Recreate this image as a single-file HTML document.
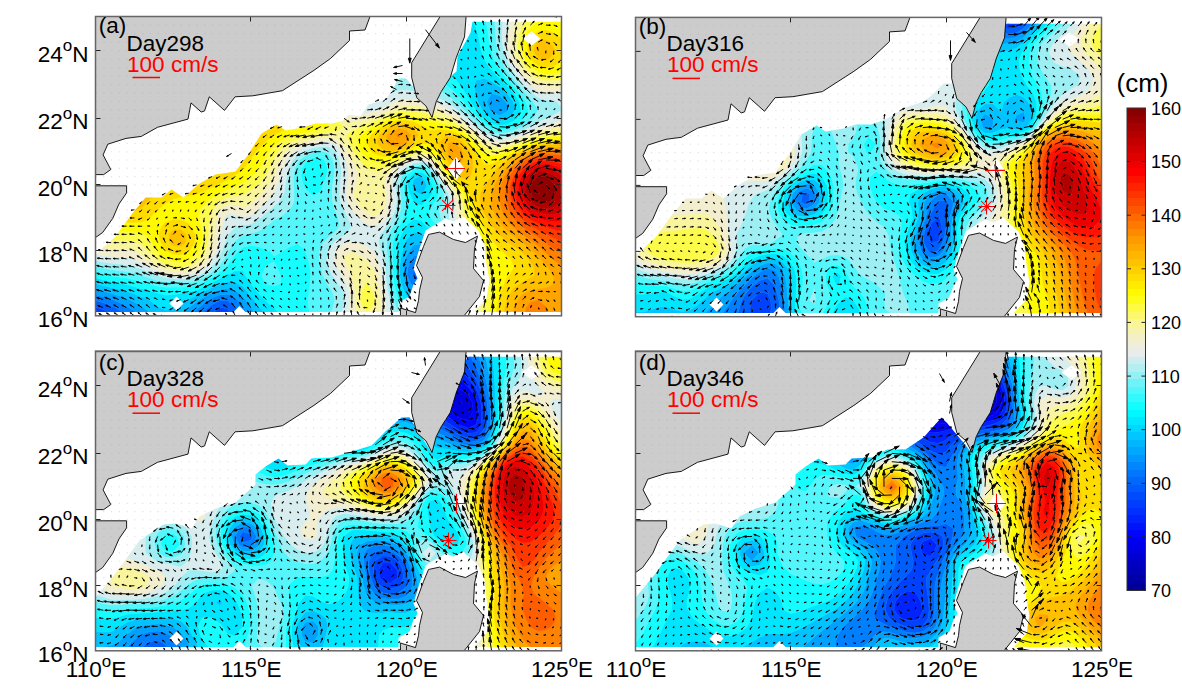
<!DOCTYPE html>
<html><head><meta charset="utf-8"><title>SSH and surface currents</title>
<style>html,body{margin:0;padding:0;background:#fff}body{width:1182px;height:690px;overflow:hidden}svg{display:block}text{font-family:"Liberation Sans",sans-serif;fill:#000}</style></head><body>
<svg width="1182" height="690" viewBox="0 0 1182 690">
<rect width="1182" height="690" fill="#fff"/>
<g transform="translate(95.5,16.5)">
<clipPath id="ma"><path d="M0.0,238.0 20.0,220.0 36.0,198.0 50.0,181.0 66.0,181.0 76.0,173.0 88.0,181.0 104.0,167.0 120.0,158.0 140.0,155.0 152.0,139.0 166.0,117.0 181.0,108.0 190.0,114.0 208.0,111.0 220.0,107.0 236.0,107.0 247.0,104.6 253.0,98.6 265.5,99.6 272.6,88.4 289.8,83.3 296.0,75.2 303.0,62.0 310.0,62.0 318.0,70.0 336.0,101.0 338.0,85.0 343.0,75.0 352.0,62.0 361.0,55.0 362.0,39.7 375.0,16.3 377.0,5.0 466.0,5.0 466.0,295.6 0.0,295.6Z"/></clipPath>
<clipPath id="fa"><rect x="0" y="0" width="466" height="299.3"/></clipPath>
<rect x="0" y="0" width="466" height="299.3" fill="#fff"/>
<g clip-path="url(#ma)" stroke-width=".6">
<path fill="#0023fe" stroke="#0023fe" d="M3 299.3l-3 0l0-1z"/>
<path fill="#0041fe" stroke="#0041fe" d="M2.7 291.2l5.1 1.7l7.7 4l4 2.4l-4 0l-7.7 0l-4.8 0l-3-1l0-7.1l0-0.7zM124.3 291l2.7 0.2l5 1l5 7.1l-5 0l-7.7 0l-7.8 0l-1.9 0l1.9-1.9l7.3-6.2z"/>
<path fill="#005ffc" stroke="#005ffc" d="M326.2 248.9l1.9 1.7l2.3 8.1l-4.2 5.2l-7.8-2.4l-1.3-2.8l1.3-6.6l2.3-1.5zM7.8 286.2l7.7 3l4.2 2l3.6 2.1l7.8 5l1.4 1l-1.4 0l-7.8 0l-3.8 0l-4-2.4l-7.7-4l-5.1-1.7l-2.7-0.7l0-6.4zM116.5 288l7.8-4l7.7 0.1l7.8 5.6l1.3 1.5l4.7 8.1l-6 0l-2.8 0l-5-7.1l-5-1l-2.7-0.2l-0.5 0.2l-7.3 6.2l-1.9 1.9l-5.9 0l-4.7 0l4.7-4.6l3.5-3.5z"/>
<path fill="#0080fe" stroke="#0080fe" d="M318.4 239.6l7.8-2.3l7.8 4.6l0.4 0.5l4.2 8.2l1.1 8.1l-2.3 8.2l-3.4 4.4l-7.8 3l-7.8-2.9l-3.5-4.5l-3.6-8.2l1.2-8.1l4.1-8.2zM320.7 250.6l-2.3 1.5l-1.3 6.6l1.3 2.8l7.8 2.4l4.2-5.2l-2.3-8.1l-1.9-1.7zM7.8 280.2l7.7 2.4l1.4 0.5l6.4 2.7l7.8 3.8l2.8 1.6l4.9 3.3l6.5 4.8l-6.5 0l-6.3 0l-1.4-1l-7.8-5l-3.6-2.1l-4.2-2l-7.7-3l-7.8-2.1l0-1l0-4.9zM116.5 281.5l7.8-3.2l7.7-0.4l7.8 3.2l2.2 2l5.6 6.7l0.9 1.4l4.9 8.1l-5.8 0l-1.8 0l-4.7-8.1l-1.3-1.5l-7.8-5.6l-7.7-0.1l-7.8 4l-4.3 3.2l-3.5 3.5l-4.7 4.6l-3 0l-7.1 0l7.1-6.2l1.9-1.9l5.8-4.5l4.9-3.6z"/>
<path fill="#00a1ff" stroke="#00a1ff" d="M396.1 76.8l7.8 2.2l6.7 6l1 2.5l1.3 5.9l-1.3 1.8l-7.7 4l-7.8-3.9l-2-1.9l-2.9-8.4zM318.4 228.2l7.8-1l7.8 4.3l2.5 2.7l5.2 6.8l0.8 1.4l2.8 8.2l1 8.1l-1.2 8.2l-3.4 7.3l-0.5 0.8l-7.2 5.9l-7.8 1.2l-7.8-2.9l-3.9-4.2l-3.8-5l-1.3-3.1l-1.8-8.2l0.4-8.1l1.8-8.2l0.9-3l3.1-5.2zM316.6 242.4l-4.1 8.2l-1.2 8.1l3.6 8.2l3.5 4.5l7.8 2.9l7.8-3l3.4-4.4l2.3-8.2l-1.1-8.1l-4.2-8.2l-0.4-0.5l-7.8-4.6l-7.8 2.3zM7.8 274.5l1.8 0.5l5.9 1.7l7.8 2.4l7.8 2.8l3 1.2l4.7 2.4l7.8 4.6l1.6 1.1l6.2 4.6l4.8 3.5l-4.8 0l-7.8 0l-1.3 0l-6.5-4.8l-4.9-3.3l-2.8-1.6l-7.8-3.8l-6.4-2.7l-1.4-0.5l-7.7-2.4l-7.8-2l0-3.2l0-2.6zM124.3 273l7.7-1.2l7.8 1.8l1.9 1.4l5.9 5l2.5 3.1l5.2 7.7l0.4 0.4l5.8 8.1l-6.2 0l-1.9 0l-4.9-8.1l-0.9-1.4l-5.6-6.7l-2.2-2l-7.8-3.2l-7.7 0.4l-7.8 3.2l-2.9 1.6l-4.9 3.6l-5.8 4.5l-1.9 1.9l-7.1 6.2l-0.7 0l-7.8 0l-4.2 0l4.2-2.7l7.3-5.4l0.5-0.3l7.8-5.4l3.1-2.4l4.6-2.7l7.8-4.4l2.6-1z"/>
<path fill="#00c3ff" stroke="#00c3ff" d="M380.6 63.8l7.7-2l7.8 3.2l4.4 3.1l3.4 1.9l7.7 6.5l0.1 0.1l6.1 8.4l1.6 6.8l0.4 1.6l-0.4 0.7l-5 7.7l-2.8 1.6l-7.7 1.4l-7.8-2.4l-1-0.6l-6.8-6.7l-1.5-1.7l-4.6-8.4l-1.6-5.3l-1.2-3.1l-0.5-8.5zM391.2 85l2.9 8.4l2 1.9l7.8 3.9l7.7-4l1.3-1.8l-1.3-5.9l-1-2.5l-6.7-6l-7.8-2.2zM326.2 159.8l0.5 0.3l4.8 8.3l-3.5 8.3l-1.8 1.4l-3.4-1.4l-4.4-2.6l-1.9-5.7l1.9-5.8l5.3-2.5zM318.4 215.6l7.8 1.1l1.5 1.2l6.3 3.9l4 4.3l3.7 4l2.8 4.1l4.2 8.2l0.8 2.3l1.7 5.9l0.8 8.1l-0.7 8.2l-1.8 6.3l-0.7 1.8l-5.5 8.1l-1.6 1.7l-7.7 4.4l-7.8 0.6l-7.8-3l-3.9-3.7l-3.8-4.1l-2.1-4l-3.1-8.1l-1.5-8.2l0.2-8.1l1-8.2l1.8-8.2l2.6-8.1l1.1-2.8l4.9-5.4zM313.8 234.2l-3.1 5.2l-0.9 3l-1.8 8.2l-0.4 8.1l1.8 8.2l1.3 3.1l3.8 5l3.9 4.2l7.8 2.9l7.8-1.2l7.2-5.9l0.5-0.8l3.4-7.3l1.2-8.2l-1-8.1l-2.8-8.2l-0.8-1.4l-5.2-6.8l-2.5-2.7l-7.8-4.3l-7.8 1zM0.4 266.9l7.4 2.1l7.7 1.9l7.8 1.8l7.8 2l0.8 0.3l6.9 2.3l7.8 3.1l6.1 2.7l1.7 1l7.7 5.5l2.8 1.6l5 2l7.2-2l0.6-0.2l7.7-4.6l7-3.3l0.8-0.3l7.8-3.7l7.3-4.1l0.4-0.2l7.8-3.9l7.8-3.3l3.1-0.7l4.6-1.5l7.8 0.1l2.4 1.4l5.4 3.2l4.2 4.9l3.5 4.4l3 3.7l4.8 6.7l1.3 1.4l6.5 7.2l0.9 0.9l-0.9 0l-7.8 0l-1.6 0l-5.8-8.1l-0.4-0.4l-5.2-7.7l-2.5-3.1l-5.9-5l-1.9-1.4l-7.8-1.8l-7.7 1.2l-5.2 2l-2.6 1l-7.8 4.4l-4.6 2.7l-3.1 2.4l-7.8 5.4l-0.5 0.3l-7.3 5.4l-4.2 2.7l-3.5 0l-7.8 0l-7.8 0l-2.9 0l-4.8-3.5l-6.2-4.6l-1.6-1.1l-7.8-4.6l-4.7-2.4l-3-1.2l-7.8-2.8l-7.8-2.4l-5.9-1.7l-1.8-0.5l-7.8-2.1l0-5.5l0-0.2z"/>
<path fill="#00e6ff" stroke="#00e6ff" d="M310.7 0l7.7 0l7.8 0l7.8 0l7.7 0l7.8 0l7.8 0l7.7 0l7.8 0l3.3 0l3.4 8.6l1.1 2.5l1.7 6l1.9 8.6l1.7 8.5l2.4 6.2l0.7 2.3l5 8.5l2.1 1.9l5.5 6.6l2.3 1.8l6.5 6.6l1.2 1.1l6.6 7.4l1.2 1.6l4.5 6.8l2.1 8.4l-3.7 8.4l-2.9 2.2l-7.8 4.2l-7.7 1l-7.8-2.2l-7.8-5l-0.2-0.2l-7.5-8.3l-0.1-0.1l-5.8-8.4l-1.9-3.6l-3.3-4.8l-4.5-7.4l-0.9-1.1l-6.8-8.4l0-0.1l-7.8-7l-2.1-1.4l-5.7-4.2l-7.3-4.3l-0.4-0.3l-7.8-5.2l-5.1-3l-2.7-2.3l-6.9-6.2l-0.8-1.2l-4.2-7.4l-2.1-8.5l-0.1-8.6zM378.9 68.1l0.5 8.5l1.2 3.1l1.6 5.3l4.6 8.4l1.5 1.7l6.8 6.7l1 0.6l7.8 2.4l7.7-1.4l2.8-1.6l5-7.7l0.4-0.7l-0.4-1.6l-1.6-6.8l-6.1-8.4l-0.1-0.1l-7.7-6.5l-3.4-1.9l-4.4-3.1l-7.8-3.2l-7.7 2zM217.5 151.1l1.7 0.8l-1.7 2.5l-0.9-2.5zM318.4 156.8l7.8-1.4l6.2 4.7l1.6 2.4l2.8 5.9l0.4 8.3l-3.2 5.1l-4.2 3.2l-3.6 4l-7.8-2.2l-0.6-1.8l-4-8.3l-2-8.3l2.7-8.3zM323.7 160.1l-5.3 2.5l-1.9 5.8l1.9 5.7l4.4 2.6l3.4 1.4l1.8-1.4l3.5-8.3l-4.8-8.3l-0.5-0.3zM310.7 208.7l7.7-6.2l7.8 1.8l4.9 5.4l2.9 2.1l5.5 6.1l2.2 2.3l4.3 5.9l3.5 5.5l1.4 2.6l3.4 8.2l2.2 8.2l0.8 6.6l0.1 1.5l-0.1 3.8l-0.2 4.4l-1.9 8.1l-3.6 8.1l-2.1 3.4l-4.4 4.7l-3.4 3l-7.7 3.4l-7.8 0.2l-7.8-2.9l-4.1-3.7l-3.6-3.4l-2.9-4.7l-3.8-8.1l-1.1-3.5l-1.2-4.6l-1-8.2l0-8.1l0.3-8.2l0.5-8.2l1.4-8.1l0-0.1l2.9-8.1l4.3-8.2zM315.6 217.9l-4.9 5.4l-1.1 2.8l-2.6 8.1l-1.8 8.2l-1 8.2l-0.2 8.1l1.5 8.2l3.1 8.1l2.1 4l3.8 4.1l3.9 3.7l7.8 3l7.8-0.6l7.7-4.4l1.6-1.7l5.5-8.1l0.7-1.8l1.8-6.3l0.7-8.2l-0.8-8.1l-1.7-5.9l-0.8-2.3l-4.2-8.2l-2.8-4.1l-3.7-4l-4-4.3l-6.3-3.9l-1.5-1.2l-7.8-1.1zM132 258.1l7.8-3.8l7.8-0.1l2.3 4.5l5.4 8.2l6.3 8.1l1.5 1.9l6.1 6.2l1.7 1.7l7.3 6.4l0.4 0.5l7.8 6.8l0.9 0.8l-0.9 0l-7.8 0l-6.8 0l-0.9-0.9l-6.5-7.2l-1.3-1.4l-4.8-6.7l-3-3.7l-3.5-4.4l-4.2-4.9l-5.4-3.2l-2.4-1.4l-7.8-0.1l-4.6 1.5l-3.1 0.7l-7.8 3.3l-7.8 3.9l-0.4 0.2l-7.3 4.1l-7.8 3.7l-0.8 0.3l-7 3.3l-7.7 4.6l-0.6 0.2l-7.2 2l-5-2l-2.8-1.6l-7.7-5.5l-1.7-1l-6.1-2.7l-7.8-3.1l-6.9-2.3l-0.8-0.3l-7.8-2l-7.8-1.8l-7.7-1.9l-7.4-2.1l-0.4-0.2l0-5.8l7.8 2.4l7.7 1.8l7.8 1.4l1.6 0.4l6.2 1.2l7.7 1.9l7.8 2.2l7.8 2.1l3.2 0.7l4.5 1.4l7.8 2.1l7.8-0.4l7.7-1l7.8-1.3l2-0.8l5.8-1.6l7.7-3.5l6.1-3l1.7-0.9l7.8-4.1l6.8-3.2z"/>
<path fill="#15fdfe" stroke="#15fdfe" d="M287.4 0l7.7 0l7.8 0l1.4 0l0.1 8.6l2.1 8.5l4.2 7.4l0.8 1.2l6.9 6.2l2.7 2.3l5.1 3l7.8 5.2l0.4 0.3l7.3 4.3l5.7 4.2l2.1 1.4l7.8 7l0 0.1l6.8 8.4l0.9 1.1l4.5 7.4l3.3 4.8l1.9 3.6l5.8 8.4l0.1 0.1l7.5 8.3l0.2 0.2l7.8 5l7.8 2.2l7.7-1l7.8-4.2l2.9-2.2l3.7-8.4l-2.1-8.4l-4.5-6.8l-1.2-1.6l-6.6-7.4l-1.2-1.1l-6.5-6.6l-2.3-1.8l-5.5-6.6l-2.1-1.9l-5-8.5l-0.7-2.3l-2.4-6.2l-1.7-8.5l-1.9-8.6l-1.7-6l-1.1-2.5l-3.4-8.6l4.5 0l7.7 0l1.6 0l1.4 8.6l1.4 8.5l1.4 8.6l1.7 8.5l0.3 0.7l2.3 7.8l4.8 8.5l0.7 0.8l5.5 7.7l2.2 2.3l5.2 6.1l2.6 2.9l4.6 5.6l3.2 4.6l3 3.8l2.9 8.4l-3.4 8.4l-2.5 2l-7.8 5.8l-1.1 0.6l-6.7 2.3l-7.7 0.8l-7.8-1.9l-2.3-1.2l-5.5-3.5l-5.9-4.9l-1.8-2l-6.1-6.4l-1.7-2.4l-5.5-6l-2.3-3.1l-5.5-5.3l-2.2-2.6l-7.5-5.9l-0.3-0.3l-7.8-5.2l-6.1-2.9l-1.6-1l-7.8-3.5l-7.8-2.8l-4.2-1.2l-3.5-1.3l-7.8-2.4l-7.8-2.4l-4.7-2.4l-3-2.8l-3.6-5.7l-2.7-8.5l-1.2-8.6l-0.3-8.5l0.4-8.6zM217.5 141.3l7.7 0l3.8 2.2l3.3 8.4l-1.6 8.2l-3.2 8.3l-2.3 6.5l-3.2 1.8l-4.5 3l-2.7-3l-5.1-4l-2-4.3l-2.3-8.3l0.8-8.2l3.5-5.4l3-3zM216.6 151.9l0.9 2.5l1.7-2.5l-1.7-0.8zM326.2 151.3l1.2 0.6l6.6 4.8l2.3 3.4l4.7 8.3l0.7 3l1.5 5.3l-1.5 4.9l-1.7 3.4l-5.8 8.2l1.4 8.2l6 8.3l0.1 0.1l5.7 8.1l2.1 2.9l3 5.3l4.1 8.1l0.7 1.7l2.3 6.5l2 8.2l1 8.1l-0.2 8.2l-1.3 8.1l-2.6 8.1l-1.2 2.8l-3.1 5.3l-4.7 6.3l-2.1 1.8l-5.7 0l-7.7 0l-7.8 0l-7.8 0l-5.4 0l-2.3-2l-4-6.1l-3.8-7l-0.4-1.1l-2.5-8.1l-1.7-8.1l-0.9-8.2l-0.1-8.1l-0.3-8.2l-0.4-8.2l0.6-8.1l2.1-8.2l3.6-7.7l0.3-0.5l5.1-8.3l2.4-7.3l0.4-0.9l-0.4-4.9l-0.2-3.3l-1.6-8.3l-1.1-8.3l2.1-8.3l0.8-0.8l7.7-6.6l4.1-0.8zM314.5 160.1l-2.7 8.3l2 8.3l4 8.3l0.6 1.8l7.8 2.2l3.6-4l4.2-3.2l3.2-5.1l-0.4-8.3l-2.8-5.9l-1.6-2.4l-6.2-4.7l-7.8 1.4zM310.1 209.7l-4.3 8.2l-2.9 8.1l0 0.1l-1.4 8.1l-0.5 8.2l-0.3 8.2l0 8.1l1 8.2l1.2 4.6l1.1 3.5l3.8 8.1l2.9 4.7l3.6 3.4l4.1 3.7l7.8 2.9l7.8-0.2l7.7-3.4l3.4-3l4.4-4.7l2.1-3.4l3.6-8.1l1.9-8.1l0.2-4.4l0.1-3.8l-0.1-1.5l-0.8-6.6l-2.2-8.2l-3.4-8.2l-1.4-2.6l-3.5-5.5l-4.3-5.9l-2.2-2.3l-5.5-6.1l-2.9-2.1l-4.9-5.4l-7.8-1.8l-7.7 6.2zM147.6 230.6l7.7-1.7l7.8 1.2l7.8 3.2l3 0.9l4.7 5.4l7.8-4.5l0.9-0.9l6.9-3.9l7.7-3.1l7.8 5.9l0.3 1.1l2.6 8.2l2.2 8.2l0.4 8.1l-0.5 8.2l-1.1 8.1l-1.1 8.1l0.7 8.1l1.9 8.1l-5.4 0l-7.8 0l-7.7 0l-6.9 0l-0.9-0.8l-7.8-6.8l-0.4-0.5l-7.3-6.4l-1.7-1.7l-6.1-6.2l-1.5-1.9l-6.3-8.1l-5.4-8.2l-2.3-4.5l-7.8 0.1l-7.8 3.8l-0.9 0.6l-6.8 3.2l-7.8 4.1l-1.7 0.9l-6.1 3l-7.7 3.5l-5.8 1.6l-2 0.8l-7.8 1.3l-7.7 1l-7.8 0.4l-7.8-2.1l-4.5-1.4l-3.2-0.7l-7.8-2.1l-7.8-2.2l-7.7-1.9l-6.2-1.2l-1.6-0.4l-7.8-1.4l-7.7-1.8l-7.8-2.4l0-2.2l0-3.6l7.8 2.3l5.7 1.3l2 0.5l7.8 1.2l7.8 1.2l7.7 1.6l7.8 2l5.9 1.7l1.9 0.5l7.7 2.1l7.8 1.2l7.8-0.1l7.7 0l7.8-0.2l7.8-1.9l3.6-1.6l4.1-1.7l7.8-4.3l3.8-2.2l4-3.1l6.3-5l1.4-2l5-6.2l2.8-4.6l3.4-3.6zM170.3 250.6l-4.1 8.1l4.1 8.2l0.6 0.4l7.7 2l6-2.4l0.2-8.2l-3.8-8.1l-2.4-5.2l-7.7 3.9z"/>
<path fill="#54f6fb" stroke="#54f6fb" d="M264.1 0l7.7 0l7.8 0l0.4 0l-0.4 8.6l0.3 8.5l1.2 8.6l2.7 8.5l3.6 5.7l3 2.8l4.7 2.4l7.8 2.4l7.8 2.4l3.5 1.3l4.2 1.2l7.8 2.8l7.8 3.5l1.6 1l6.1 2.9l7.8 5.2l0.3 0.3l7.5 5.9l2.2 2.6l5.5 5.3l2.3 3.1l5.5 6l1.7 2.4l6.1 6.4l1.8 2l5.9 4.9l5.5 3.5l2.3 1.2l7.8 1.9l7.7-0.8l6.7-2.3l1.1-0.6l7.8-5.8l2.5-2l3.4-8.4l-2.9-8.4l-3-3.8l-3.2-4.6l-4.6-5.6l-2.6-2.9l-5.2-6.1l-2.2-2.3l-5.5-7.7l-0.7-0.8l-4.8-8.5l-2.3-7.8l-0.3-0.7l-1.7-8.5l-1.4-8.6l-1.4-8.5l-1.4-8.6l6.2 0l3.5 0l0.1 8.6l0.5 8.5l0.8 8.6l1.5 8.5l1.4 3.7l1.4 4.8l4.2 8.5l2.1 2.9l3.8 5.6l4 4.6l3.2 3.8l4.6 5.5l2.7 3l5 6.2l2.9 2.2l4.9 8.4l-4.2 8.4l-3.6 2.2l-7.7 6l-0.3 0.2l-7.5 3.6l-7.8 2.6l-7.7 0.8l-7.8-1.7l-7.8-4.2l-1.5-1.1l-6.2-5.2l-3.7-3.2l-4.1-4.3l-4.5-4.1l-3.3-3.6l-5.8-4.8l-1.9-2l-7.8-5.5l-1.9-0.9l-5.9-3.6l-7.7-3.3l-5-1.6l-2.8-1.1l-7.8-2.1l-7.7-1.5l-7.8-0.5l-7.8 1.1l-7.7 3l-2.8 1.1l-5 2.5l-7.8-0.1l-2-2.4l-3.4-8.4l-1.8-8.5l-0.5-4.2l-0.4-4.3l-0.7-8.5l-0.5-8.5l-0.2-8.6l0-8.5l0.2-8.6zM225.2 134.6l4 0.6l3.8 1.4l4.7 6.9l1.7 8.4l-0.8 8.2l-1.5 8.3l-0.4 8.3l0.5 8.3l2.2 8.2l1.4 2.8l2.1 5.4l1.5 8.3l-3.6 4.9l-3.5 3.3l-4.3 3.1l-5.2 5.1l-2.6 5.8l-0.9 2.3l-0.3 8.2l1.2 7.1l0.2 1.1l2.3 8.1l3.9 8.2l1.4 2.3l3.8 5.8l2.8 8.1l-2.2 8.1l-2.3 8.1l-2.1 0l-7.8 0l-7.7 0l-2.4 0l-1.9-8.1l-0.7-8.1l1.1-8.1l1.1-8.1l0.5-8.2l-0.4-8.1l-2.2-8.2l-2.6-8.2l-0.3-1.1l-7.8-5.9l-7.7 3.1l-6.9 3.9l-0.9 0.9l-7.8 4.5l-4.7-5.4l-3-0.9l-7.8-3.2l-7.8-1.2l-7.7 1.7l-4.4 3.6l-3.4 3.6l-2.8 4.6l-5 6.2l-1.4 2l-6.3 5l-4 3.1l-3.8 2.2l-7.8 4.3l-4.1 1.7l-3.6 1.6l-7.8 1.9l-7.8 0.2l-7.7 0l-7.8 0.1l-7.8-1.2l-7.7-2.1l-1.9-0.5l-5.9-1.7l-7.8-2l-7.7-1.6l-7.8-1.2l-7.8-1.2l-2-0.5l-5.7-1.3l-7.8-2.3l0-4.5l0-1.3l4.4 1.3l3.4 0.9l7.7 1.5l7.8 1l7.8 1l7.7 1.6l7.7 2.1l0.1 0.1l7.8 2.8l7.7 2.4l7.8 1.3l7.8 0.2l7.7 0.2l7.8 0l7.8-1.7l7.7-3.4l3.3-1.9l4.5-3.1l6-5l1.8-2.3l4.5-5.9l3.2-6.4l1.1-1.8l5.1-8.1l1.6-2.3l7.8-4.9l3.3-1l4.4-1.2l7.8-2.3l7.8-4.6l0.1-0.1l7.6-6.3l3.1-2l4.7-2.5l7.7-5.7l0.1 0l4.3-8.2l0-8.3l-0.7-8.3l-0.1-8.3l1.5-8.2l2.7-5.1l2.1-3.3l5.7-4.3l7.8-3.5l3.1-0.5zM212.7 143.5l-3 3l-3.5 5.4l-0.8 8.2l2.3 8.3l2 4.3l5.1 4l2.7 3l4.5-3l3.2-1.8l2.3-6.5l3.2-8.3l1.6-8.2l-3.3-8.4l-3.8-2.2l-7.7 0zM318.4 149.5l7.8-1.2l7.5 3.6l0.3 0.1l5.5 8.1l2.2 3.8l2.7 4.5l4 8.3l0.8 8.3l-5.4 8.2l1.6 8.2l4.1 7.6l0.3 0.7l4.4 8.2l3.1 5.7l1.2 2.5l3.5 8.1l2.8 8.2l0.2 1l1.7 7.2l1 8.1l0.1 8.2l-1 8.1l-1.8 7.2l-0.2 0.9l-3.2 8.1l-4.3 8l-0.1 0.1l-7.7 0l-2.1 0l2.1-1.8l4.7-6.3l3.1-5.3l1.2-2.8l2.6-8.1l1.3-8.1l0.2-8.2l-1-8.1l-2-8.2l-2.3-6.5l-0.7-1.7l-4.1-8.1l-3-5.3l-2.1-2.9l-5.7-8.1l-0.1-0.1l-6-8.3l-1.4-8.2l5.8-8.2l1.7-3.4l1.5-4.9l-1.5-5.3l-0.7-3l-4.7-8.3l-2.3-3.4l-6.6-4.8l-1.2-0.6l-3.7 0.6l-4.1 0.8l-7.7 6.6l-0.8 0.8l-2.1 8.3l1.1 8.3l1.6 8.3l0.2 3.3l0.4 4.9l-0.4 0.9l-2.4 7.3l-5.1 8.3l-0.3 0.5l-3.6 7.7l-2.1 8.2l-0.6 8.1l0.4 8.2l0.3 8.2l0.1 8.1l0.9 8.2l1.7 8.1l2.5 8.1l0.4 1.1l3.8 7l4 6.1l2.3 2l-2.3 0l-6.3 0l-1.5-2.5l-2.2-5.6l-2.6-8.1l-1.9-8.1l-1.1-6.2l-0.3-1.9l-0.8-8.2l-0.3-8.1l-1.1-8.2l-1.3-8.2l-0.4-8.1l2-8.2l2.2-3.7l2.2-4.5l4.5-8.3l1.1-2.7l2.2-5.5l0.7-8.2l-1-8.3l-0.7-8.3l1.9-8.3l4.7-5.5l3.2-2.7zM170.9 249.3l7.7-3.9l2.4 5.2l3.8 8.1l-0.2 8.2l-6 2.4l-7.7-2l-0.6-0.4l-4.1-8.2l4.1-8.1z"/>
<path fill="#9eeff3" stroke="#9eeff3" d="M248.5 0l7.8 0l6.2 0l-0.2 8.6l0 8.5l0.2 8.6l0.5 8.5l0.7 8.5l0.4 4.3l0.5 4.2l1.8 8.5l3.4 8.4l2 2.4l7.8 0.1l5-2.5l2.8-1.1l7.7-3l7.8-1.1l7.8 0.5l7.7 1.5l7.8 2.1l2.8 1.1l5 1.6l7.7 3.3l5.9 3.6l1.9 0.9l7.8 5.5l1.9 2l5.8 4.8l3.3 3.6l4.5 4.1l4.1 4.3l3.7 3.2l6.2 5.2l1.5 1.1l7.8 4.2l7.8 1.7l7.7-0.8l7.8-2.6l7.5-3.6l0.3-0.2l7.7-6l3.6-2.2l4.2-8.4l-4.9-8.4l-2.9-2.2l-5-6.2l-2.7-3l-4.6-5.5l-3.2-3.8l-4-4.6l-3.8-5.6l-2.1-2.9l-4.2-8.5l-1.4-4.8l-1.4-3.7l-1.5-8.5l-0.8-8.6l-0.5-8.5l-0.1-8.6l4.3 0l4.1 0l-0.9 8.6l-0.5 8.5l0.3 8.6l1.3 8.5l2.7 8.5l0.7 1.4l3.4 7.1l4.4 6.3l1.6 2.2l6.2 7.3l1 1.1l6.7 7.2l1.9 1.3l5.9 4.5l7.8 2.3l7.7 0.7l3.4 0.9l4.4 6.3l0 2.1l0 0.5l-7.8 4.8l-5.1 3.1l-2.6 0.8l-7.8 3.2l-7.1 4.4l-0.7 0.2l-7.7 3.8l-7.8 3.6l-2.1 0.7l-5.7 1.8l-7.7 0.8l-7.8-1.5l-2.1-1.1l-5.7-2.9l-7.2-5.4l-0.5-0.5l-7.8-6.8l-1.5-1.1l-6.3-5.8l-3.6-2.6l-4.1-3.5l-7.8-4.8l-0.3-0.1l-7.5-4l-7.7-2.8l-6.9-1.6l-0.9-0.3l-7.8-1.5l-7.7-0.9l-7.8 0.1l-6.8 2.6l-1 0.4l-7.7 5.9l-3 2.1l-4.8 2.2l-7.8 1.6l-7.7-0.5l-6-3.3l-1.8-2.8l-1.9-5.6l-1.5-8.5l-1.1-8.4l-0.9-8.5l-0.7-8.5l-0.7-8.5l-0.7-8.5l-0.3-5.7l-0.1-2.9l-0.3-8.5l-0.1-8.6zM209.7 133.9l7.8-2.6l7.7-1.4l7.8 0l7.4 5.3l0.4 0.7l3.4 7.6l1.7 8.4l-0.2 8.2l-1.2 8.3l-0.2 8.3l1 8.3l3 8.2l0.2 0.5l4.2 7.7l3.3 8.3l-4.6 8.2l-2.9 1.2l-7.7 5.2l-2.2 1.8l-5.6 8l-0.1 0.1l-1.2 8.2l1.3 6.2l0.4 2l3.7 8.1l3.7 5.4l1.7 2.8l5.5 8.1l0.5 1.9l1 6.2l-1 5.3l-0.8 2.8l-1.7 8.1l-5.2 0l-5.7 0l2.3-8.1l2.2-8.1l-2.8-8.1l-3.8-5.8l-1.4-2.3l-3.9-8.2l-2.3-8.1l-0.2-1.1l-1.2-7.1l0.3-8.2l0.9-2.3l2.6-5.8l5.2-5.1l4.3-3.1l3.5-3.3l3.6-4.9l-1.5-8.3l-2.1-5.4l-1.4-2.8l-2.2-8.2l-0.5-8.3l0.4-8.3l1.5-8.3l0.8-8.2l-1.7-8.4l-4.7-6.9l-3.8-1.4l-4-0.6l-4.6 0.6l-3.1 0.5l-7.8 3.5l-5.7 4.3l-2.1 3.3l-2.7 5.1l-1.5 8.2l0.1 8.3l0.7 8.3l0 8.3l-4.3 8.2l-0.1 0l-7.7 5.7l-4.7 2.5l-3.1 2l-7.6 6.3l-0.1 0.1l-7.8 4.6l-7.8 2.3l-4.4 1.2l-3.3 1l-7.8 4.9l-1.6 2.3l-5.1 8.1l-1.1 1.8l-3.2 6.4l-4.5 5.9l-1.8 2.3l-6 5l-4.5 3.1l-3.3 1.9l-7.7 3.4l-7.8 1.7l-7.8 0l-7.7-0.2l-7.8-0.2l-7.8-1.3l-7.7-2.4l-7.8-2.8l-0.1-0.1l-7.7-2.1l-7.7-1.6l-7.8-1l-7.8-1l-7.7-1.5l-3.4-0.9l-4.4-1.3l0-5.6l7.8 1.9l7.7 1l7.8 0.7l7.8 1l7.7 1.7l1.4 0.6l6.4 2.1l7.8 3.4l6.7 2.6l1 0.4l7.8 2.1l7.8 0.9l7.7 0.2l7.8-0.5l7.8-2.1l2.2-1l5.5-2.8l7.1-5.3l0.7-0.8l5.8-7.4l2-4.2l2.1-4l3.2-8.1l2.4-6.8l1-1.4l6.8-7.9l1.6-0.3l6.2-0.9l7.7-1.5l7.8-4.2l1.9-1.7l5.9-5.4l3.4-2.8l4.3-4l4.7-4.2l3.1-4.6l1.8-3.7l1.7-8.3l1.1-8.3l2-8.2l1.2-2.6l2.9-5.8l4.8-4.7l5.1-3.6zM310.7 150.5l7.7-4l7.8-1.2l7.8 3.3l2.9 3.3l4.8 7l0.8 1.2l5.1 8.3l1.9 3.6l3.1 4.7l2.4 8.3l-1.4 8.2l0.2 8.2l2.9 8.3l0.6 1.1l3 7.1l3.8 8.2l0.9 2.2l2.4 5.9l2.6 8.2l1.8 8.2l1 7.5l0.1 0.6l0.2 8.2l-0.3 3.2l-0.4 4.9l-1.6 8.1l-2.5 8.1l-3.3 8l0 0.1l-7.7 0l-0.1 0l0.1-0.1l4.3-8l3.2-8.1l0.2-0.9l1.8-7.2l1-8.1l-0.1-8.2l-1-8.1l-1.7-7.2l-0.2-1l-2.8-8.2l-3.5-8.1l-1.2-2.5l-3.1-5.7l-4.4-8.2l-0.3-0.7l-4.1-7.6l-1.6-8.2l5.4-8.2l-0.8-8.3l-4-8.3l-2.7-4.5l-2.2-3.8l-5.5-8.1l-0.3-0.1l-7.5-3.6l-7.8 1.2l-4.5 2.4l-3.2 2.7l-4.7 5.5l-1.9 8.3l0.7 8.3l1 8.3l-0.7 8.2l-2.2 5.5l-1.1 2.7l-4.5 8.3l-2.2 4.5l-2.2 3.7l-2 8.2l0.4 8.1l1.3 8.2l1.1 8.2l0.3 8.1l0.8 8.2l0.3 1.9l1.1 6.2l1.9 8.1l2.6 8.1l2.2 5.6l1.5 2.5l-1.5 0l-5.4 0l-2-8.1l-0.4-1.5l-1.3-6.6l-1.5-8.1l-1.3-8.1l-0.8-8.2l-0.6-8.1l-1.6-8.2l-0.6-2.4l-2.3-5.8l-2.3-8.1l1.4-8.2l3.2-2.8l3.2-5.4l4.5-6.3l1.1-2l3.5-8.2l1.4-8.2l-0.3-8.3l-0.8-8.3l1.8-8.3l1.1-1.3l5.7-6.9z"/>
<path fill="#d9edee" stroke="#d9edee" d="M240.8 0l7.2 0l0.1 8.6l0.3 8.5l0.1 2.9l0.3 5.7l0.7 8.5l0.7 8.5l0.7 8.5l0.9 8.5l1.1 8.4l1.5 8.5l1.9 5.6l1.8 2.8l6 3.3l7.7 0.5l7.8-1.6l4.8-2.2l3-2.1l7.7-5.9l1-0.4l6.8-2.6l7.8-0.1l7.7 0.9l7.8 1.5l0.9 0.3l6.9 1.6l7.7 2.8l7.5 4l0.3 0.1l7.8 4.8l4.1 3.5l3.6 2.6l6.3 5.8l1.5 1.1l7.8 6.8l0.5 0.5l7.2 5.4l5.7 2.9l2.1 1.1l7.8 1.5l7.7-0.8l5.7-1.8l2.1-0.7l7.8-3.6l7.7-3.8l0.7-0.2l7.1-4.4l7.8-3.2l2.6-0.8l5.1-3.1l7.8-4.8l0 7.9l0 2.2l-7.8 2.6l-7.7 2.4l-2.6 1.2l-5.2 1.4l-7.8 3.1l-7.7 3.7l-0.3 0.1l-7.5 3l-7.8 2.5l-7.7 1l-7.8-1.1l-7.8-4l-1.7-1.4l-6-4.5l-4.7-3.8l-3.1-2.7l-7.2-5.7l-0.6-0.5l-7.7-5.5l-4.5-2.4l-3.3-2.1l-7.8-3.4l-7.7-2.4l-2.7-0.5l-5.1-1.2l-7.8-0.8l-7.7-0.1l-7.8 0.8l-2.5 1.3l-5.3 2l-7.7 5.1l-2.7 1.3l-5.1 1.5l-7.8 1.7l-7.7 1l-7.8-0.5l-5.8-3.7l-2-3.4l-1.5-5l-2-8.4l-1.7-8.5l-1.4-8.4l-1.1-7.1l-0.2-1.4l-1.2-8.5l-1.1-8.5l-1-8.5l-0.9-8.6l-0.8-8.5l-0.6-8.6zM411.6 0l4.6 0l-2.2 8.6l-1.4 8.5l-0.3 8.6l1 8.5l2.4 8.5l3.7 7.2l0.7 1.3l6.2 8.5l0.9 1l7.2 7.4l0.5 0.6l7.8 5.4l7.8 1.8l7.7 0.3l4.5 0.4l3.3 0.3l0 8.1l0 6.3l-4.4-6.3l-3.4-0.9l-7.7-0.7l-7.8-2.3l-5.9-4.5l-1.9-1.3l-6.7-7.2l-1-1.1l-6.2-7.3l-1.6-2.2l-4.4-6.3l-3.4-7.1l-0.7-1.4l-2.7-8.5l-1.3-8.5l-0.3-8.6l0.5-8.5l0.9-8.6zM225.2 125.4l7.8-0.6l6 2.1l1.8 1.1l5.6 7.2l2.1 4.7l1.8 3.6l2.5 8.4l0.4 8.2l-1.6 8.3l-0.9 8.3l1.5 8.3l4.1 8.1l0.1 0.1l6.9 8.2l0.8 0.9l7.7 5.3l7.8 1.5l7.8-4.3l2.5-3.4l4.3-8.2l0.9-2.5l1.4-5.7l0.2-8.3l-1.1-8.3l1.3-8.3l6-7.3l0.8-0.9l7-4.7l7.6-3.7l0.1 0l7.8-1.3l3.7 1.3l4.1 1.7l6 6.7l1.7 2.5l3.6 5.7l4.2 6.6l1.3 1.7l5.9 8.3l0.6 1.6l2.2 6.7l0.1 8.2l0.6 8.2l2.4 8.3l2.4 5.5l1.1 2.7l3.6 8.2l3.1 8.1l2.6 8.2l1.8 8.2l1.2 8.1l0.2 8.2l-0.5 8.1l-1.4 8.1l-2 8.1l-1.9 6.2l-0.7 1.9l-7.1 0l0-0.1l3.3-8l2.5-8.1l1.6-8.1l0.4-4.9l0.3-3.2l-0.2-8.2l-0.1-0.6l-1-7.5l-1.8-8.2l-2.6-8.2l-2.4-5.9l-0.9-2.2l-3.8-8.2l-3-7.1l-0.6-1.1l-2.9-8.3l-0.2-8.2l1.4-8.2l-2.4-8.3l-3.1-4.7l-1.9-3.6l-5.1-8.3l-0.8-1.2l-4.8-7l-2.9-3.3l-7.8-3.3l-7.8 1.2l-7.7 4l-2.1 1.4l-5.7 6.9l-1.1 1.3l-1.8 8.3l0.8 8.3l0.3 8.3l-1.4 8.2l-3.5 8.2l-1.1 2l-4.5 6.3l-3.2 5.4l-3.2 2.8l-1.4 8.2l2.3 8.1l2.3 5.8l0.6 2.4l1.6 8.2l0.6 8.1l0.8 8.2l1.3 8.1l1.5 8.1l1.3 6.6l0.4 1.5l2 8.1l-2.4 0l-4.4 0l-0.3-8.1l-0.9-8.1l-1.1-8.1l-1-6.9l-0.3-1.2l-1.2-8.2l-1.4-8.1l-3.2-8.2l-1.7-3.6l-3.9-4.6l-3.9-4.3l-7.7-3.4l-2.7-0.4l-5.1-0.8l-2.5 0.8l-5.3 1.1l-7.7 6.4l-0.5 0.6l-1.4 8.2l1.9 6.6l0.6 1.6l4.6 8.1l2.5 3.9l2.3 4.3l3.1 8.1l0.8 8.1l-0.7 8.1l0.1 8.1l-5.6 0l-2.5 0l1.7-8.1l0.8-2.8l1-5.3l-1-6.2l-0.5-1.9l-5.5-8.1l-1.7-2.8l-3.7-5.4l-3.7-8.1l-0.4-2l-1.3-6.2l1.2-8.2l0.1-0.1l5.6-8l2.2-1.8l7.7-5.2l2.9-1.2l4.6-8.2l-3.3-8.3l-4.2-7.7l-0.2-0.5l-3-8.2l-1-8.3l0.2-8.3l1.2-8.3l0.2-8.2l-1.7-8.4l-3.4-7.6l-0.4-0.7l-7.4-5.3l-7.8 0l-7.7 1.4l-7.8 2.6l-2.7 1.3l-5.1 3.6l-4.8 4.7l-2.9 5.8l-1.2 2.6l-2 8.2l-1.1 8.3l-1.7 8.3l-1.8 3.7l-3.1 4.6l-4.7 4.2l-4.3 4l-3.4 2.8l-5.9 5.4l-1.9 1.7l-7.8 4.2l-7.7 1.5l-6.2 0.9l-1.6 0.3l-6.8 7.9l-1 1.4l-2.4 6.8l-3.2 8.1l-2.1 4l-2 4.2l-5.8 7.4l-0.7 0.8l-7.1 5.3l-5.5 2.8l-2.2 1l-7.8 2.1l-7.8 0.5l-7.7-0.2l-7.8-0.9l-7.8-2.1l-1-0.4l-6.7-2.6l-7.8-3.4l-6.4-2.1l-1.4-0.6l-7.7-1.7l-7.8-1l-7.8-0.7l-7.7-1l-7.8-1.9l0-1.3l0-5.4l7.8 2l7.7 0.8l7.8 0.4l7.8 0.7l5.6 1.5l2.1 0.5l7.8 3.3l7.5 4.4l0.3 0.1l7.7 3.6l7.8 2.6l7.6 1.8l0.2 0.1l7.7 0.2l1.9-0.3l5.9-0.9l7.8-2.5l7.7-4.2l0.8-0.5l7-8.1l0-0.1l4-8.2l2.4-8.1l1.4-6.2l0.6-2l2-8.2l2-8.3l3.1-4.8l7.8 1.1l7.8 2.4l7.7-1.5l7.3-5.4l0.5-0.5l7.6-7.7l0.2-0.2l7-8.1l0.7-1.2l3.3-7.1l2.5-8.3l2-6.2l0.6-2l3.7-8.4l3.5-4.3l4.1-4l3.6-2.3l7.8-3.5l7.8-2.4l0.7-0.1z"/>
<path fill="#f2eecf" stroke="#f2eecf" d="M225.2 0l7.8 0l2 0l0.6 8.6l0.8 8.5l0.9 8.6l1 8.5l1.1 8.5l1.2 8.5l0.2 1.4l1.1 7.1l1.4 8.4l1.7 8.5l2 8.4l1.5 5l2 3.4l5.8 3.7l7.8 0.5l7.7-1l7.8-1.7l5.1-1.5l2.7-1.3l7.7-5.1l5.3-2l2.5-1.3l7.8-0.8l7.7 0.1l7.8 0.8l5.1 1.2l2.7 0.5l7.7 2.4l7.8 3.4l3.3 2.1l4.5 2.4l7.7 5.5l0.6 0.5l7.2 5.7l3.1 2.7l4.7 3.8l6 4.5l1.7 1.4l7.8 4l7.8 1.1l7.7-1l7.8-2.5l7.5-3l0.3-0.1l7.7-3.7l7.8-3.1l5.2-1.4l2.6-1.2l7.7-2.4l7.8-2.6l0 6.2l0 0.1l-7.8 1.7l-7.7 1.7l-7.8 2.2l-6.7 2.6l-1.1 0.4l-7.7 3l-7.8 3.2l-5.4 1.8l-2.4 0.8l-7.7 1.5l-7.8-0.8l-3-1.5l-4.8-2.3l-7.5-6.1l-0.2-0.2l-7.8-6.4l-2.3-1.7l-5.5-4.4l-6.6-4l-1.1-0.8l-7.8-3.9l-7.8-3l-2.5-0.7l-5.2-1.6l-7.8-1.5l-7.8-0.7l-7.7 0l-7.8 0.9l-6.4 2.9l-1.4 0.4l-7.7 3.4l-7.8 2.8l-5.7 1.8l-2.1 0.7l-7.7 2l-7.8 1l-7.8-2.5l-1-1.2l-4.9-8.4l-1.8-5.1l-1.2-3.3l-2.2-8.4l-2.1-8.5l-2.1-8.4l-0.2-1.2l-1.6-7.3l-1.8-8.5l-1.6-8.5l-1.6-8.5l-1.2-7.3l-0.2-1.3l-1.2-8.5l-1.1-8.6zM419.4 0l5.4 0l-3.9 8.6l-1.5 4.4l-1.1 4.1l-1 8.6l0.7 8.5l1.4 4.8l1.1 3.7l4.5 8.5l2.2 2.8l5.1 5.7l2.6 2.7l7.8 5.2l2 0.5l5.8 1.5l7.7 0.2l7.8-0.2l0 7l0 0.3l-3.3-0.3l-4.5-0.4l-7.7-0.3l-7.8-1.8l-7.8-5.4l-0.5-0.6l-7.2-7.4l-0.9-1l-6.2-8.5l-0.7-1.3l-3.7-7.2l-2.4-8.5l-1-8.5l0.3-8.6l1.4-8.5l2.2-8.6zM209.7 125.1l7.8-2l7.7-1.7l7.8-0.7l7.8 1.4l6.5 4.8l1.2 1.7l3.8 6.6l4 8.1l0.2 0.2l4.4 8.4l2.3 8.2l-2.3 8.3l-3.2 8.3l2.8 8.3l3.6 4.9l3.5 3.3l4.2 3.4l7.8 3.3l7.8-6.6l0-0.1l2.6-8.2l0.5-8.3l-2.1-8.3l1.3-8.3l5.4-4.9l2.7-3.3l5.1-3.3l7.8-4.7l0.8-0.4l6.9-3l7.8-1.4l7.8 2.5l2 1.9l5.7 6.5l1.3 1.9l5 8.2l1.5 2.3l4.4 6l3.4 4.6l2.9 3.7l3.1 8.3l1.1 8.2l0.6 3.9l0.7 4.3l2.7 8.3l3.5 8.2l0.9 2l2.8 6.2l3 8.1l2 7.1l0.3 1.1l2 8.2l1.3 8.1l0.4 8.2l-0.6 8.1l-1.2 8.1l-1.7 8.1l-0.5 2.2l-1.6 5.9l-6.2 0l-0.7 0l0.7-1.9l1.9-6.2l2-8.1l1.4-8.1l0.5-8.1l-0.2-8.2l-1.2-8.1l-1.8-8.2l-2.6-8.2l-3.1-8.1l-3.6-8.2l-1.1-2.7l-2.4-5.5l-2.4-8.3l-0.6-8.2l-0.1-8.2l-2.2-6.7l-0.6-1.6l-5.9-8.3l-1.3-1.7l-4.2-6.6l-3.6-5.7l-1.7-2.5l-6-6.7l-4.1-1.7l-3.7-1.3l-7.8 1.3l-0.1 0l-7.6 3.7l-7 4.7l-0.8 0.9l-6 7.3l-1.3 8.3l1.1 8.3l-0.2 8.3l-1.4 5.7l-0.9 2.5l-4.3 8.2l-2.5 3.4l-7.8 4.3l-7.8-1.5l-7.7-5.3l-0.8-0.9l-6.9-8.2l-0.1-0.1l-4.1-8.1l-1.5-8.3l0.9-8.3l1.6-8.3l-0.4-8.2l-2.5-8.4l-1.8-3.6l-2.1-4.7l-5.6-7.2l-1.8-1.1l-6-2.1l-7.8 0.6l-7 1.5l-0.7 0.1l-7.8 2.4l-7.8 3.5l-3.6 2.3l-4.1 4l-3.5 4.3l-3.7 8.4l-0.6 2l-2 6.2l-2.5 8.3l-3.3 7.1l-0.7 1.2l-7 8.1l-0.2 0.2l-7.6 7.7l-0.5 0.5l-7.3 5.4l-7.7 1.5l-7.8-2.4l-7.8-1.1l-3.1 4.8l-2 8.3l-2 8.2l-0.6 2l-1.4 6.2l-2.4 8.1l-4 8.2l0 0.1l-7 8.1l-0.8 0.5l-7.7 4.2l-7.8 2.5l-5.9 0.9l-1.9 0.3l-7.7-0.2l-0.2-0.1l-7.6-1.8l-7.8-2.6l-7.7-3.6l-0.3-0.1l-7.5-4.4l-7.8-3.3l-2.1-0.5l-5.6-1.5l-7.8-0.7l-7.8-0.4l-7.7-0.8l-7.8-2l0-2.8l0-4.9l7.8 1.9l7.7 0.8l7.8 0.3l7.8 0.4l7.1 1.5l0.6 0.2l7.8 4.1l4.4 3.9l3.4 2.1l7.7 4.7l2.6 1.4l5.2 2l7.8 2.1l7.7 0.3l7.8-1.5l7.8-2.6l0.5-0.3l7.2-5.7l2.2-2.5l4-8.2l1.6-5.7l0.7-2.4l1.4-8.2l1.1-8.2l1.4-8.3l3-8.2l0.2-0.2l7.7-5.1l7.8 0.2l7.8 2.3l7.7-2.7l2.9-2.7l4.9-4.6l3.4-3.7l4.4-5l2.1-3.3l4.4-8.3l1.2-2.7l2-5.5l3.6-8.4l2.2-3.1l4-5.2l3.8-3.1l7.7-4.3l2.3-0.9zM256.3 225.3l5.1 0.8l2.7 0.4l7.7 3.4l3.9 4.3l3.9 4.6l1.7 3.6l3.2 8.2l1.4 8.1l1.2 8.2l0.3 1.2l1 6.9l1.1 8.1l0.9 8.1l0.3 8.1l-3.3 0l-4.6 0l1.9-8.1l0-8.1l-1.2-8.1l-1.6-8.1l-1.7-8.2l-0.6-2.4l-3.2-5.7l-4.6-6.2l-3-2l-4.7-3.1l-7.8-3.5l-7.8 3.4l-0.7 3.2l0.7 2l3.7 6.2l3.3 8.1l0.8 2.3l1.8 5.9l1.4 8.1l0.1 8.1l0.4 8.1l2.2 8.1l-5.9 0l-2.2 0l-0.1-8.1l0.7-8.1l-0.8-8.1l-3.1-8.1l-2.3-4.3l-2.5-3.9l-4.6-8.1l-0.6-1.6l-1.9-6.6l1.4-8.2l0.5-0.6l7.7-6.4l5.3-1.1z"/>
<path fill="#f9f59e" stroke="#f9f59e" d="M217.5 0l5.2 0l1.1 8.6l1.2 8.5l0.2 1.3l1.2 7.3l1.6 8.5l1.6 8.5l1.8 8.5l1.6 7.3l0.2 1.2l2.1 8.4l2.1 8.5l2.2 8.4l1.2 3.3l1.8 5.1l4.9 8.4l1 1.2l7.8 2.5l7.8-1l7.7-2l2.1-0.7l5.7-1.8l7.8-2.8l7.7-3.4l1.4-0.4l6.4-2.9l7.8-0.9l7.7 0l7.8 0.7l7.8 1.5l5.2 1.6l2.5 0.7l7.8 3l7.8 3.9l1.1 0.8l6.6 4l5.5 4.4l2.3 1.7l7.8 6.4l0.2 0.2l7.5 6.1l4.8 2.3l3 1.5l7.8 0.8l7.7-1.5l2.4-0.8l5.4-1.8l7.8-3.2l7.7-3l1.1-0.4l6.7-2.6l7.8-2.2l7.7-1.7l7.8-1.7l0 4.7l-7.8 1.4l-7.7 1.6l-2 0.5l-5.8 1.3l-7.8 2.5l-7.7 3.1l-3.6 1.5l-4.2 1.7l-7.8 3l-7.7 2l-7.8-0.1l-7.8-3.6l-3.1-3l-4.6-3.7l-4.9-4.7l-2.9-2.3l-7.8-5.9l-0.2-0.1l-7.5-4.5l-7.8-3.2l-2.4-0.7l-5.4-1.8l-7.7-2l-7.8-1.7l-7.8-1l-7.7-0.2l-7.8 0.6l-7.8 2.4l-7.7 3.6l-0.2 0.1l-7.6 3l-7.8 3.1l-6.2 2.3l-1.5 0.9l-7.8 3.8l-5.2 3.6l3.4 8.4l1.8 3.6l2.2 4.7l5.4 8.3l0.2 0.3l7.7 7.6l1.4 0.5l6.4 2.7l7.8-1.7l1.2-1l6.5-2.9l7.8-4.3l2-1.2l5.8-2.7l7.7-3.2l7.8-1.5l7.8 1.8l5.9 5.6l1.8 2.1l4.2 6.3l3.6 6l1.6 2.2l6 8.3l0.2 0.3l6.4 8l1.3 3.4l2.2 4.9l1.5 8.2l2.1 8.2l2 5.3l1.4 3l3.9 8.2l2.5 5.7l1.2 2.5l3.1 8.1l2.3 8.2l1.1 4.8l1.1 3.4l1.5 8.1l0.2 8.2l-0.7 8.1l-1.3 8.1l-0.8 4l-0.7 4.1l-1.7 8.1l-5.3 0l-1.6 0l1.6-5.9l0.5-2.2l1.7-8.1l1.2-8.1l0.6-8.1l-0.4-8.2l-1.3-8.1l-2-8.2l-0.3-1.1l-2-7.1l-3-8.1l-2.8-6.2l-0.9-2l-3.5-8.2l-2.7-8.3l-0.7-4.3l-0.6-3.9l-1.1-8.2l-3.1-8.3l-2.9-3.7l-3.4-4.6l-4.4-6l-1.5-2.3l-5-8.2l-1.3-1.9l-5.7-6.5l-2-1.9l-7.8-2.5l-7.8 1.4l-6.9 3l-0.8 0.4l-7.8 4.7l-5.1 3.3l-2.7 3.3l-5.4 4.9l-1.3 8.3l2.1 8.3l-0.5 8.3l-2.6 8.2l0 0.1l-7.8 6.6l-7.8-3.3l-4.2-3.4l-3.5-3.3l-3.6-4.9l-2.8-8.3l3.2-8.3l2.3-8.3l-2.3-8.2l-4.4-8.4l-0.2-0.2l-4-8.1l-3.8-6.6l-1.2-1.7l-6.5-4.8l-7.8-1.4l-7.8 0.7l-7.7 1.7l-7.8 2l-5.5 1.8l-2.3 0.9l-7.7 4.3l-3.8 3.1l-4 5.2l-2.2 3.1l-3.6 8.4l-2 5.5l-1.2 2.7l-4.4 8.3l-2.1 3.3l-4.4 5l-3.4 3.7l-4.9 4.6l-2.9 2.7l-7.7 2.7l-7.8-2.3l-7.8-0.2l-7.7 5.1l-0.2 0.2l-3 8.2l-1.4 8.3l-1.1 8.2l-1.4 8.2l-0.7 2.4l-1.6 5.7l-4 8.2l-2.2 2.5l-7.2 5.7l-0.5 0.3l-7.8 2.6l-7.8 1.5l-7.7-0.3l-7.8-2.1l-5.2-2l-2.6-1.4l-7.7-4.7l-3.4-2.1l-4.4-3.9l-7.8-4.1l-0.6-0.2l-7.1-1.5l-7.8-0.4l-7.8-0.3l-7.7-0.8l-7.8-1.9l0-3.2l0-5.5l7.8 1.9l7.7 1l7.8 0.3l7.8 0.1l7.7 0.7l4.1 1.5l3.7 1.7l5.6 6.4l2.2 1.9l6.4 6.3l1.3 0.8l7.8 4.2l7.3 3.2l0.5 0.1l7.7 0.3l2.1-0.4l5.7-1.8l7.8-3.9l3.1-2.5l4.6-6.9l0.7-1.3l2.4-8.1l1-8.2l0.1-8.2l1-8.3l2.6-6.8l0.4-1.4l6.7-8.2l0.7-0.6l7.7-3.8l7.8-1.4l7.8-1.6l1.8-0.9l5.9-3.2l6.1-5.1l1.7-1.4l5.7-6.9l2.1-2.8l2.6-5.4l3.7-8.4l1.4-2.2l3.9-6.1l3.9-3.9l5.9-4.4l1.9-1.1l7.7-3.1l7.8-1.9l7.8-1.7l2.6-0.6l5.1-1.5l7.8-1.4l7.8-0.2l6.2-5.2l-6.2-8.1l-0.2-0.3l-4.5-8.4l-3-8.4l-0.1-0.2l-2.9-8.2l-2.7-8.5l-2.2-7.2l-0.4-1.2l-2.5-8.5l-2.4-8.5l-2.1-8.5l-0.3-1.3l-1.8-7.2l-1.9-8.6l-1.7-8.5l-1.5-8.6zM427.2 0l7.7 0l0.1 0l-0.1 0.1l-6.5 8.5l-1.2 1.8l-3 6.7l-1.9 8.6l0.3 8.5l2.5 8.5l2.1 3.7l3.3 4.8l4.4 4.9l5.2 3.6l2.6 1.7l7.8 2.1l7.7 0l7.8-0.9l0 5.5l0 1.5l-7.8 0.2l-7.7-0.2l-5.8-1.5l-2-0.5l-7.8-5.2l-2.6-2.7l-5.1-5.7l-2.2-2.8l-4.5-8.5l-1.1-3.7l-1.4-4.8l-0.7-8.5l1-8.6l1.1-4.1l1.5-4.4l3.9-8.6zM248.5 239.2l7.8-3.4l7.8 3.5l4.7 3.1l3 2l4.6 6.2l3.2 5.7l0.6 2.4l1.7 8.2l1.6 8.1l1.2 8.1l0 8.1l-1.9 8.1l-3.2 0l-7.8 0l-7.7 0l-1.9 0l-2.2-8.1l-0.4-8.1l-0.1-8.1l-1.4-8.1l-1.8-5.9l-0.8-2.3l-3.3-8.1l-3.7-6.2l-0.7-2zM270 266.9l-3.6 8.1l-1.6 8.1l3.5 8.1l3.5 3.5l4.4-3.5l3-8.1l-2.6-8.1l-3.9-8.1l-0.9-1.9z"/>
<path fill="#fcfa4b" stroke="#fcfa4b" d="M201.9 0l7.8 0l0.9 0l1.5 8.6l1.7 8.5l1.9 8.6l1.8 7.2l0.3 1.3l2.1 8.5l2.4 8.5l2.5 8.5l0.4 1.2l2.2 7.2l2.7 8.5l2.9 8.2l0.1 0.2l3 8.4l4.5 8.4l0.2 0.3l6.2 8.1l-6.2 5.2l-7.8 0.2l-7.8 1.4l-5.1 1.5l-2.6 0.6l-7.8 1.7l-7.8 1.9l-7.7 3.1l-1.9 1.1l-5.9 4.4l-3.9 3.9l-3.9 6.1l-1.4 2.2l-3.7 8.4l-2.6 5.4l-2.1 2.8l-5.7 6.9l-1.7 1.4l-6.1 5.1l-5.9 3.2l-1.8 0.9l-7.8 1.6l-7.8 1.4l-7.7 3.8l-0.7 0.6l-6.7 8.2l-0.4 1.4l-2.6 6.8l-1 8.3l-0.1 8.2l-1 8.2l-2.4 8.1l-0.7 1.3l-4.6 6.9l-3.1 2.5l-7.8 3.9l-5.7 1.8l-2.1 0.4l-7.7-0.3l-0.5-0.1l-7.3-3.2l-7.8-4.2l-1.3-0.8l-6.4-6.3l-2.2-1.9l-5.6-6.4l-3.7-1.7l-4.1-1.5l-7.7-0.7l-7.8-0.1l-7.8-0.3l-7.7-1l-7.8-1.9l0-2.7l0-6.9l7.8 2l7.7 1.2l7.8 0.6l7.8 0.2l7.7 0.3l7.8 1.3l2.5 1.3l5.3 4.4l1.9 3.8l5.2 8.1l0.6 0.7l7.8 6.4l2.3 1.1l5.5 2.1l7.7 0.5l7.8-2l1.1-0.6l6.7-5.6l1.7-2.6l3.3-8.1l0.8-8.2l-1.6-8.2l-2.6-8.3l1.1-8.2l5-4.8l2.7-3.4l5.1-3.7l7.1-4.6l0.7-0.4l7.7-3.6l7.8-3l2.7-1.3l5.1-2.9l7.7-5.2l0.3-0.2l7.5-7.1l0.8-1.1l4.4-8.4l2.6-3.9l2.4-4.4l5.3-5.8l2.6-2.5l5.2-3.8l7.8-3.6l3.7-1l4-1l7.8-1.5l7.8-1.7l7.7-2.7l5.8-1.4l1.9-8.4l-3.6-8.4l-3.3-8.4l-0.8-2.1l-2.8-6.3l-3.3-8.5l-1.6-4.5l-1.7-3.9l-3.1-8.5l-2.8-8.5l-0.2-0.6l-2.6-7.9l-2.5-8.5l-2.3-8.6l-0.4-1.4l-1.8-7.1l-2-8.6zM434.9 0.1l0.1-0.1l7.7 0l7.8 0l7.7 0l7.8 0l0 6.2l-7.8-2.3l-7.7-0.5l-7.8 2.1l-4.2 3.1l-3.6 2.5l-4.2 6l-3.4 8.6l-0.1 5.2l-0.1 3.3l0.1 0.2l2.8 8.3l4.9 6.9l1.9 1.6l5.9 4.1l7.8 2.1l7.7-0.4l7.8-2l0 4.7l0 2.9l-7.8 0.9l-7.7 0l-7.8-2.1l-2.6-1.7l-5.2-3.6l-4.4-4.9l-3.3-4.8l-2.1-3.7l-2.5-8.5l-0.3-8.5l1.9-8.6l3-6.7l1.2-1.8zM287.4 101.7l7.7-3.6l7.8-2.4l7.8-0.6l7.7 0.2l7.8 1l7.8 1.7l7.7 2l5.4 1.8l2.4 0.7l7.8 3.2l7.5 4.5l0.2 0.1l7.8 5.9l2.9 2.3l4.9 4.7l4.6 3.7l3.1 3l7.8 3.6l7.8 0.1l7.7-2l7.8-3l4.2-1.7l3.6-1.5l7.7-3.1l7.8-2.5l5.8-1.3l2-0.5l7.7-1.6l7.8-1.4l0 3.5l0 1l-7.8 0.9l-7.7 1.1l-7.8 1.7l-7.8 2.5l-2.9 1.2l-4.8 1.8l-7.8 3.4l-7.3 3.1l-0.5 0.3l-7.7 3l-7.8 1.2l-7.8-3.5l-0.7-1l-7-6.6l-1.4-1.7l-6.4-6.1l-2.5-2.3l-5.3-3.9l-7.7-4.2l-0.8-0.2l-7-2.4l-7.8-1.5l-7.7-1.7l-7.8-2.5l-1-0.3l-6.8-1.6l-7.7-0.8l-7.8 0.5l-5.8 1.9l-2 0.6l-7.7 3.4l-7.8 3.6l-1.8 0.8l-6 4.1l-6.5 4.2l-1.2 2.7l-1.9 5.7l1.9 4.5l1.9 3.8l5.8 6.3l3.4 2l4.4 2.2l7.8 0.5l7.7-2.1l1.2-0.6l6.6-2.4l7.8-3.3l6.2-2.6l1.5-0.8l7.8-2.6l7.8 1.8l1.5 1.6l6.2 5.6l2 2.7l5.1 8.4l0.7 1.1l5 7.1l2.8 3.9l3.7 4.4l4 5.1l3.3 3.2l2.9 8.3l1.6 7.9l0.1 0.3l3.5 8.2l4 8.3l0.2 0.4l4.4 7.8l3.3 7l0.7 1.2l3.6 8.1l2.3 8.2l1.2 3.9l2.1 4.3l1.3 8.1l-0.6 8.2l-1.5 8.1l-1.3 6.4l-0.3 1.7l-1.5 8.1l-1.4 8.1l-4.6 0l-2.4 0l1.7-8.1l0.7-4.1l0.8-4l1.3-8.1l0.7-8.1l-0.2-8.2l-1.5-8.1l-1.1-3.4l-1.1-4.8l-2.3-8.2l-3.1-8.1l-1.2-2.5l-2.5-5.7l-3.9-8.2l-1.4-3l-2-5.3l-2.1-8.2l-1.5-8.2l-2.2-4.9l-1.3-3.4l-6.4-8l-0.2-0.3l-6-8.3l-1.6-2.2l-3.6-6l-4.2-6.3l-1.8-2.1l-5.9-5.6l-7.8-1.8l-7.8 1.5l-7.7 3.2l-5.8 2.7l-2 1.2l-7.8 4.3l-6.5 2.9l-1.2 1l-7.8 1.7l-6.4-2.7l-1.4-0.5l-7.7-7.6l-0.2-0.3l-5.4-8.3l-2.2-4.7l-1.8-3.6l-3.4-8.4l5.2-3.6l7.8-3.8l1.5-0.9l6.2-2.3l7.8-3.1l7.6-3zM271.8 265l0.9 1.9l3.9 8.1l2.6 8.1l-3 8.1l-4.4 3.5l-3.5-3.5l-3.5-8.1l1.6-8.1l3.6-8.1z"/>
<path fill="#fffa00" stroke="#fffa00" d="M186.4 0l7.8 0l3.9 0l2 8.6l1.8 7.1l0.4 1.4l2.3 8.6l2.5 8.5l2.6 7.9l0.2 0.6l2.8 8.5l3.1 8.5l1.7 3.9l1.6 4.5l3.3 8.5l2.8 6.3l0.8 2.1l3.3 8.4l3.6 8.4l-1.9 8.4l-5.8 1.4l-7.7 2.7l-7.8 1.7l-7.8 1.5l-4 1l-3.7 1l-7.8 3.6l-5.2 3.8l-2.6 2.5l-5.3 5.8l-2.4 4.4l-2.6 3.9l-4.4 8.4l-0.8 1.1l-7.5 7.1l-0.3 0.2l-7.7 5.2l-5.1 2.9l-2.7 1.3l-7.8 3l-7.7 3.6l-0.7 0.4l-7.1 4.6l-5.1 3.7l-2.7 3.4l-5 4.8l-1.1 8.2l2.6 8.3l1.6 8.2l-0.8 8.2l-3.3 8.1l-1.7 2.6l-6.7 5.6l-1.1 0.6l-7.8 2l-7.7-0.5l-5.5-2.1l-2.3-1.1l-7.8-6.4l-0.6-0.7l-5.2-8.1l-1.9-3.8l-5.3-4.4l-2.5-1.3l-7.8-1.3l-7.7-0.3l-7.8-0.2l-7.8-0.6l-7.7-1.2l-7.8-2l0-1.3l0-8.3l0-1l3.3 1l4.5 1.3l7.7 1.5l7.8 1l7.8 0.5l7.7 0.3l7.8-0.7l7.8-3.9l7.6-8.2l0.1-0.1l7.8-6.1l2.9-2l4.9-2.4l7.7-2.1l7.8-1.3l7.8-1.8l1.7-0.7l6-2.1l7.8-3.8l4.9-2.4l2.9-1.4l7.7-3.6l5.8-3.3l2-1.5l7.8-6.5l0.3-0.2l6.9-8.4l0.5-0.8l5.1-7.5l2.7-2.8l5-5.5l2.8-2.4l7.6-6l0.1-0.1l7.8-4l7.8-2.2l7.7-1l7.8-0.5l2.7-0.5l5.1-2.5l5-5.9l-1.6-8.4l-3.4-8.4l0-0.2l-4.2-8.2l-3.6-8l-0.2-0.5l-4-8.4l-3.4-8.5l-0.2-0.3l-3.3-8.2l-3.1-8.5l-1.3-4.1l-1.6-4.4l-2.7-8.6l-2.5-8.5l-1-3.7l-1.4-4.9zM66.3 209.7l-2.7 8.2l1.5 8.2l4.8 7l1.3 1.1l6.5 3.4l7.7 0.7l7.8-3.2l0.9-0.9l5.2-8.1l0.5-8.2l-4.6-8.2l-2-2.4l-7.8-3.8l-7.7-0.2l-7.8 2.9zM442.7 5.5l7.8-2.1l7.7 0.5l7.8 2.3l0 2.4l0 8.5l0 4.8l-6.8-4.8l-1-0.5l-7.7-2.8l-7.8 1.1l-2.9 2.2l-4.9 4.7l-1.9 3.9l-0.9 8.5l2.8 7.8l0.5 0.7l7.3 6.3l7.8 2.1l7.7-1.4l7.8-4.5l0 6l0 3.8l-7.8 2l-7.7 0.4l-7.8-2.1l-5.9-4.1l-1.9-1.6l-4.9-6.9l-2.8-8.3l-0.1-0.2l0.1-3.3l0.1-5.2l3.4-8.6l4.2-6l3.6-2.5zM302.9 99.9l7.8-0.5l7.7 0.8l6.8 1.6l1 0.3l7.8 2.5l7.7 1.7l7.8 1.5l7 2.4l0.8 0.2l7.7 4.2l5.3 3.9l2.5 2.3l6.4 6.1l1.4 1.7l7 6.6l0.7 1l7.8 3.5l7.8-1.2l7.7-3l0.5-0.3l7.3-3.1l7.8-3.4l4.8-1.8l2.9-1.2l7.8-2.5l7.8-1.7l7.7-1.1l7.8-0.9l0 4l-7.8 0.6l-7.7 0.9l-7.8 1.6l-0.9 0.3l-6.9 2l-7.7 3.1l-6.9 3.2l-0.9 0.5l-7.8 4.1l-7.5 3.7l-0.2 0.2l-7.8 4l-7.8 0l-2.1-4.2l-5.6-7.6l-0.3-0.7l-6.4-8.3l-1.1-1.1l-7.8-6.9l-0.7-0.4l-7-3.5l-7.8-1.6l-7.8 0.2l-7.7 0.5l-5.2-3.9l-2.6-1l-7.8-3.6l-7.7-1.9l-7.8 0.2l-7.8 2.3l-7.7 3.6l-0.8 0.4l-7 5.4l-4 2.9l-3.8 8.2l0 0.2l0 0.1l4.5 8.2l3.3 2.3l7.8 2.5l7.7-0.4l7.8-2l6.3-2.4l1.5-0.6l7.7-4.3l7.8-3.2l7.8 0.2l7.4 7.9l0.3 0.4l5.6 7.9l2.2 3.7l3.3 4.7l4.5 6.9l1.1 1.3l6.6 8.3l0 0.1l7.8 6.9l1.1 1.3l2.8 8.3l2 8.2l1.9 4.2l2.3 4l5 8.3l0.4 0.8l5 7.4l2.8 4.7l2.9 3.5l4.9 6.5l2.3 1.6l5.4 4.8l3.9 3.4l3.3 8.2l-4.9 8.1l-2.3 2.4l-2.6 5.8l-3.3 8.1l-1.8 5.7l-0.6 2.4l-1.7 8.1l-1.3 8.1l-4.2 0l-3.2 0l1.4-8.1l1.5-8.1l0.3-1.7l1.3-6.4l1.5-8.1l0.6-8.2l-1.3-8.1l-2.1-4.3l-1.2-3.9l-2.3-8.2l-3.6-8.1l-0.7-1.2l-3.3-7l-4.4-7.8l-0.2-0.4l-4-8.3l-3.5-8.2l-0.1-0.3l-1.6-7.9l-2.9-8.3l-3.3-3.2l-4-5.1l-3.7-4.4l-2.8-3.9l-5-7.1l-0.7-1.1l-5.1-8.4l-2-2.7l-6.2-5.6l-1.5-1.6l-7.8-1.8l-7.8 2.6l-1.5 0.8l-6.2 2.6l-7.8 3.3l-6.6 2.4l-1.2 0.6l-7.7 2.1l-7.8-0.5l-4.4-2.2l-3.4-2l-5.8-6.3l-1.9-3.8l-1.9-4.5l1.9-5.7l1.2-2.7l6.5-4.2l6-4.1l1.8-0.8l7.8-3.6l7.7-3.4l2-0.6z"/>
<path fill="#ffdc00" stroke="#ffdc00" d="M170.9 0l7.7 0l6.4 0l1.4 4.9l1 3.7l2.5 8.5l2.7 8.6l1.6 4.4l1.3 4.1l3.1 8.5l3.3 8.2l0.2 0.3l3.4 8.5l4 8.4l0.2 0.5l3.6 8l4.2 8.2l0 0.2l3.4 8.4l1.6 8.4l-5 5.9l-5.1 2.5l-2.7 0.5l-7.8 0.5l-7.7 1l-7.8 2.2l-7.8 4l-0.1 0.1l-7.6 6l-2.8 2.4l-5 5.5l-2.7 2.8l-5.1 7.5l-0.5 0.8l-6.9 8.4l-0.3 0.2l-7.8 6.5l-2 1.5l-5.8 3.3l-7.7 3.6l-2.9 1.4l-4.9 2.4l-7.8 3.8l-6 2.1l-1.7 0.7l-7.8 1.8l-7.8 1.3l-7.7 2.1l-4.9 2.4l-2.9 2l-7.8 6.1l-0.1 0.1l-7.6 8.2l-7.8 3.9l-7.8 0.7l-7.7-0.3l-7.8-0.5l-7.8-1l-7.7-1.5l-4.5-1.3l-3.3-1l0-7.2l0-5l7.8 2.5l7.7 2l3.1 0.5l4.7 0.7l7.8 0.7l7.7-0.3l3.2-1.1l4.6-2.6l5.3-5.6l2.5-2.4l6.9-5.9l0.8-0.6l7.8-4.4l7.8-3l1.1-0.3l6.6-1.6l7.8-1.3l7.8-1.4l7.7-2.3l4.5-1.7l3.3-1.3l7.8-3.9l5.1-3l2.6-2.2l6-6.2l1.8-2.2l4.5-6.1l3.3-4l3.6-4.3l4.1-4.1l5-4.3l2.8-2.2l7.8-5.5l1.1-0.6l6.6-3.8l7.8-2.7l7.8-1.6l2.7-0.3l5-1.9l5.1-6.5l-2.5-8.4l-2.6-5.9l-1.1-2.5l-4.1-8.5l-2.5-5.7l-1.3-2.7l-3.8-8.5l-2.7-6.8l-0.7-1.7l-3.4-8.5l-3.1-8.5l-0.6-1.7l-2.4-6.9l-2.8-8.5l-2.5-8.3l-0.1-0.3zM442.7 14.9l7.8-1.1l7.7 2.8l1 0.5l6.8 4.8l0 3.8l0 8.5l0 8.5l0 2.5l-7.8 4.5l-7.7 1.4l-7.8-2.1l-7.3-6.3l-0.5-0.7l-2.8-7.8l0.9-8.5l1.9-3.9l4.9-4.7zM441.1 25.7l-3 8.5l4.6 7.5l3.6 1l4.2 0.8l2.3-0.8l5.4-5.7l1.5-2.8l-1.5-3.2l-3.6-5.3l-4.1-2.3l-7.8 0.7zM287.4 109.8l7.7-3.6l7.8-2.3l7.8-0.2l7.7 1.9l7.8 3.6l2.6 1l5.2 3.9l7.7-0.5l7.8-0.2l7.8 1.6l7 3.5l0.7 0.4l7.8 6.9l1.1 1.1l6.4 8.3l0.3 0.7l5.6 7.6l2.1 4.2l7.8 0l7.8-4l0.2-0.2l7.5-3.7l7.8-4.1l0.9-0.5l6.9-3.2l7.7-3.1l6.9-2l0.9-0.3l7.8-1.6l7.7-0.9l7.8-0.6l0 3.4l0 0.6l-7.8 0.2l-7.7 0.6l-7.8 1.4l-7.8 2.3l-7.6 3.2l-0.1 0.1l-7.8 4.1l-6.9 4.1l-0.9 0.8l-7.7 6.2l-2 1.4l-5.8 8.1l-0.2 0.1l-6.2 8.3l-1.4 2.7l-3.4 5.6l-0.3 8.3l2.3 8.2l1.4 2.7l3.2 5.5l4.6 6.9l0.9 1.4l6.8 8.2l0.1 0l7.7 6.9l1.8 1.3l6 4.4l5.1 3.7l2.7 2.6l5.8 5.6l1.9 3l3.6 5.2l0.7 8.1l-4.3 2.9l-7.7 4l-2 1.3l-5.8 3.8l-3.4 4.3l-4.3 8.1l-0.1 0.3l-2.1 7.8l-1.2 8.1l-4.4 0l-3.6 0l1.3-8.1l1.7-8.1l0.6-2.4l1.8-5.7l3.3-8.1l2.6-5.8l2.3-2.4l4.9-8.1l-3.3-8.2l-3.9-3.4l-5.4-4.8l-2.3-1.6l-4.9-6.5l-2.9-3.5l-2.8-4.7l-5-7.4l-0.4-0.8l-5-8.3l-2.3-4l-1.9-4.2l-2-8.2l-2.8-8.3l-1.1-1.3l-7.8-6.9l0-0.1l-6.6-8.3l-1.1-1.3l-4.5-6.9l-3.3-4.7l-2.2-3.7l-5.6-7.9l-0.3-0.4l-7.4-7.9l-7.8-0.2l-7.8 3.2l-7.7 4.3l-1.5 0.6l-6.3 2.4l-7.8 2l-7.7 0.4l-7.8-2.5l-3.3-2.3l-4.5-8.2l0-0.1l0-0.2l3.8-8.2l4-2.9l7-5.4zM294.9 110.2l-7.5 5.6l-3.4 2.7l-2.5 8.4l5.9 6.1l7.7 2.1l7.8-1.2l7.8-3.2l6.7-3.8l1-2l4.4-6.4l-4.4-6.2l-2-2.1l-5.7-2.2l-7.8-0.3l-7.8 2.4zM343.3 126.9l3 8.3l3.2 5.1l2.3 3.2l5.3 8.4l0.2 0.1l7.1 8.1l0.6 0.9l7.8 1.3l1.9-2.2l2.5-8.2l-0.1-8.4l-2.9-8.3l-1.4-1.8l-4.6-6.5l-3.2-2.8l-7.7-4.2l-7.8-0.2zM69.9 206.2l7.8-2.9l7.7 0.2l7.8 3.8l2 2.4l4.6 8.2l-0.5 8.2l-5.2 8.1l-0.9 0.9l-7.8 3.2l-7.7-0.7l-6.5-3.4l-1.3-1.1l-4.8-7l-1.5-8.2l2.7-8.2zM73.5 217.9l1 8.2l3.2 2.9l7.7 0.7l4.7-3.6l0.4-8.2l-5.1-4.5l-7.7 0.2z"/>
<path fill="#ffc000" stroke="#ffc000" d="M155.3 0l7.8 0l7.7 0l0.1 0.3l2.5 8.3l2.8 8.5l2.4 6.9l0.6 1.7l3.1 8.5l3.4 8.5l0.7 1.7l2.7 6.8l3.8 8.5l1.3 2.7l2.5 5.7l4.1 8.5l1.1 2.5l2.6 5.9l2.5 8.4l-5.1 6.5l-5 1.9l-2.7 0.3l-7.8 1.6l-7.8 2.7l-6.6 3.8l-1.1 0.6l-7.8 5.5l-2.8 2.2l-5 4.3l-4.1 4.1l-3.6 4.3l-3.3 4l-4.5 6.1l-1.8 2.2l-6 6.2l-2.6 2.2l-5.1 3l-7.8 3.9l-3.3 1.3l-4.5 1.7l-7.7 2.3l-7.8 1.4l-7.8 1.3l-6.6 1.6l-1.1 0.3l-7.8 3l-7.8 4.4l-0.8 0.6l-6.9 5.9l-2.5 2.4l-5.3 5.6l-4.6 2.6l-3.2 1.1l-7.7 0.3l-7.8-0.7l-4.7-0.7l-3.1-0.5l-7.7-2l-7.8-2.5l0-3.2l0-8.3l0-3.1l7.8 2.5l2.5 0.6l5.2 1.1l7.8 0.8l7.8-0.5l4-1.4l3.7-1.4l7.8-4.8l2.8-2.1l5-3.1l7.7-4.3l1.8-0.9l6-2.6l7.8-2.6l7.7-2l5-1l2.8-0.7l7.8-2.2l7.7-2.8l5.6-2.7l2.2-1.2l7.8-6l1.1-1.1l6.6-7l1.1-1.3l6.7-7.5l0.8-0.9l7-6.8l1.7-1.5l6-5.4l4-3l3.8-3.2l7.3-5.2l0.5-0.5l7.6-7.9l0.1-0.5l1.6-7.9l-1.5-8.5l-0.1-0.3l-2.6-8.1l-3-8.5l-2.1-6l-1-2.5l-3.2-8.5l-3-8.5l-0.6-1.6l-2.5-7l-3-8.5l-2.3-7.2l-0.5-1.4zM442.7 24.1l7.8-0.7l4.1 2.3l3.6 5.3l1.5 3.2l-1.5 2.8l-5.4 5.7l-2.3 0.8l-4.2-0.8l-3.6-1l-4.6-7.5l3-8.5zM295.1 110.1l7.8-2.4l7.8 0.3l5.7 2.2l2 2.1l4.4 6.2l-4.4 6.4l-1 2l-6.7 3.8l-7.8 3.2l-7.8 1.2l-7.7-2.1l-5.9-6.1l2.5-8.4l3.4-2.7l7.5-5.6zM291.7 118.5l-0.4 8.4l3.8 2.2l7.8 0.7l7.8-2.9l4.5-8.4l-4.5-4.8l-7.8-1.5l-7.8 3.7zM349.5 119.7l7.8 0.2l7.7 4.2l3.2 2.8l4.6 6.5l1.4 1.8l2.9 8.3l0.1 8.4l-2.5 8.2l-1.9 2.2l-7.8-1.3l-0.6-0.9l-7.1-8.1l-0.2-0.1l-5.3-8.4l-2.3-3.2l-3.2-5.1l-3-8.3zM353.2 126.9l-0.9 8.3l5 7.9l1.2 0.4l6.5 3.5l2.3-3.5l-0.1-8.3l-2.2-3.3l-5-5l-2.7-1.4zM434.9 132l7.8-2.3l7.8-1.4l7.7-0.6l7.8-0.2l0 3.8l-7.8-0.2l-7.7 0.3l-7.8 1.3l-7.8 2.4l-0.3 0.1l-7.4 3.4l-7.8 4.6l-0.6 0.3l-7.2 6.1l-2.6 2.3l-5.1 7.5l-0.6 0.7l-4.1 8.3l-2.7 8.3l-0.4 3.8l-0.7 4.5l0.7 2.9l1.1 5.3l4.1 8.2l2.6 3.6l3.3 4.7l4.4 4.5l4.1 3.7l3.7 2.8l7.5 5.4l0.3 0.2l7.7 6.2l2 1.7l5.8 5.9l2.4 2.3l5.4 6.4l1.8 1.8l5.3 8.1l0.6 5.2l0.7 3l-0.7 0.9l-7.7 3.8l-7.8 0.9l-7.8 1.5l-2.3 1l-5.4 2.8l-5 5.3l-2.8 5.8l-0.9 2.3l-1.2 8.1l-5.7 0l-3.3 0l1.2-8.1l2.1-7.8l0.1-0.3l4.3-8.1l3.4-4.3l5.8-3.8l2-1.3l7.7-4l4.3-2.9l-0.7-8.1l-3.6-5.2l-1.9-3l-5.8-5.6l-2.7-2.6l-5.1-3.7l-6-4.4l-1.8-1.3l-7.7-6.9l-0.1 0l-6.8-8.2l-0.9-1.4l-4.6-6.9l-3.2-5.5l-1.4-2.7l-2.3-8.2l0.3-8.3l3.4-5.6l1.4-2.7l6.2-8.3l0.2-0.1l5.8-8.1l2-1.4l7.7-6.2l0.9-0.8l6.9-4.1l7.8-4.1l0.1-0.1zM77.7 213.6l7.7-0.2l5.1 4.5l-0.4 8.2l-4.7 3.6l-7.7-0.7l-3.2-2.9l-1-8.2z"/>
<path fill="#ffa400" stroke="#ffa400" d="M139.8 0l7.8 0l7.2 0l0.5 1.4l2.3 7.2l3 8.5l2.5 7l0.6 1.6l3 8.5l3.2 8.5l1 2.5l2.1 6l3 8.5l2.6 8.1l0.1 0.3l1.5 8.5l-1.6 7.9l-0.1 0.5l-7.6 7.9l-0.5 0.5l-7.3 5.2l-3.8 3.2l-4 3l-6 5.4l-1.7 1.5l-7 6.8l-0.8 0.9l-6.7 7.5l-1.1 1.3l-6.6 7l-1.1 1.1l-7.8 6l-2.2 1.2l-5.6 2.7l-7.7 2.8l-7.8 2.2l-2.8 0.7l-5 1l-7.7 2l-7.8 2.6l-6 2.6l-1.8 0.9l-7.7 4.3l-5 3.1l-2.8 2.1l-7.8 4.8l-3.7 1.4l-4 1.4l-7.8 0.5l-7.8-0.8l-5.2-1.1l-2.5-0.6l-7.8-2.5l0-5.2l0-8.3l0-4.5l7.8 2.2l7.7 1.1l7.8 0l7.8-1.4l7.7-2.8l6.6-2.8l1.2-0.6l7.8-3.5l7.7-3.3l2.7-1l5.1-2l7.8-2.7l7.7-2.5l3.3-1.1l4.5-1.7l7.8-3.5l5.5-3.1l2.2-1.5l7.8-6.1l0.8-0.8l7-6.8l1.4-1.5l6.3-6.7l1.7-1.7l6.1-6.9l1.5-1.5l6.3-8l0.3-0.4l4.5-8.4l1.9-8.5l-0.1-8.4l-1.5-8.5l-2.2-8.5l-2.5-8.5l-0.4-1.3l-2.4-7.2l-2.9-8.6l-2.5-7.5l-0.3-1l-3-8.6zM295.1 115.9l7.8-3.7l7.8 1.5l4.5 4.8l-4.5 8.4l-7.8 2.9l-7.8-0.7l-3.8-2.2l0.4-8.4zM301 118.5l1.9 3l2.7-3l-2.7-0.9zM357.3 125.5l2.7 1.4l5 5l2.2 3.3l0.1 8.3l-2.3 3.5l-6.5-3.5l-1.2-0.4l-5-7.9l0.9-8.3zM434.9 135.1l7.8-2.4l7.8-1.3l7.7-0.3l7.8 0.2l0 3.8l-7.8-0.6l-7.7 0.1l-4.3 0.6l-3.5 0.5l-7.8 2.4l-7.7 3.8l-2.7 1.6l-5.1 4.1l-4.8 4.3l-3 4.3l-2.8 3.9l-3.2 8.3l-1.4 8.3l0.2 8.3l1.8 8.2l4.1 8.2l1.3 1.7l5.3 6.6l2.5 2.2l7.6 6l0.2 0.1l7.7 5.5l3.6 2.6l4.2 3.5l5.3 4.6l2.5 2.5l6.7 5.7l1 1l7.8 5.4l0 1.8l0 8.1l0 8.2l0 8.1l0 8.1l0 8.1l0 8.1l-7.8 0l-5.2 0l-1.9-8.1l-0.6-1l-7.8-6.4l-7.8 2.1l-4.4 5.3l-1 8.1l-2.3 0l-7.8 0l-2.1 0l1.2-8.1l0.9-2.3l2.8-5.8l5-5.3l5.4-2.8l2.3-1l7.8-1.5l7.8-0.9l7.7-3.8l0.7-0.9l-0.7-3l-0.6-5.2l-5.3-8.1l-1.8-1.8l-5.4-6.4l-2.4-2.3l-5.8-5.9l-2-1.7l-7.7-6.2l-0.3-0.2l-7.5-5.4l-3.7-2.8l-4.1-3.7l-4.4-4.5l-3.3-4.7l-2.6-3.6l-4.1-8.2l-1.1-5.3l-0.7-2.9l0.7-4.5l0.4-3.8l2.7-8.3l4.1-8.3l0.6-0.7l5.1-7.5l2.6-2.3l7.2-6.1l0.6-0.3l7.8-4.6l7.4-3.4z"/>
<path fill="#ff8200" stroke="#ff8200" d="M116.5 0l7.8 0l7.7 0l4.5 0l3 8.6l0.3 1l2.5 7.5l2.9 8.6l2.4 7.2l0.4 1.3l2.5 8.5l2.2 8.5l1.5 8.5l0.1 8.4l-1.9 8.5l-4.5 8.4l-0.3 0.4l-6.3 8l-1.5 1.5l-6.1 6.9l-1.7 1.7l-6.3 6.7l-1.4 1.5l-7 6.8l-0.8 0.8l-7.8 6.1l-2.2 1.5l-5.5 3.1l-7.8 3.5l-4.5 1.7l-3.3 1.1l-7.7 2.5l-7.8 2.7l-5.1 2l-2.7 1l-7.7 3.3l-7.8 3.5l-1.2 0.6l-6.6 2.8l-7.7 2.8l-7.8 1.4l-7.8 0l-7.7-1.1l-7.8-2.2l0-3.7l0-8.4l0-8.3l0-1.7l7 1.7l0.8 0.2l7.7 0.8l7.8-0.2l5.2-0.8l2.6-0.4l7.7-2l7.8-2.6l7.8-2.8l1.5-0.5l6.2-2.5l7.8-3.1l6.6-2.8l1.2-0.5l7.7-4l6.8-3.8l1-0.7l7.8-5.9l2.1-1.8l5.6-5.6l2.6-2.8l5.2-6.6l1.4-1.8l4.9-8.4l1.5-3.9l1.6-4.6l1.5-8.4l0.1-8.5l-0.9-8.5l-1.6-8.5l-0.7-2.8l-1.5-5.7l-2.5-8.6l-2.7-8.5l-1.1-3.5l-1.7-5.1zM302.9 117.6l2.7 0.9l-2.7 3l-1.9-3zM450.5 134.6l7.7-0.1l7.8 0.6l0 0.1l0 3.9l-7.8-1.2l-7.7-0.2l-7.8 1l-7.8 2.5l-4.6 2.3l-3.1 2l-7.6 6.4l-0.2 0.2l-5.7 8l-2.1 6.2l-0.8 2.1l-0.9 8.3l1.3 8.3l0.4 1.3l1.8 6.9l4.6 8.2l1.4 1.7l6.7 6.6l1.1 0.8l7.7 5.4l3.6 2l4.2 2.9l7.5 5.3l0.3 0.2l7.7 6.1l3.7 1.8l4.1 2.2l0 6l0 6.4l-7.8-5.4l-1-1l-6.7-5.7l-2.5-2.5l-5.3-4.6l-4.2-3.5l-3.6-2.6l-7.7-5.5l-0.2-0.1l-7.6-6l-2.5-2.2l-5.3-6.6l-1.3-1.7l-4.1-8.2l-1.8-8.2l-0.2-8.3l1.4-8.3l3.2-8.3l2.8-3.9l3-4.3l4.8-4.3l5.1-4.1l2.7-1.6l7.7-3.8l7.8-2.4l3.5-0.5zM434.9 285.9l7.8-2.1l7.8 6.4l0.6 1l1.9 8.1l-2.5 0l-7.8 0l-7.8 0l-5.4 0l1-8.1z"/>
<path fill="#ff5e00" stroke="#ff5e00" d="M93.2 0l7.8 0l7.7 0l6.1 0l1.7 5.1l1.1 3.5l2.7 8.5l2.5 8.6l1.5 5.7l0.7 2.8l1.6 8.5l0.9 8.5l-0.1 8.5l-1.5 8.4l-1.6 4.6l-1.5 3.9l-4.9 8.4l-1.4 1.8l-5.2 6.6l-2.6 2.8l-5.6 5.6l-2.1 1.8l-7.8 5.9l-1 0.7l-6.8 3.8l-7.7 4l-1.2 0.5l-6.6 2.8l-7.8 3.1l-6.2 2.5l-1.5 0.5l-7.8 2.8l-7.8 2.6l-7.7 2l-2.6 0.4l-5.2 0.8l-7.8 0.2l-7.7-0.8l-0.8-0.2l-7-1.7l0-6.6l0-8.4l0-8.3l0-4.8l7.8 1.7l7.7 0.9l7.8-0.1l7.8-0.9l7.7-1.8l7.8-2.4l2.7-1l5.1-2.2l7.7-3.8l4.2-2.4l3.6-2.4l7.8-6l7.7-8.4l5.2-8.5l2.6-6.4l0.7-2l1.7-8.5l0.4-8.5l-0.5-8.5l-1.3-8.5l-1-4.7l-0.9-3.9l-2.3-8.5l-2.6-8.6zM434.9 141.2l7.8-2.5l7.8-1l7.7 0.2l7.8 1.2l0 4l-7.8-1.7l-7.7-0.6l-7.8 0.9l-5.6 1.8l-2.2 0.9l-7.7 5l-3 2.5l-4.8 6.4l-1.3 1.8l-3 8.3l-0.5 8.3l1.7 8.3l3.1 8.1l0 0.1l5.7 8.2l2.1 2.1l7.7 5.6l1.1 0.6l6.7 3.7l7.8 4l1.2 0.5l6.5 3.7l7.8 3.2l0 1.3l0 8.1l0 2.2l-4.1-2.2l-3.7-1.8l-7.7-6.1l-0.3-0.2l-7.5-5.3l-4.2-2.9l-3.6-2l-7.7-5.4l-1.1-0.8l-6.7-6.6l-1.4-1.7l-4.6-8.2l-1.8-6.9l-0.4-1.3l-1.3-8.3l0.9-8.3l0.8-2.1l2.1-6.2l5.7-8l0.2-0.2l7.6-6.4l3.1-2z"/>
<path fill="#ff3800" stroke="#ff3800" d="M54.4 0l7.7 0l7.8 0l7.8 0l7.7 0l2 0l2.6 8.6l2.3 8.5l0.9 3.9l1 4.7l1.3 8.5l0.5 8.5l-0.4 8.5l-1.7 8.5l-0.7 2l-2.6 6.4l-5.2 8.5l-7.7 8.4l-7.8 6l-3.6 2.4l-4.2 2.4l-7.7 3.8l-5.1 2.2l-2.7 1l-7.8 2.4l-7.7 1.8l-7.8 0.9l-7.8 0.1l-7.7-0.9l-7.8-1.7l0-3.6l0-8.4l0-8.4l0-8.4l0-8.5l0-5.8l7.8 1.5l7.7 0.3l7.8-1.1l7.8-2.7l1.2-0.6l6.5-4.8l3.7-3.7l4.1-6.5l1-2l2.4-8.5l0.7-8.5l-0.4-8.6l-1.2-8.5l-1.9-8.6zM442.7 141.7l7.8-0.9l7.7 0.6l7.8 1.7l0 0.4l0 4.2l-7.8-2.6l-7.7-1.1l-7.8 0.8l-7.8 3l-5.9 4.1l-1.8 1.8l-5 6.4l-2.8 8l-0.1 0.3l-0.3 8.3l0.4 1.8l1.5 6.5l3.9 8.2l2.4 3.2l5.5 5l2.2 1.8l7.8 3.9l6.9 2.6l0.9 0.4l7.7 2.6l7.8 1.5l0 3.7l0 6.9l-7.8-3.2l-6.5-3.7l-1.2-0.5l-7.8-4l-6.7-3.7l-1.1-0.6l-7.7-5.6l-2.1-2.1l-5.7-8.2l0-0.1l-3.1-8.1l-1.7-8.3l0.5-8.3l3-8.3l1.3-1.8l4.8-6.4l3-2.5l7.7-5l2.2-0.9z"/>
<path fill="#ff1300" stroke="#ff1300" d="M7.8 0l7.7 0l7.8 0l7.8 0l7.7 0l7.8 0l0.6 0l1.9 8.6l1.2 8.5l0.4 8.6l-0.7 8.5l-2.4 8.5l-1 2l-4.1 6.5l-3.7 3.7l-6.5 4.8l-1.2 0.6l-7.8 2.7l-7.8 1.1l-7.7-0.3l-7.8-1.5l0-2.6l0-8.5l0-8.5l0-8.5l0-8.5l0-8.6l0-8.5l0-8.6zM434.9 147.8l7.8-3l7.8-0.8l7.7 1.1l7.8 2.6l0 4.2l0 0.7l-1.1-0.7l-6.7-2.8l-7.7-1.6l-7.8 0.6l-7.8 3.2l-0.8 0.6l-6.9 7l-1 1.2l-3.2 8.3l-0.2 8.3l2.3 8.3l2.1 3.8l3.3 4.4l4.4 4.2l7.6 4l0.2 0.1l7.8 2.5l7.7 1.1l7.8-0.4l0 5l0 4.5l-7.8-1.5l-7.7-2.6l-0.9-0.4l-6.9-2.6l-7.8-3.9l-2.2-1.8l-5.5-5l-2.4-3.2l-3.9-8.2l-1.5-6.5l-0.4-1.8l0.3-8.3l0.1-0.3l2.8-8l5-6.4l1.8-1.8z"/>
<path fill="#ef0000" stroke="#ef0000" d="M434.9 151.3l7.8-3.2l7.8-0.6l7.7 1.6l6.7 2.8l1.1 0.7l0 6.3l-7.8-5.4l-4.5-1.6l-3.2-0.8l-7.8 0.3l-1.2 0.5l-6.6 3.7l-4.4 4.5l-3.3 7.2l-0.5 1.1l-0.2 8.3l0.7 2l2.4 6.3l5.3 6.7l2.4 1.5l5.4 3.1l7.8 1.9l7.7-0.2l7.8-2.7l0 6.1l0 3.3l-7.8 0.4l-7.7-1.1l-7.8-2.5l-0.2-0.1l-7.6-4l-4.4-4.2l-3.3-4.4l-2.1-3.8l-2.3-8.3l0.2-8.3l3.2-8.3l1-1.2l6.9-7z"/>
<path fill="#d00000" stroke="#d00000" d="M442.7 151.4l7.8-0.3l3.2 0.8l4.5 1.6l7.8 5.4l0 1.2l0 8.1l-6-8.1l-1.8-1.2l-7.7-3.5l-7.8 0.1l-7.8 4.6l-4.3 8.3l-0.1 8.3l3.9 8.3l0.5 0.7l7.8 5.4l7.8 1.5l7.7-1.8l7.5-5.8l0.3-0.7l0 0.7l0 8.2l0 2.1l-7.8 2.7l-7.7 0.2l-7.8-1.9l-5.4-3.1l-2.4-1.5l-5.3-6.7l-2.4-6.3l-0.7-2l0.2-8.3l0.5-1.1l3.3-7.2l4.4-4.5l6.6-3.7z"/>
<path fill="#b00000" stroke="#b00000" d="M434.9 160.1l7.8-4.6l7.8-0.1l7.7 3.5l1.8 1.2l6 8.1l0 0.2l0 8.3l0 7.6l-0.3 0.7l-7.5 5.8l-7.7 1.8l-7.8-1.5l-7.8-5.4l-0.5-0.7l-3.9-8.3l0.1-8.3l4.3-8.3zM442.1 160.1l-7.2 7.4l-0.5 0.9l0.1 8.3l0.4 0.9l6.7 7.4l1.1 0.7l7.8 1l4.2-1.7l3.5-3.2l2.8-5.1l-1.4-8.3l-1.4-1.7l-7.2-6.6l-0.5-0.2l-7.8-0.1z"/>
<path fill="#900000" stroke="#900000" d="M442.7 159.8l7.8 0.1l0.5 0.2l7.2 6.6l1.4 1.7l1.4 8.3l-2.8 5.1l-3.5 3.2l-4.2 1.7l-7.8-1l-1.1-0.7l-6.7-7.4l-0.4-0.9l-0.1-8.3l0.5-0.9l7.2-7.4z"/>
</g>
<path fill="#fff" d="M330.0,214.0 338.0,209.0 350.0,202.0 358.0,205.0 368.0,200.0 376.0,208.0 383.0,214.0 389.0,228.0 391.0,248.0 394.0,264.0 391.0,282.0 378.0,296.0 303.0,296.0 303.0,286.0 314.0,280.0 318.0,268.0 322.0,262.0 318.0,252.0 324.0,232.0Z"/>
<path fill="#fff" d="M74.0,287.0 81.0,280.0 88.0,287.0 81.0,294.0Z"/>
<path fill="#fff" d="M137.0,296.5 144.0,289.5 151.0,296.5 144.0,303.5Z"/>
<path fill="#fff" d="M427.0,22.0 436.0,15.0 445.0,22.0 436.0,29.0Z"/>
<path fill="#fff" d="M352.0,152.0 360.5,140.5 369.0,152.0 360.5,163.5Z"/>
<g clip-path="url(#fa)">
<path fill="#ccc" stroke="#000" stroke-width="0.9" stroke-linejoin="round" d="M0.0,0.0 274.5,0.0 269.5,13.5 254.0,14.5 254.0,24.0 235.0,42.0 218.4,53.9 186.9,74.2 157.4,79.3 139.6,80.3 129.0,93.9 113.8,80.3 109.0,94.5 105.7,95.5 95.5,86.4 92.5,102.6 62.0,110.8 45.8,119.9 30.5,121.9 12.3,127.7 7.6,138.4 15.3,153.0 8.2,158.1 0.0,158.1ZM0.0,169.3 31.1,169.3 31.1,176.4 23.4,187.6 17.3,201.8 7.2,216.0 0.0,221.0ZM344.6,0.0 316.2,46.2 316.2,61.0 321.3,81.3 330.4,89.4 336.5,101.0 340.6,85.4 345.7,75.2 354.8,61.0 360.9,40.7 369.0,20.4 370.6,0.0ZM305.0,300.0 304.8,291.5 320.0,296.1 323.0,284.0 324.0,274.0 327.0,261.0 321.0,249.0 328.0,230.0 333.0,218.0 344.0,215.6 358.0,223.0 370.0,226.0 382.0,219.6 379.0,232.0 378.0,252.0 388.0,264.0 384.0,280.0 368.0,300.0Z"/>
</g>
<path d="M0 0H466M0 8.6H466M0 17.1H466M0 25.7H466M0 34.2H466M0 42.7H466M0 51.2H466M0 59.7H466M0 68.1H466M0 76.6H466M0 85H466M0 93.4H466M0 101.8H466M0 110.2H466M0 118.5H466M0 126.9H466M0 135.2H466M0 143.5H466M0 151.9H466M0 160.1H466M0 168.4H466M0 176.7H466M0 185H466M0 193.2H466M0 201.4H466M0 209.7H466M0 217.9H466M0 226.1H466M0 234.2H466M0 242.4H466M0 250.6H466M0 258.7H466M0 266.9H466M0 275H466M0 283.1H466M0 291.2H466M0 299.3H466" stroke="#a0a0a0" stroke-opacity=".33" stroke-width="1.1" stroke-dasharray="1.1 6.667" fill="none"/>
<g clip-path="url(#fa)" stroke="#000">
<path d="M380.6 0l-.7-2.2m.4-.1l-.8-1l0 1.2zM388.3 0l-.5-2.7m.5-.1l-.7-1.3l-.2 1.4zM396.1 0l-.2-3.2m.5 0l-.6-1.5l-.4 1.6zM403.9 0l.2-3.4m.6 0l-.5-1.7l-.7 1.7zM411.6 0l.7-3.5m.6 .1l-.2-1.8l-.9 1.6zM419.4 0l1.3-3.4m.5 .2l.1-1.9l-1.2 1.4zM427.2 0l1.8-3m.5 .3l.4-1.8l-1.4 1.2zM434.9 0l2.3-2.3m.4 .4l.8-1.5l-1.5 .8zM442.7 0l2.6-1.4m.2 .4l1.1-1.1l-1.5 .2zM450.5 0l2.6-.4m.1 .4l1.2-.7l-1.3-.2zM458.2 0l2.3 .2m0 .4l1.1-.3l-1.1-.5zM466 0l1.9 .4m-.1 .4l1-.2l-.9-.5zM380.6 8.6l-.8-2.2m.4-.1l-.8-1l0 1.2zM388.3 8.6l-.7-2.9m.5-.1l-.8-1.3l-.2 1.5zM396.1 8.6l-.4-3.5m.6-.1l-.7-1.6l-.4 1.8zM403.9 8.6l.1-3.8m.6 0l-.6-1.9l-.7 1.9zM411.6 8.6l.7-3.9m.6 .1l-.3-2l-.9 1.8zM419.4 8.6l1.3-3.8m.6 .2l0-2.1l-1.2 1.7zM427.2 8.6l2-3.5m.6 .3l.4-2l-1.5 1.4zM434.9 8.6l2.6-2.6m.4 .4l.9-1.7l-1.7 .9zM442.7 8.6l3-1.3m.2 .5l1.3-1.1l-1.7 .1zM450.5 8.6l3 .1m0 .5l1.5-.5l-1.4-.5zM458.2 8.6l2.4 .9m-.1 .4l1.3 0l-1.1-.8zM466 8.6l2 .8m-.1 .4l1.1 0l-.8-.7zM380.6 17.1l-.7-2.1m.4-.1l-.7-.9l0 1.2zM388.3 17.1l-.7-3m.5-.1l-.9-1.3l-.1 1.6zM396.1 17.1l-.5-3.7m.6-.1l-.8-1.8l-.4 1.9zM403.9 17.1l-.1-4.2m.7 0l-.7-2l-.6 2.1zM411.6 17.1l.4-4.5m.7 .1l-.5-2.3l-.9 2.2zM419.4 17.1l1.1-4.6m.7 .2l-.2-2.4l-1.2 2.1zM427.2 17.1l1.9-4.2m.7 .3l.3-2.4l-1.6 1.8zM442.7 17.1l3.2-1.4m.2 .5l1.4-1.2l-1.8 .2zM450.5 17.1l3.2 .5m-.1 .5l1.7-.3l-1.5-.8zM458.2 17.1l2.8 1.6m-.3 .5l1.6 .3l-1.1-1.2zM466 17.1l2.3 1.3m-.2 .4l1.4 .2l-.9-1zM380.6 25.7l-.4-2m.4-.1l-.6-.9l-.2 1.1zM388.3 25.7l-.4-3m.5-.1l-.7-1.4l-.3 1.5zM396.1 25.7l-.5-3.8m.6-.1l-.9-1.8l-.3 2zM403.9 25.7l-.5-4.5m.7-.1l-.9-2.1l-.5 2.3zM411.6 25.7l-.2-5.2m.8 0l-.9-2.5l-.7 2.6zM419.4 25.7l.3-5.6m.9 0l-.7-2.8l-1 2.7zM427.2 25.7l1-5.2m.8 .1l-.3-2.7l-1.3 2.4zM442.7 25.7l2.8-1.7m.3 .5l1.1-1.3l-1.6 .4zM450.5 25.7l2.7 1m-.2 .5l1.5 .1l-1.1-1zM458.2 25.7l2.1 2.1m-.4 .4l1.4 .7l-.7-1.4zM466 25.7l1.7 2.1m-.4 .3l1.2 .8l-.5-1.3zM380.6 34.2l-.4-1.9m.4-.1l-.6-.9l-.2 1zM388.3 34.2l-.6-2.8m.5-.1l-.8-1.3l-.2 1.5zM396.1 34.2l-.9-3.6m.6-.1l-1-1.6l-.1 1.9zM403.9 34.2l-1.1-4.5m.7-.2l-1.2-2l-.2 2.4zM411.6 34.2l-1.2-5.6m.8-.2l-1.4-2.6l-.3 2.9zM419.4 34.2l-1.1-6.2m.9-.2l-1.5-2.9l-.4 3.2zM427.2 34.2l-.9-6m.9-.1l-1.3-2.8l-.5 3.1zM434.9 34.2l-.6-4.7m.7-.1l-1-2.2l-.4 2.4zM442.7 34.2l-.6-2.4m.4-.1l-.7-1.1l-.1 1.3zM458.2 34.2l0 2.5m-.4 0l.4 1.3l.5-1.2zM466 34.2l0 2.6m-.4 0l.4 1.3l.5-1.3zM388.3 42.7l-1.1-2.4m.4-.2l-1-1l.1 1.4zM396.1 42.7l-1.4-3.3m.5-.2l-1.2-1.4l.2 1.9zM403.9 42.7l-1.7-4.2m.6-.3l-1.5-1.8l.2 2.3zM411.6 42.7l-2.1-5.5m.8-.3l-1.9-2.4l.2 3zM419.4 42.7l-2.5-6.2m.9-.4l-2.1-2.7l.3 3.4zM427.2 42.7l-2.8-6m.9-.4l-2.3-2.5l.5 3.3zM434.9 42.7l-3.1-4.6m.7-.5l-2.2-1.8l.8 2.7zM442.7 42.7l-3.4-2m.3-.5l-2-.5l1.4 1.5zM450.5 42.7l-3.1 .5m-.1-.5l-1.5 .8l1.6 .3zM458.2 42.7l-2.4 1.9m-.3-.4l-.9 1.3l1.5-.5zM466 42.7l-1.9 2.2m-.4-.3l-.6 1.4l1.3-.8zM388.3 51.2l-1.6-1.7m.3-.3l-1.1-.6l.5 1.1zM396.1 51.2l-2.1-2.8m.5-.3l-1.5-1l.6 1.7zM403.9 51.2l-2.4-3.7m.6-.4l-1.8-1.5l.6 2.2zM411.6 51.2l-3-5m.8-.5l-2.2-2l.7 2.9zM419.4 51.2l-3.5-5.8m.9-.5l-2.6-2.3l.9 3.4zM427.2 51.2l-4-5.5m.8-.6l-2.8-2.1l1.1 3.3zM434.9 51.2l-4.3-4.2m.6-.6l-2.7-1.4l1.5 2.7zM442.7 51.2l-4.2-2m.3-.7l-2.4-.4l1.8 1.7zM450.5 51.2l-4-.2m0-.6l-2 .6l2 .7zM458.2 51.2l-3.6 1m-.2-.6l-1.6 1.1l1.9 .1zM466 51.2l-3.1 1.5m-.2-.5l-1.3 1.3l1.8-.2zM357.3 59.7l1.6 1.7m-.3 .3l1.1 .5l-.5-1.1zM365 59.7l1 1.7m-.3 .2l.8 .7l-.2-1zM388.3 59.7l-2-.8m.1-.4l-1.1 0l.8 .8zM396.1 59.7l-2.5-2m.3-.4l-1.6-.6l.9 1.4zM403.9 59.7l-2.9-3.1m.5-.5l-1.9-1.1l.9 2zM411.6 59.7l-3.7-4.5m.7-.6l-2.5-1.7l1.1 2.8zM419.4 59.7l-4.2-5.3m.8-.6l-2.8-2l1.3 3.2zM427.2 59.7l-4.4-5.1m.8-.7l-3-1.9l1.4 3.2zM434.9 59.7l-4.5-3.9m.6-.7l-2.8-1.2l1.6 2.6zM442.7 59.7l-4.4-2.1m.3-.7l-2.5-.3l1.9 1.7zM450.5 59.7l-4.3-.5m.1-.7l-2.2 .5l2 .9zM458.2 59.7l-4.1 .5m-.1-.7l-2 .9l2.1 .4zM466 59.7l-3.7 .8m-.1-.6l-1.7 1l2 .2zM302.9 68.1l2.8-.2m0 .5l1.4-.6l-1.4-.4zM310.7 68.1l2.9 .3m-.1 .5l1.5-.3l-1.4-.6zM357.3 68.1l2.1 2.2m-.4 .4l1.4 .7l-.7-1.4zM365 68.1l1.5 2.3m-.4 .3l1.1 .9l-.3-1.4zM372.8 68.1l.6 2.3m-.4 .1l.7 1l.1-1.2zM380.6 68.1l-.6 1.8m-.3-.1l.1 1l.6-.8zM388.3 68.1l-1.9 .5m-.1-.4l-.8 .6l1 .1zM396.1 68.1l-2.7-1.1m.2-.5l-1.5-.1l1.2 1zM403.9 68.1l-3.2-2.5m.4-.5l-2-.7l1.2 1.7zM411.6 68.1l-3.9-4m.6-.6l-2.5-1.4l1.3 2.6zM419.4 68.1l-4.3-5m.7-.6l-2.9-1.8l1.4 3.1zM427.2 68.1l-4.5-5m.8-.7l-2.9-1.8l1.4 3.1zM434.9 68.1l-4.3-3.9m.6-.6l-2.7-1.3l1.5 2.6zM442.7 68.1l-4.1-1.9m.3-.6l-2.3-.3l1.7 1.6zM450.5 68.1l-4.3-.5m.1-.7l-2.2 .5l2 .9zM458.2 68.1l-4.2 .1m0-.7l-2.1 .7l2.1 .6zM466 68.1l-3.9 .2m0-.6l-1.9 .7l2 .5zM295.1 76.6l2.5-1.6m.3 .4l1-1.2l-1.5 .4zM302.9 76.6l3-.4m.1 .5l1.4-.7l-1.6-.3zM310.7 76.6l3.2 .2m0 .5l1.6-.4l-1.5-.6zM318.4 76.6l3.3 .4m-.1 .5l1.7-.3l-1.6-.8zM349.5 76.6l3.2 2.1m-.3 .5l1.9 .5l-1.2-1.5zM357.3 76.6l2.8 2.5m-.4 .5l1.8 .8l-1-1.7zM365 76.6l2.2 2.9m-.5 .4l1.6 1.1l-.6-1.8zM372.8 76.6l1.5 3m-.5 .2l1.2 1.2l-.2-1.7zM380.6 76.6l.4 2.8m-.5 .1l.7 1.3l.3-1.5zM388.3 76.6l-1 2m-.4-.2l-.1 1.2l.8-.8zM396.1 76.6l-2.4 .2m0-.4l-1.2 .5l1.2 .3zM403.9 76.6l-3.1-1.8m.3-.5l-1.8-.4l1.2 1.4zM411.6 76.6l-3.4-3.5m.5-.5l-2.2-1.2l1.2 2.3zM419.4 76.6l-3.8-4.8m.7-.6l-2.6-1.8l1.1 2.9zM427.2 76.6l-4-4.9m.7-.6l-2.7-1.8l1.2 3zM434.9 76.6l-4.1-3.9m.6-.6l-2.6-1.3l1.4 2.6zM442.7 76.6l-4-1.6m.3-.6l-2.2-.2l1.7 1.4zM450.5 76.6l-4-.4m.1-.6l-2.1 .4l1.9 .8zM458.2 76.6l-4-.2m0-.6l-2 .6l1.9 .7zM466 76.6l-3.6-.6m.1-.6l-1.9 .3l1.7 .9zM279.6 85l2.5-1.1m.2 .4l1.1-1l-1.4 .1zM287.4 85l2.6-2m.3 .4l1-1.4l-1.6 .5zM295.1 85l3-2m.3 .5l1.1-1.5l-1.8 .5zM302.9 85l3.4-.9m.1 .6l1.5-1l-1.8-.1zM310.7 85l3.7-.1m0 .6l1.8-.6l-1.8-.5zM318.4 85l3.9 .1m0 .6l1.9-.6l-1.9-.7zM341.7 85l3.9 1.6m-.3 .6l2.2 .2l-1.7-1.4zM349.5 85l3.8 2.2m-.3 .6l2.2 .5l-1.5-1.7zM357.3 85l3.6 2.9m-.4 .6l2.2 .8l-1.3-2zM365 85l3.2 3.4m-.5 .5l2.1 1.2l-1-2.2zM372.8 85l2.5 3.6m-.6 .4l1.8 1.4l-.7-2.2zM380.6 85l1.7 3.6m-.6 .3l1.4 1.5l-.3-2zM388.3 85l.7 3.2m-.5 .1l.9 1.5l.2-1.7zM396.1 85l-.8 2m-.4-.2l-.1 1.1l.8-.8zM403.9 85l-2.2-1m.2-.4l-1.3-.1l.9 .9zM411.6 85l-2.2-3.3m.5-.3l-1.6-1.3l.5 2zM419.4 85l-2.2-4.5m.7-.3l-1.8-1.9l.4 2.5zM427.2 85l-2.4-4.4m.7-.4l-1.9-1.8l.5 2.6zM434.9 85l-2.6-3.4m.5-.4l-1.8-1.2l.8 2.1zM442.7 85l-3-1.9m.3-.5l-1.8-.5l1.1 1.4zM450.5 85l-2.9-.6m.1-.5l-1.6 .2l1.3 .8zM458.2 85l-2.9-.4m.1-.5l-1.5 .3l1.3 .7zM466 85l-2.4-1.6m.3-.4l-1.4-.4l.9 1.2zM271.8 93.4l3.8-.4m.1 .6l1.8-.8l-1.9-.4zM279.6 93.4l4.1-1.2m.2 .6l1.8-1.2l-2.2-.1zM287.4 93.4l4.2-2.1m.3 .7l1.8-1.7l-2.4 .4zM295.1 93.4l5.1-2.6m.4 .8l2.1-2.1l-2.9 .5zM302.9 93.4l5.5-1.2m.2 .8l2.5-1.4l-2.9-.2zM310.7 93.4l5.6-.1m0 .9l2.8-.9l-2.8-.8zM318.4 93.4l5.1 .1m0 .8l2.5-.7l-2.5-.8zM326.2 93.4l4.5 .6m-.1 .7l2.3-.4l-2.1-1zM341.7 93.4l4.4 1.5m-.2 .7l2.4 .1l-1.9-1.4zM349.5 93.4l4.7 2.3m-.4 .7l2.7 .4l-2-1.8zM357.3 93.4l4.8 3.2m-.5 .7l2.9 .9l-1.9-2.3zM365 93.4l4.7 4.1m-.6 .7l2.9 1.3l-1.7-2.7zM372.8 93.4l4.2 4.6m-.7 .6l2.7 1.7l-1.3-2.9zM380.6 93.4l3.5 4.6m-.7 .5l2.4 1.7l-1-2.8zM388.3 93.4l2.7 3.9m-.6 .4l1.9 1.5l-.7-2.4zM396.1 93.4l2.1 2.9m-.5 .3l1.5 1.1l-.5-1.8zM411.6 93.4l.8-3.5m.6 .1l-.2-1.8l-1 1.6zM419.4 93.4l.5-4.2m.7 .1l-.4-2.1l-.9 2zM427.2 93.4l.1-4.1m.6 0l-.6-2l-.7 2zM434.9 93.4l-.1-3.4m.6 0l-.6-1.7l-.5 1.7zM442.7 93.4l-.2-2.4m.4 0l-.5-1.1l-.3 1.2zM466 93.4l1.2-2.3m.4 .2l.2-1.3l-1 .9zM248.5 101.8l3.6 2.6m-.4 .6l2.2 .7l-1.4-1.8zM256.3 101.8l3.7 .3m0 .6l1.9-.5l-1.8-.7zM264.1 101.8l4.1-.7m.1 .7l1.9-1l-2.1-.3zM271.8 101.8l5.1-1.4m.2 .8l2.3-1.4l-2.7-.1zM279.6 101.8l6.3-2.1m.3 .9l2.8-2l-3.4 .1zM287.4 101.8l7.6-2.9m.4 1.1l3.3-2.5l-4.2 .3zM295.1 101.8l7.8-3m.4 1.1l3.4-2.6l-4.3 .3zM302.9 101.8l7.6-1.3m.2 1.1l3.6-1.8l-3.9-.5zM310.7 101.8l7 .4m-.1 1l3.5-.8l-3.4-1.2zM318.4 101.8l5.6 1.2m-.2 .8l2.9-.3l-2.6-1.4zM326.2 101.8l4.3 1.2m-.2 .7l2.3-.1l-2-1.3zM334 101.8l4.1 1.1m-.2 .6l2.2-.1l-1.8-1.2zM341.7 101.8l4.4 1.2m-.2 .7l2.4-.1l-2-1.3zM349.5 101.8l5.2 2m-.3 .8l2.9 .2l-2.3-1.8zM357.3 101.8l5.8 3.2m-.5 .9l3.3 .7l-2.4-2.5zM365 101.8l6 4.6m-.7 .9l3.6 1.4l-2.3-3.1zM372.8 101.8l5.8 5.3m-.8 .9l3.6 1.8l-2.1-3.5zM380.6 101.8l5.5 5.3m-.8 .8l3.5 1.8l-1.9-3.4zM388.3 101.8l5.2 4.6m-.7 .8l3.3 1.5l-1.9-3.1zM396.1 101.8l5.2 3.1m-.5 .8l3 .8l-2.1-2.3zM403.9 101.8l5.2 .4m-.1 .8l2.6-.6l-2.5-1zM411.6 101.8l4.5-2.5m.4 .7l1.8-1.9l-2.6 .5zM419.4 101.8l3.6-3.7m.6 .6l1.2-2.4l-2.4 1.3zM427.2 101.8l3-3.6m.6 .5l.9-2.3l-2 1.3zM434.9 101.8l2.7-3m.5 .4l.9-1.9l-1.8 1zM442.7 101.8l2.8-2.2m.4 .5l1.1-1.5l-1.8 .6zM450.5 101.8l3.1-1.4m.2 .5l1.3-1.2l-1.8 .2zM458.2 101.8l3.4-1.3m.2 .6l1.5-1.2l-1.9 .1zM466 101.8l3.4-1.7m.3 .5l1.4-1.4l-2 .3zM178.6 110.2l-2.6 1.2m-.2-.4l-1.1 1l1.5-.2zM186.4 110.2l-2.9 .8m-.1-.5l-1.3 .9l1.6 .1zM209.7 110.2l-3.8 .3m-.1-.6l-1.8 .8l1.9 .4zM217.5 110.2l-3.7 1.8m-.3-.6l-1.5 1.5l2.1-.3zM225.2 110.2l-3.4 1.7m-.3-.5l-1.4 1.4l2-.3zM233 110.2l-2.7 1m-.2-.5l-1.1 1l1.5-.1zM240.8 110.2l-.5 2.7m-.5-.1l.2 1.4l.7-1.2zM248.5 110.2l2.1 2.1m-.4 .3l1.4 .7l-.7-1.4zM256.3 110.2l3.4-.2m0 .5l1.6-.7l-1.7-.4zM264.1 110.2l3.9-1.4m.2 .6l1.7-1.3l-2.1 .1zM271.8 110.2l4.6-2.2m.3 .7l1.9-1.8l-2.6 .4zM279.6 110.2l5.4-3.1m.5 .8l2.2-2.3l-3.1 .7zM287.4 110.2l6.2-3.5m.5 .9l2.5-2.6l-3.6 .8zM295.1 110.2l6.8-3.2m.5 1l2.9-2.6l-3.8 .6zM302.9 110.2l6.9-1m.1 1l3.3-1.5l-3.6-.5zM310.7 110.2l5.7 1.8m-.3 .9l3.1 0l-2.5-1.7zM318.4 110.2l3.8 2.6m-.4 .6l2.3 .7l-1.5-1.9zM326.2 110.2l2.9 2.1m-.3 .5l1.8 .5l-1.1-1.5zM334 110.2l3.1 .8m-.1 .5l1.7-.1l-1.4-.9zM341.7 110.2l3.8 .3m-.1 .6l1.9-.5l-1.8-.8zM349.5 110.2l5 1m-.2 .8l2.6-.3l-2.3-1.3zM357.3 110.2l6.3 2.7m-.4 .9l3.5 .4l-2.7-2.3zM365 110.2l6.9 4.6m-.7 1l4.1 1.2l-2.7-3.3zM372.8 110.2l7 5.7m-.8 1l4.3 1.8l-2.6-3.8zM380.6 110.2l6.8 5.6m-.8 1l4.2 1.8l-2.5-3.7zM388.3 110.2l6.8 4.7m-.7 1l4 1.3l-2.6-3.3zM396.1 110.2l6.9 2.9m-.4 1l3.8 .4l-3-2.5zM403.9 110.2l7.1 .5m-.1 1.1l3.6-.8l-3.4-1.3zM411.6 110.2l6.8-1.8m.3 1l3.1-1.9l-3.6-.1zM419.4 110.2l6.3-3.2m.5 .9l2.6-2.5l-3.6 .6zM427.2 110.2l5.8-3.5m.5 .9l2.4-2.6l-3.4 .8zM434.9 110.2l5.5-3m.4 .8l2.3-2.3l-3.2 .6zM442.7 110.2l5.4-2.2m.3 .8l2.3-1.9l-3 .3zM450.5 110.2l5.4-1.5m.2 .8l2.4-1.6l-2.9-.1zM458.2 110.2l5.4-1.4m.2 .8l2.4-1.5l-2.8-.1zM466 110.2l5.1-1.4m.2 .8l2.3-1.5l-2.7-.1zM170.9 118.5l-2.3 1.7m-.3-.4l-.8 1.2l1.4-.5zM178.6 118.5l-2.7 1.7m-.3-.4l-1 1.3l1.6-.4zM186.4 118.5l-3.3 1.5m-.2-.5l-1.4 1.3l1.9-.2zM194.2 118.5l-4 1.2m-.2-.6l-1.8 1.2l2.2 0zM201.9 118.5l-5 1.1m-.2-.8l-2.3 1.3l2.6 .3zM209.7 118.5l-6.2 1.2m-.2-.9l-2.9 1.5l3.2 .4zM217.5 118.5l-6.9 1.7m-.2-1l-3.2 1.8l3.6 .2zM225.2 118.5l-6.7 1.3m-.2-1l-3.1 1.7l3.5 .3zM233 118.5l-6.4 0m0-1l-3.1 1l3.1 .9zM240.8 118.5l-4.4-.6m.1-.7l-2.3 .4l2.1 1zM248.5 118.5l-1.9-1.3m.2-.3l-1.1-.3l.7 1zM256.3 118.5l1.2-2.3m.4 .2l.2-1.3l-1 .9zM264.1 118.5l2.4-2.4m.4 .4l.8-1.6l-1.6 .8zM271.8 118.5l2.7-2.7m.4 .4l.9-1.8l-1.8 .9zM279.6 118.5l2.7-3.2m.5 .4l.8-2l-1.8 1.1zM287.4 118.5l2.5-3.5m.6 .4l.7-2.1l-1.8 1.3zM295.1 118.5l2.4-3.3m.5 .4l.6-2l-1.7 1.3zM302.9 118.5l2.8-1.1m.2 .5l1.2-1l-1.6 0zM310.7 118.5l1.3 3.7m-.6 .2l1.2 1.6l0-2zM318.4 118.5l.2 3.9m-.6 0l.7 1.9l.5-2zM326.2 118.5l.1 2.7m-.5 0l.5 1.3l.4-1.4zM341.7 118.5l2.5-1.5m.2 .4l1-1.1l-1.5 .3zM349.5 118.5l4-.6m.1 .6l1.9-.9l-2.1-.3zM357.3 118.5l5.7 1.7m-.3 .9l3.1 0l-2.6-1.7zM365 118.5l6.5 4.3m-.6 1l3.8 1.2l-2.6-3.1zM372.8 118.5l6.6 5.7m-.8 1l4.1 1.8l-2.4-3.8zM380.6 118.5l6.7 5.6m-.8 1l4.1 1.8l-2.5-3.7zM388.3 118.5l6.8 4.4m-.7 1l4 1.2l-2.7-3.2zM396.1 118.5l7.1 2.6m-.4 1l3.9 .2l-3.1-2.3zM403.9 118.5l7.5 .4m-.1 1.1l3.7-.9l-3.6-1.3zM411.6 118.5l7.8-1.7m.2 1.1l3.6-2l-4.1-.3zM419.4 118.5l7.9-3m.4 1.2l3.4-2.6l-4.3 .3zM427.2 118.5l7.9-3.4m.5 1.2l3.4-2.8l-4.4 .5zM434.9 118.5l7.9-3.1m.4 1.2l3.4-2.7l-4.3 .4zM442.7 118.5l7.9-2.3m.3 1.2l3.5-2.3l-4.2 0zM450.5 118.5l7.8-1.5m.2 1.1l3.6-1.9l-4-.4zM458.2 118.5l7.4-1.1m.2 1.1l3.5-1.7l-3.8-.5zM466 118.5l6.7-.9m.1 1l3.1-1.4l-3.4-.5zM163.1 126.9l-2 1.9m-.3-.3l-.7 1.3l1.3-.6zM170.9 126.9l-2.2 2.1m-.4-.4l-.7 1.4l1.4-.7zM178.6 126.9l-2.6 2.4m-.4-.4l-.9 1.6l1.7-.8zM186.4 126.9l-3.3 2.4m-.4-.5l-1.2 1.7l2-.7zM194.2 126.9l-4.4 2.4m-.4-.7l-1.8 1.8l2.5-.5zM201.9 126.9l-5.7 2.3m-.3-.9l-2.5 2l3.1-.3zM209.7 126.9l-6.8 2.1m-.3-1l-3 2l3.7 0zM217.5 126.9l-7.3 1.8m-.3-1.1l-3.3 2l3.8 .2zM225.2 126.9l-6.9 1.1m-.2-1l-3.2 1.6l3.6 .5zM233 126.9l-6.2-.5m.1-.9l-3.1 .7l3 1.2zM240.8 126.9l-4.6-3.4m.5-.7l-2.8-.9l1.8 2.4zM248.5 126.9l-2.6-3.6m.6-.4l-1.8-1.4l.7 2.2zM256.3 126.9l-1.1-3.8m.6-.2l-1.1-1.7l-.1 2zM264.1 126.9l-.2-3.1m.5 0l-.6-1.5l-.4 1.6zM271.8 126.9l0-3m.5 0l-.5-1.5l-.5 1.5zM279.6 126.9l-.4-3.1m.5-.1l-.7-1.5l-.3 1.6zM287.4 126.9l-1.4-3.1m.5-.2l-1.2-1.3l.2 1.7zM295.1 126.9l-2.9-2.2m.4-.5l-1.8-.6l1.1 1.6zM302.9 126.9l-4.8 .4m-.1-.7l-2.3 .9l2.4 .5zM310.7 126.9l-5.5 4m-.6-.8l-2.1 2.8l3.3-1.2zM318.4 126.9l-4.8 3.9m-.6-.7l-1.8 2.6l2.9-1.2zM326.2 126.9l-3.7 1.4m-.2-.6l-1.6 1.3l2.1-.1zM334 126.9l-2.7-1.7m.3-.4l-1.6-.4l1.1 1.3zM341.7 126.9l-.7-3.5m.6-.1l-.9-1.6l-.2 1.8zM349.5 126.9l1.6-3.1m.5 .3l.3-1.8l-1.3 1.3zM357.3 126.9l3.8 .4m-.1 .6l1.9-.4l-1.8-.8zM365 126.9l4.2 4m-.6 .6l2.7 1.3l-1.5-2.6zM372.8 126.9l4.7 5.4m-.8 .7l3.1 2l-1.5-3.4zM380.6 126.9l5.1 5.2m-.8 .8l3.3 1.8l-1.8-3.3zM388.3 126.9l5.5 3.9m-.6 .8l3.3 1.1l-2.1-2.7zM396.1 126.9l6.1 1.9m-.3 .9l3.3 0l-2.7-1.8zM403.9 126.9l7-.2m0 1l3.4-1.1l-3.5-.9zM411.6 126.9l7.8-2m.3 1.1l3.6-2.2l-4.2-.1zM419.4 126.9l8.5-3.3m.5 1.2l3.7-2.8l-4.7 .4zM427.2 126.9l9-3.7m.5 1.3l3.9-3.1l-5 .5zM434.9 126.9l9.4-3.3m.5 1.3l4.2-2.9l-5.1 .3zM442.7 126.9l9.5-2.3m.3 1.4l4.3-2.5l-5-.2zM450.5 126.9l9.2-1.3m.2 1.3l4.3-2l-4.7-.7zM458.2 126.9l8.5-.5m.1 1.2l4.1-1.5l-4.3-1zM466 126.9l7.5-.1m0 1.1l3.7-1.1l-3.7-1.1zM155.3 135.2l-1.5 2m-.3-.3l-.4 1.2l1.1-.7zM163.1 135.2l-1.6 2.1m-.4-.3l-.4 1.3l1.2-.8zM170.9 135.2l-1.9 2.6m-.4-.3l-.5 1.6l1.4-1zM178.6 135.2l-2.3 3.1m-.5-.4l-.7 1.9l1.6-1.1zM186.4 135.2l-3 3.4m-.5-.5l-.9 2.1l2-1.2zM194.2 135.2l-4 3.5m-.5-.6l-1.4 2.3l2.5-1.1zM201.9 135.2l-5 3.3m-.5-.8l-2 2.4l3-.9zM209.7 135.2l-5.8 2.7m-.4-.9l-2.4 2.2l3.3-.5zM217.5 135.2l-5.9 1.6m-.2-.9l-2.6 1.7l3.1 .1zM225.2 135.2l-4.7 0m0-.7l-2.3 .7l2.3 .7zM233 135.2l-3.4-2m.3-.5l-2-.5l1.3 1.5zM240.8 135.2l-2.6-4.1m.6-.4l-1.9-1.6l.7 2.4zM248.5 135.2l-2.5-4.7m.7-.4l-1.9-2l.5 2.7zM256.3 135.2l-2.3-4.3m.7-.4l-1.8-1.8l.5 2.5zM264.1 135.2l-2.3-3.3m.5-.4l-1.6-1.3l.6 2zM271.8 135.2l-2.3-2.7m.4-.4l-1.6-.9l.7 1.7zM279.6 135.2l-2.8-2.1m.3-.5l-1.7-.6l1.1 1.5zM287.4 135.2l-3.8-1.3m.2-.6l-2.1 0l1.7 1.3zM295.1 135.2l-5.8 0m0-.9l-2.9 .9l2.9 .9zM302.9 135.2l-8.1 2.3m-.3-1.2l-3.7 2.3l4.3 .1zM310.7 135.2l-9.3 4.1m-.6-1.3l-4 3.3l5.1-.7zM318.4 135.2l-9.2 3.4m-.5-1.3l-4 3l5-.4zM326.2 135.2l-8.9 .3m0-1.3l-4.4 1.4l4.4 1.2zM334 135.2l-7.1-3.9m.6-1l-4-.9l2.9 3zM341.7 135.2l-4.3-5.8m.9-.6l-3-2.2l1.3 3.5zM349.5 135.2l-2.3-5.1m.8-.4l-1.9-2.1l.4 2.9zM357.3 135.2l-1.6-1.5m.3-.3l-1-.5l.5 1zM365 135.2l1.1 4.1m-.6 .2l1.2 1.8l.1-2.2zM372.8 135.2l2.1 4.5m-.7 .3l1.8 1.9l-.4-2.6zM380.6 135.2l2.9 4.2m-.7 .4l2.1 1.6l-.8-2.5zM388.3 135.2l3.7 2.9m-.4 .6l2.3 .8l-1.4-2zM396.1 135.2l4.6 .9m-.1 .7l2.4-.3l-2.1-1.1zM403.9 135.2l5.9-1.2m.2 .9l2.7-1.5l-3.1-.3zM411.6 135.2l7.2-2.9m.4 1.1l3.1-2.5l-4 .4zM419.4 135.2l8.3-4m.6 1.2l3.5-3.2l-4.7 .8zM427.2 135.2l9.4-4.4m.6 1.3l3.9-3.4l-5.1 .9zM434.9 135.2l10.2-3.8m.5 1.3l4.2-3.1l-5.2 .4zM442.7 135.2l10.3-2.3m.3 1.4l4.6-2.4l-5.2-.3zM450.5 135.2l9.7-.7m.1 1.4l4.7-1.7l-4.9-1.1zM458.2 135.2l8.7 .4m-.1 1.3l4.4-1.1l-4.2-1.5zM466 135.2l7.6 1m-.1 1.1l3.9-.6l-3.6-1.6zM147.6 143.5l-1.5 2m-.4-.3l-.4 1.2l1.1-.7zM155.3 143.5l-1.4 2m-.4-.2l-.3 1.2l1-.8zM163.1 143.5l-1.3 2.3m-.4-.2l-.3 1.4l1.1-.9zM170.9 143.5l-1.5 3.1m-.5-.2l-.2 1.7l1.2-1.3zM178.6 143.5l-1.8 3.6m-.6-.3l-.3 2.1l1.5-1.5zM186.4 143.5l-2.3 4.1m-.6-.4l-.5 2.4l1.8-1.7zM194.2 143.5l-2.8 4.3m-.7-.4l-.7 2.5l2-1.7zM201.9 143.5l-3.2 3.9m-.6-.5l-1 2.4l2.2-1.4zM209.7 143.5l-3.6 3m-.5-.6l-1.3 2.1l2.2-.9zM217.5 143.5l-3.8 1.1m-.2-.6l-1.7 1.1l2.1 .1zM225.2 143.5l-3-1.5m.3-.5l-1.7-.3l1.2 1.2zM233 143.5l-1.8-3.2m.5-.3l-1.4-1.3l.4 1.9zM240.8 143.5l-1.3-4.1m.6-.2l-1.3-1.8l0 2.2zM248.5 143.5l-1.6-4.5m.7-.2l-1.5-2l.1 2.5zM256.3 143.5l-2-3.9m.6-.3l-1.6-1.6l.4 2.2zM264.1 143.5l-2.5-3.1m.5-.4l-1.7-1.2l.7 1.9zM271.8 143.5l-3-2.2m.4-.5l-1.8-.6l1.1 1.6zM279.6 143.5l-3.6-1.2m.2-.6l-2 0l1.6 1.2zM287.4 143.5l-4.5 .2m0-.7l-2.2 .8l2.2 .6zM295.1 143.5l-6.4 2m-.3-1l-2.8 2l3.4 0zM302.9 143.5l-8.5 4m-.6-1.2l-3.6 3.2l4.8-.8zM310.7 143.5l-10.5 5.1m-.6-1.3l-3.9 3.5l5.1-.9zM318.4 143.5l-11.2 3.6m-.4-1.3l-4.3 2.9l5.2-.2zM326.2 143.5l-10.9-.7m.1-1.4l-5.1 1.1l4.9 1.7zM334 143.5l-9.7-6.5m.8-1.2l-4.9-1.6l3.4 3.9zM341.7 143.5l-7-9m1.1-.9l-4.2-3.1l1.9 4.8zM349.5 143.5l-4.5-7m1-.7l-3.2-2.8l1.2 4.1zM357.3 143.5l-2.7-2.8m.5-.4l-1.8-1l.9 1.8zM365 143.5l-1.5 1.3m-.2-.3l-.5 .9l1-.4zM372.8 143.5l.2 3.4m-.6 0l.6 1.6l.5-1.7zM380.6 143.5l1.1 3.4m-.6 .2l1.1 1.5l0-1.9zM388.3 143.5l2.3 2m-.3 .4l1.5 .6l-.8-1.4zM396.1 143.5l3.5-.4m.1 .6l1.7-.7l-1.8-.4zM403.9 143.5l4.6-2.3m.4 .7l1.9-1.8l-2.6 .4zM411.6 143.5l6-4m.6 .9l2.4-2.9l-3.6 1.1zM419.4 143.5l7.4-5.1m.7 1.1l2.9-3.6l-4.4 1.5zM427.2 143.5l8.6-5.3m.7 1.2l3.5-3.8l-5 1.4zM434.9 143.5l9.6-4.4m.6 1.3l4-3.4l-5.1 .8zM442.7 143.5l9.9-2.2m.3 1.4l4.6-2.4l-5.2-.3zM450.5 143.5l9.2 .2m0 1.3l4.5-1.2l-4.5-1.4zM458.2 143.5l8 1.6m-.2 1.2l4.2-.4l-3.7-1.9zM466 143.5l6.8 2m-.3 1l3.6 0l-3-2zM147.6 151.9l-1.9 1.9m-.3-.3l-.6 1.2l1.2-.6zM155.3 151.9l-1.8 1.9m-.3-.3l-.6 1.2l1.2-.6zM163.1 151.9l-1.8 2.2m-.4-.3l-.5 1.4l1.2-.8zM170.9 151.9l-1.6 3.3m-.5-.3l-.3 1.9l1.3-1.4zM178.6 151.9l-1.5 3.9m-.6-.2l-.1 2.2l1.4-1.7zM186.4 151.9l-1.5 4.3m-.7-.2l-.1 2.4l1.4-1.9zM194.2 151.9l-1.4 4.3m-.7-.2l0 2.4l1.4-1.9zM201.9 151.9l-1.3 4m-.6-.2l0 2.2l1.3-1.7zM209.7 151.9l-1.1 3.3m-.5-.2l0 1.8l1.1-1.4zM225.2 151.9l-.2-2.6m.5 0l-.6-1.3l-.3 1.3zM233 151.9l0-3.7m.6 0l-.6-1.8l-.6 1.8zM240.8 151.9l-.1-4.1m.6 0l-.7-2l-.6 2zM248.5 151.9l-.5-4m.6-.1l-.9-1.9l-.4 2.1zM256.3 151.9l-1-3.5m.6-.2l-1.1-1.6l-.1 1.9zM264.1 151.9l-1.8-2.8m.5-.3l-1.4-1.1l.4 1.7zM271.8 151.9l-2.6-1.7m.3-.4l-1.6-.4l1 1.3zM279.6 151.9l-3.2-.4m.1-.5l-1.7 .3l1.5 .7zM287.4 151.9l-3.7 1.3m-.2-.6l-1.6 1.2l2-.1zM295.1 151.9l-4.8 3.5m-.5-.7l-1.8 2.5l2.9-1zM302.9 151.9l-6.5 5.7m-.8-1l-2.4 3.7l4-1.8zM310.7 151.9l-8.1 6.2m-.8-1.1l-3.1 4.1l4.8-1.9zM318.4 151.9l-9 3.8m-.5-1.3l-3.9 3.2l5-.6zM326.2 151.9l-8.4-1.1m.2-1.2l-4.3 .7l4 1.8zM334 151.9l-8.2-8.7m1-1l-4.4-2.7l2.4 4.6zM341.7 151.9l-6.4-10.2m1.2-.7l-3.9-3.5l1.5 5zM349.5 151.9l-5.2-9.1m1.2-.7l-3.7-3.6l1.3 5zM372.8 151.9l-.9 2.6m-.4-.1l0 1.4l.9-1.1zM380.6 151.9l-.2 2.9m-.5 0l.4 1.5l.6-1.4zM396.1 151.9l2.4-2m.3 .4l.9-1.4l-1.5 .6zM403.9 151.9l3.3-3.5m.5 .5l1.1-2.2l-2.2 1.2zM411.6 151.9l4.6-5.2m.8 .7l1.5-3.2l-3 1.9zM419.4 151.9l5.7-6.2m.9 .8l1.9-3.9l-3.7 2.2zM427.2 151.9l6.8-6.4m.9 1l2.4-4.1l-4.3 2.2zM434.9 151.9l7.7-5.1m.7 1.1l3.1-3.6l-4.5 1.4zM442.7 151.9l7.7-2m.3 1.1l3.5-2.1l-4.1-.1zM450.5 151.9l7.3 1.1m-.2 1.1l3.8-.5l-3.5-1.6zM458.2 151.9l6.3 2.7m-.4 .9l3.5 .4l-2.7-2.2zM466 151.9l5.2 2.9m-.4 .8l3 .7l-2.1-2.2zM116.5 160.1l-2.4 1m-.2-.4l-1 .9l1.4-.1zM124.3 160.1l-2.5 1.2m-.2-.4l-1.1 1l1.4-.1zM132 160.1l-2.6 1.5m-.2-.4l-1 1.2l1.5-.3zM139.8 160.1l-2.5 1.7m-.3-.4l-.9 1.3l1.5-.4zM147.6 160.1l-2.4 1.7m-.3-.4l-.9 1.2l1.5-.4zM155.3 160.1l-2.3 1.8m-.3-.4l-.8 1.3l1.4-.5zM163.1 160.1l-2.2 2.2m-.4-.4l-.7 1.5l1.5-.7zM170.9 160.1l-2 3.1m-.5-.3l-.5 1.8l1.5-1.2zM178.6 160.1l-1.5 3.7m-.6-.2l-.1 2.1l1.3-1.6zM186.4 160.1l-1 4m-.6-.2l.2 2.1l1.1-1.8zM194.2 160.1l-.5 4.1m-.6-.1l.4 2.1l.9-1.9zM201.9 160.1l0 3.7m-.6 0l.6 1.8l.6-1.8zM209.7 160.1l.8 2.7m-.5 .1l.8 1.2l.1-1.5zM225.2 160.1l1.4-2.4m.4 .2l.3-1.4l-1.1 1zM233 160.1l1-3.5m.6 .2l-.1-1.9l-1.1 1.6zM240.8 160.1l.6-3.8m.6 .1l-.3-2l-.9 1.8zM248.5 160.1l.4-3.8m.6 .1l-.4-2l-.8 1.8zM256.3 160.1l.4-3.2m.5 .1l-.4-1.6l-.7 1.5zM264.1 160.1l-.1-2.3m.4 0l-.5-1.1l-.3 1.1zM279.6 160.1l-2 .1m0-.4l-1 .4l1 .3zM287.4 160.1l-1.8 2.2m-.4-.3l-.5 1.4l1.3-.8zM295.1 160.1l-2.1 4.4m-.7-.3l-.3 2.5l1.7-1.8zM302.9 160.1l-3.2 6.9m-1-.5l-.6 3.9l2.6-2.9zM310.7 160.1l-4.2 7.3m-1.1-.6l-1 4.2l3.2-3zM318.4 160.1l-5 4.2m-.6-.8l-1.9 2.8l3.1-1.3zM326.2 160.1l-4.4-2.2m.3-.7l-2.5-.4l1.8 1.8zM334 160.1l-5.1-7.6m1.1-.7l-3.6-3l1.4 4.5zM341.7 160.1l-6.3-10.2m1.2-.7l-3.8-3.5l1.4 5zM349.5 160.1l-6.9-9.8m1.1-.8l-4-3.3l1.7 4.9zM357.3 160.1l-5.9-8.1m1.1-.8l-4-3.2l1.8 4.8zM365 160.1l-4-3.7m.6-.6l-2.5-1.2l1.4 2.4zM372.8 160.1l-1.5 1.8m-.3-.3l-.4 1.1l1-.6zM380.6 160.1l0 2.4m-.4 0l.4 1.2l.4-1.2zM388.3 160.1l1.4-1.5m.3 .3l.4-1l-1 .5zM396.1 160.1l1.9-3.1m.5 .3l.4-1.8l-1.4 1.2zM403.9 160.1l2.4-4.4m.7 .4l.5-2.5l-1.8 1.8zM411.6 160.1l3-5.9m.9 .5l.6-3.4l-2.4 2.5zM419.4 160.1l3.7-7.1m1 .5l.8-4l-2.9 3zM427.2 160.1l4.5-7.3m1.1 .7l1.1-4.3l-3.3 3zM434.9 160.1l5.3-5.7m.8 .8l1.8-3.6l-3.5 2zM442.7 160.1l5.6-1.9m.3 .8l2.5-1.8l-3 .1zM450.5 160.1l5.1 1.8m-.3 .8l2.8 .1l-2.2-1.6zM458.2 160.1l4.2 3.6m-.5 .6l2.6 1.1l-1.5-2.4zM466 160.1l3.4 3.5m-.5 .5l2.2 1.2l-1.1-2.2zM101 168.4l-2.5 .5m-.1-.4l-1.1 .7l1.3 .2zM108.7 168.4l-2.5 1m-.2-.4l-1.1 .9l1.4-.1zM116.5 168.4l-2.7 1.3m-.2-.5l-1.1 1.1l1.6-.2zM124.3 168.4l-3 1.4m-.2-.5l-1.3 1.2l1.7-.2zM132 168.4l-3.1 1.4m-.2-.5l-1.3 1.2l1.8-.2zM139.8 168.4l-2.9 1.4m-.2-.5l-1.2 1.2l1.7-.2zM147.6 168.4l-2.6 1.5m-.3-.4l-1 1.2l1.5-.3zM155.3 168.4l-2.4 1.6m-.3-.4l-.9 1.2l1.4-.4zM163.1 168.4l-2.2 2.2m-.4-.4l-.7 1.4l1.5-.7zM170.9 168.4l-2 2.8m-.5-.3l-.5 1.7l1.4-1zM178.6 168.4l-1.5 3.2m-.5-.2l-.2 1.8l1.3-1.4zM186.4 168.4l-.8 3.6m-.6-.1l.2 1.9l1-1.6zM194.2 168.4l-.1 3.6m-.6 0l.5 1.8l.6-1.8zM201.9 168.4l.7 3.1m-.5 .1l.8 1.4l.2-1.7zM209.7 168.4l1.4 2.1m-.4 .2l1 .8l-.3-1.3zM225.2 168.4l1.3-2.1m.4 .2l.3-1.3l-1 .8zM233 168.4l.5-3.3m.5 .1l-.3-1.7l-.8 1.5zM240.8 168.4l.3-3.8m.6 0l-.5-1.9l-.7 1.8zM248.5 168.4l.6-4m.6 .1l-.4-2l-.9 1.9zM256.3 168.4l1.1-3.3m.5 .2l0-1.8l-1.1 1.4zM264.1 168.4l1.4-1.6m.3 .3l.4-1l-1 .5zM287.4 168.4l.7 2.4m-.4 .1l.8 1.1l.1-1.3zM295.1 168.4l.4 5.1m-.8 .1l1 2.4l.6-2.6zM302.9 168.4l-.1 7.6m-1.1 0l1.1 3.8l1.2-3.7zM310.7 168.4l0 7.4m-1.1 0l1.1 3.7l1.1-3.6zM318.4 168.4l.8 3.9m-.6 .1l1 1.8l.2-2zM326.2 168.4l.5-2.2m.4 .1l-.2-1.2l-.6 1zM334 168.4l-1.2-5.1m.8-.2l-1.4-2.4l-.2 2.7zM341.7 168.4l-3.7-8.6m1.2-.5l-3.1-3.7l.6 4.8zM349.5 168.4l-6.6-10m1.2-.8l-3.9-3.4l1.6 4.9zM357.3 168.4l-7.4-9.4m1.1-.9l-4.2-3.1l2 4.8zM365 168.4l-7.7-6m.9-1.1l-4.6-1.9l2.9 4.1zM372.8 168.4l-4-1.3m.2-.6l-2.1 0l1.7 1.3zM388.3 168.4l1.9-1.8m.3 .3l.6-1.2l-1.2 .6zM396.1 168.4l1.7-3.3m.5 .3l.3-1.9l-1.4 1.3zM403.9 168.4l1.4-4.4m.7 .2l0-2.4l-1.4 2zM411.6 168.4l1.3-6.1m.9 .2l-.3-3.2l-1.6 2.8zM419.4 168.4l1.4-7.5m1.1 .2l-.4-3.9l-1.8 3.5zM427.2 168.4l1.7-8m1.2 .3l-.3-4.2l-2 3.7zM434.9 168.4l2.1-6.5m1 .3l.1-3.5l-2 2.9zM442.7 168.4l3-2.1m.3 .5l1.1-1.5l-1.8 .5zM450.5 168.4l2.3 2.7m-.4 .4l1.6 .9l-.7-1.7zM458.2 168.4l1.9 4m-.6 .3l1.6 1.7l-.3-2.3zM466 168.4l1.9 3.7m-.6 .3l1.6 1.5l-.4-2.1zM69.9 176.7l-2.3 1.2m-.2-.4l-.9 1l1.3-.2zM77.7 176.7l-2.4 .8m-.1-.4l-1 .8l1.3 0zM93.2 176.7l-2.4 .4m-.1-.4l-1.1 .6l1.3 .2zM101 176.7l-2.5 .6m-.1-.4l-1.1 .7l1.3 .1zM108.7 176.7l-2.6 1.2m-.2-.4l-1.1 1l1.5-.2zM116.5 176.7l-2.8 1.7m-.3-.5l-1.1 1.3l1.7-.4zM124.3 176.7l-3.3 1.7m-.3-.5l-1.3 1.4l1.9-.3zM132 176.7l-3.5 1.2m-.2-.6l-1.5 1.2l1.9 0zM139.8 176.7l-3.2 .8m-.1-.5l-1.4 .9l1.7 .1zM147.6 176.7l-2.6 1m-.2-.4l-1.1 .9l1.4 0zM155.3 176.7l-2.2 1.6m-.3-.4l-.8 1.2l1.4-.4zM163.1 176.7l-2.2 2.2m-.4-.4l-.7 1.5l1.5-.7zM170.9 176.7l-2.2 2.6m-.4-.4l-.6 1.6l1.5-.9zM178.6 176.7l-1.9 2.7m-.5-.3l-.5 1.7l1.4-1zM186.4 176.7l-1.3 3m-.5-.2l-.1 1.7l1.1-1.2zM194.2 176.7l-.3 3m-.5 0l.4 1.5l.6-1.4zM201.9 176.7l.6 2.6m-.4 .1l.8 1.2l.1-1.4zM209.7 176.7l1.3 1.8m-.3 .2l.9 .7l-.3-1.1zM233 176.7l.2-2.8m.5 0l-.4-1.4l-.6 1.4zM240.8 176.7l-.2-3.8m.6 0l-.7-1.8l-.5 1.9zM248.5 176.7l-.1-4.3m.7 0l-.7-2.1l-.6 2.1zM256.3 176.7l.2-3.8m.6 0l-.5-1.9l-.7 1.8zM287.4 176.7l.8 2.1m-.4 .2l.8 .9l0-1.2zM295.1 176.7l.7 5.8m-.9 .1l1.2 2.8l.5-3zM302.9 176.7l.8 7.5m-1.1 .1l1.5 3.6l.7-3.8zM310.7 176.7l1.6 6.4m-1 .2l1.7 2.9l.2-3.4zM318.4 176.7l2.5 3.1m-.5 .4l1.7 1.1l-.7-1.9zM326.2 176.7l3-.8m.1 .5l1.3-.9l-1.6-.1zM334 176.7l2-3.5m.6 .3l.4-2l-1.5 1.4zM341.7 176.7l.2-4.8m.7 0l-.6-2.4l-.8 2.3zM349.5 176.7l-3-5.9m.9-.4l-2.3-2.5l.6 3.4zM357.3 176.7l-6-9.1m1.2-.8l-3.9-3.4l1.6 5zM365 176.7l-4.9-7.4m1.1-.7l-3.5-3l1.3 4.4zM372.8 176.7l-4.5-7.8m1.1-.7l-3.3-3.2l1.1 4.5zM380.6 176.7l-.2-2.5m.4 0l-.5-1.2l-.4 1.3zM388.3 176.7l1-2.4m.4 .2l.1-1.4l-.9 1zM396.1 176.7l.9-3.2m.5 .1l-.1-1.7l-1 1.4zM403.9 176.7l.4-4m.6 .1l-.5-2l-.8 1.9zM411.6 176.7l-.3-5.6m.8 0l-1-2.7l-.7 2.8zM419.4 176.7l-.9-7.3m1.1-.1l-1.5-3.5l-.7 3.7zM427.2 176.7l-1.3-7.8m1.1-.2l-1.8-3.7l-.5 4zM434.9 176.7l-2.1-6.3m.9-.3l-2-2.8l.1 3.4zM442.7 176.7l-2.9-2.1m.3-.5l-1.8-.6l1.1 1.5zM450.5 176.7l-2.1 2.3m-.4-.3l-.6 1.5l1.4-.8zM458.2 176.7l-.9 3.7m-.6-.1l.2 2l1-1.7zM466 176.7l-.1 3.7m-.6 0l.5 1.9l.7-1.8zM46.6 185l-1.7 1.5m-.3-.3l-.5 1l1.1-.5zM54.4 185l-1.8 1.8m-.3-.3l-.6 1.2l1.2-.6zM62.1 185l-1.9 1.7m-.3-.3l-.7 1.2l1.2-.5zM69.9 185l-2 1.3m-.2-.4l-.8 1l1.2-.3zM77.7 185l-2 .8m-.2-.4l-.8 .8l1.1-.1zM85.4 185l-1.9 .4m-.1-.4l-.9 .6l1 .1zM93.2 185l-1.9 .5m-.1-.4l-.9 .6l1 .1zM101 185l-2 .9m-.2-.4l-.8 .8l1.2-.1zM108.7 185l-2.2 1.7m-.3-.4l-.8 1.2l1.3-.4zM116.5 185l-2.6 2.4m-.4-.4l-.9 1.6l1.7-.8zM124.3 185l-3.4 2.4m-.4-.5l-1.3 1.7l2-.7zM132 185l-3.9 1m-.2-.6l-1.8 1.1l2.1 .1zM139.8 185l-3.3-.3m0-.5l-1.7 .4l1.6 .7zM147.6 185l-2.5 .1m0-.4l-1.2 .5l1.3 .4zM155.3 185l-2.1 1.7m-.3-.4l-.8 1.2l1.3-.5zM163.1 185l-2.3 2.4m-.4-.4l-.7 1.6l1.5-.8zM170.9 185l-2.4 2.5m-.4-.4l-.8 1.6l1.6-.8zM178.6 185l-2.3 2.3m-.4-.4l-.7 1.5l1.5-.8zM186.4 185l-1.7 2.2m-.4-.3l-.5 1.4l1.2-.8zM194.2 185l-.8 2.1m-.4-.1l0 1.2l.8-.9zM201.9 185l.2 2m-.4 0l.5 .9l.3-1zM233 185l-.2-2.5m.4 0l-.5-1.2l-.3 1.2zM240.8 185l-.6-3.5m.6-.1l-.8-1.6l-.3 1.8zM248.5 185l-1.1-4m.6-.2l-1.2-1.8l-.1 2.2zM256.3 185l-1.7-3.5m.6-.3l-1.4-1.5l.3 2zM264.1 185l-1.8-1.9m.3-.3l-1.2-.7l.5 1.3zM287.4 185l-1 2.6m-.4-.2l0 1.4l.9-1.1zM295.1 185l-1 5.1m-.8-.2l.3 2.7l1.3-2.4zM302.9 185l-.1 6.4m-1 0l.9 3.2l1-3.1zM310.7 185l.9 4.9m-.8 .1l1.2 2.3l.3-2.5zM318.4 185l2.2 2.4m-.4 .4l1.5 .8l-.7-1.5zM326.2 185l2.9-1m.2 .5l1.3-1l-1.6 0zM334 185l2.9-2.9m.5 .5l1-1.9l-1.9 1zM341.7 185l2.5-2.9m.5 .4l.8-1.8l-1.7 1zM349.5 185l1.2-3.5m.6 .2l0-1.9l-1.2 1.5zM357.3 185l-.2-6.7m1 0l-1.1-3.3l-.9 3.3zM365 185l-1.9-7.9m1.2-.3l-2.1-3.6l-.2 4.2zM372.8 185l-1.9-9.8m1.4-.3l-2.3-4.5l-.4 5.1zM380.6 185l-.9-6.9m1-.1l-1.5-3.3l-.6 3.5zM388.3 185l-.1-2.7m.5 0l-.5-1.3l-.4 1.4zM396.1 185l-.1-3m.5 0l-.6-1.5l-.4 1.5zM403.9 185l-.5-3.6m.6-.1l-.8-1.7l-.4 1.8zM411.6 185l-1-4.4m.7-.2l-1.2-2l-.2 2.3zM419.4 185l-2-6.6m1-.3l-2-3l0 3.6zM427.2 185l-3.2-6.7m1-.5l-2.6-2.8l.6 3.8zM434.9 185l-4.3-5.1m.8-.6l-2.9-1.9l1.4 3.2zM442.7 185l-4.7-2m.3-.7l-2.6-.3l2 1.7zM450.5 185l-4.1 .8m-.1-.6l-1.9 1.1l2.1 .2zM458.2 185l-3 2.5m-.4-.5l-1.1 1.7l1.9-.8zM466 185l-2.1 3m-.5-.3l-.5 1.8l1.5-1.1zM38.8 193.2l-2.1 .4m-.1-.4l-1 .6l1.1 .2zM46.6 193.2l-1.7 1.5m-.3-.3l-.6 1.1l1.1-.5zM54.4 193.2l-1.7 2m-.3-.3l-.5 1.3l1.2-.7zM62.1 193.2l-1.6 1.6m-.3-.3l-.5 1.1l1.1-.5zM108.7 193.2l-1.2 2.2m-.4-.2l-.2 1.3l1-.9zM116.5 193.2l-1.4 3.3m-.5-.2l-.2 1.8l1.2-1.4zM124.3 193.2l-2.4 3.7m-.6-.4l-.6 2.2l1.8-1.5zM132 193.2l-3.6 .6m-.1-.6l-1.7 .9l1.9 .3zM139.8 193.2l-3.1-1.4m.2-.5l-1.7-.2l1.3 1.2zM147.6 193.2l-2.7-.8m.1-.5l-1.5 0l1.2 .9zM155.3 193.2l-2.6 1.9m-.3-.4l-1 1.4l1.6-.5zM163.1 193.2l-2.6 2.6m-.4-.4l-.9 1.7l1.7-.8zM170.9 193.2l-2.6 2.4m-.4-.4l-.9 1.6l1.7-.8zM178.6 193.2l-2.5 1.8m-.3-.4l-.9 1.3l1.5-.5zM186.4 193.2l-1.9 1.4m-.2-.3l-.7 1l1.2-.4zM194.2 193.2l-1.4 1.3m-.2-.3l-.4 .9l.9-.4zM233 193.2l-.7-2.1m.4-.1l-.7-.9l0 1.1zM240.8 193.2l-1.1-3m.5-.2l-1.1-1.3l.1 1.7zM248.5 193.2l-1.6-3.5m.6-.3l-1.4-1.4l.3 2zM256.3 193.2l-2.2-3.2m.5-.3l-1.6-1.2l.6 1.9zM264.1 193.2l-2.3-2.4m.4-.4l-1.5-.8l.8 1.6zM271.8 193.2l-2-1.6m.3-.3l-1.2-.4l.7 1.1zM287.4 193.2l-1.6 3.1m-.5-.3l-.3 1.8l1.3-1.3zM295.1 193.2l-1.8 4.8m-.7-.3l-.1 2.6l1.6-2.1zM302.9 193.2l-1.4 5.3m-.8-.2l.1 2.8l1.5-2.4zM310.7 193.2l-.6 3.9m-.6-.1l.3 2l.9-1.8zM318.4 193.2l.4 1.8m-.3 .1l.5 .8l.2-1zM326.2 193.2l1-1.8m.3 .2l.2-1.1l-.8 .7zM334 193.2l.9-3.4m.5 .1l-.1-1.8l-1 1.5zM341.7 193.2l.7-2.5m.4 .1l-.1-1.4l-.8 1.1zM349.5 193.2l.9-3m.5 .2l0-1.6l-1 1.3zM357.3 193.2l.3-4.7m.7 .1l-.6-2.4l-.9 2.3zM365 193.2l-.7-6.6m1-.1l-1.3-3.1l-.6 3.4zM372.8 193.2l-2.1-7.1m1-.3l-2.1-3.2l0 3.8zM380.6 193.2l-4.3-8.9m1.3-.6l-3.4-3.8l.8 5zM388.3 193.2l-1.6-3.5m.6-.3l-1.3-1.5l.2 2zM396.1 193.2l-1.1-2.9m.5-.2l-1-1.2l.1 1.6zM403.9 193.2l-1.2-3.3m.5-.2l-1.1-1.4l0 1.8zM411.6 193.2l-1.4-3.9m.6-.2l-1.3-1.7l.1 2.1zM419.4 193.2l-2.4-5m.8-.4l-2-2.1l.4 2.8zM427.2 193.2l-3.8-5.2m.8-.6l-2.7-2l1.1 3.1zM434.9 193.2l-4.9-4m.6-.7l-3-1.2l1.8 2.7zM442.7 193.2l-5.3-2.1m.3-.8l-2.9-.2l2.3 1.8zM450.5 193.2l-4.7-.1m0-.7l-2.3 .7l2.3 .8zM458.2 193.2l-3.8 1.3m-.2-.6l-1.7 1.3l2.1 0zM466 193.2l-2.9 1.9m-.3-.5l-1.1 1.4l1.7-.5zM38.8 201.4l-2.9 .1m0-.5l-1.4 .5l1.4 .4zM46.6 201.4l-2.6 1.1m-.2-.4l-1.1 1l1.5-.1zM54.4 201.4l-1.7 1.5m-.3-.3l-.6 1.1l1.1-.5zM77.7 201.4l2.5-.1m0 .4l1.2-.5l-1.2-.4zM85.4 201.4l2.6 .5m-.1 .4l1.4-.2l-1.2-.7zM93.2 201.4l1.8 1.6m-.3 .3l1.2 .5l-.6-1.1zM101 201.4l.8 2m-.4 .1l.7 .9l0-1.1zM108.7 201.4l-.3 2.8m-.5 0l.3 1.4l.6-1.3zM116.5 201.4l-1.1 3.7m-.6-.2l.1 2l1.1-1.6zM124.3 201.4l-.8 4.1m-.6-.1l.2 2.1l1.1-1.9zM132 201.4l-1.1 1.7m-.3-.2l-.3 1l.9-.6zM139.8 201.4l-2.6-.8m.1-.4l-1.4 0l1.1 .9zM147.6 201.4l-3.5-.3m.1-.6l-1.8 .4l1.7 .7zM155.3 201.4l-3.4 1.4m-.2-.5l-1.4 1.3l1.9-.2zM163.1 201.4l-2.8 2.2m-.4-.5l-1 1.6l1.7-.7zM170.9 201.4l-2.2 2.3m-.4-.4l-.7 1.5l1.5-.8zM178.6 201.4l-1.9 1.2m-.2-.3l-.7 .9l1.2-.3zM240.8 201.4l-1.1-2.6m.4-.2l-1-1.1l.1 1.5zM248.5 201.4l-1.3-3.1m.5-.2l-1.2-1.3l.2 1.7zM256.3 201.4l-1.9-2.8m.5-.3l-1.4-1.1l.5 1.7zM264.1 201.4l-2.5-2.3m.4-.4l-1.6-.7l.9 1.5zM271.8 201.4l-2.8-1.7m.3-.5l-1.7-.4l1.1 1.3zM279.6 201.4l-3.1 0m0-.5l-1.5 .5l1.6 .5zM287.4 201.4l-2.7 3.2m-.5-.4l-.8 2l1.8-1.1zM295.1 201.4l-2.6 4.7m-.7-.4l-.6 2.7l2-1.9zM302.9 201.4l-2.4 4.7m-.7-.4l-.4 2.7l1.9-2zM310.7 201.4l-2 3.2m-.5-.3l-.5 1.9l1.5-1.3zM318.4 201.4l-1.9 1m-.2-.3l-.8 .8l1.1-.1zM326.2 201.4l-1.5-1.8m.3-.3l-1.1-.6l.4 1.2zM334 201.4l-1.6-2.9m.5-.3l-1.3-1.2l.3 1.7zM341.7 201.4l-1.6-2.9m.5-.3l-1.3-1.2l.3 1.7zM357.3 201.4l-.7-4.2m.7-.1l-1-1.9l-.3 2.2zM365 201.4l-.5-2.1m.4-.1l-.6-1l-.1 1.1zM372.8 201.4l-2-5.2m.8-.3l-1.8-2.3l.2 2.9zM380.6 201.4l-4.5-8.1m1.2-.7l-3.4-3.3l1.1 4.6zM388.3 201.4l-4.6-7.3m1.1-.7l-3.3-2.9l1.2 4.3zM396.1 201.4l-1.8-2.9m.5-.3l-1.4-1.1l.4 1.7zM403.9 201.4l-1.8-3m.5-.3l-1.4-1.2l.4 1.8zM411.6 201.4l-2.1-3.3m.5-.3l-1.6-1.3l.5 2zM419.4 201.4l-2.8-3.7m.6-.4l-2-1.4l.8 2.3zM427.2 201.4l-3.9-3.8m.6-.6l-2.5-1.3l1.3 2.5zM434.9 201.4l-4.8-3.1m.5-.7l-2.8-.8l1.9 2.3zM442.7 201.4l-5.1-2m.3-.8l-2.8-.2l2.2 1.8zM450.5 201.4l-4.6-.8m.1-.7l-2.4 .3l2.2 1.1zM458.2 201.4l-3.9 .2m0-.6l-1.9 .7l2 .5zM466 201.4l-3.2 .9m-.1-.5l-1.4 .9l1.7 .1zM31.1 209.7l-3.2-.1m0-.5l-1.6 .5l1.6 .6zM38.8 209.7l-3.2 0m0-.5l-1.6 .5l1.6 .5zM46.6 209.7l-2.8 .1m0-.5l-1.4 .5l1.4 .4zM69.9 209.7l2.2-2m.3 .4l.7-1.3l-1.4 .6zM77.7 209.7l3.2-1m.2 .5l1.4-1l-1.7 0zM85.4 209.7l3.3 .9m-.2 .5l1.8-.1l-1.5-1zM93.2 209.7l2.6 2.3m-.4 .4l1.6 .7l-.9-1.5zM101 209.7l1.7 2.9m-.5 .3l1.3 1.2l-.3-1.7zM108.7 209.7l.4 3.6m-.6 .1l.8 1.7l.4-1.8zM116.5 209.7l-.5 4.1m-.6-.1l.4 2.1l.9-1.9zM124.3 209.7l-.6 3.9m-.6-.1l.3 2l.9-1.8zM132 209.7l-1.1 2.5m-.4-.2l-.1 1.4l1-1.1zM139.8 209.7l-2.4 .8m-.1-.4l-1 .8l1.3 0zM147.6 209.7l-3.2 .4m-.1-.5l-1.5 .7l1.6 .3zM155.3 209.7l-3.2 1m-.2-.5l-1.4 1l1.7 0zM163.1 209.7l-2.7 1.5m-.2-.4l-1.1 1.2l1.6-.3zM170.9 209.7l-1.9 1.5m-.3-.3l-.7 1.1l1.2-.4zM240.8 209.7l.5-2.5m.4 .1l-.2-1.3l-.7 1.2zM248.5 209.7l.4-2.9m.5 .1l-.3-1.5l-.7 1.4zM256.3 209.7l-.4-2.3m.4-.1l-.6-1.1l-.2 1.2zM264.1 209.7l-1.8-1.5m.3-.3l-1.2-.4l.6 1.1zM271.8 209.7l-2.7-1.3m.2-.4l-1.5-.2l1.1 1.1zM279.6 209.7l-3.1 .5m-.1-.5l-1.5 .8l1.6 .3zM287.4 209.7l-2.9 2.9m-.5-.5l-1 1.9l1.9-1zM295.1 209.7l-2.6 4.4m-.7-.4l-.6 2.6l2-1.8zM302.9 209.7l-2.5 4.6m-.7-.4l-.5 2.6l1.9-1.9zM310.7 209.7l-2.5 2.9m-.5-.4l-.8 1.8l1.7-1zM318.4 209.7l-2.6 .4m-.1-.5l-1.2 .7l1.4 .2zM326.2 209.7l-2.6-1.6m.3-.4l-1.5-.3l1 1.2zM334 209.7l-2.5-2.6m.4-.4l-1.7-.9l.8 1.7zM365 209.7l-.7-1.9m.4-.1l-.7-.8l0 1.1zM372.8 209.7l-.8-1.9m.3-.2l-.7-.8l.1 1.1zM380.6 209.7l-3-5.5m.8-.5l-2.3-2.3l.7 3.2zM388.3 209.7l-5.3-8.3m1.2-.8l-3.8-3.3l1.4 4.8zM396.1 209.7l-2.1-2.9m.5-.3l-1.5-1.1l.6 1.7zM403.9 209.7l-2.2-2.7m.4-.4l-1.5-1l.7 1.7zM411.6 209.7l-2.6-2.8m.5-.4l-1.7-1l.8 1.8zM419.4 209.7l-3-2.9m.5-.5l-2-.9l1 1.9zM427.2 209.7l-3.7-2.9m.4-.6l-2.3-.8l1.4 2zM434.9 209.7l-4.2-2.5m.4-.7l-2.5-.6l1.7 1.9zM442.7 209.7l-4.4-1.9m.3-.7l-2.5-.3l1.9 1.6zM450.5 209.7l-4-1.4m.2-.6l-2.2-.1l1.8 1.3zM458.2 209.7l-3.6-.7m.1-.6l-1.9 .2l1.7 .9zM466 209.7l-3.2 0m0-.5l-1.6 .5l1.6 .5zM23.3 217.9l-3.3-.1m0-.5l-1.6 .5l1.6 .6zM31.1 217.9l-3.3-.1m0-.5l-1.6 .5l1.6 .6zM38.8 217.9l-3.2-.3m0-.5l-1.6 .4l1.6 .7zM46.6 217.9l-2.8-1m.2-.5l-1.5 0l1.2 1zM54.4 217.9l-1.6-2m.3-.3l-1.2-.7l.5 1.3zM62.1 217.9l-.2-2.9m.5 0l-.6-1.4l-.4 1.5zM69.9 217.9l.8-3.2m.5 .1l-.1-1.7l-.9 1.4zM77.7 217.9l1.8-2.2m.4 .3l.5-1.4l-1.3 .8zM85.4 217.9l1.9 1.8m-.3 .3l1.2 .6l-.6-1.2zM93.2 217.9l1.2 3m-.5 .2l1.1 1.3l-.1-1.7zM101 217.9l.7 3.6m-.6 .1l.9 1.7l.2-1.9zM108.7 217.9l.1 4.4m-.7 0l.7 2.2l.7-2.2zM116.5 217.9l-.6 4.6m-.7-.1l.4 2.3l1-2.2zM124.3 217.9l-.9 4m-.6-.1l.2 2.1l1.1-1.8zM132 217.9l-1.4 3.1m-.5-.2l-.2 1.7l1.2-1.3zM139.8 217.9l-2.2 1.9m-.3-.4l-.8 1.3l1.4-.5zM147.6 217.9l-2.8 1m-.2-.5l-1.2 1l1.6 0zM155.3 217.9l-2.8 .7m-.1-.5l-1.3 .8l1.5 .1zM163.1 217.9l-2.4 .7m-.1-.4l-1.1 .7l1.3 .1zM170.9 217.9l-1.8 .6m-.1-.3l-.8 .6l1 .1zM225.2 217.9l1.6-1.2m.2 .3l.5-.9l-1 .3zM233 217.9l2.4-1.6m.3 .4l.9-1.2l-1.5 .4zM240.8 217.9l3-2.2m.4 .5l1.1-1.6l-1.8 .6zM248.5 217.9l2.8-2.1m.3 .5l1-1.5l-1.7 .6zM256.3 217.9l2.3-1m.2 .4l1-.9l-1.3 .1zM279.6 217.9l-1.3 1.4m-.3-.2l-.4 .9l.9-.4zM287.4 217.9l-1.6 3.1m-.5-.3l-.3 1.8l1.3-1.3zM295.1 217.9l-1.7 4.2m-.7-.3l-.2 2.3l1.5-1.8zM302.9 217.9l-1.6 4.3m-.7-.3l-.1 2.4l1.5-1.9zM310.7 217.9l-1.7 3m-.5-.3l-.3 1.8l1.3-1.2zM318.4 217.9l-2.5 .8m-.1-.4l-1.1 .8l1.4 .1zM326.2 217.9l-2.8-1.2m.2-.5l-1.6-.1l1.2 1.1zM357.3 217.9l-.9-1.8m.3-.2l-.8-.7l.1 1zM365 217.9l-.8-1.9m.3-.2l-.8-.8l.1 1.1zM372.8 217.9l-.8-1.8m.3-.2l-.7-.7l.1 1zM388.3 217.9l-5-8.7m1.2-.7l-3.7-3.6l1.3 5zM396.1 217.9l-2.8-3.9m.6-.4l-2-1.5l.8 2.4zM403.9 217.9l-2.3-2.4m.4-.4l-1.5-.8l.7 1.6zM411.6 217.9l-2.7-2.3m.4-.4l-1.7-.7l1 1.6zM419.4 217.9l-3.1-2.4m.4-.5l-1.9-.7l1.1 1.7zM427.2 217.9l-3.4-2.4m.4-.5l-2.1-.6l1.3 1.7zM434.9 217.9l-3.5-2.3m.4-.6l-2.1-.6l1.4 1.7zM442.7 217.9l-3.5-2.1m.3-.6l-2-.5l1.4 1.6zM450.5 217.9l-3.3-1.9m.3-.5l-1.9-.4l1.3 1.5zM458.2 217.9l-3.2-1.3m.2-.5l-1.8-.1l1.3 1.2zM466 217.9l-2.9-.6m.1-.5l-1.5 .2l1.3 .8zM15.5 226.1l-3.3-.2m0-.5l-1.7 .4l1.6 .6zM23.3 226.1l-3.3 0m0-.5l-1.7 .5l1.6 .6zM31.1 226.1l-3.3-.1m0-.5l-1.6 .5l1.6 .6zM38.8 226.1l-3.1-.6m.1-.5l-1.6 .2l1.4 .8zM46.6 226.1l-2.5-2m.3-.4l-1.6-.6l.9 1.4zM54.4 226.1l-1.8-2.8m.5-.3l-1.3-1.1l.4 1.7zM62.1 226.1l-1.3-3.3m.5-.2l-1.2-1.4l.1 1.9zM69.9 226.1l-1.4-3.2m.5-.2l-1.2-1.4l.2 1.8zM77.7 226.1l-2.2-1.9m.3-.4l-1.4-.6l.7 1.3zM85.4 226.1l-2.1 1.4m-.2-.4l-.8 1.1l1.3-.3zM93.2 226.1l-1.3 3m-.5-.2l-.2 1.7l1.2-1.3zM101 226.1l-1.1 3.8m-.6-.2l.1 2l1.2-1.7zM108.7 226.1l-1 4.7m-.7-.2l.2 2.5l1.2-2.2zM116.5 226.1l-1 5m-.8-.1l.3 2.6l1.2-2.3zM124.3 226.1l-1.2 4.2m-.7-.2l.1 2.3l1.2-1.9zM132 226.1l-1.6 3.4m-.6-.3l-.2 2l1.3-1.4zM139.8 226.1l-2.2 2.4m-.4-.4l-.7 1.6l1.5-.8zM147.6 226.1l-2.6 1.2m-.2-.4l-1.1 1l1.5-.2zM155.3 226.1l-2.5 .3m0-.4l-1.2 .6l1.3 .3zM163.1 226.1l-2-.1m0-.4l-1 .3l1 .4zM225.2 226.1l1.5-2.3m.4 .3l.3-1.4l-1.1 .9zM233 226.1l2.4-2.7m.4 .4l.8-1.7l-1.6 .9zM240.8 226.1l3.3-2.6m.4 .5l1.2-1.8l-2 .8zM248.5 226.1l3.7-1.5m.2 .6l1.6-1.3l-2.1 .2zM256.3 226.1l3.3-.1m0 .5l1.6-.6l-1.7-.5zM264.1 226.1l2.8 .7m-.1 .5l1.5-.1l-1.3-.8zM271.8 226.1l2.1 1.2m-.2 .4l1.2 .2l-.8-1zM279.6 226.1l.9 2.4m-.4 .2l.8 1l0-1.3zM287.4 226.1l0 3.6m-.6 0l.6 1.8l.6-1.8zM295.1 226.1l-.6 4.4m-.7-.1l.4 2.3l1-2.1zM302.9 226.1l-1.1 4.5m-.7-.2l.2 2.4l1.2-2zM310.7 226.1l-1.6 3.4m-.5-.3l-.3 1.9l1.3-1.4zM318.4 226.1l-2.5 1.4m-.2-.4l-1 1.1l1.5-.3zM388.3 226.1l-1.1-2.4m.4-.2l-1-1l.1 1.4zM396.1 226.1l-3.6-5.8m.9-.5l-2.6-2.3l.9 3.4zM403.9 226.1l-2.1-2.1m.3-.4l-1.4-.7l.7 1.4zM411.6 226.1l-2.6-1.9m.3-.4l-1.6-.5l1 1.4zM419.4 226.1l-2.9-2.1m.3-.5l-1.8-.6l1.1 1.5zM427.2 226.1l-3.1-2.3m.4-.5l-1.9-.6l1.2 1.6zM434.9 226.1l-3.1-2.4m.4-.5l-1.9-.7l1.2 1.7zM442.7 226.1l-3-2.4m.4-.5l-1.9-.7l1.1 1.7zM450.5 226.1l-2.9-2.2m.4-.5l-1.8-.6l1.1 1.6zM458.2 226.1l-2.7-1.7m.3-.5l-1.6-.4l1.1 1.3zM466 226.1l-2.7-.9m.2-.5l-1.5 0l1.2 .9zM7.8 234.2l-3.5-.6m.1-.6l-1.8 .3l1.6 .9zM15.5 234.2l-3.5-.2m0-.6l-1.8 .5l1.7 .7zM23.3 234.2l-3.5-.1m0-.6l-1.7 .5l1.7 .6zM31.1 234.2l-3.4-.4m.1-.6l-1.7 .4l1.6 .7zM38.8 234.2l-3.1-1.1m.2-.5l-1.7 0l1.3 1.1zM46.6 234.2l-2.6-2.3m.4-.4l-1.7-.7l.9 1.5zM54.4 234.2l-2.4-2.9m.5-.4l-1.6-1.1l.7 1.8zM62.1 234.2l-2.5-3.1m.5-.4l-1.7-1.1l.7 1.9zM69.9 234.2l-2.9-2.6m.4-.5l-1.9-.8l1 1.7zM77.7 234.2l-3.5-1.2m.2-.6l-1.9-.1l1.5 1.2zM85.4 234.2l-3.5 .7m-.1-.6l-1.6 .9l1.8 .2zM93.2 234.2l-2.9 2.4m-.4-.5l-1 1.7l1.8-.7zM101 234.2l-2.3 3.4m-.5-.4l-.6 2l1.7-1.3zM108.7 234.2l-1.9 4.5m-.7-.3l-.2 2.5l1.6-1.9zM116.5 234.2l-1.8 5m-.8-.3l-.1 2.8l1.7-2.2zM124.3 234.2l-1.8 4.5m-.7-.3l-.2 2.5l1.6-1.9zM132 234.2l-1.8 3.6m-.6-.3l-.3 2.1l1.5-1.5zM139.8 234.2l-2.1 2.7m-.4-.3l-.6 1.7l1.5-1zM147.6 234.2l-2.4 1.1m-.2-.4l-1 1l1.4-.2zM155.3 234.2l-1.9-.5m.1-.4l-1 .1l.9 .6zM217.5 234.2l0-2.4m.4 0l-.4-1.2l-.4 1.2zM225.2 234.2l.7-3.1m.5 .1l-.2-1.7l-.8 1.4zM233 234.2l1.3-3.6m.6 .2l.1-2l-1.2 1.6zM240.8 234.2l1.9-3.6m.6 .3l.4-2.1l-1.5 1.5zM248.5 234.2l2.8-1.6m.3 .5l1.1-1.2l-1.6 .3zM256.3 234.2l2.6 .6m-.1 .4l1.4-.1l-1.2-.8zM264.1 234.2l2.5 1.3m-.2 .4l1.4 .2l-1-1zM271.8 234.2l2.3 1.9m-.3 .4l1.4 .5l-.8-1.3zM279.6 234.2l1.7 2.9m-.5 .3l1.3 1.1l-.4-1.7zM287.4 234.2l1 4.1m-.6 .2l1.2 1.9l.1-2.2zM295.1 234.2l.2 5.4m-.8 0l.9 2.6l.7-2.7zM302.9 234.2l-.8 5.5m-.8-.1l.4 2.8l1.2-2.6zM310.7 234.2l-1.7 3.9m-.6-.3l-.2 2.2l1.4-1.7zM318.4 234.2l-2.6 2m-.3-.4l-1 1.4l1.6-.5zM388.3 234.2l-.8-2.5m.4-.1l-.8-1.1l0 1.4zM396.1 234.2l-3.1-7.8m1.1-.5l-2.7-3.4l.4 4.3zM403.9 234.2l-1.6-1.6m.3-.3l-1.1-.5l.5 1.1zM411.6 234.2l-2.2-1.4m.2-.4l-1.3-.3l.9 1.1zM419.4 234.2l-2.4-1.9m.3-.4l-1.5-.5l.9 1.3zM427.2 234.2l-2.6-2.2m.4-.4l-1.6-.7l.9 1.5zM434.9 234.2l-2.7-2.4m.4-.4l-1.7-.8l.9 1.6zM442.7 234.2l-2.7-2.6m.4-.4l-1.7-.8l.9 1.7zM450.5 234.2l-2.6-2.5m.4-.4l-1.7-.8l.9 1.6zM458.2 234.2l-2.6-1.9m.3-.4l-1.6-.5l1 1.3zM466 234.2l-2.6-1m.2-.4l-1.5-.1l1.1 1zM0 242.4l-4.2-1.4m.2-.7l-2.3 0l1.8 1.4zM7.8 242.4l-4.1-.6m.1-.6l-2.1 .4l1.9 .9zM15.5 242.4l-3.9-.3m0-.6l-2 .5l1.9 .8zM23.3 242.4l-3.8-.3m0-.6l-1.9 .5l1.8 .7zM31.1 242.4l-3.7-.6m.1-.6l-1.9 .3l1.7 .9zM38.8 242.4l-3.5-1.3m.2-.6l-2-.1l1.5 1.2zM46.6 242.4l-3.4-2.2m.4-.5l-2-.5l1.3 1.6zM54.4 242.4l-3.4-2.8m.4-.5l-2.1-.8l1.2 1.9zM62.1 242.4l-3.6-2.6m.4-.6l-2.2-.7l1.4 1.9zM69.9 242.4l-3.8-2.1m.3-.6l-2.2-.4l1.6 1.7zM77.7 242.4l-4-.9m.1-.6l-2.1 .2l1.8 1.1zM85.4 242.4l-4 .3m-.1-.6l-1.9 .8l2 .5zM93.2 242.4l-3.8 1.8m-.3-.6l-1.6 1.5l2.1-.3zM101 242.4l-3.3 2.8m-.4-.5l-1.2 1.9l2.1-.8zM108.7 242.4l-3.1 4.5m-.7-.5l-.9 2.7l2.2-1.7zM116.5 242.4l-3 5m-.8-.5l-.7 2.9l2.3-2zM124.3 242.4l-2.6 4.4m-.7-.4l-.6 2.5l1.9-1.7zM132 242.4l-2.1 3.4m-.5-.3l-.5 2l1.6-1.4zM139.8 242.4l-1.7 2.5m-.4-.3l-.4 1.5l1.2-1zM217.5 242.4l-.5-2.7m.5-.1l-.7-1.3l-.2 1.4zM225.2 242.4l-.2-3.5m.6 0l-.7-1.7l-.4 1.7zM233 242.4l-.2-3.9m.6 0l-.7-1.9l-.5 1.9zM240.8 242.4l-.4-3.7m.6-.1l-.8-1.7l-.4 1.9zM248.5 242.4l-.7-2.2m.4-.1l-.7-1l0 1.2zM264.1 242.4l1.7 .9m-.2 .3l1 .1l-.7-.7zM271.8 242.4l2 1.8m-.3 .3l1.3 .6l-.7-1.3zM279.6 242.4l1.9 3.1m-.5 .3l1.4 1.2l-.4-1.8zM287.4 242.4l1.6 4.8m-.7 .2l1.5 2.1l0-2.6zM295.1 242.4l.7 6.9m-1 .1l1.4 3.3l.7-3.5zM302.9 242.4l-.7 7m-1-.1l.7 3.6l1.4-3.4zM310.7 242.4l-1.8 5m-.8-.3l-.1 2.8l1.7-2.2zM318.4 242.4l-2.6 2.4m-.4-.4l-.9 1.6l1.7-.7zM380.6 242.4l-.5-1.8m.3-.1l-.6-.8l-.1 1zM388.3 242.4l-.7-2.6m.4-.1l-.8-1.2l-.1 1.4zM396.1 242.4l-3.1-8.6m1.3-.4l-2.8-3.8l.3 4.7zM419.4 242.4l-1.3-1.7m.3-.2l-1-.6l.4 1.1zM427.2 242.4l-1.8-2m.3-.3l-1.2-.7l.5 1.3zM434.9 242.4l-2-2.4m.4-.3l-1.4-.8l.6 1.5zM442.7 242.4l-2.2-2.5m.4-.4l-1.5-.9l.7 1.6zM450.5 242.4l-2.5-2.4m.4-.4l-1.6-.8l.8 1.6zM458.2 242.4l-2.7-1.9m.3-.4l-1.6-.5l1 1.4zM466 242.4l-2.6-1.3m.2-.4l-1.5-.2l1.1 1.1zM0 250.6l-5-1.4m.2-.8l-2.7 .1l2.2 1.5zM7.8 250.6l-4.6-1.1m.2-.7l-2.4 .2l2.1 1.2zM15.5 250.6l-4.2-.6m.1-.7l-2.1 .4l2 .9zM23.3 250.6l-4-.4m.1-.6l-2.1 .4l1.9 .9zM31.1 250.6l-3.9-.6m.1-.6l-2 .3l1.8 .9zM38.8 250.6l-4-1.1m.2-.6l-2.1 .1l1.8 1.2zM46.6 250.6l-4.4-1.9m.3-.7l-2.4-.2l1.9 1.6zM54.4 250.6l-5.1-2.7m.4-.8l-2.9-.6l2.1 2.1zM62.1 250.6l-5.4-2.6m.4-.8l-3-.4l2.3 2.1zM69.9 250.6l-5.6-2.4m.4-.8l-3.1-.3l2.4 2zM77.7 250.6l-5-1.4m.2-.8l-2.7 .1l2.2 1.5zM85.4 250.6l-5.1 .8m-.1-.8l-2.4 1.2l2.6 .4zM93.2 250.6l-5.7 1.9m-.3-.9l-2.5 1.8l3.1-.1zM101 250.6l-5.7 2.8m-.4-.9l-2.4 2.2l3.2-.5zM108.7 250.6l-5.5 4.2m-.6-.8l-2.1 2.9l3.3-1.3zM116.5 250.6l-4.6 4.4m-.7-.7l-1.6 2.9l2.9-1.5zM124.3 250.6l-3.5 3.6m-.6-.5l-1.2 2.3l2.3-1.3zM132 250.6l-2.7 2.7m-.4-.4l-.9 1.7l1.7-.9zM139.8 250.6l-1.9 1.5m-.3-.3l-.7 1.1l1.2-.4zM217.5 250.6l-.4-2.8m.5-.1l-.7-1.3l-.3 1.4zM225.2 250.6l-.7-3.3m.5-.1l-.9-1.5l-.2 1.8zM233 250.6l-1.2-3.6m.6-.2l-1.1-1.6l0 1.9zM240.8 250.6l-1.6-3.4m.5-.3l-1.3-1.4l.2 1.9zM248.5 250.6l-1.5-2.6m.4-.3l-1.2-1l.3 1.5zM271.8 250.6l1.8 1.5m-.3 .3l1.1 .4l-.6-1.1zM279.6 250.6l1.5 3.2m-.5 .2l1.3 1.3l-.2-1.8zM287.4 250.6l1 5.2m-.8 .1l1.3 2.4l.3-2.7zM295.1 250.6l.4 8.5m-1.2 .1l1.4 4.1l1.1-4.2zM302.9 250.6l-.5 8.6m-1.3-.1l1 4.3l1.5-4.2zM310.7 250.6l-1.5 6.3m-.9-.2l.2 3.3l1.7-2.9zM380.6 250.6l-.4-1.8m.3-.1l-.5-.8l-.2 1zM388.3 250.6l-.6-2.6m.4-.1l-.7-1.2l-.1 1.4zM396.1 250.6l-2.8-8.9m1.3-.4l-2.7-4l.1 4.8zM403.9 250.6l-.5-2m.4-.1l-.6-.9l-.1 1.1zM434.9 250.6l-.7-2.2m.4-.1l-.8-1l0 1.2zM442.7 250.6l-1.4-2.3m.4-.2l-1.1-.9l.3 1.4zM450.5 250.6l-1.8-2.3m.4-.3l-1.3-.8l.5 1.4zM458.2 250.6l-2-2m.3-.3l-1.4-.6l.7 1.3zM466 250.6l-2.2-1.5m.3-.4l-1.3-.4l.8 1.1zM0 258.7l-4.4-1.4m.2-.7l-2.4 0l2 1.4zM7.8 258.7l-4.4-1.3m.2-.7l-2.4 0l2 1.3zM15.5 258.7l-4.3-.7m.1-.7l-2.2 .3l2 1zM23.3 258.7l-4.2-.6m.1-.7l-2.2 .4l2 .9zM31.1 258.7l-4.1-.7m.1-.6l-2.1 .3l1.9 1zM38.8 258.7l-4.1-.9m.1-.6l-2.1 .2l1.9 1.1zM46.6 258.7l-4.2-1.4m.2-.7l-2.3 0l1.8 1.3zM54.4 258.7l-5-2m.3-.8l-2.8-.2l2.2 1.7zM62.1 258.7l-6-2m.3-.9l-3.3-.1l2.7 1.9zM69.9 258.7l-7.3-1.8m.3-1.1l-3.8 .2l3.3 1.9zM77.7 258.7l-9.5-1.3m.2-1.4l-4.9 .7l4.5 2zM85.4 258.7l-9.3 .7m-.1-1.3l-4.5 1.7l4.7 1zM93.2 258.7l-7.6 1.5m-.2-1.1l-3.5 1.9l4 .4zM101 258.7l-6.9 2.5m-.4-1l-3 2.3l3.7-.2zM108.7 258.7l-6.3 3.5m-.5-.9l-2.6 2.6l3.6-.8zM116.5 258.7l-5.4 3.5m-.5-.8l-2.1 2.5l3.2-.9zM124.3 258.7l-4.3 2.7m-.4-.7l-1.7 2l2.6-.7zM132 258.7l-3.4 1.6m-.3-.6l-1.4 1.3l1.9-.2zM139.8 258.7l-2.7 .1m0-.5l-1.3 .5l1.4 .4zM147.6 258.7l-1.7-1.5m.3-.3l-1.1-.5l.5 1.1zM155.3 258.7l-.6-2.4m.4-.1l-.7-1.1l-.1 1.3zM163.1 258.7l.2-2.1m.4 0l-.3-1.1l-.5 1zM217.5 258.7l-.1-2.3m.4 0l-.5-1.1l-.3 1.2zM225.2 258.7l-.9-2.9m.5-.1l-.9-1.3l0 1.6zM233 258.7l-1.6-3.1m.5-.3l-1.3-1.3l.3 1.8zM240.8 258.7l-2-3.1m.5-.3l-1.5-1.2l.5 1.9zM248.5 258.7l-1.9-3.1m.5-.3l-1.4-1.2l.4 1.8zM256.3 258.7l-.9-2.9m.5-.2l-.9-1.2l0 1.6zM264.1 258.7l.6-1.8m.3 .1l0-1l-.6 .8zM271.8 258.7l1.6 1.2m-.2 .3l1 .3l-.6-.9zM279.6 258.7l1.1 3.6m-.6 .2l1.1 1.6l0-1.9zM287.4 258.7l.6 6.2m-.9 .1l1.2 3l.7-3.1zM295.1 258.7l.4 8.7m-1.3 .1l1.5 4.2l1.1-4.3zM302.9 258.7l.6 9.1m-1.3 .1l1.6 4.4l1.1-4.6zM310.7 258.7l.7 7.1m-1.1 .1l1.4 3.4l.7-3.6zM318.4 258.7l.9 2.4m-.4 .2l.9 1l0-1.3zM388.3 258.7l-.3-2.7m.5-.1l-.6-1.3l-.3 1.4zM396.1 258.7l-.8-9.4m1.4-.1l-1.7-4.5l-1 4.8zM403.9 258.7l.3-2.5m.4 0l-.3-1.3l-.6 1.2zM411.6 258.7l1.1-1.8m.3 .2l.2-1.1l-.9 .7zM419.4 258.7l1.7-1.3m.2 .3l.6-1l-1.1 .3zM427.2 258.7l1.8-1.2m.2 .3l.7-.9l-1.1 .3zM434.9 258.7l1.4-1.5m.3 .3l.4-1l-.9 .5zM450.5 258.7l-.4-2.2m.4-.1l-.6-1l-.2 1.1zM458.2 258.7l-1-2m.4-.2l-.8-.8l.1 1.1zM466 258.7l-1.4-1.5m.3-.3l-1-.5l.4 1zM0 266.9l-4.6-1.3m.2-.7l-2.5 .1l2.1 1.4zM7.8 266.9l-4.8-1.3m.2-.7l-2.6 .1l2.2 1.4zM15.5 266.9l-4.6-.9m.1-.7l-2.4 .3l2.1 1.2zM23.3 266.9l-4.3-.8m.1-.7l-2.2 .3l2 1.1zM31.1 266.9l-4.1-.8m.1-.6l-2.1 .2l1.9 1.1zM38.8 266.9l-3.9-.9m.2-.6l-2.1 .2l1.8 1.1zM46.6 266.9l-3.9-1.1m.2-.6l-2.1 .1l1.8 1.2zM54.4 266.9l-4.2-1.2m.2-.7l-2.3 .1l1.9 1.2zM62.1 266.9l-5-1m.2-.8l-2.6 .3l2.3 1.3zM69.9 266.9l-5.8-.4m.1-.9l-2.9 .7l2.8 1.1zM77.7 266.9l-6.3 .5m-.1-1l-3.1 1.2l3.2 .7zM85.4 266.9l-6.7-.7m.1-1l-3.4 .6l3.2 1.4zM93.2 266.9l-6.5 .6m-.1-1l-3.1 1.3l3.3 .7zM101 266.9l-6.3 2.1m-.3-.9l-2.8 2l3.4-.1zM108.7 266.9l-6.1 2.9m-.4-.9l-2.6 2.3l3.4-.5zM116.5 266.9l-5.7 2.8m-.4-.9l-2.4 2.2l3.2-.5zM124.3 266.9l-4.9 1.9m-.3-.8l-2.1 1.7l2.7-.2zM132 266.9l-4.1 .5m-.1-.6l-1.9 .9l2.1 .4zM139.8 266.9l-3.3-1m.2-.5l-1.8 0l1.5 1zM147.6 266.9l-2.4-2.2m.4-.4l-1.6-.7l.8 1.5zM155.3 266.9l-1.8-2.8m.5-.3l-1.3-1.1l.4 1.7zM163.1 266.9l-1.7-2.2m.4-.3l-1.2-.8l.5 1.4zM225.2 266.9l-.8-2.2m.4-.1l-.8-.9l0 1.2zM233 266.9l-1.6-2.5m.4-.3l-1.2-1l.4 1.5zM240.8 266.9l-2.1-2.8m.5-.3l-1.5-1.1l.6 1.7zM248.5 266.9l-2.1-3.5m.6-.3l-1.6-1.4l.5 2zM256.3 266.9l-1.2-3.8m.6-.2l-1.2-1.7l0 2.1zM264.1 266.9l.2-2.9m.5 0l-.4-1.5l-.6 1.4zM279.6 266.9l1.1 3.8m-.6 .2l1.1 1.7l.1-2zM287.4 266.9l.9 6.6m-1 .1l1.4 3.1l.5-3.4zM295.1 266.9l1.1 8.4m-1.2 .2l1.8 4l.7-4.3zM302.9 266.9l1.8 8.4m-1.2 .3l2.1 3.9l.3-4.4zM310.7 266.9l2.7 6.2m-.9 .4l2.3 2.6l-.4-3.5zM388.3 266.9l.1-2.7m.5 0l-.4-1.3l-.5 1.3zM396.1 266.9l.8-9.6m1.4 .1l-1-4.8l-1.8 4.6zM403.9 266.9l.8-3m.5 .1l-.1-1.6l-.9 1.3zM411.6 266.9l1.5-2.4m.4 .3l.3-1.4l-1.1 .9zM419.4 266.9l2.2-1.7m.3 .4l.8-1.2l-1.4 .5zM427.2 266.9l2.6-1.2m.2 .4l1.1-1l-1.5 .1zM434.9 266.9l2.6-.8m.1 .4l1.2-.9l-1.4 0zM442.7 266.9l2.4-.7m.1 .4l1.1-.8l-1.3-.1zM450.5 266.9l1.7-1.2m.2 .3l.6-.9l-1 .3zM0 275l-4.7-1.2m.2-.7l-2.5 .2l2.1 1.3zM7.8 275l-4.8-1.3m.2-.7l-2.6 .1l2.2 1.4zM15.5 275l-4.6-1.2m.2-.7l-2.5 .1l2.1 1.3zM23.3 275l-4.2-1.1m.2-.7l-2.2 .1l1.9 1.2zM31.1 275l-3.9-1.1m.2-.6l-2.1 .1l1.7 1.2zM38.8 275l-3.7-1.2m.2-.6l-2 0l1.6 1.2zM46.6 275l-3.5-1.1m.2-.6l-1.9 0l1.5 1.1zM54.4 275l-3.5-.9m.1-.6l-1.9 .1l1.6 1zM62.1 275l-3.5-.8m.1-.6l-1.8 .2l1.6 1zM69.9 275l-3.4-.3m0-.6l-1.7 .4l1.6 .7zM77.7 275l-3.4 .3m0-.6l-1.6 .7l1.7 .4zM85.4 275l-3.7 .1m0-.6l-1.8 .7l1.9 .5zM93.2 275l-4.2 .9m-.1-.7l-1.9 1.1l2.2 .2zM101 275l-5 2.1m-.3-.8l-2.1 1.8l2.8-.3zM108.7 275l-5.4 2.8m-.4-.8l-2.2 2.2l3.1-.6zM116.5 275l-5.4 2.6m-.4-.8l-2.3 2.1l3.1-.4zM124.3 275l-5.2 1.3m-.2-.8l-2.3 1.4l2.7 .1zM132 275l-4.4-.4m.1-.7l-2.2 .5l2.1 .9zM139.8 275l-3.6-1.9m.3-.6l-2.1-.4l1.5 1.5zM147.6 275l-2.8-2.8m.5-.4l-1.8-.9l.9 1.8zM155.3 275l-2.3-3m.5-.4l-1.6-1.1l.7 1.8zM163.1 275l-2.1-2.4m.4-.4l-1.5-.8l.7 1.5zM170.9 275l-1.9-1.4m.3-.3l-1.2-.4l.7 1zM233 275l-1.1-1.9m.3-.2l-.9-.8l.2 1.1zM240.8 275l-1.6-2.4m.4-.3l-1.2-.9l.4 1.5zM248.5 275l-1.9-3.7m.6-.3l-1.5-1.5l.3 2.1zM256.3 275l-1-5.4m.8-.1l-1.3-2.5l-.4 2.8zM264.1 275l.4-3.9m.6 .1l-.4-2l-.8 1.8zM279.6 275l1 3.9m-.6 .2l1.1 1.8l.1-2.1zM287.4 275l1 6.6m-1 .2l1.5 3.1l.5-3.4zM295.1 275l1.5 7.7m-1.1 .2l1.9 3.6l.4-4zM302.9 275l2.3 7.2m-1.1 .3l2.2 3.2l-.1-3.9zM310.7 275l3.2 5.2m-.8 .5l2.3 2.1l-.8-3zM388.3 275l.3-2.6m.5 .1l-.3-1.4l-.6 1.2zM396.1 275l1.6-9.6m1.4 .2l-.6-5l-2.2 4.5zM403.9 275l1-3.3m.5 .2l-.1-1.8l-1 1.5zM411.6 275l1.4-2.8m.5 .2l.2-1.6l-1.2 1.2zM419.4 275l2-2.3m.4 .3l.6-1.4l-1.3 .8zM427.2 275l2.6-1.6m.3 .4l1-1.2l-1.5 .3zM434.9 275l3-.9m.1 .5l1.3-.9l-1.6-.1zM442.7 275l2.9-.1m0 .5l1.4-.6l-1.5-.4zM450.5 275l2.3 .2m0 .4l1.2-.3l-1.1-.5zM0 283.1l-4.4-1m.2-.7l-2.3 .2l2 1.2zM7.8 283.1l-4.5-1.3m.2-.7l-2.4 0l2 1.4zM15.5 283.1l-4.2-1.5m.2-.7l-2.3-.1l1.8 1.4zM23.3 283.1l-3.9-1.6m.2-.6l-2.2-.1l1.7 1.4zM31.1 283.1l-3.6-1.6m.2-.6l-2-.2l1.5 1.3zM38.8 283.1l-3.3-1.6m.3-.5l-1.9-.2l1.4 1.3zM46.6 283.1l-3-1.5m.3-.5l-1.7-.3l1.2 1.2zM54.4 283.1l-2.6-1.4m.2-.4l-1.5-.3l1.1 1.1zM62.1 283.1l-2.2-1.2m.2-.4l-1.3-.2l.9 1zM69.9 283.1l-2.1-.3m.1-.4l-1.1 .2l1 .6zM77.7 283.1l-2.4 .7m-.1-.4l-1.1 .8l1.3 .1zM85.4 283.1l-3 1.1m-.2-.5l-1.3 1l1.6 0zM93.2 283.1l-3.5 1.6m-.3-.6l-1.5 1.4l2-.2zM101 283.1l-4 2.6m-.4-.6l-1.6 1.9l2.4-.7zM108.7 283.1l-4.4 3m-.5-.7l-1.7 2.1l2.6-.8zM116.5 283.1l-4.5 2.6m-.4-.7l-1.8 2l2.6-.6zM124.3 283.1l-4.6 1.2m-.2-.7l-2.1 1.3l2.4 .1zM132 283.1l-4.1-1.2m.2-.7l-2.2 .1l1.9 1.2zM139.8 283.1l-3.3-2.7m.4-.5l-2.1-.8l1.2 1.9zM147.6 283.1l-2.7-3.4m.5-.4l-1.9-1.2l.8 2.1zM155.3 283.1l-2.3-3.3m.5-.4l-1.7-1.3l.6 2zM163.1 283.1l-2.2-2.7m.4-.4l-1.5-1l.6 1.7zM170.9 283.1l-2.1-1.9m.3-.4l-1.3-.6l.7 1.3zM178.6 283.1l-1.8-1.2m.2-.3l-1.1-.3l.6 .9zM240.8 283.1l.1-2.4m.4 0l-.4-1.2l-.5 1.1zM248.5 283.1l.6-3.8m.6 .1l-.3-2l-.9 1.8zM256.3 283.1l.2-6.2m.9 0l-.8-3.1l-1 3zM264.1 283.1l-.1-4.6m.7 0l-.8-2.3l-.7 2.3zM279.6 283.1l.1 4m-.6 0l.7 2l.6-2zM287.4 283.1l.6 6.1m-.9 .1l1.2 2.9l.6-3.1zM295.1 283.1l1.4 6.9m-1 .2l1.7 3.2l.3-3.6zM302.9 283.1l2.3 5.9m-.9 .3l2 2.5l-.3-3.2zM310.7 283.1l1.2 1.7m-.3 .2l.9 .6l-.3-1.1zM388.3 283.1l.4-2.5m.4 .1l-.2-1.3l-.6 1.2zM396.1 283.1l1.8-9.6m1.4 .3l-.5-5l-2.3 4.5zM403.9 283.1l.9-3.5m.6 .1l-.1-1.9l-1 1.6zM411.6 283.1l1.2-3.2m.5 .2l.1-1.7l-1.1 1.4zM419.4 283.1l1.5-2.7m.5 .3l.3-1.6l-1.2 1.1zM427.2 283.1l2-2.2m.4 .3l.6-1.4l-1.3 .7zM434.9 283.1l2.5-1.3m.2 .4l1-1.1l-1.5 .2zM442.7 283.1l2.6 .5m-.1 .5l1.4-.2l-1.2-.7zM450.5 283.1l1.9 1.4m-.2 .3l1.2 .3l-.7-1zM0 291.2l-3.8-.8m.1-.6l-2 .2l1.8 1zM7.8 291.2l-3.8-1.5m.2-.6l-2.1-.1l1.6 1.3zM15.5 291.2l-3.6-1.8m.3-.6l-2.1-.3l1.5 1.5zM23.3 291.2l-3.5-1.9m.3-.6l-2-.4l1.4 1.5zM31.1 291.2l-3.3-1.9m.3-.5l-1.9-.4l1.3 1.5zM38.8 291.2l-3-2m.3-.5l-1.8-.5l1.2 1.5zM46.6 291.2l-2.8-2m.3-.5l-1.7-.5l1 1.4zM54.4 291.2l-2.5-2m.3-.4l-1.5-.6l.9 1.4zM62.1 291.2l-2.2-1.7m.3-.4l-1.4-.5l.8 1.2zM69.9 291.2l-2.1-.2m0-.4l-1.1 .3l1 .5zM77.7 291.2l-2.4 1.4m-.2-.4l-.9 1.1l1.4-.3zM85.4 291.2l-2.8 1.9m-.3-.5l-1.1 1.4l1.7-.5zM93.2 291.2l-3.1 2.3m-.4-.5l-1.2 1.6l1.9-.6zM101 291.2l-3.3 2.8m-.4-.5l-1.2 1.9l2-.8zM108.7 291.2l-3.2 2.9m-.5-.5l-1.1 1.9l2-.9zM116.5 291.2l-3.1 2.6m-.4-.5l-1.1 1.8l1.9-.8zM124.3 291.2l-3 1.3m-.2-.5l-1.2 1.1l1.7-.2zM132 291.2l-2.7-2m.3-.4l-1.7-.5l1 1.4zM139.8 291.2l-2.5-3.2m.5-.4l-1.7-1.2l.7 2zM147.6 291.2l-2.4-3.7m.6-.4l-1.7-1.4l.6 2.2zM155.3 291.2l-2.3-3.6m.6-.4l-1.7-1.4l.6 2.1zM163.1 291.2l-2.4-2.8m.5-.4l-1.6-1l.7 1.8zM170.9 291.2l-2.2-2.2m.4-.4l-1.5-.7l.7 1.4zM178.6 291.2l-2-1.7m.3-.3l-1.3-.5l.7 1.2zM186.4 291.2l-1.6-1.3m.2-.3l-1-.4l.6 .9zM233 291.2l.6-1.9m.4 .1l-.1-1l-.6 .8zM240.8 291.2l.9-2.7m.5 .2l0-1.5l-.9 1.2zM248.5 291.2l.9-3.8m.6 .1l-.2-2l-1 1.7zM256.3 291.2l0-4.8m.7 0l-.7-2.4l-.7 2.3zM264.1 291.2l-1.4-3.7m.6-.2l-1.3-1.6l.1 2.1zM271.8 291.2l-2.5-.1m0-.4l-1.2 .4l1.2 .5zM279.6 291.2l-1.2 3.3m-.5-.2l-.1 1.8l1.2-1.4zM287.4 291.2l0 4.8m-.8 0l.7 2.4l.8-2.4zM295.1 291.2l1.2 5.5m-.8 .2l1.4 2.5l.3-2.9zM302.9 291.2l.9 1.9m-.3 .2l.8 .8l-.1-1.1zM388.3 291.2l1.1-5.8m.9 .2l-.3-3l-1.4 2.7zM396.1 291.2l1.8-9.7m1.4 .2l-.5-5l-2.2 4.6zM403.9 291.2l.7-3.6m.6 .1l-.2-1.9l-.9 1.7zM411.6 291.2l.7-3.3m.5 .1l-.2-1.8l-.9 1.5zM419.4 291.2l.8-3m.5 .1l-.1-1.6l-.9 1.3zM427.2 291.2l.9-2.5m.4 .2l0-1.4l-.9 1.1zM450.5 291.2l.8 2m-.4 .1l.8 .8l0-1.1zM458.2 291.2l.7 1.9m-.4 .1l.7 .8l0-1.1zM0 299.3l-3.3-1m.2-.5l-1.8 .1l1.4 1zM7.8 299.3l-3.1-1.6m.3-.5l-1.8-.3l1.3 1.3zM15.5 299.3l-3.1-2m.3-.5l-1.9-.5l1.2 1.5zM23.3 299.3l-3.1-2.1m.3-.5l-1.9-.5l1.2 1.5zM31.1 299.3l-3-2.2m.4-.5l-1.8-.6l1.1 1.6zM38.8 299.3l-2.9-2.2m.4-.5l-1.8-.6l1.1 1.6zM46.6 299.3l-2.8-2.2m.4-.5l-1.7-.6l1 1.5zM54.4 299.3l-2.8-2m.3-.5l-1.7-.5l1.1 1.5zM62.1 299.3l-3-1.5m.3-.5l-1.8-.3l1.2 1.3zM69.9 299.3l-3.4-.1m0-.6l-1.7 .5l1.7 .6zM77.7 299.3l-3.2 1.5m-.2-.5l-1.3 1.2l1.8-.2zM85.4 299.3l-3 2.1m-.3-.5l-1.1 1.5l1.8-.6zM93.2 299.3l-2.9 2.5m-.4-.5l-1 1.7l1.8-.8zM101 299.3l-2.7 2.8m-.4-.4l-.9 1.8l1.8-.9zM108.7 299.3l-2.4 2.8m-.4-.4l-.7 1.7l1.6-1zM116.5 299.3l-2 2.3m-.4-.3l-.6 1.5l1.4-.8zM132 299.3l-1.3-1.9m.3-.2l-1-.7l.3 1.2zM139.8 299.3l-1.6-3.2m.5-.3l-1.3-1.3l.3 1.8zM155.3 299.3l-2.2-3.5m.6-.3l-1.6-1.4l.5 2.1zM163.1 299.3l-2.3-3m.5-.4l-1.6-1.1l.7 1.8zM170.9 299.3l-2.2-2.5m.4-.4l-1.5-.8l.7 1.6zM178.6 299.3l-2.1-2m.3-.3l-1.4-.6l.7 1.3zM186.4 299.3l-1.8-1.7m.3-.3l-1.2-.5l.6 1.1zM194.2 299.3l-1.5-1.4m.3-.3l-1-.4l.5 1zM233 299.3l.5-2.2m.4 .1l-.2-1.2l-.6 1zM240.8 299.3l.6-2.8m.5 .1l-.2-1.5l-.8 1.3zM248.5 299.3l.3-3.5m.6 .1l-.4-1.8l-.7 1.7zM256.3 299.3l-.5-3.7m.6-.1l-.9-1.7l-.3 1.9zM264.1 299.3l-1.7-2.8m.5-.3l-1.3-1.1l.4 1.6zM271.8 299.3l-2.5-.3m.1-.4l-1.3 .3l1.2 .6zM279.6 299.3l-1.7 2.4m-.4-.3l-.4 1.5l1.3-.9zM287.4 299.3l-.5 3.7m-.6-.1l.4 1.9l.8-1.8zM295.1 299.3l.7 4.1m-.6 .1l1 1.9l.3-2.1zM302.9 299.3l1.7 3.8m-.6 .3l1.4 1.6l-.3-2.1zM372.8 299.3l1.3-3.8m.6 .2l.1-2.1l-1.3 1.7zM380.6 299.3l1-3.9m.6 .2l-.1-2.1l-1.1 1.8zM388.3 299.3l.8-3.9m.6 .1l-.2-2.1l-1 1.8zM396.1 299.3l1.3-8m1.2 .2l-.6-4.1l-1.8 3.8zM403.9 299.3l.4-3.6m.6 .1l-.4-1.8l-.8 1.7zM411.6 299.3l.3-3.3m.5 .1l-.4-1.7l-.7 1.6zM419.4 299.3l.1-2.9m.5 0l-.4-1.5l-.6 1.4zM427.2 299.3l-.1-2.4m.4 0l-.5-1.2l-.4 1.2zM458.2 299.3l.6 1.8m-.3 .1l.6 .8l.1-1zM314.3 22l0 19.7m-1.4 0l1.4 5l1.4-5zM330 13.2l11 14.5m-1.1 .8l4.1 3.1l-1.9-4.8zM307 49l-6 1.3m-.2-.9l-2.8 1.6l3.2 .2zM307 57l-6 0m0-.9l-3 .9l3 .9zM307 65l-5.4-1.3m.2-.8l-2.8 .2l2.4 1.5zM301 73l-4-2m.3-.6l-2.3-.4l1.7 1.6zM136 137l-3.4 2m-.3-.5l-1.3 1.5l2-.5z" fill="#000" stroke-width=".95"/>
<path d="M372.8 25.7l-.5-2M365 34.2l1.6-1.2M372.8 34.2l-.2-2M450.5 34.2l-.4 2.6M365 42.7l1.8 .9M372.8 42.7l-.2-2M380.6 42.7l-1-2.2M365 51.2l1.2 1.6M372.8 51.2l-.8 1.8M380.6 51.2l-1.7-1M372.8 59.7l0 2.2M380.6 59.7l-1.8 .9M403.9 93.4l2.3 .3M450.5 93.4l.3-2.1M458.2 93.4l1.6-1.6M334 118.5l1.9-.6M217.5 151.9l-.7 1.9M388.3 151.9l1.7 1M217.5 160.1l2.6 .4M271.8 160.1l-2.1-1.5M217.5 168.4l2.8 .2M271.8 168.4l2 0M279.6 168.4l2 .3M380.6 168.4l1.9-.6M217.5 176.7l2.2 .5M225.2 176.7l1.3-2.4M264.1 176.7l.9-2.1M271.8 176.7l2-.2M279.6 176.7l1.9 .6M209.7 185l1.1 2.6M217.5 185l1.5 1.3M225.2 185l.5-1.9M271.8 185l-1.6-1.1M279.6 185l-1.8 .9M69.9 193.2l-1.6 1.6M77.7 193.2l-.8 1.8M85.4 193.2l-.5 1.9M93.2 193.2l-.8 1.8M101 193.2l-1.4 2.2M201.9 193.2l-1.3 2M209.7 193.2l-.5 2.3M217.5 193.2l-.2 2M225.2 193.2l-.8-1.8M279.6 193.2l-2.4 .5M62.1 201.4l-1.2 1.6M69.9 201.4l2-1M186.4 201.4l-2.5 1.3M194.2 201.4l-2.1 1.3M201.9 201.4l-1.7 1.5M209.7 201.4l-1.1 1.6M217.5 201.4l-1 1.8M225.2 201.4l-1.2-1.6M233 201.4l-1-2.4M349.5 201.4l-.6-1.9M54.4 209.7l-2.5-.4M62.1 209.7l1.1-2.2M178.6 209.7l-2 1.5M186.4 209.7l-1.7 1.1M194.2 209.7l-1.6 1.2M201.9 209.7l-1.5 1.3M209.7 209.7l-1.3 1.5M217.5 209.7l1.2 1.6M225.2 209.7l1.7-1.1M233 209.7l1.3-1.8M341.7 209.7l-1.4-1.8M349.5 209.7l-1.2-2.1M357.3 209.7l-1-2.5M178.6 217.9l-1.9 .6M186.4 217.9l-1.6 1.2M194.2 217.9l-1.5 1.3M201.9 217.9l-1.7 1.1M209.7 217.9l-1.9-.6M217.5 217.9l1.3-1.5M264.1 217.9l2.5-.1M271.8 217.9l.8-1.8M349.5 217.9l-1.4-2.3M380.6 217.9l-1.2-2.3M170.9 226.1l-2.3-.3M178.6 226.1l-2-.1M186.4 226.1l-1.9 .8M194.2 226.1l-1.7 1.1M201.9 226.1l-2 .3M209.7 226.1l-.7-1.9M217.5 226.1l.8-2.6M326.2 226.1l-1.9-.5M380.6 226.1l-1-2.4M163.1 234.2l-1.9-1.4M170.9 234.2l-1.6-1.3M178.6 234.2l-2-.3M186.4 234.2l-1.8 .9M194.2 234.2l-1.7 1M201.9 234.2l-2-.2M209.7 234.2l-1-2M326.2 234.2l-2-.3M380.6 234.2l-.8-2.6M147.6 242.4l-1.6 1.3M155.3 242.4l-.8-2.1M163.1 242.4l0-2.3M170.9 242.4l.4-2M186.4 242.4l-.7 1.9M194.2 242.4l-1.1 1.6M201.9 242.4l-2 .2M209.7 242.4l-1.4-2.2M256.3 242.4l2 .1M403.9 242.4l-1.6-2M411.6 242.4l-1.4-1.9M147.6 250.6l-1.8-.9M155.3 250.6l.2-2.7M163.1 250.6l1-2.5M170.9 250.6l1.5-1.3M178.6 250.6l1.6 1.2M186.4 250.6l.5 1.9M194.2 250.6l.1 2M201.9 250.6l-.2 2M209.7 250.6l-.2-2.2M256.3 250.6l-.7-2.5M264.1 250.6l1.9-.6M318.4 250.6l-1.3 1.5M411.6 250.6l.2-2.2M419.4 250.6l.3-2.1M427.2 250.6l-.4-2.6M170.9 258.7l1.1-1.7M178.6 258.7l.6 1.9M186.4 258.7l.5 1.9M194.2 258.7l.8 1.8M201.9 258.7l1.8 .9M209.7 258.7l.8-1.8M442.7 258.7l.6-2.5M170.9 266.9l-2.2-1.2M178.6 266.9l-1.9 .5M186.4 266.9l-.6 1.9M194.2 266.9l.8 1.9M201.9 266.9l1.9 .5M209.7 266.9l1-1.7M217.5 266.9l-.1-2.6M271.8 266.9l2.1 1.3M318.4 266.9l1.8 1.5M458.2 266.9l.7-2M466 266.9l-.8-1.8M178.6 275l-2.2-.9M186.4 275l-2 0M194.2 275l-1.3 1.5M201.9 275l1.9-.5M209.7 275l.9-1.8M217.5 275l.1-2M225.2 275l-.7-2.5M271.8 275l2.5 .4M318.4 275l2.1 1.5M458.2 275l2 .1M466 275l.7-1.9M186.4 283.1l-1.9-1.2M194.2 283.1l-1.7-1.1M201.9 283.1l-1-1.7M209.7 283.1l.1-2M217.5 283.1l.1-2M225.2 283.1l.1-2.1M233 283.1l0-2.6M271.8 283.1l.4 2M318.4 283.1l2.1 1.4M458.2 283.1l1.6 2M466 283.1l.7 1.9M194.2 291.2l-1.9-1.5M201.9 291.2l-1.4-1.4M209.7 291.2l-.7-1.9M217.5 291.2l-.1-2M225.2 291.2l.3-2.3M310.7 291.2l1.7 2.1M318.4 291.2l2 1.3M380.6 291.2l.6-2.5M434.9 291.2l1.2-2.5M442.7 291.2l1.2 1.6M466 291.2l.9 1.8M124.3 299.3l-2.5 1.2M201.9 299.3l-1.7-1.8M209.7 299.3l-1-2M217.5 299.3l-.3-2.3M225.2 299.3l.2-2.7M434.9 299.3l-.8-2.1M442.7 299.3l-1.3 1.5M450.5 299.3l.1 2.6M466 299.3l1.3 1.8" fill="none" stroke-width="1.2"/>
<path d="M178.6 242.4h.1" fill="none" stroke-width="1.2" stroke-linecap="square"/>
</g>
<path d="M350.5 152h19M360 142.3v19.5" stroke="#f00" stroke-width="1.1" fill="none"/>
<path d="M344 189L360 189M346.6 183.6L357.4 194.4M352 181L352 197M357.4 183.6L346.6 194.4" stroke="#f00" stroke-width="1.05" fill="none"/>
<path d="M0 34h5M466 34h-5M0 102h5M466 102h-5M0 168h5M466 168h-5M0 234h5M466 234h-5M155 0v5M155 299.3v-5M311 0v5M311 299.3v-5" stroke="#222" stroke-width="1" fill="none"/>
<rect x="0" y="0" width="466" height="299.3" fill="none" stroke="#666" stroke-width="1.5"/>
<text x="3.2" y="16.8" font-size="22.5">(a)</text>
<text x="31" y="34" font-size="22.5">Day298</text>
<text x="31.6" y="55" font-size="22.5" style="fill:#f00">100 cm/s</text>
<path d="M37 61h27.5" stroke="#f00" stroke-width="1.5"/>
</g>
<g transform="translate(635.5,17.4)">
<clipPath id="mb"><path d="M0.0,238.0 20.0,220.0 36.0,198.0 50.0,181.0 66.0,181.0 76.0,173.0 88.0,181.0 104.0,167.0 120.0,158.0 140.0,155.0 152.0,139.0 166.0,117.0 181.0,108.0 190.0,114.0 208.0,111.0 220.0,107.0 236.0,107.0 250.0,102.0 270.0,90.0 288.0,84.0 296.0,78.0 308.0,66.0 318.0,66.0 336.0,101.0 338.0,85.0 343.0,75.0 352.0,61.0 358.0,40.0 366.0,20.0 371.0,6.0 466.0,6.0 466.0,295.6 0.0,295.6Z"/></clipPath>
<clipPath id="fb"><rect x="0" y="0" width="466" height="299.3"/></clipPath>
<rect x="0" y="0" width="466" height="299.3" fill="#fff"/>
<g clip-path="url(#mb)" stroke-width=".6">
<path fill="#0023fe" stroke="#0023fe" d="M357.3 0l7.7 0l7.8 0l7.8 0l4.2 0l-4.2 4.3l-7.8 1.3l-7.8-1.2l-7.7-2.1l-7-2.3z"/>
<path fill="#0041fe" stroke="#0041fe" d="M334 0l7.7 0l7.8 0l0.8 0l7 2.3l7.7 2.1l7.8 1.2l7.8-1.3l4.2-4.3l3.5 0l3.2 0l-3.2 4.7l-3.8 3.9l-3.9 2.3l-7.8 0.7l-7.8-0.8l-7.7-1.6l-2.2-0.6l-5.6-1.8l-7.8-2.8l-7.7-2.8l-3.2-1.2zM302.9 197.6l1.4 3.8l2.2 8.3l-1.5 8.2l-2.1 5.6l-7.3 2.6l-0.5 0.1l-0.1-0.1l-1.8-8.2l1-8.2l0.9-2.6l5.6-5.7zM124.3 274.7l2.3 0.3l5.4 1.2l3.2 6.9l0.8 8.1l-2.7 8.1l-1.3 0l-7.7 0l-7.8 0l-1.3 0l-0.7-8.1l1.4-8.1l0.6-0.9l7.4-7.2z"/>
<path fill="#005ffc" stroke="#005ffc" d="M310.7 0l7.7 0l7.8 0l4.6 0l3.2 1.2l7.7 2.8l7.8 2.8l5.6 1.8l2.2 0.6l7.7 1.6l7.8 0.8l7.8-0.7l3.9-2.3l3.8-3.9l3.2-4.7l4.6 0l0.7 0l-0.7 0.9l-5.5 7.7l-2.3 2.3l-7.7 4.6l-7.8 1.1l-7.8-0.4l-7.7-1.1l-7.8-1.8l-7.8-2.3l-7.4-2.4l-0.3-0.2l-7.8-2.7l-7.8-2.5l-7.7-2.2l-3.8-1zM170.9 174.7l3.3 2l0.1 8.3l-3.4 2.3l-5.5-2.3l1.4-8.3zM302.9 183.3l7.8-0.5l1.9 2.2l-0.9 8.2l-1 7.9l-0.1 0.3l0 8.3l-1.2 8.2l-2.7 8.2l-3.8 6.7l-3 1.4l-4.8 1.4l-2-1.4l-4.9-8.1l0-8.2l2.1-8.2l3.2-8.3l1.6-5.4l1.9-2.8l4-8.2zM300.7 201.4l-5.6 5.7l-0.9 2.6l-1 8.2l1.8 8.2l0.1 0.1l0.5-0.1l7.3-2.6l2.1-5.6l1.5-8.2l-2.2-8.3l-1.4-3.8zM124.3 263.1l7.7-2.5l6.4 6.3l1.4 2.1l1.7 6l1.9 8.1l1 8.1l-1.5 8.1l-3.1 0l-6.5 0l2.7-8.1l-0.8-8.1l-3.2-6.9l-5.4-1.2l-2.3-0.3l-0.4 0.3l-7.4 7.2l-0.6 0.9l-1.4 8.1l0.7 8.1l-6.5 0l-7.6 0l2.6-8.1l2.4-8.1l2.6-4.3l2.4-3.8l5.4-5.8l2.9-2.3z"/>
<path fill="#0080fe" stroke="#0080fe" d="M248.5 0l7.8 0l7.8 0l7.7 0l7.8 0l7.8 0l7.7 0l7.8 0l4 0l3.8 1l7.7 2.2l7.8 2.5l7.8 2.7l0.3 0.2l7.4 2.4l7.8 2.3l7.8 1.8l7.7 1.1l7.8 0.4l7.8-1.1l7.7-4.6l2.3-2.3l5.5-7.7l0.7-0.9l5 0l-5.7 7.2l-1 1.4l-6.8 7l-2.6 1.5l-5.1 3l-7.8 1.2l-7.8 0.2l-7.7-0.4l-7.8-1.3l-7.8-2.1l-2-0.6l-5.7-1.7l-7.8-2.4l-7.8-2.3l-7.7-1.9l-1-0.2l-6.8-1.5l-7.8-1.4l-7.7-1l-7.8-1l-7.8-0.8l-7.7-0.8l-7.8-0.9l-7.8-1.1l-0.6-0.1zM163.1 174.1l7.8-3.6l7.7 3.7l1.6 2.5l-0.3 8.3l-1.3 1.8l-7.7 4.7l-7.8-2.3l-3.3-4.2l1-8.3zM166.8 176.7l-1.4 8.3l5.5 2.3l3.4-2.3l-0.1-8.3l-3.3-2zM310.7 176.5l0.5 0.2l7.2 8.3l-2.1 8.2l-2.5 8.2l-0.5 8.3l-0.5 8.2l-1.5 8.2l-0.6 1.9l-3.2 6.2l-4.6 4.8l-7.8 1.7l-7.7-4.7l-1.5-1.8l-2.4-8.1l0.5-8.2l2.5-8.2l0.9-2.1l2.5-6.2l1.9-8.2l2.2-8.2l1.1-1.7l7.8-6.2l4.4-0.4zM301 185l-4 8.2l-1.9 2.8l-1.6 5.4l-3.2 8.3l-2.1 8.2l0 8.2l4.9 8.1l2 1.4l4.8-1.4l3-1.4l3.8-6.7l2.7-8.2l1.2-8.2l0-8.3l0.1-0.3l1-7.9l0.9-8.2l-1.9-2.2l-7.8 0.5zM124.3 254.7l7.7-4.1l7.8 2.8l3.2 5.3l2.7 8.2l1.8 8.1l0.1 0.3l1.2 7.8l0.7 8.1l-0.6 8.1l-1.3 0l-4.7 0l1.5-8.1l-1-8.1l-1.9-8.1l-1.7-6l-1.4-2.1l-6.4-6.3l-7.7 2.5l-4.9 3.8l-2.9 2.3l-5.4 5.8l-2.4 3.8l-2.6 4.3l-2.4 8.1l-2.6 8.1l-0.1 0l-7.8 0l-7.8 0l-1.2 0l1.2-1.6l4.9-6.5l2.9-3.7l2.4-4.4l5.4-6.5l1-1.6l6.7-6.9l1.1-1.2l6.7-6.3l2.3-1.9z"/>
<path fill="#00a1ff" stroke="#00a1ff" d="M194.2 0l7.7 0l7.8 0l7.8 0l7.7 0l7.8 0l7.8 0l7.1 0l0.6 0.1l7.8 1.1l7.8 0.9l7.7 0.8l7.8 0.8l7.8 1l7.7 1l7.8 1.4l6.8 1.5l1 0.2l7.7 1.9l7.8 2.3l7.8 2.4l5.7 1.7l2 0.6l7.8 2.1l7.8 1.3l7.7 0.4l7.8-0.2l7.8-1.2l5.1-3l2.6-1.5l6.8-7l1-1.4l5.7-7.2l2.1 0l3.1 0l-3.1 3.5l-4.1 5.1l-3.7 3.8l-4.6 4.7l-3.2 3.3l-7.7 4.1l-6.4 1.2l-1.4 0.4l-7.8 1.2l-7.7 0.2l-7.8-1l-3-0.8l-4.8-1.1l-7.7-2.2l-7.8-2.4l-7.8-2l-4.1-0.9l-3.6-0.8l-7.8-1.2l-7.8-0.8l-7.7-0.5l-7.8-0.2l-7.8 0l-7.7-0.1l-7.8-0.1l-7.8-0.3l-7.7-0.7l-7.8-1l-7.8-1.4l-6-1.4l-1.7-0.4l-7.8-2.1l-7.8-2.3l-7.7-2.6l-3.3-1.2zM349.5 96.4l7.8 4.5l0.6 0.9l-0.6 8.4l-7.8 1.7l-2.4-1.7l-2.1-8.4zM380.6 98.2l7.7-3.9l2.1 7.5l-2.1 3.5l-7.7-2.1l-1.3-1.4zM170.9 166.3l7.7 1.4l0.9 0.7l4.8 8.3l-0.4 8.3l-5.3 7.7l-0.9 0.5l-6.8 2.4l-7.8-1.2l-2-1.2l-5.6-8.2l1.3-8.3l6.3-7.2l2.3-1.1zM160.8 176.7l-1 8.3l3.3 4.2l7.8 2.3l7.7-4.7l1.3-1.8l0.3-8.3l-1.6-2.5l-7.7-3.7l-7.8 3.6zM295.1 176.1l7.8-2.9l7.8-0.4l7.7 2.8l1.7 1.1l3.2 8.3l-2.7 8.2l-2.2 4.4l-1.4 3.8l-1 8.3l-0.3 8.2l-1 8.2l-2.2 8.1l-1.8 3.3l-4.8 4.9l-3 2.1l-7.8 1.2l-7.7-3.2l-0.1-0.1l-6.5-8.2l-1.2-5.1l-0.6-3l0.6-4.7l0.4-3.5l2.7-8.2l3.5-8.3l1.2-7l0.2-1.2l0.9-8.2l5.6-8.3zM307.3 176.7l-4.4 0.4l-7.8 6.2l-1.1 1.7l-2.2 8.2l-1.9 8.2l-2.5 6.2l-0.9 2.1l-2.5 8.2l-0.5 8.2l2.4 8.1l1.5 1.8l7.7 4.7l7.8-1.7l4.6-4.8l3.2-6.2l0.6-1.9l1.5-8.2l0.5-8.2l0.5-8.3l2.5-8.2l2.1-8.2l-7.2-8.3l-0.5-0.2zM124.3 248.2l7.7-2.8l7.8 0.8l5.7 4.4l2.1 3.4l1.9 4.7l1.6 8.2l0.8 8.1l0.7 8.1l0.6 8.1l0.2 8.1l-4.5 0l0.6-8.1l-0.7-8.1l-1.2-7.8l-0.1-0.3l-1.8-8.1l-2.7-8.2l-3.2-5.3l-7.8-2.8l-7.7 4.1l-5.5 4l-2.3 1.9l-6.7 6.3l-1.1 1.2l-6.7 6.9l-1 1.6l-5.4 6.5l-2.4 4.4l-2.9 3.7l-4.9 6.5l-1.2 1.6l-6.5 0l-7.8 0l-4.6 0l4.6-4.1l3.6-4l4.2-4.6l3.2-3.5l4.5-3.4l5.6-4.7l2.2-1.2l7.8-6.2l0.7-0.7l7-6.3l2.1-1.9l5.7-5.1l3.9-3z"/>
<path fill="#00c3ff" stroke="#00c3ff" d="M147.6 0l7.7 0l7.8 0l7.8 0l7.7 0l7.8 0l4.5 0l3.3 1.2l7.7 2.6l7.8 2.3l7.8 2.1l1.7 0.4l6 1.4l7.8 1.4l7.8 1l7.7 0.7l7.8 0.3l7.8 0.1l7.7 0.1l7.8 0l7.8 0.2l7.7 0.5l7.8 0.8l7.8 1.2l3.6 0.8l4.1 0.9l7.8 2l7.8 2.4l7.7 2.2l4.8 1.1l3 0.8l7.8 1l7.7-0.2l7.8-1.2l1.4-0.4l6.4-1.2l7.7-4.1l3.2-3.3l4.6-4.7l3.7-3.8l4.1-5.1l3.1-3.5l4.6 0l1 0l-1 1l-6.9 7.6l-0.8 0.7l-7.6 7.8l-0.2 0.2l-7.8 8l-0.8 0.4l-6.9 5.5l-7.8 2.1l-4.5 0.9l-3.3 1.4l-7.7 0.5l-7.8-1.7l-0.6-0.2l-7.2-1.9l-7.7-2.6l-7.8-2.5l-6-1.5l-1.8-0.5l-7.7-1.4l-7.8-0.8l-7.8-0.2l-7.7 0.3l-7.8 0.7l-7.8 0.9l-7.7 0.9l-0.4 0.1l-7.4 0.8l-7.8 0.5l-7.7 0.1l-7.8-0.5l-7.6-0.9l-0.2-0.1l-7.7-1.4l-7.8-1.8l-7.8-2.3l-7.7-2.6l-1.2-0.4l-6.6-2.3l-7.8-3l-7.7-3l-0.6-0.2l-7.2-2.8l-7.8-2.9l-7.7-2.8l-0.2-0.1zM372.8 80.5l7.8-3.5l7.7 2.6l4.7 5.4l3.1 5.4l0.6 3l-0.2 8.4l-0.4 1.1l-4.8 7.3l-3 1.6l-7.7 0.3l-7.8-0.9l-7.8 1.1l-7.7 3.4l-7.8 0.2l-7.8-5.6l-0.1-0.1l-2.1-8.4l2.1-8.4l0.1-0.3l7.8-6.5l7.8-0.5l7.5 7.3l0.2 0.3l0.4-0.3l2.9-8.4zM345 101.8l2.1 8.4l2.4 1.7l7.8-1.7l0.6-8.4l-0.6-0.9l-7.8-4.5zM379.3 101.8l1.3 1.4l7.7 2.1l2.1-3.5l-2.1-7.5l-7.7 3.9zM163.1 165.3l7.8-3.1l7.7 0l7.5 6.2l0.3 0.8l2.1 7.5l-0.5 8.3l-1.6 3.8l-2.4 4.4l-5.4 4.2l-7.7 2l-7.8-0.6l-7.8-4.5l-1-1.1l-3-8.2l1.5-8.3l2.5-3.7l3.9-4.6zM165.4 168.4l-2.3 1.1l-6.3 7.2l-1.3 8.3l5.6 8.2l2 1.2l7.8 1.2l6.8-2.4l0.9-0.5l5.3-7.7l0.4-8.3l-4.8-8.3l-0.9-0.7l-7.7-1.4zM287.4 175.8l7.7-4.1l7.8-2.3l7.8-0.4l7.7 2.1l7.8 5.1l0.7 0.5l1.7 8.3l-2.4 4.5l-1.4 3.7l-4.4 8.2l-1.6 8.3l-0.1 8.2l-0.3 3.9l-0.2 4.3l-1.5 8.1l-3.9 8.2l-2.1 2.6l-7.8 4.9l-7.7 0.7l-0.1 0l-7.7-2.6l-7.1-5.6l-0.7-1l-3.9-7.2l-1.3-8.1l1.1-8.2l3.1-8.2l1-1.7l2.7-6.6l0.5-8.2l-0.5-8.2l3.6-8.3zM294.1 176.7l-5.6 8.3l-0.9 8.2l-0.2 1.2l-1.2 7l-3.5 8.3l-2.7 8.2l-0.4 3.5l-0.6 4.7l0.6 3l1.2 5.1l6.5 8.2l0.1 0.1l7.7 3.2l7.8-1.2l3-2.1l4.8-4.9l1.8-3.3l2.2-8.1l1-8.2l0.3-8.2l1-8.3l1.4-3.8l2.2-4.4l2.7-8.2l-3.2-8.3l-1.7-1.1l-7.7-2.8l-7.8 0.4l-7.8 2.9zM132 240.6l7.8 0.2l4 1.6l3.8 2.6l4.6 5.6l2.8 8.1l0.3 2.3l0.8 5.9l0.2 8.1l0.1 8.1l0.4 8.1l1.1 8.1l-2.6 0l-1.9 0l-0.2-8.1l-0.6-8.1l-0.7-8.1l-0.8-8.1l-1.6-8.2l-1.9-4.7l-2.1-3.4l-5.7-4.4l-7.8-0.8l-7.7 2.8l-3.9 2.4l-3.9 3l-5.7 5.1l-2.1 1.9l-7 6.3l-0.7 0.7l-7.8 6.2l-2.2 1.2l-5.6 4.7l-4.5 3.4l-3.2 3.5l-4.2 4.6l-3.6 4l-4.6 4.1l-3.2 0l-7.7 0l-7.8 0l-7.8 0l-7.7 0l-7.8 0l-7.8 0l-7.7 0l-7.8 0l0-4.8l7.8 0l7.7-2.1l3.2-1.2l4.6-1.8l7.8-0.1l4.6 1.9l3.1 1l7.8 1.8l7.8-1.5l2.1-1.3l5.6-3.6l4.7-4.5l3.1-2.5l6.3-5.6l1.5-0.9l7.7-3.4l6.8-3.8l1-0.5l7.8-5.3l2.6-2.4l5.1-4.6l4-3.5l3.8-3.3l7.8-4.5l1.2-0.4zM209.7 296.2l1.1 3.1l-1.1 0l-0.7 0z"/>
<path fill="#00e6ff" stroke="#00e6ff" d="M7.8 0l7.7 0l7.8 0l7.8 0l7.7 0l7.8 0l7.8 0l7.7 0l7.8 0l7.8 0l7.7 0l7.8 0l7.8 0l7.7 0l7.8 0l7.8 0l7.7 0l7.8 0l7.6 0l0.2 0.1l7.7 2.8l7.8 2.9l7.2 2.8l0.6 0.2l7.7 3l7.8 3l6.6 2.3l1.2 0.4l7.7 2.6l7.8 2.3l7.8 1.8l7.7 1.4l0.2 0.1l7.6 0.9l7.8 0.5l7.7-0.1l7.8-0.5l7.4-0.8l0.4-0.1l7.7-0.9l7.8-0.9l7.8-0.7l7.7-0.3l7.8 0.2l7.8 0.8l7.7 1.4l1.8 0.5l6 1.5l7.8 2.5l7.7 2.6l7.2 1.9l0.6 0.2l7.8 1.7l7.7-0.5l3.3-1.4l4.5-0.9l7.8-2.1l6.9-5.5l0.8-0.4l7.8-8l0.2-0.2l7.6-7.8l0.8-0.7l6.9-7.6l1-1l6.2 0l-7.2 7.3l-1.1 1.3l-6.6 6l-2.5 2.5l-5.3 6.2l-2.3 2.4l-5.5 7.7l-1 0.8l-3.8 8.5l0.9 8.5l2.3 8.5l1.6 2.3l3.4 6.1l4.4 5.3l1.9 3.2l3.2 8.4l0.2 8.4l-1.9 8.4l-3.3 8.4l-0.1 0.1l-7.8 4.3l-7.7 1.5l-7.8 0.7l-6.3 1.7l-1.5 0.3l-7.7 1.7l-7.8-0.7l-2.1-1.3l-5.7-4.1l-3.2-4.2l-2.9-8.4l0.4-8.4l3.9-8.4l1.8-3.2l5.2-5.2l2.6-4.5l3.4-4l2.3-8.4l-2-8.5l-3.7-3.3l-5.9-5.2l-1.9-0.9l-7.7-3.8l-7.8-3.2l-2.1-0.6l-5.7-1.5l-7.7-1.3l-7.8-0.3l-7.8 0.4l-7.7 1.3l-6 1.4l-1.8 0.5l-7.8 2.5l-7.7 2.4l-7.8 2l-5.8 1.1l-2 0.4l-7.7 0.9l-7.8 0.1l-7.8-0.5l-5.5-0.9l-2.2-0.3l-7.8-1.8l-7.8-2.2l-7.7-2.7l-3.7-1.5l-4.1-1.6l-7.8-3.2l-7.7-3.4l-0.8-0.3l-7-3l-7.8-3.2l-6-2.4l-1.7-0.6l-7.8-2.8l-7.8-2.6l-7.7-2.3l-0.8-0.2l-7-1.9l-7.8-1.7l-7.7-1.5l-7.8-1.1l-7.8-0.9l-7.7-0.6l-7.8-0.4l-7.8 0l-7.7 0.3l-7.8 0.5l-7.8 0.8l-7.7 1.1l-7.8 1.4l-7.8 1.7l-7.7 2l-1.1 0.3l-6.7 2l0-2l0-8.6zM368.3 85l-2.9 8.4l-0.4 0.3l-0.2-0.3l-7.5-7.3l-7.8 0.5l-7.8 6.5l-0.1 0.3l-2.1 8.4l2.1 8.4l0.1 0.1l7.8 5.6l7.8-0.2l7.7-3.4l7.8-1.1l7.8 0.9l7.7-0.3l3-1.6l4.8-7.3l0.4-1.1l0.2-8.4l-0.6-3l-3.1-5.4l-4.7-5.4l-7.7-2.6l-7.8 3.5zM170.9 157.3l7.7-1.6l7.8 3.6l0.7 0.8l4.7 8.3l1.1 8.3l-0.6 8.3l-2.6 8.2l-3.3 4.2l-6.2 4l-1.6 0.8l-7.7 1.5l-7.8-0.1l-6.1-2.2l-1.7-0.7l-6.8-7.5l-0.9-4.4l-0.8-3.8l0.8-2.8l1.1-5.5l5.6-8.3l1-1l7.8-6l2.9-1.3zM159.2 168.4l-3.9 4.6l-2.5 3.7l-1.5 8.3l3 8.2l1 1.1l7.8 4.5l7.8 0.6l7.7-2l5.4-4.2l2.4-4.4l1.6-3.8l0.5-8.3l-2.1-7.5l-0.3-0.8l-7.5-6.2l-7.7 0l-7.8 3.1zM295.1 167.6l7.8-1.3l7.8-0.4l7.7 1.2l4.5 1.3l3.3 1.8l7.8 5.9l0.7 0.6l-0.1 8.3l-0.6 0.8l-4 7.4l-3.8 4.6l-2 3.6l-2 8.3l-0.1 8.2l-0.2 8.2l-0.8 8.1l-2.6 8.2l-0.1 0.1l-6.1 8.1l-1.6 1.6l-7.8 4.3l-7.8 0.5l-7.7-2.5l-5.8-3.9l-2-1.4l-5.9-6.8l-1.9-4.4l-1.5-3.8l-1-8.1l1.2-8.2l1.3-3.7l1.4-4.5l3.7-8.3l-0.6-8.2l-3.1-8.2l1-8.3l5.4-3l7.8-3.9l3.7-1.4zM285.9 176.7l-3.6 8.3l0.5 8.2l-0.5 8.2l-2.7 6.6l-1 1.7l-3.1 8.2l-1.1 8.2l1.3 8.1l3.9 7.2l0.7 1l7.1 5.6l7.7 2.6l0.1 0l7.7-0.7l7.8-4.9l2.1-2.6l3.9-8.2l1.5-8.1l0.2-4.3l0.3-3.9l0.1-8.2l1.6-8.3l4.4-8.2l1.4-3.7l2.4-4.5l-1.7-8.3l-0.7-0.5l-7.8-5.1l-7.7-2.1l-7.8 0.4l-7.8 2.3l-7.7 4.1zM116.5 241.4l7.8-3.4l7.7-1.6l7.8-0.3l7.8 2.1l5.7 4.2l2 2.6l3.4 5.6l2 8.1l0.4 8.2l-0.3 8.1l-0.6 8.1l0 8.1l2.1 8.1l-4.4 0l-1.1-8.1l-0.4-8.1l-0.1-8.1l-0.2-8.1l-0.8-5.9l-0.3-2.3l-2.8-8.1l-4.6-5.6l-3.8-2.6l-4-1.6l-7.8-0.2l-6.5 1.8l-1.2 0.4l-7.8 4.5l-3.8 3.3l-4 3.5l-5.1 4.6l-2.6 2.4l-7.8 5.3l-1 0.5l-6.8 3.8l-7.7 3.4l-1.5 0.9l-6.3 5.6l-3.1 2.5l-4.7 4.5l-5.6 3.6l-2.1 1.3l-7.8 1.5l-7.8-1.8l-3.1-1l-4.6-1.9l-7.8 0.1l-4.6 1.8l-3.2 1.2l-7.7 2.1l-7.8 0l0-3.3l0-8.1l0-6.5l7.8 0.3l7.7-1.1l3.2-0.8l4.6-0.6l7.8 0.1l1.4 0.5l6.3 3.7l7.8 3.1l7.8-0.6l7.7-4.4l2.2-1.8l5.6-3.3l7.8-4.6l0.6-0.2l7.1-2.2l7.8-3.8l3.1-2.2l4.7-3.5l5-4.6l2.7-2.9l6.5-5.3zM201.9 254.8l3.8 3.9l-1.7 8.2l-2.1 1.7l-1.7-1.7l-3.8-8.2zM209.7 279.3l7.8 3l0.7 0.8l5.4 8.1l1.6 6l0.6 2.1l-0.6 0l-7.7 0l-6.7 0l-1.1-3.1l-0.7 3.1l-7.1 0l-6.6 0l3.6-8.1l3-4.7l4-3.4z"/>
<path fill="#15fdfe" stroke="#15fdfe" d="M7.8 8.3l7.7-2l7.8-1.7l7.8-1.4l7.7-1.1l7.8-0.8l7.8-0.5l7.7-0.3l7.8 0l7.8 0.4l7.7 0.6l7.8 0.9l7.8 1.1l7.7 1.5l7.8 1.7l7 1.9l0.8 0.2l7.7 2.3l7.8 2.6l7.8 2.8l1.7 0.6l6 2.4l7.8 3.2l7 3l0.8 0.3l7.7 3.4l7.8 3.2l4.1 1.6l3.7 1.5l7.7 2.7l7.8 2.2l7.8 1.8l2.2 0.3l5.5 0.9l7.8 0.5l7.8-0.1l7.7-0.9l2-0.4l5.8-1.1l7.8-2l7.7-2.4l7.8-2.5l1.8-0.5l6-1.4l7.7-1.3l7.8-0.4l7.8 0.3l7.7 1.3l5.7 1.5l2.1 0.6l7.8 3.2l7.7 3.8l1.9 0.9l5.9 5.2l3.7 3.3l2 8.5l-2.3 8.4l-3.4 4l-2.6 4.5l-5.2 5.2l-1.8 3.2l-3.9 8.4l-0.4 8.4l2.9 8.4l3.2 4.2l5.7 4.1l2.1 1.3l7.8 0.7l7.7-1.7l1.5-0.3l6.3-1.7l7.8-0.7l7.7-1.5l7.8-4.3l0.1-0.1l3.3-8.4l1.9-8.4l-0.2-8.4l-3.2-8.4l-1.9-3.2l-4.4-5.3l-3.4-6.1l-1.6-2.3l-2.3-8.5l-0.9-8.5l3.8-8.5l1-0.8l5.5-7.7l2.3-2.4l5.3-6.2l2.5-2.5l6.6-6l1.1-1.3l7.2-7.3l0.6 0l6.6 0l-6.6 6.6l-2 2l-5.8 5.1l-3.9 3.4l-3.8 3.8l-4 4.8l-3.8 7.3l-0.8 1.2l-1.6 8.5l1.1 8.5l1.3 3.6l1.8 4.9l5 8.4l1 1.7l3 6.8l0.5 8.4l-1.6 8.4l-1.9 4.4l-1.3 4l-4.4 8.4l-2.1 2.2l-7.8 4.9l-4 1.2l-3.7 1.2l-7.8 1.3l-7.8 1.8l-7.7 1.5l-7.8-0.9l-7.8-4.9l-6.4-8.3l-1.3-3.5l-2.2-4.9l-0.8-8.4l1.8-8.4l1.2-3.1l2.7-5.3l3.3-8.5l0.6-8.4l-3.8-8.5l-2.8-2.5l-7.8-5.4l-1.5-0.6l-6.3-2.1l-7.7-1.2l-7.8 0.1l-7.8 1.5l-5.2 1.7l-2.5 1.1l-7.8 4.3l-5.5 3.1l-2.3 1.6l-7.7 4.3l-6.6 2.6l-1.2 0.4l-7.8 2.4l-7.7 1.8l-7.8 1l-7.8 0l-7.7-1l-7.8-1.6l-7.8-2.4l-1.5-0.6l-6.2-2.4l-7.8-3.6l-4.4-2.5l-3.4-1.7l-7.7-4.2l-4.7-2.6l-3.1-1.5l-7.8-3.9l-6.6-3.1l-1.1-0.5l-7.8-3.2l-7.8-2.8l-6.4-2l-1.3-0.5l-7.8-2l-7.8-1.7l-7.7-1.3l-7.8-1l-7.8-0.6l-7.7-0.3l-7.8 0l-7.8 0.4l-7.7 0.8l-7.8 1.1l-7.8 1.4l-7.7 1.8l-7.1 1.9l-0.7 0.2l-7.8 2.5l-7.7 2.9l-7.2 2.9l-0.6 0.3l0-0.3l0-8.5l0-8.6l0-6.5l6.7-2zM233 119.1l7.6 7.8l-5.2 8.3l-2.4 3.1l-2.2-3.1l-2.9-8.3zM170.9 151.5l7.7-4.4l7.8 0.5l4.2 4.3l3.6 4.5l1.8 3.7l2.2 8.3l0 8.3l-0.7 8.3l-1.9 8.2l-1.4 2.7l-3.8 5.5l-4 3.4l-7.8 2.9l-7.7 0.8l-7.8 0.3l-7.8-1l-7.7-5.2l-1-1.2l-4.7-8.2l-0.4-8.2l2.3-8.3l3.8-5.2l1.9-3.1l5.8-5.4l3.8-2.9l4-3.3l7.5-4.9zM166 160.1l-2.9 1.3l-7.8 6l-1 1l-5.6 8.3l-1.1 5.5l-0.8 2.8l0.8 3.8l0.9 4.4l6.8 7.5l1.7 0.7l6.1 2.2l7.8 0.1l7.7-1.5l1.6-0.8l6.2-4l3.3-4.2l2.6-8.2l0.6-8.3l-1.1-8.3l-4.7-8.3l-0.7-0.8l-7.8-3.6l-7.7 1.6zM240.8 153.9l7.7 5.6l0.8 0.6l7 5.1l7.8 2.1l7.7 0.1l7.8-0.9l7.8-0.9l7.7-1.1l7.8-1.1l7.8-0.5l7.7 0.9l7.8 2l7.8 2.3l1.1 0.3l6.6 4.8l2.9 3.5l-2.3 8.3l-0.6 0.6l-5.6 7.6l-2.1 2.2l-4.9 6l-2.9 6l-0.6 2.3l-0.1 8.2l0.1 8.2l0 8.1l-1.4 8.2l-3.7 8.2l-2.1 3.3l-4.8 4.8l-2.9 3.2l-7.8 4.3l-7.8 0.6l-7.7-2.6l-7.3-5.5l-0.5-0.3l-7.8-7.2l-0.4-0.6l-4.8-8.2l-2.4-8.2l-0.1-1.9l-0.7-6.2l0.7-5.5l0.2-2.7l1.2-8.2l0.1-8.3l-1.5-2.5l-7.8-4.5l-3.4-1.2l-4.4-1.6l-7.7-6.4l-0.2-0.2l-4.1-8.3l-2.7-8.3l0.1-8.3zM291.1 168.4l-3.7 1.4l-7.8 3.9l-5.4 3l-1 8.3l3.1 8.2l0.6 8.2l-3.7 8.3l-1.4 4.5l-1.3 3.7l-1.2 8.2l1 8.1l1.5 3.8l1.9 4.4l5.9 6.8l2 1.4l5.8 3.9l7.7 2.5l7.8-0.5l7.8-4.3l1.6-1.6l6.1-8.1l0.1-0.1l2.6-8.2l0.8-8.1l0.2-8.2l0.1-8.2l2-8.3l2-3.6l3.8-4.6l4-7.4l0.6-0.8l0.1-8.3l-0.7-0.6l-7.8-5.9l-3.3-1.8l-4.5-1.3l-7.7-1.2l-7.8 0.4l-7.8 1.3zM124.3 233l7.7-1.2l7.8-1.2l7.8 0.5l6.1 3.1l1.6 1l6.8 7.2l1 2l3.1 6.2l1.3 8.1l-0.1 8.2l-1.1 8.1l-1.8 8.1l-0.2 8.1l5.5 8.1l-6.7 0l-0.8 0l-2.1-8.1l0-8.1l0.6-8.1l0.3-8.1l-0.4-8.2l-2-8.1l-3.4-5.6l-2-2.6l-5.7-4.2l-7.8-2.1l-7.8 0.3l-7.7 1.6l-7.8 3.4l-1.3 1l-6.5 5.3l-2.7 2.9l-5 4.6l-4.7 3.5l-3.1 2.2l-7.8 3.8l-7.1 2.2l-0.6 0.2l-7.8 4.6l-5.6 3.3l-2.2 1.8l-7.7 4.4l-7.8 0.6l-7.8-3.1l-6.3-3.7l-1.4-0.5l-7.8-0.1l-4.6 0.6l-3.2 0.8l-7.7 1.1l-7.8-0.3l0-1.6l0-8.1l0-1.8l7.8 1.5l2.6 0.3l5.1 0.6l7.8 0.3l7.8 0.8l7.7 2.4l7.8 2l7.8-0.3l7.7-3l4.8-2.8l3-1.3l7.8-2.9l7.7-2.8l2.3-1.2l5.5-2.9l6.6-5.2l1.2-1.3l6.7-6.9l1-1.5l7.8-5.7l3.3-1zM194.2 249.3l7.7-2.1l6.1 3.4l1.7 1.7l3.3 6.4l3.5 8.2l1 1.4l7.7 6.7l0 0.1l5.3 8l2.2 8.1l0.3 0.9l2.6 7.2l-2.6 0l-7.2 0l-0.6-2.1l-1.6-6l-5.4-8.1l-0.7-0.8l-7.8-3l-3.8 3.8l-4 3.4l-3 4.7l-3.6 8.1l-1.1 0l-7.8 0l-3.5 0l3.5-3l3.2-5.1l4.2-8.1l0.4-4.4l0.4-3.7l-0.4-0.4l-3.7-7.7l-0.8-8.2l3.2-8.1zM196.4 258.7l3.8 8.2l1.7 1.7l2.1-1.7l1.7-8.2l-3.8-3.9z"/>
<path fill="#54f6fb" stroke="#54f6fb" d="M419.4 6.6l6.6-6.6l1.2 0l6.6 0l-6.6 7.1l-1.6 1.5l-6.2 5.7l-3.4 2.8l-4.4 4l-4.6 4.6l-3.1 6.2l-1 2.3l-0.2 8.5l1.2 4.8l1.3 3.7l5.1 8.5l1.3 2l4.6 6.4l-0.2 8.5l-2.6 8.4l-1.8 3.2l-1.7 5.2l-4.3 8.4l-1.7 1.9l-3.7 6.5l-4.1 4.2l-6 4.1l-1.8 1.4l-7.7 2.7l-7.8 2l-7.8 2.2l-0.3 0.1l-7.4 1.5l-7.8-1.3l-0.2-0.2l-7.6-4.6l-3.3-3.8l-4.4-5.8l-1.9-2.5l-3.9-8.4l-2-8.4l0-0.1l0.4-8.3l2.3-8.4l2-8.5l-1.1-8.4l-3.6-5.1l-4.2-3.4l-3.6-1.8l-7.7-1.5l-7.8 0.8l-6.3 2.5l-1.5 0.8l-7.7 6.9l-0.9 0.8l-6.5 8.4l-0.4 0.5l-7.8 4.2l-7.7 2.5l-3.2 1.3l-4.6 1.5l-7.8 4.3l-3.7 2.6l-4 5.6l-2.7 2.8l0 8.4l2.7 3l1.2 5.4l2.6 8.3l0.8 8.4l-0.8 8.3l0.8 8.3l3.1 4.8l2.5 3.6l5.3 4.6l7.8 3.5l0.9 0.1l6.8 1.4l7.8 0.1l7.8 0.2l7.7-0.4l7.8-0.9l4.4-0.4l3.4-0.2l3.2 0.2l4.5 0.5l7.8 1.3l7.8 1.6l7.7 1.6l7.8 3.2l0.1 0.1l2.9 8.3l-2.3 8.3l-0.7 1l-5.6 7.2l-2.2 2.3l-5.7 5.9l-2 2.8l-2.8 5.5l-0.8 8.2l0.3 8.2l0.3 8.1l-0.6 8.2l-2 8.2l-2.2 5.6l-1.3 2.5l-4.4 8.2l-2.1 4.1l-2.7 4l-4.2 8.1l-0.8 1.6l-4.7 6.5l-3.1 4.1l-6.2 4l-1.6 0l-7.7 0l-7.8 0l-6.4 0l0-8.1l-1.4-4.4l-1.2-3.7l-3.5-8.1l-2.1-8.1l-0.9-2.8l-1.2-5.4l-2.4-8.1l-2.6-8.2l-1.6-6.4l-0.7-1.8l-1.8-8.1l-1.2-8.2l-4.1-7.8l-0.4-0.4l-7.3-4.9l-3.7-3.4l-4.1-4.1l-3.1-4.1l-4.4-8.2l-0.3-0.7l-3.6-7.6l-2-8.3l0.9-8.3l1.9-8.2l-2.8-8.4l-2.1-3.9l-5.1-4.4l0.2-8.3l4.9-5.7l1-2.7l3-8.3l0.3-8.4l-4.3-5.8l-6.7-2.6l-1.1-0.3l-7.8 0l-2.3 0.3l-5.4 2.9l-3.2-2.9l-4.6-2.5l-2.5-5.9l-5.3-6.2l-1.4-2.2l-6.3-6.6l-1.7-1.9l-6.1-5.1l-4.1-3.3l-3.7-2.5l-7.7-4.8l-2.2-1.2l-5.6-2.8l-7.8-3.3l-6.7-2.4l-1-0.4l-7.8-2.1l-7.8-1.7l-7.7-1.2l-7.8-0.7l-7.8-0.3l-7.7 0.2l-7.8 0.6l-7.8 1.1l-7.7 1.4l-7.8 1.9l-4 1.2l-3.8 1.2l-7.7 2.9l-7.8 3.2l-2.6 1.2l-5.2 2.6l-7.7 4.3l-2.7 1.6l-5.1 3.3l0-3.3l0-8.5l0-8.5l0-8.2l0.6-0.3l7.2-2.9l7.7-2.9l7.8-2.5l0.7-0.2l7.1-1.9l7.7-1.8l7.8-1.4l7.8-1.1l7.7-0.8l7.8-0.4l7.8 0l7.7 0.3l7.8 0.6l7.8 1l7.7 1.3l7.8 1.7l7.8 2l1.3 0.5l6.4 2l7.8 2.8l7.8 3.2l1.1 0.5l6.6 3.1l7.8 3.9l3.1 1.5l4.7 2.6l7.7 4.2l3.4 1.7l4.4 2.5l7.8 3.6l6.2 2.4l1.5 0.6l7.8 2.4l7.8 1.6l7.7 1l7.8 0l7.8-1l7.7-1.8l7.8-2.4l1.2-0.4l6.6-2.6l7.7-4.3l2.3-1.6l5.5-3.1l7.8-4.3l2.5-1.1l5.2-1.7l7.8-1.5l7.8-0.1l7.7 1.2l6.3 2.1l1.5 0.6l7.8 5.4l2.8 2.5l3.8 8.5l-0.6 8.4l-3.3 8.5l-2.7 5.3l-1.2 3.1l-1.8 8.4l0.8 8.4l2.2 4.9l1.3 3.5l6.4 8.3l7.8 4.9l7.8 0.9l7.7-1.5l7.8-1.8l7.8-1.3l3.7-1.2l4-1.2l7.8-4.9l2.1-2.2l4.4-8.4l1.3-4l1.9-4.4l1.6-8.4l-0.5-8.4l-3-6.8l-1-1.7l-5-8.4l-1.8-4.9l-1.3-3.6l-1.1-8.5l1.6-8.5l0.8-1.2l3.8-7.3l4-4.8l3.8-3.8l3.9-3.4l5.8-5.1zM227.9 126.9l2.9 8.3l2.2 3.1l2.4-3.1l5.2-8.3l-7.6-7.8zM233.9 160.1l-0.1 8.3l2.7 8.3l4.1 8.3l0.2 0.2l7.7 6.4l4.4 1.6l3.4 1.2l7.8 4.5l1.5 2.5l-0.1 8.3l-1.2 8.2l-0.2 2.7l-0.7 5.5l0.7 6.2l0.1 1.9l2.4 8.2l4.8 8.2l0.4 0.6l7.8 7.2l0.5 0.3l7.3 5.5l7.7 2.6l7.8-0.6l7.8-4.3l2.9-3.2l4.8-4.8l2.1-3.3l3.7-8.2l1.4-8.2l0-8.1l-0.1-8.2l0.1-8.2l0.6-2.3l2.9-6l4.9-6l2.1-2.2l5.6-7.6l0.6-0.6l2.3-8.3l-2.9-3.5l-6.6-4.8l-1.1-0.3l-7.8-2.3l-7.8-2l-7.7-0.9l-7.8 0.5l-7.8 1.1l-7.7 1.1l-7.8 0.9l-7.8 0.9l-7.7-0.1l-7.8-2.1l-7-5.1l-0.8-0.6l-7.7-5.6zM186.4 99.4l1.8 2.4l6 4.9l0.7 3.5l2.9 8.3l3.2 8.4l0.9 4l2.2 4.3l-0.5 8.3l1.2 8.4l2.4 8.2l0.8 8.3l-1.6 8.3l-1.6 8.3l-1.3 8.2l-1.6 3.9l-1.4 4.3l-6.3 8l-0.3 0.3l-7.5 4.8l-7.8 1.2l-7.7 0.3l-7.8 1.8l-0.4 0.1l-1.2 8.2l1.6 1.2l6.1 6.9l1.7 2.3l6.4 5.9l1.3 2.6l4.2-2.6l3.6-1l7.8-3.6l7.7-0.6l7.8 2.3l3.7 2.9l4.1 4.9l2.5 3.3l5.2 7.1l1.8 1l6 2.8l7.8 5.1l0.4 0.3l7.3 7.2l1.6 0.9l-0.7 8.1l0.2 8.1l6.7 5.4l5.6 2.7l-5.6 0l-7.8 0l-7.7 0l-5.2 0l-2.6-7.2l-0.3-0.9l-2.2-8.1l-5.3-8l0-0.1l-7.7-6.7l-1-1.4l-3.5-8.2l-3.3-6.4l-1.7-1.7l-6.1-3.4l-7.7 2.1l-1.3 1.3l-3.2 8.1l0.8 8.2l3.7 7.7l0.4 0.4l-0.4 3.7l-0.4 4.4l-4.2 8.1l-3.2 5.1l-3.5 3l-4.3 0l-7.7 0l-1.1 0l-5.5-8.1l0.2-8.1l1.8-8.1l1.1-8.1l0.1-8.2l-1.3-8.1l-3.1-6.2l-1-2l-6.8-7.2l-1.6-1l-6.1-3.1l-7.8-0.5l-7.8 1.2l-7.7 1.2l-4.5 1.2l-3.3 1l-7.8 5.7l-1 1.5l-6.7 6.9l-1.2 1.3l-6.6 5.2l-5.5 2.9l-2.3 1.2l-7.7 2.8l-7.8 2.9l-3 1.3l-4.8 2.8l-7.7 3l-7.8 0.3l-7.8-2l-7.7-2.4l-7.8-0.8l-7.8-0.3l-5.1-0.6l-2.6-0.3l-7.8-1.5l0-6.4l0-1.4l4.7 1.4l3.1 1l7.7 1.8l7.8 1l7.8 1.1l7.7 1.7l7.8 1.3l7.8-0.3l7.7-2.1l7.8-3l6.7-2.5l1.1-0.3l7.7-2.9l7.8-4.6l0.4-0.3l7.4-7.7l0.5-0.5l5.8-8.2l1.4-3l7.8-4.1l7.8-0.1l7.7-0.3l2.6-0.6l5.2-3.7l6.9-4.5l-4.7-8.2l-2.2-2.7l-3.9-5.6l-2.7-8.2l0.7-8.2l3.6-8.3l2.3-2.2l4.2-6.1l3.6-3l5.8-5.3l1.9-1.6l7.8-6.6l0-0.1l7.1-8.3l0.7-1.6l4.3-6.7l0.6-8.3l0.1-8.4l2.5-8.3l0.2-0.7l7.3-7.7zM170.6 151.9l-7.5 4.9l-4 3.3l-3.8 2.9l-5.8 5.4l-1.9 3.1l-3.8 5.2l-2.3 8.3l0.4 8.2l4.7 8.2l1 1.2l7.7 5.2l7.8 1l7.8-0.3l7.7-0.8l7.8-2.9l4-3.4l3.8-5.5l1.4-2.7l1.9-8.2l0.7-8.3l0-8.3l-2.2-8.3l-1.8-3.7l-3.6-4.5l-4.2-4.3l-7.8-0.5l-7.7 4.4zM177.9 275l-3.6 8.1l4.3 2.9l1.6-2.9l-0.9-8.1l-0.7-3.4z"/>
<path fill="#9eeff3" stroke="#9eeff3" d="M427.2 7.1l6.6-7.1l1.1 0l7.2 0l-7.2 8.5l-0.1 0.1l-7.6 8.1l-0.5 0.4l-7.3 7.5l-1.3 1.1l-4.4 8.5l3.3 8.5l2.4 2.4l7.8 3.4l7.7 2.4l0.6 0.3l7.2 5.2l2.4 3.3l-2.4 7.7l-0.4 0.7l-7.4 4.1l-6 4.4l-1.7 0.8l-7.1 7.6l-0.7 0.6l-5 7.8l-2.8 3l-3 5.4l-4.7 5.4l-1.7 3l-6.1 6.2l-3.1 2.1l-4.7 3.8l-7.7 3.3l-4.4 1.3l-3.4 1.3l-7.8 2.7l-7.7 1.9l-7.8-1l-6.5-4.9l-1.3-0.8l-6.7-7.6l-1-1.4l-5-6.9l-2.8-5.6l-2-2.8l-3.6-8.4l-1.2-8.4l1.4-8.4l1.2-8.5l-3.6-7.5l-1.5-0.9l-6.2-1.9l-6.7 1.9l-1.1 0.5l-6 7.9l-1.8 6.5l-0.6 2l-7.1 7.4l-5.2 1l-2.6 0.2l-7.8 0.1l-7.7 1.5l-7.8 4.6l-2 2l-4.3 8.4l-0.6 8.4l0.4 8.3l-0.1 8.4l-0.2 8.3l2 8.3l4.8 6.1l2.8 2.3l5 3l7.7 2.1l7.8 0.8l7.8 0.7l7.7 0.1l7.8-0.7l7.8-0.5l7.7 0.2l7.8 0.7l7.8 0.7l7.7 0.4l3 0.7l4.8 1.5l6.7 6.8l1.1 3.6l1 4.7l-1 6.2l-0.5 2.1l-4.6 8.2l-2.7 3.7l-4.4 4.5l-3.4 4.2l-2.8 4.1l-2.2 8.2l0.1 8.2l0.6 8.1l0.1 8.2l-0.8 8.2l-1.5 8.1l-1.2 4.9l-0.9 3.3l-2.2 8.1l-2.2 8.1l-2 8.1l-0.5 2l-1.8 6.1l-6 0l-7.7 0l-7.8 0l-6.2 0l6.2-4l3.1-4.1l4.7-6.5l0.8-1.6l4.2-8.1l2.7-4l2.1-4.1l4.4-8.2l1.3-2.5l2.2-5.6l2-8.2l0.6-8.2l-0.3-8.1l-0.3-8.2l0.8-8.2l2.8-5.5l2-2.8l5.7-5.9l2.2-2.3l5.6-7.2l0.7-1l2.3-8.3l-2.9-8.3l-0.1-0.1l-7.8-3.2l-7.7-1.6l-7.8-1.6l-7.8-1.3l-4.5-0.5l-3.2-0.2l-3.4 0.2l-4.4 0.4l-7.8 0.9l-7.7 0.4l-7.8-0.2l-7.8-0.1l-6.8-1.4l-0.9-0.1l-7.8-3.5l-5.3-4.6l-2.5-3.6l-3.1-4.8l-0.8-8.3l0.8-8.3l-0.8-8.4l-2.6-8.3l-1.2-5.4l-2.7-3l0-8.4l2.7-2.8l4-5.6l3.7-2.6l7.8-4.3l4.6-1.5l3.2-1.3l7.7-2.5l7.8-4.2l0.4-0.5l6.5-8.4l0.9-0.8l7.7-6.9l1.5-0.8l6.3-2.5l7.8-0.8l7.7 1.5l3.6 1.8l4.2 3.4l3.6 5.1l1.1 8.4l-2 8.5l-2.3 8.4l-0.4 8.3l0 0.1l2 8.4l3.9 8.4l1.9 2.5l4.4 5.8l3.3 3.8l7.6 4.6l0.2 0.2l7.8 1.3l7.4-1.5l0.3-0.1l7.8-2.2l7.8-2l7.7-2.7l1.8-1.4l6-4.1l4.1-4.2l3.7-6.5l1.7-1.9l4.3-8.4l1.7-5.2l1.8-3.2l2.6-8.4l0.2-8.5l-4.6-6.4l-1.3-2l-5.1-8.5l-1.3-3.7l-1.2-4.8l0.2-8.5l1-2.3l3.1-6.2l4.6-4.6l4.4-4l3.4-2.8l6.2-5.7zM46.6 41.5l7.8-1.9l7.7-1.4l7.8-1.1l7.8-0.6l7.7-0.2l7.8 0.3l7.8 0.7l7.7 1.2l7.8 1.7l7.8 2.1l1 0.4l6.7 2.4l7.8 3.3l5.6 2.8l2.2 1.2l7.7 4.8l3.7 2.5l4.1 3.3l6.1 5.1l1.7 1.9l6.3 6.6l1.4 2.2l5.3 6.2l2.5 5.9l4.6 2.5l3.2 2.9l5.4-2.9l2.3-0.3l7.8 0l1.1 0.3l6.7 2.6l4.3 5.8l-0.3 8.4l-3 8.3l-1 2.7l-4.9 5.7l-0.2 8.3l5.1 4.4l2.1 3.9l2.8 8.4l-1.9 8.2l-0.9 8.3l2 8.3l3.6 7.6l0.3 0.7l4.4 8.2l3.1 4.1l4.1 4.1l3.7 3.4l7.3 4.9l0.4 0.4l4.1 7.8l1.2 8.2l1.8 8.1l0.7 1.8l1.6 6.4l2.6 8.2l2.4 8.1l1.2 5.4l0.9 2.8l2.1 8.1l3.5 8.1l1.2 3.7l1.4 4.4l0 8.1l-1.4 0l-7.7 0l-2.2 0l-5.6-2.7l-6.7-5.4l-0.2-8.1l0.7-8.1l-1.6-0.9l-7.3-7.2l-0.4-0.3l-7.8-5.1l-6-2.8l-1.8-1l-5.2-7.1l-2.5-3.3l-4.1-4.9l-3.7-2.9l-7.8-2.3l-7.7 0.6l-7.8 3.6l-3.6 1l-4.2 2.6l-1.3-2.6l-6.4-5.9l-1.7-2.3l-6.1-6.9l-1.6-1.2l1.2-8.2l0.4-0.1l7.8-1.8l7.7-0.3l7.8-1.2l7.5-4.8l0.3-0.3l6.3-8l1.4-4.3l1.6-3.9l1.3-8.2l1.6-8.3l1.6-8.3l-0.8-8.3l-2.4-8.2l-1.2-8.4l0.5-8.3l-2.2-4.3l-0.9-4l-3.2-8.4l-2.9-8.3l-0.7-3.5l-6-4.9l-1.8-2.4l-0.5 2.4l-7.3 7.7l-0.2 0.7l-2.5 8.3l-0.1 8.4l-0.6 8.3l-4.3 6.7l-0.7 1.6l-7.1 8.3l0 0.1l-7.8 6.6l-1.9 1.6l-5.8 5.3l-3.6 3l-4.2 6.1l-2.3 2.2l-3.6 8.3l-0.7 8.2l2.7 8.2l3.9 5.6l2.2 2.7l4.7 8.2l-6.9 4.5l-5.2 3.7l-2.6 0.6l-7.7 0.3l-7.8 0.1l-7.8 4.1l-1.4 3l-5.8 8.2l-0.5 0.5l-7.4 7.7l-0.4 0.3l-7.8 4.6l-7.7 2.9l-1.1 0.3l-6.7 2.5l-7.8 3l-7.7 2.1l-7.8 0.3l-7.8-1.3l-7.7-1.7l-7.8-1.1l-7.8-1l-7.7-1.8l-3.1-1l-4.7-1.4l0-6.7l7.8 3.1l7.7 2.3l7.8 1.5l6.5 1.2l1.3 0.2l7.7 1.7l7.8 1.1l7.8-0.4l7.7-1.9l1.9-0.7l5.9-1.9l7.8-2.4l7.7-3.1l1.2-0.7l6.6-5.2l2.9-3l4.1-8.2l0.8-8.1l-0.5-8.2l0.5-2.3l3.6-5.9l3.5-8.3l0.6-2.5l2-5.7l2.8-8.2l3-4.4l3.6-3.9l4.2-1.5l7.7-3.1l3.9-3.7l3.9-2l7.8-6.1l0.1-0.2l7.6-6.4l2.2-1.8l5.6-8.1l0.2-0.3l2.9-8.3l0.2-8.3l-0.8-8.4l-0.7-8.3l-1.1-8.4l-0.7-2.8l-1.5-5.6l-4-8.4l-2.3-3.2l-4.4-5.2l-3.3-3.2l-7.1-5.3l-0.7-0.5l-7.8-4.2l-7.7-3.2l-1.7-0.5l-6.1-1.9l-7.8-1.6l-7.7-0.9l-7.8-0.3l-7.8 0.3l-7.7 1l-7.8 1.5l-7 1.9l-0.8 0.2l-7.7 2.8l-7.8 3.5l-3.8 1.9l-4 2.3l-7.7 5l-1.8 1.2l-6 4.7l-4.6 3.7l-3.2 2.9l-5.8 5.5l-1.9 2.1l-6 6.3l-1.8 2.1l0-2.1l0-8.4l0-8.4l0-8.4l0-8.5l0-5.1l5.1-3.3l2.7-1.6l7.7-4.3l5.2-2.6l2.6-1.2l7.8-3.2l7.7-2.9l3.8-1.2zM178.6 271.6l0.7 3.4l0.9 8.1l-1.6 2.9l-4.3-2.9l3.6-8.1z"/>
<path fill="#d9edee" stroke="#d9edee" d="M434.9 8.5l7.2-8.5l0.6 0l7.8 0l0.6 0l-0.6 0.7l-6.4 7.9l-1.4 2.1l-4.8 6.4l-3 6.5l-1.3 2.1l0.9 8.5l0.4 0.4l7.8 7.6l0.4 0.5l7.4 6.3l2.2 2.2l5.2 8.5l-0.9 8.4l-6.5 6.9l-2.1 1.6l-5.7 2.4l-7.8 3.2l-4.5 2.8l-3.2 1.4l-7.8 6.8l-0.1 0.2l-7.7 8.4l-7.4 8.4l-0.3 0.2l-7.8 8.1l-0.1 0l-7.7 6.2l-4.8 2.2l-2.9 1.8l-7.8 3.2l-7.8 3.1l-0.9 0.2l-6.8 3.4l-7.8-0.5l-2.3-2.9l-5.5-3.7l-3-4.6l-4.7-5.4l-2.2-3l-5.6-7.8l-0.4-0.5l-6-8.4l-1.4-2.7l-5.6-5.7l-2.1-3.8l-7.8-1.8l-7.8 2.1l-7.7 1.4l-7.8 0.3l-7.8 0.7l-3.1 1.1l-4.6 1.7l-6.6 6.7l-1.2 2.7l-1.7 5.7l-0.8 8.3l-0.6 8.4l0.1 8.3l3 7.7l0.4 0.6l7.4 6.5l4.6 1.9l3.1 1.1l7.8 1.5l7.8 1.1l7.7 0.3l7.8-0.5l7.8-0.6l7.7-0.1l7.8 0.1l7.8-0.1l7.7-0.9l7.8 0.1l7.4 6.2l0.4 0.4l4.3 7.9l1.7 8.3l-0.8 8.3l-2.8 8.2l-2.4 5l-2.3 3.2l-5.5 8.1l-0.1 0.2l-3.4 8.2l-0.6 8.2l0.6 8.1l0.5 8.2l0.1 8.2l-0.4 8.1l-0.8 8.2l-1 8.1l-1 8.1l-0.9 8.1l-0.8 6.6l-0.1 1.5l-7.6 0l-7.8 0l-1.8 0l1.8-6.1l0.5-2l2-8.1l2.2-8.1l2.2-8.1l0.9-3.3l1.2-4.9l1.5-8.1l0.8-8.2l-0.1-8.2l-0.6-8.1l-0.1-8.2l2.2-8.2l2.8-4.1l3.4-4.2l4.4-4.5l2.7-3.7l4.6-8.2l0.5-2.1l1-6.2l-1-4.7l-1.1-3.6l-6.7-6.8l-4.8-1.5l-3-0.7l-7.7-0.4l-7.8-0.7l-7.8-0.7l-7.7-0.2l-7.8 0.5l-7.8 0.7l-7.7-0.1l-7.8-0.7l-7.8-0.8l-7.7-2.1l-5-3l-2.8-2.3l-4.8-6.1l-2-8.3l0.2-8.3l0.1-8.4l-0.4-8.3l0.6-8.4l4.3-8.4l2-2l7.8-4.6l7.7-1.5l7.8-0.1l2.6-0.2l5.2-1l7.1-7.4l0.6-2l1.8-6.5l6-7.9l1.1-0.5l6.7-1.9l6.2 1.9l1.5 0.9l3.6 7.5l-1.2 8.5l-1.4 8.4l1.2 8.4l3.6 8.4l2 2.8l2.8 5.6l5 6.9l1 1.4l6.7 7.6l1.3 0.8l6.5 4.9l7.8 1l7.7-1.9l7.8-2.7l3.4-1.3l4.4-1.3l7.7-3.3l4.7-3.8l3.1-2.1l6.1-6.2l1.7-3l4.7-5.4l3-5.4l2.8-3l5-7.8l0.7-0.6l7.1-7.6l1.7-0.8l6-4.4l7.4-4.1l0.4-0.7l2.4-7.7l-2.4-3.3l-7.2-5.2l-0.6-0.3l-7.7-2.4l-7.8-3.4l-2.4-2.4l-3.3-8.5l4.4-8.5l1.3-1.1l7.3-7.5l0.5-0.4l7.6-8.1zM69.9 57.8l7.8-1.5l7.7-1l7.8-0.3l7.8 0.3l7.7 0.9l7.8 1.6l6.1 1.9l1.7 0.5l7.7 3.2l7.8 4.2l0.7 0.5l7.1 5.3l3.3 3.2l4.4 5.2l2.3 3.2l4 8.4l1.5 5.6l0.7 2.8l1.1 8.4l0.7 8.3l0.8 8.4l-0.2 8.3l-2.9 8.3l-0.2 0.3l-5.6 8.1l-2.2 1.8l-7.6 6.4l-0.1 0.2l-7.8 6.1l-3.9 2l-3.9 3.7l-7.7 3.1l-4.2 1.5l-3.6 3.9l-3 4.4l-2.8 8.2l-2 5.7l-0.6 2.5l-3.5 8.3l-3.6 5.9l-0.5 2.3l0.5 8.2l-0.8 8.1l-4.1 8.2l-2.9 3l-6.6 5.2l-1.2 0.7l-7.7 3.1l-7.8 2.4l-5.9 1.9l-1.9 0.7l-7.7 1.9l-7.8 0.4l-7.8-1.1l-7.7-1.7l-1.3-0.2l-6.5-1.2l-7.8-1.5l-7.7-2.3l-7.8-3.1l0-7.4l7.8 4.3l7.3 3.1l0.4 0.1l7.8 1.9l7.8 1.5l7.7 1.6l7.8 1.1l7.8-0.4l7.7-1.6l7.8-2.1l7.1-2.1l0.7-0.2l7.7-3.8l5.2-4.2l2.6-4.8l1.7-3.4l0-8.1l-1.7-7.5l-0.2-0.7l-0.8-8.2l-0.6-8.3l-1.3-8.2l-1.8-8.2l0.1-8.3l4.6-5.9l2.5-2.4l5.3-2.2l7.7-2.1l7.8-0.8l7.8 0.3l7.7-0.4l7.4-3.1l0.4-0.1l7.8-5l3.8-3.1l3.9-5l2.3-3.4l1.7-8.3l-0.6-8.3l-1.9-8.4l-1.5-5.1l-1.2-3.2l-3.9-8.4l-2.6-4.6l-3.1-3.8l-4.7-5l-4.5-3.4l-3.3-2.3l-7.7-3.8l-7.3-2.3l-0.5-0.2l-7.8-1.3l-7.7-0.4l-7.8 0.6l-6.6 1.3l-1.2 0.2l-7.7 2.7l-7.8 3.7l-3.2 1.8l-4.6 3.4l-6 5l-1.7 2l-5.4 6.4l-2.4 4l-2.7 4.4l-3.6 8.3l-1.5 5.4l-0.9 3l-1.6 8.3l-1.1 8.3l-1.8 8.4l-2.3 4l-4.7 4.2l-3.1 1.3l-7.8 2.6l-7.7 2.8l-3.2 1.6l-4.6 1.9l0-1.9l0-8.3l0-8.2l0-8.4l0-8.3l0-8.3l0-8.4l0-8.3l0-6.3l1.8-2.1l6-6.3l1.9-2.1l5.8-5.5l3.2-2.9l4.6-3.7l6-4.7l1.8-1.2l7.7-5l4-2.3l3.8-1.9l7.8-3.5l7.7-2.8l0.8-0.2z"/>
<path fill="#f2eecf" stroke="#f2eecf" d="M450.5 0.7l0.6-0.7l7.1 0l3.5 0l-3.5 3.4l-4.5 5.2l-3.2 4.7l-2.5 3.8l-2.4 8.6l2.9 8.5l2 2.1l6.1 6.4l1.6 1.6l6.8 6.9l1 1.8l0 6.7l0 8.4l0 6.8l-1.1 1.7l-6.7 4.4l-7.7 3.5l-1.3 0.5l-6.5 1.7l-7.8 2.3l-7.7 3.8l-0.7 0.6l-7.1 4.5l-3.5 3.9l-4.3 3.1l-4.6 5.3l-3.1 2.3l-5.9 6l-1.9 2.4l-7.4 6l-0.4 0.3l-7.7 4.9l-7.1 3.1l-0.7 0.5l-7.8 5.3l-4.2 2.5l-1.4 8.4l3.9 8.2l1.7 3.6l1.8 4.7l1.5 8.3l-0.3 8.3l-1.6 8.2l-1.4 4.7l-1.3 3.5l-3.3 8.3l-2.4 8.2l-0.7 6.5l-0.2 1.7l0.2 3.4l0.3 4.7l0.9 8.2l0.7 8.2l0.1 8.1l-0.3 8.2l-0.6 8.1l-0.4 8.1l-0.3 8.1l0 8.1l-0.4 0l-7.8 0l-7.8 0l-0.1 0l0.1-1.5l0.8-6.6l0.9-8.1l1-8.1l1-8.1l0.8-8.2l0.4-8.1l-0.1-8.2l-0.5-8.2l-0.6-8.1l0.6-8.2l3.4-8.2l0.1-0.2l5.5-8.1l2.3-3.2l2.4-5l2.8-8.2l0.8-8.3l-1.7-8.3l-4.3-7.9l-0.4-0.4l-7.4-6.2l-7.8-0.1l-7.7 0.9l-7.8 0.1l-7.8-0.1l-7.7 0.1l-7.8 0.6l-7.8 0.5l-7.7-0.3l-7.8-1.1l-7.8-1.5l-3.1-1.1l-4.6-1.9l-7.4-6.5l-0.4-0.6l-3-7.7l-0.1-8.3l0.6-8.4l0.8-8.3l1.7-5.7l1.2-2.7l6.6-6.7l4.6-1.7l3.1-1.1l7.8-0.7l7.8-0.3l7.7-1.4l7.8-2.1l7.8 1.8l2.1 3.8l5.6 5.7l1.4 2.7l6 8.4l0.4 0.5l5.6 7.8l2.2 3l4.7 5.4l3 4.6l5.5 3.7l2.3 2.9l7.8 0.5l6.8-3.4l0.9-0.2l7.8-3.1l7.8-3.2l2.9-1.8l4.8-2.2l7.7-6.2l0.1 0l7.8-8.1l0.3-0.2l7.4-8.4l7.7-8.4l0.1-0.2l7.8-6.8l3.2-1.4l4.5-2.8l7.8-3.2l5.7-2.4l2.1-1.6l6.5-6.9l0.9-8.4l-5.2-8.5l-2.2-2.2l-7.4-6.3l-0.4-0.5l-7.8-7.6l-0.4-0.4l-0.9-8.5l1.3-2.1l3-6.5l4.8-6.4l1.4-2.1zM264.8 101.8l-0.7 0.6l-4.7 7.8l-1.7 8.3l-1 8.4l0.4 8.3l5 8.3l2 1.8l7.7 3.7l7.8 2.1l3.6 0.8l4.2 0.7l7.7 0.7l7.8-0.4l7.8-0.7l6.8-0.3l0.9-0.1l7.8-0.6l7.8-1.5l7.7-5.8l0.4-0.4l-0.4-0.6l-1.8-7.7l-5.1-8.3l-0.8-1l-5.3-7.4l-2.5-3.4l-4.3-4.9l-3.5-4.8l-4.7-3.6l-3-3.1l-7.8-2.5l-7.8-0.1l-7.7 0.4l-7.8 0.3l-7.8 1.1zM93.2 75.3l7.8-0.6l7.7 0.4l7.8 1.3l0.5 0.2l7.3 2.3l7.7 3.8l3.3 2.3l4.5 3.4l4.7 5l3.1 3.8l2.6 4.6l3.9 8.4l1.2 3.2l1.5 5.1l1.9 8.4l0.6 8.3l-1.7 8.3l-2.3 3.4l-3.9 5l-3.8 3.1l-7.8 5l-0.4 0.1l-7.4 3.1l-7.7 0.4l-7.8-0.3l-7.8 0.8l-7.7 2.1l-5.3 2.2l-2.5 2.4l-4.6 5.9l-0.1 8.3l1.8 8.2l1.3 8.2l0.6 8.3l0.8 8.2l0.2 0.7l1.7 7.5l0 8.1l-1.7 3.4l-2.6 4.8l-5.2 4.2l-7.7 3.8l-0.7 0.2l-7.1 2.1l-7.8 2.1l-7.7 1.6l-7.8 0.4l-7.8-1.1l-7.7-1.6l-7.8-1.5l-7.8-1.9l-0.4-0.1l-7.3-3.1l-7.8-4.3l0-0.8l0-8.2l0-2.7l1.3 2.7l6.5 6l2.7 2.2l5 2.5l7.8 2.3l7.8 1.7l6.7 1.7l1 0.2l7.8 1l7.8-0.3l5.5-0.9l2.2-0.4l7.8-2.2l7.8-2.3l6.8-3.3l0.9-0.9l4.4-7.3l-0.7-8.1l-2.7-8.2l-1-3.3l-2.5-4.9l-4.7-8.3l-0.5-0.7l-7.8-4l-7.8-0.2l-7.7 1l-7.8 0.7l-7.8 1l-7.7 0.9l-7.8-0.6l-7.8-0.4l-7.7 1.5l-1.6 0.8l-6.2 4.6l0-4.6l0-8.2l0-8.2l0-8.3l0-6.4l4.6-1.9l3.2-1.6l7.7-2.8l7.8-2.6l3.1-1.3l4.7-4.2l2.3-4l1.8-8.4l1.1-8.3l1.6-8.3l0.9-3l1.5-5.4l3.6-8.3l2.7-4.4l2.4-4l5.4-6.4l1.7-2l6-5l4.6-3.4l3.2-1.8l7.8-3.7l7.7-2.7l1.2-0.2zM92.9 101.8l-7.5 7.7l-0.5 0.7l-3.1 8.3l0.2 8.4l3.4 7.7l0.3 0.6l7.5 7.3l1.2 1l6.6 3.2l7.7 3l6 2.2l1.8 0.4l7.8 1.8l7.7 0.8l7.8-1.8l2.4-1.2l5.4-3.9l3.5-4.5l1-8.3l-1.9-8.3l-2.6-6.7l-1.1-1.7l-5.9-8.3l-0.8-1.1l-7.8-6.6l-1.3-0.7l-6.4-3.2l-7.8-2l-7.8-0.2l-7.7 1.6l-7.8 3.6z"/>
<path fill="#f9f59e" stroke="#f9f59e" d="M458.2 3.4l3.5-3.4l4.3 0l0 8.4l-0.2 0.2l-7.3 8.5l-0.3 0.7l-2 7.9l2 4.3l3.1 4.2l4.7 4.2l0 4.3l0 8.5l0 1.8l-1-1.8l-6.8-6.9l-1.6-1.6l-6.1-6.4l-2-2.1l-2.9-8.5l2.4-8.6l2.5-3.8l3.2-4.7zM466 74.9l0 1.7l0 8.4l0 2.8l-7.8 2.3l-7.7 1.5l-7.8 1.4l-1.4 0.4l-6.4 1.3l-7.7 2.8l-6.7 4.3l-1.1 0.5l-7.8 5.7l-1.9 2.2l-5.8 4.3l-3.9 4l-3.9 4.9l-4.4 3.5l-3.4 3.7l-7.3 4.6l-0.4 0.4l-7.8 5.2l-3.7 2.7l-2.4 8.4l2.6 8.2l2.7 8.3l0.8 5.4l0.4 2.9l0.1 8.3l-0.5 5.1l-0.3 3.1l-1.3 8.2l-1.1 8.3l-0.4 8.2l0.8 8.2l1.8 8.1l0.5 2.3l1.5 5.9l1.2 8.2l-0.1 8.1l-1 8.2l-0.9 8.1l-0.3 8.1l0.3 8.1l0.9 8.1l-1.6 0l-7.8 0l-7.3 0l0-8.1l0.3-8.1l0.4-8.1l0.6-8.1l0.3-8.2l-0.1-8.1l-0.7-8.2l-0.9-8.2l-0.3-4.7l-0.2-3.4l0.2-1.7l0.7-6.5l2.4-8.2l3.3-8.3l1.3-3.5l1.4-4.7l1.6-8.2l0.3-8.3l-1.5-8.3l-1.8-4.7l-1.7-3.6l-3.9-8.2l1.4-8.4l4.2-2.5l7.8-5.3l0.7-0.5l7.1-3.1l7.7-4.9l0.4-0.3l7.4-6l1.9-2.4l5.9-6l3.1-2.3l4.6-5.3l4.3-3.1l3.5-3.9l7.1-4.5l0.7-0.6l7.7-3.8l7.8-2.3l6.5-1.7l1.3-0.5l7.7-3.5l6.7-4.4zM93.2 101.6l7.8-3.6l7.7-1.6l7.8 0.2l7.8 2l6.4 3.2l1.3 0.7l7.8 6.6l0.8 1.1l5.9 8.3l1.1 1.7l2.6 6.7l1.9 8.3l-1 8.3l-3.5 4.5l-5.4 3.9l-2.4 1.2l-7.8 1.8l-7.7-0.8l-7.8-1.8l-1.8-0.4l-6-2.2l-7.7-3l-6.6-3.2l-1.2-1l-7.5-7.3l-0.3-0.6l-3.4-7.7l-0.2-8.4l3.1-8.3l0.5-0.7l7.5-7.7zM120 126.9l1 8.3l3.3 2.6l7.7 4.2l7.8-4.8l0.5-2l-0.5-1.2l-6-7.1l-1.8-1.5l-7.7-1.2zM271.8 97.9l7.8-1.1l7.8-0.3l7.7-0.4l7.8 0.1l7.8 2.5l3 3.1l4.7 3.6l3.5 4.8l4.3 4.9l2.5 3.4l5.3 7.4l0.8 1l5.1 8.3l1.8 7.7l0.4 0.6l-0.4 0.4l-7.7 5.8l-7.8 1.5l-7.8 0.6l-0.9 0.1l-6.8 0.3l-7.8 0.7l-7.8 0.4l-7.7-0.7l-4.2-0.7l-3.6-0.8l-7.8-2.1l-7.7-3.7l-2-1.8l-5-8.3l-0.4-8.3l1-8.4l1.7-8.3l4.7-7.8l0.7-0.6zM278 101.8l-6.2 1.5l-7.6 6.9l-0.1 0.2l-2.5 8.1l-1.1 8.4l0.6 8.3l3 4.5l4.7 3.8l3 1.6l7.8 2.6l7.8 1.9l7.7 1l7.8-0.3l7.8-0.8l7.7-1l7.8-1.6l7-3.4l0.8-3.2l0.7-5.1l-0.7-1.2l-2.7-7.1l-5.1-7.3l-0.8-1.1l-7-7.9l-0.5-0.4l-7.2-5.8l-7.8-2.5l-1.6-0.1l-6.2-0.8l-7.7 0l-7.8 0.4zM7.8 200.6l7.7-1.5l7.8 0.4l7.8 0.6l7.7-0.9l7.8-1l7.8-0.7l7.7-1l7.8 0.2l7.8 4l0.5 0.7l4.7 8.3l2.5 4.9l1 3.3l2.7 8.2l0.7 8.1l-4.4 7.3l-0.9 0.9l-6.8 3.3l-7.8 2.3l-7.8 2.2l-2.2 0.4l-5.5 0.9l-7.8 0.3l-7.8-1l-1-0.2l-6.7-1.7l-7.8-1.7l-7.8-2.3l-5-2.5l-2.7-2.2l-6.5-6l-1.3-2.7l0-5.4l0-8.2l0-8.2l0-3.7l6.2-4.6zM14.5 217.9l-4.5 8.2l2.4 8.1l3.1 2.6l7.8 3.6l6.8 2l1 0.2l7.7 1.4l7.8 1.1l7.8 0.1l7.7-0.8l7.8-1.5l1.9-0.5l5.9-2.7l6.2-5.5l-1.7-8.1l-4.5-8.2l-0.1 0l-7.7-5.9l-7.8-1.2l-7.7 0.8l-7.8 1.1l-7.8 1l-7.7 0.8l-7.8 0.5l-7.8 2.1z"/>
<path fill="#fcfa4b" stroke="#fcfa4b" d="M466 8.4l0 0.2l0 8.5l0 8.6l0 8.5l0 4.2l-4.7-4.2l-3.1-4.2l-2-4.3l2-7.9l0.3-0.7l7.3-8.5zM442.7 93l7.8-1.4l7.7-1.5l7.8-2.3l0 5.6l0 3.8l-7.8 0.4l-7.7 0.3l-7.8 0.4l-7.8 1.2l-6.9 2.3l-0.8 0.2l-7.8 3.7l-6.4 4.5l-1.4 0.7l-7.7 5.7l-1.9 1.9l-5.9 7.4l-1.3 1l-6.5 7.1l-1.9 1.2l-5.8 5.6l-4.2 2.7l-3.3 8.4l2.2 8.2l2.1 8.3l0.9 8.3l0.1 8.3l-0.2 8.2l-0.2 8.2l0.4 8.3l1.5 8.2l0.7 2l2.1 6.2l4.1 8.1l1.5 3.1l2.7 5.1l2 8.2l-0.2 8.1l-1.2 8.2l-1.6 8.1l-0.4 8.1l2.5 8.1l2.3 8.1l-6.1 0l-7.7 0l-6.2 0l-0.9-8.1l-0.3-8.1l0.3-8.1l0.9-8.1l1-8.2l0.1-8.1l-1.2-8.2l-1.5-5.9l-0.5-2.3l-1.8-8.1l-0.8-8.2l0.4-8.2l1.1-8.3l1.3-8.2l0.3-3.1l0.5-5.1l-0.1-8.3l-0.4-2.9l-0.8-5.4l-2.7-8.3l-2.6-8.2l2.4-8.4l3.7-2.7l7.8-5.2l0.4-0.4l7.3-4.6l3.4-3.7l4.4-3.5l3.9-4.9l3.9-4l5.8-4.3l1.9-2.2l7.8-5.7l1.1-0.5l6.7-4.3l7.7-2.8l6.4-1.3zM279.6 101.4l7.8-0.4l7.7 0l6.2 0.8l1.6 0.1l7.8 2.5l7.2 5.8l0.5 0.4l7 7.9l0.8 1.1l5.1 7.3l2.7 7.1l0.7 1.2l-0.7 5.1l-0.8 3.2l-7 3.4l-7.8 1.6l-7.7 1l-7.8 0.8l-7.8 0.3l-7.7-1l-7.8-1.9l-7.8-2.6l-3-1.6l-4.7-3.8l-3-4.5l-0.6-8.3l1.1-8.4l2.5-8.1l0.1-0.2l7.6-6.9l6.2-1.5zM270.3 110.2l-4.3 8.3l-1.7 8.4l1.5 8.3l6 5.1l5.8 3.2l2 0.8l7.8 2.2l7.7 1.2l7.8-0.1l7.8-0.9l7.7-1.5l5.4-1.7l2.4-1.9l3.6-6.4l-2-8.3l-1.6-2.4l-4.6-6l-3.2-3.6l-6.2-4.7l-1.5-1.2l-7.8-2.8l-7.8-0.9l-7.7 0l-7.8 0.9l-7.8 2.6zM124.3 124.2l7.7 1.2l1.8 1.5l6 7.1l0.5 1.2l-0.5 2l-7.8 4.8l-7.7-4.2l-3.3-2.6l-1-8.3zM15.5 217.1l7.8-2.1l7.8-0.5l7.7-0.8l7.8-1l7.8-1.1l7.7-0.8l7.8 1.2l7.7 5.9l0.1 0l4.5 8.2l1.7 8.1l-6.2 5.5l-5.9 2.7l-1.9 0.5l-7.8 1.5l-7.7 0.8l-7.8-0.1l-7.8-1.1l-7.7-1.4l-1-0.2l-6.8-2l-7.8-3.6l-3.1-2.6l-2.4-8.1l4.5-8.2zM60.8 234.2l1.3 0.1l0.5-0.1l-0.5-0.8z"/>
<path fill="#fffa00" stroke="#fffa00" d="M434.9 99.5l7.8-1.2l7.8-0.4l7.7-0.3l7.8-0.4l0 4.6l0 3.8l-7.8-1l-7.7-0.8l-7.8-0.4l-7.8 0.5l-7.7 1.8l-7.8 3.3l-1.7 1.2l-6.1 3.3l-7.5 5l-0.2 0.3l-6.2 8.1l-1.6 2.5l-5.2 5.8l-2.6 4.1l-4.6 4.2l-3.1 8l-0.2 0.4l0.2 0.8l1.1 7.4l1.3 8.3l0.4 8.3l0.1 8.3l0.2 8.2l0.6 8.2l1.6 8.3l2.4 7l0.5 1.2l4.3 8.2l3 4.5l2.5 3.6l4.8 8.2l0.5 1.7l1.6 6.5l1 8.1l1.1 8.2l2.3 8.1l1.7 3.3l1.6 4.8l0.9 8.1l-0.7 8.1l-1.8 0l-7.7 0l-7.8 0l-1.7 0l-2.3-8.1l-2.5-8.1l0.4-8.1l1.6-8.1l1.2-8.2l0.2-8.1l-2-8.2l-2.7-5.1l-1.5-3.1l-4.1-8.1l-2.1-6.2l-0.7-2l-1.5-8.2l-0.4-8.3l0.2-8.2l0.2-8.2l-0.1-8.3l-0.9-8.3l-2.1-8.3l-2.2-8.2l3.3-8.4l4.2-2.7l5.8-5.6l1.9-1.2l6.5-7.1l1.3-1l5.9-7.4l1.9-1.9l7.7-5.7l1.4-0.7l6.4-4.5l7.8-3.7l0.8-0.2zM271.8 108.8l7.8-2.6l7.8-0.9l7.7 0l7.8 0.9l7.8 2.8l1.5 1.2l6.2 4.7l3.2 3.6l4.6 6l1.6 2.4l2 8.3l-3.6 6.4l-2.4 1.9l-5.4 1.7l-7.7 1.5l-7.8 0.9l-7.8 0.1l-7.7-1.2l-7.8-2.2l-2-0.8l-5.8-3.2l-6-5.1l-1.5-8.3l1.7-8.4l4.3-8.3zM283.7 110.2l-4.1 1l-7.8 6l-0.7 1.3l-1.6 8.4l2.3 7.3l0.5 1l7.3 4.5l7.8 3.6l0.9 0.2l6.8 1.4l7.8 0l7.8-1l1.4-0.4l6.3-2.6l6.3-5.7l-0.9-8.3l-5.4-7.3l-0.9-1.1l-6.8-5.2l-7.8-2.9l-2-0.2l-5.8-0.8l-7.7 0.2zM62.1 233.4l0.5 0.8l-0.5 0.1l-1.3-0.1z"/>
<path fill="#ffdc00" stroke="#ffdc00" d="M287.4 109.6l7.7-0.2l5.8 0.8l2 0.2l7.8 2.9l6.8 5.2l0.9 1.1l5.4 7.3l0.9 8.3l-6.3 5.7l-6.3 2.6l-1.4 0.4l-7.8 1l-7.8 0l-6.8-1.4l-0.9-0.2l-7.8-3.6l-7.3-4.5l-0.5-1l-2.3-7.3l1.6-8.4l0.7-1.3l7.8-6l4.1-1zM278.8 118.5l-3 8.4l3.8 7.1l0.8 1.2l7 3.5l7.7 2.6l7.8 0.3l7.8-1.7l7.7-4.3l0.5-0.4l0.4-8.3l-0.9-1.2l-6.4-7.2l-1.3-1l-7.8-3l-7.8-0.7l-7.7 1l-7.8 3.1zM419.4 109l7.8-3.3l7.7-1.8l7.8-0.5l7.8 0.4l7.7 0.8l7.8 1l0 4.6l0 3.9l-7.8-2.7l-4.2-1.2l-3.5-0.9l-7.8-1.2l-7.8-0.1l-7.7 1.4l-2 0.8l-5.8 2l-7.8 4l-3.5 2.3l-4.2 3.9l-3.5 4.5l-4.3 6.8l-1.4 1.5l-4.8 8.3l-1.6 6.9l-0.5 1.5l0.5 5.8l0.2 2.4l0.3 8.3l-0.2 8.3l0 8.3l0.4 8.2l1.3 8.2l2.4 8.3l3.4 7.1l0.6 1.1l5.4 8.2l1.8 2.5l3.9 5.6l3.8 7.1l0.6 1.1l2.6 8.2l1.8 8.1l2 8.2l0.8 2.7l1.4 5.4l2 8.1l1.1 8.1l0.4 8.1l-4.9 0l-6 0l0.7-8.1l-0.9-8.1l-1.6-4.8l-1.7-3.3l-2.3-8.1l-1.1-8.2l-1-8.1l-1.6-6.5l-0.5-1.7l-4.8-8.2l-2.5-3.6l-3-4.5l-4.3-8.2l-0.5-1.2l-2.4-7l-1.6-8.3l-0.6-8.2l-0.2-8.2l-0.1-8.3l-0.4-8.3l-1.3-8.3l-1.1-7.4l-0.2-0.8l0.2-0.4l3.1-8l4.6-4.2l2.6-4.1l5.2-5.8l1.6-2.5l6.2-8.1l0.2-0.3l7.5-5l6.1-3.3z"/>
<path fill="#ffc000" stroke="#ffc000" d="M427.2 109.4l7.7-1.4l7.8 0.1l7.8 1.2l3.5 0.9l4.2 1.2l7.8 2.7l0 4.4l0 4.8l-7.5-4.8l-0.3-0.1l-7.7-3.3l-7.8-2.2l-7.8-0.8l-7.7 0.8l-7.8 2.4l-7.1 3.2l-0.7 0.4l-7.7 7.1l-0.7 0.9l-4.8 8.3l-2.3 5.9l-1.3 2.4l-1 8.4l0.9 8.2l-0.6 8.3l-0.7 8.3l0 8.3l0.7 8.2l1.9 8.2l0.1 0.4l3.1 7.9l4.7 7.8l0.2 0.4l6.2 8.2l1.3 1.8l4.7 6.3l3.1 5.9l1.3 2.3l2.7 8.2l2 8.1l1.8 7.8l0 0.4l1.9 8.1l1.8 8.1l1.5 8.1l1.1 8.1l-6.3 0l-2.9 0l-0.4-8.1l-1.1-8.1l-2-8.1l-1.4-5.4l-0.8-2.7l-2-8.2l-1.8-8.1l-2.6-8.2l-0.6-1.1l-3.8-7.1l-3.9-5.6l-1.8-2.5l-5.4-8.2l-0.6-1.1l-3.4-7.1l-2.4-8.3l-1.3-8.2l-0.4-8.2l0-8.3l0.2-8.3l-0.3-8.3l-0.2-2.4l-0.5-5.8l0.5-1.5l1.6-6.9l4.8-8.3l1.4-1.5l4.3-6.8l3.5-4.5l4.2-3.9l3.5-2.3l7.8-4l5.8-2zM279.6 117.9l7.8-3.1l7.7-1l7.8 0.7l7.8 3l1.3 1l6.4 7.2l0.9 1.2l-0.4 8.3l-0.5 0.4l-7.7 4.3l-7.8 1.7l-7.8-0.3l-7.7-2.6l-7-3.5l-0.8-1.2l-3.8-7.1l3-8.4zM294 118.5l-6.6 3.8l-3.4 4.6l3.4 5.1l2.6 3.2l5.1 1.9l7.8 0.7l7.8-2.1l0.9-0.5l2.2-8.3l-3.1-3.5l-7.8-4.9l-0.4 0l-7.4-0.2z"/>
<path fill="#ffa400" stroke="#ffa400" d="M295.1 118.3l7.4 0.2l0.4 0l7.8 4.9l3.1 3.5l-2.2 8.3l-0.9 0.5l-7.8 2.1l-7.8-0.7l-5.1-1.9l-2.6-3.2l-3.4-5.1l3.4-4.6l6.6-3.8zM294.9 126.9l0.2 0.3l7.8 3.6l2.9-3.9l-2.9-1.9l-7.8 1.7zM419.4 115.3l7.8-2.4l7.7-0.8l7.8 0.8l7.8 2.2l7.7 3.3l0.3 0.1l7.5 4.8l0 3.6l0 7.4l-7.1-7.4l-0.7-0.5l-7.7-5.2l-5.5-2.7l-2.3-0.8l-7.8-1.5l-7.7 0.3l-7.8 1.9l-0.3 0.1l-7.5 4.1l-4.7 4.3l-3 4.7l-2 3.6l-2.8 8.3l-0.4 8.4l0.7 8.2l-0.7 8.3l-0.7 8.3l0 8.3l1.1 8.2l2.5 8.2l2.3 5l1.8 3.3l5.9 8.2l0 0.1l7 8.1l0.8 1l5.8 7.1l2 3.8l2.3 4.4l2.5 8.2l1.8 8.1l1.1 5.6l0.6 2.6l1.8 8.1l1.8 8.1l1.8 8.1l1.8 8l0 0.1l-7.8 0l-1.4 0l-1.1-8.1l-1.5-8.1l-1.8-8.1l-1.9-8.1l0-0.4l-1.8-7.8l-2-8.1l-2.7-8.2l-1.3-2.3l-3.1-5.9l-4.7-6.3l-1.3-1.8l-6.2-8.2l-0.2-0.4l-4.7-7.8l-3.1-7.9l-0.1-0.4l-1.9-8.2l-0.7-8.2l0-8.3l0.7-8.3l0.6-8.3l-0.9-8.2l1-8.4l1.3-2.4l2.3-5.9l4.8-8.3l0.7-0.9l7.7-7.1l0.7-0.4z"/>
<path fill="#ff8200" stroke="#ff8200" d="M419.4 118.4l7.8-1.9l7.7-0.3l7.8 1.5l2.3 0.8l5.5 2.7l7.7 5.2l0.7 0.5l7.1 7.4l0 0.9l0 8.3l0 6.8l-3-6.8l-4.8-7.2l-0.7-1.1l-7-7.2l-1.3-1.1l-6.5-3.9l-7.8-2.5l-7.7-0.3l-7.8 2l-7.8 4.1l-0.6 0.6l-5.3 8.3l-1.8 6.1l-0.7 2.2l-0.2 8.4l0.7 8.2l-0.8 8.3l-0.6 8.3l0.2 8.3l1.4 7.4l0.1 0.8l3.3 8.2l4.3 7.3l0.8 1l7 8.1l0.1 0.1l7.7 7.6l0.7 0.6l7 7.8l0.4 0.3l4.5 8.2l1.8 8.2l1.1 6.6l0.3 1.5l1.8 8.2l1.7 8.1l1.8 8.1l2.2 8l0 0.1l2.9 8.1l-2.9 0l-7.8 0l0-0.1l-1.8-8l-1.8-8.1l-1.8-8.1l-1.8-8.1l-0.6-2.6l-1.1-5.6l-1.8-8.1l-2.5-8.2l-2.3-4.4l-2-3.8l-5.8-7.1l-0.8-1l-7-8.1l0-0.1l-5.9-8.2l-1.8-3.3l-2.3-5l-2.5-8.2l-1.1-8.2l0-8.3l0.7-8.3l0.7-8.3l-0.7-8.2l0.4-8.4l2.8-8.3l2-3.6l3-4.7l4.7-4.3l7.5-4.1zM295.1 126.7l7.8-1.7l2.9 1.9l-2.9 3.9l-7.8-3.6l-0.2-0.3z"/>
<path fill="#ff5e00" stroke="#ff5e00" d="M411.6 126.3l7.8-4.1l7.8-2l7.7 0.3l7.8 2.5l6.5 3.9l1.3 1.1l7 7.2l0.7 1.1l4.8 7.2l3 6.8l0 1.6l0 8.2l0 4.7l-3.3-4.7l-3.7-8.2l-0.8-1.7l-2.7-6.7l-5-7.2l-0.8-1.1l-7-6.5l-3.1-1.8l-4.7-1.9l-7.7-0.7l-7.8 1.7l-1.6 0.9l-6.2 5.6l-1.7 2.7l-2.5 8.3l-0.5 8.4l0.2 8.2l-0.4 8.3l-0.2 8.3l0.6 8.3l2 8.2l2.5 5.4l1.7 2.8l6.1 7.9l0.4 0.4l7.4 6.9l1.7 1.3l6 4.8l5.5 3.4l2.3 2.1l7.8 4.1l7.7 1.1l7.8 0.1l0 0.7l0 8.2l0 1.5l-5.7 6.7l-2.1 7.2l-0.1 0.9l0.1 2.2l0.4 6l1 8.1l1.8 8.1l3 8.1l1.6 4l0 4.1l-7.8 0l-4.8 0l-2.9-8.1l0-0.1l-2.2-8l-1.8-8.1l-1.7-8.1l-1.8-8.2l-0.3-1.5l-1.1-6.6l-1.8-8.2l-4.5-8.2l-0.4-0.3l-7-7.8l-0.7-0.6l-7.7-7.6l-0.1-0.1l-7-8.1l-0.8-1l-4.3-7.3l-3.3-8.2l-0.1-0.8l-1.4-7.4l-0.2-8.3l0.6-8.3l0.8-8.3l-0.7-8.2l0.2-8.4l0.7-2.2l1.8-6.1l5.3-8.3z"/>
<path fill="#ff3800" stroke="#ff3800" d="M419.4 126l7.8-1.7l7.7 0.7l4.7 1.9l3.1 1.8l7 6.5l0.8 1.1l5 7.2l2.7 6.7l0.8 1.7l3.7 8.2l3.3 4.7l0 3.6l0 7.2l-5.3-7.2l-2.5-3.6l-2.2-4.7l-3.1-8.2l-2.4-5.3l-1.6-3.1l-6.2-8l-0.3-0.3l-7.5-5l-7.7-1.4l-7.8 2.7l-4 3.7l-3.8 8l-0.1 0.3l-0.8 8.4l-0.1 8.2l-0.2 8.3l0.2 8.3l1 7.7l0.1 0.6l3.1 8.2l4.6 7.2l0.9 1l6.9 6.8l2 1.5l5.7 4.1l7.8 4l0.4 0.1l7.4 2l7.7-0.2l7.4-1.8l0.4-0.2l0 0.2l0 8.2l0 7.4l-7.8-0.1l-7.7-1.1l-7.8-4.1l-2.3-2.1l-5.5-3.4l-6-4.8l-1.7-1.3l-7.4-6.9l-0.4-0.4l-6.1-7.9l-1.7-2.8l-2.5-5.4l-2-8.2l-0.6-8.3l0.2-8.3l0.4-8.3l-0.2-8.2l0.5-8.4l2.5-8.3l1.7-2.7l6.2-5.6zM466 243.9l0 6.7l0 8.1l0 8.2l0 8.1l0 8.1l0 8.1l0 4l-1.6-4l-3-8.1l-1.8-8.1l-1-8.1l-0.4-6l-0.1-2.2l0.1-0.9l2.1-7.2z"/>
<path fill="#ff1300" stroke="#ff1300" d="M419.4 131.5l7.8-2.7l7.7 1.4l7.5 5l0.3 0.3l6.2 8l1.6 3.1l2.4 5.3l3.1 8.2l2.2 4.7l2.5 3.6l5.3 7.2l0 1.1l0 8.3l0 7.5l-3.1-7.5l-4.7-7.9l-0.2-0.4l-4.3-8.3l-3.2-7.8l-0.2-0.5l-3.3-8.2l-4.3-7.9l-0.4-0.5l-7.4-7.3l-3.1-1l-4.6-0.9l-2.6 0.9l-5.2 3.8l-2.4 4.5l-1.9 8.4l-0.7 8.2l0 8.3l0.9 8.3l2 8.3l2.1 4.8l2.4 3.4l5.4 6l2.9 2.2l4.8 3.5l7.8 3.8l3.8 1l4 0.8l6.4-0.8l1.3-0.3l7.8-7.6l0 7.9l0 8l-0.4 0.2l-7.4 1.8l-7.7 0.2l-7.4-2l-0.4-0.1l-7.8-4l-5.7-4.1l-2-1.5l-6.9-6.8l-0.9-1l-4.6-7.2l-3.1-8.2l-0.1-0.6l-1-7.7l-0.2-8.3l0.2-8.3l0.1-8.2l0.8-8.4l0.1-0.3l3.8-8z"/>
<path fill="#ef0000" stroke="#ef0000" d="M427.2 134.3l4.6 0.9l3.1 1l7.4 7.3l0.4 0.5l4.3 7.9l3.3 8.2l0.2 0.5l3.2 7.8l4.3 8.3l0.2 0.4l4.7 7.9l3.1 7.5l0 0.7l0 8.2l0 0.4l-7.8 7.6l-1.3 0.3l-6.4 0.8l-4-0.8l-3.8-1l-7.8-3.8l-4.8-3.5l-2.9-2.2l-5.4-6l-2.4-3.4l-2.1-4.8l-2-8.3l-0.9-8.3l0-8.3l0.7-8.2l1.9-8.4l2.4-4.5l5.2-3.8zM426 143.5l-6 8.4l-0.6 1.8l-1 6.4l0.2 8.3l0.8 4.6l1.2 3.7l4.2 8.3l2.4 3.3l6.1 4.9l1.6 1.2l7.8 2.8l7.8-0.9l2.1-3.1l-0.7-8.2l-1.4-4.6l-1-3.7l-2.7-8.3l-2.6-8.3l-1.5-3.8l-2.5-4.4l-5.3-7l-4.3-1.4l-3.4-0.9z"/>
<path fill="#d00000" stroke="#d00000" d="M427.2 142.6l3.4 0.9l4.3 1.4l5.3 7l2.5 4.4l1.5 3.8l2.6 8.3l2.7 8.3l1 3.7l1.4 4.6l0.7 8.2l-2.1 3.1l-7.8 0.9l-7.8-2.8l-1.6-1.2l-6.1-4.9l-2.4-3.3l-4.2-8.3l-1.2-3.7l-0.8-4.6l-0.2-8.3l1-6.4l0.6-1.8l6-8.4zM424.9 160.1l0.3 8.3l2 5.1l5.8 3.2l1.9 1.1l1.2-1.1l2-8.3l-1.8-8.3l-1.4-2.4l-7.7-2.5z"/>
<path fill="#b00000" stroke="#b00000" d="M427.2 155.2l7.7 2.5l1.4 2.4l1.8 8.3l-2 8.3l-1.2 1.1l-1.9-1.1l-5.8-3.2l-2-5.1l-0.3-8.3z"/>
</g>
<path fill="#fff" d="M330.0,214.0 338.0,209.0 350.0,202.0 358.0,205.0 368.0,200.0 376.0,208.0 383.0,214.0 389.0,228.0 391.0,248.0 394.0,264.0 391.0,282.0 378.0,296.0 303.0,296.0 303.0,286.0 314.0,280.0 318.0,268.0 322.0,262.0 318.0,252.0 324.0,232.0Z"/>
<path fill="#fff" d="M74.0,287.0 81.0,280.0 88.0,287.0 81.0,294.0Z"/>
<path fill="#fff" d="M137.0,296.5 144.0,289.5 151.0,296.5 144.0,303.5Z"/>
<path fill="#fff" d="M424.0,22.0 434.0,15.0 444.0,22.0 434.0,29.0Z"/>
<path fill="#fff" d="M354.5,152.0 361.5,141.5 368.5,152.0 361.5,162.5Z"/>
<g clip-path="url(#fb)">
<path fill="#ccc" stroke="#000" stroke-width="0.9" stroke-linejoin="round" d="M0.0,0.0 274.5,0.0 269.5,13.5 254.0,14.5 254.0,24.0 235.0,42.0 218.4,53.9 186.9,74.2 157.4,79.3 139.6,80.3 129.0,93.9 113.8,80.3 109.0,94.5 105.7,95.5 95.5,86.4 92.5,102.6 62.0,110.8 45.8,119.9 30.5,121.9 12.3,127.7 7.6,138.4 15.3,153.0 8.2,158.1 0.0,158.1ZM0.0,169.3 31.1,169.3 31.1,176.4 23.4,187.6 17.3,201.8 7.2,216.0 0.0,221.0ZM344.6,0.0 316.2,46.2 316.2,61.0 321.3,81.3 330.4,89.4 336.5,101.0 340.6,85.4 345.7,75.2 354.8,61.0 360.9,40.7 369.0,20.4 370.6,0.0ZM305.0,300.0 304.8,291.5 320.0,296.1 323.0,284.0 324.0,274.0 327.0,261.0 321.0,249.0 328.0,230.0 333.0,218.0 344.0,215.6 358.0,223.0 370.0,226.0 382.0,219.6 379.0,232.0 378.0,252.0 388.0,264.0 384.0,280.0 368.0,300.0Z"/>
</g>
<path d="M0 0H466M0 8.6H466M0 17.1H466M0 25.7H466M0 34.2H466M0 42.7H466M0 51.2H466M0 59.7H466M0 68.1H466M0 76.6H466M0 85H466M0 93.4H466M0 101.8H466M0 110.2H466M0 118.5H466M0 126.9H466M0 135.2H466M0 143.5H466M0 151.9H466M0 160.1H466M0 168.4H466M0 176.7H466M0 185H466M0 193.2H466M0 201.4H466M0 209.7H466M0 217.9H466M0 226.1H466M0 234.2H466M0 242.4H466M0 250.6H466M0 258.7H466M0 266.9H466M0 275H466M0 283.1H466M0 291.2H466M0 299.3H466" stroke="#a0a0a0" stroke-opacity=".33" stroke-width="1.1" stroke-dasharray="1.1 6.667" fill="none"/>
<g clip-path="url(#fb)" stroke="#000">
<path d="M372.8 0l3.1-.1m0 .5l1.5-.6l-1.6-.5zM380.6 0l2.5-2.1m.3 .4l.9-1.4l-1.6 .6zM388.3 0l2.6-4.3m.7 .4l.6-2.5l-2 1.7zM396.1 0l3.7-5.7m.9 .6l1-3.4l-2.7 2.3zM403.9 0l4.2-5.6m.8 .6l1.3-3.4l-2.9 2.1zM411.6 0l4.2-4.8m.7 .6l1.3-3l-2.8 1.8zM419.4 0l3.7-4.1m.6 .6l1.2-2.6l-2.5 1.4zM427.2 0l3.2-3.5m.5 .5l1-2.2l-2.1 1.2zM434.9 0l2.8-3.2m.5 .4l.9-2l-1.9 1.1zM442.7 0l2.6-3.1m.5 .4l.8-1.9l-1.8 1.1zM450.5 0l2.6-2.9m.5 .4l.8-1.8l-1.7 1zM458.2 0l2.5-2.6m.4 .4l.8-1.7l-1.7 .9zM466 0l2.5-2.1m.4 .4l.9-1.5l-1.6 .7zM372.8 8.6l4.4 .3m-.1 .7l2.2-.5l-2.1-.9zM380.6 8.6l4.2-1.3m.2 .7l1.9-1.3l-2.3 0zM388.3 8.6l4.9-5.8m.8 .7l1.6-3.6l-3.3 2.1zM396.1 8.6l5.5-6.7m1 .8l1.8-4.1l-3.7 2.5zM403.9 8.6l5.4-5.6m.8 .8l1.8-3.6l-3.5 2zM411.6 8.6l4.6-4.3m.6 .7l1.6-2.8l-2.9 1.4zM419.4 8.6l3.7-3.4m.5 .6l1.3-2.2l-2.3 1.1zM427.2 8.6l3-2.9m.5 .5l1-1.9l-1.9 1zM434.9 8.6l2.6-2.9m.5 .4l.8-1.8l-1.7 1zM442.7 8.6l2.3-3m.5 .4l.6-1.9l-1.6 1.1zM450.5 8.6l2.2-2.9m.5 .4l.6-1.8l-1.6 1.1zM458.2 8.6l2.2-2.5m.4 .4l.7-1.6l-1.5 .9zM466 8.6l2.1-2m.3 .4l.7-1.3l-1.4 .6zM372.8 17.1l6.2-.1m0 .9l3-1l-3.1-.9zM380.6 17.1l7-2m.3 1l3.1-2l-3.7 0zM388.3 17.1l6.9-5.4m.8 1l2.6-3.6l-4.2 1.6zM396.1 17.1l6.1-6.5m.9 .9l2-4.1l-3.9 2.3zM403.9 17.1l5.1-4.6m.7 .8l1.8-3l-3.2 1.5zM411.6 17.1l3.8-3.2m.5 .6l1.4-2.2l-2.4 1zM419.4 17.1l3-2.5m.4 .5l1.1-1.7l-1.9 .8zM427.2 17.1l2.4-2.5m.4 .4l.8-1.6l-1.6 .8zM442.7 17.1l1.6-2.9m.5 .3l.3-1.7l-1.3 1.2zM450.5 17.1l1.4-3m.5 .2l.2-1.7l-1.2 1.2zM458.2 17.1l1.5-2.5m.4 .3l.3-1.5l-1.2 1zM466 17.1l1.4-1.8m.3 .2l.4-1.1l-1 .6zM372.8 25.7l5.3-.6m.1 .8l2.5-1.1l-2.7-.5zM380.6 25.7l5.1-1.9m.3 .8l2.3-1.7l-2.8 .1zM388.3 25.7l4.6-4m.6 .7l1.7-2.7l-2.9 1.3zM396.1 25.7l3.4-5m.7 .5l.9-3l-2.4 1.9zM403.9 25.7l2.4-3.6m.6 .4l.6-2.2l-1.8 1.4zM411.6 25.7l2.4-2.5m.4 .4l.7-1.6l-1.6 .9zM419.4 25.7l1.8-2m.3 .3l.6-1.3l-1.3 .7zM427.2 25.7l1.2-2.1m.4 .2l.2-1.2l-1 .8zM442.7 25.7l.1-2.8m.5 0l-.4-1.4l-.5 1.4zM450.5 25.7l-.2-3m.5 0l-.6-1.4l-.4 1.5zM458.2 25.7l-.3-2.7m.5-.1l-.6-1.3l-.3 1.4zM365 34.2l2.8-.6m.1 .5l1.3-.8l-1.5-.2zM372.8 34.2l2.5-.9m.1 .4l1.1-.9l-1.4 0zM380.6 34.2l2.5-1.8m.3 .4l.9-1.3l-1.5 .5zM388.3 34.2l2-3.2m.5 .3l.5-1.9l-1.5 1.2zM396.1 34.2l1.3-3.7m.6 .2l0-2l-1.2 1.6zM403.9 34.2l.6-3.4m.6 .1l-.2-1.8l-.9 1.6zM411.6 34.2l.1-2.4m.4 0l-.4-1.2l-.5 1.2zM434.9 34.2l-1.1-1.9m.3-.2l-.9-.7l.2 1.2zM442.7 34.2l-1.5-2.3m.4-.3l-1.1-.9l.3 1.4zM450.5 34.2l-1.8-2.6m.4-.3l-1.3-1l.5 1.6zM458.2 34.2l-2.1-2.3m.4-.3l-1.4-.8l.6 1.5zM466 34.2l-2-1.7m.3-.3l-1.3-.5l.7 1.2zM380.6 42.7l.2-2.1m.4 0l-.3-1.1l-.5 1zM388.3 42.7l.2-3.1m.5 0l-.4-1.5l-.6 1.5zM396.1 42.7l-.1-3.4m.6 0l-.6-1.6l-.5 1.7zM403.9 42.7l-.5-3m.5-.1l-.8-1.4l-.2 1.6zM411.6 42.7l-1-2.1m.4-.2l-.9-.9l.1 1.2zM419.4 42.7l-1.5-1.2m.2-.3l-1-.3l.5 .9zM427.2 42.7l-1.8-1m.2-.3l-1.1-.1l.7 .8zM434.9 42.7l-2.2-1.3m.2-.4l-1.3-.3l.8 1zM442.7 42.7l-2.4-1.9m.3-.4l-1.5-.5l.9 1.3zM450.5 42.7l-2.5-2.2m.4-.4l-1.6-.7l.8 1.5zM458.2 42.7l-2.5-2.2m.4-.4l-1.6-.7l.8 1.5zM466 42.7l-2.3-2m.3-.4l-1.5-.6l.8 1.4zM380.6 51.2l-.2-2m.4 0l-.5-.9l-.3 1zM388.3 51.2l-.6-3m.5-.1l-.8-1.4l-.2 1.6zM396.1 51.2l-.8-3.1m.5-.1l-.9-1.4l-.1 1.7zM403.9 51.2l-1-2.7m.5-.2l-.9-1.2l0 1.5zM411.6 51.2l-1.4-1.8m.3-.2l-1-.6l.4 1.1zM419.4 51.2l-1.7-.9m.2-.3l-1-.1l.7 .8zM427.2 51.2l-2-.5m.1-.4l-1.1 .1l.9 .6zM434.9 51.2l-2.3-.8m.1-.4l-1.3 0l1 .8zM442.7 51.2l-2.3-1.7m.3-.4l-1.4-.5l.9 1.3zM450.5 51.2l-2.2-2.3m.4-.4l-1.4-.8l.7 1.5zM458.2 51.2l-2.1-2.4m.4-.3l-1.4-.9l.6 1.5zM466 51.2l-1.9-2.4m.4-.3l-1.3-.9l.5 1.5zM388.3 59.7l-1.1-2.6m.4-.2l-1-1.1l.1 1.4zM396.1 59.7l-1.4-3m.5-.2l-1.2-1.2l.2 1.7zM403.9 59.7l-1.5-2.6m.4-.2l-1.2-1.1l.3 1.5zM411.6 59.7l-1.5-1.6m.3-.3l-1-.5l.4 1.1zM442.7 59.7l-.7-2.2m.4-.1l-.7-.9l-.1 1.2zM450.5 59.7l-.7-2.6m.4-.1l-.8-1.2l-.1 1.4zM458.2 59.7l-.7-2.6m.4-.1l-.8-1.2l-.1 1.4zM466 59.7l-.7-2.7m.5-.1l-.8-1.2l-.1 1.5zM388.3 68.1l-1.7-2m.3-.3l-1.2-.7l.5 1.3zM396.1 68.1l-1.9-2.7m.4-.3l-1.4-1l.5 1.6zM403.9 68.1l-1.8-2.7m.4-.3l-1.3-1.1l.4 1.6zM411.6 68.1l-1.1-2.3m.4-.2l-1-.9l.2 1.3zM434.9 68.1l1.7-1.1m.2 .3l.7-.8l-1 .2zM442.7 68.1l1.8-1.8m.3 .3l.6-1.2l-1.2 .5zM450.5 68.1l1.4-2.3m.4 .2l.3-1.4l-1.1 .9zM458.2 68.1l1.1-2.4m.4 .2l.1-1.4l-1 1zM466 68.1l.8-2.6m.4 .1l-.1-1.4l-.8 1.1zM302.9 76.6l.2-2m.4 0l-.3-1l-.4 1zM318.4 76.6l-.8 2.9m-.5-.1l.1 1.5l.9-1.3zM349.5 76.6l-1.9 1.9m-.3-.3l-.6 1.2l1.3-.6zM357.3 76.6l-1.6 1.1m-.2-.3l-.6 .8l1-.2zM388.3 76.6l-2.2-1.6m.3-.4l-1.3-.4l.8 1.1zM396.1 76.6l-1.9-2.8m.5-.3l-1.4-1l.5 1.7zM403.9 76.6l-1.2-3.3m.5-.2l-1.1-1.4l.1 1.8zM411.6 76.6l-.1-3.3m.5 0l-.6-1.6l-.5 1.6zM419.4 76.6l1.3-2.7m.5 .2l.2-1.5l-1.1 1.1zM427.2 76.6l2.3-1.9m.3 .4l.8-1.3l-1.5 .5zM434.9 76.6l2.9-1.4m.2 .5l1.2-1.2l-1.6 .2zM442.7 76.6l3-1.5m.2 .5l1.2-1.2l-1.7 .2zM450.5 76.6l2.8-1.7m.3 .5l1.1-1.3l-1.6 .4zM458.2 76.6l2.4-1.9m.3 .4l.9-1.3l-1.5 .5zM466 76.6l1.9-2m.3 .3l.6-1.3l-1.3 .7zM287.4 85l2.8-.9m.2 .5l1.2-.9l-1.5 0zM295.1 85l2.5-1.5m.2 .4l1-1.1l-1.5 .3zM302.9 85l1.8-1.1m.2 .3l.7-.9l-1.1 .2zM318.4 85l0 3.3m-.5 0l.5 1.6l.6-1.6zM341.7 85l-2.4 3m-.5-.4l-.7 1.9l1.7-1.1zM349.5 85l-2.7 1.2m-.2-.5l-1.1 1.1l1.5-.2zM357.3 85l-2-.2m0-.4l-1 .3l.9 .5zM380.6 85l-1.9 .9m-.2-.3l-.8 .8l1.1-.1zM388.3 85l-2.3-1.3m.2-.4l-1.4-.3l.9 1.1zM396.1 85l-1.6-3.3m.5-.3l-1.3-1.4l.3 1.9zM403.9 85l-.3-4.3m.7 0l-.8-2.1l-.5 2.2zM411.6 85l1.2-4.4m.7 .2l-.1-2.4l-1.3 2zM419.4 85l2.5-3.5m.5 .4l.7-2.1l-1.8 1.3zM427.2 85l3.4-2.3m.4 .5l1.3-1.7l-2 .6zM434.9 85l3.8-1.6m.2 .6l1.6-1.4l-2.1 .2zM442.7 85l3.8-1.2m.2 .6l1.7-1.2l-2.1 0zM450.5 85l3.6-1.1m.2 .6l1.6-1.1l-1.9 0zM458.2 85l3.2-1.2m.2 .5l1.4-1.1l-1.8 .1zM466 85l2.7-1.4m.2 .5l1.1-1.1l-1.6 .2zM264.1 93.4l3.5-1.8m.3 .6l1.4-1.5l-2 .3zM271.8 93.4l4.5-.8m.1 .7l2.1-1.1l-2.3-.3zM279.6 93.4l5.3-.1m0 .8l2.6-.9l-2.6-.8zM287.4 93.4l5.4-.4m.1 .8l2.6-1l-2.7-.6zM295.1 93.4l4.5-.5m.1 .7l2.1-.9l-2.3-.5zM302.9 93.4l3.7 .2m0 .6l1.9-.5l-1.8-.7zM310.7 93.4l2.9 2m-.3 .5l1.7 .5l-1.1-1.5zM318.4 93.4l1.7 3.9m-.6 .3l1.5 1.6l-.3-2.2zM326.2 93.4l.6 5.5m-.8 .1l1.2 2.6l.5-2.8zM341.7 93.4l-2.3 3.7m-.6-.4l-.6 2.2l1.7-1.4zM349.5 93.4l-3.2 .6m-.1-.5l-1.5 .8l1.7 .2zM357.3 93.4l-2.1-2m.3-.4l-1.4-.6l.7 1.4zM372.8 93.4l-.5 2.5m-.4-.1l.2 1.3l.7-1.1zM380.6 93.4l-1.6 1.9m-.3-.3l-.4 1.2l1.1-.7zM388.3 93.4l-2.1-1.4m.2-.4l-1.3-.3l.8 1zM396.1 93.4l-.8-4.5m.7-.1l-1.1-2.1l-.3 2.3zM403.9 93.4l1.5-7m1 .2l-.3-3.7l-1.8 3.2zM411.6 93.4l3.7-6.7m1 .5l.8-3.9l-2.8 2.8zM419.4 93.4l4.9-4.9m.7 .7l1.7-3.1l-3.1 1.7zM427.2 93.4l5.3-3m.4 .8l2.1-2.3l-3 .7zM434.9 93.4l5.1-1.6m.2 .8l2.3-1.6l-2.8 0zM442.7 93.4l4.7-.8m.1 .7l2.2-1.1l-2.4-.3zM450.5 93.4l4.1-.5m.1 .7l1.9-.9l-2.1-.4zM458.2 93.4l3.7-.5m.1 .6l1.7-.9l-1.9-.3zM466 93.4l3.2-.6m.1 .5l1.5-.8l-1.7-.2zM248.5 101.8l.5-3.4m.5 .1l-.3-1.7l-.8 1.6zM256.3 101.8l1.9-3.8m.6 .3l.4-2.2l-1.5 1.6zM264.1 101.8l3.8-3.5m.5 .6l1.3-2.3l-2.4 1.1zM271.8 101.8l5.4-2m.3 .8l2.3-1.8l-2.9 .2zM279.6 101.8l6.3-.7m.1 .9l3-1.3l-3.2-.6zM287.4 101.8l6.7-.1m0 1l3.3-1.1l-3.3-.9zM295.1 101.8l6.4 .4m-.1 1l3.2-.8l-3.1-1.1zM302.9 101.8l5.7 1m-.2 .9l3-.3l-2.6-1.4zM310.7 101.8l5.1 2.9m-.4 .8l3 .6l-2.1-2.2zM318.4 101.8l4.4 5.4m-.8 .7l3 2l-1.4-3.3zM326.2 101.8l3.3 7.5m-1.1 .5l2.7 3.2l-.5-4.2zM334 101.8l1.6 8.2m-1.2 .2l2 3.8l.4-4.3zM341.7 101.8l-.7 6m-.9-.1l.6 3.1l1.2-2.9zM349.5 101.8l-2.7 .6m-.1-.5l-1.2 .7l1.4 .2zM357.3 101.8l-1.7-3.2m.5-.3l-1.4-1.3l.3 1.8zM365 101.8l-2-1.7m.3-.3l-1.3-.5l.7 1.2zM372.8 101.8l-.6 2.4m-.4-.1l.1 1.3l.7-1.1zM380.6 101.8l.1 2.4m-.4 0l.5 1.2l.4-1.2zM396.1 101.8l1.2-7.6m1.1 .2l-.5-3.9l-1.7 3.6zM403.9 101.8l5.3-10.7m1.3 .6l1-5.1l-3.5 3.9zM411.6 101.8l7.9-9m1.1 .9l2.2-4.7l-4.4 2.8zM419.4 101.8l7.9-5.6m.8 1.1l3.1-3.9l-4.7 1.6zM427.2 101.8l7.3-3m.4 1.1l3.1-2.5l-4 .4zM434.9 101.8l6.5-1.2m.2 1l3-1.6l-3.4-.4zM442.7 101.8l5.6-.2m0 .9l2.7-.9l-2.8-.8zM450.5 101.8l4.6 .2m0 .7l2.3-.6l-2.3-.8zM458.2 101.8l4 .2m0 .6l2-.5l-1.9-.7zM466 101.8l3.4 .1m0 .6l1.7-.5l-1.7-.6zM225.2 110.2l-1 1.9m-.3-.2l-.1 1.1l.8-.8zM240.8 110.2l-1.4-2.6m.4-.2l-1.1-1l.3 1.5zM248.5 110.2l-.3-4.4m.7-.1l-.8-2.1l-.5 2.2zM256.3 110.2l1.3-5.9m.9 .2l-.3-3.1l-1.5 2.7zM264.1 110.2l2.9-5.6m.8 .4l.6-3.2l-2.3 2.3zM271.8 110.2l4-3m.5 .6l1.5-2.1l-2.4 .8zM279.6 110.2l5.1-1.5m.2 .8l2.3-1.5l-2.7-.1zM287.4 110.2l6.2-.6m.1 .9l2.9-1.2l-3.1-.6zM295.1 110.2l7.1 .3m-.1 1.1l3.5-.9l-3.4-1.2zM302.9 110.2l7.5 1.5m-.2 1.1l3.9-.4l-3.4-1.8zM310.7 110.2l7 3.8m-.6 1l4 .8l-2.9-2.9zM318.4 110.2l6.6 6.5m-.9 1l4.2 2.3l-2.3-4.2zM326.2 110.2l6.4 9.3m-1.2 .8l4 3.3l-1.7-4.9zM334 110.2l5.8 10.5m-1.2 .7l3.7 3.7l-1.2-5zM341.7 110.2l5.2 8.4m-1.2 .7l3.8 3.4l-1.4-4.9zM349.5 110.2l4.5 .9m-.1 .7l2.3-.3l-2.1-1.1zM357.3 110.2l2.7-2.6m.4 .4l.9-1.7l-1.8 .9zM365 110.2l2.2-1.8m.3 .4l.8-1.3l-1.4 .5zM372.8 110.2l3.1 .6m-.1 .5l1.6-.2l-1.4-.8zM380.6 110.2l4.2 1.1m-.2 .7l2.2-.1l-1.9-1.2zM388.3 110.2l6.1-1.2m.2 .9l2.8-1.5l-3.2-.3zM396.1 110.2l6.4-10.1m1.2 .7l1.5-5l-3.9 3.5zM403.9 110.2l8.1-8.9m1 .9l2.3-4.6l-4.4 2.8zM411.6 110.2l9.7-7.1m.8 1.1l3.2-4.1l-4.9 1.8zM419.4 110.2l10.3-4.9m.6 1.3l3.9-3.4l-5.1 .9zM427.2 110.2l8.4-2.1m.3 1.2l3.8-2.3l-4.4-.2zM434.9 110.2l7.1-.3m0 1.1l3.5-1.2l-3.6-.9zM442.7 110.2l5.9 .8m-.1 .9l3-.5l-2.8-1.3zM450.5 110.2l4.8 1.1m-.2 .7l2.5-.2l-2.2-1.3zM458.2 110.2l3.9 1.1m-.2 .6l2.1-.1l-1.8-1.1zM466 110.2l3.4 .9m-.1 .6l1.8-.1l-1.5-1zM170.9 118.5l-.1 3.1m-.5 0l.5 1.5l.5-1.5zM178.6 118.5l-.7 1.9m-.3-.1l0 1.1l.7-.8zM217.5 118.5l-1.2 2.1m-.4-.2l-.2 1.3l1-.8zM225.2 118.5l-1.4 2.5m-.4-.2l-.3 1.5l1.1-1zM233 118.5l-2.2 .6m-.1-.4l-1 .7l1.2 .1zM240.8 118.5l-1.7-3.1m.5-.3l-1.3-1.3l.3 1.8zM248.5 118.5l-.3-6.1m.9 0l-1.1-3l-.8 3zM256.3 118.5l.9-7.8m1.2 .1l-.7-4l-1.6 3.7zM264.1 118.5l1.6-6.6m1 .2l-.2-3.5l-1.8 3zM271.8 118.5l1.9-4.1m.6 .3l.3-2.3l-1.6 1.7zM279.6 118.5l2.9-2.6m.4 .5l1-1.7l-1.8 .8zM287.4 118.5l3.8-1.7m.3 .6l1.6-1.4l-2.1 .2zM295.1 118.5l5-.7m.1 .8l2.3-1.1l-2.6-.4zM302.9 118.5l6.1 1.3m-.2 .9l3.2-.3l-2.8-1.6zM310.7 118.5l6.2 4.1m-.6 .9l3.7 1.1l-2.5-3zM318.4 118.5l6.5 6.7m-1 .9l4.1 2.3l-2.2-4.2zM326.2 118.5l7.4 9.4m-1.1 .9l4.2 3.1l-2-4.8zM334 118.5l7.3 9.5m-1.1 .9l4.2 3.1l-1.9-4.8zM341.7 118.5l8.9 8.1m-.9 1l4.6 2.3l-2.8-4.4zM349.5 118.5l8.4 2.7m-.4 1.2l4.5 .1l-3.8-2.5zM357.3 118.5l6.8-1m.2 1l3.2-1.5l-3.5-.5zM365 118.5l6.1-1.7m.3 .9l2.8-1.7l-3.3-.1zM372.8 118.5l7.1-1.1m.2 1.1l3.3-1.6l-3.7-.5zM380.6 118.5l9.6-1.6m.2 1.4l4.5-2.2l-5-.6zM388.3 118.5l11-4.7m.5 1.3l4.1-3.2l-5.1 .7zM396.1 118.5l8.7-8.3m1 1l2.7-4.5l-4.6 2.4zM403.9 118.5l9.1-7.8m.9 1.1l2.9-4.3l-4.7 2.2zM411.6 118.5l10.5-5.8m.7 1.2l3.7-3.7l-5 1.2zM419.4 118.5l9-3.2m.5 1.3l4-2.9l-4.9 .3zM427.2 118.5l7.9-.9m.1 1.2l3.8-1.6l-4-.7zM434.9 118.5l6.8 .9m-.1 1l3.5-.6l-3.2-1.4zM442.7 118.5l5.5 1.9m-.3 .8l3 .1l-2.5-1.8zM450.5 118.5l4.4 2.1m-.3 .7l2.5 .3l-1.8-1.7zM458.2 118.5l3.6 1.9m-.3 .6l2.1 .4l-1.5-1.5zM466 118.5l3.1 1.6m-.3 .5l1.8 .3l-1.3-1.3zM163.1 126.9l.4 3.7m-.6 .1l.8 1.8l.4-1.9zM170.9 126.9l.1 3.3m-.5 0l.6 1.6l.5-1.6zM178.6 126.9l.2 2m-.4 0l.5 1l.3-1zM217.5 126.9l-.6 2.2m-.4-.1l.1 1.2l.7-1zM225.2 126.9l-.4 2.7m-.5-.1l.3 1.4l.7-1.3zM240.8 126.9l-.1-4.1m.6 0l-.7-2l-.6 2zM248.5 126.9l.3-7.6m1.1 0l-1-3.8l-1.3 3.7zM256.3 126.9l.6-8.6m1.3 .1l-.9-4.3l-1.6 4.1zM264.1 126.9l.5-6.5m1 .1l-.7-3.3l-1.2 3.1zM271.8 126.9l-.1-4.2m.7 0l-.7-2.1l-.6 2.1zM279.6 126.9l-.2-3.4m.6 0l-.7-1.7l-.5 1.7zM287.4 126.9l.2-3m.5 0l-.4-1.5l-.6 1.4zM295.1 126.9l1-2.2m.4 .2l.1-1.3l-.9 .9zM302.9 126.9l2.2 .7m-.1 .4l1.2 0l-1-.8zM310.7 126.9l1.7 3.9m-.6 .3l1.5 1.6l-.2-2.2zM318.4 126.9l2.4 5.4m-.8 .4l2 2.3l-.4-3zM326.2 126.9l4.1 7.8m-1.1 .6l3.1 3.2l-.9-4.4zM334 126.9l5.5 8.8m-1.2 .7l3.8 3.5l-1.5-5zM341.7 126.9l6.8 6.5m-.9 1l4.3 2.2l-2.4-4.2zM349.5 126.9l7.5 2.8m-.4 1.1l4.1 .3l-3.3-2.5zM357.3 126.9l7.4-.3m.1 1.1l3.6-1.3l-3.7-.9zM365 126.9l7.6-2.1m.3 1.1l3.5-2.1l-4.1-.1zM372.8 126.9l8.6-2.6m.4 1.2l3.8-2.5l-4.6 0zM380.6 126.9l10.5-4.1m.5 1.3l4.1-3.1l-5.2 .5zM388.3 126.9l9.8-6.9m.8 1.1l3.3-4l-4.9 1.7zM396.1 126.9l7.5-9.3m1.1 .9l2-4.8l-4.2 3zM403.9 126.9l6.5-10.1m1.2 .8l1.5-5l-3.9 3.4zM411.6 126.9l5.8-5.3m.8 .9l2.1-3.5l-3.7 1.8zM419.4 126.9l6.1-2.7m.4 .9l2.6-2.2l-3.4 .4zM427.2 126.9l6.1-.4m.1 .9l3-1.1l-3.1-.7zM434.9 126.9l5.6 1.8m-.3 .8l3 .1l-2.5-1.8zM442.7 126.9l4.6 2.9m-.4 .7l2.7 .7l-1.8-2.1zM450.5 126.9l3.6 2.9m-.5 .6l2.2 .9l-1.3-2zM458.2 126.9l3 2.6m-.4 .5l1.9 .8l-1.1-1.8zM466 126.9l2.7 2.2m-.4 .4l1.7 .7l-1-1.5zM155.3 135.2l.1 3.9m-.6 0l.7 1.9l.6-1.9zM163.1 135.2l-.5 4m-.6-.1l.4 2.1l.9-1.9zM170.9 135.2l-.8 3.3m-.5-.1l.2 1.8l.9-1.5zM178.6 135.2l-.8 1.9m-.3-.1l0 1.1l.7-.8zM217.5 135.2l.8 1.9m-.4 .1l.8 .8l0-1.1zM225.2 135.2l1.1 2.4m-.4 .2l1 1l-.1-1.4zM240.8 135.2l1-3.5m.6 .2l-.1-1.9l-1.1 1.5zM248.5 135.2l-.3-6.8m1 0l-1.2-3.3l-.9 3.4zM256.3 135.2l-1.7-8.2m1.2-.2l-2-3.8l-.4 4.3zM264.1 135.2l-2.7-5.2m.8-.4l-2.1-2.1l.5 3zM271.8 135.2l-3.4-3.6m.6-.5l-2.2-1.3l1.1 2.3zM279.6 135.2l-3.8-3.1m.5-.6l-2.4-1l1.4 2.1zM287.4 135.2l-4-2.7m.4-.6l-2.4-.7l1.6 2zM295.1 135.2l-4.3-1.8m.3-.7l-2.4-.2l1.9 1.5zM302.9 135.2l-5 .5m-.1-.8l-2.4 1l2.5 .5zM310.7 135.2l-4.3 3m-.5-.7l-1.6 2.2l2.6-.8zM318.4 135.2l-3 4.1m-.6-.5l-.8 2.5l2.1-1.6zM326.2 135.2l-1.4 5.3m-.8-.2l.1 2.8l1.5-2.4zM334 135.2l1.1 5.9m-.9 .2l1.4 2.7l.4-3zM341.7 135.2l3 4.4m-.7 .5l2.2 1.7l-.8-2.6zM349.5 135.2l4.1 1.9m-.3 .6l2.3 .3l-1.7-1.6zM357.3 135.2l5-.7m.1 .8l2.4-1.1l-2.6-.4zM365 135.2l6.1-2.7m.4 .9l2.6-2.2l-3.4 .4zM372.8 135.2l7.1-3.5m.5 1l3-2.8l-4 .7zM380.6 135.2l7.4-4.4m.6 1.1l3-3.3l-4.3 1.1zM388.3 135.2l6.7-6.6m1 1l2.4-4.2l-4.3 2.3zM396.1 135.2l5-8.5m1.2 .7l1.3-4.9l-3.7 3.5zM403.9 135.2l3.3-8m1.2 .5l.5-4.4l-2.8 3.4zM411.6 135.2l3-5.6m.8 .5l.6-3.2l-2.3 2.3zM419.4 135.2l3.4-3m.5 .5l1.2-2l-2.1 1zM427.2 135.2l3.8-.6m.1 .6l1.8-.9l-2-.3zM434.9 135.2l3.7 2.3m-.4 .6l2.2 .5l-1.5-1.7zM442.7 135.2l3.6 3.7m-.6 .6l2.3 1.3l-1.2-2.4zM450.5 135.2l3 3.5m-.5 .5l2 1.3l-.9-2.2zM458.2 135.2l2.5 3.2m-.5 .4l1.7 1.2l-.7-2zM466 135.2l2.2 2.7m-.4 .4l1.5 1l-.6-1.7zM147.6 143.5l-1.3 2.7m-.5-.2l-.2 1.6l1.1-1.1zM155.3 143.5l-1.7 4.7m-.7-.3l-.1 2.6l1.6-2zM163.1 143.5l-2.2 4.6m-.7-.3l-.4 2.6l1.8-1.9zM170.9 143.5l-2.3 3m-.5-.4l-.7 1.9l1.6-1.1zM178.6 143.5l-2.2 1.3m-.2-.4l-.9 1l1.3-.2zM186.4 143.5l-1.8-.7m.1-.3l-1 0l.8 .7zM194.2 143.5l-1-1.8m.3-.2l-.8-.7l.2 1zM217.5 143.5l1.5 1.5m-.3 .3l1 .5l-.5-1zM225.2 143.5l1.2 2.4m-.4 .2l1 1l-.2-1.4zM240.8 143.5l-.3-2.6m.4-.1l-.6-1.2l-.3 1.3zM248.5 143.5l-1.8-4.7m.7-.3l-1.6-2l.2 2.6zM256.3 143.5l-4-5.8m.9-.6l-2.8-2.3l1.1 3.5zM264.1 143.5l-5.8-4.6m.7-.9l-3.5-1.4l2.2 3.1zM271.8 143.5l-6.7-3.3m.5-1l-3.8-.6l2.8 2.6zM279.6 143.5l-7.6-2.9m.4-1.1l-4.1-.3l3.3 2.5zM287.4 143.5l-8.3-2.6m.4-1.2l-4.4-.1l3.7 2.5zM295.1 143.5l-8.9-1.2m.2-1.3l-4.6 .7l4.2 1.9zM302.9 143.5l-9.7 .8m-.1-1.4l-4.7 1.8l4.9 1zM310.7 143.5l-9.3 2m-.3-1.3l-4.3 2.3l4.9 .3zM318.4 143.5l-7.5 2.5m-.4-1.1l-3.3 2.3l4.1-.1zM326.2 143.5l-5 2.8m-.4-.8l-2 2.1l2.9-.6zM334 143.5l-2.4 3.2m-.5-.4l-.7 1.9l1.7-1.2zM341.7 143.5l-.8 4m-.6-.1l.2 2.1l1-1.9zM349.5 143.5l3.4 3m-.5 .5l2.1 .9l-1.2-2zM357.3 143.5l2.2-1.9m.3 .4l.7-1.3l-1.4 .6zM365 143.5l4.3-5.4m.8 .6l1.3-3.3l-2.9 2zM372.8 143.5l3.9-4.1m.6 .6l1.3-2.6l-2.5 1.4zM380.6 143.5l3.4-3.4m.5 .5l1.1-2.2l-2.2 1.1zM388.3 143.5l2.7-4.8m.7 .4l.6-2.8l-2.1 2zM396.1 143.5l1.6-6.5m1 .2l-.2-3.4l-1.8 3zM403.9 143.5l1-7.2m1.1 .1l-.6-3.7l-1.6 3.4zM411.6 143.5l1.3-6.1m.9 .2l-.3-3.2l-1.6 2.8zM419.4 143.5l1.9-3.7m.6 .3l.4-2.1l-1.5 1.5zM427.2 143.5l2.8-.9m.1 .5l1.2-.9l-1.5-.1zM434.9 143.5l2.8 2.3m-.4 .5l1.8 .7l-1-1.6zM442.7 143.5l2.7 3.8m-.6 .4l2 1.5l-.8-2.3zM450.5 143.5l2.4 4.2m-.6 .4l1.8 1.7l-.6-2.4zM458.2 143.5l1.9 3.7m-.6 .3l1.5 1.5l-.3-2.1zM466 143.5l1.7 3m-.5 .3l1.3 1.2l-.3-1.8zM147.6 151.9l-4.5 3.1m-.5-.7l-1.8 2.2l2.7-.8zM155.3 151.9l-5.1 5.3m-.8-.8l-1.7 3.3l3.3-1.8zM163.1 151.9l-4.7 4.7m-.7-.7l-1.6 3l3-1.6zM170.9 151.9l-3.8 2.5m-.4-.6l-1.5 1.8l2.3-.6zM178.6 151.9l-3.4 .4m-.1-.6l-1.6 .7l1.7 .4zM186.4 151.9l-2.5-1.5m.3-.4l-1.5-.3l1 1.2zM194.2 151.9l-1.5-2.4m.4-.2l-1.1-.9l.3 1.4zM201.9 151.9l-.7-2.4m.4-.1l-.7-1.1l-.1 1.3zM225.2 151.9l0 2.7m-.5 0l.5 1.4l.5-1.3zM233 151.9l-.6 1.9m-.4-.1l.1 1.1l.6-.8zM240.8 151.9l-1.9-1.1m.2-.3l-1.1-.2l.7 .9zM248.5 151.9l-2.6-3m.5-.4l-1.8-1l.8 1.9zM256.3 151.9l-4.3-3.6m.5-.7l-2.6-1.1l1.6 2.4zM264.1 151.9l-6.1-3m.4-.9l-3.4-.6l2.6 2.4zM271.8 151.9l-7.7-2.1m.3-1.1l-4.1 .1l3.5 2.2zM279.6 151.9l-9.3-1.9m.3-1.4l-4.9 .4l4.3 2.3zM287.4 151.9l-10.9-1.8m.2-1.4l-5.2 .6l4.7 2.2zM295.1 151.9l-12-.3m0-1.4l-5 1.3l5 1.5zM302.9 151.9l-12 1m-.1-1.4l-4.9 1.8l5.1 1zM310.7 151.9l-12 .9m-.1-1.4l-4.9 1.8l5.1 1zM318.4 151.9l-10.2 .5m-.1-1.4l-4.9 1.6l5.1 1.2zM326.2 151.9l-10 .6m-.1-1.4l-4.8 1.7l5 1.1zM334 151.9l-9.9 1.6m-.2-1.4l-4.7 2.2l5.1 .6zM341.7 151.9l-9.7 2.6m-.4-1.4l-4.4 2.6l5.1 .1zM349.5 151.9l-9.7-2.6m.4-1.4l-5.1 .1l4.4 2.6zM372.8 151.9l-.4-4.1m.6-.1l-.8-1.9l-.4 2.1zM380.6 151.9l.1-3.6m.6 0l-.5-1.8l-.6 1.8zM388.3 151.9l.1-4m.6 0l-.6-2l-.7 1.9zM396.1 151.9l-.5-5.5m.8-.1l-1.1-2.6l-.6 2.8zM403.9 151.9l-.5-7.5m1.1-.1l-1.4-3.6l-.8 3.8zM411.6 151.9l.4-7.2m1.1 .1l-.9-3.6l-1.2 3.5zM419.4 151.9l1.3-4.6m.7 .2l-.1-2.4l-1.3 2zM427.2 151.9l2.4-1.4m.2 .4l.9-1.1l-1.4 .3zM434.9 151.9l2.3 2.3m-.4 .4l1.5 .7l-.8-1.5zM442.7 151.9l2 3.9m-.6 .3l1.6 1.6l-.4-2.2zM450.5 151.9l1.9 4.7m-.7 .3l1.7 2l-.2-2.6zM458.2 151.9l1.4 4.1m-.6 .2l1.4 1.8l-.1-2.2zM466 151.9l1.5 3.1m-.5 .2l1.2 1.3l-.2-1.7zM116.5 160.1l-3-.2m0-.5l-1.5 .4l1.4 .6zM124.3 160.1l-3.3-.4m.1-.5l-1.7 .4l1.6 .7zM132 160.1l-3.6 .5m-.1-.6l-1.7 .8l1.9 .4zM139.8 160.1l-4.3 2.4m-.4-.7l-1.7 1.9l2.5-.5zM147.6 160.1l-5.8 4.4m-.7-.9l-2.2 3l3.5-1.3zM155.3 160.1l-6.8 5.5m-.8-1l-2.5 3.7l4.1-1.7zM163.1 160.1l-6.8 4.3m-.6-1l-2.7 3.1l4-1.1zM170.9 160.1l-5.9 1.8m-.3-.9l-2.6 1.8l3.2 0zM178.6 160.1l-4.4-.9m.1-.7l-2.3 .3l2 1.1zM186.4 160.1l-2.9-2.7m.4-.5l-1.8-.9l1 1.8zM194.2 160.1l-1.5-3.3m.5-.2l-1.3-1.4l.2 1.9zM201.9 160.1l-.7-2.8m.5-.1l-.8-1.3l-.1 1.5zM225.2 160.1l-.4 2.6m-.5-.1l.3 1.4l.7-1.2zM233 160.1l-.5 2.5m-.4-.1l.2 1.3l.7-1.2zM248.5 160.1l-2.3-1.8m.3-.4l-1.4-.5l.8 1.3zM256.3 160.1l-3.3-1.9m.3-.5l-2-.4l1.3 1.5zM264.1 160.1l-4.5-1.3m.2-.7l-2.4 0l2 1.4zM271.8 160.1l-6-.5m.1-.9l-3 .7l2.9 1.1zM279.6 160.1l-7.5-.3m0-1.1l-3.7 1l3.7 1.3zM287.4 160.1l-10-.4m0-1.4l-5 1.2l4.9 1.6zM295.1 160.1l-11.3 .7m-.1-1.4l-4.9 1.7l5.1 1.1zM302.9 160.1l-11.9 1.3m-.1-1.4l-4.8 1.9l5.1 .9zM310.7 160.1l-11.6-.1m0-1.4l-5 1.4l5 1.4zM318.4 160.1l-10.1-1.2m.2-1.4l-5.1 .8l4.8 2zM326.2 160.1l-8.5-1.2m.2-1.2l-4.4 .6l4 1.8zM334 160.1l-6.9-.7m.1-1l-3.5 .7l3.3 1.4zM341.7 160.1l-5.2-.6m.1-.8l-2.7 .5l2.5 1.1zM349.5 160.1l-5-2.4m.4-.8l-2.8-.4l2.1 1.9zM357.3 160.1l-5.8-7.3m1.1-.8l-3.9-2.8l1.8 4.5zM365 160.1l-3.8-8.5m1.2-.6l-3.1-3.7l.6 4.8zM372.8 160.1l-1.5-4.4m.7-.2l-1.4-1.9l0 2.4zM380.6 160.1l-.9-4m.6-.1l-1.1-1.8l-.2 2.1zM388.3 160.1l-.4-4m.6-.1l-.8-1.9l-.4 2zM396.1 160.1l-.1-4.8m.7 0l-.8-2.4l-.7 2.4zM403.9 160.1l0-8.4m1.2 0l-1.2-4.1l-1.2 4.1zM411.6 160.1l.2-8.2m1.2 0l-1.1-4.1l-1.3 4zM419.4 160.1l.6-5.7m.9 .1l-.6-2.9l-1.2 2.7zM427.2 160.1l1.5-1.8m.3 .3l.4-1.1l-1.1 .6zM434.9 160.1l1.4 2.4m-.4 .2l1.1 1l-.3-1.4zM442.7 160.1l1.4 3.9m-.6 .2l1.3 1.7l-.1-2.1zM450.5 160.1l1.7 4.8m-.7 .3l1.6 2.1l-.1-2.6zM458.2 160.1l2 4.5m-.7 .3l1.7 1.9l-.3-2.5zM466 160.1l2.2 2.8m-.4 .4l1.5 1l-.6-1.7zM108.7 168.4l-2 .9m-.2-.4l-.8 .8l1.2-.1zM116.5 168.4l-2.5 .7m-.1-.4l-1.1 .8l1.4 .1zM124.3 168.4l-2.9 0m0-.5l-1.4 .5l1.4 .5zM132 168.4l-3.3 1.3m-.2-.5l-1.4 1.2l1.8-.1zM139.8 168.4l-3.8 3.4m-.5-.6l-1.4 2.2l2.4-1.1zM147.6 168.4l-5 5.6m-.8-.7l-1.7 3.5l3.3-2zM155.3 168.4l-6.3 6.5m-.9-.9l-2.2 4.1l4.1-2.3zM163.1 168.4l-7.6 4.8m-.7-1.1l-3 3.5l4.4-1.2zM170.9 168.4l-7.6 .7m-.1-1.1l-3.6 1.4l3.8 .8zM178.6 168.4l-5.1-3.2m.5-.8l-3-.8l2 2.3zM186.4 168.4l-2.6-4.8m.7-.4l-2-2l.5 2.8zM194.2 168.4l-.9-4.4m.7-.1l-1.1-2l-.2 2.3zM201.9 168.4l0-3.3m.5 0l-.6-1.6l-.5 1.6zM225.2 168.4l.2 2.5m-.4 0l.5 1.2l.3-1.3zM233 168.4l.4 2.5m-.4 .1l.6 1.2l.2-1.3zM256.3 168.4l-2.2-.8m.1-.4l-1.2 0l1 .8zM264.1 168.4l-3-.3m.1-.5l-1.5 .3l1.4 .7zM271.8 168.4l-3.5 .5m-.1-.6l-1.7 .8l1.8 .3zM279.6 168.4l-4.1 1m-.2-.7l-1.9 1.2l2.2 .1zM287.4 168.4l-6.1 1.5m-.2-.9l-2.8 1.7l3.2 .2zM295.1 168.4l-8.1 2m-.3-1.2l-3.7 2.2l4.3 .2zM302.9 168.4l-9.2 1.4m-.2-1.3l-4.3 2l4.7 .6zM310.7 168.4l-9-.7m.1-1.3l-4.5 1l4.3 1.6zM318.4 168.4l-7.9-2.4m.4-1.2l-4.3 0l3.6 2.4zM326.2 168.4l-6.4-2.6m.4-.9l-3.5-.3l2.7 2.2zM334 168.4l-4.8-1.9m.3-.7l-2.7-.2l2.1 1.7zM341.7 168.4l-3.8-1.5m.2-.6l-2.1-.1l1.6 1.4zM349.5 168.4l-3.3-2.8m.4-.5l-2.1-.9l1.2 1.9zM357.3 168.4l-2.4-4.9m.8-.4l-1.9-2.1l.4 2.8zM365 168.4l-3-9.5m1.3-.4l-2.8-4.2l.1 5.1zM372.8 168.4l-1.5-6.5m1-.2l-1.7-3l-.2 3.4zM380.6 168.4l-.6-4.6m.7-.1l-1-2.2l-.4 2.4zM388.3 168.4l0-4.6m.7 0l-.7-2.3l-.7 2.3zM396.1 168.4l.8-5.8m.9 .1l-.5-3l-1.3 2.7zM403.9 168.4l.8-7.7m1.1 .1l-.7-3.9l-1.5 3.7zM411.6 168.4l-.1-7.7m1.1 0l-1.2-3.8l-1.1 3.8zM419.4 168.4l-.8-5.5m.8-.1l-1.2-2.6l-.4 2.8zM427.2 168.4l-1.4-2.2m.4-.2l-1.1-.8l.3 1.3zM434.9 168.4l-.4 1.9m-.4-.1l.2 1l.6-.9zM442.7 168.4l.7 3.4m-.6 .1l.9 1.6l.2-1.8zM450.5 168.4l1.5 4m-.6 .2l1.4 1.7l-.1-2.2zM458.2 168.4l2.3 3.8m-.6 .4l1.7 1.5l-.5-2.2zM466 168.4l2.7 2.9m-.5 .4l1.8 1l-.9-1.8zM124.3 176.7l-1.7 .9m-.2-.3l-.7 .8l1-.1zM132 176.7l-2 2.1m-.4-.3l-.6 1.4l1.3-.7zM139.8 176.7l-2.1 4m-.6-.3l-.4 2.3l1.7-1.6zM147.6 176.7l-2.7 6.3m-.9-.4l-.4 3.5l2.3-2.7zM155.3 176.7l-3.3 7.7m-1.1-.5l-.5 4.3l2.7-3.3zM163.1 176.7l-4.3 6.2m-.9-.6l-1.2 3.7l3-2.4zM170.9 176.7l-4.8-.6m.1-.7l-2.4 .4l2.3 1zM178.6 176.7l-2.6-6.2m.9-.4l-2.2-2.7l.3 3.4zM186.4 176.7l-.7-7.1m1.1-.1l-1.4-3.4l-.7 3.6zM194.2 176.7l.1-5.7m.9 0l-.8-2.8l-.9 2.8zM201.9 176.7l.6-3.7m.6 .1l-.3-1.9l-.9 1.7zM225.2 176.7l.7 2.3m-.4 .1l.8 1l0-1.3zM233 176.7l.9 2.4m-.4 .2l.9 1l0-1.3zM240.8 176.7l.9 1.8m-.3 .2l.8 .7l-.1-1zM271.8 176.7l-1.4 1.5m-.3-.3l-.4 1l1-.5zM279.6 176.7l-2 2.5m-.4-.3l-.6 1.6l1.4-.9zM287.4 176.7l-3.2 3.2m-.5-.5l-1.1 2l2.1-1.1zM295.1 176.7l-5 3.4m-.5-.7l-1.9 2.4l3-.9zM302.9 176.7l-6.2 2m-.3-.9l-2.8 1.9l3.4-.1zM310.7 176.7l-6.3-1.4m.2-.9l-3.3 .3l2.9 1.6zM318.4 176.7l-4.6-3.9m.6-.7l-2.9-1.2l1.7 2.6zM326.2 176.7l-2.8-3.9m.6-.4l-2-1.5l.8 2.3zM334 176.7l-1.7-3.2m.5-.3l-1.4-1.3l.3 1.8zM341.7 176.7l-.7-2.8m.5-.1l-.8-1.3l-.1 1.5zM349.5 176.7l.3-3.7m.6 0l-.4-1.8l-.7 1.8zM357.3 176.7l0-5.1m.8 0l-.8-2.5l-.8 2.5zM365 176.7l-.4-7.8m1.2-.1l-1.4-3.8l-.9 3.9zM372.8 176.7l-.7-9.6m1.4-.1l-1.7-4.6l-1.1 4.8zM380.6 176.7l-.2-5.2m.8 0l-.9-2.5l-.7 2.6zM388.3 176.7l.1-5.4m.8 0l-.8-2.7l-.9 2.6zM396.1 176.7l.4-6.2m.9 .1l-.7-3.1l-1.1 3zM403.9 176.7l.2-6.9m1 0l-1-3.4l-1.1 3.4zM411.6 176.7l-.6-6.6m1-.1l-1.3-3.1l-.7 3.3zM419.4 176.7l-1.3-4.6m.7-.2l-1.4-2l0 2.5zM427.2 176.7l-1.9-2.3m.4-.3l-1.3-.8l.5 1.5zM442.7 176.7l0 2.6m-.4 0l.4 1.3l.5-1.3zM450.5 176.7l1.1 3.3m-.5 .2l1.1 1.4l0-1.8zM458.2 176.7l1.9 3.3m-.5 .3l1.5 1.3l-.4-1.9zM466 176.7l2.3 2.9m-.5 .4l1.6 1l-.7-1.8zM132 185l-.9 2.5m-.4-.2l0 1.4l.9-1.1zM139.8 185l-.7 4.1m-.6-.1l.3 2.1l1-1.9zM147.6 185l-.1 5.9m-.9 0l.8 2.9l1-2.9zM155.3 185l1 7.1m-1 .1l1.5 3.3l.6-3.6zM163.1 185l2.9 5.6m-.8 .4l2.3 2.3l-.6-3.2zM170.9 185l4.5-1.1m.2 .7l2-1.2l-2.4-.2zM178.6 185l3-6.7m1 .5l.5-3.7l-2.5 2.8zM186.4 185l1.6-7.3m1.1 .2l-.3-3.8l-1.8 3.3zM194.2 185l.8-5.7m.9 .1l-.5-2.9l-1.3 2.7zM201.9 185l.2-3.7m.6 0l-.5-1.8l-.7 1.8zM225.2 185l1 2.1m-.4 .2l.9 .9l-.1-1.2zM233 185l1.2 2.3m-.4 .2l1 .9l-.2-1.3zM240.8 185l1.3 1.9m-.3 .2l1 .7l-.3-1.2zM271.8 185l.9 2m-.4 .2l.8 .8l-.1-1.2zM279.6 185l.2 3.5m-.6 0l.7 1.7l.5-1.8zM287.4 185l-1.1 4.8m-.7-.2l.2 2.5l1.3-2.2zM295.1 185l-2.4 4.6m-.7-.4l-.5 2.6l1.9-1.9zM302.9 185l-2.7 2.4m-.4-.4l-1 1.6l1.7-.7zM310.7 185l-1.5-2.9m.5-.3l-1.2-1.2l.3 1.7zM318.4 185l-.3-5.7m.9 0l-1-2.8l-.7 2.8zM326.2 185l.8-5.2m.8 .1l-.4-2.7l-1.2 2.4zM334 185l1.5-3.9m.6 .2l.1-2.1l-1.3 1.7zM341.7 185l2-3.3m.5 .3l.4-1.9l-1.5 1.3zM349.5 185l2-3.6m.6 .3l.4-2.1l-1.6 1.4zM357.3 185l1.5-4.4m.7 .2l.1-2.4l-1.4 1.9zM365 185l.8-5m.8 .1l-.4-2.6l-1.2 2.3zM372.8 185l.6-9.8m1.4 .1l-1.1-4.9l-1.7 4.7zM380.6 185l0-7.3m1.1 0l-1.1-3.6l-1.1 3.6zM388.3 185l-.1-5.6m.8 0l-.9-2.7l-.8 2.8zM396.1 185l-.3-6m.9 0l-1-2.9l-.8 3zM403.9 185l-.7-6.3m.9-.1l-1.3-3l-.6 3.2zM411.6 185l-1.2-5.7m.9-.2l-1.5-2.6l-.3 3zM419.4 185l-1.7-3.9m.6-.3l-1.5-1.7l.2 2.2zM427.2 185l-2.1-2.4m.4-.4l-1.5-.8l.7 1.5zM434.9 185l-2-.6m.1-.4l-1.1 .1l.9 .7zM450.5 185l.5 2.4m-.4 .1l.7 1.1l.2-1.3zM458.2 185l1.3 2.8m-.5 .2l1.1 1.2l-.2-1.6zM466 185l1.7 2.8m-.5 .3l1.3 1.1l-.4-1.7zM54.4 193.2l2-.2m0 .4l.9-.4l-1-.3zM62.1 193.2l2-.3m.1 .4l.9-.5l-1-.2zM69.9 193.2l1.9 .3m-.1 .4l1-.2l-.9-.5zM77.7 193.2l1.5 1.2m-.2 .3l1 .3l-.5-.9zM85.4 193.2l.9 1.9m-.4 .2l.8 .8l-.1-1.1zM93.2 193.2l.2 2.1m-.4 0l.5 1l.3-1.1zM101 193.2l-.3 1.9m-.3-.1l.2 1l.5-.9zM132 193.2l.2 2.5m-.4 0l.6 1.2l.3-1.3zM139.8 193.2l.8 3.6m-.6 .1l1 1.6l.2-1.9zM147.6 193.2l1.9 4.4m-.7 .3l1.6 1.9l-.2-2.5zM155.3 193.2l3.9 4.7m-.7 .6l2.6 1.7l-1.2-2.9zM163.1 193.2l6.4 3m-.4 1l3.6 .5l-2.7-2.4zM170.9 193.2l7.8-.8m.1 1.1l3.7-1.5l-4-.8zM178.6 193.2l6.1-4.1m.6 .9l2.4-2.9l-3.6 1.1zM186.4 193.2l3.6-5.2m.8 .5l1-3.1l-2.5 2zM194.2 193.2l1.7-4.3m.7 .3l.1-2.4l-1.5 1.9zM201.9 193.2l.7-3.2m.5 .1l-.2-1.7l-.9 1.5zM225.2 193.2l1.1 1.8m-.3 .2l.8 .7l-.2-1.1zM233 193.2l1.4 2m-.3 .3l1.1 .7l-.4-1.2zM240.8 193.2l1.9 1.7m-.3 .3l1.2 .5l-.6-1.2zM248.5 193.2l2.1 .9m-.2 .4l1.2 0l-.9-.8zM256.3 193.2l2 .6m-.1 .4l1.1-.1l-.9-.7zM264.1 193.2l1.8 1m-.2 .3l1.1 .2l-.7-.8zM271.8 193.2l1.4 2.1m-.4 .2l1 .8l-.3-1.3zM279.6 193.2l1 4m-.6 .2l1.1 1.8l.1-2.1zM287.4 193.2l-.3 7m-1-.1l.9 3.5l1.2-3.4zM295.1 193.2l-1.7 5.5m-.8-.3l0 3l1.7-2.4zM302.9 193.2l-1.5 1.3m-.2-.3l-.5 .9l1-.4zM310.7 193.2l1-4.2m.7 .2l-.2-2.2l-1.1 1.9zM318.4 193.2l3.1-7.3m1.1 .5l.4-4.1l-2.6 3.2zM326.2 193.2l3.8-6m.9 .6l1-3.5l-2.8 2.4zM334 193.2l3.4-4.1m.6 .5l1.1-2.5l-2.3 1.5zM341.7 193.2l3-3.1m.5 .5l1-2l-2 1.1zM349.5 193.2l2.6-3.2m.5 .4l.8-2l-1.8 1.1zM357.3 193.2l2-3.6m.6 .3l.4-2.1l-1.6 1.5zM365 193.2l1.2-4.1m.6 .2l0-2.2l-1.3 1.8zM372.8 193.2l.9-7.2m1.1 .1l-.6-3.7l-1.5 3.4zM380.6 193.2l0-9.8m1.4 0l-1.4-4.8l-1.4 4.8zM388.3 193.2l-.5-5.2m.8-.1l-1-2.5l-.6 2.6zM396.1 193.2l-.9-5.5m.8-.1l-1.3-2.6l-.4 2.9zM403.9 193.2l-1.5-5.6m.8-.2l-1.6-2.5l-.1 3zM411.6 193.2l-2.1-5m.8-.3l-1.8-2.1l.3 2.8zM419.4 193.2l-2.4-3.5m.6-.4l-1.7-1.4l.6 2.1zM427.2 193.2l-2.6-2.5m.4-.4l-1.7-.8l.9 1.6zM434.9 193.2l-2.4-1.3m.2-.4l-1.4-.2l1 1.1zM442.7 193.2l-1.9 0m0-.4l-.9 .4l.9 .4zM458.2 193.2l.3 2.4m-.4 .1l.6 1.1l.3-1.3zM466 193.2l.7 2.8m-.5 .1l.8 1.3l.1-1.5zM38.8 201.4l2.2-.3m.1 .4l1-.5l-1.1-.2zM46.6 201.4l2.3-.3m.1 .4l1.1-.6l-1.2-.3zM54.4 201.4l2.4-.3m.1 .4l1.1-.6l-1.2-.3zM62.1 201.4l2.4-.1m0 .4l1.1-.5l-1.2-.4zM69.9 201.4l2.2 .5m-.1 .4l1.2-.1l-1-.7zM77.7 201.4l1.7 1.7m-.3 .3l1.1 .5l-.5-1.1zM85.4 201.4l.9 2.5m-.4 .2l.9 1.1l0-1.4zM93.2 201.4l.1 2.6m-.5 0l.5 1.3l.4-1.3zM101 201.4l-.5 2.1m-.4-.1l.1 1.1l.6-.9zM132 201.4l1.1 2.1m-.4 .2l.9 .8l-.2-1.2zM139.8 201.4l1.7 2.8m-.5 .3l1.3 1.1l-.4-1.6zM147.6 201.4l2.7 2.9m-.5 .4l1.8 1l-.9-1.9zM155.3 201.4l4.2 2.4m-.4 .7l2.5 .5l-1.7-1.8zM163.1 201.4l6.1 1.1m-.2 .9l3.2-.4l-2.8-1.4zM170.9 201.4l6.7-.5m.1 1l3.2-1.2l-3.4-.8zM178.6 201.4l5.7-2m.3 .9l2.5-1.8l-3.1 .1zM186.4 201.4l3.7-2.8m.4 .6l1.4-2l-2.3 .8zM194.2 201.4l2.2-2.9m.5 .4l.6-1.8l-1.6 1.1zM201.9 201.4l1.1-2.5m.4 .2l.1-1.4l-1 1zM233 201.4l1.4 1.5m-.3 .3l1 .5l-.4-1zM240.8 201.4l1.8 1.3m-.2 .3l1.1 .3l-.7-1zM248.5 201.4l2 1m-.2 .4l1.2 .1l-.8-.8zM256.3 201.4l1.7 1m-.2 .3l1 .2l-.7-.8zM264.1 201.4l.9 1.8m-.3 .2l.8 .7l-.1-1zM271.8 201.4l-.5 2.7m-.5-.1l.2 1.4l.7-1.2zM279.6 201.4l-1.8 4.5m-.7-.3l-.2 2.5l1.6-1.9zM287.4 201.4l-2.7 9.1m-1.3-.4l0 4.9l2.6-4.1zM295.1 201.4l-2.9 6.1m-.9-.4l-.5 3.4l2.3-2.6zM302.9 201.4l-2.6-1m.2-.4l-1.4 0l1.1 .9zM310.7 201.4l.4-7.7m1.1 .1l-.9-3.8l-1.3 3.7zM318.4 201.4l3.4-10.1m1.3 .4l.3-5.2l-2.9 4.3zM326.2 201.4l3.9-5.6m.8 .6l1.1-3.4l-2.8 2.2zM334 201.4l3-3.5m.5 .5l1-2.2l-2 1.2zM341.7 201.4l2.7-2.8m.5 .4l.9-1.8l-1.8 1zM357.3 201.4l1.9-3.1m.5 .3l.4-1.8l-1.4 1.2zM372.8 201.4l.4-3.9m.6 .1l-.4-2l-.8 1.8zM380.6 201.4l-.5-9.5m1.4-.1l-1.6-4.6l-1.1 4.8zM388.3 201.4l-1.5-7.8m1.2-.2l-1.9-3.6l-.4 4.1zM396.1 201.4l-1.5-4.8m.7-.2l-1.5-2.1l0 2.6zM403.9 201.4l-2.1-4.8m.7-.3l-1.8-2.1l.3 2.7zM411.6 201.4l-2.7-4.4m.7-.4l-2-1.7l.6 2.6zM419.4 201.4l-2.9-3.4m.5-.5l-2-1.2l.9 2.1zM427.2 201.4l-3-2.6m.4-.5l-1.9-.8l1 1.7zM434.9 201.4l-2.9-1.7m.3-.5l-1.7-.4l1.1 1.3zM442.7 201.4l-2.6-.9m.1-.4l-1.4 0l1.1 .9zM450.5 201.4l-2.2 .2m0-.4l-1 .5l1.1 .3zM458.2 201.4l-1.4 2m-.3-.2l-.3 1.2l1-.7zM466 201.4l-.8 2.5m-.4-.1l0 1.4l.8-1.1zM31.1 209.7l2.6-.2m0 .4l1.2-.5l-1.3-.4zM38.8 209.7l2.5-.4m.1 .4l1.2-.6l-1.3-.2zM46.6 209.7l2.5-.4m.1 .4l1.1-.6l-1.3-.3zM54.4 209.7l2.4-.3m.1 .4l1.1-.6l-1.3-.3zM62.1 209.7l2.5 0m0 .4l1.2-.4l-1.2-.4zM69.9 209.7l2.3 .9m-.2 .4l1.3 0l-1-.8zM77.7 209.7l1.8 2.1m-.4 .3l1.3 .7l-.5-1.4zM85.4 209.7l1.1 3.1m-.5 .2l1 1.4l0-1.7zM93.2 209.7l.1 3.3m-.5 0l.6 1.6l.5-1.6zM101 209.7l-.8 2.3m-.4-.1l0 1.3l.8-1zM139.8 209.7l1.4 2.1m-.4 .2l1.1 .8l-.3-1.3zM147.6 209.7l2.2 1.9m-.3 .4l1.4 .5l-.8-1.3zM155.3 209.7l3.3 .9m-.2 .5l1.8-.1l-1.4-1zM163.1 209.7l4.1-.1m0 .7l2-.7l-2-.6zM170.9 209.7l4.6-.3m0 .7l2.2-.9l-2.3-.6zM178.6 209.7l4-.6m.1 .6l1.9-.9l-2.1-.3zM186.4 209.7l3.1-1.3m.2 .5l1.3-1.2l-1.8 .1zM194.2 209.7l2-1.7m.3 .4l.7-1.2l-1.3 .5zM201.9 209.7l1.1-1.6m.3 .2l.2-1l-.8 .6zM256.3 209.7l.9 1.8m-.3 .2l.8 .7l-.1-1zM264.1 209.7l-.2 2.8m-.5 0l.4 1.4l.6-1.4zM271.8 209.7l-1.5 3.9m-.6-.2l-.1 2.1l1.4-1.7zM279.6 209.7l-3.1 6.5m-1-.5l-.6 3.7l2.5-2.7zM287.4 209.7l-3.2 8.4m-1.2-.5l-.3 4.6l2.8-3.7zM295.1 209.7l-1.9 5.8m-.9-.3l0 3.1l1.8-2.6zM302.9 209.7l-.9-3.1m.5-.1l-.9-1.4l-.1 1.7zM310.7 209.7l.2-10.3m1.4 0l-1.3-5l-1.5 5zM318.4 209.7l.2-11.5m1.4 0l-1.3-5l-1.5 5zM326.2 209.7l.6-6m.9 .1l-.6-3l-1.2 2.9zM334 209.7l1.4-3.6m.6 .2l.1-2l-1.3 1.5zM380.6 209.7l-1.1-7m1-.2l-1.6-3.3l-.5 3.6zM388.3 209.7l-2.8-9.3m1.3-.4l-2.7-4.1l.1 5zM396.1 209.7l-1.8-4m.6-.3l-1.5-1.7l.2 2.3zM403.9 209.7l-2.4-4.1m.6-.4l-1.8-1.7l.5 2.4zM411.6 209.7l-2.9-3.9m.6-.4l-2-1.5l.8 2.3zM419.4 209.7l-3.1-3.3m.5-.5l-2-1.1l1 2.1zM427.2 209.7l-3.2-2.6m.4-.5l-2-.8l1.1 1.8zM434.9 209.7l-3.2-1.9m.3-.5l-1.9-.4l1.3 1.5zM442.7 209.7l-3.2-1.2m.2-.5l-1.7 0l1.4 1.1zM450.5 209.7l-3.1-.2m0-.5l-1.6 .4l1.5 .6zM458.2 209.7l-2.8 1m-.2-.5l-1.2 1l1.6 0zM466 209.7l-2.1 1.7m-.3-.4l-.8 1.2l1.3-.5zM23.3 217.9l2.3-.4m.1 .4l1-.6l-1.2-.2zM31.1 217.9l2.4-.2m0 .4l1.1-.5l-1.2-.3zM38.8 217.9l2.3-.2m0 .4l1.1-.5l-1.2-.3zM46.6 217.9l2.2-.2m0 .4l1.1-.5l-1.1-.3zM54.4 217.9l2.2-.4m.1 .4l1-.6l-1.1-.2zM62.1 217.9l2.3-.1m0 .4l1.1-.4l-1.1-.4zM69.9 217.9l2.3 1m-.2 .4l1.3 .1l-.9-.9zM77.7 217.9l2 2.4m-.4 .3l1.4 .8l-.6-1.5zM85.4 217.9l1.5 3.7m-.6 .2l1.3 1.6l-.2-2zM93.2 217.9l.6 4.1m-.7 .1l1 1.9l.4-2.1zM101 217.9l-.6 2.7m-.5-.1l.2 1.4l.8-1.2zM139.8 217.9l-.6 1.9m-.3-.1l.1 1l.6-.8zM163.1 217.9l1.8-1.1m.2 .3l.7-.9l-1.1 .2zM170.9 217.9l2-.4m.1 .4l.9-.6l-1-.1zM178.6 217.9l2.2 0m0 .4l1.1-.4l-1.1-.4zM186.4 217.9l1.9-.4m.1 .4l.8-.6l-1-.1zM256.3 217.9l.2 2.4m-.4 0l.5 1.1l.3-1.2zM264.1 217.9l-.6 3.6m-.6-.1l.3 1.9l.9-1.7zM271.8 217.9l-1.3 5.2m-.8-.2l.2 2.8l1.4-2.4zM279.6 217.9l-1.8 6.9m-1-.3l.2 3.7l1.9-3.2zM287.4 217.9l-1.1 6.9m-1-.2l.5 3.6l1.6-3.2zM295.1 217.9l.7 3.6m-.6 .1l.9 1.7l.3-1.9zM302.9 217.9l2.2-3.2m.5 .4l.6-1.9l-1.6 1.2zM310.7 217.9l1.6-9.3m1.3 .2l-.6-4.8l-2.1 4.4zM318.4 217.9l.4-10.2m1.4 0l-1.2-5l-1.6 4.9zM326.2 217.9l0-6.7m1 0l-1-3.3l-1 3.3zM388.3 217.9l-4-9.2m1.3-.6l-3.2-4l.7 5.1zM396.1 217.9l-2.5-4.5m.7-.4l-1.9-1.8l.6 2.6zM403.9 217.9l-2.4-3.5m.6-.4l-1.8-1.4l.6 2.1zM411.6 217.9l-2.8-3.5m.5-.4l-1.9-1.3l.8 2.1zM419.4 217.9l-3-3.1m.5-.5l-2-1.1l1 2zM427.2 217.9l-3.1-2.6m.4-.5l-2-.8l1.1 1.8zM434.9 217.9l-3.2-2.1m.3-.5l-1.9-.5l1.2 1.5zM442.7 217.9l-3.2-1.3m.2-.5l-1.8-.1l1.4 1.1zM450.5 217.9l-3.2-.3m.1-.5l-1.6 .4l1.5 .7zM458.2 217.9l-3 .5m-.1-.5l-1.4 .8l1.6 .3zM466 217.9l-2.6 .9m-.1-.4l-1.1 .9l1.4 0zM15.5 226.1l.7-1.8m.3 .1l0-1l-.7 .8zM77.7 226.1l1.5 2.4m-.4 .3l1.2 .9l-.4-1.4zM85.4 226.1l1.4 4m-.6 .2l1.3 1.7l-.1-2.2zM93.2 226.1l1 5m-.8 .2l1.3 2.3l.3-2.6zM101 226.1l.3 3.6m-.6 .1l.7 1.7l.4-1.8zM108.7 226.1l-1.4 1.8m-.3-.3l-.4 1.1l1-.6zM116.5 226.1l-2.7 .2m0-.5l-1.3 .6l1.4 .4zM124.3 226.1l-3.5-.4m.1-.6l-1.8 .4l1.7 .7zM132 226.1l-3.8 1.1m-.2-.6l-1.7 1.2l2 0zM139.8 226.1l-3.4 1.1m-.2-.5l-1.5 1.1l1.8 0zM147.6 226.1l-2.7 0m0-.5l-1.3 .5l1.3 .5zM155.3 226.1l-1.8-1.1m.2-.3l-1.1-.2l.7 .9zM163.1 226.1l-1.1-1.6m.3-.2l-.8-.6l.2 1zM248.5 226.1l.6 1.8m-.3 .1l.6 .8l0-1zM256.3 226.1l.2 2.8m-.5 0l.6 1.4l.4-1.4zM264.1 226.1l-.1 4m-.6 0l.6 2l.7-1.9zM271.8 226.1l-.1 5.5m-.8 0l.8 2.7l.9-2.7zM279.6 226.1l.2 6.5m-1 0l1.1 3.2l.9-3.2zM287.4 226.1l.9 5.6m-.8 .1l1.3 2.6l.4-2.9zM295.1 226.1l1.9 2.1m-.4 .3l1.3 .7l-.6-1.4zM302.9 226.1l2.5-3.4m.5 .4l.7-2.1l-1.7 1.3zM310.7 226.1l2.2-7.8m1.1 .3l0-4.1l-2.2 3.5zM318.4 226.1l.7-8.7m1.3 .1l-.9-4.4l-1.6 4.2zM326.2 226.1l-.1-2.6m.4 0l-.5-1.2l-.4 1.3zM388.3 226.1l-1.3-2.4m.4-.2l-1-.9l.2 1.4zM396.1 226.1l-4.3-6.4m.9-.6l-3.1-2.5l1.2 3.8zM403.9 226.1l-2.4-3.2m.5-.4l-1.7-1.2l.7 2zM411.6 226.1l-2.6-3.3m.5-.4l-1.8-1.2l.7 2zM419.4 226.1l-2.7-3.1m.5-.4l-1.8-1.1l.8 1.9zM427.2 226.1l-2.8-2.7m.4-.4l-1.8-.9l.9 1.8zM434.9 226.1l-2.7-2.3m.4-.4l-1.7-.7l1 1.6zM442.7 226.1l-2.7-1.5m.2-.4l-1.6-.3l1.1 1.2zM450.5 226.1l-2.7-.5m.1-.5l-1.4 .2l1.2 .7zM458.2 226.1l-2.6 .3m0-.4l-1.2 .6l1.3 .3zM466 226.1l-2.4 .1m0-.4l-1.1 .5l1.2 .4zM7.8 234.2l-1.9-2.7m.4-.3l-1.4-1l.5 1.6zM15.5 234.2l-1.6-2.3m.4-.3l-1.2-.9l.4 1.4zM77.7 234.2l-1.4 1.9m-.3-.2l-.4 1.2l1-.7zM85.4 234.2l-.7 4.3m-.7-.1l.3 2.2l1-2zM93.2 234.2l-1.1 5.7m-.9-.2l.3 3l1.4-2.6zM101 234.2l-1.4 4.4m-.7-.2l0 2.4l1.4-1.9zM108.7 234.2l-2.5 2.9m-.5-.4l-.8 1.8l1.7-1zM116.5 234.2l-3.8 1.6m-.3-.6l-1.6 1.4l2.1-.2zM124.3 234.2l-5.5 1m-.2-.8l-2.6 1.3l2.9 .3zM132 234.2l-6.5 .8m-.1-1l-3.1 1.4l3.3 .6zM139.8 234.2l-5.5-.1m0-.8l-2.7 .8l2.7 .9zM147.6 234.2l-3.9-1.3m.2-.6l-2.1 0l1.7 1.3zM155.3 234.2l-2.8-2m.3-.5l-1.7-.5l1.1 1.5zM163.1 234.2l-2-2.1m.4-.3l-1.3-.7l.6 1.4zM170.9 234.2l-1.4-1.5m.3-.3l-1-.5l.4 1zM201.9 234.2l-2-.2m0-.4l-1 .3l.9 .5zM209.7 234.2l-1.8-.7m.1-.3l-1 0l.7 .7zM248.5 234.2l.7 1.8m-.3 .1l.7 .7l0-1zM256.3 234.2l.7 2.9m-.5 .1l.8 1.3l.2-1.5zM264.1 234.2l.8 3.9m-.6 .1l1 1.8l.2-2zM271.8 234.2l1.3 5m-.8 .2l1.4 2.2l.1-2.6zM279.6 234.2l2.2 5.6m-.8 .3l1.9 2.4l-.2-3.1zM287.4 234.2l3.3 4.8m-.7 .5l2.3 1.9l-.9-2.9zM295.1 234.2l3.9 1.3m-.2 .6l2.1 0l-1.7-1.3zM302.9 234.2l4-3.6m.5 .6l1.4-2.4l-2.5 1.2zM310.7 234.2l3.2-6.3m.9 .5l.6-3.6l-2.5 2.6zM318.4 234.2l1.6-6.8m1 .2l-.2-3.6l-1.8 3.1zM326.2 234.2l.1-2.3m.4 0l-.3-1.1l-.5 1.1zM388.3 234.2l-1.3-2.3m.4-.2l-1.1-.9l.3 1.4zM396.1 234.2l-5.3-7.7m1.1-.8l-3.7-3l1.5 4.6zM403.9 234.2l-2.1-3.1m.5-.3l-1.5-1.2l.5 1.9zM411.6 234.2l-2.1-3.3m.5-.3l-1.6-1.3l.5 1.9zM419.4 234.2l-2.1-3.2m.5-.3l-1.5-1.2l.5 1.9zM427.2 234.2l-2-2.9m.5-.3l-1.5-1.1l.5 1.8zM434.9 234.2l-1.9-2.6m.4-.3l-1.4-1l.5 1.6zM442.7 234.2l-1.8-1.9m.3-.3l-1.2-.6l.5 1.2zM0 242.4l-3.2-2.3m.4-.5l-1.9-.6l1.2 1.6zM7.8 242.4l-3.5-2.3m.4-.6l-2.1-.6l1.4 1.7zM15.5 242.4l-3.8-1.8m.3-.6l-2.2-.3l1.6 1.5zM23.3 242.4l-3.8-.9m.1-.6l-2 .2l1.7 1.1zM31.1 242.4l-3.5-.7m.1-.6l-1.8 .2l1.6 .9zM38.8 242.4l-3.2-.7m.1-.5l-1.7 .2l1.4 .9zM46.6 242.4l-3-.4m.1-.5l-1.6 .3l1.4 .7zM54.4 242.4l-3.3 0m0-.5l-1.6 .5l1.6 .5zM62.1 242.4l-3.7 .7m-.1-.6l-1.7 .9l1.9 .3zM69.9 242.4l-4 1m-.2-.6l-1.8 1.2l2.2 .1zM77.7 242.4l-4.7 1.8m-.3-.7l-2 1.6l2.6-.2zM85.4 242.4l-5.1 4.1m-.6-.8l-1.9 2.8l3.1-1.3zM93.2 242.4l-4.2 5.4m-.8-.6l-1.3 3.3l2.9-2.1zM101 242.4l-3.7 5m-.7-.6l-1.1 3l2.6-1.9zM108.7 242.4l-3.9 4m-.6-.6l-1.3 2.5l2.5-1.4zM116.5 242.4l-4.7 3.1m-.5-.7l-1.9 2.2l2.8-.8zM124.3 242.4l-5.8 2.3m-.4-.9l-2.5 2l3.2-.3zM132 242.4l-6.6 1.1m-.2-1l-3.1 1.5l3.4 .5zM139.8 242.4l-5.9-1.6m.2-.9l-3.1 .1l2.7 1.7zM147.6 242.4l-4.1-2.9m.5-.6l-2.5-.8l1.6 2.1zM155.3 242.4l-2.7-3.1m.5-.4l-1.8-1.1l.8 2zM163.1 242.4l-1.9-2.9m.5-.3l-1.4-1.1l.4 1.7zM170.9 242.4l-1.3-2.1m.4-.2l-1-.8l.3 1.2zM186.4 242.4l-1.7 1.1m-.2-.3l-.6 .8l1-.2zM194.2 242.4l-2.7 .9m-.1-.5l-1.2 .9l1.5 0zM201.9 242.4l-3-.2m0-.5l-1.5 .4l1.4 .6zM209.7 242.4l-2.4-1.4m.2-.4l-1.4-.3l1 1.1zM217.5 242.4l-1.5-1.7m.3-.3l-1-.6l.4 1.1zM256.3 242.4l.9 2.7m-.5 .1l.9 1.2l0-1.5zM264.1 242.4l1.3 3.4m-.6 .2l1.2 1.5l-.1-1.9zM271.8 242.4l2.1 3.8m-.6 .3l1.6 1.6l-.4-2.2zM279.6 242.4l3.5 4.2m-.6 .5l2.4 1.5l-1.1-2.6zM287.4 242.4l5 3.5m-.5 .8l3 1l-1.9-2.5zM295.1 242.4l5.9 .8m-.1 .9l3-.5l-2.8-1.3zM302.9 242.4l5.3-2.6m.4 .8l2.2-2.1l-3 .5zM310.7 242.4l4-4.5m.7 .6l1.3-2.8l-2.6 1.6zM318.4 242.4l2.3-5m.8 .4l.4-2.8l-1.9 2.1zM388.3 242.4l-.8-2.1m.4-.1l-.8-.9l0 1.2zM396.1 242.4l-4.1-9.1m1.3-.6l-3.3-3.9l.7 5zM403.9 242.4l-1.2-3.1m.5-.2l-1.1-1.3l.1 1.7zM411.6 242.4l-1.4-3.3m.5-.2l-1.2-1.4l.1 1.9zM419.4 242.4l-1.4-3.3m.5-.2l-1.2-1.4l.2 1.9zM427.2 242.4l-1.3-3.2m.5-.2l-1.2-1.4l.1 1.8zM434.9 242.4l-1.1-2.9m.5-.2l-1-1.3l.1 1.6zM442.7 242.4l-.8-2.4m.4-.1l-.8-1.1l0 1.3zM0 250.6l-3.9-1.7m.3-.6l-2.2-.2l1.6 1.4zM7.8 250.6l-4.5-1.8m.3-.7l-2.5-.2l1.9 1.6zM15.5 250.6l-5.1-1.6m.2-.8l-2.7 0l2.2 1.6zM23.3 250.6l-5.3-1.2m.2-.8l-2.8 .2l2.4 1.4zM31.1 250.6l-5.1-1.1m.2-.8l-2.7 .3l2.3 1.3zM38.8 250.6l-4.8-1m.2-.7l-2.5 .2l2.2 1.2zM46.6 250.6l-4.7-.2m0-.7l-2.4 .6l2.3 .8zM54.4 250.6l-5 .6m-.1-.8l-2.4 1l2.6 .5zM62.1 250.6l-5.7 1.2m-.2-.9l-2.6 1.5l3 .3zM69.9 250.6l-6.4 1.8m-.3-1l-2.9 1.8l3.4 .1zM77.7 250.6l-7 2.4m-.4-1l-3.1 2.2l3.8-.2zM85.4 250.6l-6.7 3.5m-.5-1l-2.8 2.7l3.8-.7zM93.2 250.6l-5.8 4.5m-.7-.9l-2.2 3.1l3.5-1.4zM101 250.6l-4.9 4.7m-.7-.7l-1.7 3l3.1-1.6zM108.7 250.6l-4.5 4.3m-.6-.7l-1.6 2.8l2.9-1.4zM116.5 250.6l-4.5 3.6m-.5-.7l-1.7 2.5l2.8-1.1zM124.3 250.6l-4.3 2.6m-.4-.7l-1.7 2l2.5-.6zM132 250.6l-3.8 1m-.2-.6l-1.7 1.1l2 .1zM139.8 250.6l-3.2-2.6m.4-.5l-2-.8l1.1 1.8zM147.6 250.6l-2.7-4.1m.6-.4l-2-1.6l.7 2.4zM155.3 250.6l-1.9-4.2m.7-.3l-1.6-1.8l.3 2.4zM163.1 250.6l-1.2-3.7m.6-.2l-1.2-1.6l0 2zM170.9 250.6l-.6-2.6m.5-.1l-.7-1.2l-.2 1.4zM186.4 250.6l-.9 2.5m-.4-.1l0 1.4l.9-1.1zM194.2 250.6l-2.9 2.5m-.4-.5l-1.1 1.7l1.8-.7zM201.9 250.6l-4-.6m.1-.6l-2.1 .4l1.9 .9zM209.7 250.6l-2.4-2.8m.5-.4l-1.6-1l.7 1.8zM217.5 250.6l-1.2-2.4m.4-.2l-1-1l.2 1.4zM256.3 250.6l.3 2.3m-.4 0l.5 1.1l.3-1.2zM264.1 250.6l1.2 2.8m-.5 .2l1 1.2l-.1-1.6zM271.8 250.6l2.2 2.8m-.5 .4l1.5 1l-.6-1.8zM279.6 250.6l3.3 2.6m-.4 .5l2 .7l-1.2-1.8zM287.4 250.6l4.6 2.3m-.4 .7l2.6 .4l-1.9-1.8zM295.1 250.6l5 .7m-.1 .8l2.6-.4l-2.3-1.1zM302.9 250.6l4.6-1.5m.2 .7l2-1.5l-2.5 0zM310.7 250.6l3.7-2.8m.4 .6l1.4-2l-2.3 .8zM388.3 250.6l-.1-2m.4 0l-.4-1l-.3 1zM396.1 250.6l-.8-10m1.4-.1l-1.8-4.8l-1 5zM403.9 250.6l-.5-3.5m.6-.1l-.8-1.6l-.3 1.8zM411.6 250.6l-.8-3.2m.5-.1l-.9-1.5l-.2 1.7zM419.4 250.6l-.9-3.4m.5-.1l-1-1.5l-.1 1.8zM427.2 250.6l-.9-3.4m.5-.1l-1-1.5l-.1 1.8zM434.9 250.6l-.7-3.2m.5-.1l-.9-1.5l-.2 1.7zM442.7 250.6l-.4-2.8m.5-.1l-.7-1.3l-.3 1.5zM450.5 250.6l0-1.9m.4 0l-.3-1l-.4 .9zM0 258.7l-3.9-1.1m.2-.6l-2.1 .1l1.7 1.1zM7.8 258.7l-4.3-1.2m.2-.7l-2.3 .1l1.9 1.3zM15.5 258.7l-5-1m.2-.8l-2.6 .3l2.3 1.3zM23.3 258.7l-5.8-1m.1-.9l-3 .4l2.7 1.3zM31.1 258.7l-6.1-1.2m.2-.9l-3.2 .3l2.8 1.5zM38.8 258.7l-6-1.1m.2-.9l-3.1 .4l2.8 1.5zM46.6 258.7l-5.9-.3m0-.9l-2.9 .7l2.8 1zM54.4 258.7l-5.9 .9m-.1-.9l-2.8 1.3l3 .5zM62.1 258.7l-6.3 1.8m-.3-.9l-2.8 1.9l3.4 0zM69.9 258.7l-7 2.4m-.4-1l-3.1 2.2l3.8-.1zM77.7 258.7l-7.3 2.3m-.3-1.1l-3.2 2.2l3.9-.1zM85.4 258.7l-6.6 2.7m-.4-1l-2.8 2.3l3.6-.4zM93.2 258.7l-5.6 3.4m-.5-.8l-2.3 2.5l3.3-.9zM101 258.7l-4.8 3.9m-.6-.7l-1.8 2.7l3-1.2zM108.7 258.7l-4.2 3.9m-.6-.6l-1.5 2.6l2.7-1.3zM116.5 258.7l-3.7 3.2m-.5-.6l-1.3 2.2l2.3-1zM124.3 258.7l-3.2 2.1m-.3-.5l-1.2 1.5l1.9-.5zM132 258.7l-2.7-.1m0-.5l-1.3 .4l1.3 .5zM139.8 258.7l-1.8-2.9m.5-.3l-1.4-1.2l.4 1.7zM147.6 258.7l-1.5-4.5m.7-.2l-1.4-2l0 2.4zM155.3 258.7l-1-5m.8-.2l-1.3-2.3l-.3 2.6zM163.1 258.7l-.4-4.2m.7-.1l-.9-2l-.5 2.1zM170.9 258.7l0-3m.5 0l-.5-1.5l-.5 1.5zM186.4 258.7l.3 3.6m-.6 0l.7 1.7l.4-1.8zM194.2 258.7l-.8 5m-.8-.1l.4 2.6l1.2-2.4zM201.9 258.7l-2.1-2m.3-.4l-1.4-.6l.7 1.3zM209.7 258.7l-1.2-4.4m.7-.2l-1.3-2l-.1 2.4zM217.5 258.7l-1.2-2.4m.4-.2l-1-1l.2 1.4zM225.2 258.7l-1.7-1m.2-.3l-1-.2l.7 .8zM233 258.7l-1.9-.7m.1-.3l-1.1 0l.8 .7zM240.8 258.7l-1.7-.9m.2-.3l-1-.1l.7 .8zM264.1 258.7l.6 1.9m-.4 .1l.7 .8l0-1.1zM271.8 258.7l1.6 2m-.3 .3l1.1 .7l-.5-1.3zM279.6 258.7l2.4 1.7m-.3 .4l1.5 .5l-.9-1.3zM287.4 258.7l2.9 1.7m-.3 .5l1.7 .3l-1.2-1.3zM295.1 258.7l3.5 .6m-.1 .6l1.8-.3l-1.6-.8zM302.9 258.7l3.3-1m.2 .5l1.5-1.1l-1.8 0zM310.7 258.7l2.7-2.1m.3 .4l1-1.4l-1.6 .6zM318.4 258.7l2-2.6m.4 .3l.6-1.6l-1.4 .9zM396.1 258.7l.7-10m1.4 .1l-1.1-5l-1.7 4.8zM403.9 258.7l-.3-4.2m.7 0l-.8-2l-.5 2.1zM411.6 258.7l-.5-3m.5-.1l-.8-1.4l-.2 1.6zM419.4 258.7l-.7-3.3m.5-.1l-.9-1.5l-.2 1.7zM427.2 258.7l-.8-3.4m.6-.1l-.9-1.6l-.2 1.8zM434.9 258.7l-.7-3.3m.5-.1l-.9-1.5l-.2 1.8zM442.7 258.7l-.6-3m.5-.1l-.8-1.4l-.2 1.6zM450.5 258.7l-.5-2.2m.4-.1l-.6-1l-.2 1.2zM0 266.9l-3-.5m.1-.5l-1.6 .2l1.4 .8zM7.8 266.9l-3.5-.6m.1-.6l-1.8 .3l1.6 .9zM15.5 266.9l-4.1-.3m0-.6l-2 .5l2 .8zM23.3 266.9l-4.9-.2m0-.8l-2.4 .6l2.4 .9zM31.1 266.9l-5.6-1.1m.2-.9l-2.9 .3l2.6 1.4zM38.8 266.9l-5.3-1.4m.2-.8l-2.8 .1l2.4 1.5zM46.6 266.9l-4.9-.4m.1-.8l-2.5 .5l2.4 1zM54.4 266.9l-4.9 .9m-.1-.8l-2.3 1.2l2.5 .3zM62.1 266.9l-5.1 2.2m-.3-.8l-2.2 1.8l2.8-.3zM69.9 266.9l-5.4 2.8m-.4-.8l-2.2 2.2l3.1-.6zM77.7 266.9l-5.3 1.7m-.3-.8l-2.4 1.7l2.9 0zM85.4 266.9l-4.8 1.9m-.3-.7l-2.1 1.7l2.7-.2zM93.2 266.9l-4.3 2.5m-.4-.7l-1.7 1.9l2.5-.6zM101 266.9l-3.8 3.1m-.5-.6l-1.4 2.1l2.4-1zM108.7 266.9l-3.4 3.3m-.5-.5l-1.1 2.2l2.2-1.1zM116.5 266.9l-3 2.7m-.4-.5l-1 1.8l1.9-.9zM124.3 266.9l-2.7 1.5m-.2-.5l-1.1 1.2l1.6-.3zM132 266.9l-2.2-1m.2-.4l-1.3-.1l.9 .9zM139.8 266.9l-1.4-3.3m.5-.2l-1.2-1.4l.2 1.8zM147.6 266.9l-1-5m.8-.1l-1.2-2.3l-.3 2.6zM155.3 266.9l-.4-5.8m.9-.1l-1.1-2.8l-.7 2.9zM163.1 266.9l.2-4.7m.7 0l-.6-2.3l-.8 2.3zM170.9 266.9l.4-3.1m.5 .1l-.3-1.6l-.7 1.5zM186.4 266.9l.2 3.2m-.5 0l.6 1.5l.4-1.6zM194.2 266.9l2 3.7m-.6 .3l1.6 1.5l-.4-2.1zM201.9 266.9l3 0m0 .5l1.5-.5l-1.5-.5zM209.7 266.9l-.2-3m.5 0l-.6-1.5l-.4 1.5zM217.5 266.9l-2.1-2.2m.4-.4l-1.4-.7l.7 1.4zM225.2 266.9l-2.1-1.3m.2-.4l-1.2-.3l.8 1zM279.6 266.9l1.4 1.4m-.3 .3l1 .4l-.4-1zM287.4 266.9l1.9 1.2m-.2 .3l1.1 .2l-.7-.9zM295.1 266.9l2.3 .4m-.1 .4l1.2-.2l-1-.6zM302.9 266.9l2.2-.8m.1 .4l1-.8l-1.2 0zM310.7 266.9l1.9-1.7m.3 .3l.6-1.2l-1.2 .5zM396.1 266.9l1.4-9.9m1.4 .2l-.7-5.1l-2.1 4.7zM403.9 266.9l-.5-4.8m.7-.1l-1-2.3l-.5 2.4zM411.6 266.9l-.7-2.7m.5-.1l-.8-1.2l-.1 1.5zM419.4 266.9l-.8-3.2m.5-.1l-.9-1.4l-.1 1.7zM427.2 266.9l-.8-3.4m.6-.1l-1-1.6l-.2 1.8zM434.9 266.9l-.7-3.4m.6-.1l-.9-1.6l-.2 1.8zM442.7 266.9l-.6-3.1m.5-.1l-.8-1.4l-.2 1.6zM450.5 266.9l-.5-2.5m.4-.1l-.7-1.1l-.2 1.3zM0 275l-2.4-.2m0-.4l-1.2 .3l1.1 .5zM7.8 275l-2.6 0m0-.5l-1.3 .5l1.3 .4zM15.5 275l-3 .5m-.1-.5l-1.4 .7l1.5 .3zM23.3 275l-3.2 .5m-.1-.5l-1.5 .8l1.7 .3zM31.1 275l-3.3-1.1m.2-.5l-1.8 0l1.5 1.1zM38.8 275l-3.5-1.6m.3-.6l-2-.2l1.5 1.3zM46.6 275l-3.6-.6m.1-.6l-1.9 .3l1.7 .9zM54.4 275l-3.5 .9m-.2-.6l-1.6 1l1.9 .1zM62.1 275l-3.4 2.1m-.3-.5l-1.3 1.6l2-.5zM69.9 275l-3.1 2.5m-.4-.5l-1.1 1.7l1.9-.7zM77.7 275l-3 1.9m-.3-.5l-1.1 1.4l1.8-.5zM85.4 275l-3.1 1.8m-.3-.5l-1.2 1.4l1.8-.4zM93.2 275l-2.9 2.3m-.4-.5l-1.1 1.6l1.8-.7zM101 275l-2.6 2.9m-.5-.4l-.8 1.8l1.7-1zM108.7 275l-2.4 3.1m-.5-.4l-.7 1.9l1.7-1.1zM116.5 275l-2.3 2.5m-.4-.4l-.7 1.6l1.6-.9zM124.3 275l-2.2 .9m-.2-.4l-.9 .8l1.3-.1zM132 275l-1.8-1.6m.3-.3l-1.1-.5l.6 1.1zM139.8 275l-1.2-3.5m.6-.2l-1.2-1.5l0 1.9zM147.6 275l-1-5.6m.8-.2l-1.3-2.6l-.4 2.9zM155.3 275l-.2-6.8m1 0l-1.1-3.3l-.9 3.4zM163.1 275l.7-5.4m.8 .1l-.5-2.8l-1.2 2.5zM170.9 275l.9-2.9m.5 .1l0-1.6l-.9 1.3zM186.4 275l.4 2.5m-.4 .1l.6 1.2l.2-1.3zM194.2 275l1.1 2.5m-.4 .2l1 1.1l-.1-1.4zM201.9 275l1.1 2.1m-.4 .2l.9 .9l-.1-1.2zM217.5 275l-2.2-1.7m.3-.4l-1.4-.5l.8 1.2zM225.2 275l-1.9-1.9m.3-.3l-1.3-.6l.6 1.3zM233 275l-1.2-1.8m.3-.2l-.9-.7l.2 1.1zM310.7 275l1.2-1.6m.3 .2l.3-1l-.9 .6zM396.1 275l1.5-9.9m1.4 .2l-.6-5.1l-2.1 4.6zM403.9 275l-1.5-5.2m.8-.2l-1.5-2.3l0 2.8zM411.6 275l-.9-2.5m.4-.2l-.9-1.1l0 1.4zM419.4 275l-.9-3.2m.5-.2l-1-1.4l-.1 1.7zM427.2 275l-.8-3.5m.6-.1l-1-1.6l-.2 1.9zM434.9 275l-.8-3.5m.6-.1l-.9-1.6l-.2 1.8zM442.7 275l-.7-3.2m.5-.1l-.9-1.4l-.2 1.7zM450.5 275l-.5-2.7m.5-.1l-.7-1.2l-.2 1.4zM458.2 275l-.3-2.1m.4-.1l-.5-1l-.2 1.1zM0 283.1l-2-.2m0-.4l-1 .3l.9 .4zM7.8 283.1l-1.9 .3m0-.4l-.9 .5l1 .2zM15.5 283.1l-1.9 .9m-.2-.4l-.8 .8l1.1-.1zM23.3 283.1l-1.9 .6m-.1-.4l-.9 .6l1.1 .1zM31.1 283.1l-2-.8m.1-.4l-1.1 0l.8 .7zM38.8 283.1l-2.3-1.4m.2-.4l-1.4-.3l.9 1.1zM46.6 283.1l-2.6-.7m.1-.4l-1.4 .1l1.2 .8zM54.4 283.1l-2.7 1.2m-.2-.5l-1.1 1l1.5-.1zM62.1 283.1l-2.5 2.1m-.3-.4l-.9 1.4l1.6-.6zM69.9 283.1l-2.2 2.3m-.4-.4l-.7 1.5l1.5-.8zM77.7 283.1l-2.1 2.1m-.3-.3l-.7 1.4l1.4-.7zM85.4 283.1l-2 1.9m-.3-.3l-.7 1.3l1.3-.6zM93.2 283.1l-1.8 2.3m-.4-.3l-.5 1.4l1.3-.8zM101 283.1l-1.4 2.9m-.5-.2l-.2 1.7l1.2-1.2zM108.7 283.1l-1.3 3.1m-.5-.2l-.1 1.8l1.1-1.3zM116.5 283.1l-1.2 2.6m-.4-.2l-.1 1.5l1-1.1zM132 283.1l-.9-1.9m.3-.2l-.8-.8l.1 1.1zM139.8 283.1l-.8-3.5m.6-.1l-1-1.6l-.1 1.9zM147.6 283.1l-1.2-6m.9-.2l-1.5-2.8l-.3 3.1zM155.3 283.1l-.4-8.4m1.2-.1l-1.4-4.1l-1 4.2zM163.1 283.1l1-6.3m.9 .1l-.5-3.2l-1.4 2.9zM170.9 283.1l.8-2.4m.4 .1l0-1.3l-.8 1.1zM186.4 283.1l-.7 2.5m-.4-.1l.1 1.4l.8-1.1zM194.2 283.1l-1.2 2.8m-.5-.2l-.1 1.6l1.1-1.2zM201.9 283.1l-2 2.6m-.4-.3l-.6 1.6l1.4-.9zM209.7 283.1l-2.7 .7m-.1-.5l-1.2 .8l1.4 .1zM217.5 283.1l-2.4-1.8m.3-.4l-1.5-.5l.9 1.3zM225.2 283.1l-1.6-2.6m.4-.3l-1.2-1l.3 1.6zM233 283.1l-.8-2.6m.4-.1l-.8-1.1l-.1 1.4zM396.1 283.1l-4-9.1m1.3-.6l-3.2-3.9l.7 5zM403.9 283.1l-3.7-4.7m.7-.6l-2.5-1.8l1.1 2.9zM411.6 283.1l-.9-2.4m.4-.2l-.9-1l0 1.3zM419.4 283.1l-.7-3.2m.5-.1l-.9-1.5l-.2 1.7zM427.2 283.1l-.7-3.5m.6-.1l-.9-1.6l-.2 1.8zM434.9 283.1l-.8-3.5m.6-.1l-.9-1.6l-.2 1.8zM442.7 283.1l-.8-3.2m.5-.1l-.9-1.5l-.1 1.7zM450.5 283.1l-.7-2.8m.5-.1l-.8-1.3l-.1 1.5zM458.2 283.1l-.6-2.2m.4-.1l-.7-1l-.1 1.2zM0 291.2l-1.9-.2m0-.4l-1 .3l.9 .4zM7.8 291.2l-2 .2m0-.4l-.9 .5l1 .3zM15.5 291.2l-1.8 .8m-.1-.3l-.7 .7l1-.1zM38.8 291.2l-2.1-.8m.1-.4l-1.2 0l.9 .8zM46.6 291.2l-2.6-.3m0-.4l-1.3 .3l1.2 .6zM54.4 291.2l-2.6 1.1m-.2-.4l-1.1 1l1.5-.1zM62.1 291.2l-2.2 1.8m-.3-.4l-.8 1.3l1.4-.5zM69.9 291.2l-1.9 2m-.3-.3l-.6 1.3l1.3-.7zM77.7 291.2l-1.7 2m-.3-.3l-.5 1.3l1.2-.7zM85.4 291.2l-1.5 1.9m-.3-.3l-.4 1.2l1.1-.7zM93.2 291.2l-1.3 2.1m-.4-.2l-.3 1.2l1-.8zM101 291.2l-.9 2.8m-.5-.1l0 1.5l.9-1.2zM108.7 291.2l-.5 3m-.5-.1l.3 1.5l.7-1.4zM116.5 291.2l.1 2.3m-.4 0l.5 1.1l.4-1.2zM132 291.2l.5-1.9m.3 .1l-.1-1l-.6 .8zM139.8 291.2l.3-3.3m.5 0l-.4-1.7l-.7 1.6zM147.6 291.2l.2-5.4m.8 0l-.7-2.7l-.9 2.6zM155.3 291.2l-.4-9.3m1.3-.1l-1.6-4.5l-1.1 4.6zM163.1 291.2l-1.5-6.9m1-.2l-1.7-3.2l-.3 3.6zM170.9 291.2l-1.8-1.5m.3-.3l-1.2-.4l.6 1.1zM178.6 291.2l-1.9 1.4m-.2-.3l-.7 1l1.2-.3zM186.4 291.2l-1.7 2.7m-.4-.3l-.4 1.6l1.3-1zM194.2 291.2l-1.6 3.2m-.5-.3l-.3 1.8l1.3-1.3zM201.9 291.2l-1.7 3m-.5-.3l-.3 1.8l1.3-1.2zM209.7 291.2l-2.1 .8m-.1-.4l-.9 .8l1.2 0zM217.5 291.2l-1.5-2.5m.4-.2l-1.1-1l.3 1.5zM225.2 291.2l-1.1-3.2m.5-.2l-1.1-1.4l0 1.8zM233 291.2l-.8-3.1m.5-.1l-.9-1.4l-.1 1.7zM240.8 291.2l-.5-2.1m.4-.1l-.6-.9l-.1 1.1zM388.3 291.2l-.5-1.8m.3-.1l-.6-.8l-.1 1zM396.1 291.2l-4.3-8.8m1.3-.6l-3.4-3.7l.9 4.9zM403.9 291.2l-.8-6.4m1-.1l-1.4-3l-.6 3.3zM411.6 291.2l.2-2.4m.4 0l-.3-1.2l-.5 1.1zM419.4 291.2l-.1-3.2m.5 0l-.6-1.5l-.5 1.6zM427.2 291.2l-.4-3.4m.6-.1l-.8-1.6l-.4 1.7zM434.9 291.2l-.6-3.4m.6-.1l-.9-1.6l-.3 1.8zM442.7 291.2l-.8-3.2m.5-.1l-.9-1.5l-.1 1.7zM450.5 291.2l-.9-2.8m.5-.2l-.9-1.2l0 1.6zM458.2 291.2l-.9-2.3m.4-.2l-.9-1l.1 1.3zM466 291.2l-.8-1.8m.3-.1l-.7-.8l.1 1zM0 299.3l-1.9-.1m0-.4l-.9 .3l.9 .4zM7.8 299.3l-1.9 .2m0-.4l-.9 .5l1 .3zM38.8 299.3l-2-.2m0-.4l-1 .3l1 .5zM46.6 299.3l-2.4 .2m0-.4l-1.1 .5l1.2 .3zM54.4 299.3l-2.4 .9m-.2-.4l-1 .9l1.3-.1zM62.1 299.3l-2.1 1.5m-.3-.4l-.8 1.1l1.3-.4zM69.9 299.3l-1.8 1.8m-.3-.3l-.6 1.2l1.2-.6zM77.7 299.3l-1.5 1.8m-.3-.3l-.4 1.2l1.1-.6zM85.4 299.3l-1.4 1.8m-.3-.2l-.4 1.1l1-.6zM93.2 299.3l-1.3 1.9m-.3-.2l-.3 1.2l1-.7zM101 299.3l-1 2.4m-.4-.2l-.1 1.3l.9-1zM108.7 299.3l-.2 2.5m-.4 0l.3 1.3l.6-1.2zM116.5 299.3l.6 1.8m-.3 .1l.6 .8l.1-1zM132 299.3l1.3-1.8m.3 .2l.3-1.1l-.9 .7zM139.8 299.3l1.1-3.3m.5 .2l0-1.8l-1.1 1.4zM155.3 299.3l-.7-6.9m1-.1l-1.4-3.3l-.7 3.5zM163.1 299.3l-2.6-5.1m.8-.4l-2-2.1l.5 2.9zM170.9 299.3l-3.1-1.8m.3-.5l-1.8-.4l1.2 1.4zM178.6 299.3l-2.8 .8m-.1-.5l-1.2 .9l1.5 .1zM186.4 299.3l-2.1 2.3m-.4-.3l-.6 1.5l1.4-.8zM194.2 299.3l-1.4 2.9m-.5-.2l-.2 1.7l1.2-1.2zM201.9 299.3l-.5 2.6m-.5-.1l.2 1.4l.7-1.2zM217.5 299.3l0-2.4m.4 0l-.4-1.2l-.4 1.2zM225.2 299.3l-.5-3.1m.5-.1l-.8-1.4l-.2 1.6zM233 299.3l-1-3m.5-.2l-1-1.3l0 1.7zM240.8 299.3l-1.4-2.2m.4-.2l-1-.8l.3 1.3zM372.8 299.3l-.2-2.1m.4 0l-.5-1l-.3 1.1zM380.6 299.3l-.3-1.9m.4-.1l-.5-.9l-.2 1zM396.1 299.3l-1.2-7.8m1.1-.2l-1.7-3.7l-.6 4zM403.9 299.3l.4-5m.8 .1l-.5-2.5l-1 2.4zM411.6 299.3l.4-2.4m.4 .1l-.2-1.2l-.6 1.1zM419.4 299.3l.2-2.9m.5 0l-.4-1.5l-.6 1.4zM427.2 299.3l-.2-3.2m.5 0l-.6-1.6l-.5 1.6zM434.9 299.3l-.4-3.2m.5-.1l-.8-1.5l-.3 1.7zM442.7 299.3l-.7-3.1m.5-.1l-.9-1.4l-.2 1.6zM450.5 299.3l-.9-2.8m.5-.1l-.9-1.2l0 1.5zM458.2 299.3l-.9-2.4m.4-.2l-.9-1l.1 1.3zM466 299.3l-.9-2m.4-.2l-.8-.8l.1 1.1zM315 23l0 15m-1.4 0l1.4 5l1.4-5zM331 15l6 6.7m-1 .9l3.9 2.4l-2-4.2z" fill="#000" stroke-width=".95"/>
<path d="M466 25.7l-.7-2.4M419.4 34.2l-.2-2.6M427.2 34.2l-1-2.4M365 42.7l2.2 .1M372.8 42.7l1.4-1.5M365 51.2l.8 1.8M357.3 59.7l-.2 2.6M365 59.7l-.5 1.9M372.8 59.7l-2 .4M380.6 59.7l-1-2.3M419.4 59.7l-2-1.5M427.2 59.7l-1.8-.8M434.9 59.7l-1.7-1.1M310.7 68.1l2-.4M357.3 68.1l-1.4 2.4M365 68.1l-1.2 1.7M372.8 68.1l-1.9 .7M380.6 68.1l-2.1-1.4M419.4 68.1l-.2-2.7M427.2 68.1l1.5-1.8M310.7 76.6l-1.1 1.7M365 76.6l-1.7 1.4M372.8 76.6l-1.8 1.3M380.6 76.6l-2.8-.2M310.7 85l1.4 2.2M365 85l-1.8 .9M372.8 85l-1.3 2.3M365 93.4l-.3-2M388.3 101.8l-.2-2.5M178.6 110.2l-1.3 2.3M186.4 110.2l-2-.2M209.7 110.2l1.7-1.1M217.5 110.2l.3 2.6M233 110.2l-2.8 .1M186.4 118.5l-1.6-1.2M194.2 118.5l-.8-2.1M201.9 118.5l-.8-2M209.7 118.5l-2-.3M186.4 126.9l-.6-1.9M194.2 126.9l-.5-2.1M201.9 126.9l-.8-1.8M209.7 126.9l-1.7 1.1M233 126.9l-.5 2.2M186.4 135.2l-1.9-.5M194.2 135.2l-.7-2.1M201.9 135.2l-.2-2M209.7 135.2l1.7 1M233 135.2l2.6 .9M201.9 143.5l-.3-2.7M209.7 143.5l1.4-1.4M233 143.5l1.4 1.5M209.7 151.9l-.4-2.3M217.5 151.9l-.5 2M209.7 160.1l-.8-2.2M217.5 160.1l-1.1 2M240.8 160.1l-2.1 .1M101 168.4l-2.4 1.3M209.7 168.4l.4-2.2M217.5 168.4l.2 2.1M240.8 168.4l.4 2.1M248.5 168.4l-1.8-.8M69.9 176.7l2 .4M77.7 176.7l.9 1.8M93.2 176.7l-.9 2M101 176.7l-1.4 2M108.7 176.7l-1.8 2M116.5 176.7l-1.9 1.7M209.7 176.7l1.3-1.9M217.5 176.7l1.1 2.1M248.5 176.7l.8 1.8M256.3 176.7l-1.7 1M264.1 176.7l-1.9 .6M434.9 176.7l-2.3 .9M46.6 185l2 0M54.4 185l2-.3M62.1 185l2-.4M69.9 185l2 .3M77.7 185l1.6 1.4M85.4 185l.7 2.2M93.2 185l-.1 2.5M101 185l-.7 2.5M108.7 185l-.9 2.2M116.5 185l-.9 1.9M124.3 185l-1.1 2.3M209.7 185l.5-2M217.5 185l1.2 1.8M248.5 185l2.1 1.6M256.3 185l2.3 .9M264.1 185l2.1 1.1M442.7 185l-1.4 2.1M38.8 193.2l2.5-.1M46.6 193.2l2.7-.1M108.7 193.2l-.6 2.2M116.5 193.2l-.3 2M124.3 193.2l0 2.4M209.7 193.2l.7-2.4M217.5 193.2l1.5 1.3M450.5 193.2l-1 2.2M108.7 201.4l-.8 1.9M116.5 201.4l-.2 2M124.3 201.4l.9 1.9M209.7 201.4l.9-2.1M217.5 201.4l1.6 1.1M225.2 201.4l1.4 2.1M349.5 201.4l1.4-1.6M365 201.4l.7-2.1M108.7 209.7l-1.5 1.3M116.5 209.7l-2-.1M124.3 209.7l1.4 1.4M132 209.7l1.5 2.3M209.7 209.7l.8-1.8M217.5 209.7l1.7 1M225.2 209.7l1.1 1.7M233 209.7l1.6 1.7M240.8 209.7l2.1 1.6M248.5 209.7l2.1 1.8M341.7 209.7l1-1.7M349.5 209.7l1.1-1.7M357.3 209.7l.9-1.8M365 209.7l.5-1.9M372.8 209.7l.1-2M108.7 217.9l-1.8 1M116.5 217.9l-2.1-.8M124.3 217.9l-1.8-.8M132 217.9l-.9 2M147.6 217.9l.1 2M155.3 217.9l2-.3M194.2 217.9l1.8-1.3M201.9 217.9l.7-1.9M209.7 217.9l-.4-2M225.2 217.9l.7 1.9M233 217.9l1.3 1.5M240.8 217.9l1.4 1.5M248.5 217.9l1.2 2.3M349.5 217.9l.5-1.9M357.3 217.9l.4-1.9M365 217.9l.2-2M372.8 217.9l-.2-2M380.6 217.9l-.7-2.4M23.3 226.1l1.9-1.2M31.1 226.1l2-.4M38.8 226.1l2.1-.4M46.6 226.1l2.2-.4M54.4 226.1l2.4-.7M62.1 226.1l2.3-.2M69.9 226.1l2.2 1.4M170.9 226.1l-1-1.7M178.6 226.1l-.5-1.9M194.2 226.1l-1.9-.6M201.9 226.1l-1.8-.8M209.7 226.1l-1.8-.9M217.5 226.1l-1.8-.9M233 226.1l1.7 1M240.8 226.1l1.3 1.5M380.6 226.1l-.7-1.9M23.3 234.2l-2.5-1M31.1 234.2l-2.3-.6M38.8 234.2l-1.9-.8M46.6 234.2l-1.8-1M54.4 234.2l-1.8-.8M62.1 234.2l-2 .3M69.9 234.2l-2.4 1.3M178.6 234.2l-1.9-.8M186.4 234.2l-2.1 .5M194.2 234.2l-2.7 .4M217.5 234.2l-1.8-1.4M225.2 234.2l-1.2-1.6M233 234.2l.3-2M240.8 234.2l1.2 1.6M380.6 234.2l-.8-1.8M450.5 234.2l-2.4-1.3M458.2 234.2l-2 .1M466 234.2l-1.6-1.2M178.6 242.4l-1.9-.7M225.2 242.4l-1.4-1.9M233 242.4l-1.3-1.5M248.5 242.4l.9 2.2M380.6 242.4l-.6-1.9M450.5 242.4l-.4-2.3M458.2 242.4l.7-1.9M466 242.4l1.3-1.5M178.6 250.6l-1.1-1.7M225.2 250.6l-1.8-2.1M233 250.6l-2.1-1.3M240.8 250.6l-1.8-1M248.5 250.6l-1.4 1.4M318.4 250.6l1.4-2M380.6 250.6l-.1-2M458.2 250.6l.8-1.8M466 250.6l1.4-1.4M178.6 258.7l.7-1.9M248.5 258.7l-2.2 0M256.3 258.7l-.8 2.1M388.3 258.7l.4-2.6M458.2 258.7l0-2.2M466 258.7l.9-1.8M178.6 266.9l.9-1.8M233 266.9l-2.2-1.7M240.8 266.9l-1.9-1.7M248.5 266.9l-1.9-.7M256.3 266.9l-1.8 .9M264.1 266.9l.4 2M271.8 266.9l1.4 2.1M318.4 266.9l1.1-1.7M388.3 266.9l.5-2.2M458.2 266.9l-.2-2.8M466 266.9l.3-2M178.6 275l1.9 .6M209.7 275l-2-.6M240.8 275l-.9-2.1M248.5 275l-1-1.7M256.3 275l-1.3-1.5M264.1 275l.4 2M271.8 275l.9 1.8M279.6 275l1.3 1.7M287.4 275l1.7 1.4M295.1 275l2.1 .4M302.9 275l2.1-1.3M318.4 275l.9-1.8M388.3 275l.3-2M466 275l-.2-2.3M124.3 283.1l-1.9 .7M178.6 283.1l-.5 1.9M240.8 283.1l0-2.7M248.5 283.1l.5-1.9M256.3 283.1l.9-1.8M264.1 283.1l.7 1.9M271.8 283.1l.7 1.9M279.6 283.1l1 1.7M287.4 283.1l1.5 1.4M295.1 283.1l2 .4M302.9 283.1l1.5-1.6M310.7 283.1l1-1.7M318.4 283.1l.7-1.9M388.3 283.1l-.2-2M466 283.1l-.7-2.5M23.3 291.2l-2.4 .7M31.1 291.2l-2.6-.6M124.3 291.2l1.6 1.2M248.5 291.2l-.9-1.8M256.3 291.2l-1.6-1.2M264.1 291.2l-1.3 1.6M271.8 291.2l.3 2M279.6 291.2l1 1.7M287.4 291.2l1.7 1.1M295.1 291.2l2-.2M302.9 291.2l1.5-1.3M310.7 291.2l1-1.7M318.4 291.2l.7-1.9M380.6 291.2l-.3-2M15.5 299.3l-2.7 .7M23.3 299.3l-2.5 .5M31.1 299.3l-2.6-.1M124.3 299.3l2 .2M209.7 299.3l1.4 1.4M248.5 299.3l-1.8-1.8M256.3 299.3l-1.7-1M264.1 299.3l-2-.4M271.8 299.3l-1.5 1.3M279.6 299.3l1.3 1.5M287.4 299.3l2 .1M295.1 299.3l1.8-.8M302.9 299.3l1.5-1.5M388.3 299.3l-.6-2.6" fill="none" stroke-width="1.2"/>
<path d="M372.8 51.2h.1M217.5 217.9h.1M186.4 226.1h.1M225.2 226.1h.1M240.8 242.4h.1" fill="none" stroke-width="1.2" stroke-linecap="square"/>
</g>
<path d="M350.5 153h19M360 143.3v19.5" stroke="#f00" stroke-width="1.1" fill="none"/>
<path d="M343 189L359 189M345.6 183.6L356.4 194.4M351 181L351 197M356.4 183.6L345.6 194.4" stroke="#f00" stroke-width="1.05" fill="none"/>
<path d="M0 34h5M466 34h-5M0 102h5M466 102h-5M0 168h5M466 168h-5M0 234h5M466 234h-5M155 0v5M155 299.3v-5M311 0v5M311 299.3v-5" stroke="#222" stroke-width="1" fill="none"/>
<rect x="0" y="0" width="466" height="299.3" fill="none" stroke="#666" stroke-width="1.5"/>
<text x="3.2" y="16.8" font-size="22.5">(b)</text>
<text x="31" y="34" font-size="22.5">Day316</text>
<text x="31.6" y="55" font-size="22.5" style="fill:#f00">100 cm/s</text>
<path d="M37 61h27.5" stroke="#f00" stroke-width="1.5"/>
</g>
<g transform="translate(95.5,351.5)">
<clipPath id="mc"><path d="M0.0,246.0 20.0,222.0 44.0,189.0 68.0,173.0 80.0,172.0 96.0,177.0 104.0,165.0 120.0,157.0 140.0,151.0 160.0,133.0 160.0,123.0 170.0,115.0 183.0,107.0 192.0,114.0 210.0,113.0 216.0,107.0 236.0,106.0 250.0,102.0 276.0,94.0 290.0,80.0 306.0,66.0 314.0,66.0 336.0,101.0 338.0,85.0 343.0,75.0 352.0,61.0 358.0,40.0 366.0,20.0 372.0,5.0 466.0,5.0 466.0,295.6 0.0,295.6Z"/></clipPath>
<clipPath id="fc"><rect x="0" y="0" width="466" height="299.3"/></clipPath>
<rect x="0" y="0" width="466" height="299.3" fill="#fff"/>
<g clip-path="url(#mc)" stroke-width=".6">
<path fill="#0000bf" stroke="#0000bf" d="M201.9 0l7.8 0l7.8 0l7.7 0l7.8 0l7.8 0l7.7 0l7.8 0l7.8 0l7.7 0l7.5 0l-6.2 8.6l-1.3 1.1l-7.7 6.8l-0.9 0.6l-6.9 4.3l-7.8 4.1l-0.6 0.2l-7.1 1.7l-7.8 0.2l-7.8-1.6l-0.7-0.3l-7-3.8l-6.2-4.8l-1.6-1.5l-5.7-7l-2.1-3.3l-2.9-5.3z"/>
<path fill="#0000df" stroke="#0000df" d="M178.6 0l7.8 0l7.8 0l4.8 0l2.9 5.3l2.1 3.3l5.7 7l1.6 1.5l6.2 4.8l7 3.8l0.7 0.3l7.8 1.6l7.8-0.2l7.1-1.7l0.6-0.2l7.8-4.1l6.9-4.3l0.9-0.6l7.7-6.8l1.3-1.1l6.2-8.6l0.3 0l7.8 0l7.7 0l7.8 0l7.8 0l3.1 0l-0.9 8.6l-2.2 2.6l-7.7 5.9l-0.1 0.1l-7.8 3.2l-7.7 4l-2 1.3l-5.8 2.9l-7.8 4.8l-1.1 0.8l-6.6 4l-7.6 4.5l-0.2 0.1l-7.8 3.1l-7.7 1.7l-7.8 0.3l-7.8-1l-7.7-2.1l-5.4-2.1l-2.4-1.2l-7.8-5l-2.9-2.3l-4.8-4.6l-3.7-3.9l-4.1-5.3l-2.4-3.3l-5.4-8.5l-4.4-8.6zM349.5 35.9l7.8-0.6l7.7 2.7l7 4.7l0.8 0.6l4.2 7.9l0.6 8.5l-4.1 8.4l-0.7 0.6l-3-0.6l-4.8-1.1l-7.7-5.8l-1.8-1.5l-6-8.3l-0.2-0.2l-2.8-8.5z"/>
<path fill="#0005fa" stroke="#0005fa" d="M155.3 0l7.8 0l7.8 0l3.3 0l4.4 8.6l5.4 8.5l2.4 3.3l4.1 5.3l3.7 3.9l4.8 4.6l2.9 2.3l7.8 5l2.4 1.2l5.4 2.1l7.7 2.1l7.8 1l7.8-0.3l7.7-1.7l7.8-3.1l0.2-0.1l7.6-4.5l6.6-4l1.1-0.8l7.8-4.8l5.8-2.9l2-1.3l7.7-4l7.8-3.2l0.1-0.1l7.7-5.9l2.2-2.6l0.9-8.6l4.6 0l7.8 0l7.8 0l4.2 0l3.5 5.2l2.3 3.4l5.5 6.2l1.9 2.3l5.9 5l3.5 3.6l4.2 2.8l6.5 5.7l1.3 1l5.5 7.5l2.3 4.3l1.3 4.2l0.8 8.5l-0.7 8.4l-1.4 4.6l-7.2 3.9l-0.6 0.1l-0.4-0.1l-7.4-2.9l-7.7-4.7l-1.4-0.9l-6.4-5.7l-3.4-2.7l-4.4-5.2l-3.6-3.3l-4.1-5l-4.5-3.5l-3.3-3.1l-7.8-3.7l-7.7-1.4l-7.8 0l-7.8 1.3l-7.7 2.7l-7.8 4.1l-0.2 0.1l-7.6 4.5l-5.7 4l-2 1.3l-7.8 4.4l-7.2 2.8l-0.6 0.1l-7.7 1.1l-7.8 0.1l-7.8-0.5l-5.2-0.8l-2.5-0.5l-7.8-2.3l-7.8-3.2l-4.8-2.5l-2.9-1.9l-7.8-6l-0.7-0.6l-7.1-7.3l-1.1-1.2l-6.6-8.4l-0.1-0.1l-5.9-8.6l-1.8-2.9l-3.5-5.6l-4.3-7.7l-0.5-0.9zM346.5 42.7l2.8 8.5l0.2 0.2l6 8.3l1.8 1.5l7.7 5.8l4.8 1.1l3 0.6l0.7-0.6l4.1-8.4l-0.6-8.5l-4.2-7.9l-0.8-0.6l-7-4.7l-7.7-2.7l-7.8 0.6z"/>
<path fill="#0023fe" stroke="#0023fe" d="M139.8 0l7.8 0l7.2 0l0.5 0.9l4.3 7.7l3.5 5.6l1.8 2.9l5.9 8.6l0.1 0.1l6.6 8.4l1.1 1.2l7.1 7.3l0.7 0.6l7.8 6l2.9 1.9l4.8 2.5l7.8 3.2l7.8 2.3l2.5 0.5l5.2 0.8l7.8 0.5l7.8-0.1l7.7-1.1l0.6-0.1l7.2-2.8l7.8-4.4l2-1.3l5.7-4l7.6-4.5l0.2-0.1l7.8-4.1l7.7-2.7l7.8-1.3l7.8 0l7.7 1.4l7.8 3.7l3.3 3.1l4.5 3.5l4.1 5l3.6 3.3l4.4 5.2l3.4 2.7l6.4 5.7l1.4 0.9l7.7 4.7l7.4 2.9l0.4 0.1l0.6-0.1l7.2-3.9l1.4-4.6l0.7-8.4l-0.8-8.5l-1.3-4.2l-2.3-4.3l-5.5-7.5l-1.3-1l-6.5-5.7l-4.2-2.8l-3.5-3.6l-5.9-5l-1.9-2.3l-5.5-6.2l-2.3-3.4l-3.5-5.2l3.5 0l7.8 0l3.8 0l4 6.2l1.3 2.4l6.1 8.5l0.3 0.4l6.6 8.2l1.2 1l5.5 7.5l2.3 3.2l2.3 5.3l2.5 8.5l1 8.5l-0.2 8.4l-2.1 8.5l-3.5 4.3l-7.8 1l-7.8-2.7l-4.7-2.6l-3-2l-7.8-5.2l-2-1.3l-5.8-4.8l-4.8-3.6l-2.9-2.8l-7.8-5.5l-0.5-0.2l-7.3-4.1l-7.7-2.1l-7.8-0.4l-7.8 1.1l-7.7 2.8l-4.8 2.7l-3 1.6l-7.8 5.5l-1.8 1.4l-5.9 4.3l-7.7 4.1l-0.1 0l-7.8 1.8l-7.7 0.6l-7.8 0.1l-7.8-0.3l-7.7-0.7l-7.8-1.1l-1.6-0.4l-6.2-1.7l-7.7-3l-7.1-3.7l-0.7-0.5l-7.8-5.9l-2.3-2.1l-5.4-5.4l-3-3.1l-4.8-5.6l-2.4-2.9l-5.4-7.1l-1.1-1.4l-6-8.6l-0.6-1l-5-7.5l-2.8-4.6l-2.5-4zM287.4 211.5l7.7-0.1l6.4 6.5l0.6 8.2l-7 5.6l-7.7-1.7l-3.2-3.9l-0.8-8.2z"/>
<path fill="#0041fe" stroke="#0041fe" d="M124.3 0l7.7 0l5.3 0l2.5 4l2.8 4.6l5 7.5l0.6 1l6 8.6l1.1 1.4l5.4 7.1l2.4 2.9l4.8 5.6l3 3.1l5.4 5.4l2.3 2.1l7.8 5.9l0.7 0.5l7.1 3.7l7.7 3l6.2 1.7l1.6 0.4l7.8 1.1l7.7 0.7l7.8 0.3l7.8-0.1l7.7-0.6l7.8-1.8l0.1 0l7.7-4.1l5.9-4.3l1.8-1.4l7.8-5.5l3-1.6l4.8-2.7l7.7-2.8l7.8-1.1l7.8 0.4l7.7 2.1l7.3 4.1l0.5 0.2l7.8 5.5l2.9 2.8l4.8 3.6l5.8 4.8l2 1.3l7.8 5.2l3 2l4.7 2.6l7.8 2.7l7.8-1l3.5-4.3l2.1-8.5l0.2-8.4l-1-8.5l-2.5-8.5l-2.3-5.3l-2.3-3.2l-5.5-7.5l-1.2-1l-6.6-8.2l-0.3-0.4l-6.1-8.5l-1.3-2.4l-4-6.2l4 0l7 0l0.7 1.2l3.7 7.4l4.1 6.9l0.8 1.6l5.2 8.6l1.8 2.4l2.8 6.1l3.3 8.5l1.6 6.2l0.5 2.3l0.8 8.5l0.1 8.4l-0.9 8.5l-0.5 1.2l-5.8 7.2l-1.9 1.2l-7.8 0.3l-5.1-1.5l-2.7-1l-7.7-4.4l-5.3-3l-2.5-1.7l-7.8-4.9l-2.9-1.9l-4.8-3.6l-7.4-4.8l-0.4-0.3l-7.8-4.2l-7.7-2.3l-7.8-0.5l-7.8 1.2l-7.7 3l-4.9 3.1l-2.9 1.9l-7.8 6.4l-0.1 0.1l-7.6 5.5l-6.9 3l-0.9 0.2l-7.8 1l-7.7 0.3l-7.8 0.2l-7.8 0l-7.7-0.2l-7.8-0.5l-7.8-0.9l-0.9-0.1l-6.8-1.7l-7.8-3l-6.9-3.8l-0.9-0.6l-7.7-6l-2.1-1.8l-5.7-5.5l-2.9-3l-4.9-5.4l-2.8-3.1l-4.9-6l-2.2-2.5l-5.6-7.2l-1.1-1.3l-6.4-8.6l-0.3-0.3l-5.9-8.2l-1.8-2.7l-4.2-5.9zM279.6 209.3l7.8-5l7.7 0.8l7.5 4.6l0.3 0.3l4.2 7.9l0.8 8.2l-3.8 8.1l-1.2 1l-7.8 2.4l-7.7-1.4l-2.7-2l-5.1-6.8l-0.6-1.3l-1.1-8.2l1.5-8.2zM283.4 217.9l0.8 8.2l3.2 3.9l7.7 1.7l7-5.6l-0.6-8.2l-6.4-6.5l-7.7 0.1z"/>
<path fill="#005ffc" stroke="#005ffc" d="M108.7 0l7.8 0l3.6 0l4.2 5.9l1.8 2.7l5.9 8.2l0.3 0.3l6.4 8.6l1.1 1.3l5.6 7.2l2.2 2.5l4.9 6l2.8 3.1l4.9 5.4l2.9 3l5.7 5.5l2.1 1.8l7.7 6l0.9 0.6l6.9 3.8l7.8 3l6.8 1.7l0.9 0.1l7.8 0.9l7.8 0.5l7.7 0.2l7.8 0l7.8-0.2l7.7-0.3l7.8-1l0.9-0.2l6.9-3l7.6-5.5l0.1-0.1l7.8-6.4l2.9-1.9l4.9-3.1l7.7-3l7.8-1.2l7.8 0.5l7.7 2.3l7.8 4.2l0.4 0.3l7.4 4.8l4.8 3.6l2.9 1.9l7.8 4.9l2.5 1.7l5.3 3l7.7 4.4l2.7 1l5.1 1.5l7.8-0.3l1.9-1.2l5.8-7.2l0.5-1.2l0.9-8.5l-0.1-8.4l-0.8-8.5l-0.5-2.3l-1.6-6.2l-3.3-8.5l-2.8-6.1l-1.8-2.4l-5.2-8.6l-0.8-1.6l-4.1-6.9l-3.7-7.4l-0.7-1.2l0.7 0l7.8 0l0.6 0l3.5 8.6l3.7 7.8l0.3 0.7l3.6 8.6l3.4 8.5l0.4 1.2l1.9 7.3l1.5 8.5l0.7 8.5l0 8.4l-0.9 8.5l-3 8.4l-0.2 0.2l-7.7 4.6l-7.8 0.6l-7.8-2.1l-6.4-3.3l-1.3-0.8l-7.8-4.3l-6.6-3.3l-1.2-0.8l-7.7-4.7l-4.7-3l-3.1-2l-7.8-4.1l-7.6-2.3l-0.1-0.1l-7.8-0.7l-3.9 0.8l-3.9 0.6l-7.7 3.4l-6.1 4.4l-1.7 1.3l-7.8 7.2l-7.7 5l-7.8 1.9l-7.8 0.6l-7.7 0.3l-7.8 0.4l-3.4 0.2l-4.4 0.2l-7.7 0.2l-7.8 0.2l-7.8-0.2l-5.7-0.4l-2-0.2l-7.8-1.8l-7.8-3.3l-5.1-3.1l-2.6-1.8l-7.8-6.4l-0.4-0.3l-7.4-7l-1.4-1.4l-6.3-6.6l-1.9-1.9l-5.9-6.6l-1.8-1.9l-6-6.9l-1.4-1.6l-6.3-7.5l-1-1l-6.8-8.2l-0.3-0.4l-7-8.5l-0.5-0.6l-6.4-8zM147.6 180.1l7.7 2.4l1.6 2.5l-1.6 3.8l-7.7 2.1l-3.6-5.9zM279.6 200l7.8-1.5l7.7 1.2l3.4 1.7l4.4 2.7l5.1 5.6l2.7 5.2l1 3l1.1 8.2l-1.4 8.1l-0.7 1.3l-7.8 6.1l-5 0.8l-2.8 0.4l-2.3-0.4l-5.4-0.9l-7.8-5.3l-1.4-2l-3.3-8.1l-1.5-8.2l-0.1-8.2l4.1-8.3zM279.4 209.7l-1.5 8.2l1.1 8.2l0.6 1.3l5.1 6.8l2.7 2l7.7 1.4l7.8-2.4l1.2-1l3.8-8.1l-0.8-8.2l-4.2-7.9l-0.3-0.3l-7.5-4.6l-7.7-0.8l-7.8 5zM54.4 289.9l7.7-0.9l5.1 2.2l2.7 2.3l4.2 5.8l-4.2 0l-7.8 0l-7.7 0l-7.8 0l-3.2 0l3.2-3.4l5.4-4.7z"/>
<path fill="#0080fe" stroke="#0080fe" d="M85.4 0l7.8 0l7.8 0l1.3 0l6.4 8l0.5 0.6l7 8.5l0.3 0.4l6.8 8.2l1 1l6.3 7.5l1.4 1.6l6 6.9l1.8 1.9l5.9 6.6l1.9 1.9l6.3 6.6l1.4 1.4l7.4 7l0.4 0.3l7.8 6.4l2.6 1.8l5.1 3.1l7.8 3.3l7.8 1.8l2 0.2l5.7 0.4l7.8 0.2l7.8-0.2l7.7-0.2l4.4-0.2l3.4-0.2l7.8-0.4l7.7-0.3l7.8-0.6l7.8-1.9l7.7-5l7.8-7.2l1.7-1.3l6.1-4.4l7.7-3.4l3.9-0.6l3.9-0.8l7.8 0.7l0.1 0.1l7.6 2.3l7.8 4.1l3.1 2l4.7 3l7.7 4.7l1.2 0.8l6.6 3.3l7.8 4.3l1.3 0.8l6.4 3.3l7.8 2.1l7.8-0.6l7.7-4.6l0.2-0.2l3-8.4l0.9-8.5l0-8.4l-0.7-8.5l-1.5-8.5l-1.9-7.3l-0.4-1.2l-3.4-8.5l-3.6-8.6l-0.3-0.7l-3.7-7.8l-3.5-8.6l7.2 0l0.8 0l2.7 8.6l2.9 8.5l1.3 3.9l1.3 4.7l2.2 8.5l1.6 8.5l1.1 8.5l0.7 8.5l0 8.4l-1 8.5l-2.9 8.4l-3 4.1l-7.5 4.3l-0.2 0.1l-7.8 0.6l-3.8-0.7l-4-0.9l-7.7-3.5l-7.3-4l-0.5-0.3l-7.8-3.2l-7.7-4.2l-1.2-0.7l-6.6-4.2l-7.8-4.2l-0.1-0.1l-7.6-2.8l-7.8-0.7l-7.8 1.5l-3.9 2l-3.8 2l-7.7 6.5l-0.1 0.1l-7.8 7.2l-1.6 1.1l-6.1 2.8l-7.8 0.9l-7.8 0.3l-7.7 0.5l-7.8 0.7l-7.8 0.9l-7.7 0.7l-7.8 0.7l-7.8 0.7l-4.9 0.2l-2.8 0.1l-2.5-0.1l-5.3-0.4l-7.8-2.2l-7.7-4.1l-2.4-1.7l-5.4-4l-5.2-4.4l-2.6-2.3l-6.7-6.2l-1-1l-7.6-7.4l-0.2-0.2l-7.8-7.9l-0.4-0.4l-7.3-7.6l-0.9-0.9l-6.9-7.2l-1.3-1.3l-6.5-6.9l-1.6-1.6l-6.1-6.6l-1.9-2l-5.9-6.3l-2.2-2.2l-5.6-6.1l-2.4-2.5zM147.6 174.8l7.7 1.2l0.9 0.7l4.8 8.3l-2.4 8.2l-3.3 2.5l-7.7 0.2l-4-2.7l-3.8-7.2l-0.4-1l0.4-1.2l4.5-7.1zM144 185l3.6 5.9l7.7-2.1l1.6-3.8l-1.6-2.5l-7.7-2.4zM271.8 197.2l7.8-3.6l7.8-0.3l7.7 1.6l7.8 3.8l3 2.7l4.8 5.3l1.8 3l3 8.2l1.8 8.2l-0.1 8.1l-4 8.2l-2.5 2.3l-7.8 2.7l-7.8 0.3l-7.7-0.7l-7.8-3.4l-1.2-1.2l-5.3-8.2l-1.3-4.1l-1-4l-1.8-8.2l-1.2-8.2l0.8-8.3zM277.4 201.4l-4.1 8.3l0.1 8.2l1.5 8.2l3.3 8.1l1.4 2l7.8 5.3l5.4 0.9l2.3 0.4l2.8-0.4l5-0.8l7.8-6.1l0.7-1.3l1.4-8.1l-1.1-8.2l-1-3l-2.7-5.2l-5.1-5.6l-4.4-2.7l-3.4-1.7l-7.7-1.2l-7.8 1.5zM46.6 282.5l7.8-2.6l7.7-0.4l7.8 1.7l3.8 1.9l4 3.1l4.5 5l3.2 5.6l1.2 2.5l-1.2 0l-7.7 0l-3.6 0l-4.2-5.8l-2.7-2.3l-5.1-2.2l-7.7 0.9l-2.4 1.3l-5.4 4.7l-3.2 3.4l-4.6 0l-7.7 0l-3.8 0l3.8-3l4.9-5.1l2.8-2.8l6.7-5.3z"/>
<path fill="#00a1ff" stroke="#00a1ff" d="M62.1 0l7.8 0l7.8 0l5.3 0l2.4 2.5l5.6 6.1l2.2 2.2l5.9 6.3l1.9 2l6.1 6.6l1.6 1.6l6.5 6.9l1.3 1.3l6.9 7.2l0.9 0.9l7.3 7.6l0.4 0.4l7.8 7.9l0.2 0.2l7.6 7.4l1 1l6.7 6.2l2.6 2.3l5.2 4.4l5.4 4l2.4 1.7l7.7 4.1l7.8 2.2l5.3 0.4l2.5 0.1l2.8-0.1l4.9-0.2l7.8-0.7l7.8-0.7l7.7-0.7l7.8-0.9l7.8-0.7l7.7-0.5l7.8-0.3l7.8-0.9l6.1-2.8l1.6-1.1l7.8-7.2l0.1-0.1l7.7-6.5l3.8-2l3.9-2l7.8-1.5l7.8 0.7l7.6 2.8l0.1 0.1l7.8 4.2l6.6 4.2l1.2 0.7l7.7 4.2l7.8 3.2l0.5 0.3l7.3 4l7.7 3.5l4 0.9l3.8 0.7l7.8-0.6l0.2-0.1l7.5-4.3l3-4.1l2.9-8.4l1-8.5l0-8.4l-0.7-8.5l-1.1-8.5l-1.6-8.5l-2.2-8.5l-1.3-4.7l-1.3-3.9l-2.9-8.5l-2.7-8.6l6.9 0l0.4 0l2.1 8.6l1.8 8.5l1.7 8.6l1.3 8.5l0.5 3.8l0.5 4.7l0.7 8.5l0.5 8.5l-0.2 8.4l-0.8 8.5l-0.7 2.5l-2 5.9l-5.8 8l-0.6 0.4l-7.1 2.9l-7.8 1.1l-7.8-1l-7.7-2.6l-1-0.4l-6.8-2.9l-7.8-2.5l-5.4-3l-2.3-1.1l-7.8-5.2l-3.4-2.1l-4.4-2.6l-7.7-3.1l-7.8-1l-7.8 1.6l-7.7 4.6l-0.5 0.5l-7.3 6.4l-2.1 2l-5.7 4.7l-7.7 3.4l-5.2 0.3l-2.6 0.1l-7.8 0.1l-7.7 0.6l-7.8 1.1l-7.8 1.2l-7.7 1.1l-7.8 1.2l-7.8 1.3l-7.7 1.4l-3 0.3l-4.8 0.5l-4.3-0.5l-3.5-0.5l-7.7-3.6l-6.5-4.3l-1.3-1l-7.8-6.2l-1.5-1.2l-6.2-5.5l-3.4-2.9l-4.4-4.1l-4.8-4.4l-3-2.8l-6.2-5.6l-1.5-1.6l-7.5-6.9l-0.3-0.3l-7.8-7.2l-1.1-1l-6.6-6.3l-2.6-2.2l-5.2-4.9l-4.1-3.6l-3.7-3.6l-5.6-5l-2.1-2l-7.3-6.5l-0.5-0.5l-7.8-7l-1.3-1.1zM139.8 174.9l7.8-4.1l7.7 1l5.9 4.9l1.9 3.5l1.8 4.8l-0.9 8.2l-0.9 1.5l-7.8 5.2l-7.7-0.3l-7.8-4.9l-1.3-1.5l-2.6-8.2l2.4-8.3zM144.3 176.7l-4.5 7.1l-0.4 1.2l0.4 1l3.8 7.2l4 2.7l7.7-0.2l3.3-2.5l2.4-8.2l-4.8-8.3l-0.9-0.7l-7.7-1.2zM271.8 189.5l7.8-1l7.8 0.3l7.7 1.4l6.7 3l1.1 0.5l7.8 7l0.4 0.7l5 8.3l2.3 6l0.9 2.2l2.4 8.2l1 8.1l-1.5 8.2l-2.8 4.5l-4.4 3.7l-3.3 1.8l-7.8 1.3l-7.8-0.2l-7.7-0.4l-7.8-1.9l-1.2-0.6l-6.6-5.7l-1.4-2.5l-2.6-8.2l-1.2-8.1l-2-8.2l-0.5-2.3l-2-5.9l-0.8-8.3l2.8-8.1l0-0.1zM268.6 201.4l-0.8 8.3l1.2 8.2l1.8 8.2l1 4l1.3 4.1l5.3 8.2l1.2 1.2l7.8 3.4l7.7 0.7l7.8-0.3l7.8-2.7l2.5-2.3l4-8.2l0.1-8.1l-1.8-8.2l-3-8.2l-1.8-3l-4.8-5.3l-3-2.7l-7.8-3.8l-7.7-1.6l-7.8 0.3l-7.8 3.6zM46.6 274l7.8-1.3l7.7-0.3l7.8 0.8l6.4 1.8l1.4 0.5l7.7 5.7l1.7 1.9l5.6 8.1l0.5 1.2l2.9 6.9l-2.9 0l-6.6 0l-1.2-2.5l-3.2-5.6l-4.5-5l-4-3.1l-3.8-1.9l-7.8-1.7l-7.7 0.4l-7.8 2.6l-1.1 0.6l-6.7 5.3l-2.8 2.8l-4.9 5.1l-3.8 3l-4 0l-7.8 0l-7.7 0l-7.8 0l0-3.8l7.8-0.3l7.7-1.4l5.4-2.6l2.4-1.2l7.6-6.9l0.2-0.2l7.7-6l4.3-1.9zM209.7 270.7l7.8-1.4l5.3 5.7l0.1 8.1l-5 8.1l-0.4 0.4l-2.7-0.4l-5.1-0.7l-3.9-7.4l1.1-8.1z"/>
<path fill="#00c3ff" stroke="#00c3ff" d="M38.8 0l7.8 0l7.8 0l6.4 0l1.3 1.1l7.8 7l0.5 0.5l7.3 6.5l2.1 2l5.6 5l3.7 3.6l4.1 3.6l5.2 4.9l2.6 2.2l6.6 6.3l1.1 1l7.8 7.2l0.3 0.3l7.5 6.9l1.5 1.6l6.2 5.6l3 2.8l4.8 4.4l4.4 4.1l3.4 2.9l6.2 5.5l1.5 1.2l7.8 6.2l1.3 1l6.5 4.3l7.7 3.6l3.5 0.5l4.3 0.5l4.8-0.5l3-0.3l7.7-1.4l7.8-1.3l7.8-1.2l7.7-1.1l7.8-1.2l7.8-1.1l7.7-0.6l7.8-0.1l2.6-0.1l5.2-0.3l7.7-3.4l5.7-4.7l2.1-2l7.3-6.4l0.5-0.5l7.7-4.6l7.8-1.6l7.8 1l7.7 3.1l4.4 2.6l3.4 2.1l7.8 5.2l2.3 1.1l5.4 3l7.8 2.5l6.8 2.9l1 0.4l7.7 2.6l7.8 1l7.8-1.1l7.1-2.9l0.6-0.4l5.8-8l2-5.9l0.7-2.5l0.8-8.5l0.2-8.4l-0.5-8.5l-0.7-8.5l-0.5-4.7l-0.5-3.8l-1.3-8.5l-1.7-8.6l-1.8-8.5l-2.1-8.6l7.2 0l0.2 1.2l1.2 7.4l1 8.5l0.7 8.6l0.4 8.5l0.4 8.5l0.3 8.5l0.2 8.5l-0.3 8.4l-1.1 8.5l-2.2 8.4l-0.6 1.3l-4.9 7.1l-2.9 2.2l-7.7 3.5l-7.8 1.6l-7.8-0.4l-7.7-1.5l-7.8-1.4l-7.8-0.3l-5.1-3.7l-2.6-1.3l-7.8-6.7l-0.5-0.4l-7.3-5l-7-3.4l-0.7-0.4l-7.8-1.3l-7.2 1.7l-0.6 0.1l-7.7 5l-3.7 3.3l-4.1 3.3l-5.9 5.1l-1.9 1l-7.7 2.1l-7.8 0.4l-7.8 0.4l-7.7 1l-7.8 1.7l-7.8 1.8l-7.7 1.4l-7.8 1.5l-7.8 1.9l-7.7 2.2l-5.2 1.4l-2.6 0.6l-7.8 0.2l-2.2-0.8l-5.5-2.4l-7.8-4.9l-1.7-1.1l-6.1-4.6l-4.8-3.8l-2.9-2.5l-7.2-5.9l-0.6-0.5l-7.8-6.7l-1.5-1.2l-6.2-5.4l-3.8-3.1l-4-3.5l-6.1-4.9l-1.7-1.5l-7.7-6.4l-0.8-0.6l-7-5.8l-3.6-2.7l-4.2-3.5l-6.5-5l-1.2-1l-7.8-6.1l-2-1.4l-5.8-4.5l-5.6-4.1l-2.1-1.7l-7.8-5.6l-1.7-1.2l-6.1-4.4l-6-4.2zM147.6 166.8l7.7 0.8l1.4 0.8l6.4 4.8l2.5 3.5l2.9 8.3l0 8.2l-5.2 8.2l-0.2 0.2l-7.8 2.5l-7.7-0.6l-4.3-2.1l-3.5-2l-5.2-6.2l-2.3-8.2l1.7-8.3l5.8-6.9l3.1-1.4zM138.3 176.7l-2.4 8.3l2.6 8.2l1.3 1.5l7.8 4.9l7.7 0.3l7.8-5.2l0.9-1.5l0.9-8.2l-1.8-4.8l-1.9-3.5l-5.9-4.9l-7.7-1l-7.8 4.1zM264.1 184.2l7.7-0.6l7.8 0.2l7.8 0.5l4.1 0.7l3.6 0.6l7.8 2.9l5.7 4.7l2.1 1.9l4 6.3l3.7 6.2l1 2.1l3.5 8.2l3.2 8.2l0.1 0.5l2.3 7.6l0.2 8.2l-2.5 8.1l0 0.1l-7.8 8.1l-0.1 0l-7.6 2.9l-7.8 0.3l-7.8-0.8l-7.7 0.4l-7.8 0.3l-7.8-0.9l-4-2.2l-3.7-5.1l-0.9-3l-1.1-8.2l-0.2-8.2l-0.4-8.1l-2.8-8.2l-2.4-7.2l-0.4-1l-1.8-8.3l0.3-8.2l1.9-4.5l4.7-3.7zM264.1 193.2l0 0.1l-2.8 8.1l0.8 8.3l2 5.9l0.5 2.3l2 8.2l1.2 8.1l2.6 8.2l1.4 2.5l6.6 5.7l1.2 0.6l7.8 1.9l7.7 0.4l7.8 0.2l7.8-1.3l3.3-1.8l4.4-3.7l2.8-4.5l1.5-8.2l-1-8.1l-2.4-8.2l-0.9-2.2l-2.3-6l-5-8.3l-0.4-0.7l-7.8-7l-1.1-0.5l-6.7-3l-7.7-1.4l-7.8-0.3l-7.8 1zM124.3 248.6l2.9 2l-2.9 4.1l-4.2-4.1zM54.4 266.5l7.7-0.4l7.8 0.1l7.2 0.7l0.6 0l7.7 2.3l6.4 5.8l1.4 1.8l3.2 6.3l4.2 8.1l0.4 0.7l4 7.4l-4 0l-4.9 0l-2.9-6.9l-0.5-1.2l-5.6-8.1l-1.7-1.9l-7.7-5.7l-1.4-0.5l-6.4-1.8l-7.8-0.8l-7.7 0.3l-7.8 1.3l-3.5 1l-4.3 1.9l-7.7 6l-0.2 0.2l-7.6 6.9l-2.4 1.2l-5.4 2.6l-7.7 1.4l-7.8 0.3l0-4.3l0-8.1l0-3.5l7.8 1l7.7-0.3l7.8-4.3l1.1-1l6.7-4l7.7-2.8l7.8-1.1l2.3-0.2zM209.7 260.5l7.8-1.4l7.7 3.5l5.5 4.3l2 8.1l-2 8.1l-1.9 8.1l-2.5 8.1l-1.1 0l-7.7 0l-7.8 0l-1.7 0l-5.2-8.1l-0.9-2.2l-1.5-5.9l0.5-8.1l1-3l2.9-5.1zM206.9 275l-1.1 8.1l3.9 7.4l5.1 0.7l2.7 0.4l0.4-0.4l5-8.1l-0.1-8.1l-5.3-5.7l-7.8 1.4zM256.3 290.9l0.1 0.3l-0.1 0.2l-0.3-0.2z"/>
<path fill="#00e6ff" stroke="#00e6ff" d="M7.8 0l7.7 0l7.8 0l7.8 0l1.7 0l6 4.2l6.1 4.4l1.7 1.2l7.8 5.6l2.1 1.7l5.6 4.1l5.8 4.5l2 1.4l7.8 6.1l1.2 1l6.5 5l4.2 3.5l3.6 2.7l7 5.8l0.8 0.6l7.7 6.4l1.7 1.5l6.1 4.9l4 3.5l3.8 3.1l6.2 5.4l1.5 1.2l7.8 6.7l0.6 0.5l7.2 5.9l2.9 2.5l4.8 3.8l6.1 4.6l1.7 1.1l7.8 4.9l5.5 2.4l2.2 0.8l7.8-0.2l2.6-0.6l5.2-1.4l7.7-2.2l7.8-1.9l7.8-1.5l7.7-1.4l7.8-1.8l7.8-1.7l7.7-1l7.8-0.4l7.8-0.4l7.7-2.1l1.9-1l5.9-5.1l4.1-3.3l3.7-3.3l7.7-5l0.6-0.1l7.2-1.7l7.8 1.3l0.7 0.4l7 3.4l7.3 5l0.5 0.4l7.8 6.7l2.6 1.3l5.1 3.7l7.8 0.3l7.8 1.4l7.7 1.5l7.8 0.4l7.8-1.6l7.7-3.5l2.9-2.2l4.9-7.1l0.6-1.3l2.2-8.4l1.1-8.5l0.3-8.4l-0.2-8.5l-0.3-8.5l-0.4-8.5l-0.4-8.5l-0.7-8.6l-1-8.5l-1.2-7.4l-0.2-1.2l0.2 0l7 0l0.8 7.8l0.1 0.8l0 8.5l-0.1 3.4l-0.2 5.2l-0.5 8.5l-0.3 8.5l0 8.5l-0.1 8.5l-0.5 8.4l-1.2 8.5l-2.3 8.4l-2.7 5.7l-1.9 2.7l-5.9 4.7l-7.4 3.7l-0.3 0.1l-7.8 2.1l-7.8 0.3l-7.7-0.6l-7.8 0.9l-7.8 4.1l-7.7-5.4l-0.9-1.5l-6.3-8.4l-0.6-0.5l-7.8-6.9l-1.7-1l-6-3.3l-7.8-1.7l-7.8 1.8l-4.7 3.2l-3 1.8l-7.8 6.2l-0.4 0.4l-7.4 4.3l-7.7 2.1l-7.8 0.6l-7.8 0.6l-4.3 0.8l-3.4 0.6l-7.8 2.1l-7.8 2.1l-7.7 1.8l-6.9 1.8l-0.9 0.2l-7.8 2.5l-7.7 2.8l-7.8 2.7l-1.3 0.1l-6.5 0.7l-2.2-0.7l-5.5-1.9l-7.8-4.2l-3.7-2.2l-4.1-2.9l-7.6-5.5l-0.1-0.1l-7.8-6l-3-2.3l-4.8-3.9l-5.8-4.5l-1.9-1.6l-7.8-6l-1.2-0.8l-6.6-5.1l-4.7-3.4l-3-2.3l-7.8-5.6l-0.9-0.5l-6.9-4.9l-5.4-3.6l-2.3-1.7l-7.8-5.1l-2.7-1.7l-5.1-3.4l-7.7-4.8l-0.5-0.3l-7.3-4.5l-6.9-4l-0.9-0.6l-7.7-4.4l-6.6-3.6l-1.2-0.7l-7.8-4.1l-7.3-3.7l-0.4-0.3l-7.8-3.8l0-4.5zM334 149.3l7.7-1.7l4.5 4.3l3.3 7.6l0.2 0.6l3.2 8.3l4.4 4.6l2.1 3.7l4.9 8.3l-1.6 8.2l-5.4 1.4l-3.1-1.4l-4.7-1.9l-7.8-4.1l-2.8-2.2l-4.1-8.3l-0.8-4.4l-0.8-3.9l-1.5-8.3l0.6-8.2zM139.8 164.7l7.8-2.1l7.7 0.6l7.8 4.3l0.8 0.9l5.6 8.3l1.4 4l1.4 4.3l1 8.2l-2.2 8.2l-0.2 0.3l-7.8 5.8l-7.8 0.8l-7.7-0.9l-7.8-3.2l-3-2.8l-4.8-5.9l-1.4-2.3l-2-8.2l1.2-8.3l2.2-4.3l3.1-4zM142.9 168.4l-3.1 1.4l-5.8 6.9l-1.7 8.3l2.3 8.2l5.2 6.2l3.5 2l4.3 2.1l7.7 0.6l7.8-2.5l0.2-0.2l5.2-8.2l0-8.2l-2.9-8.3l-2.5-3.5l-6.4-4.8l-1.4-0.8l-7.7-0.8zM248.5 184.3l7.8-5.7l7.8-0.5l7.7 0.6l7.8 0.7l7.8 0.7l7.7 1l7.8 2l3.6 1.9l4.2 2.9l3.1 5.3l4.4 8.2l0.2 0.4l3.9 7.9l3.9 7.8l0.4 0.4l5 8.2l2.4 6.1l1.1 2l1.8 8.2l-0.5 8.2l-2.4 8l-0.1 0.1l-5.6 8.2l-2.1 2.4l-7.8 4.7l-4.4 1l-3.3 1l-7.8 0.4l-7.8 0.2l-7.7 2.7l-3.2 3.8l-1.1 8.1l-0.2 8.1l-3.3 0l-7.8 0l-7.7 0l-7.8 0l-7.8 0l-7.7 0l-7.8 0l-6.7 0l2.5-8.1l1.9-8.1l2-8.1l-2-8.1l-5.5-4.3l-7.7-3.5l-7.8 1.4l-4.9 6.4l-2.9 5.1l-1 3l-0.5 8.1l1.5 5.9l0.9 2.2l5.2 8.1l-6.1 0l-3.4 0l-1.6-8.1l-1.3-8.1l0.4-8.1l2.3-8.1l2.7-8.2l0.9-4.3l2.1-3.8l5.7-7.2l7.8 1.1l7.7 4.4l3.3 1.7l4.5 1.6l7.8-1.3l0.4-0.3l7.3-6.4l1.1-1.8l3-8.2l0.7-8.1l-2.7-8.2l-2.1-7.1l-0.3-1.1l-1.2-8.3l0-8.2l1.2-8.2zM261 185l-4.7 3.7l-1.9 4.5l-0.3 8.2l1.8 8.3l0.4 1l2.4 7.2l2.8 8.2l0.4 8.1l0.2 8.2l1.1 8.2l0.9 3l3.7 5.1l4 2.2l7.8 0.9l7.8-0.3l7.7-0.4l7.8 0.8l7.8-0.3l7.6-2.9l0.1 0l7.8-8.1l0-0.1l2.5-8.1l-0.2-8.2l-2.3-7.6l-0.1-0.5l-3.2-8.2l-3.5-8.2l-1-2.1l-3.7-6.2l-4-6.3l-2.1-1.9l-5.7-4.7l-7.8-2.9l-3.6-0.6l-4.1-0.7l-7.8-0.5l-7.8-0.2l-7.7 0.6zM256 291.2l0.3 0.2l0.1-0.2l-0.1-0.3zM77.7 192l0.5 1.2l-0.5 0.6l-2.5-0.6zM108.7 241.4l7.8-2.9l7.8-0.2l7.7 2.4l2.8 1.7l5 5.6l1.8 2.6l3.4 8.1l2.3 8.2l-0.1 8.1l-5.7 8.1l-1.7 1.8l-5.7-1.8l-2.1-0.7l-5.1-7.4l-2.6-3l-7.6-5.1l-0.2-0.2l-7.8-1.3l-2.4 1.5l-3.5 8.1l1.9 8.1l4 7.5l0.6 0.6l7.2 7.7l0.7 0.4l-0.7 0l-7.8 0l-3.7 0l-4-7.4l-0.4-0.7l-4.2-8.1l-3.2-6.3l-1.4-1.8l-6.4-5.8l-7.7-2.3l-0.6 0l-7.2-0.7l-7.8-0.1l-7.7 0.4l-5.5 0.4l-2.3 0.2l-7.8 1.1l-7.7 2.8l-6.7 4l-1.1 1l-7.8 4.3l-7.7 0.3l-7.8-1l0-4.6l0-8.1l0-1.2l7.8 1.1l6.4 0.1l1.3 0l0.1 0l7.7-1.7l7.8-2.4l7.7-0.9l7.8-0.3l7.8-0.5l7.7-0.7l7.8-0.6l7.8-0.7l3.8-0.4l3.9-0.5l7.8-1.5l7.2-6.1l0.6-0.5l6.2-7.7zM120.1 250.6l4.2 4.1l2.9-4.1l-2.9-2z"/>
<path fill="#15fdfe" stroke="#15fdfe" d="M7.8 8.3l0.4 0.3l7.3 3.7l7.8 4.1l1.2 0.7l6.6 3.6l7.7 4.4l0.9 0.6l6.9 4l7.3 4.5l0.5 0.3l7.7 4.8l5.1 3.4l2.7 1.7l7.8 5.1l2.3 1.7l5.4 3.6l6.9 4.9l0.9 0.5l7.8 5.6l3 2.3l4.7 3.4l6.6 5.1l1.2 0.8l7.8 6l1.9 1.6l5.8 4.5l4.8 3.9l3 2.3l7.8 6l0.1 0.1l7.6 5.5l4.1 2.9l3.7 2.2l7.8 4.2l5.5 1.9l2.2 0.7l6.5-0.7l1.3-0.1l7.8-2.7l7.7-2.8l7.8-2.5l0.9-0.2l6.9-1.8l7.7-1.8l7.8-2.1l7.8-2.1l3.4-0.6l4.3-0.8l7.8-0.6l7.8-0.6l7.7-2.1l7.4-4.3l0.4-0.4l7.8-6.2l3-1.8l4.7-3.2l7.8-1.8l7.8 1.7l6 3.3l1.7 1l7.8 6.9l0.6 0.5l6.3 8.4l0.9 1.5l7.7 5.4l7.8-4.1l7.8-0.9l7.7 0.6l7.8-0.3l7.8-2.1l0.3-0.1l7.4-3.7l5.9-4.7l1.9-2.7l2.7-5.7l2.3-8.4l1.2-8.5l0.5-8.4l0.1-8.5l0-8.5l0.3-8.5l0.5-8.5l0.2-5.2l0.1-3.4l0-8.5l-0.1-0.8l-0.8-7.8l0.8 0l6.6 0l0.8 8.6l-0.5 8.5l-1.5 8.6l-1.8 8.5l-1.1 8.5l-0.6 8.5l-0.4 8.5l-0.8 8.4l-0.7 4.6l-0.6 3.9l-2.4 8.4l-4 8.4l-0.8 0.9l-7.8 6.3l-2.4 1.2l-5.3 2.9l-7.8 2.6l-7.8 0.9l-7.7 0l-6.4 2l-1.4 0.4l-7.8 4l-7.7-2.9l-1.4-1.5l-5.5-8.4l-0.9-1.2l-6.4-7.2l-1.4-1.2l-7.7-5.1l-7.8-1.9l-7.8 1.6l-7.7 4.4l-2.7 2.2l-5.1 3l-7.8 4.5l-3.1 0.9l-4.6 1.1l-7.8 0.7l-7.8 0.9l-7.7 1.8l-7.8 2.6l-4.2 1.3l-3.6 1.2l-7.7 2.2l-7.8 2.5l-6.5 2.4l-1.3 0.6l-7.7 3.5l-7.8 2.5l-7.8 0.8l-7.7-1.5l-7.8-3.1l-5.2-2.8l-2.6-1.4l-7.7-4.9l-2.9-2l-4.9-3.5l-6.7-4.9l-1.1-0.8l-7.7-5.7l-2.7-1.9l-5.1-3.7l-6.9-4.7l-0.9-0.6l-7.7-5.2l-4.3-2.6l-3.5-2.3l-7.8-4.8l-2.5-1.4l-5.2-3.1l-7.8-4.4l-1.8-0.9l-6-3.3l-7.7-4l-2.5-1.2l-5.3-2.7l-7.8-3.7l-4.7-2.1l-3-1.4l-7.8-3.3l-7.8-3.2l-1.7-0.6l-6-2.3l-7.8-2.8l0-3.4l0-8.6l0-8.5l0-4.1zM334 142.7l7.7-2.1l5.9 2.9l1.9 1.8l3.9 6.6l3.6 8.2l0.3 0.6l3.2 7.7l4.5 7.1l0.6 1.2l4.2 8.3l1.9 8.2l-5.5 8.2l-1.2 1.5l-7.7 0.7l-2.4-2.2l-5.4-3.2l-5.3-5l-2.5-1.5l-7.7-6l-2-0.7l-5.8-5.7l-4.5-2.6l1.1-8.3l2-8.3l1.4-4.1l1.3-4.1l5.6-8.4zM332.3 151.9l-0.6 8.2l1.5 8.3l0.8 3.9l0.8 4.4l4.1 8.3l2.8 2.2l7.8 4.1l4.7 1.9l3.1 1.4l5.4-1.4l1.6-8.2l-4.9-8.3l-2.1-3.7l-4.4-4.6l-3.2-8.3l-0.2-0.6l-3.3-7.6l-4.5-4.3l-7.7 1.7zM139.8 159.6l7.8-2.1l7.7 0.4l4.5 2.2l3.3 1.5l6 6.8l1.8 2.8l2.8 5.5l2.8 8.3l1.8 8.2l0.3 6.4l0.2 1.8l-0.2 1l-2.7 7.3l-5 3.5l-7.8 1.5l-7.8-0.6l-7.7-1.6l-5.9-2.8l-1.9-0.7l-7.8-6.8l-0.5-0.8l-5-8.2l-1.7-8.2l0.8-8.3l3.7-8.3l2.7-3.5l7-4.8zM135.1 168.4l-3.1 4l-2.2 4.3l-1.2 8.3l2 8.2l1.4 2.3l4.8 5.9l3 2.8l7.8 3.2l7.7 0.9l7.8-0.8l7.8-5.8l0.2-0.3l2.2-8.2l-1-8.2l-1.4-4.3l-1.4-4l-5.6-8.3l-0.8-0.9l-7.8-4.3l-7.7-0.6l-7.8 2.1zM248.5 174.6l7.8-1.9l7.8 0.5l7.7 1l7.8 1l7.8 0.7l7.7 0.6l1.7 0.2l6.1 0.8l7.8 1.4l6.5 6.1l1.2 8.2l0 0.1l2.6 8.1l4.2 8.3l1 2l5.5 6.2l2.3 3.5l5.2 4.7l2.5 4.6l2.6 3.5l2.3 8.2l0.5 8.2l-0.8 8.1l-1.7 8.2l-2.6 8.1l-0.3 0.6l-3.8 7.5l-3.9 6.8l-1.2 1.3l-5.7 8.1l-0.9 0l-7.8 0l-7.7 0l-7.8 0l-7.8 0l-7.7 0l-4.5 0l0.2-8.1l1.1-8.1l3.2-3.8l7.7-2.7l7.8-0.2l7.8-0.4l3.3-1l4.4-1l7.8-4.7l2.1-2.4l5.6-8.2l0.1-0.1l2.4-8l0.5-8.2l-1.8-8.2l-1.1-2l-2.4-6.1l-5-8.2l-0.4-0.4l-3.9-7.8l-3.9-7.9l-0.2-0.4l-4.4-8.2l-3.1-5.3l-4.2-2.9l-3.6-1.9l-7.8-2l-7.7-1l-7.8-0.7l-7.8-0.7l-7.7-0.6l-7.8 0.5l-7.8 5.7l-0.3 0.7l-1.2 8.2l0 8.2l1.2 8.3l0.3 1.1l2.1 7.1l2.7 8.2l-0.7 8.1l-3 8.2l-1.1 1.8l-7.3 6.4l-0.4 0.3l-7.8 1.3l-4.5-1.6l-3.3-1.7l-7.7-4.4l-7.8-1.1l-5.7 7.2l-2.1 3.8l-0.9 4.3l-2.7 8.2l-2.3 8.1l-0.4 8.1l1.3 8.1l1.6 8.1l-4.3 0l-4.7 0l0.6-8.1l-0.3-8.1l0.8-8.1l2-8.1l1.6-8.2l-0.4-8.1l-1.2-8.2l0.7-8.2l0.9-2l7.1-6.1l0.6-0.3l7.8-0.7l7.8 0.2l7.7-0.1l7.8-1.9l3.6-5.4l2-8.2l1.2-8.3l1-7.4l0-0.8l1.5-8.2l4-8.3zM69.9 182.8l7.8-0.6l3.8 2.8l2.8 8.2l-6.6 7.5l-7.8-1.1l-4.7-6.4l2.2-8.2zM75.2 193.2l2.5 0.6l0.5-0.6l-0.5-1.2zM108.7 232.6l7.8-0.7l7.8 0.1l7.7 1l3.6 1.2l4.2 2.1l6.7 6.1l1.1 1.6l3.6 6.6l2.6 8.1l1.3 8.2l-0.3 8.1l-1.8 8.1l-2.6 8.1l-1.8 8.1l-1 0l-7.8 0l-7.8 0l-7.7 0l-7.1 0l-0.7-0.4l-7.2-7.7l-0.6-0.6l-4-7.5l-1.9-8.1l3.5-8.1l2.4-1.5l7.8 1.3l0.2 0.2l7.6 5.1l2.6 3l5.1 7.4l2.1 0.7l5.7 1.8l1.7-1.8l5.7-8.1l0.1-8.1l-2.3-8.2l-3.4-8.1l-1.8-2.6l-5-5.6l-2.8-1.7l-7.7-2.4l-7.8 0.2l-7.8 2.9l-1.5 1l-6.2 7.7l-0.6 0.5l-7.2 6.1l-7.8 1.5l-3.9 0.5l-3.8 0.4l-7.8 0.7l-7.8 0.6l-7.7 0.7l-7.8 0.5l-7.8 0.3l-7.7 0.9l-7.8 2.4l-7.7 1.7l-0.1 0l-1.3 0l-6.4-0.1l-7.8-1.1l0-7l0-1.8l7.8 1.6l2.3 0.2l5.4 0.5l3.4-0.5l4.4-0.4l7.8-1.3l7.7-0.3l7.8-0.2l7.8-0.6l7.7-0.9l7.8-1.3l7.8-2l3.1-1.1l4.6-2.2l7.8-5.5l0.5-0.5l7.3-5.8l3.6-2.4z"/>
<path fill="#54f6fb" stroke="#54f6fb" d="M411.6 0l6.3 0l1.3 8.6l-0.6 8.5l-2.6 8.6l-3.9 8.5l-0.5 1.1l-1.6 7.4l-1.1 8.5l-0.9 8.5l-1.1 8.4l-1.5 8.5l-1.5 5.2l-0.9 3.2l-4.2 8.4l-2.7 3.1l-6.4 5.3l-1.4 1.1l-7.7 4.5l-6.8 2.8l-1 0.6l-7.8 1.9l-7.7 0.2l-7.8 2.8l-5.4 2.8l-2.4 2.2l-2.7-2.2l-5-2.1l-5.5-6.2l-2.3-3.3l-4.4-5.1l-3.4-3.8l-6.4-4.6l-1.3-0.9l-7.8-2.4l-7.8 1.3l-3.5 2l-4.2 1.7l-7.8 4.5l-3.7 2.2l-4.1 1.8l-7.7 2l-7.8 1.1l-7.8 1.1l-7.7 2.4l-0.1 0l-7.7 3.2l-7.8 2.8l-6.7 2.3l-1 0.5l-7.8 3.4l-7.8 3.6l-2 0.9l-5.7 3l-7.8 2.5l-7.8 1.1l-7.7-0.2l-7.8-1.8l-7.8-3.2l-2-1.4l-5.7-2.9l-7.7-5.5l-0.1 0l-7.8-5.4l-3.9-2.9l-3.8-2.7l-7.8-5.3l-0.6-0.4l-7.2-4.5l-6.4-3.9l-1.3-0.8l-7.8-4.4l-6.2-3.2l-1.6-0.9l-7.7-3.8l-7.8-3.7l-0.2 0l-7.6-3.3l-7.7-3.2l-5.2-2l-2.6-1l-7.8-2.8l-7.7-2.5l-7-2.1l-0.8-0.3l-7.8-2.1l-7.7-1.9l-7.8-1.6l0-2.6l0-8.5l0-8.5l0-5.1l7.8 2.8l6 2.3l1.7 0.6l7.8 3.2l7.8 3.3l3 1.4l4.7 2.1l7.8 3.7l5.3 2.7l2.5 1.2l7.7 4l6 3.3l1.8 0.9l7.8 4.4l5.2 3.1l2.5 1.4l7.8 4.8l3.5 2.3l4.3 2.6l7.7 5.2l0.9 0.6l6.9 4.7l5.1 3.7l2.7 1.9l7.7 5.7l1.1 0.8l6.7 4.9l4.9 3.5l2.9 2l7.7 4.9l2.6 1.4l5.2 2.8l7.8 3.1l7.7 1.5l7.8-0.8l7.8-2.5l7.7-3.5l1.3-0.6l6.5-2.4l7.8-2.5l7.7-2.2l3.6-1.2l4.2-1.3l7.8-2.6l7.7-1.8l7.8-0.9l7.8-0.7l4.6-1.1l3.1-0.9l7.8-4.5l5.1-3l2.7-2.2l7.7-4.4l7.8-1.6l7.8 1.9l7.7 5.1l1.4 1.2l6.4 7.2l0.9 1.2l5.5 8.4l1.4 1.5l7.7 2.9l7.8-4l1.4-0.4l6.4-2l7.7 0l7.8-0.9l7.8-2.6l5.3-2.9l2.4-1.2l7.8-6.3l0.8-0.9l4-8.4l2.4-8.4l0.6-3.9l0.7-4.6l0.8-8.4l0.4-8.5l0.6-8.5l1.1-8.5l1.8-8.5l1.5-8.6l0.5-8.5l-0.8-8.6zM341.7 135l0.4 0.2l7.4 2.3l5.4 6l2.4 4.2l1.6 4.2l2.8 8.2l3.3 7l0.5 1.3l4 8.3l3.3 5.5l1.2 2.8l1.4 8.2l-2 8.2l-0.6 1.9l-5.2 6.4l-2.6 4.1l-7.3 4.1l-0.4 1.4l-1.6 6.8l1.3 8.1l0.3 2.5l0.4 5.7l0.2 8.2l-0.3 8.1l-0.3 6.4l-0.2 1.8l-0.7 8.1l-1.1 8.1l-1.5 8.1l-2.1 8.1l-2.2 0l-7.8 0l-7.7 0l-6.9 0l5.7-8.1l1.2-1.3l3.9-6.8l3.8-7.5l0.3-0.6l2.6-8.1l1.7-8.2l0.8-8.1l-0.5-8.2l-2.3-8.2l-2.6-3.5l-2.5-4.6l-5.2-4.7l-2.3-3.5l-5.5-6.2l-1-2l-4.2-8.3l-2.6-8.1l0-0.1l-1.2-8.2l-6.5-6.1l-7.8-1.4l-6.1-0.8l-1.7-0.2l-7.7-0.6l-7.8-0.7l-7.8-1l-7.7-1l-7.8-0.5l-7.8 1.9l-2.2 2.1l-4 8.3l-1.5 8.2l0 0.8l-1 7.4l-1.2 8.3l-2 8.2l-3.6 5.4l-7.8 1.9l-7.7 0.1l-7.8-0.2l-7.8 0.7l-0.6 0.3l-7.1 6.1l-0.9 2l-0.7 8.2l1.2 8.2l0.4 8.1l-1.6 8.2l-2 8.1l-0.8 8.1l0.3 8.1l-0.6 8.1l-3.1 0l-7.8 0l-7.7 0l-7.8 0l-7.8 0l-6.7 0l1.8-8.1l2.6-8.1l1.8-8.1l0.3-8.1l-1.3-8.2l-2.6-8.1l-3.6-6.6l-1.1-1.6l-6.7-6.1l-4.2-2.1l-3.6-1.2l-7.7-1l-7.8-0.1l-7.8 0.7l-4.1 1.6l-3.6 2.4l-7.3 5.8l-0.5 0.5l-7.8 5.5l-4.6 2.2l-3.1 1.1l-7.8 2l-7.8 1.3l-7.7 0.9l-7.8 0.6l-7.8 0.2l-7.7 0.3l-7.8 1.3l-4.4 0.4l-3.4 0.5l-5.4-0.5l-2.3-0.2l-7.8-1.6l0-6.3l0-0.9l2.4 0.9l5.4 1.5l7.7 1.3l7.8-0.2l7.8-0.7l7.7-0.3l7.8-0.3l7.8-0.9l2.5-0.4l5.2-1.1l7.8-2.1l7.8-3.3l2.9-1.7l4.8-3.7l5.4-4.5l2.4-2l7.8-4.3l7.7-1.5l7.8 0.1l7.8-0.2l2.7-0.2l5-1.2l7.8-7l-7.1-8.2l-0.7-0.6l-5.8-7.7l-1.9-3.6l-2.7-4.6l-1.8-8.2l0.8-8.3l3.2-8.3l0.5-0.9l5.1-7.4l2.6-2.9l7.8-4.3l4.8-1l3-1.3l7.7-0.4l3.3 1.7l4.5 1.3l6.3 6.9l1.5 1.8l3.4 6.5l3.6 8.3l0.7 2.2l3.1 6.1l3.4 8.2l1.3 3.6l3.3 4.6l4.5 5.1l7.4 3.2l0.3 0.1l7.8 2.1l7.8 0.1l6.7-2.3l1-0.4l6.4-7.9l1.4-2.5l1.8-5.7l1.9-8.2l2.6-8.3l1.5-2.4l7-5.9l0.7-0.3l7.8-0.6l7.2 0.9l0.6 0.1l7.7 1.5l7.8 1.3l7.8 0.6l7.7 0.3l7.8-0.1l7.8-1.9l2.2-1.8l5.5-6l1.1-2.3l4.1-8.2l2.6-4l3.1-4.4l4.7-4.9l7.6-3.4zM333.1 143.5l-5.6 8.4l-1.3 4.1l-1.4 4.1l-2 8.3l-1.1 8.3l4.5 2.6l5.8 5.7l2 0.7l7.7 6l2.5 1.5l5.3 5l5.4 3.2l2.4 2.2l7.7-0.7l1.2-1.5l5.5-8.2l-1.9-8.2l-4.2-8.3l-0.6-1.2l-4.5-7.1l-3.2-7.7l-0.3-0.6l-3.6-8.2l-3.9-6.6l-1.9-1.8l-5.9-2.9l-7.7 2.1zM139 160.1l-7 4.8l-2.7 3.5l-3.7 8.3l-0.8 8.3l1.7 8.2l5 8.2l0.5 0.8l7.8 6.8l1.9 0.7l5.9 2.8l7.7 1.6l7.8 0.6l7.8-1.5l5-3.5l2.7-7.3l0.2-1l-0.2-1.8l-0.3-6.4l-1.8-8.2l-2.8-8.3l-2.8-5.5l-1.8-2.8l-6-6.8l-3.3-1.5l-4.5-2.2l-7.7-0.4l-7.8 2.1zM323.1 193.2l0.6 8.2l2.5 4.9l3.4 3.4l4.4 4.8l7.7 3.4l7.8 0.3l3.3-0.3l-2.6-8.2l-0.7-0.6l-3.4-7.7l-4.4-4.2l-3.7-4l-4-3.1l-7.8-1.4zM156.4 234.2l3.1 8.2l2.1 8.2l1.3 8.1l0.2 4l0.4 4.2l-0.4 4.9l-0.1 3.2l-0.9 8.1l0.7 8.1l0.3 0.8l7.8 6.5l7.7-5.1l0.9-2.2l2-8.1l1.8-8.1l3.1-7.5l0.2-0.6l0.7-8.2l-0.9-3.9l-2-4.2l-3.7-8.2l-2.1-5.2l-2.5-3l-5.2-4.5l-7.8-2.1zM69.9 176.2l7.8 0.1l0.8 0.4l6.9 3.9l3.3 4.4l1.2 8.2l-2.8 8.2l-1.7 1.9l-7.7 3.1l-7.8-0.6l-7.8-4.4l-3.1-8.2l0.8-8.2l2.3-3.8l6.5-4.5zM67.4 185l-2.2 8.2l4.7 6.4l7.8 1.1l6.6-7.5l-2.8-8.2l-3.8-2.8l-7.8 0.6z"/>
<path fill="#9eeff3" stroke="#9eeff3" d="M419.4 0l5.4 0l1.4 8.6l0.3 8.5l-1.3 8.6l-5.8 7.9l-0.3 0.6l-4.4 8.5l-2.5 8.5l-0.6 2.2l-0.9 6.3l-1.4 8.4l-1.7 8.5l-2.6 8.4l-1.1 2.1l-3.2 6.3l-4.6 5.4l-3.7 3l-4.1 3.4l-7.7 4.9l-0.1 0.1l-7.7 4.8l-7.8 2.6l-7.7 0l-2.4 0.9l-5.4 7.8l-0.8 0.6l0.8 0.4l6.5 7.9l1.3 1.5l3.3 6.8l2.8 8.4l1.6 4.6l1 3.6l3.1 8.3l3.7 7.2l0.4 1.1l3.5 8.3l1.8 8.2l-1.2 8.2l-2.5 8.3l-2 6.6l-0.9 1.6l-2.6 8.2l-1 8.1l-0.4 8.2l-0.4 8.2l-0.4 8.1l-0.1 8.2l0.2 8.1l0.2 8.1l0 8.1l-0.7 8.1l-1.7 0l-7.7 0l-5.6 0l2.1-8.1l1.5-8.1l1.1-8.1l0.7-8.1l0.2-1.8l0.3-6.4l0.3-8.1l-0.2-8.2l-0.4-5.7l-0.3-2.5l-1.3-8.1l1.6-6.8l0.4-1.4l7.3-4.1l2.6-4.1l5.2-6.4l0.6-1.9l2-8.2l-1.4-8.2l-1.2-2.8l-3.3-5.5l-4-8.3l-0.5-1.3l-3.3-7l-2.8-8.2l-1.6-4.2l-2.4-4.2l-5.4-6l-7.4-2.3l-0.4-0.2l-0.1 0.2l-7.6 3.4l-4.7 4.9l-3.1 4.4l-2.6 4l-4.1 8.2l-1.1 2.3l-5.5 6l-2.2 1.8l-7.8 1.9l-7.8 0.1l-7.7-0.3l-7.8-0.6l-7.8-1.3l-7.7-1.5l-0.6-0.1l-7.2-0.9l-7.8 0.6l-0.7 0.3l-7 5.9l-1.5 2.4l-2.6 8.3l-1.9 8.2l-1.8 5.7l-1.4 2.5l-6.4 7.9l-1 0.4l-6.7 2.3l-7.8-0.1l-7.8-2.1l-0.3-0.1l-7.4-3.2l-4.5-5.1l-3.3-4.6l-1.3-3.6l-3.4-8.2l-3.1-6.1l-0.7-2.2l-3.6-8.3l-3.4-6.5l-1.5-1.8l-6.3-6.9l-4.5-1.3l-3.3-1.7l-7.7 0.4l-3 1.3l-4.8 1l-7.8 4.3l-2.6 2.9l-5.1 7.4l-0.5 0.9l-3.2 8.3l-0.8 8.3l1.8 8.2l2.7 4.6l1.9 3.6l5.8 7.7l0.7 0.6l7.1 8.2l-7.8 7l-5 1.2l-2.7 0.2l-7.8 0.2l-7.8-0.1l-7.7 1.5l-7.8 4.3l-2.4 2l-5.4 4.5l-4.8 3.7l-2.9 1.7l-7.8 3.3l-7.8 2.1l-5.2 1.1l-2.5 0.4l-7.8 0.9l-7.8 0.3l-7.7 0.3l-7.8 0.7l-7.8 0.2l-7.7-1.3l-5.4-1.5l-2.4-0.9l0-7.3l0-0.2l0.3 0.2l7.5 3.2l7.7 2.2l7.8 0.4l7.8-0.3l7.7-0.1l7.8-0.6l7.8-1.3l7.7-2l4.2-1.5l3.6-1.9l7.8-5.6l0.8-0.7l6.8-8.1l0.1-0.5l7.8-7.3l7.8 0.3l7.7 1l7.8 0.9l7.8-1.6l1.7-1l-0.5-8.2l-1.2-1.8l-4.9-6.5l-2.9-6.1l-1.5-2.1l-2-8.2l1.5-8.3l2-4.5l1.1-3.8l3.5-8.3l3.2-5.3l2.6-2.9l5.1-6.9l2-1.5l1.8-8.3l-3.8-5l-2.2-3.3l-5.5-4.6l-4.5-3.8l-3.3-2.2l-7.8-5.1l-1.8-1l-5.9-3.3l-7.8-3.9l-2.7-1.2l-5.1-2.2l-7.7-3.1l-7.8-2.8l-0.9-0.3l-6.9-2.2l-7.7-2.1l-7.8-2l-7.8-1.8l-2-0.3l-5.7-1.1l-7.8-1.1l-7.8-0.8l-7.7-0.5l-7.8-0.2l0-4.7l0-8.5l0-8.4l0-5.9l7.8 1.6l7.7 1.9l7.8 2.1l0.8 0.3l7 2.1l7.7 2.5l7.8 2.8l2.6 1l5.2 2l7.7 3.2l7.6 3.3l0.2 0l7.8 3.7l7.7 3.8l1.6 0.9l6.2 3.2l7.8 4.4l1.3 0.8l6.4 3.9l7.2 4.5l0.6 0.4l7.8 5.3l3.8 2.7l3.9 2.9l7.8 5.4l0.1 0l7.7 5.5l5.7 2.9l2 1.4l7.8 3.2l7.8 1.8l7.7 0.2l7.8-1.1l7.8-2.5l5.7-3l2-0.9l7.8-3.6l7.8-3.4l1-0.5l6.7-2.3l7.8-2.8l7.7-3.2l0.1 0l7.7-2.4l7.8-1.1l7.8-1.1l7.7-2l4.1-1.8l3.7-2.2l7.8-4.5l4.2-1.7l3.5-2l7.8-1.3l7.8 2.4l1.3 0.9l6.4 4.6l3.4 3.8l4.4 5.1l2.3 3.3l5.5 6.2l5 2.1l2.7 2.2l2.4-2.2l5.4-2.8l7.8-2.8l7.7-0.2l7.8-1.9l1-0.6l6.8-2.8l7.7-4.5l1.4-1.1l6.4-5.3l2.7-3.1l4.2-8.4l0.9-3.2l1.5-5.2l1.5-8.5l1.1-8.4l0.9-8.5l1.1-8.5l1.6-7.4l0.5-1.1l3.9-8.5l2.6-8.6l0.6-8.5l-1.3-8.6zM281.6 101.8l-2 0.9l-7.8 3.4l-7.7 2.2l-7.8 1.4l-2.7 0.5l-5.1 1.2l-7.7 3.2l-7.8 3.4l-1.4 0.5l-6.4 3.1l-7.7 3.6l-3.6 1.7l-4.2 3.1l-7.8 4.8l-0.8 0.4l-6.9 4l-7.8 2.5l-5.2 1.8l-2.6 2.5l-2.9 5.9l1.6 8.2l1.3 4.1l1.4 4.2l4.1 8.3l2.3 4.6l3.1 3.7l4.7 6.5l1.7 1.7l6 4.6l7.8 3.3l7.8 0l7.7-4.5l2.2-3.4l3.4-8.2l2-8.3l0.2-0.4l3.5-7.9l4.3-4.3l7.7-2.1l7.8 0.7l7.8 1.6l7.7 1.8l7.8 1.3l7.8 0.6l7.7 0l7.8-1l7.8-3.4l3.2-3.5l4.5-5.3l1.6-2.9l5.6-8.4l0.6-0.7l7.2-7.6l0.6-1.5l5.2-6.8l-5.2-4.6l-2.1-3.8l-5.7-6.4l-1.8-1.9l-6-6.9l-1.9-1.5l-5.8-4.5l-7.8-2.5l-7.8 0.6l-7.7 3.1zM54.4 175.5l7.7-5.6l7.8-1.1l7.8 0.7l7.7 2.5l5.9 4.7l1.9 3.1l3.2 5.2l0.6 8.2l-1.3 8.2l-2.5 6.9l-1 1.4l-6.8 5.8l-7.7-1.8l-7.8-1.5l-7.8-2.1l-1.2-0.4l-6.5-4.4l-4.5-3.9l-0.4-8.2l0.4-8.2l3.3-8.3zM68.6 176.7l-6.5 4.5l-2.3 3.8l-0.8 8.2l3.1 8.2l7.8 4.4l7.8 0.6l7.7-3.1l1.7-1.9l2.8-8.2l-1.2-8.2l-3.3-4.4l-6.9-3.9l-0.8-0.4l-7.8-0.1zM326.2 188.7l7.8 1.4l4 3.1l3.7 4l4.4 4.2l3.4 7.7l0.7 0.6l2.6 8.2l-3.3 0.3l-7.8-0.3l-7.7-3.4l-4.4-4.8l-3.4-3.4l-2.5-4.9l-0.6-8.2zM326.7 201.4l7.3 6.9l5.7-6.9l-5.7-6.1zM163.1 227.6l7.8 2.1l5.2 4.5l2.5 3l2.1 5.2l3.7 8.2l2 4.2l0.9 3.9l-0.7 8.2l-0.2 0.6l-3.1 7.5l-1.8 8.1l-2 8.1l-0.9 2.2l-7.7 5.1l-7.8-6.5l-0.3-0.8l-0.7-8.1l0.9-8.1l0.1-3.2l0.4-4.9l-0.4-4.2l-0.2-4l-1.3-8.1l-2.1-8.2l-3.1-8.2z"/>
<path fill="#d9edee" stroke="#d9edee" d="M427.2 0l4.2 0l1.1 8.6l1.3 8.5l1.1 4.6l1.3 4l6.5 8l0.5 0.5l5.8 8.5l-6.3 1.2l-5.1-1.2l-2.7-1.5l-7.7-1.5l-4.6 3l-3.2 1.8l-2.9 6.7l-2.8 8.5l-2.1 8.4l-1.8 8.5l-2.7 8.4l-3.2 6l-1.2 2.4l-6.6 7.6l-0.9 0.8l-6.9 5.7l-4.2 2.7l-3.5 3.3l-7 5l-0.8 1.1l-7.8 6.5l-1.4 0.8l0 8.3l1.4 5l0.6 3.3l1.7 8.4l2.2 8.2l3.1 8.3l0.2 0.4l3.2 7.9l3.5 8.3l1.1 4.4l0.8 3.8l-0.4 8.2l-0.4 3.3l-1 5l-1.5 8.2l-1 8.2l-0.4 8.1l-0.5 8.2l-0.6 8.2l-0.5 8.1l0 8.2l0.6 8.1l1.1 8.1l0.9 8.1l-0.1 8.1l-4.8 0l-6.1 0l0.7-8.1l0-8.1l-0.2-8.1l-0.2-8.1l0.1-8.2l0.4-8.1l0.4-8.2l0.4-8.2l1-8.1l2.6-8.2l0.9-1.6l2-6.6l2.5-8.3l1.2-8.2l-1.8-8.2l-3.5-8.3l-0.4-1.1l-3.7-7.2l-3.1-8.3l-1-3.6l-1.6-4.6l-2.8-8.4l-3.3-6.8l-1.3-1.5l-6.5-7.9l-0.8-0.4l0.8-0.6l5.4-7.8l2.4-0.9l7.7 0l7.8-2.6l7.7-4.8l0.1-0.1l7.7-4.9l4.1-3.4l3.7-3l4.6-5.4l3.2-6.3l1.1-2.1l2.6-8.4l1.7-8.5l1.4-8.4l0.9-6.3l0.6-2.2l2.5-8.5l4.4-8.5l0.3-0.6l5.8-7.9l1.3-8.6l-0.3-8.5l-1.4-8.6zM458.2 46.9l7.8 0.2l0 4.1l0 8.5l0 8.4l0 4l-3-4l-4.8-6.2l-1.3-2.2l-2.6-8.5zM7.8 81.5l7.7 0.5l7.8 0.8l7.8 1.1l5.7 1.1l2 0.3l7.8 1.8l7.8 2l7.7 2.1l6.9 2.2l0.9 0.3l7.8 2.8l7.7 3.1l5.1 2.2l2.7 1.2l7.8 3.9l5.9 3.3l1.8 1l7.8 5.1l3.3 2.2l4.5 3.8l5.5 4.6l2.2 3.3l3.8 5l-1.8 8.3l-2 1.5l-5.1 6.9l-2.6 2.9l-3.2 5.3l-3.5 8.3l-1.1 3.8l-2 4.5l-1.5 8.3l2 8.2l1.5 2.1l2.9 6.1l4.9 6.5l1.2 1.8l0.5 8.2l-1.7 1l-7.8 1.6l-7.8-0.9l-7.7-1l-7.8-0.3l-7.8 7.3l-0.1 0.5l-6.8 8.1l-0.8 0.7l-7.8 5.6l-3.6 1.9l-4.2 1.5l-7.7 2l-7.8 1.3l-7.8 0.6l-7.7 0.1l-7.8 0.3l-7.8-0.4l-7.7-2.2l-7.5-3.2l-0.3-0.2l0-8l0-3.6l2.8 3.6l5 3.4l7.7 4.4l1.9 0.4l5.9 0.7l7.8 0.3l7.7-0.1l7.8-0.8l0.2-0.1l7.6-2.5l7.7-3.3l4-2.4l3.8-7.3l0.5-0.8l-0.5-0.8l-7.8-6.4l-2-1l-5.7-1.9l-7.8-3.4l-7.8-2.8l-0.5-0.1l-7.2-3.8l-7.1-4.5l-0.7-1.2l-5.8-7l-2-7.5l-0.3-0.7l0.3-2.3l1-6l6.6-8.3l0.2-0.1l7.8-5.5l4.9-2.7l2.8-1.2l7.8-2.9l7.8-1.4l7.7-0.2l7.8 1l7.8 2.2l5.5 2.5l2.2 0.7l7.8 3.8l6 3.8l1.8 1.4l4.6-1.4l3.1-1.9l1.9-6.4l2.6-8.2l1.7-8.4l-2.4-8.3l-3.8-4.2l-4.9-4.1l-2.8-1.8l-7.8-3.6l-7.6-3l-0.2 0l-7.7-1.9l-7.8-1.3l-7.8-0.9l-7.7-0.5l-7.8 0l-7.8 0.4l-7.7 0.8l-7.8 1.3l-7.8 1.7l-1.5 0.4l-6.2 2.6l-7.8 3.9l0-6.5l0-8.3l0-8.4l0-8.4l0-8.4l0-3.7zM53.2 176.7l-3.3 8.3l-0.4 8.2l0.4 8.2l4.5 3.9l6.5 4.4l1.2 0.4l7.8 2.1l7.8 1.5l7.7 1.8l6.8-5.8l1-1.4l2.5-6.9l1.3-8.2l-0.6-8.2l-3.2-5.2l-1.9-3.1l-5.9-4.7l-7.7-2.5l-7.8-0.7l-7.8 1.1l-7.7 5.6zM287.4 98.5l7.7-3.1l7.8-0.6l7.8 2.5l5.8 4.5l1.9 1.5l6 6.9l1.8 1.9l5.7 6.4l2.1 3.8l5.2 4.6l-5.2 6.8l-0.6 1.5l-7.2 7.6l-0.6 0.7l-5.6 8.4l-1.6 2.9l-4.5 5.3l-3.2 3.5l-7.8 3.4l-7.8 1l-7.7 0l-7.8-0.6l-7.8-1.3l-7.7-1.8l-7.8-1.6l-7.8-0.7l-7.7 2.1l-4.3 4.3l-3.5 7.9l-0.2 0.4l-2 8.3l-3.4 8.2l-2.2 3.4l-7.7 4.5l-7.8 0l-7.8-3.3l-6-4.6l-1.7-1.7l-4.7-6.5l-3.1-3.7l-2.3-4.6l-4.1-8.3l-1.4-4.2l-1.3-4.1l-1.6-8.2l2.9-5.9l2.6-2.5l5.2-1.8l7.8-2.5l6.9-4l0.8-0.4l7.8-4.8l4.2-3.1l3.6-1.7l7.7-3.6l6.4-3.1l1.4-0.5l7.8-3.4l7.7-3.2l5.1-1.2l2.7-0.5l7.8-1.4l7.7-2.2l7.8-3.4l2-0.9zM287.5 101.8l-0.1 0l-7.8 3.5l-7.8 3.4l-5 1.5l-2.7 1l-7.8 2l-7.8 2.4l-6.6 2.9l-1.1 0.8l-7.8 4.6l-6.2 3l-1.6 1.1l-7.7 5.7l-2 1.5l-4.7 8.3l1 8.4l3.3 8.2l-2 8.3l-3.4 2.8l-4.3 5.5l1.9 8.3l2.4 1.8l7.8 1.2l3.5-3l1-8.3l-0.9-8.3l4.1-3.1l3.9-5.2l3.9-1.6l7.8-3l7.7 0.5l7.8 1.8l7.8 2.3l7.7 2.2l7.8 1.5l7.8 0.6l7.7-0.3l7.8-1.6l4.3-2.4l3.5-1.9l5.5-6.3l2.2-2.6l4.1-5.8l3.7-4.6l3.5-3.7l3.1-8.3l-4.8-8.4l-1.8-2.1l-5.9-6.2l-1.9-2.2l-7.7-6.1l-0.3-0.1l-7.5-3l-7.8 0.3zM334 195.3l5.7 6.1l-5.7 6.9l-7.3-6.9z"/>
<path fill="#f2eecf" stroke="#f2eecf" d="M434.9 0l2.8 0l1 8.6l1.8 8.5l2.2 4.5l2.4 4.1l5.4 5.3l5.5 3.2l2.2 1.4l7.8 2.2l0 4.9l0 4.4l-7.8-0.2l-3.9 4.3l2.6 8.5l1.3 2.2l4.8 6.2l3 4l0 4.5l0 7.6l-5.7-7.6l-2.1-2.8l-3.1-5.7l-4.6-7.2l-0.9-1.2l-6.9-7.2l-2.4-1.3l-5.4-2.7l-7.7-0.9l-4.9 3.6l-2.9 2.6l-2.3 5.9l-2.6 8.4l-2.5 8.5l-0.4 0.8l-2.4 7.6l-4.6 8.4l-0.7 0.8l-6.5 7.6l-1.3 1.3l-7.8 6.6l-0.6 0.5l-7.1 6.7l-2.2 1.6l-5.6 7.5l-1 0.9l-2.6 8.3l0.5 8.3l1.3 8.4l1.8 7.7l0.1 0.5l2.6 8.3l3.2 8.3l1.9 4.4l1.4 3.9l1.9 8.2l0.1 8.2l-0.4 8.3l-0.4 8.2l0 8.2l0.2 8.1l-0.2 8.2l-0.8 8.2l-0.5 8.1l0.1 8.2l0.8 8.1l1.6 8.1l1.5 8.1l0.4 8.1l-5.7 0l-3 0l0.1-8.1l-0.9-8.1l-1.1-8.1l-0.6-8.1l0-8.2l0.5-8.1l0.6-8.2l0.5-8.2l0.4-8.1l1-8.2l1.5-8.2l1-5l0.4-3.3l0.4-8.2l-0.8-3.8l-1.1-4.4l-3.5-8.3l-3.2-7.9l-0.2-0.4l-3.1-8.3l-2.2-8.2l-1.7-8.4l-0.6-3.3l-1.4-5l0-8.3l1.4-0.8l7.8-6.5l0.8-1.1l7-5l3.5-3.3l4.2-2.7l6.9-5.7l0.9-0.8l6.6-7.6l1.2-2.4l3.2-6l2.7-8.4l1.8-8.5l2.1-8.4l2.8-8.5l2.9-6.7l3.2-1.8l4.6-3l7.7 1.5l2.7 1.5l5.1 1.2l6.3-1.2l-5.8-8.5l-0.5-0.5l-6.5-8l-1.3-4l-1.1-4.6l-1.3-8.5l-1.1-8.6zM295.1 99.1l7.8-0.3l7.5 3l0.3 0.1l7.7 6.1l1.9 2.2l5.9 6.2l1.8 2.1l4.8 8.4l-3.1 8.3l-3.5 3.7l-3.7 4.6l-4.1 5.8l-2.2 2.6l-5.5 6.3l-3.5 1.9l-4.3 2.4l-7.8 1.6l-7.7 0.3l-7.8-0.6l-7.8-1.5l-7.7-2.2l-7.8-2.3l-7.8-1.8l-7.7-0.5l-7.8 3l-3.9 1.6l-3.9 5.2l-4.1 3.1l0.9 8.3l-1 8.3l-3.5 3l-7.8-1.2l-2.4-1.8l-1.9-8.3l4.3-5.5l3.4-2.8l2-8.3l-3.3-8.2l-1-8.4l4.7-8.3l2-1.5l7.7-5.7l1.6-1.1l6.2-3l7.8-4.6l1.1-0.8l6.6-2.9l7.8-2.4l7.8-2l2.7-1l5-1.5l7.8-3.4l7.8-3.5l0.1 0zM274.3 110.2l-2.5 1.1l-7.7 3l-7.8 2.5l-4.8 1.7l-3 2l-7.7 5.4l-1.8 1l-6 6.1l-3.5 2.2l-1.3 8.3l4.8 1.9l7.8 1.4l7.7 2.7l4.7 2.4l3.1 1l7.8 2.9l7.7 2.7l7.7 1.6l0.1 0.1l7.8 0.6l7.7-0.5l0.6-0.2l7.2-1.6l7.8-4.9l1.5-1.7l6.2-7.1l0.9-1.3l6.7-8.3l0.2-0.5l3.2-7.8l-3.2-5.4l-2-3l-5.8-6.1l-2.6-2.2l-5.1-4.3l-7.8-3.2l-7.8-0.2l-7.7 2.1l-7.8 3.3zM15.5 118.1l7.8-1.7l7.8-1.3l7.7-0.8l7.8-0.4l7.8 0l7.7 0.5l7.8 0.9l7.8 1.3l7.7 1.9l0.2 0l7.6 3l7.8 3.6l2.8 1.8l4.9 4.1l3.8 4.2l2.4 8.3l-1.7 8.4l-2.6 8.2l-1.9 6.4l-3.1 1.9l-4.6 1.4l-1.8-1.4l-6-3.8l-7.8-3.8l-2.2-0.7l-5.5-2.5l-7.8-2.2l-7.8-1l-7.7 0.2l-7.8 1.4l-7.8 2.9l-2.8 1.2l-4.9 2.7l-7.8 5.5l-0.2 0.1l-6.6 8.3l-1 6l-0.3 2.3l0.3 0.7l2 7.5l5.8 7l0.7 1.2l7.1 4.5l7.2 3.8l0.5 0.1l7.8 2.8l7.8 3.4l5.7 1.9l2 1l7.8 6.4l0.5 0.8l-0.5 0.8l-3.8 7.3l-4 2.4l-7.7 3.3l-7.6 2.5l-0.2 0.1l-7.8 0.8l-7.7 0.1l-7.8-0.3l-5.9-0.7l-1.9-0.4l-7.7-4.4l-5-3.4l-2.8-3.6l0-4.5l0-8.2l0-8.2l0-8.3l0-8.2l0-8.2l0-8.3l0-8.3l0-8.3l0-8.2l0-8.4l0-8.3l0-8.3l0-1.9l7.8-3.9l6.2-2.6zM15.7 217.9l-0.2 0.1l-2.9 8.1l2.9 4.5l3 3.6l4.8 1.7l7.8 1.4l7.7 0.4l7.8-1.8l4.1-1.7l2.8-8.1l-6.9-4.9l-6.7-3.3l-1.1-0.5l-7.7-1.2l-7.8-0.2z"/>
<path fill="#f9f59e" stroke="#f9f59e" d="M442.7 0l1.6 0l0.8 8.6l2 8.5l3.4 5.3l3.4 3.3l4.3 2.8l7.8 1.9l0 3.8l0 3.6l-7.8-2.2l-2.2-1.4l-5.5-3.2l-5.4-5.3l-2.4-4.1l-2.2-4.5l-1.8-8.5l-1-8.6zM427.2 47.6l7.7 0.9l5.4 2.7l2.4 1.3l6.9 7.2l0.9 1.2l4.6 7.2l3.1 5.7l2.1 2.8l5.7 7.6l0 0.8l0 8.4l0 0.2l-0.3-0.2l-7.3-8.4l-0.2-0.3l-4.2-8.1l-3.5-6.2l-1.2-2.3l-6.2-8.4l-0.4-0.5l-7.8-5l-7.7-0.5l-6.1 6l-1.7 2.4l-2.1 6l-2.7 8.5l-3 7.2l-0.4 1.2l-4.4 8.4l-2.9 3.2l-4.5 5.2l-3.3 3.4l-5.8 5l-2 2.4l-6.1 5.9l-1.6 2.9l-4.3 5.5l-2.4 8.3l-0.2 8.3l0.6 8.4l1.6 8.2l2.4 8.3l2.3 5.9l0.8 2.4l2.9 8.3l2 8.2l0.6 8.2l0.4 8.3l0.6 8.2l0.4 5.2l0.3 3l0.8 8.1l0 8.2l-0.9 8.2l-0.2 2.2l-0.5 5.9l0.2 8.2l0.3 2.4l0.7 5.7l1.7 8.1l1.7 8.1l1.2 8.1l-5.3 0l-2 0l-0.4-8.1l-1.5-8.1l-1.6-8.1l-0.8-8.1l-0.1-8.2l0.5-8.1l0.8-8.2l0.2-8.2l-0.2-8.1l0-8.2l0.4-8.2l0.4-8.3l-0.1-8.2l-1.9-8.2l-1.4-3.9l-1.9-4.4l-3.2-8.3l-2.6-8.3l-0.1-0.5l-1.8-7.7l-1.3-8.4l-0.5-8.3l2.6-8.3l1-0.9l5.6-7.5l2.2-1.6l7.1-6.7l0.6-0.5l7.8-6.6l1.3-1.3l6.5-7.6l0.7-0.8l4.6-8.4l2.4-7.6l0.4-0.8l2.5-8.5l2.6-8.4l2.3-5.9l2.9-2.6zM279.6 107.9l7.8-3.3l7.7-2.1l7.8 0.2l7.8 3.2l5.1 4.3l2.6 2.2l5.8 6.1l2 3l3.2 5.4l-3.2 7.8l-0.2 0.5l-6.7 8.3l-0.9 1.3l-6.2 7.1l-1.5 1.7l-7.8 4.9l-7.2 1.6l-0.6 0.2l-7.7 0.5l-7.8-0.6l-0.1-0.1l-7.7-1.6l-7.7-2.7l-7.8-2.9l-3.1-1l-4.7-2.4l-7.7-2.7l-7.8-1.4l-4.8-1.9l1.3-8.3l3.5-2.2l6-6.1l1.8-1l7.7-5.4l3-2l4.8-1.7l7.8-2.5l7.7-3l2.5-1.1zM280.5 110.2l-0.9 0.3l-7.8 3.7l-7.7 3.3l-3 1l-4.8 3.1l-7.5 5.3l-0.3 0.8l-3.5 7.5l3.5 5l2.2 3.3l5.6 3.4l7.8 4.6l0.6 0.4l7.1 2.8l7.8 2.1l7.8 0.7l7.7-0.5l7.8-2.2l4.4-2.9l3.4-2.4l5.3-6l2.4-3.1l4.2-5.2l3.3-8.3l-5.5-8.4l-2-2.1l-7.3-6.2l-0.4-0.4l-7.8-3.7l-7.8-0.6l-7.7 1.9zM23.3 216l7.8 0.2l7.7 1.2l1.1 0.5l6.7 3.3l6.9 4.9l-2.8 8.1l-4.1 1.7l-7.8 1.8l-7.7-0.4l-7.8-1.4l-4.8-1.7l-3-3.6l-2.9-4.5l2.9-8.1l0.2-0.1z"/>
<path fill="#fcfa4b" stroke="#fcfa4b" d="M450.5 0l1.4 0l0.4 8.6l2.6 8.5l3.3 3.3l7.8 2.3l0 3l0 4.7l-7.8-1.9l-4.3-2.8l-3.4-3.3l-3.4-5.3l-2-8.5l-0.8-8.6zM427.2 53.7l7.7 0.5l7.8 5l0.4 0.5l6.2 8.4l1.2 2.3l3.5 6.2l4.2 8.1l0.2 0.3l7.3 8.4l0.3 0.2l0 7.5l-7.8-7.5l-0.2-0.2l-5.4-8.4l-2.1-4.2l-1.7-4.2l-4.7-8.5l-1.4-1.9l-7.3-6.5l-0.5-0.3l-7.7-0.2l-0.5 0.5l-6 8.4l-1.3 2.1l-2.2 6.4l-3.4 8.4l-2.2 3.2l-2.7 5.2l-5 5.5l-2.5 2.9l-5.3 5.4l-3.4 3l-4.4 5.4l-3 2.9l-4.7 8.2l-0.2 0.2l-2.8 8.3l-0.6 8.3l0.5 8.4l1.3 8.2l1.8 6.1l0.6 2.2l2.6 8.3l2.8 8.3l1.7 6.5l0.6 1.7l1.2 8.2l1 8.3l1.1 8.2l1.2 8.2l1.1 8.1l0.2 8.2l-1.1 8.2l-0.5 8.1l0.4 8.2l1.1 8.1l1.5 7.2l0.2 0.9l2.2 8.1l1.9 8.1l-4.3 0l-2.5 0l-1.2-8.1l-1.7-8.1l-1.7-8.1l-0.7-5.7l-0.3-2.4l-0.2-8.2l0.5-5.9l0.2-2.2l0.9-8.2l0-8.2l-0.8-8.1l-0.3-3l-0.4-5.2l-0.6-8.2l-0.4-8.3l-0.6-8.2l-2-8.2l-2.9-8.3l-0.8-2.4l-2.3-5.9l-2.4-8.3l-1.6-8.2l-0.6-8.4l0.2-8.3l2.4-8.3l4.3-5.5l1.6-2.9l6.1-5.9l2-2.4l5.8-5l3.3-3.4l4.5-5.2l2.9-3.2l4.4-8.4l0.4-1.2l3-7.2l2.7-8.5l2.1-6l1.7-2.4zM287.4 107.4l7.7-1.9l7.8 0.6l7.8 3.7l0.4 0.4l7.3 6.2l2 2.1l5.5 8.4l-3.3 8.3l-4.2 5.2l-2.4 3.1l-5.3 6l-3.4 2.4l-4.4 2.9l-7.8 2.2l-7.7 0.5l-7.8-0.7l-7.8-2.1l-7.1-2.8l-0.6-0.4l-7.8-4.6l-5.6-3.4l-2.2-3.3l-3.5-5l3.5-7.5l0.3-0.8l7.5-5.3l4.8-3.1l3-1l7.7-3.3l7.8-3.7l0.9-0.3zM287.3 110.2l-7.7 3.1l-7.8 3.8l-3.3 1.4l-4.4 3.4l-7.1 5l-0.7 2.5l-1.9 5.8l1.9 2.8l3.6 5.5l4.2 2.8l7.7 4.4l2.8 1.2l5 1.5l7.8 0.9l7.7-0.5l5.9-1.9l1.9-0.7l7.8-5.6l1.8-2.1l5.9-7.4l0.7-0.9l2.7-8.3l-3.4-5.3l-2.1-3.1l-5.6-4.8l-6.4-3.5l-1.4-0.7l-7.8-1l-7.7 1.6z"/>
<path fill="#fffa00" stroke="#fffa00" d="M458.2 0l5 0l2 8.6l0.8 0.8l0 7.7l0 5.6l-7.8-2.3l-3.3-3.3l-2.6-8.5l-0.4-8.6zM427.2 59.2l7.7 0.2l0.5 0.3l7.3 6.5l1.4 1.9l4.7 8.5l1.7 4.2l2.1 4.2l5.4 8.4l0.2 0.2l7.8 7.5l0 0.7l0 5.9l-6.4-5.9l-1.4-1.4l-6-7l-1.7-2.7l-2.9-5.7l-3.6-8.4l-1.3-2.4l-5.1-6.1l-2.7-2.5l-7.7 0.3l-1.6 2.2l-5.4 8.5l-0.8 1.1l-2.9 7.3l-4.9 7.1l-0.6 1.3l-7.1 7.8l-0.6 0.6l-7.2 7.5l-1 0.9l-6.7 8.3l-0.1 0.2l-4.8 8.2l-2.4 8.3l-0.5 6l-0.3 2.3l0.3 7.2l0 1.2l1.2 8.2l2.1 8.3l2.4 8.3l2 6.4l0.7 1.9l2.9 8.2l1.6 8.2l1.5 8.3l1.1 5.9l0.5 2.3l1.5 8.2l1.2 8.1l0.1 8.2l-0.8 8.2l-0.3 8.1l0.6 8.2l1.3 8.1l2 8.1l1.7 5.8l0.7 2.3l2.7 8.1l-3.4 0l-3.5 0l-1.9-8.1l-2.2-8.1l-0.2-0.9l-1.5-7.2l-1.1-8.1l-0.4-8.2l0.5-8.1l1.1-8.2l-0.2-8.2l-1.1-8.1l-1.2-8.2l-1.1-8.2l-1-8.3l-1.2-8.2l-0.6-1.7l-1.7-6.5l-2.8-8.3l-2.6-8.3l-0.6-2.2l-1.8-6.1l-1.3-8.2l-0.5-8.4l0.6-8.3l2.8-8.3l0.2-0.2l4.7-8.2l3-2.9l4.4-5.4l3.4-3l5.3-5.4l2.5-2.9l5-5.5l2.7-5.2l2.2-3.2l3.4-8.4l2.2-6.4l1.3-2.1l6-8.4zM287.4 110.1l7.7-1.6l7.8 1l1.4 0.7l6.4 3.5l5.6 4.8l2.1 3.1l3.4 5.3l-2.7 8.3l-0.7 0.9l-5.9 7.4l-1.8 2.1l-7.8 5.6l-1.9 0.7l-5.9 1.9l-7.7 0.5l-7.8-0.9l-5-1.5l-2.8-1.2l-7.7-4.4l-4.2-2.8l-3.6-5.5l-1.9-2.8l1.9-5.8l0.7-2.5l7.1-5l4.4-3.4l3.3-1.4l7.8-3.8l7.7-3.1zM274.7 118.5l-2.9 2.3l-7.6 6.1l-0.1 0.6l-2.4 7.7l2.4 3.5l3.3 4.8l4.4 2.9l7.8 3.5l7.8 1.2l7.7-0.5l7.8-2.8l5.6-4.3l2.2-2.3l4.7-6l2.3-8.3l-5.9-8.4l-1.1-1l-7.8-4.6l-7.8-1.4l-7.7 1.4l-7.8 3.2z"/>
<path fill="#ffdc00" stroke="#ffdc00" d="M466 0l0 8.6l0 0.8l-0.8-0.8l-2-8.6zM427.2 65.9l7.7-0.3l2.7 2.5l5.1 6.1l1.3 2.4l3.6 8.4l2.9 5.7l1.7 2.7l6 7l1.4 1.4l6.4 5.9l0 2.5l0 4.1l-4-4.1l-3.8-3.6l-4.2-4.8l-3.5-4.1l-3.3-4.3l-4.2-8.4l-0.3-0.7l-4.2-7.7l-3.6-4.2l-7.7 0.2l-2.7 4l-5.1 7.7l-0.3 0.7l-5.3 8.4l-2.2 1.9l-5.9 6.5l-1.8 1.6l-6.6 6.8l-1.2 1.8l-5.2 6.5l-2.6 5.3l-1.8 3.1l-2.4 8.3l-0.7 8.3l0.2 8.4l1.2 8.2l1.9 8.3l1.6 6.4l0.6 1.9l3.1 8.3l2.8 8.2l1.3 5.3l1 2.9l2.2 8.3l1.9 8.2l1.6 8.2l1.1 7.8l0 0.3l0 8.2l0 0.3l-0.7 7.9l0.2 8.1l0.5 4.6l0.5 3.6l1.7 8.1l2.4 8.1l2.8 8.1l0.3 0.9l3.4 7.2l-3.4 0l-4.3 0l-2.7-8.1l-0.7-2.3l-1.7-5.8l-2-8.1l-1.3-8.1l-0.6-8.2l0.3-8.1l0.8-8.2l-0.1-8.2l-1.2-8.1l-1.5-8.2l-0.5-2.3l-1.1-5.9l-1.5-8.3l-1.6-8.2l-2.9-8.2l-0.7-1.9l-2-6.4l-2.4-8.3l-2.1-8.3l-1.2-8.2l0-1.2l-0.3-7.2l0.3-2.3l0.5-6l2.4-8.3l4.8-8.2l0.1-0.2l6.7-8.3l1-0.9l7.2-7.5l0.6-0.6l7.1-7.8l0.6-1.3l4.9-7.1l2.9-7.3l0.8-1.1l5.4-8.5zM279.6 116.1l7.8-3.2l7.7-1.4l7.8 1.4l7.8 4.6l1.1 1l5.9 8.4l-2.3 8.3l-4.7 6l-2.2 2.3l-5.6 4.3l-7.8 2.8l-7.7 0.5l-7.8-1.2l-7.8-3.5l-4.4-2.9l-3.3-4.8l-2.4-3.5l2.4-7.7l0.1-0.6l7.6-6.1l2.9-2.3zM280.4 118.5l-0.8 0.6l-7.8 6.3l-1.8 1.5l-2.1 8.3l3.9 5.4l2.6 2.9l5.2 2.7l7.8 1.8l7.7-0.4l7.8-3.2l1.2-0.9l6.6-7.1l0.9-1.2l1.7-8.3l-2.6-3.8l-4.1-4.6l-3.7-2.2l-7.8-1.8l-7.7 1.2z"/>
<path fill="#ffc000" stroke="#ffc000" d="M427.2 72.6l7.7-0.2l3.6 4.2l4.2 7.7l0.3 0.7l4.2 8.4l3.3 4.3l3.5 4.1l4.2 4.8l3.8 3.6l4 4.1l0 4.2l0 2.8l-2.3-2.8l-5.5-5.6l-2.1-2.7l-5.6-6.3l-1.7-2.1l-6.1-8.2l-0.1-0.2l-4.9-8.4l-2.8-4.7l-7.7-0.6l-3.3 5.3l-4.5 4.5l-2.5 3.9l-5.3 4.6l-3.4 3.8l-4.3 3.7l-4.5 4.7l-3.3 4.9l-2.7 3.4l-4 8.4l-1.1 4.2l-1.2 4.1l-0.7 8.3l0.3 8.4l1 8.2l0.6 2.7l1.4 5.6l2.3 8.3l2.9 8.3l1.2 3.3l2.4 4.9l2.9 8.2l2.3 8.3l0.2 0.7l2.1 7.5l1.9 8.2l1.2 8.1l0 8.2l-0.6 8.2l0.6 8.1l1.4 8.2l1.1 4.8l1 3.3l2.9 8.1l3.6 8.1l0.3 0.6l5 7.5l-5 0l-4.4 0l-3.4-7.2l-0.3-0.9l-2.8-8.1l-2.4-8.1l-1.7-8.1l-0.5-3.6l-0.5-4.6l-0.2-8.1l0.7-7.9l0-0.3l0-8.2l0-0.3l-1.1-7.8l-1.6-8.2l-1.9-8.2l-2.2-8.3l-1-2.9l-1.3-5.3l-2.8-8.2l-3.1-8.3l-0.6-1.9l-1.6-6.4l-1.9-8.3l-1.2-8.2l-0.2-8.4l0.7-8.3l2.4-8.3l1.8-3.1l2.6-5.3l5.2-6.5l1.2-1.8l6.6-6.8l1.8-1.6l5.9-6.5l2.2-1.9l5.3-8.4l0.3-0.7l5.1-7.7zM287.4 115.7l7.7-1.2l7.8 1.8l3.7 2.2l4.1 4.6l2.6 3.8l-1.7 8.3l-0.9 1.2l-6.6 7.1l-1.2 0.9l-7.8 3.2l-7.7 0.4l-7.8-1.8l-5.2-2.7l-2.6-2.9l-3.9-5.4l2.1-8.3l1.8-1.5l7.8-6.3l0.8-0.6zM287.1 118.5l-7.5 4.8l-4.3 3.6l-1.7 8.3l6 6.7l3 1.6l4.8 1.4l7.7-0.4l2.4-1l5.4-3.3l4.6-5l1.3-8.3l-5.9-6.6l-3.7-1.8l-4.1-1.1l-7.7 1z"/>
<path fill="#ffa400" stroke="#ffa400" d="M427.2 79.7l7.7 0.6l2.8 4.7l4.9 8.4l0.1 0.2l6.1 8.2l1.7 2.1l5.6 6.3l2.1 2.7l5.5 5.6l2.3 2.8l0 5.6l0 2.3l-1.7-2.3l-6.1-7.3l-0.7-1.1l-6.7-8.3l-0.3-0.4l-6.5-8l-1.3-1.8l-5.6-6.6l-2.2-3.8l-7.7-2.2l-6.1 6l-1.7 0.8l-7.8 6.6l-0.9 1l-6.8 5.9l-2.5 2.5l-5.3 8.1l-0.2 0.2l-3.8 8.4l-2 8.3l-0.7 8.3l0.4 8.4l1.2 8.2l1.9 8.3l2.2 8.3l1 2.9l2.6 5.4l3.9 8.2l1.3 3.5l2.3 4.7l2.7 8.3l2.3 8.2l0.4 1.8l2.2 6.4l1.7 8.1l0.1 8.2l-0.4 8.2l1 8.1l1.8 8.2l1.4 4.7l1.3 3.4l3.7 8.1l2.8 4.7l3.3 3.4l4.4 4.1l7.8 3.9l0.7 0.1l-0.7 0l-7.8 0l-7.7 0l-2.8 0l-5-7.5l-0.3-0.6l-3.6-8.1l-2.9-8.1l-1-3.3l-1.1-4.8l-1.4-8.2l-0.6-8.1l0.6-8.2l0-8.2l-1.2-8.1l-1.9-8.2l-2.1-7.5l-0.2-0.7l-2.3-8.3l-2.9-8.2l-2.4-4.9l-1.2-3.3l-2.9-8.3l-2.3-8.3l-1.4-5.6l-0.6-2.7l-1-8.2l-0.3-8.4l0.7-8.3l1.2-4.1l1.1-4.2l4-8.4l2.7-3.4l3.3-4.9l4.5-4.7l4.3-3.7l3.4-3.8l5.3-4.6l2.5-3.9l4.5-4.5zM287.4 118.4l7.7-1l4.1 1.1l3.7 1.8l5.9 6.6l-1.3 8.3l-4.6 5l-5.4 3.3l-2.4 1l-7.7 0.4l-4.8-1.4l-3-1.6l-6-6.7l1.7-8.3l4.3-3.6l7.5-4.8zM280.4 126.9l-0.8 4.4l-0.7 3.9l0.7 0.8l7.8 5l7.7-0.2l7.8-5.2l0.4-0.4l0.8-8.3l-1.2-1.4l-7.8-4.4l-7.7 1.1zM466 207.9l0 1.8l0 8.2l0 8.2l0 8.1l0 7.4l-7.8-5.1l-2.6-2.3l-5.1-7l-0.5-1.1l0.5-1.4l3.5-6.8l4.2-3.8l5.7-4.4zM466 298.5l0 0.8l-2.9 0z"/>
<path fill="#ff8200" stroke="#ff8200" d="M427.2 87.4l7.7 2.2l2.2 3.8l5.6 6.6l1.3 1.8l6.5 8l0.3 0.4l6.7 8.3l0.7 1.1l6.1 7.3l1.7 2.3l0 6l0 3.9l-2.4-3.9l-5.4-7.6l-0.4-0.7l-5.7-8.4l-1.6-2l-4.6-6.3l-3.2-4l-4-4.4l-3.8-4.5l-7.7-2.9l-7.8 3.6l-4.8 3.8l-3 1.7l-7.7 6.3l-0.4 0.4l-5.1 8.3l-2.3 5.6l-1.2 2.8l-1.8 8.3l-0.5 8.3l0.4 8.4l1.3 8.2l1.8 8.3l3 8.3l3.9 8.3l0.9 1.9l4 6.3l3.7 8l0.2 0.2l3.1 8.3l2.9 8.2l1.6 4.3l3.1 3.9l4.2 8.1l0.5 5l1.6 3.2l-1.6 5.3l-0.2 2.9l0.2 3.1l0.4 5l2.9 8.2l4.1 8.1l0.3 0.4l7.8 4l7.8-1.1l5.2-3.3l2.5-3.5l2-4.6l-2-7.3l-0.3-0.9l-7.4-6.7l-1.7-1.4l-6.1-4.9l-4.4-3.3l-2.8-8.2l2.2-8.1l4.6-8.2l0.4-0.5l5.7-7.7l2.1-2.8l5.4-5.5l2.3-2.5l5.8-5.7l2-2.3l0 2.3l0 8.2l0 6.5l-2.1 1.8l-5.7 4.4l-4.2 3.8l-3.5 6.8l-0.5 1.4l0.5 1.1l5.1 7l2.6 2.3l7.8 5.1l0 0.8l0 8.2l0 8.1l0 8.2l0 8.1l0 8.1l0 8.1l0 7.3l-2.9 0.8l-4.9 0l-7.7 0l-7.1 0l-0.7-0.1l-7.8-3.9l-4.4-4.1l-3.3-3.4l-2.8-4.7l-3.7-8.1l-1.3-3.4l-1.4-4.7l-1.8-8.2l-1-8.1l0.4-8.2l-0.1-8.2l-1.7-8.1l-2.2-6.4l-0.4-1.8l-2.3-8.2l-2.7-8.3l-2.3-4.7l-1.3-3.5l-3.9-8.2l-2.6-5.4l-1-2.9l-2.2-8.3l-1.9-8.3l-1.2-8.2l-0.4-8.4l0.7-8.3l2-8.3l3.8-8.4l0.2-0.2l5.3-8.1l2.5-2.5l6.8-5.9l0.9-1l7.8-6.6l1.7-0.8zM287.4 122.2l7.7-1.1l7.8 4.4l1.2 1.4l-0.8 8.3l-0.4 0.4l-7.8 5.2l-7.7 0.2l-7.8-5l-0.7-0.8l0.7-3.9l0.8-4.4zM286.2 126.9l-0.9 8.3l2.1 1.4l7.7 0.2l2.4-1.6l0.5-8.3l-2.9-1.8l-7.7 1z"/>
<path fill="#ff5e00" stroke="#ff5e00" d="M419.4 98l7.8-3.6l7.7 2.9l3.8 4.5l4 4.4l3.2 4l4.6 6.3l1.6 2l5.7 8.4l0.4 0.7l5.4 7.6l2.4 3.9l0 4.4l0 8.4l0 2.2l-0.6-2.2l-4-8.4l-3.2-5.3l-1.5-3l-4.7-8.3l-1.5-2.4l-3.5-6l-4.3-5.9l-1.9-2.4l-5.9-6.5l-3.6-1.9l-4.1-2l-7.8 2l-7.8 4.4l-4.9 4l-2.8 3.5l-2.9 4.8l-3.2 8.4l-1.7 7.9l-0.1 0.4l-0.3 8.3l0.4 5.6l0.3 2.8l1.6 8.2l2.4 8.3l3.1 8.3l0.4 0.8l5 7.5l2.7 4.5l3.3 3.7l4.3 8.2l0.2 0.6l3.8 7.7l4 5.8l7.7-2.3l2.6-3.5l5.2-7.7l0.4-0.6l6.7-8.2l0.7-0.7l6.6-7.5l1.1-1.3l5.6-7l2.2-4.3l0 4.3l0 8.3l0 5.9l-2 2.3l-5.8 5.7l-2.3 2.5l-5.4 5.5l-2.1 2.8l-5.7 7.7l-0.4 0.5l-4.6 8.2l-2.2 8.1l2.8 8.2l4.4 3.3l6.1 4.9l1.7 1.4l7.4 6.7l0.3 0.9l2 7.3l-2 4.6l-2.5 3.5l-5.2 3.3l-7.8 1.1l-7.8-4l-0.3-0.4l-4.1-8.1l-2.9-8.2l-0.4-5l-0.2-3.1l0.2-2.9l1.6-5.3l-1.6-3.2l-0.5-5l-4.2-8.1l-3.1-3.9l-1.6-4.3l-2.9-8.2l-3.1-8.3l-0.2-0.2l-3.7-8l-4-6.3l-0.9-1.9l-3.9-8.3l-3-8.3l-1.8-8.3l-1.3-8.2l-0.4-8.4l0.5-8.3l1.8-8.3l1.2-2.8l2.3-5.6l5.1-8.3l0.4-0.4l7.7-6.3l3-1.7zM287.4 126.1l7.7-1l2.9 1.8l-0.5 8.3l-2.4 1.6l-7.7-0.2l-2.1-1.4l0.9-8.3z"/>
<path fill="#ff3800" stroke="#ff3800" d="M419.4 101.8l7.8-2l4.1 2l3.6 1.9l5.9 6.5l1.9 2.4l4.3 5.9l3.5 6l1.5 2.4l4.7 8.3l1.5 3l3.2 5.3l4 8.4l0.6 2.2l0 6l0 8.3l0 4l-2.2 4.3l-5.6 7l-1.1 1.3l-6.6 7.5l-0.7 0.7l-6.7 8.2l-0.4 0.6l-5.2 7.7l-2.6 3.5l-7.7 2.3l-4-5.8l-3.8-7.7l-0.2-0.6l-4.3-8.2l-3.3-3.7l-2.7-4.5l-5-7.5l-0.4-0.8l-3.1-8.3l-2.4-8.3l-1.6-8.2l-0.3-2.8l-0.4-5.6l0.3-8.3l0.1-0.4l1.7-7.9l3.2-8.4l2.9-4.8l2.8-3.5l4.9-4l7.8-4.4zM410.2 110.2l-6.3 7.7l-0.4 0.6l-2.7 8.4l-1.4 8.3l-0.1 8.3l1 8.4l1.9 8.2l1.7 5.7l1.2 2.6l4.8 8.3l1.7 2.6l6.1 5.7l1.7 1.9l7.8 4.3l7.7-0.7l7.8-5.4l0.2-0.1l7.6-7.5l0.6-0.8l6-8.3l1.1-5.5l0.5-2.8l-0.5-2l-1.3-6.2l-3.1-8.4l-3.3-7.5l-0.3-0.8l-3.7-8.3l-3.8-6.8l-0.9-1.6l-6.4-8.3l-0.5-0.5l-7.7-4.7l-7.8 0.6l-7.8 3.4z"/>
<path fill="#ff1300" stroke="#ff1300" d="M411.6 109l7.8-3.4l7.8-0.6l7.7 4.7l0.5 0.5l6.4 8.3l0.9 1.6l3.8 6.8l3.7 8.3l0.3 0.8l3.3 7.5l3.1 8.4l1.3 6.2l0.5 2l-0.5 2.8l-1.1 5.5l-6 8.3l-0.6 0.8l-7.6 7.5l-0.2 0.1l-7.8 5.4l-7.7 0.7l-7.8-4.3l-1.7-1.9l-6.1-5.7l-1.7-2.6l-4.8-8.3l-1.2-2.6l-1.7-5.7l-1.9-8.2l-1-8.4l0.1-8.3l1.4-8.3l2.7-8.4l0.4-0.6l6.3-7.7zM417.3 110.2l-5.7 2.9l-4.3 5.4l-3.4 8.1l-0.1 0.3l-1.1 8.3l0.3 8.3l0.9 5.8l0.6 2.6l3 8.2l4 8.3l0.1 0.3l7.8 7.2l2.9 0.8l4.9 1.5l6.6-1.5l1.1-0.3l7.8-6.2l1.5-1.8l3.7-8.3l0.1-8.2l-1.6-8.4l-2.3-8.3l-1.4-3.7l-1.7-4.6l-4.6-8.4l-1.5-1.9l-7.5-6.4l-0.2-0.2l-7.8-0.6z"/>
<path fill="#ef0000" stroke="#ef0000" d="M419.4 109.4l7.8 0.6l0.2 0.2l7.5 6.4l1.5 1.9l4.6 8.4l1.7 4.6l1.4 3.7l2.3 8.3l1.6 8.4l-0.1 8.2l-3.7 8.3l-1.5 1.8l-7.8 6.2l-1.1 0.3l-6.6 1.5l-4.9-1.5l-2.9-0.8l-7.8-7.2l-0.1-0.3l-4-8.3l-3-8.2l-0.6-2.6l-0.9-5.8l-0.3-8.3l1.1-8.3l0.1-0.3l3.4-8.1l4.3-5.4l5.7-2.9zM411.3 118.5l-3.1 8.4l-1.1 8.3l0.8 8.3l2.3 8.4l1.4 3.6l3.8 4.6l4 4.3l7.8 1.3l7.7-5.2l0.3-0.4l2.9-8.2l0.7-8.4l-1-8.3l-2.5-8.3l-0.4-0.8l-5.4-7.6l-2.3-2l-7.8-1.8l-7.8 3.4z"/>
<path fill="#d00000" stroke="#d00000" d="M411.6 118.1l7.8-3.4l7.8 1.8l2.3 2l5.4 7.6l0.4 0.8l2.5 8.3l1 8.3l-0.7 8.4l-2.9 8.2l-0.3 0.4l-7.7 5.2l-7.8-1.3l-4-4.3l-3.8-4.6l-1.4-3.6l-2.3-8.4l-0.8-8.3l1.1-8.3l3.1-8.4zM414.4 126.9l-2.1 8.3l2.7 8.3l4.4 6.5l7.8-1.7l2.3-4.8l0.8-8.3l-2.5-8.3l-0.6-0.9l-7.8-3.9z"/>
<path fill="#b00000" stroke="#b00000" d="M419.4 122.1l7.8 3.9l0.6 0.9l2.5 8.3l-0.8 8.3l-2.3 4.8l-7.8 1.7l-4.4-6.5l-2.7-8.3l2.1-8.3z"/>
</g>
<path fill="#fff" d="M330.0,214.0 338.0,209.0 350.0,202.0 358.0,205.0 368.0,200.0 376.0,208.0 383.0,214.0 389.0,228.0 391.0,248.0 394.0,264.0 391.0,282.0 378.0,296.0 303.0,296.0 303.0,286.0 314.0,280.0 318.0,268.0 322.0,262.0 318.0,252.0 324.0,232.0Z"/>
<path fill="#fff" d="M74.0,287.0 81.0,280.0 88.0,287.0 81.0,294.0Z"/>
<path fill="#fff" d="M137.0,296.5 144.0,289.5 151.0,296.5 144.0,303.5Z"/>
<path fill="#fff" d="M426.0,21.0 436.0,14.0 446.0,21.0 436.0,28.0Z"/>
<path fill="#fff" d="M359.0,150.0 364.0,143.0 369.0,150.0 364.0,157.0Z"/>
<g clip-path="url(#fc)">
<path fill="#ccc" stroke="#000" stroke-width="0.9" stroke-linejoin="round" d="M0.0,0.0 274.5,0.0 269.5,13.5 254.0,14.5 254.0,24.0 235.0,42.0 218.4,53.9 186.9,74.2 157.4,79.3 139.6,80.3 129.0,93.9 113.8,80.3 109.0,94.5 105.7,95.5 95.5,86.4 92.5,102.6 62.0,110.8 45.8,119.9 30.5,121.9 12.3,127.7 7.6,138.4 15.3,153.0 8.2,158.1 0.0,158.1ZM0.0,169.3 31.1,169.3 31.1,176.4 23.4,187.6 17.3,201.8 7.2,216.0 0.0,221.0ZM344.6,0.0 316.2,46.2 316.2,61.0 321.3,81.3 330.4,89.4 336.5,101.0 340.6,85.4 345.7,75.2 354.8,61.0 360.9,40.7 369.0,20.4 370.6,0.0ZM305.0,300.0 304.8,291.5 320.0,296.1 323.0,284.0 324.0,274.0 327.0,261.0 321.0,249.0 328.0,230.0 333.0,218.0 344.0,215.6 358.0,223.0 370.0,226.0 382.0,219.6 379.0,232.0 378.0,252.0 388.0,264.0 384.0,280.0 368.0,300.0Z"/>
</g>
<path d="M0 0H466M0 8.6H466M0 17.1H466M0 25.7H466M0 34.2H466M0 42.7H466M0 51.2H466M0 59.7H466M0 68.1H466M0 76.6H466M0 85H466M0 93.4H466M0 101.8H466M0 110.2H466M0 118.5H466M0 126.9H466M0 135.2H466M0 143.5H466M0 151.9H466M0 160.1H466M0 168.4H466M0 176.7H466M0 185H466M0 193.2H466M0 201.4H466M0 209.7H466M0 217.9H466M0 226.1H466M0 234.2H466M0 242.4H466M0 250.6H466M0 258.7H466M0 266.9H466M0 275H466M0 283.1H466M0 291.2H466M0 299.3H466" stroke="#a0a0a0" stroke-opacity=".33" stroke-width="1.1" stroke-dasharray="1.1 6.667" fill="none"/>
<g clip-path="url(#fc)" stroke="#000">
<path d="M372.8 0l-1.4-3.3m.5-.2l-1.2-1.4l.2 1.9zM380.6 0l-1.2-3.6m.6-.2l-1.2-1.6l0 2zM388.3 0l-1-3.8m.6-.2l-1.1-1.7l-.1 2zM396.1 0l-.7-3.8m.6-.1l-1-1.8l-.3 2zM403.9 0l-.5-3.8m.6-.1l-.9-1.8l-.3 1.9zM411.6 0l-.6-3.7m.6-.1l-.9-1.7l-.3 1.9zM419.4 0l-.7-3.8m.6-.1l-.9-1.8l-.3 2zM427.2 0l-.7-4.1m.6-.1l-1-1.9l-.3 2.1zM434.9 0l-.5-4.2m.7-.1l-.9-2l-.4 2.1zM442.7 0l-.2-4m.6 0l-.8-1.9l-.5 2zM450.5 0l0-3.5m.6 0l-.6-1.7l-.6 1.7zM458.2 0l.1-2.7m.5 0l-.4-1.4l-.5 1.3zM372.8 8.6l-1.7-3.4m.5-.3l-1.4-1.4l.3 1.9zM380.6 8.6l-1.4-3.7m.6-.2l-1.3-1.6l.1 2.1zM388.3 8.6l-1.1-4m.6-.2l-1.2-1.8l-.1 2.2zM396.1 8.6l-.6-4.1m.7-.1l-1-1.9l-.4 2.1zM403.9 8.6l-.2-3.9m.6 0l-.7-1.9l-.5 2zM411.6 8.6l-.1-3.6m.6 0l-.6-1.8l-.5 1.8zM419.4 8.6l-.3-3.6m.6-.1l-.8-1.7l-.4 1.8zM427.2 8.6l-.5-4.1m.7-.1l-.9-1.9l-.4 2.1zM434.9 8.6l-.6-4.3m.7-.1l-1-2l-.4 2.2zM442.7 8.6l-.6-4.2m.7-.1l-1-2l-.4 2.2zM450.5 8.6l-.4-3.7m.6-.1l-.8-1.8l-.4 1.9zM458.2 8.6l-.4-2.5m.4-.1l-.7-1.2l-.2 1.3zM372.8 17.1l-2.1-3.3m.5-.3l-1.5-1.3l.5 2zM380.6 17.1l-1.8-3.9m.6-.3l-1.5-1.7l.3 2.2zM388.3 17.1l-1.4-4.6m.7-.2l-1.4-2.1l0 2.5zM396.1 17.1l-.8-6m.9-.1l-1.3-2.8l-.5 3.1zM403.9 17.1l0-4.3m.7 0l-.7-2.1l-.7 2.1zM411.6 17.1l.6-3.7m.6 .1l-.3-1.9l-.9 1.7zM419.4 17.1l.8-3.4m.6 .1l-.2-1.8l-1 1.6zM427.2 17.1l.1-3.7m.6 0l-.5-1.8l-.7 1.8zM442.7 17.1l-1.4-4.1m.6-.2l-1.3-1.8l.1 2.2zM450.5 17.1l-1.6-3.8m.6-.3l-1.4-1.6l.2 2.1zM458.2 17.1l-1.9-1.9m.3-.3l-1.3-.6l.6 1.3zM466 17.1l-2.5-.4m.1-.4l-1.3 .3l1.2 .6zM372.8 25.7l-2.8-3.2m.5-.4l-1.9-1.1l.9 2zM380.6 25.7l-2.5-4.6m.7-.4l-2-1.9l.5 2.6zM388.3 25.7l-1.8-5.7m.9-.3l-1.8-2.5l0 3.1zM396.1 25.7l-.9-6.8m1-.1l-1.4-3.2l-.6 3.5zM403.9 25.7l.3-5.5m.8 .1l-.7-2.7l-1 2.6zM411.6 25.7l1.2-4.1m.6 .2l0-2.2l-1.3 1.8zM419.4 25.7l1.6-3.1m.5 .3l.3-1.8l-1.3 1.3zM427.2 25.7l.7-2.7m.5 .1l-.1-1.5l-.8 1.2zM442.7 25.7l-2.4-3.2m.5-.4l-1.7-1.2l.7 2zM450.5 25.7l-3.4-3.2m.5-.5l-2.2-1.1l1.2 2.1zM458.2 25.7l-3.9-1.6m.3-.6l-2.2-.2l1.7 1.4zM466 25.7l-3.7-.4m.1-.6l-1.9 .4l1.8 .8zM365 34.2l-3.1-1.8m.3-.5l-1.8-.4l1.2 1.4zM372.8 34.2l-3.3-3.3m.5-.5l-2.2-1.1l1.1 2.2zM380.6 34.2l-3.2-5.5m.8-.5l-2.4-2.2l.7 3.2zM388.3 34.2l-2.3-7.2m1.1-.3l-2.2-3.2l.1 3.9zM396.1 34.2l-.9-7.8m1.1-.1l-1.6-3.7l-.7 4zM403.9 34.2l.5-7.2m1.1 .1l-.8-3.6l-1.3 3.5zM411.6 34.2l1.9-5.3m.8 .3l.1-2.9l-1.7 2.3zM419.4 34.2l2.4-2.7m.4 .4l.7-1.7l-1.6 .9zM427.2 34.2l2-1.1m.2 .4l.8-.9l-1.2 .2zM442.7 34.2l-2.1-2.1m.4-.4l-1.4-.7l.7 1.4zM450.5 34.2l-3-2.3m.4-.5l-1.8-.7l1.1 1.6zM458.2 34.2l-3.7-1.5m.2-.6l-2-.1l1.6 1.3zM466 34.2l-3.8-.7m.1-.6l-2 .3l1.8 1zM365 42.7l-2.7-.9m.1-.5l-1.5 0l1.2 .9zM372.8 42.7l-3.1-3.1m.5-.5l-2-1l1 2zM380.6 42.7l-3.2-6.4m.9-.5l-2.5-2.7l.6 3.6zM388.3 42.7l-2.3-8.7m1.3-.3l-2.4-3.9l-.1 4.6zM396.1 42.7l-1-9.6m1.4-.2l-1.9-4.6l-.9 4.9zM403.9 42.7l.3-9m1.3 0l-1.2-4.5l-1.5 4.4zM411.6 42.7l1.4-6.8m1 .2l-.3-3.6l-1.7 3.1zM419.4 42.7l2.5-3m.5 .4l.8-1.9l-1.7 1.1zM427.2 42.7l3.5-.3m0 .6l1.7-.7l-1.8-.4zM434.9 42.7l3.3 1.3m-.2 .5l1.8 .1l-1.4-1.2zM442.7 42.7l2.3-.3m.1 .4l1.1-.5l-1.2-.3zM458.2 42.7l-2.6-.7m.1-.4l-1.4 .1l1.2 .8zM466 42.7l-3.2-.6m.1-.5l-1.7 .2l1.5 .8zM372.8 51.2l-1.5-2.7m.5-.3l-1.2-1.1l.3 1.6zM380.6 51.2l-1.7-6.9m1-.3l-1.9-3.1l-.2 3.7zM388.3 51.2l-1.6-9.7m1.4-.2l-2.2-4.6l-.6 5zM396.1 51.2l-1-11.6m1.4-.1l-1.8-4.9l-1 5.1zM403.9 51.2l.1-10.8m1.4 0l-1.3-5l-1.5 5zM411.6 51.2l1.5-8.4m1.2 .2l-.5-4.4l-2 3.9zM419.4 51.2l3.2-4.9m.7 .5l.8-2.9l-2.3 1.9zM427.2 51.2l4.7-1.2m.2 .7l2.1-1.3l-2.5-.1zM434.9 51.2l5.2 1.7m-.3 .8l2.8 0l-2.3-1.6zM442.7 51.2l3.7 2.2m-.3 .6l2.1 .5l-1.5-1.7zM450.5 51.2l1.7 2.2m-.4 .3l1.2 .8l-.5-1.4zM466 51.2l-2.2 0m0-.4l-1.1 .4l1.1 .4zM357.3 59.7l2.5 2.6m-.4 .4l1.6 .9l-.8-1.7zM365 59.7l2.2 1.3m-.2 .4l1.3 .3l-.9-1zM372.8 59.7l1.5-2.2m.4 .3l.4-1.3l-1.1 .8zM380.6 59.7l.2-5.9m.9 0l-.8-2.9l-1 2.9zM388.3 59.7l-.6-9.7m1.4-.1l-1.7-4.7l-1.1 4.9zM396.1 59.7l-.5-12m1.4-.1l-1.6-4.9l-1.2 5zM403.9 59.7l.5-12m1.4 .1l-1.2-5.1l-1.6 4.9zM411.6 59.7l2-10.8m1.4 .3l-.4-5.2l-2.3 4.7zM419.4 59.7l3.5-7.2m1.1 .5l.7-4.1l-2.8 3zM427.2 59.7l4.6-2.7m.4 .7l1.8-2l-2.7 .6zM434.9 59.7l4.9 2.4m-.4 .7l2.8 .4l-2-1.9zM442.7 59.7l4.1 4.2m-.6 .6l2.7 1.4l-1.4-2.7zM450.5 59.7l2.6 4m-.6 .4l1.9 1.6l-.6-2.4zM458.2 59.7l1.3 3.1m-.5 .2l1.1 1.3l-.1-1.7zM302.9 68.1l5.2-.2m0 .8l2.5-.9l-2.6-.7zM310.7 68.1l4.9 1.2m-.2 .8l2.6-.2l-2.2-1.4zM357.3 68.1l4.1 3m-.5 .6l2.5 .9l-1.6-2.1zM365 68.1l3.5 1.8m-.3 .6l2 .3l-1.5-1.5zM372.8 68.1l2.9-.9m.1 .5l1.3-.9l-1.6-.1zM380.6 68.1l1.3-4.3m.7 .2l-.1-2.3l-1.3 1.9zM388.3 68.1l.4-9.2m1.3 .1l-1.1-4.6l-1.5 4.5zM396.1 68.1l.5-12m1.4 .1l-1.2-5.1l-1.6 4.9zM403.9 68.1l1.2-11.9m1.4 .1l-.9-5.1l-1.9 4.8zM411.6 68.1l2.5-11.7m1.4 .3l-.3-5.2l-2.4 4.6zM419.4 68.1l3.7-8.7m1.3 .5l.6-4.8l-3.1 3.7zM427.2 68.1l3.8-3m.5 .6l1.4-2.1l-2.3 .9zM434.9 68.1l3.9 2.2m-.3 .6l2.2 .5l-1.5-1.7zM442.7 68.1l3.7 5.2m-.8 .6l2.6 2l-1.1-3.1zM450.5 68.1l3.1 5.3m-.8 .5l2.3 2.1l-.7-3.1zM458.2 68.1l2.4 3.5m-.6 .4l1.7 1.4l-.6-2.1zM466 68.1l1.9 2m-.3 .3l1.3 .6l-.6-1.3zM295.1 76.6l5.5-2.5m.4 .8l2.3-2.1l-3.1 .4zM302.9 76.6l5.6 0m0 .9l2.8-.8l-2.7-.9zM310.7 76.6l5.1 1.7m-.3 .8l2.8 .1l-2.2-1.6zM318.4 76.6l4.6 2.5m-.4 .7l2.7 .5l-1.9-2zM349.5 76.6l5.7 3.3m-.5 .8l3.3 .8l-2.3-2.5zM357.3 76.6l5.7 3.6m-.5 .9l3.4 .9l-2.3-2.6zM365 76.6l5.1 2.6m-.4 .8l2.9 .5l-2.1-2.1zM372.8 76.6l4.1 .5m-.1 .7l2.1-.4l-1.9-.9zM380.6 76.6l2.9-2.9m.5 .5l1-1.9l-1.9 1zM388.3 76.6l2.2-8.8m1.3 .3l-.2-4.6l-2.3 4zM396.1 76.6l2.1-11.8m1.4 .2l-.5-5.2l-2.2 4.7zM403.9 76.6l2.4-11.8m1.4 .3l-.4-5.2l-2.4 4.6zM411.6 76.6l3.3-11.5m1.3 .4l0-5.2l-2.7 4.4zM419.4 76.6l4.3-9.7m1.3 .6l.7-5.1l-3.3 4zM427.2 76.6l4.1-3.4m.5 .6l1.5-2.3l-2.6 1zM434.9 76.6l3.5 2.9m-.4 .5l2.2 .9l-1.3-2zM442.7 76.6l3 5.9m-.9 .4l2.3 2.4l-.6-3.3zM450.5 76.6l2.6 5.7m-.9 .4l2.1 2.4l-.4-3.2zM458.2 76.6l2.4 4m-.6 .4l1.8 1.6l-.6-2.3zM466 76.6l2.3 2.6m-.4 .4l1.6 .9l-.7-1.6zM287.4 85l5.6-4.5m.7 .8l2.1-3l-3.4 1.4zM295.1 85l5.5-2.7m.4 .8l2.3-2.1l-3.1 .5zM302.9 85l5 .2m0 .8l2.5-.7l-2.5-.9zM310.7 85l4.9 2.2m-.3 .8l2.7 .3l-2.1-1.8zM318.4 85l4.4 3m-.5 .7l2.6 .8l-1.7-2.2zM341.7 85l4.2 1.7m-.3 .7l2.3 .2l-1.8-1.5zM349.5 85l5.8 2.5m-.4 .9l3.2 .4l-2.5-2.1zM357.3 85l6.4 3.7m-.5 .9l3.7 .9l-2.6-2.8zM365 85l6.5 3.1m-.5 1l3.7 .6l-2.8-2.5zM372.8 85l6.5 1.2m-.2 1l3.4-.4l-3-1.6zM380.6 85l6.3-2.1m.3 .9l2.8-2l-3.4 .1zM388.3 85l5.8-7.8m1.1 .8l1.7-4.7l-4 3zM396.1 85l4.3-11.2m1.3 .5l.5-5.2l-3.1 4.2zM403.9 85l4.2-11.2m1.3 .5l.4-5.2l-3.1 4.2zM411.6 85l4.9-11m1.3 .6l.8-5.1l-3.3 4zM419.4 85l5.1-9m1.2 .7l1.2-5l-3.7 3.7zM427.2 85l3-2.6m.4 .5l1.1-1.8l-1.9 .8zM434.9 85l2.4 3.3m-.5 .4l1.7 1.3l-.7-2zM442.7 85l2.5 6.3m-.9 .4l2.2 2.7l-.3-3.5zM450.5 85l2.4 5.5m-.8 .4l2 2.4l-.3-3.1zM458.2 85l2.6 3.9m-.6 .4l1.9 1.5l-.7-2.3zM466 85l2.6 2.7m-.4 .4l1.7 .9l-.9-1.8zM279.6 93.4l7.6-5.8m.8 1.1l2.9-4l-4.6 1.8zM287.4 93.4l7.7-4.7m.7 1.1l3.1-3.4l-4.5 1.2zM295.1 93.4l7.1-2.3m.3 1l3.1-2.2l-3.8 .1zM302.9 93.4l6.2 .6m-.1 .9l3.2-.7l-3-1.2zM310.7 93.4l5.5 2.8m-.4 .8l3.1 .6l-2.3-2.2zM318.4 93.4l4.6 4m-.6 .7l2.9 1.3l-1.7-2.6zM326.2 93.4l3.4 3.7m-.6 .5l2.2 1.3l-1.1-2.4zM341.7 93.4l3 .9m-.2 .5l1.6 0l-1.3-1zM349.5 93.4l3.5 1.2m-.2 .6l1.9 0l-1.5-1.2zM357.3 93.4l5.5 2.6m-.4 .8l3.1 .4l-2.3-2.1zM365 93.4l7.2 2.3m-.3 1.1l3.9 .1l-3.2-2.2zM372.8 93.4l8.5 .7m-.1 1.2l4.3-.9l-4.1-1.6zM380.6 93.4l9.6-2.3m.3 1.4l4.4-2.5l-5-.2zM388.3 93.4l10-6.7m.8 1.2l3.4-3.9l-4.9 1.6zM396.1 93.4l6.7-9.9m1.2 .8l1.6-4.9l-4 3.4zM403.9 93.4l6.6-10m1.2 .8l1.6-4.9l-3.9 3.4zM411.6 93.4l7.3-9.5m1.1 .9l2-4.8l-4.2 3.1zM419.4 93.4l7.1-6.8m1 1l2.5-4.4l-4.5 2.3zM427.2 93.4l4.2-1m.2 .7l1.9-1.1l-2.2-.2zM434.9 93.4l3.5 3.5m-.5 .5l2.3 1.2l-1.2-2.3zM442.7 93.4l3.9 6.3m-.9 .6l2.9 2.5l-1-3.7zM450.5 93.4l4.2 5.5m-.8 .6l2.9 2.1l-1.2-3.3zM458.2 93.4l3.6 4.1m-.6 .5l2.4 1.5l-1.1-2.6zM466 93.4l3.1 2.8m-.4 .5l2 .9l-1.1-1.9zM248.5 101.8l8.7-1.1m.2 1.3l4.1-1.8l-4.4-.7zM256.3 101.8l9.6-.5m.1 1.4l4.7-1.7l-4.8-1.1zM264.1 101.8l11.2-1.3m.2 1.4l4.8-2l-5.1-.8zM271.8 101.8l11.2-4.3m.5 1.3l4.2-3.1l-5.2 .5zM279.6 101.8l10.6-5.6m.7 1.2l3.8-3.6l-5.1 1.1zM287.4 101.8l10.7-4.5m.5 1.3l4.1-3.2l-5.2 .6zM295.1 101.8l9.2-1.5m.2 1.3l4.3-2.1l-4.7-.6zM302.9 101.8l8 1.6m-.2 1.2l4.2-.4l-3.7-1.9zM310.7 101.8l6.8 4.1m-.6 1l4 1l-2.8-3zM318.4 101.8l5.6 5.5m-.8 .8l3.5 1.9l-1.9-3.5zM326.2 101.8l3.9 5.5m-.8 .6l2.8 2.1l-1.1-3.3zM334 101.8l2.1 3.4m-.5 .3l1.6 1.3l-.5-2zM341.7 101.8l2.9 .1m0 .5l1.4-.4l-1.4-.6zM349.5 101.8l3.7-.7m.1 .6l1.7-.9l-1.9-.3zM357.3 101.8l5.7 .5m-.1 .9l2.9-.6l-2.7-1.1zM365 101.8l7.5 .8m-.1 1.1l3.8-.7l-3.6-1.5zM372.8 101.8l9.3-.9m.1 1.3l4.4-1.8l-4.7-.9zM380.6 101.8l11.3-4m.5 1.3l4.3-3l-5.2 .3zM388.3 101.8l10.3-6.2m.7 1.2l3.6-3.8l-5 1.4zM396.1 101.8l9-8m.9 1l2.8-4.4l-4.7 2.3zM403.9 101.8l8.5-8.4m1 1l2.6-4.5l-4.5 2.5zM411.6 101.8l9.5-7.3m.8 1.1l3.1-4.1l-4.8 1.9zM419.4 101.8l8.3-3.7m.5 1.2l3.6-3l-4.6 .6zM427.2 101.8l5.5 .7m-.1 .8l2.8-.5l-2.6-1.2zM434.9 101.8l4.7 4m-.6 .7l2.9 1.3l-1.7-2.7zM442.7 101.8l4.8 6m-.9 .7l3.2 2.2l-1.5-3.6zM450.5 101.8l4.9 5.9m-.9 .7l3.3 2.2l-1.6-3.6zM458.2 101.8l4.6 4.8m-.7 .7l3 1.7l-1.5-3zM466 101.8l4 3.2m-.5 .6l2.5 1l-1.5-2.2zM178.6 110.2l3.1 .7m-.1 .5l1.7-.2l-1.4-.9zM186.4 110.2l3.5-.6m.1 .6l1.6-.9l-1.8-.3zM217.5 110.2l5.3-1.4m.2 .8l2.4-1.5l-2.8-.1zM225.2 110.2l6-1.6m.2 .9l2.7-1.7l-3.2-.1zM233 110.2l6.7-2.4m.4 1l2.9-2.2l-3.6 .2zM240.8 110.2l7.3-2.7m.4 1.1l3.2-2.4l-4 .3zM248.5 110.2l8.4-2.3m.3 1.2l3.8-2.4l-4.5-.1zM256.3 110.2l9.5-1.6m.2 1.4l4.4-2.2l-4.9-.6zM264.1 110.2l11.4-2.8m.3 1.4l4.5-2.6l-5.2-.2zM271.8 110.2l11.2-4.3m.5 1.3l4.2-3.1l-5.2 .5zM279.6 110.2l11-4.8m.6 1.3l4-3.3l-5.1 .7zM287.4 110.2l11.5-3.5m.4 1.3l4.4-2.8l-5.2 .1zM295.1 110.2l10.7-.4m.1 1.4l4.9-1.6l-5.1-1.2zM302.9 110.2l9.1 2.9m-.4 1.3l4.9 .1l-4.1-2.8zM310.7 110.2l8 5.6m-.8 1.1l4.7 1.6l-3.1-3.9zM318.4 110.2l7.1 6.8m-1 1l4.5 2.4l-2.5-4.4zM326.2 110.2l6.1 7.7m-1.1 .9l4.1 2.9l-1.9-4.7zM334 110.2l4.2 5.6m-.8 .6l2.9 2.2l-1.2-3.4zM341.7 110.2l9.3-4.2m.6 1.3l4-3.3l-5.1 .8zM349.5 110.2l8.3-4.3m.6 1.2l3.5-3.3l-4.7 .9zM357.3 110.2l6.5-.7m.1 1l3.1-1.3l-3.3-.6zM365 110.2l6.8-.3m.1 1l3.3-1.2l-3.4-.8zM372.8 110.2l8.1-2.7m.4 1.2l3.6-2.5l-4.4 .1zM380.6 110.2l10.2-6.3m.7 1.2l3.5-3.8l-5 1.5zM388.3 110.2l9-7.9m.9 1.1l2.8-4.4l-4.7 2.2zM396.1 110.2l7.9-9m1.1 .9l2.2-4.7l-4.3 2.8zM403.9 110.2l7.6-9.3m1.1 .9l2.1-4.8l-4.2 3zM411.6 110.2l8.8-5.2m.7 1.2l3.6-3.8l-5 1.4zM419.4 110.2l6.4-1m.1 1l3-1.4l-3.3-.5zM427.2 110.2l5 2.1m-.3 .8l2.8 .3l-2.1-1.8zM434.9 110.2l4.5 4.5m-.7 .7l2.9 1.5l-1.5-2.9zM442.7 110.2l4.5 5.8m-.9 .7l3.1 2.2l-1.4-3.5zM450.5 110.2l4.7 5.8m-.9 .7l3.2 2.2l-1.4-3.6zM458.2 110.2l4.6 4.9m-.7 .7l3 1.7l-1.5-3.1zM466 110.2l4.3 3.7m-.6 .7l2.7 1.2l-1.5-2.5zM170.9 118.5l3.5 1.5m-.2 .6l2 .2l-1.5-1.3zM178.6 118.5l3.9 .5m-.1 .6l2-.4l-1.8-.9zM186.4 118.5l3.9-1m.2 .6l1.8-1.1l-2.1-.1zM194.2 118.5l3.9-1.6m.2 .6l1.7-1.4l-2.2 .2zM201.9 118.5l4.2-1.8m.3 .7l1.8-1.5l-2.3 .2zM209.7 118.5l4.5-1.7m.3 .7l1.9-1.5l-2.5 .1zM217.5 118.5l4.9-1.8m.3 .7l2.1-1.6l-2.7 .1zM225.2 118.5l5.3-2.1m.3 .8l2.3-1.8l-2.9 .2zM233 118.5l5.4-2.5m.4 .8l2.3-2.1l-3.1 .4zM240.8 118.5l5.4-2.9m.4 .8l2.2-2.3l-3.1 .6zM248.5 118.5l5.5-2.9m.4 .8l2.3-2.3l-3.1 .6zM256.3 118.5l6.5-2.8m.4 1l2.8-2.4l-3.6 .4zM264.1 118.5l7.8-3.8m.6 1.1l3.3-3l-4.4 .7zM271.8 118.5l8.9-5.1m.7 1.2l3.6-3.7l-5 1.3zM279.6 118.5l9.9-5.5m.7 1.2l3.7-3.7l-5 1.2zM287.4 118.5l10.1-3.3m.4 1.3l4.3-2.9l-5.2 .2zM295.1 118.5l9.3 .8m-.1 1.3l4.7-1l-4.5-1.7zM302.9 118.5l7.8 4.3m-.6 1.1l4.5 1l-3.2-3.2zM310.7 118.5l6.9 6.2m-.9 1l4.3 2l-2.5-4.1zM318.4 118.5l7 7.2m-1 1l4.4 2.6l-2.4-4.5zM326.2 118.5l7.5 8.9m-1.1 .9l4.3 2.9l-2.1-4.7zM334 118.5l6.7 6.1m-.9 1l4.2 2l-2.4-4zM341.7 118.5l8-1.3m.2 1.2l3.8-1.8l-4.2-.6zM349.5 118.5l8.5-7.5m.9 1.1l2.8-4.4l-4.7 2.3zM357.3 118.5l4.1-.1m0 .7l2-.7l-2-.6zM365 118.5l4.1-.5m.1 .6l1.9-.9l-2.1-.4zM372.8 118.5l5.6-4.3m.6 .8l2.1-3l-3.4 1.3zM380.6 118.5l7.6-8.4m1 .9l2.3-4.7l-4.4 2.8zM388.3 118.5l6.9-9.8m1.1 .8l1.7-4.9l-4 3.3zM396.1 118.5l5.8-10.5m1.2 .7l1.2-5.1l-3.6 3.7zM403.9 118.5l5-10.9m1.3 .6l.8-5.1l-3.3 4zM411.6 118.5l3.4-4.3m.7 .5l1-2.6l-2.3 1.6zM419.4 118.5l3.6-.2m0 .6l1.7-.7l-1.8-.5zM427.2 118.5l3.3 2.6m-.4 .5l2 .7l-1.2-1.8zM434.9 118.5l3.3 4.5m-.7 .5l2.3 1.7l-.9-2.7zM442.7 118.5l3.5 5.5m-.8 .5l2.6 2.2l-.9-3.3zM450.5 118.5l3.8 5.5m-.8 .6l2.7 2.2l-1-3.3zM458.2 118.5l4 4.8m-.7 .6l2.7 1.8l-1.2-3zM466 118.5l3.9 3.9m-.6 .6l2.5 1.3l-1.3-2.5zM163.1 126.9l3 1.1m-.2 .5l1.7 .1l-1.3-1.1zM170.9 126.9l3.5 1m-.2 .6l1.9-.1l-1.6-1.1zM178.6 126.9l3.9 .1m0 .6l1.9-.6l-1.9-.7zM186.4 126.9l3.9-.9m.1 .6l1.8-1.1l-2.1-.2zM194.2 126.9l3.7-1.5m.2 .6l1.6-1.3l-2.1 .2zM201.9 126.9l3.5-1.9m.3 .6l1.4-1.5l-2 .4zM209.7 126.9l3.5-2m.3 .6l1.4-1.5l-2 .4zM217.5 126.9l3.6-2.1m.3 .6l1.5-1.6l-2.1 .4zM225.2 126.9l3.7-2m.3 .6l1.5-1.6l-2.1 .4zM233 126.9l3.4-2.1m.3 .5l1.3-1.6l-2 .5zM240.8 126.9l2.9-2.6m.4 .5l1-1.7l-1.9 .8zM248.5 126.9l2.7-3.1m.5 .4l.8-1.9l-1.8 1.1zM256.3 126.9l2.9-3.3m.5 .4l.9-2.1l-1.9 1.2zM264.1 126.9l3.3-4.2m.6 .5l1-2.6l-2.3 1.6zM271.8 126.9l3.8-5.4m.8 .6l1.1-3.2l-2.7 2.1zM279.6 126.9l4.1-5.7m.8 .6l1.2-3.4l-2.9 2.2zM287.4 126.9l4.5-3.5m.5 .7l1.7-2.4l-2.8 1.1zM295.1 126.9l4.1 2.2m-.3 .6l2.3 .4l-1.7-1.7zM302.9 126.9l2.7 5.4m-.8 .4l2.2 2.3l-.5-3.1zM310.7 126.9l1.9 6.4m-1 .3l1.9 2.9l0-3.4zM318.4 126.9l1.4 6.3m-.9 .2l1.6 2.9l.3-3.3zM326.2 126.9l1.6 9.1m-1.3 .2l2.1 4.2l.5-4.7zM334 126.9l.9 6.4m-1 .1l1.4 3l.5-3.3zM341.7 126.9l1.8 4.7m-.7 .3l1.6 2l-.1-2.6zM349.5 126.9l-4.2-11.2m1.3-.5l-3.1-4.2l.4 5.2zM357.3 126.9l-2.3-5.5m.8-.3l-1.9-2.4l.3 3.1zM365 126.9l1.8-2.5m.4 .3l.5-1.5l-1.3 .9zM372.8 126.9l3.2-5.4m.8 .5l.7-3.1l-2.4 2.2zM380.6 126.9l4.1-8.8m1.3 .6l.8-4.9l-3.3 3.7zM388.3 126.9l4.4-11.2m1.3 .5l.5-5.2l-3.1 4.1zM396.1 126.9l3.5-11.5m1.3 .4l.1-5.2l-2.8 4.4zM403.9 126.9l2-8.5m1.2 .3l-.3-4.5l-2.2 3.9zM411.6 126.9l1.3-4.1m.6 .2l0-2.2l-1.3 1.8zM419.4 126.9l2-.6m.1 .4l.9-.6l-1.1-.1zM427.2 126.9l1.8 2.8m-.5 .3l1.4 1.1l-.5-1.7zM434.9 126.9l1.9 4.2m-.7 .3l1.6 1.8l-.3-2.4zM442.7 126.9l2.3 5.1m-.8 .3l1.9 2.2l-.3-2.8zM450.5 126.9l2.7 5m-.8 .4l2.1 2l-.6-2.9zM458.2 126.9l3.1 4.5m-.7 .5l2.2 1.7l-.8-2.7zM466 126.9l3.3 3.8m-.6 .5l2.2 1.4l-1-2.4zM163.1 135.2l1.8 .5m-.1 .3l1-.1l-.8-.6zM170.9 135.2l2.6 .2m0 .4l1.3-.3l-1.2-.6zM178.6 135.2l3.2-.3m.1 .5l1.5-.7l-1.6-.4zM186.4 135.2l3.3-.9m.1 .5l1.5-1l-1.8-.1zM194.2 135.2l3.1-1.2m.2 .5l1.3-1.1l-1.7 .1zM201.9 135.2l2.6-1.7m.3 .4l1-1.3l-1.6 .4zM209.7 135.2l2.3-2.2m.4 .4l.8-1.4l-1.5 .7zM217.5 135.2l2.1-2.4m.4 .3l.6-1.6l-1.4 .9zM225.2 135.2l2.1-2.1m.3 .4l.7-1.4l-1.4 .7zM233 135.2l1.4-1.7m.3 .3l.4-1.1l-1 .6zM240.8 135.2l.3-2.3m.4 .1l-.3-1.2l-.6 1.1zM248.5 135.2l-.5-3.1m.5-.1l-.7-1.5l-.3 1.6zM256.3 135.2l-.8-3.6m.6-.1l-1-1.7l-.2 1.9zM264.1 135.2l-.9-4.1m.7-.1l-1.1-1.9l-.2 2.2zM271.8 135.2l-1.3-5m.8-.2l-1.4-2.2l-.1 2.6zM279.6 135.2l-2.2-5m.8-.3l-1.8-2.1l.3 2.8zM287.4 135.2l-3.5-2.8m.4-.6l-2.2-.8l1.3 1.9zM295.1 135.2l-4.4 2.7m-.4-.7l-1.7 2l2.6-.7zM302.9 135.2l-3.9 6.2m-.9-.6l-1 3.6l2.9-2.5zM310.7 135.2l-4.2 7.5m-1.1-.6l-1 4.3l3.2-3.1zM318.4 135.2l-5.5 8.2m-1.2-.8l-1.5 4.8l3.9-3.3zM326.2 135.2l-7.2 9.6m-1.1-.8l-1.9 4.8l4.1-3.1zM334 135.2l-6 6m-.9-.9l-2.1 3.8l3.8-2.1zM341.7 135.2l-4.2 .6m-.1-.7l-2 1l2.2 .4zM349.5 135.2l-8.3-5.7m.8-1.2l-4.9-1.6l3.3 4zM357.3 135.2l-5.7-8.1m1.1-.8l-4-3.2l1.7 4.8zM365 135.2l-.6-4.2m.7-.1l-.9-2l-.4 2.1zM372.8 135.2l.8-6.6m1 .1l-.6-3.4l-1.4 3.1zM380.6 135.2l1.6-9.2m1.3 .2l-.5-4.8l-2.2 4.3zM388.3 135.2l1.8-10.6m1.4 .2l-.6-5.2l-2.2 4.7zM396.1 135.2l1.1-9.8m1.4 .2l-.9-5l-1.9 4.7zM403.9 135.2l.3-7.4m1.1 0l-1-3.7l-1.2 3.6zM411.6 135.2l-.2-4.1m.6 0l-.7-2l-.6 2zM427.2 135.2l.2 2.7m-.5 0l.6 1.3l.4-1.4zM434.9 135.2l.6 3.9m-.6 .1l.9 1.8l.3-2zM442.7 135.2l1.2 4.4m-.7 .2l1.3 2l.1-2.3zM450.5 135.2l1.8 4.1m-.6 .3l1.6 1.8l-.3-2.3zM458.2 135.2l2.3 3.9m-.6 .4l1.8 1.5l-.5-2.3zM466 135.2l2.6 3.6m-.6 .4l1.8 1.3l-.7-2.2zM178.6 143.5l2-1.2m.2 .4l.8-1l-1.2 .2zM186.4 143.5l2.5-1m.2 .4l1-.9l-1.4 .1zM194.2 143.5l2.2-.7m.1 .4l1-.7l-1.2 0zM201.9 143.5l1.4-1.2m.2 .3l.5-.9l-.9 .3zM209.7 143.5l.6-2.1m.4 .1l-.1-1.1l-.7 .9zM217.5 143.5l0-2.3m.4 0l-.4-1.1l-.4 1.2zM225.2 143.5l-1-1.7m.3-.2l-.8-.6l.2 1zM233 143.5l-1.8-.7m.1-.3l-1 0l.7 .7zM240.8 143.5l-2.4-1.2m.2-.4l-1.4-.2l1 1zM248.5 143.5l-2.9-2.3m.4-.5l-1.8-.6l1 1.6zM256.3 143.5l-3.4-3m.5-.5l-2.1-.9l1.2 2zM264.1 143.5l-4.2-3.8m.6-.6l-2.7-1.2l1.5 2.5zM271.8 143.5l-5.4-4.2m.6-.8l-3.3-1.3l2 2.9zM279.6 143.5l-6.9-3.6m.5-1l-3.9-.8l2.9 2.8zM287.4 143.5l-8.6-1.4m.2-1.3l-4.5 .6l4.1 1.9zM295.1 143.5l-9.2 2.3m-.3-1.3l-4.2 2.5l4.9 .2zM302.9 143.5l-8.3 5.6m-.8-1.2l-3.3 3.9l4.9-1.6zM310.7 143.5l-7.9 8.2m-1-1l-2.5 4.6l4.5-2.6zM318.4 143.5l-7.5 9.4m-1.1-.9l-2 4.8l4.2-3zM326.2 143.5l-7.4 9.4m-1.1-.9l-2 4.8l4.2-3.1zM334 143.5l-7.4 4.7m-.7-1.1l-3 3.4l4.3-1.2zM341.7 143.5l-4.6-1.2m.2-.7l-2.4 .1l2.1 1.3zM349.5 143.5l-4.4-4.4m.7-.7l-2.8-1.5l1.5 2.8zM357.3 143.5l-5.7-10.5m1.2-.7l-3.6-3.7l1.2 5.1zM365 143.5l-1.5-6m.9-.2l-1.6-2.8l-.2 3.2zM372.8 143.5l-.3-7.9m1.2 0l-1.3-3.8l-1 3.9zM380.6 143.5l.3-9.7m1.4 0l-1.3-4.8l-1.5 4.7zM388.3 143.5l.2-10m1.4 0l-1.3-5l-1.5 4.9zM396.1 143.5l-.2-8.9m1.3 0l-1.4-4.4l-1.2 4.4zM403.9 143.5l-.8-6.7m1-.1l-1.4-3.2l-.6 3.4zM411.6 143.5l-1.2-3.8m.6-.2l-1.2-1.7l0 2.1zM419.4 143.5l-1.8-1.1m.2-.3l-1.1-.2l.7 .9zM427.2 143.5l-1.2 2.1m-.4-.2l-.2 1.3l1-.8zM434.9 143.5l-.4 3.3m-.5-.1l.4 1.7l.7-1.6zM442.7 143.5l.5 3.7m-.6 .1l.9 1.7l.3-1.9zM450.5 143.5l1.3 3.7m-.6 .2l1.2 1.6l0-2zM458.2 143.5l1.8 3.6m-.6 .3l1.4 1.5l-.3-2zM466 143.5l2 3.5m-.6 .3l1.6 1.4l-.5-2zM132 151.9l-2.5 2.1m-.3-.4l-.9 1.4l1.6-.6zM139.8 151.9l-3.2 1.3m-.2-.5l-1.4 1.2l1.8-.1zM147.6 151.9l-3.3 .5m-.1-.5l-1.5 .8l1.7 .3zM155.3 151.9l-3.1-.4m.1-.5l-1.6 .3l1.4 .7zM163.1 151.9l-2.3-1.6m.3-.4l-1.4-.4l.9 1.2zM170.9 151.9l-.9-2.4m.4-.2l-.9-1l.1 1.3zM178.6 151.9l.4-2.3m.4 .1l-.2-1.2l-.6 1zM217.5 151.9l-1.1-1.7m.3-.2l-.8-.6l.2 1zM225.2 151.9l-1.9-.6m.1-.4l-1.1 .1l.8 .6zM233 151.9l-2.7 .3m-.1-.5l-1.3 .6l1.4 .3zM240.8 151.9l-3.5-.1m0-.6l-1.8 .5l1.7 .6zM248.5 151.9l-7.4-2.3m.3-1.1l-4 0l3.3 2.2zM256.3 151.9l-7.1-3.1m.5-1l-3.9-.5l3 2.6zM264.1 151.9l-6.3-2.9m.4-.9l-3.5-.5l2.7 2.4zM271.8 151.9l-7.4-3m.4-1.1l-4.1-.4l3.2 2.6zM279.6 151.9l-8.7-2.1m.3-1.3l-4.6 .2l4 2.3zM287.4 151.9l-9.9-.2m0-1.4l-4.9 1.3l4.8 1.5zM295.1 151.9l-10 1.7m-.2-1.4l-4.7 2.2l5.2 .5zM302.9 151.9l-8.9 4.3m-.6-1.3l-3.8 3.4l5-.8zM310.7 151.9l-7.4 6.7m-.9-1l-2.7 4.3l4.6-2.2zM318.4 151.9l-5.7 8.2m-1.2-.8l-1.6 4.8l3.9-3.3zM326.2 151.9l-3.4 7.9m-1.2-.5l-.5 4.4l2.8-3.4zM334 151.9l-.9 3.3m-.5-.1l.1 1.8l1-1.5zM341.7 151.9l-1.5-2m.3-.3l-1.1-.7l.4 1.2zM349.5 151.9l-1.8-3.7m.6-.3l-1.5-1.5l.3 2.1zM357.3 151.9l-3.8-9.4m1.3-.5l-3.1-4.1l.5 5.2zM372.8 151.9l-1.3-9m1.3-.2l-2-4.2l-.6 4.6zM380.6 151.9l-.8-9.9m1.4-.1l-1.8-4.8l-1 5zM388.3 151.9l-.8-9.7m1.4-.1l-1.8-4.7l-1 4.9zM396.1 151.9l-1.1-8.3m1.2-.2l-1.8-4l-.7 4.3zM403.9 151.9l-1.4-6.1m.9-.2l-1.6-2.8l-.2 3.2zM411.6 151.9l-1.7-3.5m.6-.3l-1.4-1.5l.3 2zM419.4 151.9l-2.1-1.2m.2-.4l-1.3-.2l.8 1zM427.2 151.9l-1.7 1.5m-.3-.3l-.6 1.1l1.1-.4zM434.9 151.9l-.8 2.7m-.5-.1l.1 1.5l.8-1.2zM442.7 151.9l-.1 3.1m-.5 0l.5 1.5l.6-1.5zM450.5 151.9l.6 3.2m-.5 .1l.8 1.5l.2-1.7zM458.2 151.9l1.1 3.3m-.5 .2l1.1 1.5l0-1.8zM466 151.9l1.4 3.4m-.5 .2l1.2 1.4l-.1-1.9zM116.5 160.1l-1.2 3m-.5-.2l-.1 1.7l1.1-1.3zM124.3 160.1l-2.2 3.4m-.5-.3l-.5 2l1.6-1.3zM132 160.1l-3.5 3m-.5-.5l-1.2 2l2.2-1zM139.8 160.1l-4.9 2m-.3-.8l-2.1 1.7l2.7-.2zM147.6 160.1l-5.8 .4m-.1-.9l-2.8 1.1l2.9 .7zM155.3 160.1l-5.2-1.1m.2-.8l-2.7 .3l2.4 1.3zM163.1 160.1l-3.8-2.7m.4-.6l-2.3-.7l1.4 1.9zM170.9 160.1l-2.2-3.5m.6-.3l-1.6-1.4l.5 2.1zM178.6 160.1l-.7-3.3m.5-.1l-.9-1.5l-.2 1.7zM233 160.1l-2.2 1.7m-.3-.4l-.8 1.2l1.4-.5zM240.8 160.1l-3.4 1.2m-.2-.6l-1.5 1.1l1.9 0zM248.5 160.1l-4.4-.2m0-.7l-2.2 .6l2.1 .8zM256.3 160.1l-5.8-1.3m.2-.9l-3.1 .2l2.7 1.5zM264.1 160.1l-6.9-2m.3-1l-3.7 0l3.1 2zM271.8 160.1l-7.8-2m.3-1.1l-4.2 .2l3.6 2.1zM279.6 160.1l-8.5-1.3m.2-1.2l-4.4 .6l4 1.9zM287.4 160.1l-8.7 0m0-1.3l-4.3 1.3l4.3 1.3zM295.1 160.1l-8.2 1.1m-.2-1.2l-3.9 1.7l4.2 .7zM302.9 160.1l-7.2 2.7m-.4-1.1l-3.2 2.4l4-.3zM310.7 160.1l-5.5 4.4m-.7-.8l-2 3l3.4-1.4zM318.4 160.1l-3.2 5.4m-.8-.5l-.8 3.1l2.4-2.2zM326.2 160.1l-.8 4.6m-.7-.1l.3 2.4l1.1-2.1zM334 160.1l.8 2.6m-.4 .1l.9 1.1l0-1.4zM349.5 160.1l-.9-3m.5-.1l-.9-1.3l-.1 1.6zM357.3 160.1l-2.6-6.3m.9-.4l-2.2-2.7l.3 3.5zM365 160.1l-4-11.2m1.3-.5l-3-4.3l.3 5.2zM372.8 160.1l-2.6-9.6m1.4-.4l-2.6-4.4l-.1 5.1zM380.6 160.1l-2.2-10.6m1.4-.3l-2.4-4.6l-.4 5.2zM388.3 160.1l-1.8-9.7m1.4-.3l-2.3-4.5l-.5 5zM396.1 160.1l-1.7-8m1.2-.2l-2-3.7l-.3 4.2zM403.9 160.1l-1.8-5.7m.9-.3l-1.8-2.5l0 3.1zM411.6 160.1l-2-3.4m.5-.3l-1.5-1.3l.4 2zM419.4 160.1l-2.3-1.4m.2-.4l-1.4-.3l.9 1.1zM427.2 160.1l-2.1 .9m-.2-.4l-.9 .8l1.2-.1zM434.9 160.1l-1.4 2.1m-.4-.2l-.3 1.3l1.1-.8zM442.7 160.1l-.9 2.6m-.4-.1l0 1.4l.9-1.1zM450.5 160.1l-.4 2.8m-.5-.1l.3 1.4l.7-1.3zM458.2 160.1l.2 3m-.5 0l.6 1.4l.4-1.5zM466 160.1l.5 3.3m-.5 .1l.8 1.6l.3-1.7zM108.7 168.4l-1 1.9m-.3-.2l-.2 1.1l.9-.7zM116.5 168.4l-1.3 3.7m-.6-.2l0 2l1.2-1.6zM124.3 168.4l-2.4 4.9m-.7-.4l-.4 2.8l1.9-2zM132 168.4l-4.1 5.1m-.8-.6l-1.2 3.1l2.8-1.9zM139.8 168.4l-6 3.7m-.6-.9l-2.4 2.7l3.5-.9zM147.6 168.4l-7.4 .9m-.1-1.1l-3.5 1.5l3.8 .7zM155.3 168.4l-7-2.5m.4-1l-3.8-.2l3.1 2.3zM163.1 168.4l-5.3-4.9m.7-.8l-3.3-1.6l1.9 3.2zM170.9 168.4l-3.3-5.7m.9-.5l-2.5-2.3l.8 3.3zM178.6 168.4l-1.6-4.6m.7-.3l-1.5-2l.1 2.5zM186.4 168.4l-.6-2m.4-.1l-.7-.9l-.1 1.1zM233 168.4l-1.7 2.7m-.5-.3l-.4 1.6l1.3-1.1zM240.8 168.4l-2.7 2.8m-.5-.4l-.9 1.8l1.8-1zM248.5 168.4l-4.1 1.3m-.2-.7l-1.8 1.3l2.2 0zM256.3 168.4l-5.6-.3m0-.9l-2.8 .7l2.7 1zM264.1 168.4l-6.6-1.2m.2-1l-3.4 .4l3.1 1.6zM271.8 168.4l-7.3-1.4m.2-1.1l-3.8 .4l3.4 1.8zM279.6 168.4l-7.7-1m.1-1.1l-3.9 .7l3.6 1.6zM287.4 168.4l-7.6-.3m0-1.1l-3.8 1l3.7 1.3zM295.1 168.4l-6.9 .3m0-1l-3.4 1.2l3.5 .9zM302.9 168.4l-5.6 1.2m-.2-.8l-2.6 1.4l2.9 .3zM310.7 168.4l-3.6 2.1m-.3-.6l-1.5 1.6l2.1-.4zM318.4 168.4l-1.7 3m-.5-.3l-.4 1.8l1.3-1.2zM326.2 168.4l.1 3.2m-.5 0l.6 1.6l.5-1.6zM334 168.4l.8 2.1m-.4 .1l.8 .9l0-1.2zM349.5 168.4l-1.6-1.4m.3-.3l-1.1-.4l.5 1zM357.3 168.4l-2.2-3.6m.6-.4l-1.7-1.4l.5 2.2zM365 168.4l-4.9-10m1.3-.6l-3.5-3.9l1 5.1zM372.8 168.4l-4-10m1.3-.5l-3.2-4.1l.6 5.2zM380.6 168.4l-3.7-11.4m1.3-.4l-2.9-4.3l.2 5.2zM388.3 168.4l-2.6-10.7m1.4-.3l-2.6-4.5l-.2 5.2zM396.1 168.4l-2.1-8m1.2-.3l-2.2-3.6l-.1 4.2zM403.9 168.4l-2.2-5.4m.8-.3l-1.9-2.3l.3 3zM411.6 168.4l-2.3-3.2m.5-.4l-1.7-1.2l.6 2zM419.4 168.4l-2.6-1.5m.2-.4l-1.5-.3l1.1 1.2zM427.2 168.4l-2.5 .4m-.1-.4l-1.2 .6l1.3 .3zM434.9 168.4l-2.1 1.6m-.3-.4l-.8 1.1l1.3-.4zM442.7 168.4l-1.7 2.2m-.4-.3l-.5 1.4l1.2-.8zM450.5 168.4l-1.4 2.4m-.4-.2l-.3 1.4l1.1-1zM458.2 168.4l-1.2 2.6m-.4-.2l-.2 1.5l1.1-1.1zM466 168.4l-.8 3.1m-.5-.1l.1 1.7l.9-1.4zM62.1 176.7l-2.7 2.1m-.3-.4l-1 1.5l1.7-.6zM69.9 176.7l-4.1 .8m-.1-.7l-1.9 1l2.2 .3zM77.7 176.7l-4.6-.9m.1-.7l-2.4 .3l2.1 1.2zM85.4 176.7l-3.4-2.4m.4-.5l-2-.6l1.3 1.7zM93.2 176.7l-2.1-2.6m.4-.4l-1.5-.9l.6 1.6zM101 176.7l-1.6-1.2m.2-.3l-1-.3l.6 .9zM108.7 176.7l-1.3 1.9m-.3-.2l-.3 1.2l1-.7zM116.5 176.7l-1 4.1m-.6-.2l.2 2.2l1.1-1.8zM124.3 176.7l-1.5 6.2m-.9-.2l.2 3.3l1.7-2.8zM132 176.7l-2.8 7.1m-1-.4l-.3 3.9l2.4-3.1zM139.8 176.7l-4.7 5.9m-.9-.7l-1.4 3.6l3.2-2.2zM147.6 176.7l-6.5 1.8m-.3-1l-2.9 1.8l3.5 .1zM155.3 176.7l-6.3-3.9m.6-.9l-3.7-1l2.5 2.8zM163.1 176.7l-4.6-7.1m1-.7l-3.3-2.8l1.3 4.2zM170.9 176.7l-3.3-7.5m1.1-.5l-2.7-3.2l.5 4.2zM178.6 176.7l-2.5-5.6m.8-.4l-2.1-2.4l.4 3.1zM186.4 176.7l-2.1-2.7m.4-.3l-1.5-1l.6 1.7zM225.2 176.7l0 2.5m-.4 0l.4 1.3l.4-1.3zM233 176.7l-1 3.9m-.6-.2l.1 2.1l1.1-1.7zM240.8 176.7l-2.2 4.2m-.7-.3l-.4 2.4l1.7-1.7zM248.5 176.7l-3.6 2.8m-.4-.6l-1.3 1.9l2.2-.8zM256.3 176.7l-4.3 .5m-.1-.7l-2 .9l2.2 .4zM264.1 176.7l-5.3-.4m.1-.8l-2.7 .6l2.5 1zM271.8 176.7l-6.2-.8m.1-.9l-3.2 .6l3 1.3zM279.6 176.7l-6.8-.7m.1-1l-3.5 .7l3.3 1.4zM287.4 176.7l-7-.6m.1-1l-3.5 .8l3.3 1.3zM295.1 176.7l-6.3-.6m.1-.9l-3.2 .6l3 1.3zM302.9 176.7l-4.7-.5m.1-.7l-2.4 .5l2.2 1zM310.7 176.7l-3.1-.1m0-.5l-1.6 .5l1.5 .6zM326.2 176.7l1.4 2.3m-.4 .2l1.1 .9l-.3-1.4zM334 176.7l.9 3m-.5 .2l1 1.3l0-1.7zM341.7 176.7l-1.6 2.1m-.4-.3l-.4 1.3l1.2-.7zM349.5 176.7l-2-.7m.1-.4l-1.1 0l.9 .7zM357.3 176.7l-2.1-2.9m.5-.3l-1.5-1.1l.6 1.8zM365 176.7l-4.3-7.2m1-.6l-3.1-2.9l1 4.1zM372.8 176.7l-5.1-10.2m1.3-.6l-3.5-3.8l1 5.1zM380.6 176.7l-4.2-11.3m1.3-.5l-3-4.2l.4 5.2zM388.3 176.7l-3.1-11.6m1.4-.4l-2.6-4.5l-.1 5.2zM396.1 176.7l-2.7-7.9m1.2-.4l-2.5-3.5l.2 4.3zM403.9 176.7l-2.7-5.2m.8-.4l-2.1-2.1l.5 3zM411.6 176.7l-2.6-3.1m.5-.4l-1.8-1.1l.8 2zM419.4 176.7l-2.8-1.6m.3-.5l-1.6-.3l1.1 1.2zM427.2 176.7l-2.7 0m0-.5l-1.4 .5l1.3 .5zM434.9 176.7l-2.4 1.2m-.2-.4l-1 1l1.4-.2zM442.7 176.7l-2.2 1.9m-.3-.4l-.7 1.3l1.4-.6zM450.5 176.7l-2 2.3m-.4-.3l-.6 1.5l1.4-.8zM458.2 176.7l-1.9 2.4m-.4-.3l-.6 1.5l1.4-.8zM466 176.7l-1.6 2.6m-.4-.3l-.3 1.5l1.2-1zM54.4 185l-.3 3m-.5 0l.4 1.5l.6-1.4zM62.1 185l-1.5 3.9m-.6-.2l-.1 2.2l1.4-1.7zM69.9 185l-3.4 2.5m-.4-.5l-1.3 1.8l2.1-.7zM77.7 185l-4-1.8m.3-.6l-2.3-.2l1.7 1.5zM85.4 185l-2.4-4.2m.7-.4l-1.8-1.7l.5 2.4zM93.2 185l-1-3.7m.6-.2l-1.1-1.7l-.1 2zM108.7 185l-.2 1.9m-.4 0l.3 1l.4-.9zM116.5 185l.2 4m-.6 0l.7 1.9l.6-2zM124.3 185l.4 6.7m-1 .1l1.2 3.3l.8-3.4zM132 185l.3 8.3m-1.2 0l1.4 4l1-4.1zM139.8 185l-.1 7.7m-1.1 0l1.1 3.8l1.2-3.8zM147.6 185l-.9 3.5m-.6-.2l.1 1.9l1-1.6zM155.3 185l-1-5m.8-.1l-1.2-2.3l-.3 2.6zM163.1 185l-1.1-7.9m1.2-.2l-1.7-3.7l-.6 4.1zM170.9 185l-1.5-7.9m1.2-.2l-1.9-3.7l-.4 4.1zM178.6 185l-1.8-5.6m.8-.3l-1.7-2.5l.1 3zM186.4 185l-2-3.2m.5-.3l-1.5-1.3l.5 1.9zM194.2 185l-1.7-2m.3-.3l-1.2-.7l.5 1.3zM201.9 185l-1.2-1.6m.3-.2l-.9-.6l.3 1zM225.2 185l-1 2.9m-.5-.2l0 1.6l1-1.3zM233 185l-1.1 4.6m-.7-.2l.2 2.4l1.2-2.1zM240.8 185l-1.1 5m-.8-.2l.2 2.6l1.3-2.3zM248.5 185l-1.2 3.8m-.6-.2l0 2l1.2-1.7zM256.3 185l-2.5 1.8m-.3-.4l-.9 1.3l1.5-.5zM264.1 185l-3.7 .8m-.1-.6l-1.7 1l2 .2zM271.8 185l-4.9 .2m0-.8l-2.4 .9l2.4 .6zM279.6 185l-6.1-.2m0-.9l-3 .8l3 1zM287.4 185l-6.5-.7m.1-1l-3.3 .6l3.1 1.3zM295.1 185l-6.2-1.5m.2-.9l-3.3 .2l2.8 1.7zM302.9 185l-5-2.2m.3-.8l-2.8-.3l2.1 1.9zM310.7 185l-2.9-2.6m.4-.5l-1.9-.8l1 1.8zM318.4 185l.1-2.7m.5 0l-.4-1.3l-.5 1.3zM326.2 185l3.5 .3m0 .6l1.8-.4l-1.7-.7zM334 185l4.8 4.2m-.6 .7l3 1.4l-1.7-2.8zM341.7 185l4.1 3.5m-.5 .6l2.5 1.1l-1.5-2.3zM349.5 185l2.4 .1m0 .4l1.2-.4l-1.2-.5zM357.3 185l.3-2m.4 .1l-.2-1l-.5 .9zM365 185l-1.6-3.6m.6-.2l-1.3-1.5l.2 2zM372.8 185l-5.1-10.4m1.3-.6l-3.4-3.9l.9 5.1zM380.6 185l-3.9-11.4m1.3-.5l-2.9-4.3l.3 5.2zM388.3 185l-4.1-11.3m1.3-.5l-3-4.2l.4 5.2zM396.1 185l-3.8-8.3m1.2-.6l-3.1-3.5l.7 4.6zM403.9 185l-3.1-5.4m.8-.5l-2.4-2.2l.7 3.1zM411.6 185l-2.7-3.3m.5-.4l-1.8-1.2l.8 2zM419.4 185l-2.6-1.8m.3-.4l-1.6-.5l1 1.3zM427.2 185l-2.6-.3m.1-.4l-1.3 .3l1.2 .6zM434.9 185l-2.4 .9m-.2-.4l-1 .9l1.3 0zM442.7 185l-2.1 1.8m-.3-.4l-.8 1.2l1.4-.5zM450.5 185l-2 2.2m-.4-.3l-.6 1.4l1.4-.8zM458.2 185l-1.9 2.2m-.4-.3l-.6 1.4l1.3-.8zM466 185l-1.8 2.2m-.4-.3l-.5 1.4l1.3-.8zM54.4 193.2l-.2 3m-.5 0l.4 1.5l.6-1.5zM62.1 193.2l.5 4.8m-.7 .1l1 2.3l.5-2.4zM69.9 193.2l1.2 3.8m-.6 .2l1.2 1.7l0-2.1zM77.7 193.2l1.6-3m.5 .3l.3-1.8l-1.3 1.2zM85.4 193.2l.6-5.1m.8 .1l-.5-2.6l-1.1 2.4zM93.2 193.2l.1-4.2m.7 0l-.6-2.1l-.7 2.1zM101 193.2l.2-2m.4 0l-.3-1l-.5 1zM116.5 193.2l1.3 3.5m-.6 .2l1.2 1.5l-.1-2zM124.3 193.2l2.3 6m-.9 .3l2 2.6l-.2-3.3zM132 193.2l3.6 7.6m-1.1 .5l2.9 3.2l-.6-4.3zM139.8 193.2l5.2 6.9m-1 .8l3.6 2.7l-1.5-4.2zM147.6 193.2l6.7 2.7m-.4 1l3.7 .4l-2.9-2.3zM155.3 193.2l5.5-3.3m.5 .8l2.2-2.5l-3.2 .8zM163.1 193.2l2.9-6m.9 .4l.5-3.4l-2.3 2.5zM170.9 193.2l.7-6.2m.9 .1l-.6-3.1l-1.3 2.9zM178.6 193.2l-.9-4.6m.7-.1l-1.2-2.1l-.3 2.4zM186.4 193.2l-1.7-3.2m.5-.3l-1.4-1.3l.3 1.8zM194.2 193.2l-2.1-2.2m.4-.3l-1.4-.8l.6 1.4zM201.9 193.2l-2.2-1.6m.3-.4l-1.4-.4l.8 1.2zM209.7 193.2l-2.4-.9m.2-.4l-1.3 0l1 .9zM217.5 193.2l-2.5 .8m-.1-.4l-1.1 .8l1.4 0zM225.2 193.2l-2.2 2.7m-.4-.4l-.7 1.7l1.5-.9zM233 193.2l-1.4 4m-.6-.2l0 2.2l1.3-1.8zM240.8 193.2l-.6 4.4m-.7-.1l.4 2.3l1-2.1zM248.5 193.2l-.2 4m-.6 0l.5 2l.7-1.9zM256.3 193.2l-.8 3.2m-.5-.1l.1 1.7l.9-1.5zM264.1 193.2l-2.2 2.5m-.4-.4l-.7 1.6l1.5-.9zM271.8 193.2l-3.6 1.7m-.3-.6l-1.5 1.4l2-.3zM279.6 193.2l-4.8 .7m-.1-.7l-2.3 1.1l2.5 .4zM287.4 193.2l-5.8-.5m.1-.9l-2.9 .6l2.8 1.1zM295.1 193.2l-6-1.9m.3-.9l-3.3 0l2.7 1.9zM302.9 193.2l-5.6-3.6m.5-.8l-3.3-.9l2.2 2.6zM310.7 193.2l-4.3-5.4m.8-.6l-2.9-2l1.3 3.3zM318.4 193.2l-1.4-6.7m1-.2l-1.7-3.1l-.3 3.5zM326.2 193.2l3.7-3.9m.6 .6l1.2-2.5l-2.4 1.3zM334 193.2l7 3.6m-.5 1l4 .7l-2.9-2.8zM341.7 193.2l6.7 5.3m-.8 1l4.1 1.6l-2.5-3.6zM349.5 193.2l4.4 2.6m-.4 .7l2.6 .6l-1.8-1.9zM357.3 193.2l3 .4m-.1 .5l1.6-.3l-1.4-.7zM365 193.2l1.8-2.4m.4 .3l.5-1.5l-1.3 .9zM372.8 193.2l1.6-8m1.2 .2l-.4-4.2l-2 3.7zM380.6 193.2l-.5-12m1.4-.1l-1.6-4.9l-1.2 5.1zM388.3 193.2l-2.3-11.8m1.4-.3l-2.3-4.6l-.4 5.2zM396.1 193.2l-2.9-8.5m1.2-.4l-2.7-3.8l.2 4.6zM403.9 193.2l-2.9-5.7m.9-.4l-2.3-2.4l.5 3.3zM411.6 193.2l-2.3-3.6m.6-.4l-1.7-1.4l.6 2.2zM419.4 193.2l-2.1-2.4m.4-.3l-1.4-.8l.6 1.5zM427.2 193.2l-1.8-.7m.1-.3l-1 0l.8 .7zM434.9 193.2l-1.8 .9m-.2-.3l-.7 .8l1-.1zM442.7 193.2l-1.9 1.9m-.3-.3l-.6 1.3l1.2-.6zM450.5 193.2l-2 2.2m-.4-.3l-.6 1.4l1.4-.8zM458.2 193.2l-2 2.2m-.4-.3l-.6 1.4l1.4-.7zM466 193.2l-1.9 2m-.3-.3l-.6 1.3l1.3-.7zM54.4 201.4l1 2.4m-.4 .2l.9 1l-.1-1.4zM62.1 201.4l2.5 3m-.5 .4l1.7 1.1l-.8-1.9zM69.9 201.4l4.7 1.9m-.3 .7l2.6 .2l-2-1.7zM77.7 201.4l5-1.2m.2 .8l2.3-1.4l-2.7-.2zM85.4 201.4l2.8-3.1m.5 .4l.9-2l-1.9 1.1zM93.2 201.4l1-3.3m.5 .2l0-1.8l-1 1.5zM101 201.4l.3-2.2m.4 0l-.3-1.1l-.5 1zM116.5 201.4l1.9 2.6m-.4 .3l1.4 1l-.5-1.6zM124.3 201.4l3.1 4.6m-.7 .5l2.2 1.8l-.8-2.7zM132 201.4l4.7 5.8m-.9 .7l3.2 2.1l-1.5-3.5zM139.8 201.4l6.7 4.8m-.7 1l4 1.4l-2.6-3.4zM147.6 201.4l8.1 2.1m-.3 1.2l4.3-.1l-3.7-2.2zM155.3 201.4l7.3-1.1m.2 1.1l3.4-1.6l-3.7-.5zM163.1 201.4l4.6-3.1m.5 .7l1.8-2.2l-2.8 .8zM170.9 201.4l2.1-3.6m.6 .3l.5-2.1l-1.6 1.4zM178.6 201.4l.3-3.4m.6 0l-.4-1.7l-.7 1.6zM186.4 201.4l-1.2-2.6m.4-.2l-1-1.1l.1 1.5zM194.2 201.4l-2.1-1.8m.3-.4l-1.4-.5l.7 1.3zM201.9 201.4l-2.7-1.3m.2-.4l-1.5-.2l1.1 1.1zM209.7 201.4l-2.9-.6m.1-.5l-1.5 .2l1.3 .8zM217.5 201.4l-2.9 .7m-.1-.5l-1.3 .8l1.6 .2zM225.2 201.4l-2.4 2.1m-.4-.4l-.8 1.4l1.5-.7zM233 201.4l-1.4 3.3m-.5-.2l-.2 1.8l1.2-1.4zM240.8 201.4l-.3 3.8m-.6-.1l.4 1.9l.8-1.8zM248.5 201.4l.4 3.8m-.6 .1l.8 1.8l.4-2zM256.3 201.4l.3 3.8m-.6 .1l.8 1.8l.5-1.9zM264.1 201.4l-.5 3.8m-.6-.1l.4 2l.9-1.8zM271.8 201.4l-1.9 3.4m-.5-.3l-.4 2l1.5-1.4zM279.6 201.4l-3.4 2m-.3-.5l-1.4 1.5l2-.4zM287.4 201.4l-4.6 .3m0-.7l-2.2 .9l2.3 .6zM295.1 201.4l-5.4-1.8m.3-.8l-2.9-.1l2.4 1.7zM302.9 201.4l-5.6-4.1m.6-.8l-3.3-1.2l2.1 2.8zM310.7 201.4l-5.6-6.6m1-.8l-3.7-2.4l1.8 4.1zM318.4 201.4l-5.6-10.6m1.2-.7l-3.6-3.8l1.1 5.1zM326.2 201.4l-3.6-10m1.3-.5l-3-4.2l.4 5.2zM334 201.4l-.6 2.7m-.5-.1l.2 1.4l.8-1.2zM341.7 201.4l2.2 4.7m-.7 .3l1.8 2l-.3-2.7zM357.3 201.4l3.3 1.2m-.2 .5l1.8 .1l-1.4-1.1zM372.8 201.4l2.7-5.5m.8 .4l.5-3.1l-2.2 2.3zM380.6 201.4l1.5-11m1.4 .2l-.7-5.1l-2.1 4.8zM388.3 201.4l-.7-10m1.4-.1l-1.7-4.8l-1.1 5zM396.1 201.4l-1.9-7.6m1.1-.3l-2.1-3.5l-.2 4zM403.9 201.4l-2.1-5.7m.9-.3l-1.9-2.5l.2 3.1zM411.6 201.4l-1.8-4.2m.7-.3l-1.5-1.8l.2 2.4zM419.4 201.4l-1.4-3m.5-.2l-1.2-1.3l.2 1.7zM434.9 201.4l-1.2 1.5m-.3-.2l-.3 1l.9-.5zM442.7 201.4l-1.7 2.4m-.4-.3l-.4 1.5l1.2-.9zM450.5 201.4l-2.1 2.4m-.4-.3l-.6 1.5l1.4-.8zM458.2 201.4l-2.1 2m-.3-.4l-.7 1.4l1.4-.6zM466 201.4l-1.9 1.7m-.3-.3l-.7 1.2l1.3-.5zM31.1 209.7l3 1.1m-.2 .5l1.7 .1l-1.3-1.1zM38.8 209.7l3.2 1.1m-.2 .5l1.8 0l-1.4-1zM46.6 209.7l2.7 1.6m-.3 .5l1.6 .3l-1.1-1.2zM54.4 209.7l2.8 1.2m-.2 .5l1.6 .1l-1.2-1zM62.1 209.7l3.5 1.2m-.2 .6l1.9 0l-1.5-1.1zM69.9 209.7l4.2 .5m-.1 .7l2.2-.4l-2-.9zM77.7 209.7l4.1 .2m0 .7l2.1-.5l-2-.8zM85.4 209.7l2.8-1m.2 .5l1.2-1l-1.5 0zM93.2 209.7l.8-2m.4 .1l0-1.1l-.7 .8zM101 209.7l-.7-1.8m.3-.1l-.7-.8l0 1zM124.3 209.7l1.8 3.4m-.5 .3l1.4 1.4l-.3-2zM132 209.7l2.9 3.7m-.6 .4l2 1.4l-.8-2.3zM139.8 209.7l4.5 2.7m-.4 .7l2.6 .6l-1.8-2zM147.6 209.7l6.2 1.3m-.2 .9l3.2-.3l-2.8-1.6zM155.3 209.7l5.8 .5m-.1 .9l2.9-.6l-2.8-1.1zM163.1 209.7l4.1-.8m.1 .6l1.9-1l-2.1-.3zM170.9 209.7l2.7-1.7m.3 .4l1.1-1.3l-1.6 .4zM178.6 209.7l1.1-1.9m.3 .2l.2-1.1l-.9 .8zM194.2 209.7l-1.9-1m.2-.3l-1.1-.1l.7 .8zM201.9 209.7l-2.5-.9m.2-.4l-1.4 0l1.1 .9zM209.7 209.7l-2.8-.4m.1-.5l-1.5 .3l1.3 .7zM217.5 209.7l-2.8 .4m-.1-.5l-1.3 .7l1.4 .3zM225.2 209.7l-2.3 1.4m-.2-.4l-.9 1.1l1.4-.3zM233 209.7l-1.3 2.4m-.4-.2l-.2 1.4l1.1-1zM240.8 209.7l-.1 3m-.5 0l.4 1.5l.6-1.5zM248.5 209.7l.8 3.4m-.6 .1l1 1.5l.2-1.8zM256.3 209.7l1.2 3.9m-.6 .2l1.2 1.7l0-2.1zM264.1 209.7l.9 4.7m-.7 .1l1.2 2.2l.3-2.5zM271.8 209.7l-.3 4.9m-.8 0l.6 2.5l.9-2.4zM279.6 209.7l-1.9 3.7m-.6-.3l-.4 2.1l1.5-1.5zM287.4 209.7l-3.5 1.4m-.2-.6l-1.5 1.3l2-.1zM295.1 209.7l-4-1.5m.2-.6l-2.2-.1l1.7 1.4zM302.9 209.7l-4-4.2m.6-.6l-2.6-1.4l1.3 2.7zM310.7 209.7l-3.8-6.6m1-.6l-2.8-2.7l.9 3.8zM318.4 209.7l-4-10.7m1.3-.5l-3.1-4.2l.4 5.2zM326.2 209.7l-6.4-9.6m1.2-.8l-3.9-3.4l1.6 4.9zM334 209.7l-4.7-1.8m.3-.7l-2.6-.2l2 1.6zM372.8 209.7l.8-1.7m.3 .2l.1-1l-.7 .7zM380.6 209.7l1.2-8.3m1.2 .2l-.6-4.2l-1.8 3.9zM388.3 209.7l-.9-11m1.4-.1l-1.8-4.9l-1 5.1zM396.1 209.7l-1.5-7m1-.2l-1.8-3.2l-.3 3.7zM403.9 209.7l-1.6-5.8m.9-.2l-1.7-2.6l-.1 3.1zM411.6 209.7l-1.4-4.6m.7-.2l-1.4-2l0 2.5zM419.4 209.7l-1.3-3.4m.6-.2l-1.2-1.5l.1 1.9zM427.2 209.7l-1.2-1.6m.3-.2l-.9-.6l.3 1zM434.9 209.7l-1.5 2.2m-.4-.3l-.3 1.3l1.1-.8zM442.7 209.7l-1.9 2.9m-.5-.3l-.5 1.7l1.4-1.1zM450.5 209.7l-2.2 2.5m-.4-.4l-.7 1.6l1.5-.8zM458.2 209.7l-2.1 1.8m-.3-.4l-.8 1.2l1.3-.5zM466 209.7l-1.8 1.3m-.2-.3l-.6 1l1.1-.3zM23.3 217.9l2.3-.4m.1 .4l1.1-.6l-1.2-.2zM31.1 217.9l3.2 .1m0 .5l1.6-.5l-1.5-.6zM38.8 217.9l3.7 .9m-.2 .6l2-.1l-1.7-1.1zM46.6 217.9l3.7 1.7m-.3 .6l2.1 .2l-1.5-1.4zM54.4 217.9l3.4 1.3m-.2 .5l1.9 .1l-1.5-1.2zM62.1 217.9l3 1m-.2 .5l1.7 0l-1.3-1zM69.9 217.9l2.5 .9m-.2 .4l1.4 0l-1.1-.9zM77.7 217.9l1.7 1.4m-.3 .3l1.1 .4l-.6-1zM101 217.9l-2.5-.5m.1-.4l-1.3 .2l1.2 .7zM108.7 217.9l-3.2-.8m.1-.5l-1.7 .1l1.5 .9zM116.5 217.9l-3.5-.3m0-.6l-1.7 .4l1.7 .7zM124.3 217.9l-2.4 2.3m-.4-.4l-.8 1.5l1.6-.7zM132 217.9l-.5 2.6m-.4-.1l.2 1.3l.7-1.2zM139.8 217.9l1.4 1.5m-.3 .3l1 .5l-.4-1zM147.6 217.9l2.3 .6m-.1 .4l1.3-.1l-1-.7zM155.3 217.9l2.9 1m-.2 .5l1.6 0l-1.2-.9zM163.1 217.9l2.9 .3m-.1 .5l1.5-.3l-1.4-.7zM170.9 217.9l2.4-.2m0 .4l1.1-.5l-1.2-.3zM201.9 217.9l-2.1-.2m0-.4l-1.1 .3l1 .5zM209.7 217.9l-2.5-.2m0-.4l-1.3 .3l1.2 .5zM217.5 217.9l-2.5 .2m0-.4l-1.2 .5l1.3 .3zM225.2 217.9l-2.2 .7m-.1-.4l-.9 .7l1.2 0zM233 217.9l-1.3 1.4m-.3-.2l-.4 1l.9-.5zM240.8 217.9l-.1 2.1m-.4 0l.3 1.1l.5-1zM248.5 217.9l.9 2.7m-.5 .2l.9 1.2l0-1.5zM256.3 217.9l1.6 3.5m-.6 .3l1.4 1.5l-.2-2zM264.1 217.9l1.9 5.6m-.9 .3l1.8 2.5l-.1-3.1zM271.8 217.9l1 6.7m-1 .1l1.5 3.2l.5-3.5zM279.6 217.9l-.3 5.6m-.9 0l.7 2.8l1-2.7zM287.4 217.9l-1.8 2.8m-.5-.3l-.4 1.7l1.4-1.1zM295.1 217.9l-2.2-1.9m.3-.4l-1.4-.6l.8 1.3zM302.9 217.9l-1.6-4.3m.7-.3l-1.5-1.9l.1 2.4zM310.7 217.9l-1.7-6.7m1-.3l-1.8-3l-.1 3.5zM318.4 217.9l-2.6-8.4m1.2-.4l-2.5-3.8l.1 4.5zM326.2 217.9l-4.2-7.4m1.1-.6l-3.2-3l1 4.3zM380.6 217.9l.2-2.5m.4 0l-.3-1.3l-.5 1.2zM388.3 217.9l-1-11.9m1.4-.1l-1.8-4.9l-1 5.1zM396.1 217.9l-1.2-6.4m1-.2l-1.6-3l-.4 3.4zM403.9 217.9l-1.4-5.8m.9-.2l-1.6-2.6l-.2 3.1zM411.6 217.9l-1.4-4.6m.7-.2l-1.4-2.1l0 2.5zM419.4 217.9l-1.6-3.3m.5-.3l-1.3-1.4l.3 1.9zM427.2 217.9l-2.4-1.1m.2-.4l-1.4-.1l1 1zM434.9 217.9l-2.2 2.1m-.3-.4l-.7 1.4l1.4-.7zM442.7 217.9l-1.8 3.1m-.5-.3l-.4 1.8l1.4-1.2zM450.5 217.9l-2 2.3m-.4-.3l-.6 1.5l1.4-.8zM458.2 217.9l-1.5 1.3m-.2-.3l-.5 .9l1-.3zM38.8 226.1l2 .4m-.1 .4l1-.2l-.9-.6zM46.6 226.1l1.5 2.4m-.4 .3l1.2 .9l-.3-1.4zM54.4 226.1l1.3 2.1m-.4 .2l1 .8l-.3-1.3zM62.1 226.1l1 1.9m-.3 .2l.9 .8l-.2-1.1zM69.9 226.1l.1 2.2m-.4 0l.5 1.1l.3-1.1zM77.7 226.1l-.8 2.3m-.4-.1l0 1.3l.8-1zM85.4 226.1l-1.5 2m-.4-.3l-.4 1.3l1.1-.7zM93.2 226.1l-2.4 1.5m-.3-.4l-.9 1.2l1.5-.3zM101 226.1l-3.4 1m-.2-.6l-1.5 1l1.9 .1zM108.7 226.1l-4.4 .2m0-.7l-2.2 .8l2.2 .6zM116.5 226.1l-5.1-.2m0-.8l-2.6 .7l2.5 .9zM124.3 226.1l-4.4 .4m-.1-.7l-2.1 .9l2.2 .5zM132 226.1l-3.3 .4m-.1-.5l-1.5 .7l1.7 .3zM139.8 226.1l-2.1-.2m0-.4l-1.1 .3l1 .5zM201.9 226.1l-2 .5m-.1-.4l-.9 .6l1.1 .1zM209.7 226.1l-2.2 0m0-.4l-1.1 .4l1.1 .4zM217.5 226.1l-2.1-.1m0-.4l-1.1 .4l1 .4zM248.5 226.1l.2 2.1m-.4 0l.5 1l.3-1.1zM256.3 226.1l.5 3m-.5 .1l.8 1.4l.2-1.6zM264.1 226.1l.8 5.9m-.9 .1l1.3 2.8l.5-3zM271.8 226.1l1.6 7.3m-1.1 .2l1.9 3.3l.3-3.8zM279.6 226.1l2.1 6.4m-1 .3l2 2.8l-.1-3.5zM287.4 226.1l2.5 3.3m-.5 .4l1.8 1.2l-.7-2zM295.1 226.1l2.4-1.9m.3 .4l.8-1.3l-1.5 .5zM302.9 226.1l1.2-4m.6 .2l0-2.2l-1.2 1.8zM310.7 226.1l.3-5.7m.9 0l-.7-2.9l-1 2.8zM318.4 226.1l-1-6.7m1-.1l-1.5-3.1l-.5 3.4zM326.2 226.1l-.9-2.4m.4-.2l-.8-1l0 1.3zM388.3 226.1l-.3-2.7m.5 0l-.6-1.3l-.3 1.4zM396.1 226.1l-1.1-6.3m.9-.2l-1.5-3l-.4 3.3zM403.9 226.1l-1.1-5.7m.9-.2l-1.4-2.7l-.3 3zM411.6 226.1l-1-4.4m.7-.2l-1.2-2l-.2 2.4zM419.4 226.1l-1.3-3.1m.5-.2l-1.2-1.3l.1 1.7zM427.2 226.1l-1.9-1m.2-.3l-1.1-.1l.7 .8zM434.9 226.1l-1.4 1.7m-.3-.3l-.4 1.1l1-.6zM442.7 226.1l-.5 2.8m-.5-.1l.2 1.5l.7-1.3zM450.5 226.1l.5 2.2m-.4 .1l.6 1l.2-1.2zM15.5 234.2l-2.2-1.7m.3-.4l-1.4-.5l.8 1.2zM23.3 234.2l-2.6-1.1m.2-.4l-1.5-.1l1.1 1zM31.1 234.2l-3.1-.8m.1-.5l-1.7 .1l1.4 .9zM38.8 234.2l-3.5 .3m0-.6l-1.7 .7l1.8 .4zM46.6 234.2l-2.9 1.8m-.3-.5l-1.2 1.3l1.7-.4zM54.4 234.2l-2.5 1.9m-.3-.4l-.9 1.3l1.5-.5zM62.1 234.2l-2.5 1.9m-.3-.4l-.9 1.3l1.5-.5zM69.9 234.2l-2.4 2.4m-.4-.4l-.8 1.6l1.6-.8zM77.7 234.2l-2.4 2.4m-.4-.4l-.8 1.6l1.6-.8zM85.4 234.2l-2.5 2.3m-.4-.4l-.8 1.6l1.6-.7zM93.2 234.2l-2.7 2.2m-.4-.4l-1 1.5l1.7-.6zM101 234.2l-3.1 2m-.3-.5l-1.2 1.5l1.9-.5zM108.7 234.2l-3.6 1.3m-.2-.6l-1.6 1.2l2-.1zM116.5 234.2l-4.3 .1m0-.7l-2.1 .7l2.1 .6zM124.3 234.2l-4.5-.4m.1-.7l-2.3 .5l2.2 .9zM132 234.2l-3.8-1.1m.2-.6l-2 .1l1.7 1.1zM139.8 234.2l-2.9-1.5m.3-.5l-1.7-.3l1.2 1.2zM147.6 234.2l-1.9-1.7m.3-.3l-1.2-.5l.6 1.2zM178.6 234.2l1 1.7m-.3 .2l.8 .7l-.2-1zM186.4 234.2l.3 2.3m-.4 0l.5 1.1l.3-1.2zM194.2 234.2l-.8 2.2m-.4-.1l0 1.2l.8-.9zM201.9 234.2l-1.8 1.1m-.2-.3l-.7 .9l1.1-.2zM209.7 234.2l-2 0m0-.4l-1 .4l1 .4zM217.5 234.2l-1.8-.5m.1-.3l-1 .1l.8 .6zM248.5 234.2l-.8 1.9m-.3-.1l0 1.1l.7-.8zM256.3 234.2l-.5 3m-.5-.1l.2 1.5l.8-1.4zM264.1 234.2l.2 4.3m-.7 0l.8 2.1l.6-2.2zM271.8 234.2l1.8 5.6m-.8 .3l1.7 2.5l0-3zM279.6 234.2l3.6 5m-.8 .5l2.5 1.9l-1-3zM287.4 234.2l4.9 2.6m-.4 .7l2.8 .5l-2-2zM295.1 234.2l4.7-.5m.1 .7l2.2-1l-2.4-.5zM302.9 234.2l3.4-2.7m.4 .5l1.3-1.8l-2.1 .8zM310.7 234.2l2-4.2m.6 .3l.3-2.4l-1.6 1.7zM318.4 234.2l.7-4.9m.8 .1l-.4-2.5l-1.1 2.3zM388.3 234.2l-.2-2.7m.5 0l-.5-1.3l-.4 1.3zM396.1 234.2l-.9-8.4m1.2-.1l-1.7-4l-.8 4.3zM403.9 234.2l-.4-5.9m.9-.1l-1.1-2.8l-.7 3zM411.6 234.2l-.3-4.3m.7-.1l-.8-2.1l-.5 2.2zM419.4 234.2l-.5-3m.5-.1l-.8-1.4l-.2 1.6zM442.7 234.2l.7 2m-.4 .1l.7 .9l0-1.1zM450.5 234.2l1.4 1.8m-.3 .3l1 .6l-.4-1.1zM458.2 234.2l1.6 1.2m-.2 .3l1 .3l-.6-.9zM7.8 242.4l-3.6-1.8m.3-.6l-2.1-.3l1.5 1.5zM15.5 242.4l-4.1-1.1m.2-.7l-2.2 .1l1.9 1.2zM23.3 242.4l-4.6-.3m.1-.7l-2.3 .5l2.2 .9zM31.1 242.4l-5.3-.2m0-.8l-2.6 .7l2.6 .9zM38.8 242.4l-5.6 .3m0-.9l-2.7 1l2.8 .7zM46.6 242.4l-5.2 1m-.2-.8l-2.4 1.3l2.7 .3zM54.4 242.4l-4.6 1.3m-.2-.7l-2.1 1.4l2.5 .1zM62.1 242.4l-4.2 1.5m-.2-.7l-1.8 1.4l2.3-.1zM69.9 242.4l-3.7 1.8m-.3-.6l-1.6 1.5l2.1-.3zM77.7 242.4l-3.3 2m-.3-.5l-1.3 1.5l2-.5zM85.4 242.4l-2.9 2.1m-.3-.5l-1.1 1.5l1.8-.6zM93.2 242.4l-2.6 2.2m-.4-.4l-.9 1.5l1.6-.7zM101 242.4l-2.3 2.2m-.4-.4l-.8 1.5l1.5-.7zM108.7 242.4l-2.3 1.9m-.3-.4l-.8 1.3l1.5-.6zM116.5 242.4l-2.9 1.2m-.2-.5l-1.2 1.1l1.6-.1zM124.3 242.4l-3.5-.5m.1-.6l-1.8 .3l1.6 .8zM132 242.4l-3-2m.3-.5l-1.8-.5l1.2 1.5zM139.8 242.4l-2.5-2.5m.4-.4l-1.6-.8l.8 1.6zM147.6 242.4l-1.9-2.6m.4-.3l-1.4-1l.5 1.6zM155.3 242.4l-1.1-2.4m.4-.2l-1-1l.1 1.4zM178.6 242.4l1.1 1.8m-.3 .2l.9 .7l-.2-1.1zM186.4 242.4l.8 2.7m-.5 .1l.8 1.2l.1-1.5zM194.2 242.4l.1 3m-.5 0l.5 1.5l.5-1.5zM201.9 242.4l-.9 1.7m-.3-.2l-.1 1l.7-.7zM217.5 242.4l-1.8-.7m.1-.3l-1 0l.7 .7zM248.5 242.4l-1.2 1.7m-.3-.2l-.3 1.1l.9-.6zM256.3 242.4l-.6 2.6m-.4-.1l.1 1.4l.8-1.2zM264.1 242.4l.4 3.3m-.5 .1l.8 1.6l.3-1.7zM271.8 242.4l2 3.5m-.6 .3l1.5 1.4l-.4-2.1zM279.6 242.4l3.7 3m-.5 .6l2.3 .9l-1.4-2zM287.4 242.4l5.2 1.6m-.3 .8l2.8 0l-2.3-1.6zM295.1 242.4l5.6 0m0 .9l2.8-.8l-2.8-.9zM302.9 242.4l4.6-1.3m.2 .7l2.1-1.4l-2.5-.1zM310.7 242.4l3.3-2.6m.4 .5l1.2-1.8l-2 .8zM318.4 242.4l1.9-3.5m.6 .3l.4-2l-1.5 1.4zM388.3 242.4l.2-2.7m.5 0l-.3-1.4l-.6 1.3zM396.1 242.4l.9-9.6m1.4 .1l-.9-4.9l-1.8 4.6zM403.9 242.4l.4-6m.9 .1l-.7-3l-1.1 2.9zM411.6 242.4l.3-4.2m.7 .1l-.5-2.1l-.8 2zM419.4 242.4l.1-2.9m.5 0l-.5-1.4l-.5 1.4zM450.5 242.4l1.7 1.4m-.3 .3l1.1 .4l-.6-1zM458.2 242.4l1.8 1.2m-.2 .3l1.1 .3l-.7-.9zM466 242.4l1.7 1.1m-.2 .3l1 .2l-.6-.9zM0 250.6l-3.8-1.2m.2-.6l-2.1 0l1.7 1.2zM7.8 250.6l-4.2-1.1m.2-.7l-2.3 .1l1.9 1.2zM15.5 250.6l-5-.5m.1-.8l-2.5 .5l2.4 1zM23.3 250.6l-5.8 .2m0-.9l-2.8 1l2.9 .8zM31.1 250.6l-6.6 .3m0-1l-3.2 1.1l3.3 .8zM38.8 250.6l-6.6 .2m0-1l-3.2 1.1l3.3 .9zM46.6 250.6l-6.2 .5m-.1-.9l-3 1.2l3.1 .7zM54.4 250.6l-5.6 .9m-.1-.9l-2.6 1.3l2.9 .4zM62.1 250.6l-5 1m-.2-.8l-2.3 1.2l2.6 .3zM69.9 250.6l-4.2 1.1m-.2-.7l-1.9 1.2l2.3 .1zM77.7 250.6l-3.7 1.3m-.2-.6l-1.6 1.2l2-.1zM85.4 250.6l-3 1.4m-.2-.5l-1.3 1.2l1.7-.2zM93.2 250.6l-2.3 1.6m-.3-.4l-.8 1.2l1.4-.4zM101 250.6l-1.3 1.9m-.3-.2l-.3 1.2l1-.7zM108.7 250.6l-.5 2m-.4-.1l.1 1.1l.6-.9zM132 250.6l-1.2-2.2m.4-.2l-1-.9l.2 1.3zM139.8 250.6l-1.6-2.8m.5-.3l-1.3-1.1l.3 1.6zM147.6 250.6l-1.5-3.1m.5-.2l-1.2-1.3l.2 1.8zM155.3 250.6l-1.1-3m.5-.2l-1-1.3l0 1.7zM163.1 250.6l-.5-2.4m.4-.1l-.6-1.1l-.2 1.2zM178.6 250.6l1.2 1.5m-.3 .2l.9 .5l-.3-1zM186.4 250.6l1.1 3m-.5 .2l1 1.3l0-1.6zM194.2 250.6l.5 3.5m-.6 .1l.8 1.6l.3-1.8zM201.9 250.6l-.5 2.7m-.5-.1l.2 1.4l.7-1.2zM209.7 250.6l-1.8 1m-.2-.3l-.7 .8l1.1-.1zM217.5 250.6l-2.2-.7m.1-.4l-1.2 .1l1 .7zM225.2 250.6l-2-1.3m.2-.4l-1.2-.3l.8 1zM240.8 250.6l-1.7 .8m-.2-.3l-.7 .7l1-.1zM248.5 250.6l-1.4 1.4m-.3-.3l-.4 1l.9-.4zM256.3 250.6l-.7 1.9m-.4-.1l0 1.1l.7-.8zM264.1 250.6l.6 2.3m-.4 .1l.7 1l.1-1.2zM271.8 250.6l2.1 2.1m-.4 .4l1.4 .7l-.7-1.4zM279.6 250.6l3.4 1.4m-.2 .5l1.9 .2l-1.4-1.3zM287.4 250.6l4.3 .5m-.1 .7l2.2-.4l-2-.9zM295.1 250.6l5.1 .2m0 .8l2.5-.7l-2.5-.9zM302.9 250.6l4.3-.3m0 .7l2.1-.8l-2.2-.5zM310.7 250.6l3.6-1.4m.2 .6l1.5-1.2l-2 .1zM388.3 250.6l.3-2.7m.5 .1l-.3-1.4l-.6 1.3zM396.1 250.6l1-10m1.4 .1l-.9-5l-1.9 4.8zM403.9 250.6l.3-5.8m.9 0l-.8-2.9l-1 2.8zM411.6 250.6l-.1-4m.6 0l-.7-2l-.6 2zM419.4 250.6l-.1-2.8m.5 0l-.5-1.4l-.4 1.4zM450.5 250.6l1.5 1.2m-.2 .3l.9 .3l-.5-.8zM458.2 250.6l1.6 1.3m-.2 .3l1 .3l-.6-.9zM466 250.6l1.5 1.3m-.2 .3l1 .4l-.5-.9zM0 258.7l-3.7-.7m.1-.6l-1.9 .2l1.7 .9zM7.8 258.7l-3.9-.7m.1-.6l-2 .3l1.8 1zM15.5 258.7l-4.2 .1m0-.7l-2 .7l2.1 .6zM23.3 258.7l-4.6 .9m-.1-.7l-2.1 1.2l2.4 .3zM31.1 258.7l-5.4 .8m-.1-.8l-2.5 1.2l2.8 .4zM38.8 258.7l-5.5 0m0-.8l-2.7 .8l2.7 .8zM46.6 258.7l-5.6 .2m0-.8l-2.7 .9l2.8 .7zM54.4 258.7l-5.4 .4m-.1-.8l-2.6 1l2.7 .6zM62.1 258.7l-4.9 .5m-.1-.8l-2.3 1l2.5 .5zM69.9 258.7l-4.2 .4m-.1-.7l-2 .9l2.2 .5zM77.7 258.7l-3.7 .4m-.1-.6l-1.8 .8l1.9 .4zM85.4 258.7l-3 .4m-.1-.5l-1.4 .7l1.5 .3zM93.2 258.7l-2 .3m0-.4l-.9 .5l1 .2zM116.5 258.7l2 1.3m-.2 .4l1.2 .3l-.8-1zM124.3 258.7l1.8 .8m-.1 .3l1 .1l-.7-.7zM139.8 258.7l-.9-2.4m.4-.2l-.9-1l0 1.4zM147.6 258.7l-1.1-3.3m.5-.2l-1.1-1.4l0 1.8zM155.3 258.7l-.7-3.4m.6-.1l-.9-1.6l-.2 1.8zM163.1 258.7l-.3-2.9m.5-.1l-.6-1.4l-.3 1.5zM186.4 258.7l.6 3.3m-.5 .1l.9 1.5l.2-1.8zM194.2 258.7l-.3 4.2m-.7 0l.5 2.1l.8-2zM201.9 258.7l-1.3 3.4m-.6-.2l-.1 1.9l1.2-1.5zM209.7 258.7l-2.4 1.6m-.3-.4l-.9 1.2l1.5-.4zM217.5 258.7l-2.8-.5m.1-.5l-1.5 .2l1.3 .7zM225.2 258.7l-2.6-1.4m.2-.4l-1.5-.2l1 1.1zM233 258.7l-2.2-.7m.1-.4l-1.2 0l1 .7zM271.8 258.7l1.9 .8m-.1 .3l1.1 0l-.8-.7zM279.6 258.7l2.7 .3m0 .5l1.4-.3l-1.3-.6zM287.4 258.7l3.2-.1m0 .5l1.6-.6l-1.6-.5zM295.1 258.7l3.2 .1m0 .5l1.6-.5l-1.6-.6zM302.9 258.7l3.3 .2m0 .5l1.7-.4l-1.6-.7zM310.7 258.7l3.1-.6m.1 .5l1.4-.8l-1.6-.2zM318.4 258.7l2.5-1.4m.2 .4l1-1.1l-1.5 .3zM388.3 258.7l.1-2.7m.5 0l-.4-1.3l-.5 1.3zM396.1 258.7l0-10.4m1.4 0l-1.4-5l-1.4 5zM403.9 258.7l-.4-5.2m.8-.1l-1-2.5l-.6 2.6zM411.6 258.7l-.7-4m.6-.1l-1-1.8l-.3 2.1zM419.4 258.7l-.6-3m.5-.1l-.8-1.4l-.2 1.6zM427.2 258.7l-.4-2m.4-.1l-.6-.9l-.2 1.1zM0 266.9l-2.7-.4m.1-.5l-1.4 .2l1.2 .7zM7.8 266.9l-2.9-.4m.1-.5l-1.5 .3l1.4 .7zM15.5 266.9l-3.1 .4m-.1-.5l-1.5 .7l1.6 .3zM23.3 266.9l-3.2 1.3m-.2-.5l-1.3 1.1l1.8-.1zM31.1 266.9l-3.3 1.2m-.2-.5l-1.4 1.1l1.8-.1zM38.8 266.9l-3.8 .6m-.1-.6l-1.8 .9l2 .3zM46.6 266.9l-4.3 .4m-.1-.7l-2 .9l2.2 .5zM54.4 266.9l-4.5 .3m0-.7l-2.2 .9l2.3 .6zM62.1 266.9l-4.4 .1m0-.7l-2.1 .7l2.2 .7zM69.9 266.9l-4-.2m0-.6l-2 .5l1.9 .8zM77.7 266.9l-3.5-.6m.1-.6l-1.8 .3l1.6 .8zM85.4 266.9l-2.7-1m.2-.5l-1.5 0l1.2 .9zM93.2 266.9l-1.5-1.5m.3-.3l-1-.5l.5 1zM108.7 266.9l2.1-.5m.1 .4l1-.6l-1.1-.1zM116.5 266.9l2.8 1m-.2 .5l1.5 0l-1.2-1zM124.3 266.9l2.3 1.8m-.3 .4l1.4 .5l-.8-1.2zM139.8 266.9l-.5-1.8m.3-.1l-.6-.8l-.1 1zM147.6 266.9l-.5-3.4m.6-.1l-.8-1.6l-.3 1.8zM155.3 266.9l-.2-3.7m.6 0l-.7-1.8l-.5 1.9zM163.1 266.9l0-3.1m.5 0l-.5-1.5l-.5 1.5zM186.4 266.9l-1.1 3.6m-.6-.2l0 1.9l1.1-1.6zM194.2 266.9l-1.3 5m-.8-.2l.1 2.6l1.4-2.3zM201.9 266.9l-2 4.3m-.7-.3l-.3 2.4l1.6-1.8zM209.7 266.9l-3 2.1m-.3-.5l-1.1 1.5l1.8-.6zM217.5 266.9l-3.1-.8m.1-.5l-1.6 .1l1.4 .9zM225.2 266.9l-2.2-2.1m.4-.4l-1.4-.7l.7 1.4zM233 266.9l-1.3-1.7m.3-.2l-1-.6l.4 1.1zM279.6 266.9l2-.5m.1 .4l.9-.6l-1.1-.1zM287.4 266.9l2.3-.4m.1 .4l1-.6l-1.2-.2zM295.1 266.9l2.3 0m0 .4l1.2-.4l-1.1-.4zM302.9 266.9l2.4 .2m0 .4l1.2-.3l-1.2-.5zM310.7 266.9l2.4-.3m0 .4l1.1-.6l-1.2-.3zM388.3 266.9l-.2-2.7m.5 0l-.6-1.3l-.4 1.3zM396.1 266.9l-1.1-10.8m1.4-.1l-1.9-4.8l-.9 5.1zM403.9 266.9l-.8-4.7m.7-.1l-1.1-2.2l-.4 2.4zM411.6 266.9l-.9-3.9m.6-.1l-1.1-1.8l-.2 2.1zM419.4 266.9l-.9-3.1m.5-.2l-1-1.4l-.1 1.7zM427.2 266.9l-.8-2.2m.4-.1l-.8-1l0 1.2zM0 275l-2.2-.3m.1-.4l-1.2 .2l1 .6zM7.8 275l-2.3-.2m0-.4l-1.2 .3l1.1 .5zM15.5 275l-2.2 .6m-.1-.4l-1 .7l1.2 .1zM23.3 275l-2.2 1.6m-.3-.4l-.8 1.2l1.4-.4zM31.1 275l-2.5 1.8m-.3-.4l-.9 1.3l1.5-.5zM38.8 275l-3 1.4m-.2-.5l-1.3 1.2l1.7-.2zM46.6 275l-3.6 1m-.2-.6l-1.6 1.1l1.9 .1zM54.4 275l-3.9 .5m-.1-.6l-1.8 .9l2 .4zM62.1 275l-3.9-.2m0-.6l-2 .5l1.9 .7zM69.9 275l-3.7-.9m.1-.6l-1.9 .2l1.7 1zM77.7 275l-3.2-1.4m.2-.5l-1.8-.2l1.3 1.2zM85.4 275l-2.5-2m.3-.4l-1.6-.6l.9 1.4zM93.2 275l-1.6-2.6m.4-.3l-1.2-1l.4 1.6zM101 275l-.4-2.9m.5-.1l-.7-1.4l-.3 1.5zM108.7 275l1.2-2.3m.4 .2l.2-1.3l-1 .9zM116.5 275l2.5 .9m-.2 .4l1.4 0l-1.1-.9zM124.3 275l1.9 2.6m-.4 .3l1.4 .9l-.5-1.6zM132 275l1.6 2.1m-.4 .3l1.2 .8l-.4-1.3zM147.6 275l.7-3.5m.6 .1l-.2-1.8l-.9 1.6zM155.3 275l.5-3.7m.6 .1l-.4-1.9l-.8 1.8zM163.1 275l.4-3m.5 .1l-.3-1.5l-.7 1.4zM178.6 275l-.8 1.9m-.3-.2l-.1 1.1l.7-.8zM186.4 275l-.9 3.7m-.6-.1l.2 2l1-1.7zM194.2 275l-.9 5.4m-.8-.1l.4 2.8l1.3-2.5zM201.9 275l-1.4 5.5m-.8-.2l.1 2.9l1.5-2.5zM209.7 275l-2.6 2.7m-.4-.4l-.8 1.7l1.7-.9zM217.5 275l-2.2-2m.3-.4l-1.4-.6l.8 1.3zM225.2 275l-.7-3.3m.5-.1l-.9-1.5l-.2 1.7zM233 275l.4-2.5m.4 .1l-.2-1.3l-.6 1.2zM310.7 275l1.9-.2m0 .4l.9-.5l-1-.2zM388.3 275l-.5-2.6m.5-.1l-.7-1.2l-.2 1.4zM396.1 275l-1.9-11m1.4-.2l-2.2-4.7l-.5 5.2zM403.9 275l-1-4.4m.7-.2l-1.2-2l-.2 2.3zM411.6 275l-1.1-3.9m.6-.2l-1.2-1.7l-.1 2.1zM419.4 275l-1.2-3.2m.5-.2l-1.1-1.4l.1 1.8zM427.2 275l-1.1-2.4m.4-.2l-1-1l.1 1.4zM0 283.1l-2.1-.3m.1-.4l-1.1 .2l1 .5zM7.8 283.1l-2.2-.2m0-.4l-1.1 .3l1.1 .5zM15.5 283.1l-2.2 .4m-.1-.4l-1 .6l1.2 .2zM23.3 283.1l-2.1 2m-.3-.4l-.7 1.3l1.4-.6zM31.1 283.1l-2.2 2.2m-.4-.4l-.7 1.5l1.5-.7zM38.8 283.1l-2.5 2m-.3-.4l-.9 1.4l1.6-.6zM46.6 283.1l-2.9 1.6m-.3-.5l-1.2 1.3l1.7-.3zM54.4 283.1l-3.2 .9m-.1-.5l-1.4 1l1.7 .1zM62.1 283.1l-3.3-.4m.1-.5l-1.7 .3l1.6 .8zM69.9 283.1l-3-1.4m.2-.5l-1.7-.2l1.2 1.2zM77.7 283.1l-2.6-2m.3-.4l-1.6-.6l1 1.4zM85.4 283.1l-2.3-2.5m.4-.4l-1.5-.9l.7 1.6zM93.2 283.1l-1.9-3.1m.5-.3l-1.5-1.2l.5 1.8zM101 283.1l-1.5-3.5m.6-.2l-1.3-1.5l.2 2zM108.7 283.1l-1.3-3m.5-.2l-1.1-1.2l.2 1.7zM124.3 283.1l.5 2.3m-.4 .1l.6 1.1l.2-1.2zM132 283.1l1.7 1.7m-.3 .3l1.2 .5l-.5-1.2zM139.8 283.1l2.4-.7m.1 .4l1-.8l-1.3-.1zM147.6 283.1l1.6-2.9m.5 .3l.3-1.7l-1.2 1.2zM155.3 283.1l.7-3.4m.6 .1l-.2-1.8l-.9 1.6zM163.1 283.1l.1-2.8m.5 0l-.4-1.4l-.5 1.4zM178.6 283.1l-.7 2.1m-.4-.1l0 1.2l.7-.9zM186.4 283.1l-.3 3.6m-.6-.1l.4 1.8l.7-1.7zM194.2 283.1l.4 5.2m-.8 .1l1 2.5l.6-2.6zM201.9 283.1l.8 5.9m-.9 .1l1.3 2.8l.5-3zM209.7 283.1l1.6 3.2m-.5 .3l1.3 1.3l-.3-1.8zM217.5 283.1l1.3-2.8m.5 .2l.2-1.6l-1.1 1.1zM225.2 283.1l.9-3.9m.6 .1l-.2-2l-1.1 1.8zM233 283.1l1.3-2.8m.5 .2l.2-1.6l-1.1 1.2zM388.3 283.1l-.7-2.6m.4-.1l-.8-1.2l-.1 1.4zM396.1 283.1l-2.9-11.1m1.4-.4l-2.6-4.5l-.1 5.2zM403.9 283.1l-1.3-4.3m.7-.2l-1.3-1.9l0 2.3zM411.6 283.1l-1.4-3.8m.6-.2l-1.3-1.7l.1 2.1zM419.4 283.1l-1.5-3.3m.5-.2l-1.2-1.4l.2 1.8zM427.2 283.1l-1.5-2.5m.4-.2l-1.1-1l.3 1.5zM434.9 283.1l-1.6-1.3m.2-.3l-1-.3l.6 .9zM0 291.2l-2.2-.2m0-.4l-1.1 .3l1.1 .5zM7.8 291.2l-2.4 .1m0-.4l-1.2 .5l1.2 .4zM15.5 291.2l-2.6 .7m-.1-.4l-1.2 .8l1.4 .1zM23.3 291.2l-2.5 1.7m-.3-.4l-1 1.3l1.5-.4zM31.1 291.2l-2.3 2.2m-.4-.4l-.7 1.5l1.5-.7zM38.8 291.2l-2.1 2.2m-.4-.4l-.7 1.4l1.4-.7zM46.6 291.2l-2.1 1.9m-.3-.4l-.7 1.3l1.4-.6zM54.4 291.2l-2.1 1.1m-.2-.4l-.8 .9l1.2-.2zM62.1 291.2l-2.1-.6m.1-.4l-1.1 .1l.9 .7zM69.9 291.2l-2-1.7m.3-.3l-1.3-.5l.7 1.2zM77.7 291.2l-1.9-2.3m.4-.3l-1.3-.8l.5 1.5zM85.4 291.2l-1.8-2.7m.4-.3l-1.3-1l.4 1.6zM93.2 291.2l-1.6-3.2m.5-.3l-1.3-1.3l.3 1.8zM101 291.2l-1.7-3.5m.6-.3l-1.4-1.5l.3 2zM108.7 291.2l-2.1-2.8m.5-.3l-1.5-1l.6 1.7zM116.5 291.2l-2.1-1.1m.2-.4l-1.2-.1l.8 .9zM139.8 291.2l1.6-1m.2 .3l.6-.8l-1 .2zM147.6 291.2l1.1-2.3m.4 .2l.2-1.3l-1 .9zM155.3 291.2l.3-2.8m.5 0l-.3-1.4l-.6 1.3zM163.1 291.2l-.7-2.1m.4-.1l-.7-.9l0 1.2zM178.6 291.2l-1 1.9m-.3-.2l-.2 1.1l.8-.7zM186.4 291.2l-.4 3.1m-.5-.1l.3 1.6l.7-1.4zM194.2 291.2l.3 4.1m-.6 .1l.8 2l.5-2.1zM201.9 291.2l1.7 4.6m-.7 .3l1.5 2l-.1-2.5zM209.7 291.2l2.9 2.3m-.4 .5l1.8 .6l-1.1-1.6zM217.5 291.2l2.8-1.5m.2 .5l1.1-1.2l-1.6 .3zM225.2 291.2l1.2-3.2m.5 .2l.1-1.8l-1.1 1.4zM233 291.2l-.5-2.4m.4-.1l-.6-1.1l-.2 1.3zM388.3 291.2l-.7-6.8m1-.1l-1.4-3.3l-.7 3.5zM396.1 291.2l-2.5-11.4m1.4-.3l-2.4-4.6l-.3 5.2zM403.9 291.2l-1.3-4.1m.6-.2l-1.3-1.8l0 2.2zM411.6 291.2l-1.5-3.7m.6-.2l-1.3-1.6l.1 2.1zM419.4 291.2l-1.7-3.2m.5-.3l-1.4-1.3l.3 1.9zM427.2 291.2l-2-2.4m.4-.3l-1.4-.9l.6 1.5zM434.9 291.2l-2.1-1.3m.2-.4l-1.3-.3l.8 1zM442.7 291.2l-2-.4m.1-.4l-1.1 .2l.9 .6zM0 299.3l-2.3 .1m0-.4l-1.1 .4l1.1 .4zM7.8 299.3l-2.4 .4m-.1-.4l-1.1 .6l1.3 .2zM15.5 299.3l-2.5 .9m-.2-.4l-1.1 .9l1.4 0zM23.3 299.3l-2.4 1.6m-.3-.4l-.9 1.2l1.5-.4zM31.1 299.3l-2.1 2m-.3-.4l-.7 1.3l1.4-.6zM38.8 299.3l-1.8 2m-.3-.3l-.5 1.3l1.2-.7zM46.6 299.3l-1.5 1.7m-.3-.3l-.4 1.1l1.1-.6zM69.9 299.3l-1.1-1.8m.3-.2l-.9-.7l.2 1.1zM77.7 299.3l-1.2-2.4m.4-.2l-1-1l.2 1.4zM85.4 299.3l-1.2-2.8m.5-.2l-1-1.2l.1 1.6zM93.2 299.3l-1.2-3.2m.5-.2l-1.1-1.4l.1 1.8zM101 299.3l-1.5-3.3m.5-.2l-1.3-1.4l.2 1.9zM108.7 299.3l-1.9-2.7m.4-.3l-1.4-1l.5 1.7zM116.5 299.3l-1.9-1.7m.3-.3l-1.2-.5l.6 1.2zM155.3 299.3l-.3-2.1m.4-.1l-.6-1l-.2 1.1zM178.6 299.3l-1.3 1.6m-.3-.2l-.4 1l.9-.5zM186.4 299.3l-.7 2.6m-.4-.1l.1 1.4l.8-1.2zM194.2 299.3l.1 3.4m-.6 0l.6 1.6l.5-1.7zM201.9 299.3l1.3 3.3m-.5 .2l1.2 1.4l-.1-1.9zM209.7 299.3l2.4 1.9m-.3 .4l1.5 .5l-.9-1.3zM217.5 299.3l2.4-.4m.1 .4l1.1-.6l-1.3-.2zM225.2 299.3l1.2-1.8m.3 .2l.3-1.1l-.9 .7zM372.8 299.3l.2-2.8m.5 0l-.4-1.4l-.6 1.4zM380.6 299.3l.1-3.3m.5 0l-.5-1.6l-.6 1.6zM388.3 299.3l-.2-4.6m.7 0l-.8-2.2l-.6 2.3zM396.1 299.3l-1.5-9.1m1.3-.2l-2-4.3l-.6 4.7zM403.9 299.3l-1.1-3.9m.6-.2l-1.2-1.7l-.1 2.1zM411.6 299.3l-1.5-3.6m.6-.2l-1.3-1.5l.2 2zM419.4 299.3l-1.8-3.1m.5-.3l-1.4-1.2l.4 1.8zM427.2 299.3l-2-2.3m.4-.3l-1.4-.8l.6 1.5zM434.9 299.3l-2.1-1.5m.3-.4l-1.3-.4l.8 1.1zM442.7 299.3l-2.1-.7m.1-.4l-1.1 0l.9 .7zM330 14l-.7-5.4m.8-.1l-1.1-2.5l-.5 2.7zM316 21l5.4 1.3m-.2 .8l2.8-.2l-2.4-1.5zM307 47l4.7 3.3m-.5 .7l2.8 .9l-1.8-2.4z" fill="#000" stroke-width=".95"/>
<path d="M466 0l-.3-2.7M466 8.6l-1.7-1.8M434.9 34.2l-.5-1.9M450.5 42.7l-1.3-1.6M365 51.2l-1.5 1.3M458.2 51.2l-1.4 2.2M466 59.7l.5 1.9M155.3 135.2l2 1.1M419.4 135.2l-.2-2M147.6 143.5l-2.2 1.3M155.3 143.5l-2 .2M163.1 143.5l-.8-1.8M170.9 143.5l1.6-1.7M186.4 151.9l1.8-2.1M194.2 151.9l2 .4M201.9 151.9l-.5-1.9M209.7 151.9l-.9-2.5M186.4 160.1l.6-2.5M194.2 160.1l1.2 1.6M201.9 160.1l1.3 1.5M209.7 160.1l.3-2.2M217.5 160.1l-.9-1.8M225.2 160.1l-2.2 .8M341.7 160.1l1.3-1.5M101 168.4l-2.4-1M194.2 168.4l-.7 1.9M201.9 168.4l1.9-.5M209.7 168.4l1.4-1.5M217.5 168.4l1.9-.6M225.2 168.4l-.8 2.5M341.7 168.4l1 1.7M194.2 176.7l-1.8-1.5M201.9 176.7l.4-2M209.7 176.7l1-1.7M217.5 176.7l1.6 1.2M318.4 176.7l-1.2 1.6M101 185l-.7-2.7M209.7 185l-1.4-1.7M217.5 185l-1.8 .8M46.6 193.2l-.4 2.1M108.7 193.2l1.3 2.1M38.8 201.4l1.7 1.5M46.6 201.4l1.2 2.2M108.7 201.4l1.9 .5M349.5 201.4l1.8 2M365 201.4l1.9-1.1M427.2 201.4l-1.6-1.9M108.7 209.7l-1.3-1.6M116.5 209.7l1.3 1.9M186.4 209.7l-1-2.4M341.7 209.7l-1.3 1.5M349.5 209.7l.6 1.9M357.3 209.7l1.9 .7M365 209.7l1.7-1.1M85.4 217.9l1.1 1.7M93.2 217.9l-2 .1M178.6 217.9l2.1-.4M186.4 217.9l-2-.1M194.2 217.9l-2.3 .1M349.5 217.9l-1.8 .8M357.3 217.9l1.8-.8M365 217.9l1.2-1.6M372.8 217.9l.7-2.2M466 217.9l-1.7 1.4M15.5 226.1l-.2-2.8M23.3 226.1l.6-2.4M31.1 226.1l1.5-2M147.6 226.1l-1.8-.9M155.3 226.1l2 0M163.1 226.1l2.5 .5M170.9 226.1l2.6 .9M178.6 226.1l1.7 1.6M186.4 226.1l0 2.2M194.2 226.1l-1.8 1.8M225.2 226.1l-2.7 .1M233 226.1l-1.9 .8M240.8 226.1l-.8 2.1M380.6 226.1l.1-2.6M458.2 226.1l.8 1.8M466 226.1l1 1.8M155.3 234.2l-1.1-2.2M163.1 234.2l1.4-1.4M170.9 234.2l1.9 1.1M225.2 234.2l-2.3-.8M233 234.2l-2 .1M240.8 234.2l-1.5 1.5M326.2 234.2l-.3-2.7M380.6 234.2l0-2.4M427.2 234.2l-1.1-1.9M434.9 234.2l-.4 2M466 234.2l2.1 1.3M163.1 242.4l-.3-2.6M170.9 242.4l1.9 .7M209.7 242.4l-2.5 .3M225.2 242.4l-2.2-1.4M233 242.4l-2.1-.2M240.8 242.4l-2 1.4M380.6 242.4l.2-2.3M427.2 242.4l.1-2.2M434.9 242.4l1.7 1M442.7 242.4l1.8 2M116.5 250.6l0 2.8M124.3 250.6l-.4-2M170.9 250.6l1-1.7M233 250.6l-2.8-.1M318.4 250.6l1.5-1.4M380.6 250.6l.2-2.4M427.2 250.6l.1-2.6M434.9 250.6l1.8-.9M442.7 250.6l1.8 1.2M101 258.7l-.8 1.8M108.7 258.7l2.1 1.6M132 258.7l.7-1.9M170.9 258.7l.3-2.5M178.6 258.7l1.3 1.6M240.8 258.7l-2.6 .6M248.5 258.7l-2 1.5M256.3 258.7l-1 1.7M264.1 258.7l1.1 1.7M434.9 258.7l0-2M442.7 258.7l1.7 1.1M450.5 258.7l1.3 1.5M458.2 258.7l1.5 1.9M466 258.7l1.4 2.4M101 266.9l.5-2.4M132 266.9l1.7 1.6M170.9 266.9l-.2-2.6M178.6 266.9l-1.2 1.8M240.8 266.9l-1.9-.6M248.5 266.9l-1.1 1.7M256.3 266.9l-1.1 1.7M264.1 266.9l1.9-.5M271.8 266.9l2.1-.6M318.4 266.9l1.8-.8M434.9 266.9l-1-1.9M442.7 266.9l-2-.2M450.5 266.9l-.7 1.9M458.2 266.9l-.3 2M466 266.9l0 2.4M139.8 275l2.1-1.6M170.9 275l-.2-2M240.8 275l1.8-.9M248.5 275l-.3 2M256.3 275l-2 .1M264.1 275l.2-2M271.8 275l1-1.9M279.6 275l1.8-1.8M287.4 275l2.3-.9M295.1 275l2.5-.1M302.9 275l2.7 .1M318.4 275l1.9-.8M434.9 275l-1.7-2M442.7 275l-2-.3M450.5 275l-1.7 1M458.2 275l-1.5 1.7M466 275l-1.2 2M116.5 283.1l-2.2 .3M170.9 283.1l-1.8-.9M240.8 283.1l1.3 1.7M248.5 283.1l-.9 2.2M256.3 283.1l-1.9-.7M264.1 283.1l-.3-2M271.8 283.1l.2-2.5M279.6 283.1l.5-2.3M287.4 283.1l1-1.7M295.1 283.1l1.9-.7M302.9 283.1l2-.3M310.7 283.1l1.9-.5M318.4 283.1l1.8-.9M442.7 283.1l-2.5-.4M450.5 283.1l-2.4 .8M458.2 283.1l-2.2 1.4M466 283.1l-1.9 1.5M124.3 291.2l-1.6 1.2M132 291.2l1.7 1.1M170.9 291.2l-2.1-.1M240.8 291.2l-1.2 2.4M248.5 291.2l.1 2.7M256.3 291.2l.4-2M264.1 291.2l.2-2.3M271.8 291.2l.1-2.5M279.6 291.2l0-2.4M287.4 291.2l.1-2M295.1 291.2l.9-1.8M302.9 291.2l1.6-1.2M310.7 291.2l1.7-1M318.4 291.2l1.6-1.2M380.6 291.2l-.1-2M450.5 291.2l-2.7 .4M458.2 291.2l-2.3 1.1M466 291.2l-2 1M54.4 299.3l-2 1.4M62.1 299.3l-1.8-1M124.3 299.3l-2.1-1.3M132 299.3l-.7-1.9M139.8 299.3l.6-2.1M163.1 299.3l-1.7-2.2M170.9 299.3l-2.4 0M233 299.3l-.5-2M240.8 299.3l-1 1.7M248.5 299.3l1.1 1.7M256.3 299.3l1.8-.9M264.1 299.3l.8-2M271.8 299.3l.4-2.4M279.6 299.3l.1-2.3M287.4 299.3l.1-2M295.1 299.3l.3-2M302.9 299.3l.9-1.8M450.5 299.3l-2.8-.1M458.2 299.3l-2.4 .5M466 299.3l-2 .6" fill="none" stroke-width="1.2"/>
</g>
<path d="M351.5 152h19M361 142.3v19.5" stroke="#f00" stroke-width="1.1" fill="none"/>
<path d="M345 189L361 189M347.6 183.6L358.4 194.4M353 181L353 197M358.4 183.6L347.6 194.4" stroke="#f00" stroke-width="1.05" fill="none"/>
<path d="M0 34h5M466 34h-5M0 102h5M466 102h-5M0 168h5M466 168h-5M0 234h5M466 234h-5M155 0v5M155 299.3v-5M311 0v5M311 299.3v-5" stroke="#222" stroke-width="1" fill="none"/>
<rect x="0" y="0" width="466" height="299.3" fill="none" stroke="#666" stroke-width="1.5"/>
<path d="M-.7 -1H466.7" stroke="#999" stroke-width="1.2"/>
<text x="3.2" y="18.2" font-size="22.5">(c)</text>
<text x="31" y="34.5" font-size="22.5">Day328</text>
<text x="31.6" y="55" font-size="22.5" style="fill:#f00">100 cm/s</text>
<path d="M37 61.7h27.5" stroke="#f00" stroke-width="1.5"/>
</g>
<g transform="translate(635.5,351.5)">
<clipPath id="md"><path d="M0.0,246.0 20.0,222.0 44.0,189.0 68.0,173.0 80.0,172.0 96.0,177.0 104.0,165.0 120.0,157.0 140.0,151.0 160.0,133.0 160.0,123.0 170.0,115.0 183.0,107.0 192.0,114.0 210.0,113.0 216.0,107.0 236.0,106.0 252.0,98.0 270.0,98.0 288.0,86.0 306.0,66.0 312.0,72.0 336.0,101.0 338.0,85.0 343.0,75.0 352.0,61.0 358.0,40.0 366.0,20.0 372.0,5.0 466.0,5.0 466.0,295.6 0.0,295.6Z"/></clipPath>
<clipPath id="fd"><rect x="0" y="0" width="466" height="299.3"/></clipPath>
<rect x="0" y="0" width="466" height="299.3" fill="#fff"/>
<g clip-path="url(#md)" stroke-width=".6">
<path fill="#00009f" stroke="#00009f" d="M201.9 0l7.8 0l7.8 0l7.7 0l7.8 0l7.8 0l7.7 0l7.8 0l7.8 0l7.7 0l7.8 0l7.8 0l7.7 0l7.8 0l7.8 0l7.7 0l4.8 0l3 4l3.1 4.6l4.7 6l1.7 2.5l6 7.3l0.9 1.3l6.9 8.2l0.2 0.3l4.9 8.5l-1.5 8.5l-3.6 2.5l-7.8 2l-7.7 0.6l-7.8 0.1l-7.8-0.1l-7.7-0.1l-7.8-0.2l-7.8-0.3l-7.7-0.5l-7.8-0.8l-7.8-0.8l-7.7-0.9l-7.8-0.7l-7.8-0.8l-7.7-1.5l-7.8-2.3l-7.8-3.8l-1.4-0.9l-6.3-5.3l-3.2-3.2l-4.6-5.6l-2.1-2.9l-5.3-8.6l-0.4-0.7l-3.7-7.8l-3.3-8.6z"/>
<path fill="#0000bf" stroke="#0000bf" d="M186.4 0l7.8 0l0.7 0l3.3 8.6l3.7 7.8l0.4 0.7l5.3 8.6l2.1 2.9l4.6 5.6l3.2 3.2l6.3 5.3l1.4 0.9l7.8 3.8l7.8 2.3l7.7 1.5l7.8 0.8l7.8 0.7l7.7 0.9l7.8 0.8l7.8 0.8l7.7 0.5l7.8 0.3l7.8 0.2l7.7 0.1l7.8 0.1l7.8-0.1l7.7-0.6l7.8-2l3.6-2.5l1.5-8.5l-4.9-8.5l-0.2-0.3l-6.9-8.2l-0.9-1.3l-6-7.3l-1.7-2.5l-4.7-6l-3.1-4.6l-3-4l3 0l6.7 0l1.1 1.5l4.2 7.1l3.5 4.8l2.3 3.7l5.5 7.2l0.8 1.4l6.4 8.5l0.6 0.9l3.9 7.6l-0.1 8.5l-3.8 5.9l-3.8 2.6l-4 1.5l-7.8 1.2l-7.7 0.6l-7.8 0.4l-7.8 0.5l-7.7 0.3l-7.8 0.2l-7.8 0.1l-7.7-0.5l-7.8-0.9l-7.8-1.1l-7.7-0.8l-7.8-0.5l-7.8-0.2l-7.7-0.3l-5.9-0.5l-1.9-0.3l-7.8-2.2l-7.7-4l-2.9-2l-4.9-4.1l-4.5-4.4l-3.3-3.7l-3.9-4.8l-3.8-5.5l-2.1-3l-5.1-8.6l-0.6-1.1l-3.8-7.4l-3.7-8.6z"/>
<path fill="#0000df" stroke="#0000df" d="M170.9 0l7.7 0l0.3 0l3.7 8.6l3.8 7.4l0.6 1.1l5.1 8.6l2.1 3l3.8 5.5l3.9 4.8l3.3 3.7l4.5 4.4l4.9 4.1l2.9 2l7.7 4l7.8 2.2l1.9 0.3l5.9 0.5l7.7 0.3l7.8 0.2l7.8 0.5l7.7 0.8l7.8 1.1l7.8 0.9l7.7 0.5l7.8-0.1l7.8-0.2l7.7-0.3l7.8-0.5l7.8-0.4l7.7-0.6l7.8-1.2l4-1.5l3.8-2.6l3.8-5.9l0.1-8.5l-3.9-7.6l-0.6-0.9l-6.4-8.5l-0.8-1.4l-5.5-7.2l-2.3-3.7l-3.5-4.8l-4.2-7.1l-1.1-1.5l1.1 0l6.5 0l1.2 1.9l3.5 6.7l4.3 6.7l1 1.8l5.4 8.6l1.4 1.7l3.9 6.8l3.8 6.4l0.8 2.1l0.1 8.5l-0.9 3l-3.3 5.5l-4.4 4l-7.8 2.7l-7.8 1.3l-3.5 0.4l-4.2 0.4l-7.8 0.9l-7.8 1l-7.7 1.1l-7.8 0.7l-7.8 0.4l-7.7-0.6l-7.8-1.4l-7.8-1.5l-7.7-0.9l-1.9-0.1l-5.9-0.3l-7.8 0.2l-2 0.1l-5.7 0.4l-7.8 0.3l-6.9-0.7l-0.9-0.1l-7.7-2.8l-7.8-4.5l-1.3-1l-6.5-5.5l-3.1-3l-4.6-5l-3.2-3.5l-4.6-5.8l-2.2-2.7l-5.6-8.1l-0.3-0.4l-5.2-8.6l-2.2-4l-2.5-4.5l-4.2-8.6z"/>
<path fill="#0005fa" stroke="#0005fa" d="M155.3 0l7.8 0l1.1 0l4.2 8.6l2.5 4.5l2.2 4l5.2 8.6l0.3 0.4l5.6 8.1l2.2 2.7l4.6 5.8l3.2 3.5l4.6 5l3.1 3l6.5 5.5l1.3 1l7.8 4.5l7.7 2.8l0.9 0.1l6.9 0.7l7.8-0.3l5.7-0.4l2-0.1l7.8-0.2l5.9 0.3l1.9 0.1l7.7 0.9l7.8 1.5l7.8 1.4l7.7 0.6l7.8-0.4l7.8-0.7l7.7-1.1l7.8-1l7.8-0.9l4.2-0.4l3.5-0.4l7.8-1.3l7.8-2.7l4.4-4l3.3-5.5l0.9-3l-0.1-8.5l-0.8-2.1l-3.8-6.4l-3.9-6.8l-1.4-1.7l-5.4-8.6l-1-1.8l-4.3-6.7l-3.5-6.7l-1.2-1.9l1.2 0l5.3 0l2.5 4.8l1.6 3.8l4.5 8.5l1.7 2.6l3.1 6l4.6 7.6l0.4 0.9l3.2 8.5l0.2 8.5l-2.1 8.5l-1.7 3.2l-6 5.2l-1.7 0.8l-7.8 1.9l-7.8 1.1l-7.7 1.1l-7.8 1.6l-7.4 2l-0.4 0.1l-7.7 2.3l-7.8 1.7l-7.8 0.5l-7.7-1.6l-7.8-2.3l-2.8-0.7l-5-1.4l-7.7-1.4l-7.8-0.4l-7.8 0.5l-7.7 1.4l-7 1.3l-0.8 0.1l-7.8 0.3l-2.5-0.4l-5.2-1.2l-7.8-3.8l-5.2-3.5l-2.6-2l-7.7-6.4l0-0.1l-7.8-7.7l-0.7-0.7l-7.1-7.9l-0.5-0.6l-6.7-8.5l-0.5-0.7l-5.7-7.8l-2.1-3.4l-3.4-5.2l-4.4-7.4l-0.7-1.1l-4.6-8.6z"/>
<path fill="#0023fe" stroke="#0023fe" d="M139.8 0l7.8 0l2.4 0l4.6 8.6l0.7 1.1l4.4 7.4l3.4 5.2l2.1 3.4l5.7 7.8l0.5 0.7l6.7 8.5l0.5 0.6l7.1 7.9l0.7 0.7l7.8 7.7l0 0.1l7.7 6.4l2.6 2l5.2 3.5l7.8 3.8l5.2 1.2l2.5 0.4l7.8-0.3l0.8-0.1l7-1.3l7.7-1.4l7.8-0.5l7.8 0.4l7.7 1.4l5 1.4l2.8 0.7l7.8 2.3l7.7 1.6l7.8-0.5l7.8-1.7l7.7-2.3l0.4-0.1l7.4-2l7.8-1.6l7.7-1.1l7.8-1.1l7.8-1.9l1.7-0.8l6-5.2l1.7-3.2l2.1-8.5l-0.2-8.5l-3.2-8.5l-0.4-0.9l-4.6-7.6l-3.1-6l-1.7-2.6l-4.5-8.5l-1.6-3.8l-2.5-4.8l2.5 0l3.2 0l3.6 8.6l1 1.9l2.8 6.6l4.4 8.6l0.5 0.9l3.4 7.6l2.9 8.5l0.3 8.5l-1.4 8.5l-3.9 8.4l-1.3 1.3l-7.7 3.6l-7.8 1.7l-7.8 1.3l-2.8 0.6l-4.9 0.9l-7.8 2.3l-7.8 3.5l-3.6 1.7l-4.1 3.4l-7.8 3.4l-7.8-1.1l-7.7-3.7l-4.1-2l-3.7-1.6l-7.8-2.9l-7.7-1.7l-7.8-0.4l-7.8 0.7l-7.7 2l-7.8 2.4l-7.8 1.4l-7.7-0.8l-7.8-3.1l-7.4-4.4l-0.4-0.3l-7.7-6l-2.9-2.2l-4.9-4.4l-4.6-4l-3.2-3.2l-5.3-5.3l-2.4-2.7l-5.3-5.8l-2.5-3.1l-4.4-5.4l-3.4-4.5l-3-4l-4.7-7l-1.2-1.6l-5.4-8.5l-1.2-2.1l-3.9-6.5zM287.4 189.9l7.7-2.9l6.5 6.2l-3.8 8.2l-2.7 3.3l-7.7-1.4l-1.1-1.9l-1.7-8.2zM271.8 239.6l7.8 0.8l1.6 2l4.2 8.2l1.5 8.1l-3 8.2l-4.3 2.1l-7.8-0.3l-5.3-1.8l-2.4-1.5l-5.5-6.7l1.2-8.1l4.3-6.2l3.1-2z"/>
<path fill="#0041fe" stroke="#0041fe" d="M124.3 0l7.7 0l3.9 0l3.9 6.5l1.2 2.1l5.4 8.5l1.2 1.6l4.7 7l3 4l3.4 4.5l4.4 5.4l2.5 3.1l5.3 5.8l2.4 2.7l5.3 5.3l3.2 3.2l4.6 4l4.9 4.4l2.9 2.2l7.7 6l0.4 0.3l7.4 4.4l7.8 3.1l7.7 0.8l7.8-1.4l7.8-2.4l7.7-2l7.8-0.7l7.8 0.4l7.7 1.7l7.8 2.9l3.7 1.6l4.1 2l7.7 3.7l7.8 1.1l7.8-3.4l4.1-3.4l3.6-1.7l7.8-3.5l7.8-2.3l4.9-0.9l2.8-0.6l7.8-1.3l7.8-1.7l7.7-3.6l1.3-1.3l3.9-8.4l1.4-8.5l-0.3-8.5l-2.9-8.5l-3.4-7.6l-0.5-0.9l-4.4-8.6l-2.8-6.6l-1-1.9l-3.6-8.6l4.6 0l0.7 0l2.9 8.6l3.3 8.5l0.8 1.6l2.9 7l3.5 8.5l1.4 4.2l1.1 4.3l0.2 8.5l-0.5 8.5l-0.8 4l-1.5 4.4l-6.3 6.1l-6.2 2.4l-1.5 0.3l-7.8 1.4l-7.8 1.4l-7.7 1.9l-7.8 3.2l-0.3 0.2l-7.5 6l-2.7 2.4l-5 6.9l-4 1.5l-3.8 1.2l-2-1.2l-5.8-2.6l-7.7-5.3l-0.8-0.5l-7-4.7l-7.8-3.3l-1.7-0.4l-6-1.7l-7.8-0.6l-7.8 1.1l-3.5 1.2l-4.2 1.4l-7.8 3l-7.8 2.2l-7.7 0.2l-7.8-2.5l-7.8-4.2l-0.1-0.1l-7.6-5.4l-4.4-3l-3.4-2.7l-7.4-5.8l-0.4-0.3l-7.7-6.9l-1.5-1.2l-6.3-6.2l-2.3-2.3l-5.5-5.9l-2.3-2.6l-5.4-6.4l-1.8-2.1l-6-7.7l-0.7-0.8l-6.2-8.6l-0.9-1.3l-4.9-7.2l-2.8-4.5l-2.7-4.1zM287.4 181.6l7.7-1.1l7.8 1.5l4.2 3l1.3 8.2l-2.9 8.2l-2.6 5.9l-1.9 2.4l-5.3 8.2l-0.6 1.6l-4 6.6l0 8.1l1.1 8.2l1 8.2l0.4 8.1l-1.1 8.2l-5.1 7.6l-1.3 0.5l-6.5 1.3l-7.8-0.8l-1.6-0.5l-6.1-2.3l-7.8-4.2l-2.5-1.6l-4-8.2l1.1-8.1l3.6-8.2l1.8-2.7l4.8-5.5l3-3.6l5.3-4.5l2.4-3.1l4.6-5.1l1.3-8.2l-1.7-8.3l-1.3-8.2l4.9-7.7l0.5-0.5zM284.6 193.2l1.7 8.2l1.1 1.9l7.7 1.4l2.7-3.3l3.8-8.2l-6.5-6.2l-7.7 2.9zM267.2 242.4l-3.1 2l-4.3 6.2l-1.2 8.1l5.5 6.7l2.4 1.5l5.3 1.8l7.8 0.3l4.3-2.1l3-8.2l-1.5-8.1l-4.2-8.2l-1.6-2l-7.8-0.8z"/>
<path fill="#005ffc" stroke="#005ffc" d="M108.7 0l7.8 0l5.1 0l2.7 4.1l2.8 4.5l4.9 7.2l0.9 1.3l6.2 8.6l0.7 0.8l6 7.7l1.8 2.1l5.4 6.4l2.3 2.6l5.5 5.9l2.3 2.3l6.3 6.2l1.5 1.2l7.7 6.9l0.4 0.3l7.4 5.8l3.4 2.7l4.4 3l7.6 5.4l0.1 0.1l7.8 4.2l7.8 2.5l7.7-0.2l7.8-2.2l7.8-3l4.2-1.4l3.5-1.2l7.8-1.1l7.8 0.6l6 1.7l1.7 0.4l7.8 3.3l7 4.7l0.8 0.5l7.7 5.3l5.8 2.6l2 1.2l3.8-1.2l4-1.5l5-6.9l2.7-2.4l7.5-6l0.3-0.2l7.8-3.2l7.7-1.9l7.8-1.4l7.8-1.4l1.5-0.3l6.2-2.4l6.3-6.1l1.5-4.4l0.8-4l0.5-8.5l-0.2-8.5l-1.1-4.3l-1.4-4.2l-3.5-8.5l-2.9-7l-0.8-1.6l-3.3-8.5l-2.9-8.6l5 0l2 7.2l0.4 1.4l2.7 8.5l3.1 8.6l1.6 3.9l1.5 4.6l1.8 8.5l0.3 8.5l0.1 8.5l-1.2 8.4l-2.5 4.8l-4 3.7l-3.8 1.6l-7.7 1.9l-7.8 1.5l-7.8 1.7l-5.6 1.7l-2.1 0.8l-7.8 4.7l-3.3 2.9l-4.5 7.8l-0.4 0.6l-4.2 8.4l-3.1 5.8l-7.8-1.8l-3.5-4l-4.3-3.2l-4.8-5.2l-2.9-2.3l-7.8-5.7l-0.8-0.4l-7-3.8l-7.7-2.4l-7.8-0.7l-7.8 1.1l-7.7 3.3l-5 2.5l-2.8 1.3l-7.8 2.7l-7.7 1.4l-7.8-1.8l-6.8-3.6l-1-0.5l-7.7-5l-4.6-2.9l-3.2-2.3l-7.8-5.2l-1.4-0.9l-6.3-4.9l-4.7-3.6l-3.1-2.7l-6.6-5.7l-1.2-1.2l-7.5-7.3l-0.2-0.3l-7.7-8.2l-0.1-0.1l-7.3-8.4l-0.5-0.6l-6.5-7.9l-1.2-1.7l-5.4-6.9l-2.4-3.4l-3.8-5.1l-4-5.7l-2-2.9zM287.4 175.7l7.7-1.2l7.8-0.6l7.8-1.6l6.9 4.4l-0.2 8.3l-2.7 8.2l-3.9 8.2l-0.1 0.3l-3.7 8l-2.9 8.2l-1.2 4l-1.8 4.2l-1.6 8.1l-0.3 8.2l-0.1 8.2l-0.2 8.1l-0.9 8.2l-2.9 7.1l-0.6 1l-7.1 5.1l-7.8 1.5l-7.8-0.7l-7.7-2.3l-7.8-2.9l-2.7-0.7l-5.1-2.5l-7.7-3.8l-2.3-1.8l1.3-8.2l1-2l1.8-6.1l2.8-8.2l3.1-7l0.7-1.2l4.6-8.1l2.5-5.9l1.3-2.3l2.6-8.2l-0.5-8.3l0.3-8.2l4.1-3.2l3.8-5l3.9-2.2l7.8-4.3l4.6-1.8zM280.1 185l-0.5 0.5l-4.9 7.7l1.3 8.2l1.7 8.3l-1.3 8.2l-4.6 5.1l-2.4 3.1l-5.3 4.5l-3 3.6l-4.8 5.5l-1.8 2.7l-3.6 8.2l-1.1 8.1l4 8.2l2.5 1.6l7.8 4.2l6.1 2.3l1.6 0.5l7.8 0.8l6.5-1.3l1.3-0.5l5.1-7.6l1.1-8.2l-0.4-8.1l-1-8.2l-1.1-8.2l0-8.1l4-6.6l0.6-1.6l5.3-8.2l1.9-2.4l2.6-5.9l2.9-8.2l-1.3-8.2l-4.2-3l-7.8-1.5l-7.7 1.1zM225.2 281.1l0.6 2l-0.6 0.5l-1.3-0.5z"/>
<path fill="#0080fe" stroke="#0080fe" d="M93.2 0l7.8 0l5.7 0l2 2.9l4 5.7l3.8 5.1l2.4 3.4l5.4 6.9l1.2 1.7l6.5 7.9l0.5 0.6l7.3 8.4l0.1 0.1l7.7 8.2l0.2 0.3l7.5 7.3l1.2 1.2l6.6 5.7l3.1 2.7l4.7 3.6l6.3 4.9l1.4 0.9l7.8 5.2l3.2 2.3l4.6 2.9l7.7 5l1 0.5l6.8 3.6l7.8 1.8l7.7-1.4l7.8-2.7l2.8-1.3l5-2.5l7.7-3.3l7.8-1.1l7.8 0.7l7.7 2.4l7 3.8l0.8 0.4l7.8 5.7l2.9 2.3l4.8 5.2l4.3 3.2l3.5 4l7.8 1.8l3.1-5.8l4.2-8.4l0.4-0.6l4.5-7.8l3.3-2.9l7.8-4.7l2.1-0.8l5.6-1.7l7.8-1.7l7.8-1.5l7.7-1.9l3.8-1.6l4-3.7l2.5-4.8l1.2-8.4l-0.1-8.5l-0.3-8.5l-1.8-8.5l-1.5-4.6l-1.6-3.9l-3.1-8.6l-2.7-8.5l-0.4-1.4l-2-7.2l2 0l2.9 0l1.8 8.6l2.1 8.5l1 2.9l1.7 5.7l2.5 8.5l1.4 8.5l0.3 8.5l0.7 8.5l-0.4 8.4l-4.1 8.5l-2.1 1.6l-7.8 3.2l-7.7 1.9l-7.8 1.6l-0.2 0.1l-7.6 1.9l-7.7 3.1l-4.9 3.4l-2.9 4.1l-2.7 4.3l-1.7 8.4l0.3 8.3l0.4 8.4l-1.7 8.3l-0.3 8.3l5.3 8.4l0.4 0.5l2 7.7l1 8.3l-0.1 8.3l-2.2 8.3l-0.7 1l-4.7 7.2l-3.1 3.4l-2.8 4.8l-3.8 8.3l-1.1 4.8l-1.1 3.4l-2.4 8.2l-1.4 8.1l-0.8 8.2l-0.5 8.2l-0.7 8.1l-0.9 8.2l0 0.1l-2.6 8l-5.2 6.2l-3 1.9l-4.7 2.4l-7.8 1.5l-7.8-0.7l-7.7-2.2l-3.1-1l-4.7-1.6l-7.8-1.3l-7.7 2.6l-0.4 0.3l-7.4 7.3l-0.9 0.8l-6.9 6.1l-4.4 2l-3.3 0l-7.8 0l-7.8 0l-0.8 0l-1.5-8.1l2.3-6.2l0.5-1.9l5.5-8.1l1.8-1.7l6.8-6.4l1-0.9l7.7-6.6l0.7-0.7l6.6-8.1l0.5-0.9l3.3-7.3l2.8-8.2l1.7-6.6l0.5-1.5l2.6-8.2l1.1-8.2l-2.3-8.3l-1.9-2.6l-5.8-5.6l-2-1.3l-7.8-3.7l-4.8-3.2l-1.8-8.3l6.6-2.8l7.8 1.7l3.6 1.1l4.2 3.1l7.7 2.9l7.8 0.1l7.8-2.4l6.1-3.7l1.6-0.6l7.8-2.7l7.8-2.9l7.1-2.1l0.6-0.4l7.3-7.9l0.5-2.4l2-5.8l3.1-8.4l-0.2-8.3l-4.9-7.8l-0.1-0.5l-4.9-8.4l-2.8-3.1l-2.7-5.2l-5-5.5l-3-2.9l-4.8-3.9l-7.8-4.2l-0.9-0.3l-6.8-2.6l-7.8-1l-7.8 1.4l-4.4 2.2l-3.3 1.7l-7.8 3.8l-5.9 2.9l-1.9 1l-7.7 2.8l-7.8-1.5l-4.5-2.3l-3.3-1.8l-7.7-4.7l-3.5-1.9l-4.3-2.7l-7.8-4.4l-2.3-1.3l-5.4-3.5l-7.5-4.9l-0.3-0.2l-7.8-6l-2.9-2.3l-4.8-4.2l-4.7-4.2l-3.1-3l-5.6-5.5l-2.2-2.3l-5.9-6.2l-1.8-2.1l-5.8-6.4l-2-2.3l-5.3-6.2l-2.5-3.1l-4.5-5.5l-3.2-4.1l-3.5-4.4l-4.3-5.7l-2.2-2.9zM284.2 176.7l-4.6 1.8l-7.8 4.3l-3.9 2.2l-3.8 5l-4.1 3.2l-0.3 8.2l0.5 8.3l-2.6 8.2l-1.3 2.3l-2.5 5.9l-4.6 8.1l-0.7 1.2l-3.1 7l-2.8 8.2l-1.8 6.1l-1 2l-1.3 8.2l2.3 1.8l7.7 3.8l5.1 2.5l2.7 0.7l7.8 2.9l7.7 2.3l7.8 0.7l7.8-1.5l7.1-5.1l0.6-1l2.9-7.1l0.9-8.2l0.2-8.1l0.1-8.2l0.3-8.2l1.6-8.1l1.8-4.2l1.2-4l2.9-8.2l3.7-8l0.1-0.3l3.9-8.2l2.7-8.2l0.2-8.3l-6.9-4.4l-7.8 1.6l-7.8 0.6l-7.7 1.2zM223.9 283.1l1.3 0.5l0.6-0.5l-0.6-2z"/>
<path fill="#00a1ff" stroke="#00a1ff" d="M77.7 0l7.7 0l5.6 0l2.2 2.9l4.3 5.7l3.5 4.4l3.2 4.1l4.5 5.5l2.5 3.1l5.3 6.2l2 2.3l5.8 6.4l1.8 2.1l5.9 6.2l2.2 2.3l5.6 5.5l3.1 3l4.7 4.2l4.8 4.2l2.9 2.3l7.8 6l0.3 0.2l7.5 4.9l5.4 3.5l2.3 1.3l7.8 4.4l4.3 2.7l3.5 1.9l7.7 4.7l3.3 1.8l4.5 2.3l7.8 1.5l7.7-2.8l1.9-1l5.9-2.9l7.8-3.8l3.3-1.7l4.4-2.2l7.8-1.4l7.8 1l6.8 2.6l0.9 0.3l7.8 4.2l4.8 3.9l3 2.9l5 5.5l2.7 5.2l2.8 3.1l4.9 8.4l0.1 0.5l4.9 7.8l0.2 8.3l-3.1 8.4l-2 5.8l-0.5 2.4l-7.3 7.9l-0.6 0.4l-7.1 2.1l-7.8 2.9l-7.8 2.7l-1.6 0.6l-6.1 3.7l-7.8 2.4l-7.8-0.1l-7.7-2.9l-4.2-3.1l-3.6-1.1l-7.8-1.7l-6.6 2.8l1.8 8.3l4.8 3.2l7.8 3.7l2 1.3l5.8 5.6l1.9 2.6l2.3 8.3l-1.1 8.2l-2.6 8.2l-0.5 1.5l-1.7 6.6l-2.8 8.2l-3.3 7.3l-0.5 0.9l-6.6 8.1l-0.7 0.7l-7.7 6.6l-1 0.9l-6.8 6.4l-1.8 1.7l-5.5 8.1l-0.5 1.9l-2.3 6.2l1.5 8.1l-6.9 0l-7.8 0l-7.8 0l-7.7 0l-7.8 0l-1.4 0l1.4-0.7l7.8-6l1.2-1.4l6.5-5.6l2.6-2.5l5.2-3.6l5.3-4.5l2.5-1.7l7.7-6.2l0.3-0.2l7.5-5.9l2.6-2.3l5.2-4.7l3.3-3.4l4.4-6l1.4-2.2l3.6-8.2l2.4-8.1l0.4-1.5l2.1-6.7l1.2-8.2l-3.1-8.3l-0.2-0.2l-7.8-6.5l-2.3-1.5l-5.4-3.8l-4-4.4l-1-8.3l5-6.1l7.7-1.8l7.8 2.1l7.8 2.8l7.7 2.5l6.4 0.5l1.4 0.2l0.6-0.2l7.2-1.5l7.7-3.3l7.8-2.9l1.3-0.6l6.5-3.4l5.5-4.9l2.2-7.1l0.5-1.1l3.2-8.4l0.9-8.3l-2.7-8.3l-1.9-2.8l-2.4-5.6l-4.9-8.3l-0.4-0.5l-7.8-7.7l-0.4-0.2l-7.4-4.5l-7.7-3l-5.9-0.9l-1.9-0.3l-1.5 0.3l-6.3 1l-7.7 4.5l-5.4 2.9l-2.4 1l-7.8 4.9l-4.6 2.5l-3.1 2.3l-7.8-1.6l-1.5-0.7l-6.3-3.5l-7.7-4.4l-1-0.5l-6.8-3.7l-7.8-3.5l-2.7-1.2l-5-2.5l-7.8-4.2l-2.9-1.7l-4.9-3.2l-7.2-5.2l-0.5-0.5l-7.8-6.3l-2-1.7l-5.8-5.2l-3.5-3.2l-4.2-4.1l-4.5-4.4l-3.3-3.4l-5-5.1l-2.8-3l-5.2-5.5l-2.5-2.9l-5.2-5.6l-2.6-3.1l-4.8-5.5l-3-3.5l-4.3-5l-3.4-4.3l-3.6-4.3zM372.8 0l0.1 0l1.2 8.6l1.6 8.5l2.1 8.6l1.9 8.5l0.9 7.2l0.1 1.3l0.4 8.5l1.4 8.5l0 8.4l-1.9 5.8l-1.2 2.7l-6.6 5.2l-7.8 2.9l-1.2 0.3l-6.5 1.3l-7.8 1.8l-7.8 2.4l-6.1 2.9l-1.6 1.3l-5.5 7.1l-1.1 8.4l1.1 8.3l1.5 8.4l0 8.3l0 8.3l1 8.4l3 7.4l0.2 0.8l0.8 8.3l0.8 8.3l-0.5 8.3l-1.3 2.3l-4.3 5.9l-3.5 2.8l-5 5.4l-2.8 3.1l-2.8 5.2l-1.7 8.2l-1.4 8.2l-1.1 8.1l-0.7 6.3l-0.3 1.9l-0.8 8.2l-1 8.1l-0.8 8.2l-1.9 8.1l-3 5.4l-2.1 2.7l-5.7 4.8l-7.7 3.1l-1 0.2l-6.8 1.4l-7.8-0.6l-2.8-0.8l-4.9-1.2l-7.8-2.4l-7.8-0.6l-6.8 4.2l-0.9 1l-5.8 7.1l-2 0l-7.8 0l-4.4 0l4.4-2l6.9-6.1l0.9-0.8l7.4-7.3l0.4-0.3l7.7-2.6l7.8 1.3l4.7 1.6l3.1 1l7.7 2.2l7.8 0.7l7.8-1.5l4.7-2.4l3-1.9l5.2-6.2l2.6-8l0-0.1l0.9-8.2l0.7-8.1l0.5-8.2l0.8-8.2l1.4-8.1l2.4-8.2l1.1-3.4l1.1-4.8l3.8-8.3l2.8-4.8l3.1-3.4l4.7-7.2l0.7-1l2.2-8.3l0.1-8.3l-1-8.3l-2-7.7l-0.4-0.5l-5.3-8.4l0.3-8.3l1.7-8.3l-0.4-8.4l-0.3-8.3l1.7-8.4l2.7-4.3l2.9-4.1l4.9-3.4l7.7-3.1l7.6-1.9l0.2-0.1l7.8-1.6l7.7-1.9l7.8-3.2l2.1-1.6l4.1-8.5l0.4-8.4l-0.7-8.5l-0.3-8.5l-1.4-8.5l-2.5-8.5l-1.7-5.7l-1-2.9l-2.1-8.5l-1.8-8.6zM108.7 200.6l7.8-7.1l7.3 7.9l-7.3 8.1l-7.8-7.3l-0.3-0.8z"/>
<path fill="#00c3ff" stroke="#00c3ff" d="M62.1 0l7.8 0l4.2 0l3.6 4.3l3.4 4.3l4.3 5l3 3.5l4.8 5.5l2.6 3.1l5.2 5.6l2.5 2.9l5.2 5.5l2.8 3l5 5.1l3.3 3.4l4.5 4.4l4.2 4.1l3.5 3.2l5.8 5.2l2 1.7l7.8 6.3l0.5 0.5l7.2 5.2l4.9 3.2l2.9 1.7l7.8 4.2l5 2.5l2.7 1.2l7.8 3.5l6.8 3.7l1 0.5l7.7 4.4l6.3 3.5l1.5 0.7l7.8 1.6l3.1-2.3l4.6-2.5l7.8-4.9l2.4-1l5.4-2.9l7.7-4.5l6.3-1l1.5-0.3l1.9 0.3l5.9 0.9l7.7 3l7.4 4.5l0.4 0.2l7.8 7.7l0.4 0.5l4.9 8.3l2.4 5.6l1.9 2.8l2.7 8.3l-0.9 8.3l-3.2 8.4l-0.5 1.1l-2.2 7.1l-5.5 4.9l-6.5 3.4l-1.3 0.6l-7.8 2.9l-7.7 3.3l-7.2 1.5l-0.6 0.2l-1.4-0.2l-6.4-0.5l-7.7-2.5l-7.8-2.8l-7.8-2.1l-7.7 1.8l-5 6.1l1 8.3l4 4.4l5.4 3.8l2.3 1.5l7.8 6.5l0.2 0.2l3.1 8.3l-1.2 8.2l-2.1 6.7l-0.4 1.5l-2.4 8.1l-3.6 8.2l-1.4 2.2l-4.4 6l-3.3 3.4l-5.2 4.7l-2.6 2.3l-7.5 5.9l-0.3 0.2l-7.7 6.2l-2.5 1.7l-5.3 4.5l-5.2 3.6l-2.6 2.5l-6.5 5.6l-1.2 1.4l-7.8 6l-1.4 0.7l-6.4 0l-7.7 0l-7.8 0l-7.8 0l-7.7 0l-7.8 0l-7.8 0l-7.7 0l-7.8 0l-7.8 0l-7.7 0l-7.8 0l-7.8 0l-7.7 0l-7.8 0l-6.2 0l6.2-6.1l3.8-2l4-1.5l7.7-0.2l7.6 1.7l0.2 0.1l7.8 3.5l7.7 2.3l7.8 0.8l7.8-0.8l7.7-2.4l6.4-3.5l1.4-0.9l7.8-4.7l6.3-2.5l1.4-0.7l7.8-0.5l7.8 0.1l7.7-1.1l7.8-2.9l5.5-3l2.3-1.2l7.7-4.4l4.4-2.5l3.4-1.8l7.8-4.2l3.4-2.2l4.3-2.6l6.9-5.5l0.9-0.9l6.5-7.3l1.3-1.6l3.9-6.6l3.8-8l0.1-0.1l2.8-8.2l1.5-8.2l-3.4-8.3l-1-0.8l-7.7-4.9l-3.5-2.5l-4.3-4.9l-2.1-3.3l-0.7-8.3l2.8-6.1l1.6-2.2l6.2-3.9l7.7-0.2l7.8 2.6l5.1 1.5l2.7 1.1l7.7 3.3l7.8 1l7.8-2l6.7-3.4l1-0.3l7.8-2.6l7.1-5.4l0.7-1.2l3.7-7l2.7-8.4l1.1-8.3l-1.9-8.3l-4.1-8.4l-1.5-2.5l-3-5.8l-4.8-4.9l-6.3-3.5l-1.5-0.9l-7.7-3.6l-7.8-1.5l-7.8 1.2l-6.9 4.8l-0.8 0.5l-7.8 3.6l-5.7 4.3l-2.1 3.1l-6.6 5.2l-1.1 0.7l-2.8-0.7l-5-1.5l-7.8-3.9l-5.5-2.9l-2.2-1.3l-7.8-3.6l-7.8-2.6l-3.2-0.9l-4.5-1.4l-7.8-2.9l-7.7-4.1l-0.1-0.1l-7.7-4.9l-4.7-3.4l-3.1-2.3l-7.6-6.1l-0.2-0.2l-7.7-6.6l-1.9-1.7l-5.9-5.3l-3.4-3.1l-4.4-4.2l-4.5-4.3l-3.2-3.3l-5.4-5.2l-2.4-2.5l-5.9-6l-1.9-2l-6.3-6.5l-1.4-1.6l-6.6-7l-1.2-1.3l-6.7-7.2l-1.1-1.3l-6.6-7.3zM378.8 8.6l1 8.5l0.8 4.8l0.6 3.8l1.6 8.5l0.9 8.5l0.4 8.5l1.5 8.5l0.3 8.4l-2.6 8.5l-2.7 2.9l-7.3 5.5l-0.5 0.2l-7.8 2.2l-7.7 1.8l-7.8 2.1l-6 2.1l-1.8 0.9l-7.7 6.4l-0.8 1.1l-1.3 8.4l1.5 8.3l0.6 2.5l0.9 5.9l0 8.3l-0.2 8.3l0.2 8.4l2 8.2l1.9 8.3l2.1 8.3l0.8 5.3l0.5 3l-0.5 1.9l-2.6 6.3l-5.1 4.3l-5.2 3.9l-2.6 1.8l-6 6.5l-1.8 5.7l-0.5 2.5l-0.6 8.2l-0.6 8.1l-0.8 8.2l-0.9 8.2l-1.1 8.1l-0.8 8.2l-1.6 8.1l-0.8 2.2l-2.6 5.9l-5.2 6.6l-2 1.5l-5.8 4l-7.7 2.9l-7.8 1.2l-7.8-0.3l-7.7-1.6l-7.8-2.1l-7.8 1l-2.7 3l-5 0l-5.8 0l5.8-7.1l0.9-1l6.8-4.2l7.8 0.6l7.8 2.4l4.9 1.2l2.8 0.8l7.8 0.6l6.8-1.4l1-0.2l7.7-3.1l5.7-4.8l2.1-2.7l3-5.4l1.9-8.1l0.8-8.2l1-8.1l0.8-8.2l0.3-1.9l0.7-6.3l1.1-8.1l1.4-8.2l1.7-8.2l2.8-5.2l2.8-3.1l5-5.4l3.5-2.8l4.3-5.9l1.3-2.3l0.5-8.3l-0.8-8.3l-0.8-8.3l-0.2-0.8l-3-7.4l-1-8.4l0-8.3l0-8.3l-1.5-8.4l-1.1-8.3l1.1-8.4l5.5-7.1l1.6-1.3l6.1-2.9l7.8-2.4l7.8-1.8l6.5-1.3l1.2-0.3l7.8-2.9l6.6-5.2l1.2-2.7l1.9-5.8l0-8.4l-1.4-8.5l-0.4-8.5l-0.1-1.3l-0.9-7.2l-1.9-8.5l-2.1-8.6l-1.6-8.5l-1.2-8.6l5.3 0zM108.7 190.7l7.8-2.2l7.8 2.7l2 2l2.7 8.2l-1.5 8.3l-3.2 3.9l-7.8 1.7l-7.8-3.1l-2.2-2.5l-2.8-8.3l2.5-8.2zM108.4 201.4l0.3 0.8l7.8 7.3l7.3-8.1l-7.3-7.9l-7.8 7.1z"/>
<path fill="#00e6ff" stroke="#00e6ff" d="M38.8 0l7.8 0l7.8 0l1.1 0l6.6 7.3l1.1 1.3l6.7 7.2l1.2 1.3l6.6 7l1.4 1.6l6.3 6.5l1.9 2l5.9 6l2.4 2.5l5.4 5.2l3.2 3.3l4.5 4.3l4.4 4.2l3.4 3.1l5.9 5.3l1.9 1.7l7.7 6.6l0.2 0.2l7.6 6.1l3.1 2.3l4.7 3.4l7.7 4.9l0.1 0.1l7.7 4.1l7.8 2.9l4.5 1.4l3.2 0.9l7.8 2.6l7.8 3.6l2.2 1.3l5.5 2.9l7.8 3.9l5 1.5l2.8 0.7l1.1-0.7l6.6-5.2l2.1-3.1l5.7-4.3l7.8-3.6l0.8-0.5l6.9-4.8l7.8-1.2l7.8 1.5l7.7 3.6l1.5 0.9l6.3 3.5l4.8 4.9l3 5.8l1.5 2.5l4.1 8.4l1.9 8.3l-1.1 8.3l-2.7 8.4l-3.7 7l-0.7 1.2l-7.1 5.4l-7.8 2.6l-1 0.3l-6.7 3.4l-7.8 2l-7.8-1l-7.7-3.3l-2.7-1.1l-5.1-1.5l-7.8-2.6l-7.7 0.2l-6.2 3.9l-1.6 2.2l-2.8 6.1l0.7 8.3l2.1 3.3l4.3 4.9l3.5 2.5l7.7 4.9l1 0.8l3.4 8.3l-1.5 8.2l-2.8 8.2l-0.1 0.1l-3.8 8l-3.9 6.6l-1.3 1.6l-6.5 7.3l-0.9 0.9l-6.9 5.5l-4.3 2.6l-3.4 2.2l-7.8 4.2l-3.4 1.8l-4.4 2.5l-7.7 4.4l-2.3 1.2l-5.5 3l-7.8 2.9l-7.7 1.1l-7.8-0.1l-7.8 0.5l-1.4 0.7l-6.3 2.5l-7.8 4.7l-1.4 0.9l-6.4 3.5l-7.7 2.4l-7.8 0.8l-7.8-0.8l-7.7-2.3l-7.8-3.5l-0.2-0.1l-7.6-1.7l-7.7 0.2l-4 1.5l-3.8 2l-6.2 6.1l-1.6 0l-7.7 0l-7.8 0l-7.8 0l-0.5 0l0.5-1l4.1-7.1l3.7-7.3l0.5-0.8l4-8.1l3.3-7.3l0.5-0.8l4.2-8.2l0.8-8.1l-1.7-8.2l-2.5-8.2l-1.1-8.1l3.9-8.2l3.6-1.9l7.8 1.9l6.5 8.2l1.3 5.9l0.3 2.2l-0.3 3.6l-1.1 4.6l-2 8.2l1.3 8.1l1.8 2l3.5 6.2l4.2 3.2l6.2 4.9l1.6 0.8l7.8 4.6l6.9 2.7l0.8 0.4l7.8 1l6.5-1.4l1.3-0.3l7.7-4.8l3.1-3l4.3-8.1l0.4-2.1l1.3-6.1l1.5-8.1l4.1-8.2l0.9-1.7l7.7-4.9l7.8 3.5l2.8 3.1l4.1 8.2l0.9 4.9l1.4 3.2l6.3 3.3l7.8-1.8l3.7-1.5l4.1-1.6l7.7-2.9l7.8-2.5l3-1.1l4.8-2l7.7-4.9l1.4-1.3l6.4-6.6l1.2-1.6l5.6-8.1l1-1.5l3-6.7l1.9-8.2l-4.9-7.6l-0.8-0.7l-7-4l-4.4-4.2l-3.4-7.2l-0.4-1l-0.7-8.3l1.1-3.7l1.4-4.6l6.4-6.8l3.3-1.5l4.5-3.4l7.7 1.7l0.5 1.7l7.3 3.5l7.8 3l5.5 1.8l2.2 1.1l7.8 1.3l7.4-2.4l0.4-0.1l7.7-2.7l7.8-3.4l2.7-2.1l4.7-8.2l0.4-1.1l3.1-7.3l1.6-8.3l-2.2-8.3l-2.5-4.8l-1.4-3.6l-4.9-8.3l-1.5-1.6l-7.8-4.9l-4.8-1.9l-2.9-1.4l-7.8-2l-7.8 1.3l-3 2.1l-4.7 2.8l-7.8 4.3l-1.7 1.3l-5.7 8.3l-0.4 0.8l-7.7 5l-7.8-1.9l-7.8-3.1l-1.9-0.8l-5.8-2.6l-7.8-3l-7.8-1l-7.7 0.1l-7.8-1.5l-0.6-0.3l-7.2-3.1l-7.7-5.1l-0.3-0.2l-7.5-5.3l-3.9-3.1l-3.9-3l-6.6-5.4l-1.1-1l-7.8-6.5l-1-0.9l-6.8-5.9l-2.9-2.6l-4.8-4.4l-4.6-4l-3.2-3l-6-5.5l-1.8-1.7l-7.2-6.8l-0.5-0.5l-7.8-7.4l-0.7-0.6l-7.1-6.9l-1.7-1.6l-6-6l-2.7-2.6l-5.1-5.1l-3.5-3.4l-4.3-4.4l-4.2-4.2zM380.6 0l3.4 0l0.2 8.6l0.4 8.5l0.7 8.6l0.8 8.5l0.5 8.5l0.6 8.5l1.1 6.1l0.5 2.4l0.5 8.4l-1 3.5l-1.4 5l-6.3 7l-1.9 1.4l-5.9 2.8l-7.8 2.3l-7.7 2l-4.5 1.3l-3.3 1.2l-7.8 4.4l-3.2 2.8l-2.4 8.4l0.7 8.3l1.1 8.4l0 8.3l-0.7 8.3l-0.2 8.4l2.6 8.2l2.1 6.6l0.7 1.7l2.8 8.3l2.4 8.3l-1 8.2l-4.9 6.5l-2.1 1.7l-5.6 3.9l-7 4.4l-0.8 0.9l-2.8 7.3l-0.6 8.2l-0.5 8.1l-0.6 8.2l-1 8.2l-1 8.1l-0.9 8.2l-0.4 2l-0.9 6.1l-2.4 8.1l-4.4 8.1l0 0.1l-7.6 8l-0.2 0l-7.8 0l-7.7 0l-7.8 0l-7.8 0l-7.7 0l-7.8 0l-7.8 0l-2.7 0l2.7-3l7.8-1l7.8 2.1l7.7 1.6l7.8 0.3l7.8-1.2l7.7-2.9l5.8-4l2-1.5l5.2-6.6l2.6-5.9l0.8-2.2l1.6-8.1l0.8-8.2l1.1-8.1l0.9-8.2l0.8-8.2l0.6-8.1l0.6-8.2l0.5-2.5l1.8-5.7l6-6.5l2.6-1.8l5.2-3.9l5.1-4.3l2.6-6.3l0.5-1.9l-0.5-3l-0.8-5.3l-2.1-8.3l-1.9-8.3l-2-8.2l-0.2-8.4l0.2-8.3l0-8.3l-0.9-5.9l-0.6-2.5l-1.5-8.3l1.3-8.4l0.8-1.1l7.7-6.4l1.8-0.9l6-2.1l7.8-2.1l7.7-1.8l7.8-2.2l0.5-0.2l7.3-5.5l2.7-2.9l2.6-8.5l-0.3-8.4l-1.5-8.5l-0.4-8.5l-0.9-8.5l-1.6-8.5l-0.6-3.8l-0.8-4.8l-1-8.5l-0.6-8.6zM108.7 184.6l7.8-1.3l7.8 1.2l0.8 0.5l6.9 6.5l1 1.7l1.5 8.2l0.4 8.3l-1.8 8.2l-1.1 2.9l-7.7 3.4l-7.8-1.9l-7.8-3.2l-1.4-1.2l-6.3-7.2l-0.6-1l-1.6-8.3l1.3-8.2l0.9-1.5l7.2-6.7zM106.2 193.2l-2.5 8.2l2.8 8.3l2.2 2.5l7.8 3.1l7.8-1.7l3.2-3.9l1.5-8.3l-2.7-8.2l-2-2l-7.8-2.7l-7.8 2.2z"/>
<path fill="#15fdfe" stroke="#15fdfe" d="M15.5 0l7.8 0l7.8 0l3.5 0l4.2 4.2l4.3 4.4l3.5 3.4l5.1 5.1l2.7 2.6l6 6l1.7 1.6l7.1 6.9l0.7 0.6l7.8 7.4l0.5 0.5l7.2 6.8l1.8 1.7l6 5.5l3.2 3l4.6 4l4.8 4.4l2.9 2.6l6.8 5.9l1 0.9l7.8 6.5l1.1 1l6.6 5.4l3.9 3l3.9 3.1l7.5 5.3l0.3 0.2l7.7 5.1l7.2 3.1l0.6 0.3l7.8 1.5l7.7-0.1l7.8 1l7.8 3l5.8 2.6l1.9 0.8l7.8 3.1l7.8 1.9l7.7-5l0.4-0.8l5.7-8.3l1.7-1.3l7.8-4.3l4.7-2.8l3-2.1l7.8-1.3l7.8 2l2.9 1.4l4.8 1.9l7.8 4.9l1.5 1.6l4.9 8.3l1.4 3.6l2.5 4.8l2.2 8.3l-1.6 8.3l-3.1 7.3l-0.4 1.1l-4.7 8.2l-2.7 2.1l-7.8 3.4l-7.7 2.7l-0.4 0.1l-7.4 2.4l-7.8-1.3l-2.2-1.1l-5.5-1.8l-7.8-3l-7.3-3.5l-0.5-1.7l-7.7-1.7l-4.5 3.4l-3.3 1.5l-6.4 6.8l-1.4 4.6l-1.1 3.7l0.7 8.3l0.4 1l3.4 7.2l4.4 4.2l7 4l0.8 0.7l4.9 7.6l-1.9 8.2l-3 6.7l-1 1.5l-5.6 8.1l-1.2 1.6l-6.4 6.6l-1.4 1.3l-7.7 4.9l-4.8 2l-3 1.1l-7.8 2.5l-7.7 2.9l-4.1 1.6l-3.7 1.5l-7.8 1.8l-6.3-3.3l-1.4-3.2l-0.9-4.9l-4.1-8.2l-2.8-3.1l-7.8-3.5l-7.7 4.9l-0.9 1.7l-4.1 8.2l-1.5 8.1l-1.3 6.1l-0.4 2.1l-4.3 8.1l-3.1 3l-7.7 4.8l-1.3 0.3l-6.5 1.4l-7.8-1l-0.8-0.4l-6.9-2.7l-7.8-4.6l-1.6-0.8l-6.2-4.9l-4.2-3.2l-3.5-6.2l-1.8-2l-1.3-8.1l2-8.2l1.1-4.6l0.3-3.6l-0.3-2.2l-1.3-5.9l-6.5-8.2l-7.8-1.9l-3.6 1.9l-3.9 8.2l1.1 8.1l2.5 8.2l1.7 8.2l-0.8 8.1l-4.2 8.2l-0.5 0.8l-3.3 7.3l-4 8.1l-0.5 0.8l-3.7 7.3l-4.1 7.1l-0.5 1l-7.2 0l-7.8 0l0-7.1l0.6-1l5.3-8.1l1.9-3.1l2.8-5l4.2-8.1l0.7-1.4l3.7-6.8l2.9-8.1l0.5-8.2l-1-8.2l-0.7-8.1l1.3-8.2l1.1-2l5.4-6.2l2.4-1.4l7.7-1.2l7.8 2l1.1 0.6l6.7 4.7l3.8 3.5l3.9 6.6l0.9 1.6l2.3 8.1l0.9 8.2l1.1 8.2l2.6 8l0 0.1l6 8.2l1.8 1.4l7.7 4.4l7.8 0.9l7.8-3.6l2.8-3.1l3.6-8.2l1.3-6.3l0.4-1.8l1.4-8.2l0.5-8.2l-2.3-3.3l-3.2-4.8l-4.5-3.6l-3.3-4.6l-3.3-8.2l-0.5-8.3l0.4-8.2l3.4-8.2l3.3-3.4l7.7-3.5l7.8-0.6l7.8 0l7.7 1.5l7.8 5.4l0.6 0.6l2 8.2l-0.2 8.2l3.2 8.3l2.2 4.6l3.5 3.6l4.2 4l7.8 3.9l0.9 0.3l6.9 2.6l7.7 2.9l7.8 0.8l7.8-2.1l6.6-4.2l1.1-1l5.7-7.2l1.1-8.2l-6.8-6.3l-1.6-2l-5.8-8.2l-0.3-1.5l-2.7-6.7l-0.8-8.3l1.2-8.3l2.3-2.3l4.1-6l3.6-2.3l7.7-5.9l0.1-0.1l7-8.3l0.8-1.1l5.2 1.1l2.5 0.5l2.2 7.9l5.3 8.2l0.3 0.2l7.8 3.8l7.7 2.7l7.8 1.2l7.8-2l7.7-2.9l5.9-3l1.9-1.4l4.8-6.8l2.9-8.4l0.1-0.5l1.9-7.8l-1.9-6.5l-0.5-1.8l-3.2-8.4l-4.1-6.4l-2-1.9l-5.8-3.9l-7.7-3.2l-4.9-1.3l-2.9-0.8l-4.8 0.8l-3 0.5l-7.7 4.6l-5.6 3.3l-2.2 1.9l-4.9 6.4l-2.9 5.7l-4 2.7l-3.7 3.7l-7.8-3l-2.5-0.7l-5.3-1.6l-7.7-1.5l-7.8-0.1l-5.6 3.2l-2.2 2.8l-4.2 5.5l-3.5 4.5l-7.8-0.7l-3.2-3.8l-4.6-5.1l-2.3-3.2l-5.4-6.2l-2-2.2l-5.8-5.4l-3.1-2.9l-4.7-4l-5-4.4l-2.7-2.3l-7.2-6.1l-0.6-0.5l-7.8-6.6l-1.5-1.3l-6.2-5.3l-3.7-3.1l-4.1-3.6l-5.7-4.9l-2.1-1.8l-7.6-6.6l-0.1-0.1l-7.8-6.8l-2-1.6l-5.8-5.1l-3.9-3.4l-3.8-3.4l-5.9-5.1l-1.9-1.7l-7.7-6.8l-0.1-0.1l-7.7-6.9l-1.9-1.6l-5.9-5.3l-3.6-3.2l-4.2-3.8l-5.3-4.8zM108.2 185l-7.2 6.7l-0.9 1.5l-1.3 8.2l1.6 8.3l0.6 1l6.3 7.2l1.4 1.2l7.8 3.2l7.8 1.9l7.7-3.4l1.1-2.9l1.8-8.2l-0.4-8.3l-1.5-8.2l-1-1.7l-6.9-6.5l-0.8-0.5l-7.8-1.2l-7.8 1.3zM388.3 0l2.3 0l-0.2 8.6l-0.2 8.5l-0.2 8.6l0 8.5l0.1 8.5l0.5 8.5l1.7 8.5l0.5 8.4l-2.2 8.5l-2.3 2.9l-4.9 5.5l-2.8 1.8l-7.8 3.6l-7.8 2.3l-2.5 0.7l-5.2 1.6l-7.8 3.3l-5.4 3.5l-2.4 4l-1.7 4.4l0.1 8.3l0.9 8.4l-0.1 8.3l-1.2 8.3l-0.5 8.4l2.5 6.9l0.6 1.3l3.3 8.3l3.6 8.3l0.3 0.7l2.4 7.6l0.2 8.2l-2.6 6.5l-1.2 1.7l-6.6 6.8l-2.2 1.5l-5.5 5l-2.7 3.2l-1.9 8.2l-0.7 8.1l-0.8 8.2l-0.9 8.2l-0.8 6.8l-0.1 1.3l-0.9 8.2l-1 8.1l-1.8 8.1l-2.8 8.1l-1.2 2.5l-3.3 5.6l-4.4 0l-7.6 0l7.6-8l0-0.1l4.4-8.1l2.4-8.1l0.9-6.1l0.4-2l0.9-8.2l1-8.1l1-8.2l0.6-8.2l0.5-8.1l0.6-8.2l2.8-7.3l0.8-0.9l7-4.4l5.6-3.9l2.1-1.7l4.9-6.5l1-8.2l-2.4-8.3l-2.8-8.3l-0.7-1.7l-2.1-6.6l-2.6-8.2l0.2-8.4l0.7-8.3l0-8.3l-1.1-8.4l-0.7-8.3l2.4-8.4l3.2-2.8l7.8-4.4l3.3-1.2l4.5-1.3l7.7-2l7.8-2.3l5.9-2.8l1.9-1.4l6.3-7l1.4-5l1-3.5l-0.5-8.4l-0.5-2.4l-1.1-6.1l-0.6-8.5l-0.5-8.5l-0.8-8.5l-0.7-8.6l-0.4-8.5l-0.2-8.6z"/>
<path fill="#54f6fb" stroke="#54f6fb" d="M7.8 0l2.4 0l5.3 4.8l4.2 3.8l3.6 3.2l5.9 5.3l1.9 1.6l7.7 6.9l0.1 0.1l7.7 6.8l1.9 1.7l5.9 5.1l3.8 3.4l3.9 3.4l5.8 5.1l2 1.6l7.8 6.8l0.1 0.1l7.6 6.6l2.1 1.8l5.7 4.9l4.1 3.6l3.7 3.1l6.2 5.3l1.5 1.3l7.8 6.6l0.6 0.5l7.2 6.1l2.7 2.3l5 4.4l4.7 4l3.1 2.9l5.8 5.4l2 2.2l5.4 6.2l2.3 3.2l4.6 5.1l3.2 3.8l7.8 0.7l3.5-4.5l4.2-5.5l2.2-2.8l5.6-3.2l7.8 0.1l7.7 1.5l5.3 1.6l2.5 0.7l7.8 3l3.7-3.7l4-2.7l2.9-5.7l4.9-6.4l2.2-1.9l5.6-3.3l7.7-4.6l3-0.5l4.8-0.8l2.9 0.8l4.9 1.3l7.7 3.2l5.8 3.9l2 1.9l4.1 6.4l3.2 8.4l0.5 1.8l1.9 6.5l-1.9 7.8l-0.1 0.5l-2.9 8.4l-4.8 6.8l-1.9 1.4l-5.9 3l-7.7 2.9l-7.8 2l-7.8-1.2l-7.7-2.7l-7.8-3.8l-0.3-0.2l-5.3-8.2l-2.2-7.9l-2.5-0.5l-5.2-1.1l-0.8 1.1l-7 8.3l-0.1 0.1l-7.7 5.9l-3.6 2.3l-4.1 6l-2.3 2.3l-1.2 8.3l0.8 8.3l2.7 6.7l0.3 1.5l5.8 8.2l1.6 2l6.8 6.3l-1.1 8.2l-5.7 7.2l-1.1 1l-6.6 4.2l-7.8 2.1l-7.8-0.8l-7.7-2.9l-6.9-2.6l-0.9-0.3l-7.8-3.9l-4.2-4l-3.5-3.6l-2.2-4.6l-3.2-8.3l0.2-8.2l-2-8.2l-0.6-0.6l-7.8-5.4l-7.7-1.5l-7.8 0l-7.8 0.6l-7.7 3.5l-3.3 3.4l-3.4 8.2l-0.4 8.2l0.5 8.3l3.3 8.2l3.3 4.6l4.5 3.6l3.2 4.8l2.3 3.3l-0.5 8.2l-1.4 8.2l-0.4 1.8l-1.3 6.3l-3.6 8.2l-2.8 3.1l-7.8 3.6l-7.8-0.9l-7.7-4.4l-1.8-1.4l-6-8.2l0-0.1l-2.6-8l-1.1-8.2l-0.9-8.2l-2.3-8.1l-0.9-1.6l-3.9-6.6l-3.8-3.5l-6.7-4.7l-1.1-0.6l-7.8-2l-7.7 1.2l-2.4 1.4l-5.4 6.2l-1.1 2l-1.3 8.2l0.7 8.1l1 8.2l-0.5 8.2l-2.9 8.1l-3.7 6.8l-0.7 1.4l-4.2 8.1l-2.8 5l-1.9 3.1l-5.3 8.1l-0.6 1l0-1l0-8.1l0-8.1l0-6.4l1.2-1.7l6-8.2l0.6-0.8l3.9-7.3l1.5-8.2l-1.1-8.2l-0.9-8.1l0.5-8.2l3.3-8.2l0.5-0.8l7.8-6.8l1.7-0.7l6.1-1.7l7.7 0.3l4.8 1.4l3 0.9l7.8 3.8l6.3 3.6l1.4 1.2l7.5 7l0.3 0.6l4.9 7.6l2.8 8.1l0.1 0.3l3 7.9l1.6 8.2l3.1 8.1l7.8 1.4l1.3-1.4l1.5-8.1l-0.3-8.2l-1.8-8.2l-0.7-1.5l-3.3-6.6l-2.5-8.2l-1.1-8.2l0.2-8.3l0.7-8.2l1.8-8.2l4.2-7.6l0.7-0.7l7.1-5.1l7.7-2.2l7.8-0.8l1.8-0.2l6-0.8l7.7-1.9l7.3-5.6l0.5-1l2.9-7.2l-0.5-8.4l-2.4-4.8l-1.8-3.5l-6-8.2l-0.1-0.1l-7.6-8.4l-7.8-7.6l-0.8-0.7l-7-6.4l-2.2-2l-5.5-4.8l-4.1-3.6l-3.7-3.1l-6.2-5.3l-1.6-1.3l-7.7-6.5l-0.9-0.6l-6.9-5.7l-3.5-2.8l-4.3-3.4l-6.3-5l-1.4-1.2l-7.8-6.2l-1.4-1.1l-6.4-5l-4.4-3.5l-3.3-2.7l-7.4-5.8l-0.4-0.3l-7.8-6.1l-2.7-2.1l-5-4.1l-5.7-4.5l-2.1-1.6l0-6.9l0-8.6zM239.1 110.2l-6.1 5.1l-2.4 3.2l-4.2 8.4l-1.2 3.7l-4.6 4.6l4.6 3.1l2.5 5.2l2.7 8.4l2.6 3.9l4.7 4.3l3.1 1.6l7.7 2.9l7.8 1.2l7.8-2l7.7-3.1l1.1-0.6l6.7-5l2.3-3.2l3.1-8.4l1.7-8.3l-2-8.3l-3.4-8.4l-1.7-2.7l-5.8-5.6l-2-1.4l-7.7-3.3l-7.8-2l-7.8 1.3l-7.7 4.4zM194.3 135.2l-0.1 0.7l-1.4 7.6l1.4 1.4l7.7 1l4.4-2.4l3.4-3.2l2.9-5.1l-2.9-1.4l-7.8-0.7zM396.1 0l2.8 0l-0.1 8.6l-0.4 8.5l-1.5 8.6l-0.8 2.1l-0.9 6.4l-0.9 8.5l0.1 8.5l1.3 8.5l0.4 6.2l0.2 2.2l-0.2 0.7l-1.7 7.8l-6.1 7.7l-0.5 0.7l-7.2 4.6l-7.8 3.4l-1.3 0.4l-6.5 2l-7.7 2.6l-7.6 3.8l-0.2 0.2l-5.7 8.2l-0.7 8.3l0.6 8.4l0.1 8.3l-1.6 8.3l-0.5 4.3l-0.3 4.1l0.3 1l3.1 7.2l4.1 8.3l0.6 1.4l3.6 6.9l2.6 8.3l0.7 8.2l-2.2 8.2l-4.5 8.3l-0.2 0.3l-6.7 7.9l-1.1 1.8l-3.5 6.4l-1.8 8.1l-1.2 8.2l-1.1 8.2l-0.1 0.9l-0.8 7.2l-0.9 8.2l-0.9 8.1l-1.2 8.1l-1.7 8.1l-2.3 7.7l-0.1 0.4l-7.7 0l-3.3 0l3.3-5.6l1.2-2.5l2.8-8.1l1.8-8.1l1-8.1l0.9-8.2l0.1-1.3l0.8-6.8l0.9-8.2l0.8-8.2l0.7-8.1l1.9-8.2l2.7-3.2l5.5-5l2.2-1.5l6.6-6.8l1.2-1.7l2.6-6.5l-0.2-8.2l-2.4-7.6l-0.3-0.7l-3.6-8.3l-3.3-8.3l-0.6-1.3l-2.5-6.9l0.5-8.4l1.2-8.3l0.1-8.3l-0.9-8.4l-0.1-8.3l1.7-4.4l2.4-4l5.4-3.5l7.8-3.3l5.2-1.6l2.5-0.7l7.8-2.3l7.8-3.6l2.8-1.8l4.9-5.5l2.3-2.9l2.2-8.5l-0.5-8.4l-1.7-8.5l-0.5-8.5l-0.1-8.5l0-8.5l0.2-8.6l0.2-8.5l0.2-8.6z"/>
<path fill="#9eeff3" stroke="#9eeff3" d="M403.9 0l6.1 0l1.6 7.1l0.5 1.5l7.3 6.6l3.7 1.9l4.1 1.8l5.6 6.8l0.5 8.5l-6.1 5.1l-7.8-1.3l-7.8-3.5l-7.7 0.8l-3.9 7.4l-1.3 8.5l1.2 8.5l0.4 8.4l-1.9 8.5l-2.3 3.1l-4 5.3l-3.8 2.7l-7.7 4.7l-2.3 1l-5.5 2.2l-7.8 2.5l-7.7 2.9l-1.6 0.8l-6.2 5.5l-2 2.9l-1.6 8.3l0.5 8.4l0.3 8.3l-1.9 8.3l-1.3 8.4l3.8 8.2l2.2 4.4l3.3 3.9l4.1 8.3l0.4 1.3l1.9 7l1 8.2l-0.9 8.2l-2 7.1l-0.5 1.2l-4.1 8.2l-3.2 6.7l-0.8 1.5l-3 8.1l-2 8.2l-1.6 8.2l-0.4 2.5l-0.8 5.6l-0.9 8.2l-0.8 8.1l-0.7 8.1l-0.7 8.1l-0.8 8.1l-3 0l-7.8 0l-0.1 0l0.1-0.4l2.3-7.7l1.7-8.1l1.2-8.1l0.9-8.1l0.9-8.2l0.8-7.2l0.1-0.9l1.1-8.2l1.2-8.2l1.8-8.1l3.5-6.4l1.1-1.8l6.7-7.9l0.2-0.3l4.5-8.3l2.2-8.2l-0.7-8.2l-2.6-8.3l-3.6-6.9l-0.6-1.4l-4.1-8.3l-3.1-7.2l-0.3-1l0.3-4.1l0.5-4.3l1.6-8.3l-0.1-8.3l-0.6-8.4l0.7-8.3l5.7-8.2l0.2-0.2l7.6-3.8l7.7-2.6l6.5-2l1.3-0.4l7.8-3.4l7.2-4.6l0.5-0.7l6.1-7.7l1.7-7.8l0.2-0.7l-0.2-2.2l-0.4-6.2l-1.3-8.5l-0.1-8.5l0.9-8.5l0.9-6.4l0.8-2.1l1.5-8.6l0.4-8.5l0.1-8.6zM2.1 17.1l5.7 4.5l5 4.1l2.7 2.1l7.8 6.1l0.4 0.3l7.4 5.8l3.3 2.7l4.4 3.5l6.4 5l1.4 1.1l7.8 6.2l1.4 1.2l6.3 5l4.3 3.4l3.5 2.8l6.9 5.7l0.9 0.6l7.7 6.5l1.6 1.3l6.2 5.3l3.7 3.1l4.1 3.6l5.5 4.8l2.2 2l7 6.4l0.8 0.7l7.8 7.6l7.6 8.4l0.1 0.1l6 8.2l1.8 3.5l2.4 4.8l0.5 8.4l-2.9 7.2l-0.5 1l-7.3 5.6l-7.7 1.9l-6 0.8l-1.8 0.2l-7.8 0.8l-7.7 2.2l-7.1 5.1l-0.7 0.7l-4.2 7.6l-1.8 8.2l-0.7 8.2l-0.2 8.3l1.1 8.2l2.5 8.2l3.3 6.6l0.7 1.5l1.8 8.2l0.3 8.2l-1.5 8.1l-1.3 1.4l-7.8-1.4l-3.1-8.1l-1.6-8.2l-3-7.9l-0.1-0.3l-2.8-8.1l-4.9-7.6l-0.3-0.6l-7.5-7l-1.4-1.2l-6.3-3.6l-7.8-3.8l-3-0.9l-4.8-1.4l-7.7-0.3l-6.1 1.7l-1.7 0.7l-7.8 6.8l-0.5 0.8l-3.3 8.2l-0.5 8.2l0.9 8.1l1.1 8.2l-1.5 8.2l-3.9 7.3l-0.6 0.8l-6 8.2l-1.2 1.7l0-1.7l0-8.2l0-8.1l0-6.9l0.4-1.3l-0.1-8.2l-0.3-3.8l0-4.3l0-8.2l1.9-8.2l4.8-8.3l1.1-1.1l7.7-6l2.8-1.1l5-1.6l7.8-0.5l7.7 1.4l1.6 0.7l6.2 2l7.8 3.5l7.5 2.7l0.2 0.1l7.8 0.9l1.9-1l5.9-6.5l0.5-1.7l1.9-8.2l2.2-8.3l3.1-5.9l2.1-2.4l5.7-6.1l3.7-2.2l4.1-3.4l7.7-4.3l1.1-0.5l4.6-8.4l-2.3-8.3l-3.4-5.4l-1.6-2.9l-6.1-7.6l-0.6-0.8l-7.2-7.5l-0.7-0.8l-7.1-6.6l-1.9-1.8l-5.8-5l-4.1-3.4l-3.7-3l-6.8-5.4l-1-0.8l-7.7-5.8l-2.5-1.8l-5.3-3.9l-6.3-4.6l-1.5-1.1l-7.7-5.5l-2.7-1.8l-5.1-3.6l-6.9-4.9l-0.9-0.6l-7.7-5.4l-3.7-2.5l-4.1-2.9l0-5.6l0-8.5l0-8.6l0-1.6zM240.8 109.2l7.7-4.4l7.8-1.3l7.8 2l7.7 3.3l2 1.4l5.8 5.6l1.7 2.7l3.4 8.4l2 8.3l-1.7 8.3l-3.1 8.4l-2.3 3.2l-6.7 5l-1.1 0.6l-7.7 3.1l-7.8 2l-7.8-1.2l-7.7-2.9l-3.1-1.6l-4.7-4.3l-2.6-3.9l-2.7-8.4l-2.5-5.2l-4.6-3.1l4.6-4.6l1.2-3.7l4.2-8.4l2.4-3.2l6.1-5.1zM243.3 110.2l-2.5 1.4l-7.8 6.9l0 0.1l-4 8.3l-2.5 8.3l3.7 8.3l2.8 7.3l0.4 1.1l7.4 7.3l2.2 0.9l5.5 2.2l7.8 1.3l7.8-2.1l3.2-1.4l4.5-1.9l7.4-6.3l0.4-0.7l3.1-7.7l1.8-8.3l-2-8.3l-2.9-7l-0.7-1.4l-7.1-7.1l-2.7-1.2l-5-2.2l-7.8-2.1l-7.8 1.3zM201.9 133.1l7.8 0.7l2.9 1.4l-2.9 5.1l-3.4 3.2l-4.4 2.4l-7.7-1l-1.4-1.4l1.4-7.6l0.1-0.7z"/>
<path fill="#d9edee" stroke="#d9edee" d="M411.6 0l7.8 0l5.6 0l2.2 2.7l4.3 5.9l3.4 3.4l3.1 5.1l3.1 8.6l-0.3 8.5l-5 8.5l-0.9 0.8l-7.7 3.3l-7.8-0.5l-7.8-1.7l-7.7 5.4l-0.4 1.2l0.4 4.4l0.4 4.1l0.2 8.4l-0.6 2.1l-1.4 6.4l-6 8.4l-0.4 0.3l-7.8 5.4l-4.4 2.7l-3.3 1.8l-7.8 3.1l-7.8 2.5l-2.5 1l-5.2 2.8l-5.9 5.6l-1.9 5.3l-0.7 3l0.3 8.4l0.4 7.4l0.1 0.9l-0.1 0.2l-2.1 8.1l-1.8 8.4l3.9 7.9l0.5 0.3l6.9 8.3l0.4 0.7l3.5 7.6l1.7 8.3l1.4 8.2l-0.1 8.2l-1.2 8.3l-1.9 8.2l-2.2 8.2l-1.2 4.2l-1.3 3.9l-2.5 8.2l-2.3 8.2l-1.7 7.8l-0.1 0.3l-1.1 8.2l-0.7 8.1l-0.1 8.1l0.3 8.1l0.7 8.1l-6.8 0l-4.7 0l0.8-8.1l0.7-8.1l0.7-8.1l0.8-8.1l0.9-8.2l0.8-5.6l0.4-2.5l1.6-8.2l2-8.2l3-8.1l0.8-1.5l3.2-6.7l4.1-8.2l0.5-1.2l2-7.1l0.9-8.2l-1-8.2l-1.9-7l-0.4-1.3l-4.1-8.3l-3.3-3.9l-2.2-4.4l-3.8-8.2l1.3-8.4l1.9-8.3l-0.3-8.3l-0.5-8.4l1.6-8.3l2-2.9l6.2-5.5l1.6-0.8l7.7-2.9l7.8-2.5l5.5-2.2l2.3-1l7.7-4.7l3.8-2.7l4-5.3l2.3-3.1l1.9-8.5l-0.4-8.4l-1.2-8.5l1.3-8.5l3.9-7.4l7.7-0.8l7.8 3.5l7.8 1.3l6.1-5.1l-0.5-8.5l-5.6-6.8l-4.1-1.8l-3.7-1.9l-7.3-6.6l-0.5-1.5l-1.6-7.1zM4.1 42.7l3.7 2.5l7.7 5.4l0.9 0.6l6.9 4.9l5.1 3.6l2.7 1.8l7.7 5.5l1.5 1.1l6.3 4.6l5.3 3.9l2.5 1.8l7.7 5.8l1 0.8l6.8 5.4l3.7 3l4.1 3.4l5.8 5l1.9 1.8l7.1 6.6l0.7 0.8l7.2 7.5l0.6 0.8l6.1 7.6l1.6 2.9l3.4 5.4l2.3 8.3l-4.6 8.4l-1.1 0.5l-7.7 4.3l-4.1 3.4l-3.7 2.2l-5.7 6.1l-2.1 2.4l-3.1 5.9l-2.2 8.3l-1.9 8.2l-0.5 1.7l-5.9 6.5l-1.9 1l-7.8-0.9l-0.2-0.1l-7.5-2.7l-7.8-3.5l-6.2-2l-1.6-0.7l-7.7-1.4l-7.8 0.5l-5 1.6l-2.8 1.1l-7.7 6l-1.1 1.1l-4.8 8.3l-1.9 8.2l0-8.2l0-8.3l0-8.2l0-5.5l4-2.7l3.8-2.2l7.7-2.5l7.8-0.7l7.8 0.8l7.7 2.3l4.1 2.3l3.7 1.4l7.8 3.8l7.7 1.9l7.8-6.8l0.2-0.3l1.9-8.3l2.1-8.3l3.2-8.3l0.4-1.1l3-7.1l2.3-8.4l-0.3-8.3l-3.4-8.3l-1.6-2.3l-4.5-6.1l-3.3-3.4l-4.9-4.9l-2.9-2.5l-7.1-5.9l-0.6-0.5l-7.8-5.7l-3.2-2.2l-4.6-3.1l-7.7-5.3l-0.1 0l-7.7-4.9l-5.6-3.5l-2.2-1.4l-7.7-4.8l-3.7-2.3l-4.1-2.5l0-5.9l0-8.5l0-8.5l0-2.9zM248.5 107.2l7.8-1.3l7.8 2.1l5 2.2l2.7 1.2l7.1 7.1l0.7 1.4l2.9 7l2 8.3l-1.8 8.3l-3.1 7.7l-0.4 0.7l-7.4 6.3l-4.5 1.9l-3.2 1.4l-7.8 2.1l-7.8-1.3l-5.5-2.2l-2.2-0.9l-7.4-7.3l-0.4-1.1l-2.8-7.3l-3.7-8.3l2.5-8.3l4-8.3l0-0.1l7.8-6.9l2.5-1.4zM247.8 110.2l-7 3.8l-5 4.5l-2.8 5.4l-1.5 3l-2.3 8.3l3.5 8.3l0.3 0.7l3.1 7.7l4.7 4.6l7.7 3.5l0.9 0.1l6.9 1.3l4.5-1.3l3.3-1l7.7-3.4l4.5-3.8l3.3-6.4l0.8-2l1.9-8.3l-2.1-8.3l-0.6-1.6l-3.3-6.8l-4.5-4.4l-7.7-3.6l-1.1-0.3l-6.7-1.8l-7.8 1.3zM0.3 234.2l0.1 8.2l-0.4 1.3l0-1.3l0-8.2l0-3.8z"/>
<path fill="#f2eecf" stroke="#f2eecf" d="M427.2 0l7.7 0l3.7 0l4.1 7.8l0.3 0.8l3.1 8.5l1.6 8.6l-0.5 8.5l-3.3 8.5l-1.2 1.8l-7.5 6.7l-0.3 0.2l-7.7 2.7l-7.8 0.7l-7.8 4.4l-0.1 0.5l-1.5 8.4l-2.8 8.5l-3.3 4.2l-2.9 4.2l-4.9 3.5l-7.1 4.9l-0.7 0.4l-7.7 4.2l-7.8 2.9l-2.7 0.9l-5.1 2.1l-7.7 4.6l-1.8 1.7l-3.6 8.3l0.4 8.4l1.7 8.3l-1.7 8.3l-2.8 1.5l-1.8 6.9l1.8 3.7l6.1 4.5l1.7 2l5.3 6.3l2.2 8.3l0.2 1.4l0.9 6.9l1.7 8.2l0.5 8.2l-0.1 8.3l-0.2 8.2l-0.2 8.2l-0.9 8.1l-1.7 5.8l-0.7 2.4l-3 8.2l-2.7 8.1l-1.3 6.7l-0.3 1.5l-0.6 8.1l0.4 8.1l0.5 2.5l1.1 5.6l3 8.1l-4.1 0l-7.8 0l-1 0l-0.7-8.1l-0.3-8.1l0.1-8.1l0.7-8.1l1.1-8.2l0.1-0.3l1.7-7.8l2.3-8.2l2.5-8.2l1.3-3.9l1.2-4.2l2.2-8.2l1.9-8.2l1.2-8.3l0.1-8.2l-1.4-8.2l-1.7-8.3l-3.5-7.6l-0.4-0.7l-6.9-8.3l-0.5-0.3l-3.9-7.9l1.8-8.4l2.1-8.1l0.1-0.2l-0.1-0.9l-0.4-7.4l-0.3-8.4l0.7-3l1.9-5.3l5.9-5.6l5.2-2.8l2.5-1l7.8-2.5l7.8-3.1l3.3-1.8l4.4-2.7l7.8-5.4l0.4-0.3l6-8.4l1.4-6.4l0.6-2.1l-0.2-8.4l-0.4-4.1l-0.4-4.4l0.4-1.2l7.7-5.4l7.8 1.7l7.8 0.5l7.7-3.3l0.9-0.8l5-8.5l0.3-8.5l-3.1-8.6l-3.1-5.1l-3.4-3.4l-4.3-5.9l-2.2-2.7zM4.1 68.1l3.7 2.3l7.7 4.8l2.2 1.4l5.6 3.5l7.7 4.9l0.1 0l7.7 5.3l4.6 3.1l3.2 2.2l7.8 5.7l0.6 0.5l7.1 5.9l2.9 2.5l4.9 4.9l3.3 3.4l4.5 6.1l1.6 2.3l3.4 8.3l0.3 8.3l-2.3 8.4l-3 7.1l-0.4 1.1l-3.2 8.3l-2.1 8.3l-1.9 8.3l-0.2 0.3l-7.8 6.8l-7.7-1.9l-7.8-3.8l-3.7-1.4l-4.1-2.3l-7.7-2.3l-7.8-0.8l-7.8 0.7l-7.7 2.5l-3.8 2.2l-4 2.7l0-2.7l0-8.3l0-8.3l0-5.5l7.8-2.2l5.1-0.6l2.6-0.4l7.8 0.4l0.3 0l7.5 1.1l7.7 2l7.8 2.3l7.8-3.8l0.4-1.6l0.7-8.2l-1.1-7.5l-0.2-0.9l-4.4-8.3l-3.2-4l-4-4.3l-3.8-3.3l-6.3-5.1l-1.4-1l-7.8-5.1l-3.2-2.2l-4.6-2.8l-7.7-4.8l-1.3-0.8l-6.5-3.7l0-4.7l0-8.4l0-8.4l0-8.5l0-2.5zM248.5 109.7l7.8-1.3l6.7 1.8l1.1 0.3l7.7 3.6l4.5 4.4l3.3 6.8l0.6 1.6l2.1 8.3l-1.9 8.3l-0.8 2l-3.3 6.4l-4.5 3.8l-7.7 3.4l-3.3 1l-4.5 1.3l-6.9-1.3l-0.9-0.1l-7.7-3.5l-4.7-4.6l-3.1-7.7l-0.3-0.7l-3.5-8.3l2.3-8.3l1.5-3l2.8-5.4l5-4.5l7-3.8zM238.5 118.5l-4.3 8.4l-1.2 4.5l-1 3.8l1 2.4l2.2 5.9l3.6 8.4l2 1.9l7.7 3.5l7.8 1.6l7.8-2.4l7.7-3.3l1.6-1.3l4.4-8.4l1.8-6.2l0.5-2.1l-0.5-1.9l-1.9-6.4l-4.1-8.4l-1.8-1.7l-7.7-3.7l-7.8-2.1l-7.8 1.5l-7.7 4z"/>
<path fill="#f9f59e" stroke="#f9f59e" d="M442.7 0l6.1 0l1.7 5.1l0.9 3.5l1.7 8.5l0.8 8.6l-0.6 8.5l-2.6 8.5l-0.2 0.5l-5.2 8l-2.6 3l-7.7 5.5l-0.1 0l-7.7 3.2l-7.8 3.3l-1.4 1.9l-5.1 8.5l-1.3 0.9l-5.9 7.5l-1.8 1.1l-7.8 5.6l-2.4 1.7l-5.4 3.3l-7.7 4l-2.9 1.1l-4.9 2.3l-7.8 3.3l-4.6 2.8l-3.1 3.7l-2.2 4.6l0.6 8.4l1.6 5.3l1.8 3l4 8.3l-2.6 8.4l4.5 5.1l0.8 3.1l3.3 8.3l1 8.3l-0.6 8.3l1.7 8.2l1.3 8.2l0.3 3.9l0.5 4.4l1.2 8.2l2 8.2l2.1 8.1l-1.3 8.2l-4.5 6.9l-0.6 1.3l-4.1 8.1l-2.3 8.2l-0.5 8.1l1.3 8.1l3.5 8.1l2.7 4l4.4 4.1l-4.4 0l-7.8 0l-3.6 0l-3-8.1l-1.1-5.6l-0.5-2.5l-0.4-8.1l0.6-8.1l0.3-1.5l1.3-6.7l2.7-8.1l3-8.2l0.7-2.4l1.7-5.8l0.9-8.1l0.2-8.2l0.2-8.2l0.1-8.3l-0.5-8.2l-1.7-8.2l-0.9-6.9l-0.2-1.4l-2.2-8.3l-5.3-6.3l-1.7-2l-6.1-4.5l-1.8-3.7l1.8-6.9l2.8-1.5l1.7-8.3l-1.7-8.3l-0.4-8.4l3.6-8.3l1.8-1.7l7.7-4.6l5.1-2.1l2.7-0.9l7.8-2.9l7.7-4.2l0.7-0.4l7.1-4.9l4.9-3.5l2.9-4.2l3.3-4.2l2.8-8.5l1.5-8.4l0.1-0.5l7.8-4.4l7.8-0.7l7.7-2.7l0.3-0.2l7.5-6.7l1.2-1.8l3.3-8.5l0.5-8.5l-1.6-8.6l-3.1-8.5l-0.3-0.8l-4.1-7.8zM6.5 101.8l1.3 0.8l7.7 4.8l4.6 2.8l3.2 2.2l7.8 5.1l1.4 1l6.3 5.1l3.8 3.3l4 4.3l3.2 4l4.4 8.3l0.2 0.9l1.1 7.5l-0.7 8.2l-0.4 1.6l-7.8 3.8l-7.8-2.3l-7.7-2l-7.5-1.1l-0.3 0l-7.8-0.4l-2.6 0.4l-5.1 0.6l-7.8 2.2l0-2.8l0-8.2l0-8.4l0-8.3l0-8.3l0-8.4l0-8.3l0-8.4l0-3.7zM240.8 116.5l7.7-4l7.8-1.5l7.8 2.1l7.7 3.7l1.8 1.7l4.1 8.4l1.9 6.4l0.5 1.9l-0.5 2.1l-1.8 6.2l-4.4 8.4l-1.6 1.3l-7.7 3.3l-7.8 2.4l-7.8-1.6l-7.7-3.5l-2-1.9l-3.6-8.4l-2.2-5.9l-1-2.4l1-3.8l1.2-4.5l4.3-8.4zM241.7 118.5l-0.9 0.9l-3.9 7.5l-2 8.3l2.7 8.3l3.2 6.9l1.6 1.5l6.1 2.8l7.8 1.2l7.8-1.9l4.9-2.1l2.8-2.5l3.2-5.9l2.3-8.3l-2.2-8.3l-3.3-6.5l-1.9-1.9l-5.8-2.7l-7.8-1.8l-7.8 1.2zM442.7 183.1l7.8 1.8l0 0.1l-7.8 7.1l-1.2-7.1z"/>
<path fill="#fcfa4b" stroke="#fcfa4b" d="M450.5 0l7.2 0l0.5 3.2l0.9 5.4l0.8 8.5l0.3 8.6l-0.7 8.5l-1.3 4.5l-1.1 4l-4.2 8.5l-2.4 3.8l-3.9 4.7l-3.9 5l-4.2 3.4l-3.6 4.4l-7.7 3.2l-1.5 0.9l-6.3 2l-7.8 5.6l-0.6 0.8l-7.1 4.5l-5.5 3.9l-2.3 1.4l-7.8 4.8l-4.2 2.2l-3.5 2.3l-7.8 3.4l-6.3 2.7l-1.5 1.2l-5.9 7.1l1.2 8.4l4.7 7.3l1 1l5.5 8.3l1.3 5.2l0.6 3.2l1.1 8.2l1.3 8.3l1.5 8.3l-3.3 8.3l2.1 8.2l1.2 8.2l1.4 8.3l1.9 6.4l0.7 1.8l4.8 8.2l2.2 3.5l4.1 4.6l0.5 8.2l-4.6 4l-4.1 4.2l-3.6 3.8l-3.1 4.3l-3.2 8.2l-0.3 8.1l2.5 8.1l4.1 5.3l3.6 2.8l4.1 2.5l7.8 2.4l7.8 0.9l7.7-0.9l7.8-3.1l3.6-1.8l4.2-2l7.7 0.9l1.4 1.1l6.4 6.9l0.9 1.2l-0.9 0l-7.8 0l-7.7 0l-7.8 0l-7.8 0l-7.7 0l-7.8 0l-7.8 0l-7.7 0l-3.4 0l-4.4-4.1l-2.7-4l-3.5-8.1l-1.3-8.1l0.5-8.1l2.3-8.2l4.1-8.1l0.6-1.3l4.5-6.9l1.3-8.2l-2.1-8.1l-2-8.2l-1.2-8.2l-0.5-4.4l-0.3-3.9l-1.3-8.2l-1.7-8.2l0.6-8.3l-1-8.3l-3.3-8.3l-0.8-3.1l-4.5-5.1l2.6-8.4l-4-8.3l-1.8-3l-1.6-5.3l-0.6-8.4l2.2-4.6l3.1-3.7l4.6-2.8l7.8-3.3l4.9-2.3l2.9-1.1l7.7-4l5.4-3.3l2.4-1.7l7.8-5.6l1.8-1.1l5.9-7.5l1.3-0.9l5.1-8.5l1.4-1.9l7.8-3.3l7.7-3.2l0.1 0l7.7-5.5l2.6-3l5.2-8l0.2-0.5l2.6-8.5l0.6-8.5l-0.8-8.6l-1.7-8.5l-0.9-3.5l-1.7-5.1zM248.5 115.2l7.8-1.2l7.8 1.8l5.8 2.7l1.9 1.9l3.3 6.5l2.2 8.3l-2.3 8.3l-3.2 5.9l-2.8 2.5l-4.9 2.1l-7.8 1.9l-7.8-1.2l-6.1-2.8l-1.6-1.5l-3.2-6.9l-2.7-8.3l2-8.3l3.9-7.5l0.9-0.9zM247.5 118.5l-6.7 6.3l-1.1 2.1l-1.9 8.3l2.2 8.3l0.8 1.7l7.3 6.7l0.4 0.2l7.8 0.9l5.6-1.1l2.2-0.6l7.7-6.9l0.5-0.9l2.1-8.3l-2-8.3l-0.6-1.2l-7.6-7.2l-0.1 0l-7.8-1.5l-7.8 1zM442.7 174.6l7.8-3.9l7.7 3.2l1.6 2.8l0.2 8.3l-1.8 3.9l-1.9 4.3l-5.7 8.2l-0.1 0.2l-7.8 6.3l-6.2-6.5l-1.6-5.4l-0.2-2.8l0.2-2.5l0.7-5.7l5.5-8.3zM441.5 185l1.2 7.1l7.8-7.1l0-0.1l-7.8-1.8z"/>
<path fill="#fffa00" stroke="#fffa00" d="M458.2 0l7.8 0l0 8.6l0 8.5l0 8.6l0 6.2l-0.3 2.3l-2.1 8.5l-3.7 8.5l-1.7 3l-3.4 5.5l-4.3 6.8l-1.3 1.6l-4.4 8.5l-1.2 8.4l0.5 8.4l-1.4 3.9l-7.8-3.2l-0.7-0.7l-7-6.5l-7.8-0.9l-7.8 2.3l-7.7 4.5l-0.9 0.6l-6.9 4.2l-6.7 4.2l-1.1 0.9l-7.7 5.1l-5.7 2.4l-2.1 1.9l-7.8 6.3l-0.1 0.1l0.1 0.7l2.1 7.7l5.7 5.9l2.2 2.4l4 8.3l0.7 8.4l0.6 8.2l0.3 1.6l0.8 6.7l2.3 8.3l0.4 8.3l-2.2 8.2l0.4 8.2l1.9 8.3l4.1 8.1l0.1 0.1l7.7 7.4l1.6 0.8l6.2 5.9l3.1 2.2l-3.1 6.6l-0.3 1.6l-7.5 7.6l-0.6 0.6l-7.2 6.2l-1.8 1.9l-4.2 8.2l0 8.1l4.9 8.1l1.1 1l7.8 3.7l7.8 1.3l7.7-1.4l7.8-4.2l0.7-0.4l7.1-3.9l7.7 0.1l6.3 3.8l1.5 1.2l6.6 6.9l1.2 1.6l4.4 6.5l-4.4 0l-6.9 0l-0.9-1.2l-6.4-6.9l-1.4-1.1l-7.7-0.9l-4.2 2l-3.6 1.8l-7.8 3.1l-7.7 0.9l-7.8-0.9l-7.8-2.4l-4.1-2.5l-3.6-2.8l-4.1-5.3l-2.5-8.1l0.3-8.1l3.2-8.2l3.1-4.3l3.6-3.8l4.1-4.2l4.6-4l-0.5-8.2l-4.1-4.6l-2.2-3.5l-4.8-8.2l-0.7-1.8l-1.9-6.4l-1.4-8.3l-1.2-8.2l-2.1-8.2l3.3-8.3l-1.5-8.3l-1.3-8.3l-1.1-8.2l-0.6-3.2l-1.3-5.2l-5.5-8.3l-1-1l-4.7-7.3l-1.2-8.4l5.9-7.1l1.5-1.2l6.3-2.7l7.8-3.4l3.5-2.3l4.2-2.2l7.8-4.8l2.3-1.4l5.5-3.9l7.1-4.5l0.6-0.8l7.8-5.6l6.3-2l1.5-0.9l7.7-3.2l3.6-4.4l4.2-3.4l3.9-5l3.9-4.7l2.4-3.8l4.2-8.5l1.1-4l1.3-4.5l0.7-8.5l-0.3-8.6l-0.8-8.5l-0.9-5.4l-0.5-3.2zM248.5 118l7.8-1l7.8 1.5l0.1 0l7.6 7.2l0.6 1.2l2 8.3l-2.1 8.3l-0.5 0.9l-7.7 6.9l-2.2 0.6l-5.6 1.1l-7.8-0.9l-0.4-0.2l-7.3-6.7l-0.8-1.7l-2.2-8.3l1.9-8.3l1.1-2.1l6.7-6.3zM243 126.9l-2.2 8.3l2.5 8.3l5.2 5.1l7.8 1.4l7.8-2.1l4.6-4.4l2.7-8.3l-2.4-8.3l-4.9-4.9l-7.8-2l-7.8 1.5zM450.5 159.7l7.7-3.2l4.7 3.6l3.1 2.9l0 5.4l0 8.3l0 8.3l0 4.1l-1.9 4.1l-5.3 8.2l-0.6 1.1l-4.4 7.2l-3.3 4.8l-3 3.4l-4.8 4.9l-3.9 3.3l-3.9 2.8l-7.7 2.1l-7.2-4.9l2.8-8.2l4-8.2l0.4-1.1l2.3-7.2l1.1-8.2l1.5-8.2l2.8-6.9l0.9-1.4l6.3-8.3l0.6-1.1l7.5-7.2zM441.1 176.7l-5.5 8.3l-0.7 5.7l-0.2 2.5l0.2 2.8l1.6 5.4l6.2 6.5l7.8-6.3l0.1-0.2l5.7-8.2l1.9-4.3l1.8-3.9l-0.2-8.3l-1.6-2.8l-7.7-3.2l-7.8 3.9z"/>
<path fill="#ffdc00" stroke="#ffdc00" d="M466 31.9l0 2.3l0 8.5l0 8.5l0 1.4l-3.8 7.1l-4 6.4l-1.2 2l-4.5 8.5l-2 7.5l-0.3 0.9l0.3 6.8l0 1.6l1.8 8.4l5.9 8.1l0.3 0.3l6.8 8.3l0.7 1.3l0 7.1l0 8.3l0 8.3l0 8.4l0 8.2l0 2.9l-3.1-2.9l-4.7-3.6l-7.7 3.2l-0.3 0.4l-7.5 7.2l-0.6 1.1l-6.3 8.3l-0.9 1.4l-2.8 6.9l-1.5 8.2l-1.1 8.2l-2.3 7.2l-0.4 1.1l-4 8.2l-2.8 8.2l7.2 4.9l7.7-2.1l3.9-2.8l3.9-3.3l4.8-4.9l3-3.4l3.3-4.8l4.4-7.2l0.6-1.1l5.3-8.2l1.9-4.1l0 4.1l0 8.2l0 1.6l-3.6 6.7l-4.2 6.8l-0.9 1.4l-6.6 8.2l-0.2 0.3l-7.8 7.1l-1.1 0.7l-6.7 5.7l-5.3 2.5l-2.4 1.5l-7.8 1.8l-7.8 1.9l-4.3 3l-3.4 1.9l-7.8 5.7l-0.6 0.5l-5.5 8.2l0.4 8.1l5.7 5.5l7.8 2l7.7-2.3l7.8-5.1l0.2-0.1l7.6-5l7.7 0.1l7.8 4.6l0.3 0.3l7.5 6.7l1.3 1.4l6.4 7.2l0.8 0.9l6 8.1l-6.8 0l-3.3 0l-4.4-6.5l-1.2-1.6l-6.6-6.9l-1.5-1.2l-6.3-3.8l-7.7-0.1l-7.1 3.9l-0.7 0.4l-7.8 4.2l-7.7 1.4l-7.8-1.3l-7.8-3.7l-1.1-1l-4.9-8.1l0-8.1l4.2-8.2l1.8-1.9l7.2-6.2l0.6-0.6l7.5-7.6l0.3-1.6l3.1-6.6l-3.1-2.2l-6.2-5.9l-1.6-0.8l-7.7-7.4l-0.1-0.1l-4.1-8.1l-1.9-8.3l-0.4-8.2l2.2-8.2l-0.4-8.3l-2.3-8.3l-0.8-6.7l-0.3-1.6l-0.6-8.2l-0.7-8.4l-4-8.3l-2.2-2.4l-5.7-5.9l-2.1-7.7l-0.1-0.7l0.1-0.1l7.8-6.3l2.1-1.9l5.7-2.4l7.7-5.1l1.1-0.9l6.7-4.2l6.9-4.2l0.9-0.6l7.7-4.5l7.8-2.3l7.8 0.9l7 6.5l0.7 0.7l7.8 3.2l1.4-3.9l-0.5-8.4l1.2-8.4l4.4-8.5l1.3-1.6l4.3-6.8l3.4-5.5l1.7-3l3.7-8.5l2.1-8.5zM409.2 93.4l-5.3 2.3l-7.8 4.8l-2.1 1.3l-5.7 4.8l-5.5 3.6l-2.2 3.4l-5.6 4.9l2.7 8.4l2.9 3.1l3.3 5.2l1.1 8.3l-0.8 8.4l0 8.2l1.2 8.3l2.9 8.2l0.1 0.1l0.8 8.3l-0.9 5.4l-0.9 2.8l-0.1 8.2l1 3.6l1.7 4.7l6.1 7.3l1.9 0.9l5.9 2.8l7.7-1.6l1.2-1.2l6.6-6.8l0.9-1.4l3.9-8.3l2.3-8.2l0.7-2.1l1.6-6.1l3.4-8.3l2.7-5.5l2.1-2.8l4.6-8.3l1.1-4l2.2-4.2l0.5-8.4l-1.6-8.3l-1.1-6.4l-0.2-1.9l-0.3-8.4l-1-8.3l-6.3-8.3l0-0.1l-7.7-7.8l-1.4-0.6l-6.4-2.7l-7.8 1.3zM248.5 121.5l7.8-1.5l7.8 2l4.9 4.9l2.4 8.3l-2.7 8.3l-4.6 4.4l-7.8 2.1l-7.8-1.4l-5.2-5.1l-2.5-8.3l2.2-8.3zM246.7 126.9l-2.9 8.3l3.1 8.3l1.6 1.6l7.8 1.9l7.8-2.6l0.8-0.9l3.4-8.3l-3-8.3l-1.2-1.3l-7.8-2.7l-7.8 2.2z"/>
<path fill="#ffc000" stroke="#ffc000" d="M466 52.6l0 7.1l0 5.9l-1.5 2.5l-5.2 8.5l-1.1 1.8l-2.6 6.6l-0.2 8.4l2.8 6.2l1.7 2.2l6.1 6.7l0 1.7l0 8.3l0 1.3l-0.7-1.3l-6.8-8.3l-0.3-0.3l-5.9-8.1l-1.8-8.4l0-1.6l-0.3-6.8l0.3-0.9l2-7.5l4.5-8.5l1.2-2l4-6.4zM411.6 92l7.8-1.3l6.4 2.7l1.4 0.6l7.7 7.8l0 0.1l6.3 8.3l1 8.3l0.3 8.4l0.2 1.9l1.1 6.4l1.6 8.3l-0.5 8.4l-2.2 4.2l-1.1 4l-4.6 8.3l-2.1 2.8l-2.7 5.5l-3.4 8.3l-1.6 6.1l-0.7 2.1l-2.3 8.2l-3.9 8.3l-0.9 1.4l-6.6 6.8l-1.2 1.2l-7.7 1.6l-5.9-2.8l-1.9-0.9l-6.1-7.3l-1.7-4.7l-1-3.6l0.1-8.2l0.9-2.8l0.9-5.4l-0.8-8.3l-0.1-0.1l-2.9-8.2l-1.2-8.3l0-8.2l0.8-8.4l-1.1-8.3l-3.3-5.2l-2.9-3.1l-2.7-8.4l5.6-4.9l2.2-3.4l5.5-3.6l5.7-4.8l2.1-1.3l7.8-4.8l5.3-2.3zM398.5 101.8l-2.4 1.9l-7.5 6.5l-0.3 0.7l-4.9 7.6l2.3 8.4l2.6 3.9l1.9 4.4l-0.3 8.3l-1.4 8.4l-0.2 3.3l-0.3 4.9l0.3 2l0.8 6.3l2 8.3l1.1 8.3l-0.4 8.2l0.6 8.2l3.7 7.9l0.4 0.4l7.4 3.9l7.7-2.3l1.6-1.6l6.2-8.3l3.3-8.2l2.9-8.2l1.6-4l1.7-4.3l3.9-8.3l2.1-5.5l1.6-2.8l2.2-8.2l0-8.4l-0.7-8.3l0-8.3l-0.2-8.4l-2.3-8.3l-0.6-0.8l-4.9-7.6l-2.8-2.9l-7.8-4l-7.8 0.3l-7.7 3.3zM248.5 125.1l7.8-2.2l7.8 2.7l1.2 1.3l3 8.3l-3.4 8.3l-0.8 0.9l-7.8 2.6l-7.8-1.9l-1.6-1.6l-3.1-8.3l2.9-8.3zM253.2 126.9l-4.7 3.8l-1.7 4.5l1.7 4.2l5.9 4.1l1.9 0.6l1.4-0.6l6.4-5.7l1.1-2.6l-1.1-2.9l-5.2-5.4l-2.6-1zM466 203l0 6.7l0 8.2l0 0.6l-5.3 7.6l-2.5 3l-4.6 5.1l-3.1 3.7l-4.3 4.5l-3.5 5.8l-1.9 2.4l-0.7 8.1l2.6 3l2.9 5.2l4.9 4.8l2.9 3.3l4.8 4.8l3.4 3.3l4.4 4.9l0 3.2l0 8.1l-1 0l-6-8.1l-0.8-0.9l-6.4-7.2l-1.3-1.4l-7.5-6.7l-0.3-0.3l-7.8-4.6l-7.7-0.1l-7.6 5l-0.2 0.1l-7.8 5.1l-7.7 2.3l-7.8-2l-5.7-5.5l-0.4-8.1l5.5-8.2l0.6-0.5l7.8-5.7l3.4-1.9l4.3-3l7.8-1.9l7.8-1.8l2.4-1.5l5.3-2.5l6.7-5.7l1.1-0.7l7.8-7.1l0.2-0.3l6.6-8.2l0.9-1.4l4.2-6.8zM399.4 266.9l2.9 8.1l1.6 0.6l1.5-0.6l6.2-6.3l1.6-1.8l-1.6-3.4l-7.7-0.6z"/>
<path fill="#ffa400" stroke="#ffa400" d="M466 65.6l0 2.5l0 8.5l0 1.3l-3.9 7.1l-0.4 8.4l4.3 5.7l0 2.7l0 6.7l-6.1-6.7l-1.7-2.2l-2.8-6.2l0.2-8.4l2.6-6.6l1.1-1.8l5.2-8.5zM403.9 98.5l7.7-3.3l7.8-0.3l7.8 4l2.8 2.9l4.9 7.6l0.6 0.8l2.3 8.3l0.2 8.4l0 8.3l0.7 8.3l0 8.4l-2.2 8.2l-1.6 2.8l-2.1 5.5l-3.9 8.3l-1.7 4.3l-1.6 4l-2.9 8.2l-3.3 8.2l-6.2 8.3l-1.6 1.6l-7.7 2.3l-7.4-3.9l-0.4-0.4l-3.7-7.9l-0.6-8.2l0.4-8.2l-1.1-8.3l-2-8.3l-0.8-6.3l-0.3-2l0.3-4.9l0.2-3.3l1.4-8.4l0.3-8.3l-1.9-4.4l-2.6-3.9l-2.3-8.4l4.9-7.6l0.3-0.7l7.5-6.5l2.4-1.9zM403 101.8l-6.9 5.6l-3.2 2.8l-3.7 8.3l1.5 8.4l3.7 8.3l-0.8 8.3l-1.7 8.4l-0.6 8.2l0.8 8.3l1.7 8.3l1.3 8.3l0.8 8.2l0.2 1.2l2.3 7l5.5 5.3l7.7-2.9l1.9-2.4l5.3-8.2l0.6-1l2.9-7.2l3.3-8.3l1.6-3.7l2-4.6l3-8.3l1.5-8.2l0-8.4l-0.4-8.3l0.6-8.3l-0.1-8.4l-2.2-8.3l-4.4-6.3l-2.3-2.1l-5.5-3.5l-7.8-0.2l-7.7 3.1zM256.3 125.9l2.6 1l5.2 5.4l1.1 2.9l-1.1 2.6l-6.4 5.7l-1.4 0.6l-1.9-0.6l-5.9-4.1l-1.7-4.2l1.7-4.5l4.7-3.8zM250.2 135.2l6.1 5.5l5.5-5.5l-5.5-5.9zM466 218.5l0 7.6l0 6.5l-1.3 1.6l-6.5 8.1l-0.1 0.1l-4.8 8.2l-1 8.1l3.7 8.2l2.2 2.4l5.7 5.7l2.1 2l0 6.1l0 4.9l-4.4-4.9l-3.4-3.3l-4.8-4.8l-2.9-3.3l-4.9-4.8l-2.9-5.2l-2.6-3l0.7-8.1l1.9-2.4l3.5-5.8l4.3-4.5l3.1-3.7l4.6-5.1l2.5-3zM403.9 262.9l7.7 0.6l1.6 3.4l-1.6 1.8l-6.2 6.3l-1.5 0.6l-1.6-0.6l-2.9-8.1z"/>
<path fill="#ff8200" stroke="#ff8200" d="M466 77.9l0 7.1l0 8.4l0 5.7l-4.3-5.7l0.4-8.4zM403.9 101.2l7.7-3.1l7.8 0.2l5.5 3.5l2.3 2.1l4.4 6.3l2.2 8.3l0.1 8.4l-0.6 8.3l0.4 8.3l0 8.4l-1.5 8.2l-3 8.3l-2 4.6l-1.6 3.7l-3.3 8.3l-2.9 7.2l-0.6 1l-5.3 8.2l-1.9 2.4l-7.7 2.9l-5.5-5.3l-2.3-7l-0.2-1.2l-0.8-8.2l-1.3-8.3l-1.7-8.3l-0.8-8.3l0.6-8.2l1.7-8.4l0.8-8.3l-3.7-8.3l-1.5-8.4l3.7-8.3l3.2-2.8l6.9-5.6zM409.5 101.8l-5.6 2.7l-6.8 5.7l-1 2.1l-3 6.2l1.5 8.4l1.5 3.3l1.5 5l-0.4 8.3l-1.1 5.1l-0.7 3.3l-1 8.2l0.7 8.3l1 5.6l0.6 2.7l1.9 8.3l3 8.2l2.3 4.6l7.7-2l1.7-2.6l5.6-8.2l0.5-0.9l3-7.4l3.3-8.3l1.5-4.7l1.2-3.6l1.3-8.2l0-8.4l-0.2-8.3l1.1-8.3l-0.1-8.4l-2.6-8.3l-0.7-1.1l-7.8-7.3l-7.8-0.9zM256.3 129.3l5.5 5.9l-5.5 5.5l-6.1-5.5zM254 135.2l2.3 2.1l2.1-2.1l-2.1-2.2zM466 232.6l0 1.6l0 8.2l0 7.9l-0.2 0.3l-1.6 8.1l1.8 3.5l0 4.7l0 8.1l0 2l-2.1-2l-5.7-5.7l-2.2-2.4l-3.7-8.2l1-8.1l4.8-8.2l0.1-0.1l6.5-8.1z"/>
<path fill="#ff5e00" stroke="#ff5e00" d="M411.6 100.9l7.8 0.9l7.8 7.3l0.7 1.1l2.6 8.3l0.1 8.4l-1.1 8.3l0.2 8.3l0 8.4l-1.3 8.2l-1.2 3.6l-1.5 4.7l-3.3 8.3l-3 7.4l-0.5 0.9l-5.6 8.2l-1.7 2.6l-7.7 2l-2.3-4.6l-3-8.2l-1.9-8.3l-0.6-2.7l-1-5.6l-0.7-8.3l1-8.2l0.7-3.3l1.1-5.1l0.4-8.3l-1.5-5l-1.5-3.3l-1.5-8.4l3-6.2l1-2.1l6.8-5.7l5.6-2.7zM401.1 110.2l-4.1 8.3l0.8 8.4l2.2 8.3l0.3 8.3l-1.3 8.4l-1.2 8.2l0.7 8.3l1.4 8.3l2.5 8.3l1.5 3.2l7.7 0.2l2.4-3.4l5-8.3l0.4-0.9l2.7-7.4l2.3-8.3l1.1-8.2l0.2-8.4l0.2-8.3l1.3-7.6l0.1-0.7l0-8.4l-0.1-0.3l-3-8l-4.8-4.7l-7.8-1.5l-7.7 3.8zM256.3 133l2.1 2.2l-2.1 2.1l-2.3-2.1zM466 250.3l0 0.3l0 8.1l0 3.5l-1.8-3.5l1.6-8.1z"/>
<path fill="#ff3800" stroke="#ff3800" d="M403.9 107.8l7.7-3.8l7.8 1.5l4.8 4.7l3 8l0.1 0.3l0 8.4l-0.1 0.7l-1.3 7.6l-0.2 8.3l-0.2 8.4l-1.1 8.2l-2.3 8.3l-2.7 7.4l-0.4 0.9l-5 8.3l-2.4 3.4l-7.7-0.2l-1.5-3.2l-2.5-8.3l-1.4-8.3l-0.7-8.3l1.2-8.2l1.3-8.4l-0.3-8.3l-2.2-8.3l-0.8-8.4l4.1-8.3zM405.7 110.2l-1.8 1.9l-3.4 6.4l0 8.4l2 8.3l1 8.3l-0.9 8.4l-1.2 8.2l0.7 8.3l1.1 8.3l0.7 2l7.7 2l2.4-4l3.8-8.3l1.6-4.2l1-4.1l0.8-8.2l0.5-8.4l1.1-8.3l1.3-8.3l-0.2-8.4l-3.5-8.3l-1-1l-7.8-2.1z"/>
<path fill="#ff1300" stroke="#ff1300" d="M411.6 107.1l7.8 2.1l1 1l3.5 8.3l0.2 8.4l-1.3 8.3l-1.1 8.3l-0.5 8.4l-0.8 8.2l-1 4.1l-1.6 4.2l-3.8 8.3l-2.4 4l-7.7-2l-0.7-2l-1.1-8.3l-0.7-8.3l1.2-8.2l0.9-8.4l-1-8.3l-2-8.3l0-8.4l3.4-6.4l1.8-1.9zM404 118.5l-0.1 1l-0.6 7.4l0.6 2.6l2 5.7l3.6 8.3l0.2 8.4l-2.1 8.2l4 8.3l0 0.1l0.1-0.1l2.4-8.3l-0.4-8.2l1.4-8.4l4.3-7.2l0.2-1.1l1.4-8.3l-0.6-8.4l-1-2.4l-7.8-5.7z"/>
<path fill="#ef0000" stroke="#ef0000" d="M411.6 110.4l7.8 5.7l1 2.4l0.6 8.4l-1.4 8.3l-0.2 1.1l-4.3 7.2l-1.4 8.4l0.4 8.2l-2.4 8.3l-0.1 0.1l0-0.1l-4-8.3l2.1-8.2l-0.2-8.4l-3.6-8.3l-2-5.7l-0.6-2.6l0.6-7.4l0.1-1zM410.5 118.5l-2.5 8.4l2.6 8.3l1 2.1l1.5-2.1l3.1-8.3l-3-8.4l-1.6-1.2z"/>
<path fill="#d00000" stroke="#d00000" d="M411.6 117.3l1.6 1.2l3 8.4l-3.1 8.3l-1.5 2.1l-1-2.1l-2.6-8.3l2.5-8.4z"/>
</g>
<path fill="#fff" d="M330.0,214.0 338.0,209.0 350.0,202.0 358.0,205.0 368.0,200.0 376.0,208.0 383.0,214.0 389.0,228.0 391.0,248.0 394.0,264.0 391.0,282.0 378.0,296.0 303.0,296.0 303.0,286.0 314.0,280.0 318.0,268.0 322.0,262.0 318.0,252.0 324.0,232.0Z"/>
<path fill="#fff" d="M74.0,287.0 81.0,280.0 88.0,287.0 81.0,294.0Z"/>
<path fill="#fff" d="M137.0,296.5 144.0,289.5 151.0,296.5 144.0,303.5Z"/>
<path fill="#fff" d="M426.0,21.0 436.0,14.0 446.0,21.0 436.0,28.0Z"/>
<path fill="#fff" d="M353.0,152.0 361.5,140.5 370.0,152.0 361.5,163.5Z"/>
<g clip-path="url(#fd)">
<path fill="#ccc" stroke="#000" stroke-width="0.9" stroke-linejoin="round" d="M0.0,0.0 274.5,0.0 269.5,13.5 254.0,14.5 254.0,24.0 235.0,42.0 218.4,53.9 186.9,74.2 157.4,79.3 139.6,80.3 129.0,93.9 113.8,80.3 109.0,94.5 105.7,95.5 95.5,86.4 92.5,102.6 62.0,110.8 45.8,119.9 30.5,121.9 12.3,127.7 7.6,138.4 15.3,153.0 8.2,158.1 0.0,158.1ZM0.0,169.3 31.1,169.3 31.1,176.4 23.4,187.6 17.3,201.8 7.2,216.0 0.0,221.0ZM344.6,0.0 316.2,46.2 316.2,61.0 321.3,81.3 330.4,89.4 336.5,101.0 340.6,85.4 345.7,75.2 354.8,61.0 360.9,40.7 369.0,20.4 370.6,0.0ZM305.0,300.0 304.8,291.5 320.0,296.1 323.0,284.0 324.0,274.0 327.0,261.0 321.0,249.0 328.0,230.0 333.0,218.0 344.0,215.6 358.0,223.0 370.0,226.0 382.0,219.6 379.0,232.0 378.0,252.0 388.0,264.0 384.0,280.0 368.0,300.0Z"/>
</g>
<path d="M0 0H466M0 8.6H466M0 17.1H466M0 25.7H466M0 34.2H466M0 42.7H466M0 51.2H466M0 59.7H466M0 68.1H466M0 76.6H466M0 85H466M0 93.4H466M0 101.8H466M0 110.2H466M0 118.5H466M0 126.9H466M0 135.2H466M0 143.5H466M0 151.9H466M0 160.1H466M0 168.4H466M0 176.7H466M0 185H466M0 193.2H466M0 201.4H466M0 209.7H466M0 217.9H466M0 226.1H466M0 234.2H466M0 242.4H466M0 250.6H466M0 258.7H466M0 266.9H466M0 275H466M0 283.1H466M0 291.2H466M0 299.3H466" stroke="#a0a0a0" stroke-opacity=".33" stroke-width="1.1" stroke-dasharray="1.1 6.667" fill="none"/>
<g clip-path="url(#fd)" stroke="#000">
<path d="M372.8 0l-.7-5.4m.8-.1l-1.2-2.6l-.5 2.8zM380.6 0l-.2-4.6m.7 0l-.8-2.3l-.6 2.3zM388.3 0l.1-3.9m.6 0l-.6-2l-.7 1.9zM396.1 0l.1-3.3m.5 0l-.5-1.7l-.6 1.6zM403.9 0l-.1-2.8m.5 0l-.5-1.4l-.4 1.4zM411.6 0l-.4-2.4m.4-.1l-.6-1.1l-.2 1.3zM419.4 0l-.9-2.1m.4-.2l-.8-.9l.1 1.2zM427.2 0l-1.3-2.1m.4-.2l-1-.8l.3 1.3zM434.9 0l-1.4-2.5m.4-.2l-1.1-1l.3 1.4zM442.7 0l-1.2-2.9m.5-.2l-1.1-1.2l.1 1.6zM450.5 0l-.9-3.2m.5-.2l-1-1.4l-.1 1.7zM458.2 0l-.6-3.4m.6-.1l-.9-1.6l-.2 1.8zM466 0l-.3-3.4m.6-.1l-.7-1.6l-.4 1.7zM372.8 8.6l-1.1-6.4m1-.2l-1.5-3l-.4 3.3zM380.6 8.6l-.3-5.3m.8-.1l-1-2.5l-.6 2.7zM388.3 8.6l.1-4.1m.6 0l-.6-2l-.7 2zM396.1 8.6l.1-3.3m.5 0l-.5-1.6l-.6 1.6zM403.9 8.6l-.2-2.5m.4 0l-.5-1.2l-.4 1.3zM411.6 8.6l-.8-2m.4-.2l-.8-.8l.1 1.1zM419.4 8.6l-1.5-1.6m.3-.3l-1-.5l.5 1.1zM427.2 8.6l-1.9-1.7m.3-.3l-1.2-.5l.7 1.2zM434.9 8.6l-1.8-2.4m.4-.3l-1.3-.9l.5 1.5zM442.7 8.6l-1.4-3.1m.5-.2l-1.2-1.3l.2 1.8zM450.5 8.6l-1-3.5m.6-.2l-1-1.6l-.1 1.9zM458.2 8.6l-.5-3.7m.6-.1l-.8-1.7l-.3 1.9zM466 8.6l-.2-3.6m.6 0l-.7-1.7l-.5 1.8zM372.8 17.1l-2.2-7.8m1.1-.3l-2.2-3.5l-.1 4.2zM380.6 17.1l-.9-6.4m1-.1l-1.4-3l-.5 3.3zM388.3 17.1l0-4.4m.7 0l-.7-2.2l-.7 2.2zM396.1 17.1l.3-3.2m.5 .1l-.4-1.6l-.7 1.5zM403.9 17.1l0-2m.4 0l-.4-1l-.4 1zM419.4 17.1l-2.1-.7m.1-.4l-1.1 .1l.9 .7zM427.2 17.1l-2.4-1.5m.2-.4l-1.4-.3l.9 1.1zM442.7 17.1l-1.3-3.5m.6-.2l-1.2-1.5l.1 1.9zM450.5 17.1l-.8-3.9m.6-.1l-1-1.8l-.2 2.1zM458.2 17.1l-.3-4m.6 0l-.8-1.9l-.5 2zM466 17.1l0-3.8m.6 0l-.6-1.9l-.6 1.9zM372.8 25.7l-3.3-9.4m1.3-.5l-2.9-4.2l.3 5.1zM380.6 25.7l-1.4-8.4m1.2-.2l-1.9-3.9l-.5 4.4zM388.3 25.7l0-5.4m.8 0l-.8-2.6l-.8 2.6zM396.1 25.7l.6-3.3m.5 .1l-.2-1.7l-.8 1.5zM427.2 25.7l-1.9-1.5m.3-.3l-1.2-.4l.7 1.1zM442.7 25.7l-.5-4m.6-.1l-.9-1.9l-.4 2.1zM450.5 25.7l-.2-4.2m.7 0l-.8-2.1l-.6 2.1zM458.2 25.7l0-4.2m.7 0l-.7-2.1l-.7 2.1zM466 25.7l.2-4m.6 0l-.5-2l-.7 1.9zM365 34.2l-4.5-8.4m1.2-.7l-3.5-3.5l1 4.8zM372.8 34.2l-3.8-11.4m1.3-.4l-2.9-4.3l.3 5.2zM380.6 34.2l-2.1-11m1.4-.3l-2.3-4.7l-.5 5.2zM388.3 34.2l-.4-7m1-.1l-1.2-3.4l-.8 3.5zM396.1 34.2l.8-3.9m.6 .1l-.2-2l-1 1.8zM403.9 34.2l2-1.6m.3 .4l.7-1.1l-1.3 .4zM411.6 34.2l2.4 1m-.2 .4l1.3 .1l-1-.9zM419.4 34.2l2.1 1.8m-.3 .4l1.3 .5l-.7-1.2zM427.2 34.2l1.8-1.6m.3 .3l.6-1.1l-1.2 .5zM434.9 34.2l1.2-3.5m.6 .2l0-1.9l-1.2 1.5zM442.7 34.2l.9-4.1m.6 .2l-.2-2.2l-1.1 1.9zM450.5 34.2l.8-4.3m.7 .1l-.3-2.2l-1.1 2zM458.2 34.2l.7-4.2m.7 .1l-.3-2.2l-1 2zM466 34.2l.7-4.1m.6 .1l-.3-2.1l-1 1.9zM365 42.7l-2.8-7.5m1.1-.4l-2.5-3.3l.3 4.1zM372.8 42.7l-1.9-11.8m1.4-.2l-2.2-4.7l-.6 5.2zM380.6 42.7l-.6-12m1.4-.1l-1.7-4.9l-1.1 5.1zM388.3 42.7l-.3-8.4m1.2 0l-1.4-4.1l-1.1 4.2zM396.1 42.7l.7-5.3m.8 .1l-.5-2.7l-1.2 2.5zM403.9 42.7l2.4-2.6m.4 .4l.7-1.6l-1.6 .9zM411.6 42.7l3.3 .5m-.1 .5l1.7-.3l-1.6-.8zM419.4 42.7l3.7 1.1m-.2 .6l2 0l-1.7-1.1zM427.2 42.7l3.9-.6m.1 .6l1.8-.9l-2-.3zM434.9 42.7l3.1-2.6m.4 .5l1.1-1.8l-2 .8zM442.7 42.7l2.3-3.6m.6 .4l.6-2.1l-1.7 1.4zM450.5 42.7l1.8-4m.6 .3l.3-2.3l-1.5 1.7zM458.2 42.7l1.5-4.1m.6 .2l.1-2.2l-1.4 1.8zM466 42.7l1.3-4m.6 .2l0-2.2l-1.3 1.8zM365 51.2l2.2-7.3m1.1 .3l0-3.9l-2.1 3.3zM372.8 51.2l.7-12m1.4 .1l-1.1-5.1l-1.7 4.9zM380.6 51.2l-1.4-11.9m1.4-.2l-2-4.8l-.8 5.1zM388.3 51.2l-1.4-8.7m1.3-.2l-2-4.1l-.5 4.5zM396.1 51.2l-.7-7m1-.1l-1.4-3.3l-.7 3.5zM403.9 51.2l.3-4.1m.7 0l-.5-2.1l-.8 2zM411.6 51.2l2.3-.6m.1 .4l1-.7l-1.2-.1zM419.4 51.2l3.4 .3m0 .6l1.7-.4l-1.6-.7zM427.2 51.2l3.8-.5m.1 .6l1.8-.9l-2-.4zM434.9 51.2l3.5-1.8m.3 .6l1.4-1.5l-2 .4zM442.7 51.2l2.9-2.9m.5 .5l.9-1.9l-1.9 1zM450.5 51.2l2.4-3.6m.6 .4l.6-2.1l-1.7 1.4zM458.2 51.2l2-3.8m.6 .3l.4-2.2l-1.6 1.6zM466 51.2l1.8-3.8m.6 .3l.3-2.2l-1.5 1.6zM357.3 59.7l4-3m.5 .6l1.5-2.1l-2.4 .9zM365 59.7l3.4-6.4m.9 .5l.7-3.6l-2.6 2.6zM372.8 59.7l1.4-9.9m1.4 .2l-.7-5l-2.1 4.7zM380.6 59.7l-1-10.3m1.4-.1l-1.9-4.8l-.9 5.1zM388.3 59.7l-1.5-8.9m1.3-.2l-2-4.2l-.5 4.6zM396.1 59.7l-1.2-7.9m1.2-.2l-1.8-3.7l-.6 4.1zM403.9 59.7l-.6-5.1m.8-.1l-1.1-2.4l-.5 2.6zM411.6 59.7l.9-2.8m.5 .2l0-1.5l-.9 1.2zM419.4 59.7l2.6-1.1m.2 .4l1.1-1l-1.5 .1zM427.2 59.7l3.2-.8m.1 .5l1.4-.9l-1.7-.1zM434.9 59.7l3.1-1.6m.3 .5l1.3-1.3l-1.8 .3zM442.7 59.7l2.7-2.6m.4 .4l.9-1.7l-1.7 .8zM450.5 59.7l2.4-3.3m.5 .4l.7-2l-1.7 1.2zM458.2 59.7l2.2-3.6m.6 .4l.5-2.1l-1.7 1.4zM466 59.7l2.1-3.6m.6 .3l.5-2.1l-1.6 1.4zM302.9 68.1l3.7-.2m0 .6l1.8-.7l-1.8-.5zM357.3 68.1l5.9-2.4m.4 .9l2.6-2.1l-3.3 .3zM365 68.1l4.8-4.6m.7 .7l1.7-3l-3 1.5zM372.8 68.1l2.9-7m1 .4l.4-3.9l-2.5 3zM380.6 68.1l1.4-8.7m1.3 .2l-.6-4.5l-1.9 4.1zM388.3 68.1l.7-8.8m1.3 .1l-.9-4.4l-1.6 4.2zM396.1 68.1l.4-7.9m1.2 .1l-1-4l-1.4 3.9zM403.9 68.1l.5-6.1m.9 .1l-.7-3.1l-1.2 2.9zM411.6 68.1l1.2-3.9m.6 .2l0-2.1l-1.2 1.7zM419.4 68.1l2.2-2.1m.4 .4l.7-1.4l-1.5 .7zM427.2 68.1l2.5-.9m.2 .4l1.1-.9l-1.4 0zM434.9 68.1l2.3-1.5m.3 .4l.9-1.1l-1.4 .4zM442.7 68.1l2-2.6m.4 .3l.6-1.6l-1.4 1zM450.5 68.1l2.1-3.4m.5 .3l.5-2l-1.6 1.3zM458.2 68.1l2.2-3.6m.6 .3l.5-2.1l-1.6 1.4zM466 68.1l2.2-3.5m.5 .3l.5-2l-1.6 1.4zM295.1 76.6l3.4 0m0 .6l1.7-.6l-1.7-.6zM302.9 76.6l3.5-.5m.1 .6l1.7-.8l-1.8-.3zM310.7 76.6l3.7-.7m.1 .6l1.7-.9l-1.9-.3zM349.5 76.6l8.3-1.3m.2 1.2l3.9-1.9l-4.3-.6zM357.3 76.6l8.3-1.9m.3 1.2l3.8-2.1l-4.4-.3zM365 76.6l7.5-3m.4 1.1l3.3-2.6l-4.1 .4zM372.8 76.6l5.8-5m.7 .9l2.1-3.3l-3.6 1.6zM380.6 76.6l4.9-7.9m1.1 .7l1.3-4.6l-3.6 3.2zM388.3 76.6l4.1-8.1m1.2 .6l.8-4.6l-3.2 3.4zM396.1 76.6l3.2-7.5m1.1 .5l.5-4.2l-2.7 3.2zM403.9 76.6l2.8-6.5m1 .4l.4-3.6l-2.3 2.8zM411.6 76.6l2.6-4.3m.7 .4l.6-2.5l-2 1.7zM419.4 76.6l2.5-2.1m.3 .4l.9-1.4l-1.6 .6zM427.2 76.6l2.2-.6m.1 .4l1-.7l-1.2-.1zM434.9 76.6l1.5-1.3m.2 .3l.5-.9l-1 .4zM442.7 76.6l1-2.9m.5 .2l0-1.6l-1 1.3zM450.5 76.6l1.5-3.8m.6 .2l.1-2.1l-1.3 1.7zM458.2 76.6l2.1-3.8m.6 .3l.5-2.2l-1.6 1.5zM466 76.6l2.2-3.3m.5 .4l.6-2l-1.6 1.3zM287.4 85l3.6 1.6m-.3 .6l2 .2l-1.5-1.4zM295.1 85l3.1 .5m-.1 .5l1.6-.3l-1.4-.7zM302.9 85l2.7-.6m.1 .5l1.2-.8l-1.4-.2zM310.7 85l2.9-1.5m.2 .5l1.2-1.2l-1.7 .3zM318.4 85l3.6-2.3m.4 .6l1.4-1.7l-2.2 .6zM341.7 85l8.4-2.2m.3 1.2l3.8-2.3l-4.5-.1zM349.5 85l9.5-2m.3 1.4l4.4-2.3l-4.9-.4zM357.3 85l10.4-2.1m.3 1.4l4.6-2.3l-5.2-.4zM365 85l11.2-2.7m.3 1.4l4.5-2.5l-5.2-.2zM372.8 85l11.2-4.3m.5 1.3l4.2-3.1l-5.2 .5zM380.6 85l9.9-6.8m.8 1.2l3.3-4l-4.9 1.7zM388.3 85l8.7-7.4m.9 1.1l2.9-4.3l-4.7 2.2zM396.1 85l7.4-6.6m.9 1l2.7-4.3l-4.6 2.2zM403.9 85l6.8-6.8m1 1l2.4-4.3l-4.3 2.3zM411.6 85l6-4m.6 .9l2.3-2.9l-3.5 1.1zM419.4 85l4.3-.8m.1 .7l2-1.1l-2.3-.3zM427.2 85l3 .9m-.2 .5l1.7 0l-1.3-1zM442.7 85l-.1-3.1m.5 0l-.6-1.5l-.5 1.5zM450.5 85l.5-5m.8 .1l-.5-2.5l-1 2.4zM458.2 85l1.6-4.5m.7 .2l.1-2.5l-1.5 2zM466 85l1.5-2.9m.5 .2l.3-1.7l-1.2 1.2zM279.6 93.4l6.2 3.9m-.6 .9l3.6 1l-2.5-2.8zM287.4 93.4l4.2 3.1m-.5 .6l2.6 .9l-1.6-2.2zM295.1 93.4l3.2 1.4m-.2 .5l1.8 .2l-1.3-1.2zM302.9 93.4l2.7-.3m0 .5l1.3-.6l-1.4-.3zM310.7 93.4l2.3-2.3m.4 .4l.8-1.5l-1.5 .7zM318.4 93.4l2.9-3.7m.6 .4l.8-2.2l-2 1.4zM326.2 93.4l4.4-4.7m.7 .7l1.4-3l-2.9 1.7zM341.7 93.4l7.5-3.4m.5 1.1l3.2-2.8l-4.2 .6zM349.5 93.4l9.1-3.2m.5 1.3l4-2.9l-4.9 .3zM357.3 93.4l11.1-3.2m.4 1.3l4.4-2.7l-5.2 0zM365 93.4l11.6-3.1m.4 1.4l4.5-2.7l-5.2 0zM372.8 93.4l11.4-3.8m.4 1.3l4.3-2.9l-5.2 .2zM380.6 93.4l10.9-5.1m.6 1.3l3.9-3.4l-5.1 .9zM388.3 93.4l10.3-6.1m.7 1.2l3.6-3.7l-5 1.3zM396.1 93.4l10.2-6.3m.7 1.2l3.5-3.8l-5 1.4zM403.9 93.4l10.4-5.9m.7 1.2l3.7-3.7l-5 1.2zM411.6 93.4l9.6-2.9m.4 1.3l4.3-2.8l-5.1 .1zM419.4 93.4l7.5 1.2m-.2 1.1l3.9-.5l-3.5-1.7zM427.2 93.4l4.8 3.4m-.5 .7l2.9 1l-1.9-2.4zM434.9 93.4l2.3 2.9m-.5 .4l1.6 1l-.7-1.8zM442.7 93.4l.3-2.9m.5 0l-.4-1.5l-.6 1.4zM450.5 93.4l-.7-5.4m.8-.1l-1.1-2.5l-.5 2.7zM458.2 93.4l-1.7-4.9m.8-.3l-1.6-2.2l.1 2.7zM466 93.4l-1.7-2.5m.4-.3l-1.2-1l.4 1.5zM248.5 101.8l10.8-5.2m.6 1.3l3.9-3.4l-5.1 .9zM256.3 101.8l11.9 1.2m-.1 1.4l5.1-.9l-4.8-1.9zM264.1 101.8l11 4.9m-.6 1.3l5.1 .7l-4-3.3zM271.8 101.8l9.3 4.3m-.6 1.3l5.1 .8l-4-3.4zM279.6 101.8l8.2 5.8m-.8 1.1l4.9 1.7l-3.3-4zM287.4 101.8l5.8 5.2m-.8 .9l3.6 1.7l-2.1-3.4zM295.1 101.8l3.5 2.6m-.4 .5l2.1 .7l-1.3-1.8zM302.9 101.8l2.9 .4m-.1 .5l1.5-.3l-1.4-.7zM310.7 101.8l2.4-2.3m.4 .4l.8-1.5l-1.5 .7zM318.4 101.8l1.8-4.1m.6 .3l.2-2.3l-1.5 1.8zM326.2 101.8l2-5.9m.9 .3l.1-3.2l-1.9 2.6zM334 101.8l2.5-5.7m.9 .4l.4-3.2l-2.1 2.4zM341.7 101.8l8-8.9m1 .9l2.3-4.7l-4.4 2.8zM349.5 101.8l7-5.1m.8 1l2.7-3.6l-4.2 1.5zM357.3 101.8l9.2-4.7m.6 1.2l3.8-3.5l-5.1 1zM365 101.8l11-4.2m.5 1.3l4.2-3.1l-5.2 .5zM372.8 101.8l11.1-3.9m.5 1.3l4.2-3l-5.2 .3zM380.6 101.8l10.4-4.8m.6 1.3l3.9-3.4l-5.1 .8zM388.3 101.8l10.1-6.4m.8 1.2l3.5-3.9l-5 1.5zM396.1 101.8l9.8-6.9m.8 1.1l3.3-4l-4.9 1.7zM403.9 101.8l10.4-6m.7 1.2l3.6-3.7l-5 1.3zM411.6 101.8l11.4-2m.2 1.4l4.7-2.2l-5.2-.5zM419.4 101.8l9.1 3.8m-.5 1.3l5 .6l-3.9-3.2zM427.2 101.8l6.4 6.4m-.9 .9l4.1 2.2l-2.2-4.1zM434.9 101.8l4.3 4.8m-.7 .6l2.8 1.7l-1.4-3zM442.7 101.8l2.5 .2m0 .4l1.3-.3l-1.2-.6zM450.5 101.8l-.9-3.3m.5-.1l-1-1.5l-.1 1.8zM458.2 101.8l-2.7-3.6m.6-.4l-1.9-1.4l.7 2.2zM466 101.8l-3-2.8m.4-.5l-1.9-.9l1 1.9zM178.6 110.2l3.1 .2m0 .5l1.6-.4l-1.5-.6zM186.4 110.2l3.7 1.2m-.2 .6l2 0l-1.6-1.2zM217.5 110.2l3.8-.7m.1 .6l1.8-1l-2-.2zM225.2 110.2l5.6-5.5m.8 .8l1.9-3.5l-3.6 1.9zM233 110.2l9.4-7.4m.9 1.1l3.1-4.2l-4.8 2zM240.8 110.2l10.8-5.3m.6 1.3l3.9-3.5l-5.1 1zM248.5 110.2l11-4.8m.6 1.3l4-3.3l-5.1 .7zM256.3 110.2l11.9 1.1m-.1 1.4l5.1-.9l-4.8-1.9zM264.1 110.2l11.3 4.1m-.5 1.3l5.2 .4l-4.2-3zM271.8 110.2l10.8 5.2m-.6 1.3l5.1 .9l-3.9-3.4zM279.6 110.2l8.5 8.5m-1 1l4.5 2.5l-2.6-4.5zM287.4 110.2l5.6 8.2m-1.2 .8l3.9 3.2l-1.6-4.8zM295.1 110.2l3.3 4.2m-.6 .5l2.3 1.6l-1-2.6zM302.9 110.2l2.7 1.3m-.2 .4l1.5 .2l-1.1-1.1zM310.7 110.2l1.9-1.7m.3 .3l.7-1.2l-1.2 .5zM318.4 110.2l.7-3.7m.6 .1l-.2-1.9l-.9 1.7zM326.2 110.2l-.2-5.4m.8 0l-.9-2.6l-.7 2.7zM334 110.2l-.3-6.9m1 0l-1.2-3.4l-.9 3.4zM341.7 110.2l2.1-11.3m1.4 .3l-.5-5.2l-2.3 4.7zM349.5 110.2l4.1-7.9m1.1 .6l.9-4.5l-3.2 3.3zM357.3 110.2l6.2-6.3m.9 .9l2.1-4l-4 2.2zM365 110.2l6.6-4.3m.6 1l2.6-3.1l-3.9 1.2zM372.8 110.2l6.1-2.8m.4 .9l2.6-2.3l-3.4 .5zM380.6 110.2l5.5-3.8m.6 .8l2.1-2.7l-3.3 1zM388.3 110.2l5.5-6m.9 .8l1.8-3.7l-3.6 2.1zM396.1 110.2l6.1-7.7m1.1 .9l1.9-4.6l-4.1 2.9zM403.9 110.2l6.9-6.8m1 1l2.4-4.4l-4.4 2.4zM411.6 110.2l6.6-1.9m.3 1l3-1.9l-3.6 0zM419.4 110.2l6 6.3m-.9 .9l3.9 2.2l-2-4zM427.2 110.2l4.6 8.6m-1.2 .7l3.5 3.6l-1-4.9zM434.9 110.2l3 6.8m-1 .4l2.5 2.9l-.5-3.8zM442.7 110.2l1.1 3.1m-.5 .2l1 1.4l0-1.7zM458.2 110.2l-2.5-2.7m.4-.4l-1.7-.9l.8 1.8zM466 110.2l-2.8-3m.5-.4l-1.9-1l.9 1.9zM178.6 118.5l2-.8m.2 .4l.8-.8l-1.2 .1zM186.4 118.5l2.7 .4m-.1 .5l1.4-.3l-1.3-.6zM194.2 118.5l3.6 1.4m-.2 .6l2 .1l-1.5-1.3zM201.9 118.5l4.5 2m-.3 .7l2.5 .3l-1.9-1.7zM209.7 118.5l4.9 2.1m-.3 .8l2.7 .3l-2.1-1.8zM217.5 118.5l4.2-.1m0 .7l2-.7l-2.1-.6zM225.2 118.5l4.2-8.8m1.3 .6l.8-4.9l-3.3 3.7zM233 118.5l5.5-10.7m1.2 .6l1-5.1l-3.5 3.8zM240.8 118.5l8.7-7.6m.9 1l2.8-4.4l-4.7 2.3zM248.5 118.5l9.6-3.3m.5 1.3l4.2-3l-5.2 .3zM256.3 118.5l9.9 .3m0 1.4l4.9-1.2l-4.8-1.6zM264.1 118.5l9.9 3.7m-.5 1.3l5.2 .4l-4.2-3.1zM271.8 118.5l8.2 7.8m-1 1l4.6 2.4l-2.6-4.5zM279.6 118.5l5.1 10.9m-1.3 .6l3.4 3.9l-.9-5.1zM287.4 118.5l4.1 11.3m-1.3 .5l3 4.2l-.4-5.2zM295.1 118.5l3 5.2m-.8 .5l2.3 2.1l-.7-3zM302.9 118.5l2.3 2.2m-.4 .4l1.5 .7l-.8-1.5zM318.4 118.5l.3-2.8m.5 0l-.4-1.4l-.6 1.3zM326.2 118.5l-.9-4.2m.7-.1l-1.1-1.9l-.2 2.2zM334 118.5l-1.8-7.5m1.1-.3l-2-3.4l-.2 4zM341.7 118.5l-.8-10.5m1.4-.1l-1.8-4.9l-1 5.1zM349.5 118.5l.9-10.7m1.4 .1l-1-5.1l-1.8 4.9zM357.3 118.5l2.3-7.2m1.1 .3l.1-3.9l-2.2 3.2zM365 118.5l1.5-3.3m.5 .2l.2-1.9l-1.3 1.4zM372.8 118.5l1.1-2.7m.5 .2l.1-1.5l-1 1.1zM380.6 118.5l.8-3.4m.6 .1l-.2-1.8l-.9 1.6zM388.3 118.5l.5-5.7m.9 .1l-.6-2.9l-1.1 2.7zM396.1 118.5l1.1-8.5m1.2 .2l-.7-4.3l-1.8 4zM403.9 118.5l2.4-7.3m1.1 .4l.1-4l-2.3 3.3zM411.6 118.5l2.8-.8m.1 .5l1.2-.9l-1.5-.1zM419.4 118.5l1.9 6.6m-1 .3l1.9 3l.1-3.5zM427.2 118.5l1.4 9.6m-1.4 .2l2.1 4.5l.7-4.9zM434.9 118.5l.9 8.1m-1.2 .1l1.6 3.9l.7-4.1zM442.7 118.5l.2 4.6m-.7 0l.8 2.2l.6-2.3zM458.2 118.5l-1.7-2.3m.4-.3l-1.3-.9l.5 1.4zM466 118.5l-2-3m.5-.3l-1.5-1.1l.5 1.8zM178.6 126.9l1.2-1.7m.3 .2l.3-1l-.9 .6zM186.4 126.9l2-1.1m.2 .4l.8-.9l-1.2 .2zM194.2 126.9l3.1-.1m0 .5l1.5-.6l-1.5-.5zM201.9 126.9l4.1 .8m-.1 .7l2.2-.3l-1.9-1zM209.7 126.9l5.5 1.8m-.3 .8l3 .1l-2.4-1.7zM217.5 126.9l5.8-.1m0 .9l2.8-.9l-2.9-.8zM225.2 126.9l7.4-9.4m1.1 .9l2-4.8l-4.2 3.1zM233 126.9l4.5-11.1m1.3 .5l.6-5.2l-3.2 4.1zM240.8 126.9l4.2-9.6m1.3 .6l.7-5.1l-3.3 4zM248.5 126.9l7-6.4m.9 1l2.5-4.2l-4.4 2.1zM256.3 126.9l11.5 .3m0 1.4l5-1.3l-5-1.5zM264.1 126.9l6.8 6.7m-1 1l4.3 2.3l-2.4-4.3zM271.8 126.9l4.4 9.7m-1.3 .6l3.3 4l-.8-5.1zM279.6 126.9l4.3 11.2m-1.3 .5l3.1 4.2l-.5-5.2zM287.4 126.9l4.9 11m-1.3 .6l3.3 4l-.8-5.1zM295.1 126.9l3.2 6.9m-1 .5l2.6 2.9l-.6-3.9zM302.9 126.9l1.9 3.1m-.5 .3l1.4 1.2l-.4-1.8zM318.4 126.9l.7-1.9m.3 .1l0-1.1l-.7 .8zM326.2 126.9l-.2-3.5m.6 0l-.7-1.7l-.5 1.8zM334 126.9l-.4-7.2m1.1-.1l-1.2-3.5l-.9 3.6zM341.7 126.9l-.7-12m1.4-.1l-1.7-4.9l-1.1 5.1zM349.5 126.9l-1.2-10.9m1.4-.2l-1.9-4.8l-.8 5.1zM357.3 126.9l-2.5-6.8m1-.4l-2.3-3l.2 3.7zM365 126.9l-2.4-3.2m.5-.4l-1.7-1.2l.7 2zM372.8 126.9l-2.2-2.5m.4-.4l-1.5-.9l.7 1.6zM380.6 126.9l-2.1-3m.5-.3l-1.5-1.1l.6 1.8zM388.3 126.9l-2.8-5.3m.8-.4l-2.2-2.2l.6 3zM396.1 126.9l-3.4-10.4m1.3-.4l-2.9-4.3l.2 5.2zM403.9 126.9l-.8-10m1.4-.1l-1.8-4.8l-1 5zM419.4 126.9l-.5 7.9m-1.2-.1l.9 4l1.4-3.8zM427.2 126.9l-1.2 9.9m-1.4-.2l.8 5.1l2-4.7zM434.9 126.9l-.4 7.7m-1.1-.1l.9 3.9l1.3-3.7zM442.7 126.9l.4 4.6m-.7 .1l.9 2.2l.5-2.3zM450.5 126.9l.9 1.9m-.3 .2l.8 .8l-.1-1.1zM466 126.9l-.9-2.8m.5-.2l-.9-1.2l0 1.5zM155.3 135.2l1.2 1.6m-.3 .2l.9 .6l-.3-1zM178.6 135.2l1.1-1.9m.3 .2l.2-1.1l-.9 .7zM186.4 135.2l1.1-1.9m.3 .2l.2-1.1l-.9 .7zM194.2 135.2l1.5-1.5m.3 .3l.5-1l-1 .4zM201.9 135.2l2.1-.8m.1 .4l.9-.8l-1.2 0zM209.7 135.2l2.6 1.7m-.3 .4l1.6 .4l-1-1.3zM225.2 135.2l-1.1-8.2m1.2-.2l-1.8-3.9l-.7 4.2zM233 135.2l-1.2-11m1.4-.2l-1.9-4.8l-.9 5.1zM240.8 135.2l-.2-9.8m1.4 0l-1.5-4.8l-1.3 4.8zM248.5 135.2l-.1-11.7m1.4 0l-1.4-5l-1.4 5zM264.1 135.2l-.2 11.2m-1.4 0l1.3 5l1.5-5zM271.8 135.2l-.1 9.4m-1.4 0l1.3 4.6l1.4-4.6zM279.6 135.2l0 12m-1.4 0l1.4 5l1.4-5zM287.4 135.2l.2 12m-1.4 0l1.5 5l1.3-5zM295.1 135.2l.4 8m-1.2 .1l1.4 3.9l1-4zM302.9 135.2l.6 3.6m-.6 .1l.9 1.7l.3-1.9zM326.2 135.2l.2-3.1m.5 0l-.4-1.6l-.6 1.5zM334 135.2l0-7.3m1.1 0l-1.1-3.6l-1.1 3.6zM341.7 135.2l.8-12m1.4 .1l-1-5.1l-1.7 4.9zM349.5 135.2l.8-11.8m1.4 .1l-1-5.1l-1.8 4.9zM357.3 135.2l-2.1-4.8m.7-.3l-1.8-2l.3 2.7zM365 135.2l-2.8-3.3m.5-.4l-1.9-1.2l.9 2.1zM372.8 135.2l-2.6-2.8m.5-.4l-1.7-1l.8 1.8zM380.6 135.2l-2-3.1m.5-.3l-1.5-1.2l.5 1.8zM388.3 135.2l-1.4-4.1m.7-.2l-1.3-1.8l0 2.3zM396.1 135.2l-1.7-11.9m1.4-.2l-2.1-4.8l-.7 5.1zM403.9 135.2l-3-11.6m1.4-.4l-2.6-4.5l-.1 5.2zM411.6 135.2l-3.7-.4m.1-.6l-1.9 .4l1.8 .8zM419.4 135.2l-2.1 7.9m-1.2-.3l.1 4.2l2.2-3.6zM427.2 135.2l-.8 9.5m-1.4-.1l1 4.8l1.8-4.6zM434.9 135.2l0 6.2m-.9 0l.9 3.1l.9-3.1zM442.7 135.2l.6 4m-.6 .1l.9 1.9l.4-2.1zM450.5 135.2l1 2m-.4 .2l.8 .8l-.1-1.2zM466 135.2l-.1-2.3m.4 0l-.5-1.1l-.3 1.1zM201.9 143.5l-2.2 .1m0-.4l-1 .5l1.1 .3zM209.7 143.5l-3 2.5m-.4-.5l-1.1 1.7l1.9-.8zM217.5 143.5l-3.6 2.9m-.4-.6l-1.3 2l2.2-.9zM225.2 143.5l-7.9-6.8m.9-1.1l-4.7-2.2l2.9 4.3zM233 143.5l-4.5-11.1m1.3-.5l-3.2-4.1l.6 5.2zM240.8 143.5l-4.7-11.1m1.3-.5l-3.2-4.1l.7 5.2zM248.5 143.5l-7.2-6m.9-1l-4.4-1.9l2.7 4zM256.3 143.5l-11.4 .4m-.1-1.4l-4.9 1.6l5 1.2zM264.1 143.5l-7.1 6.5m-.9-1l-2.6 4.2l4.4-2.2zM271.8 143.5l-4.5 9.2m-1.3-.6l-.9 5.1l3.5-3.9zM279.6 143.5l-4.1 11.3m-1.3-.5l-.4 5.2l3-4.2zM287.4 143.5l-4.4 11.2m-1.3-.5l-.5 5.2l3.1-4.1zM295.1 143.5l-2 6.3m-.9-.3l-.1 3.4l1.9-2.8zM302.9 143.5l-.7 3.2m-.5-.1l.2 1.7l.8-1.5zM326.2 143.5l-.6-3m.5-.1l-.8-1.4l-.2 1.6zM334 143.5l.4-7.9m1.2 .1l-1-3.9l-1.3 3.8zM341.7 143.5l2.6-11.7m1.4 .3l-.3-5.2l-2.5 4.6zM349.5 143.5l8.3-8.5m1 1l2.5-4.6l-4.5 2.6zM357.3 143.5l-.3-6.6m1 0l-1.1-3.2l-.8 3.3zM365 143.5l-1.2-3.4m.6-.2l-1.1-1.5l0 1.9zM372.8 143.5l-1.4-3.4m.6-.2l-1.2-1.5l.1 1.9zM380.6 143.5l-.5-4m.6-.1l-.9-1.9l-.4 2.1zM388.3 143.5l1.1-6m.9 .2l-.4-3.1l-1.4 2.8zM396.1 143.5l1.9-9.4m1.4 .3l-.4-4.9l-2.3 4.4zM403.9 143.5l-.2-7.9m1.2 0l-1.3-3.9l-1.1 3.9zM411.6 143.5l-2-.9m.2-.4l-1.2-.1l.8 .8zM419.4 143.5l-1 5.6m-.8-.2l.3 2.9l1.4-2.6zM427.2 143.5l.2 7.8m-1.2 0l1.3 3.8l1-3.9zM434.9 143.5l.5 6.1m-.9 .1l1.2 2.9l.7-3.1zM442.7 143.5l.3 3.9m-.6 .1l.8 1.9l.5-2zM450.5 143.5l.4 2.1m-.4 .1l.6 1l.2-1.1zM194.2 151.9l-2 .1m0-.4l-1 .4l1 .3zM201.9 151.9l-2.7 1.4m-.2-.5l-1.1 1.1l1.6-.2zM209.7 151.9l-2.6 2.4m-.4-.4l-.9 1.6l1.7-.8zM217.5 151.9l-.3 2.4m-.4-.1l.3 1.2l.6-1.1zM225.2 151.9l2.1-3.7m.6 .3l.4-2.2l-1.6 1.5zM233 151.9l-3.7-11.4m1.3-.4l-2.9-4.3l.2 5.2zM240.8 151.9l-8.3-7.9m1-1l-4.6-2.4l2.7 4.4zM248.5 151.9l-9.9-3.3m.4-1.3l-5.2-.3l4.3 2.9zM256.3 151.9l-9.6 .4m-.1-1.4l-4.7 1.6l4.8 1.2zM264.1 151.9l-10.4 4m-.5-1.3l-4.2 3.1l5.2-.5zM271.8 151.9l-9 7.2m-.9-1.1l-3 4.2l4.8-2zM279.6 151.9l-5.6 10.6m-1.2-.6l-1.1 5.1l3.6-3.8zM287.4 151.9l-2.9 9.9m-1.3-.4l-.1 5.2l2.7-4.4zM295.1 151.9l-1.2 4.2m-.7-.2l.1 2.3l1.3-1.9zM302.9 151.9l-.7 2.7m-.5-.1l.1 1.5l.8-1.2zM326.2 151.9l-1.3-3.2m.5-.2l-1.2-1.4l.1 1.8zM334 151.9l-2-9.5m1.4-.3l-2.3-4.4l-.4 5zM341.7 151.9l-2-11.8m1.4-.2l-2.2-4.7l-.5 5.2zM349.5 151.9l-6.1-8.4m1.1-.8l-4.1-3.2l1.8 4.9zM372.8 151.9l-.6-3.6m.6-.1l-.9-1.7l-.3 1.9zM380.6 151.9l-.1-5.3m.8 0l-.9-2.6l-.8 2.6zM388.3 151.9l1-7.8m1.1 .2l-.6-4l-1.7 3.7zM396.1 151.9l1.8-9m1.3 .3l-.4-4.7l-2.2 4.2zM403.9 151.9l1.4-6m.9 .2l-.2-3.2l-1.6 2.8zM419.4 151.9l-.3 5m-.8 0l.6 2.5l.9-2.4zM427.2 151.9l-.4 7.3m-1.1-.1l.9 3.7l1.3-3.5zM434.9 151.9l-.6 6.3m-.9-.1l.7 3.2l1.2-3zM442.7 151.9l-.7 4m-.6-.1l.3 2.1l1-1.8zM450.5 151.9l-1 2.1m-.4-.2l-.1 1.2l.9-.9zM116.5 160.1l-1.9 .4m-.1-.3l-.8 .6l1 .1zM139.8 160.1l-1.1 1.6m-.3-.2l-.2 1l.8-.6zM147.6 160.1l-.9 1.7m-.3-.2l-.1 1l.8-.7zM194.2 160.1l-1.8 1.3m-.2-.3l-.6 1l1.1-.3zM201.9 160.1l-2.5 2.2m-.4-.4l-.9 1.5l1.6-.7zM209.7 160.1l-3.1 2.1m-.3-.5l-1.2 1.5l1.9-.5zM217.5 160.1l-3.9 .5m-.1-.6l-1.8 .8l2 .4zM225.2 160.1l-4.7-1.8m.3-.7l-2.6-.2l2 1.6zM233 160.1l-9.1-6.4m.8-1.1l-4.9-1.7l3.3 4zM240.8 160.1l-11-4.7m.5-1.3l-5.2-.7l4.1 3.2zM248.5 160.1l-11.4-3.8m.4-1.3l-5.2-.2l4.3 2.9zM256.3 160.1l-12 .9m-.1-1.4l-4.9 1.8l5.1 1zM264.1 160.1l-11.2 4.3m-.5-1.3l-4.2 3.1l5.2-.5zM271.8 160.1l-11.2 4.3m-.5-1.3l-4.2 3.1l5.2-.5zM279.6 160.1l-9.6 7.2m-.8-1.1l-3.2 4.1l4.8-1.9zM287.4 160.1l-4.4 5.6m-.8-.7l-1.3 3.4l3-2.1zM295.1 160.1l-1.6 3.2m-.5-.3l-.3 1.8l1.3-1.3zM302.9 160.1l-.7 2.5m-.4-.1l.1 1.3l.8-1.1zM326.2 160.1l-.9-2.9m.5-.1l-.9-1.3l0 1.6zM334 160.1l-1.4-7m1-.2l-1.7-3.2l-.3 3.6zM341.7 160.1l-3.8-11.4m1.3-.4l-2.9-4.3l.3 5.2zM349.5 160.1l-7.7-9.2m1.1-.9l-4.3-2.9l2.1 4.7zM357.3 160.1l-9.8-7m.8-1.1l-4.9-1.8l3.3 4zM365 160.1l-3.4-5.5m.8-.5l-2.5-2.2l.9 3.2zM372.8 160.1l-.7-3.5m.6-.1l-.9-1.6l-.2 1.9zM380.6 160.1l-.6-6.2m.9-.1l-1.2-2.9l-.6 3.1zM388.3 160.1l-.3-8.8m1.3 0l-1.4-4.3l-1.1 4.4zM396.1 160.1l.3-9.5m1.4 0l-1.2-4.7l-1.5 4.6zM403.9 160.1l.3-5.9m.9 0l-.7-3l-1 2.9zM411.6 160.1l-.4 1.9m-.4-.1l.2 1l.5-.9zM419.4 160.1l-1.1 5.9m-.9-.2l.4 3.1l1.4-2.7zM427.2 160.1l-1.8 7.8m-1.2-.3l.3 4.1l2-3.6zM434.9 160.1l-2.3 6.8m-1-.3l-.1 3.7l2.1-3zM442.7 160.1l-2.2 4m-.6-.3l-.5 2.3l1.7-1.6zM450.5 160.1l-2.3 1.8m-.3-.4l-.8 1.3l1.4-.5zM458.2 160.1l-2.1-.5m.1-.4l-1.1 .1l.9 .6zM466 160.1l-1.4-1.9m.3-.3l-1-.7l.4 1.2zM101 168.4l-2.5 1.1m-.2-.4l-1.1 1l1.4-.1zM108.7 168.4l-2.7 .5m-.1-.5l-1.3 .7l1.4 .2zM116.5 168.4l-2.7 .3m0-.5l-1.3 .6l1.4 .3zM124.3 168.4l-2.6 .3m-.1-.5l-1.2 .6l1.4 .3zM132 168.4l-2.3 .6m-.1-.4l-1 .7l1.2 .1zM139.8 168.4l-1.6 1.1m-.2-.3l-.6 .8l1-.2zM194.2 168.4l-.9 2.3m-.4-.2l0 1.3l.8-1zM201.9 168.4l-1.7 3.3m-.5-.3l-.3 1.9l1.4-1.3zM209.7 168.4l-3 3.4m-.5-.5l-.9 2.1l2-1.2zM217.5 168.4l-5.1 2.2m-.3-.8l-2.2 1.9l2.8-.3zM225.2 168.4l-6.8-.5m.1-1l-3.4 .7l3.3 1.3zM233 168.4l-8.3-2.6m.4-1.2l-4.5 0l3.7 2.5zM240.8 168.4l-10-3.2m.4-1.3l-5.2-.2l4.3 2.8zM248.5 168.4l-11.4-3.8m.4-1.3l-5.2-.3l4.3 2.9zM256.3 168.4l-12 .7m-.1-1.4l-4.9 1.7l5.1 1.1zM264.1 168.4l-11 4.8m-.6-1.3l-4 3.3l5.1-.7zM271.8 168.4l-9.4 3m-.4-1.3l-4.2 2.8l5-.1zM279.6 168.4l-7.8 2.8m-.4-1.1l-3.4 2.5l4.3-.3zM287.4 168.4l-5.2 2.2m-.3-.8l-2.2 1.9l2.9-.3zM295.1 168.4l-3.4 1m-.2-.6l-1.5 1l1.8 .1zM302.9 168.4l-2.2 1.9m-.3-.4l-.7 1.3l1.4-.6zM310.7 168.4l-1.5 1.3m-.2-.3l-.5 .9l1-.4zM326.2 168.4l-.1-2.9m.5 0l-.5-1.4l-.5 1.5zM334 168.4l-.4-5.8m.9-.1l-1.1-2.8l-.7 2.9zM341.7 168.4l-2.8-9.3m1.3-.4l-2.7-4.2l.1 5zM349.5 168.4l-5-8.6m1.2-.7l-3.7-3.5l1.3 4.9zM357.3 168.4l-5.4-7.9m1.1-.8l-3.8-3.1l1.5 4.7zM365 168.4l-3.9-9.9m1.3-.5l-3.1-4.2l.5 5.2zM372.8 168.4l-.5-3.8m.6-.1l-.9-1.8l-.4 2zM380.6 168.4l-1.3-5.5m.8-.2l-1.5-2.5l-.2 2.9zM388.3 168.4l-2.1-9.2m1.3-.3l-2.4-4.2l-.3 4.8zM396.1 168.4l-1.4-10.1m1.4-.2l-2.1-4.8l-.7 5.1zM403.9 168.4l-1-5.2m.8-.2l-1.3-2.4l-.3 2.7zM411.6 168.4l-1.8 2m-.3-.3l-.5 1.3l1.2-.7zM419.4 168.4l-2.4 6.9m-1-.4l-.2 3.8l2.2-3zM427.2 168.4l-3.3 8.8m-1.3-.5l-.4 4.8l2.9-3.8zM434.9 168.4l-3.9 7.3m-1.1-.6l-.9 4.2l3-3zM442.7 168.4l-3.5 3.8m-.6-.5l-1.2 2.4l2.3-1.3zM450.5 168.4l-3 .9m-.2-.5l-1.3 1l1.6 0zM458.2 168.4l-2.1-1.4m.2-.4l-1.3-.3l.8 1zM466 168.4l-1.1-2.5m.4-.2l-1-1.1l.1 1.4zM69.9 176.7l-.5 2.6m-.4-.1l.2 1.4l.7-1.2zM77.7 176.7l-.8 3m-.5-.1l.1 1.6l.9-1.3zM85.4 176.7l-1.4 2.8m-.5-.2l-.3 1.6l1.2-1.1zM93.2 176.7l-2.1 2.3m-.4-.4l-.7 1.5l1.4-.8zM101 176.7l-3 1.6m-.3-.5l-1.2 1.3l1.7-.3zM108.7 176.7l-3.6 .6m-.1-.6l-1.7 .9l1.9 .3zM116.5 176.7l-3.6 .2m0-.6l-1.8 .7l1.8 .5zM124.3 176.7l-3.5-.2m0-.6l-1.7 .5l1.7 .6zM132 176.7l-2.7-.5m.1-.5l-1.4 .2l1.3 .7zM194.2 176.7l.1 2.6m-.5 0l.5 1.3l.4-1.3zM201.9 176.7l-.3 4.2m-.7-.1l.5 2.1l.8-2zM209.7 176.7l-1 5m-.8-.2l.3 2.6l1.3-2.3zM217.5 176.7l-2.1 4.2m-.7-.3l-.4 2.4l1.7-1.7zM225.2 176.7l-3.4-.1m0-.6l-1.7 .5l1.7 .6zM233 176.7l-3.6-1.6m.3-.6l-2-.2l1.5 1.4zM240.8 176.7l-4.2-1.9m.3-.7l-2.4-.3l1.8 1.6zM248.5 176.7l-6-1.7m.3-.9l-3.2 .1l2.7 1.7zM256.3 176.7l-7 .5m-.1-1l-3.4 1.3l3.5 .8zM264.1 176.7l-6.1 2.5m-.4-.9l-2.6 2.2l3.4-.3zM271.8 176.7l-5.1 2.4m-.4-.8l-2.2 1.9l2.9-.4zM279.6 176.7l-5.1 1.9m-.3-.8l-2.2 1.7l2.8-.1zM287.4 176.7l-5.1 1.1m-.2-.8l-2.3 1.3l2.7 .2zM295.1 176.7l-4.8 .1m0-.7l-2.4 .8l2.4 .7zM302.9 176.7l-3.8-.1m0-.6l-1.9 .6l1.9 .7zM310.7 176.7l-2.2-.7m.1-.4l-1.2 .1l1 .7zM318.4 176.7l-.3-2m.4 0l-.5-.9l-.2 1zM326.2 176.7l.5-3m.5 .1l-.2-1.6l-.8 1.4zM334 176.7l0-4.3m.7 0l-.7-2.1l-.7 2.1zM341.7 176.7l-1.6-6.4m1-.2l-1.7-2.9l-.2 3.4zM349.5 176.7l-3.2-7.6m1.1-.5l-2.7-3.3l.5 4.2zM357.3 176.7l-2.9-7.7m1.1-.4l-2.6-3.4l.3 4.2zM365 176.7l-1.6-11.7m1.4-.2l-2.1-4.8l-.7 5.1zM372.8 176.7l1.4-7.6m1.1 .2l-.4-3.9l-1.8 3.5zM380.6 176.7l-1.2-3.3m.5-.2l-1.1-1.4l.1 1.8zM388.3 176.7l-3-9.6m1.3-.4l-2.8-4.3l.1 5.1zM396.1 176.7l-2.2-11.8m1.4-.3l-2.3-4.7l-.5 5.2zM403.9 176.7l-1.3-5.4m.8-.2l-1.5-2.5l-.2 2.9zM411.6 176.7l-2.2 3m-.5-.4l-.6 1.8l1.6-1.1zM419.4 176.7l-3.4 8m-1.2-.5l-.5 4.4l2.8-3.5zM427.2 176.7l-4.1 10m-1.3-.5l-.6 5.2l3.2-4.1zM434.9 176.7l-4.6 7.8m-1.1-.7l-1.1 4.5l3.4-3.2zM442.7 176.7l-3.8 2.8m-.4-.6l-1.4 2l2.3-.8zM450.5 176.7l-2.7-.6m.1-.5l-1.4 .1l1.2 .8zM458.2 176.7l-1.1-2.6m.4-.2l-1-1.1l.1 1.5zM466 176.7l-.1-3.2m.5 0l-.6-1.5l-.5 1.6zM54.4 185l-2-1m.2-.4l-1.2-.2l.8 .9zM69.9 185l-.9 2.6m-.4-.2l0 1.4l.9-1.1zM77.7 185l-.7 3.1m-.5-.1l.2 1.7l.9-1.4zM85.4 185l-.7 3.3m-.5-.1l.2 1.7l.9-1.5zM93.2 185l-1.5 3.3m-.5-.2l-.2 1.9l1.3-1.4zM101 185l-2.9 2.9m-.5-.5l-1 1.9l1.9-.9zM108.7 185l-4.6 1.6m-.3-.7l-2 1.5l2.5-.1zM116.5 185l-5.6 0m0-.8l-2.8 .8l2.7 .9zM124.3 185l-4.1-1.4m.2-.6l-2.2-.1l1.8 1.3zM132 185l-2.5-2.2m.4-.4l-1.6-.7l.9 1.5zM139.8 185l-1-1.8m.3-.2l-.8-.7l.2 1.1zM194.2 185l.3 2.7m-.5 .1l.6 1.3l.3-1.4zM201.9 185l.9 3.9m-.6 .1l1.1 1.8l.2-2.1zM209.7 185l1.9 4.8m-.7 .3l1.7 2.1l-.2-2.7zM217.5 185l3.1 4.2m-.6 .5l2.2 1.6l-.9-2.5zM225.2 185l3.1 1.3m-.2 .5l1.7 .2l-1.3-1.2zM248.5 185l-2.5-.3m.1-.4l-1.3 .3l1.2 .6zM256.3 185l-3.1 .7m-.1-.5l-1.4 .9l1.6 .2zM264.1 185l-2.9 1.8m-.3-.5l-1.1 1.4l1.7-.4zM271.8 185l-2.7 2.3m-.4-.4l-.9 1.6l1.7-.7zM279.6 185l-3 2.4m-.4-.5l-1.1 1.6l1.8-.7zM287.4 185l-3.7 1.6m-.3-.6l-1.6 1.4l2.1-.2zM295.1 185l-4.1-.4m.1-.6l-2.1 .5l2 .8zM302.9 185l-2.9-2.2m.4-.5l-1.8-.6l1.1 1.6zM310.7 185l-.9-2.9m.5-.2l-.9-1.3l0 1.6zM318.4 185l.9-3m.5 .1l-.1-1.6l-.9 1.3zM326.2 185l1.7-3.1m.5 .3l.3-1.8l-1.3 1.3zM334 185l1.3-3.5m.6 .2l.1-1.9l-1.2 1.5zM341.7 185l.1-4.2m.7 0l-.6-2.1l-.7 2zM349.5 185l-1.5-6.4m1-.2l-1.7-2.9l-.2 3.4zM357.3 185l-1.9-8.6m1.3-.3l-2.2-4l-.3 4.5zM365 185l-1.5-9.3m1.3-.2l-2.1-4.3l-.6 4.8zM372.8 185l1.8-11.1m1.4 .2l-.6-5.2l-2.2 4.7zM380.6 185l2-1.6m.3 .3l.7-1.1l-1.2 .5zM388.3 185l1.4-8.8m1.3 .2l-.6-4.5l-2 4.1zM396.1 185l-1.4-10.1m1.4-.2l-2.1-4.8l-.7 5.1zM403.9 185l-3.7-4.4m.7-.6l-2.5-1.6l1.1 2.7zM411.6 185l-4 3.2m-.5-.6l-1.5 2.2l2.4-1zM419.4 185l-3.8 8.1m-1.2-.6l-.7 4.6l3.1-3.4zM427.2 185l-3.2 9.8m-1.3-.4l-.2 5.2l2.9-4.3zM434.9 185l-2.2 7.9m-1.2-.3l.1 4.2l2.3-3.6zM442.7 185l-1.5 1.5m-.3-.3l-.4 1l1-.5zM450.5 185l-.2-2.5m.4 0l-.5-1.2l-.3 1.3zM458.2 185l.7-3.4m.6 .1l-.2-1.8l-.9 1.6zM466 185l1.1-3.5m.6 .2l0-1.9l-1.1 1.5zM46.6 193.2l-3.5-1.5m.2-.6l-2-.2l1.5 1.3zM54.4 193.2l-3.3-1.4m.2-.5l-1.9-.2l1.4 1.2zM62.1 193.2l-3 .3m0-.5l-1.5 .6l1.5 .4zM69.9 193.2l-1.9 1.9m-.3-.3l-.6 1.3l1.3-.6zM77.7 193.2l-.9 2.8m-.5-.2l0 1.5l.9-1.2zM85.4 193.2l-.4 3.4m-.6-.1l.3 1.8l.8-1.6zM93.2 193.2l-.6 4.1m-.7-.1l.4 2.1l.9-1.9zM101 193.2l-1.9 4.8m-.7-.3l-.2 2.7l1.7-2.1zM108.7 193.2l-3.9 3.6m-.6-.6l-1.4 2.4l2.5-1.2zM116.5 193.2l-5.1-.3m0-.8l-2.5 .7l2.5 .9zM124.3 193.2l-3.5-3.7m.6-.5l-2.3-1.3l1.2 2.4zM132 193.2l-1.4-4m.6-.2l-1.3-1.7l.1 2.2zM139.8 193.2l-.1-2.8m.5 0l-.5-1.4l-.4 1.4zM194.2 193.2l1 2.2m-.4 .2l.9 .9l-.1-1.2zM201.9 193.2l1.9 2.9m-.5 .3l1.4 1.1l-.5-1.7zM209.7 193.2l3.2 3.1m-.5 .5l2.1 1l-1.1-2zM217.5 193.2l4.9 3.2m-.5 .7l2.9 .8l-1.9-2.3zM225.2 193.2l4.8 2.6m-.4 .7l2.8 .6l-2-2zM233 193.2l3.2 1.9m-.3 .5l1.9 .4l-1.3-1.4zM240.8 193.2l1.7 1.5m-.3 .3l1.1 .4l-.6-1zM264.1 193.2l-.7 2m-.4-.1l0 1.1l.7-.8zM271.8 193.2l-.4 2.7m-.5-.1l.3 1.4l.6-1.3zM279.6 193.2l-.5 3.2m-.5-.1l.3 1.6l.8-1.5zM287.4 193.2l-.9 2.8m-.5-.1l0 1.5l.9-1.2zM302.9 193.2l0-3.9m.6 0l-.6-1.9l-.6 1.9zM310.7 193.2l1.1-4.3m.7 .2l-.1-2.3l-1.2 1.9zM318.4 193.2l2.4-3.9m.6 .4l.6-2.3l-1.8 1.5zM326.2 193.2l3-3.1m.5 .5l1-2l-2 1zM334 193.2l2.9-2.8m.4 .5l1-1.8l-1.9 .9zM341.7 193.2l2.3-3.2m.5 .4l.6-1.9l-1.7 1.2zM349.5 193.2l1.8-5.1m.8 .3l.1-2.8l-1.7 2.2zM357.3 193.2l.4-7.5m1.1 .1l-.9-3.7l-1.3 3.6zM365 193.2l-.7-8.4m1.2-.1l-1.6-4l-.9 4.3zM372.8 193.2l-3.3-11.2m1.3-.4l-2.8-4.4l.1 5.2zM380.6 193.2l.5-7.9m1.2 .1l-.9-4l-1.4 3.8zM388.3 193.2l1-6.3m.9 .2l-.4-3.3l-1.5 3zM396.1 193.2l-.8-6.7m1-.1l-1.4-3.2l-.6 3.4zM403.9 193.2l-2.8-2.5m.4-.4l-1.8-.8l1 1.7zM411.6 193.2l-3.4 2.9m-.5-.5l-1.2 2l2.1-.9zM419.4 193.2l-3.3 7m-1-.5l-.6 3.9l2.7-2.9zM427.2 193.2l-1.8 7.9m-1.2-.3l.3 4.1l2.1-3.6zM434.9 193.2l.3 5.3m-.8 .1l1 2.6l.6-2.7zM442.7 193.2l2.2 1.1m-.2 .4l1.3 .2l-.9-.9zM450.5 193.2l2.1-2.6m.4 .3l.6-1.6l-1.5 1zM458.2 193.2l2.1-3.6m.6 .3l.5-2.1l-1.6 1.4zM466 193.2l2.1-3.3m.5 .3l.5-2l-1.6 1.3zM38.8 201.4l-3.9-.6m.1-.6l-2 .3l1.8 .9zM46.6 201.4l-3.9-1.5m.2-.6l-2.2-.1l1.7 1.4zM54.4 201.4l-3.7-1.7m.3-.6l-2.1-.2l1.6 1.4zM62.1 201.4l-3.3-.9m.1-.5l-1.8 .1l1.5 1zM69.9 201.4l-2.4 .5m-.1-.4l-1.1 .7l1.3 .2zM77.7 201.4l-1.2 2m-.4-.2l-.2 1.2l.9-.8zM85.4 201.4l-.3 3.1m-.5 0l.4 1.6l.7-1.5zM93.2 201.4l0 4.3m-.7 0l.7 2.1l.7-2.1zM101 201.4l.1 6.1m-.9 0l1 3l.9-3zM108.7 201.4l.2 5.1m-.8 0l.9 2.5l.7-2.5zM124.3 201.4l-.2-5.1m.8 0l-.9-2.5l-.7 2.5zM132 201.4l-.4-5.4m.8-.1l-1-2.6l-.6 2.7zM139.8 201.4l-.5-3m.5-.1l-.7-1.4l-.3 1.5zM201.9 201.4l1.9 1.8m-.3 .3l1.2 .6l-.6-1.2zM209.7 201.4l2.8 1.8m-.3 .5l1.7 .4l-1.1-1.4zM217.5 201.4l3.6 2m-.3 .6l2.1 .4l-1.5-1.5zM225.2 201.4l3.8 3.8m-.6 .6l2.4 1.3l-1.3-2.4zM233 201.4l2.4 3.5m-.5 .4l1.7 1.3l-.6-2.1zM240.8 201.4l1.5 2.8m-.5 .2l1.2 1.1l-.3-1.6zM248.5 201.4l.7 2.1m-.4 .1l.7 .9l0-1.2zM271.8 201.4l.9 2.3m-.4 .2l.8 1l0-1.3zM279.6 201.4l1 3.2m-.5 .2l1 1.4l0-1.7zM287.4 201.4l1.7 2.2m-.4 .3l1.2 .8l-.4-1.4zM295.1 201.4l2.5-1.2m.2 .4l1-1l-1.4 .2zM302.9 201.4l2.1-4.1m.6 .3l.4-2.3l-1.6 1.7zM310.7 201.4l2.7-5.9m.9 .4l.4-3.3l-2.2 2.5zM318.4 201.4l4-5.3m.8 .6l1.2-3.2l-2.7 2zM326.2 201.4l4.1-3.2m.5 .6l1.5-2.2l-2.5 .9zM334 201.4l3.6-2.2m.4 .6l1.4-1.7l-2.1 .5zM341.7 201.4l3.2-2.6m.4 .5l1.2-1.8l-2 .8zM349.5 201.4l1.1-1.6m.3 .2l.2-1l-.8 .6zM357.3 201.4l1.7-5.7m.9 .3l0-3.1l-1.7 2.6zM365 201.4l.1-2.7m.5 0l-.4-1.3l-.5 1.3zM372.8 201.4l-1.1-8.6m1.3-.2l-1.8-4.1l-.7 4.4zM380.6 201.4l-1.5-11.2m1.4-.2l-2-4.8l-.7 5.1zM388.3 201.4l-.8-5.5m.8-.1l-1.2-2.6l-.5 2.8zM396.1 201.4l-1.6-4.8m.7-.2l-1.5-2.1l.1 2.6zM403.9 201.4l-2.7-1.3m.2-.5l-1.5-.2l1.1 1.1zM411.6 201.4l-3.1 3.2m-.5-.5l-1 2.1l2-1.1zM419.4 201.4l-2.9 5.7m-.9-.4l-.6 3.2l2.3-2.4zM427.2 201.4l-1.4 5.5m-.8-.2l.1 2.9l1.5-2.5zM434.9 201.4l.5 3.5m-.6 .1l.8 1.6l.3-1.8zM442.7 201.4l2.3 .1m0 .4l1.2-.3l-1.1-.5zM450.5 201.4l2.3-2.7m.4 .4l.7-1.7l-1.6 .9zM458.2 201.4l2-3.6m.6 .3l.4-2.1l-1.6 1.5zM466 201.4l2-3.1m.5 .3l.5-1.8l-1.5 1.2zM31.1 209.7l-3 1.5m-.2-.5l-1.2 1.2l1.7-.2zM38.8 209.7l-3.7-.1m0-.6l-1.8 .6l1.8 .6zM46.6 209.7l-3.7-1.7m.3-.6l-2.1-.3l1.5 1.4zM54.4 209.7l-3.4-2.2m.4-.5l-2-.5l1.3 1.6zM62.1 209.7l-2.9-1.9m.3-.5l-1.7-.5l1.1 1.4zM69.9 209.7l-2.2-1m.2-.4l-1.2-.1l.9 .9zM85.4 209.7l0 2.7m-.5 0l.5 1.3l.5-1.3zM93.2 209.7l.7 3.9m-.6 .1l1 1.8l.3-2zM101 209.7l2 4.8m-.7 .3l1.7 2.1l-.2-2.7zM108.7 209.7l3.7 3.7m-.6 .6l2.4 1.3l-1.3-2.4zM116.5 209.7l4.4 .1m0 .7l2.2-.7l-2.2-.7zM124.3 209.7l2.8-3.2m.5 .4l.9-2l-1.9 1.1zM132 209.7l.6-3.9m.6 .1l-.3-2l-.9 1.8zM139.8 209.7l-.8-2.9m.5-.1l-.9-1.3l-.1 1.6zM147.6 209.7l-1.1-1.6m.3-.2l-.8-.6l.2 1zM217.5 209.7l.3 2.4m-.4 .1l.6 1.1l.3-1.2zM225.2 209.7l0 4m-.6 0l.6 2l.6-2zM233 209.7l.2 4.1m-.7 0l.8 2l.5-2.1zM240.8 209.7l.2 3.3m-.5 0l.6 1.6l.5-1.7zM248.5 209.7l.1 2.5m-.4 0l.5 1.2l.4-1.2zM256.3 209.7l-.1 1.9m-.4 0l.3 1l.4-.9zM271.8 209.7l-.6 2.1m-.4-.1l.1 1.1l.7-.9zM279.6 209.7l.3 2.6m-.5 .1l.6 1.2l.3-1.3zM287.4 209.7l1.8 1.3m-.2 .3l1.1 .3l-.6-.9zM295.1 209.7l2.4-1.6m.3 .4l.9-1.2l-1.4 .4zM302.9 209.7l2-3.9m.6 .3l.4-2.3l-1.6 1.6zM310.7 209.7l2-6.9m1 .3l0-3.7l-2 3.1zM318.4 209.7l3.4-6.8m1 .5l.7-3.9l-2.7 2.9zM326.2 209.7l3.1-2.7m.4 .5l1.1-1.8l-2 .8zM334 209.7l3.1-2m.3 .5l1.2-1.5l-1.9 .5zM365 209.7l.2-2m.4 0l-.3-1l-.5 .9zM372.8 209.7l-.2-2m.4 0l-.5-1l-.3 1zM380.6 209.7l-3-11.4m1.4-.4l-2.6-4.5l-.1 5.2zM388.3 209.7l-2.9-6.3m.9-.4l-2.4-2.7l.5 3.5zM396.1 209.7l-3.2-3.6m.6-.5l-2.1-1.3l1 2.2zM403.9 209.7l-4.2-.5m.1-.7l-2.2 .4l2 .9zM411.6 209.7l-3.8 2.9m-.4-.6l-1.4 2l2.3-.8zM419.4 209.7l-2.8 4.3m-.7-.4l-.7 2.5l2.1-1.7zM427.2 209.7l-1.5 3.7m-.6-.2l-.2 2l1.3-1.6zM434.9 209.7l.2 2m-.4 0l.5 .9l.3-1zM442.7 209.7l1.9-1.1m.2 .3l.8-.9l-1.2 .2zM450.5 209.7l2.1-2.8m.4 .3l.6-1.7l-1.5 1zM458.2 209.7l1.9-3.3m.5 .3l.4-1.9l-1.5 1.3zM466 209.7l1.7-3.1m.5 .3l.4-1.8l-1.4 1.3zM23.3 217.9l-1.1 2.9m-.5-.2l-.1 1.6l1-1.2zM31.1 217.9l-1.5 2.4m-.4-.3l-.4 1.4l1.2-.9zM38.8 217.9l-2 .7m-.1-.4l-.9 .7l1.1 0zM46.6 217.9l-2.5-1.8m.3-.4l-1.5-.5l.9 1.3zM54.4 217.9l-2.5-2.7m.4-.4l-1.6-.9l.8 1.7zM62.1 217.9l-2.1-2.7m.4-.3l-1.5-1l.6 1.7zM69.9 217.9l-1.6-2.1m.4-.3l-1.1-.8l.4 1.3zM85.4 217.9l.4 2.1m-.4 .1l.6 .9l.2-1.1zM93.2 217.9l1.3 3m-.5 .2l1.1 1.3l-.1-1.7zM101 217.9l2.5 3.1m-.5 .4l1.7 1.1l-.7-1.9zM108.7 217.9l3.8 2.1m-.3 .6l2.2 .4l-1.5-1.6zM116.5 217.9l4.3 .6m-.1 .7l2.2-.4l-2-1zM124.3 217.9l3.2-1m.2 .5l1.4-1l-1.7 0zM132 217.9l1.2-2.3m.4 .2l.2-1.3l-1 .9zM139.8 217.9l-.4-2.2m.4-.1l-.6-1l-.2 1.2zM147.6 217.9l-1.1-1.5m.3-.2l-.8-.5l.3 1zM209.7 217.9l-1 1.9m-.3-.2l-.2 1.1l.8-.7zM217.5 217.9l-1.3 2.8m-.5-.2l-.2 1.6l1.1-1.2zM225.2 217.9l-1.3 3.8m-.6-.2l0 2.1l1.3-1.7zM233 217.9l-1.1 4m-.6-.2l.1 2.1l1.2-1.8zM240.8 217.9l-.9 3.1m-.5-.1l.1 1.7l.9-1.4zM248.5 217.9l-.6 2.5m-.4-.1l.1 1.3l.7-1.1zM256.3 217.9l-.8 2.1m-.4-.1l0 1.2l.8-.9zM264.1 217.9l-1.1 1.9m-.3-.2l-.2 1.1l.9-.7zM271.8 217.9l-1.2 1.8m-.3-.2l-.3 1.1l.9-.7zM295.1 217.9l1.7-2.2m.4 .3l.4-1.4l-1.2 .8zM302.9 217.9l1.7-3.8m.6 .3l.2-2.2l-1.4 1.6zM310.7 217.9l1.8-6.3m.9 .3l-.1-3.4l-1.8 2.9zM318.4 217.9l.4-6.6m1 .1l-.8-3.3l-1.2 3.2zM326.2 217.9l.8-3.5m.6 .1l-.2-1.9l-.9 1.6zM380.6 217.9l-1-2.5m.4-.2l-.9-1.1l.1 1.4zM388.3 217.9l-5.9-7.9m1.1-.8l-4-3.1l1.8 4.7zM396.1 217.9l-3.5-2.4m.4-.5l-2.1-.7l1.3 1.7zM403.9 217.9l-3.9-.4m.1-.6l-2 .4l1.9 .8zM411.6 217.9l-3.3 1.9m-.3-.5l-1.3 1.5l1.9-.4zM419.4 217.9l-2 3.1m-.5-.3l-.5 1.9l1.5-1.2zM427.2 217.9l-1 2.6m-.4-.2l-.1 1.5l1-1.1zM442.7 217.9l2.1-2.1m.4 .4l.7-1.4l-1.4 .7zM450.5 217.9l2.3-2.8m.5 .4l.7-1.8l-1.6 1zM458.2 217.9l2.1-3.1m.5 .3l.5-1.9l-1.5 1.2zM466 217.9l1.9-3m.5 .3l.5-1.8l-1.4 1.2zM15.5 226.1l.1 3.1m-.5 0l.6 1.5l.5-1.6zM23.3 226.1l0 3.1m-.5 0l.5 1.5l.5-1.5zM31.1 226.1l-.1 2.6m-.4 0l.4 1.3l.5-1.3zM54.4 226.1l-1.2-2.9m.5-.2l-1.1-1.2l.1 1.6zM62.1 226.1l-1.2-3.1m.5-.2l-1.1-1.3l.1 1.7zM69.9 226.1l-1.1-2.7m.5-.2l-1-1.1l.1 1.5zM93.2 226.1l1.1 2.2m-.4 .2l.9 .9l-.2-1.3zM101 226.1l1.9 2.2m-.4 .3l1.3 .8l-.6-1.4zM108.7 226.1l2.4 1.6m-.3 .4l1.4 .4l-.9-1.2zM116.5 226.1l2 1.5m-.3 .4l1.3 .4l-.7-1.1zM201.9 226.1l-1.5 1.4m-.3-.3l-.5 1l1-.4zM209.7 226.1l-1.6 2.1m-.4-.3l-.4 1.3l1.2-.8zM217.5 226.1l-1.7 2.9m-.5-.3l-.3 1.7l1.3-1.2zM225.2 226.1l-1.4 3.6m-.6-.2l-.1 2l1.3-1.5zM233 226.1l-.9 3.7m-.6-.1l.2 2l1-1.7zM240.8 226.1l-.8 2.9m-.5-.1l.1 1.6l.9-1.3zM248.5 226.1l-1 2.4m-.4-.2l-.1 1.4l.9-1zM256.3 226.1l-1.3 2.3m-.4-.2l-.2 1.3l1-.9zM264.1 226.1l-1.7 2m-.4-.3l-.5 1.3l1.2-.7zM271.8 226.1l-1.8 1.4m-.3-.3l-.6 1l1.1-.4zM295.1 226.1l.8-2.9m.5 .1l-.1-1.5l-.9 1.3zM302.9 226.1l1.1-4m.6 .2l-.1-2.2l-1.2 1.8zM310.7 226.1l1.1-5.5m.8 .2l-.3-2.9l-1.4 2.6zM318.4 226.1l.4-5.5m.8 .1l-.7-2.8l-1 2.6zM380.6 226.1l-1.1-2.4m.4-.2l-1-1l.1 1.4zM388.3 226.1l-1.8-2m.3-.3l-1.2-.7l.5 1.3zM396.1 226.1l-3-2.2m.4-.5l-1.8-.6l1.1 1.6zM403.9 226.1l-2.8-1m.2-.5l-1.6 0l1.2 1zM411.6 226.1l-2 .8m-.2-.4l-.8 .8l1.1-.1zM419.4 226.1l-.2 2.1m-.4 0l.3 1l.5-1zM427.2 226.1l2 1.1m-.2 .3l1.2 .2l-.8-.9zM434.9 226.1l2.7-1.6m.3 .4l1.1-1.2l-1.6 .3zM442.7 226.1l2.7-2.3m.4 .4l1-1.6l-1.7 .7zM450.5 226.1l2.6-2.7m.4 .4l.8-1.7l-1.7 .9zM458.2 226.1l2.3-2.8m.5 .4l.7-1.8l-1.6 1zM466 226.1l2.1-2.8m.5 .3l.6-1.7l-1.5 1zM15.5 234.2l.5 3.2m-.5 .1l.8 1.5l.3-1.6zM23.3 234.2l.4 3.1m-.5 .1l.7 1.5l.3-1.6zM31.1 234.2l.5 2.6m-.4 .1l.7 1.2l.2-1.4zM54.4 234.2l.1-2.6m.4 0l-.4-1.3l-.5 1.3zM62.1 234.2l-.4-3m.5-.1l-.7-1.4l-.3 1.6zM69.9 234.2l-.7-2.8m.5-.1l-.8-1.2l-.1 1.5zM77.7 234.2l-.7-1.8m.3-.1l-.7-.8l0 1zM101 234.2l.9 2.1m-.4 .2l.8 .9l0-1.2zM108.7 234.2l.5 2.2m-.4 .1l.7 1l.1-1.2zM116.5 234.2l-.2 2.2m-.4 0l.3 1.1l.5-1zM194.2 234.2l-1.7 .8m-.2-.3l-.7 .7l1-.1zM201.9 234.2l-1.8 1.6m-.3-.3l-.6 1.1l1.2-.5zM209.7 234.2l-1.9 2.3m-.4-.3l-.5 1.4l1.3-.8zM217.5 234.2l-1.8 2.9m-.5-.3l-.4 1.7l1.4-1.1zM225.2 234.2l-1.5 3.3m-.5-.2l-.2 1.8l1.2-1.4zM233 234.2l-1 3.3m-.5-.2l0 1.8l1-1.5zM240.8 234.2l-.9 3.1m-.5-.2l0 1.7l1-1.4zM248.5 234.2l-1.4 2.7m-.5-.2l-.2 1.6l1.2-1.1zM256.3 234.2l-2 2.5m-.4-.3l-.6 1.6l1.4-.9zM264.1 234.2l-2.2 2m-.3-.4l-.8 1.4l1.4-.6zM271.8 234.2l-2.2 1m-.2-.4l-.9 .9l1.3-.1zM279.6 234.2l-1.8-.6m.1-.3l-1 0l.8 .6zM287.4 234.2l-.8-2.3m.4-.1l-.8-1l0 1.2zM295.1 234.2l.1-3.4m.6 0l-.5-1.7l-.6 1.7zM302.9 234.2l.6-4.3m.7 .1l-.4-2.2l-.9 2zM310.7 234.2l.6-5.1m.8 .1l-.5-2.6l-1.1 2.4zM318.4 234.2l.4-4.9m.8 .1l-.6-2.5l-.9 2.4zM388.3 234.2l-1.4-2.3m.4-.2l-1.1-.9l.3 1.4zM396.1 234.2l-4-6.6m1-.6l-3-2.7l1 3.9zM403.9 234.2l-.8-2.2m.4-.1l-.8-.9l0 1.2zM427.2 234.2l2.7-.4m.1 .5l1.2-.7l-1.4-.2zM434.9 234.2l2.8-1.7m.3 .5l1.1-1.3l-1.7 .4zM442.7 234.2l2.6-2.2m.4 .4l.9-1.5l-1.6 .7zM450.5 234.2l2.5-2.5m.4 .4l.8-1.6l-1.6 .8zM458.2 234.2l2.3-2.6m.4 .4l.7-1.7l-1.5 .9zM466 234.2l2-2.6m.4 .3l.6-1.6l-1.4 .9zM7.8 242.4l.1 2.6m-.4 0l.5 1.2l.4-1.3zM15.5 242.4l.1 3.2m-.5 0l.6 1.6l.5-1.6zM23.3 242.4l.2 3.1m-.5 0l.6 1.5l.4-1.6zM31.1 242.4l.4 2.5m-.4 .1l.6 1.1l.2-1.3zM54.4 242.4l.4-2.2m.4 .1l-.2-1.1l-.6 1zM62.1 242.4l-.1-2.7m.5 0l-.5-1.3l-.4 1.4zM69.9 242.4l-.4-2.7m.5-.1l-.7-1.2l-.3 1.4zM77.7 242.4l-.4-2.1m.4-.1l-.6-.9l-.2 1.1zM101 242.4l.1 2.2m-.4 0l.5 1.1l.3-1.1zM108.7 242.4l-.3 2.7m-.5-.1l.3 1.4l.6-1.3zM116.5 242.4l-.9 2.6m-.4-.2l0 1.4l.9-1.1zM124.3 242.4l-1.6 1.8m-.3-.3l-.5 1.1l1.1-.6zM186.4 242.4l-1.9 .4m-.1-.4l-.9 .6l1 .1zM194.2 242.4l-2 1m-.2-.4l-.8 .8l1.2-.1zM201.9 242.4l-2 1.8m-.3-.3l-.7 1.2l1.3-.5zM209.7 242.4l-2.1 2.3m-.4-.3l-.6 1.5l1.4-.8zM217.5 242.4l-2 2.7m-.4-.3l-.5 1.7l1.4-1zM225.2 242.4l-1.7 2.9m-.5-.3l-.4 1.7l1.3-1.2zM233 242.4l-1.3 3m-.5-.2l-.1 1.7l1.1-1.3zM240.8 242.4l-1.1 3.2m-.5-.2l0 1.7l1-1.4zM248.5 242.4l-1.4 3.2m-.5-.2l-.2 1.8l1.2-1.4zM256.3 242.4l-1.9 2.9m-.5-.3l-.5 1.7l1.4-1.1zM264.1 242.4l-2.3 2m-.3-.4l-.8 1.4l1.5-.6zM271.8 242.4l-2.4 .5m-.1-.4l-1.1 .7l1.3 .1zM279.6 242.4l-1.9-1.3m.2-.3l-1.2-.3l.7 1zM287.4 242.4l-1-2.9m.5-.2l-1-1.2l0 1.6zM295.1 242.4l-.2-3.9m.6 0l-.7-1.9l-.5 2zM302.9 242.4l.3-4.7m.7 0l-.6-2.4l-.9 2.3zM310.7 242.4l.5-5m.8 .1l-.5-2.6l-1 2.4zM318.4 242.4l.5-4.7m.7 .1l-.5-2.4l-1 2.2zM388.3 242.4l1.7-2.1m.4 .3l.5-1.3l-1.2 .7zM396.1 242.4l4.5-8.5m1.2 .6l1-4.9l-3.4 3.6zM403.9 242.4l1.8-2.7m.4 .3l.5-1.6l-1.3 1zM411.6 242.4l2.3-1.4m.2 .4l.9-1.1l-1.4 .3zM419.4 242.4l2.4-.5m.1 .4l1.1-.7l-1.3-.2zM427.2 242.4l2.4-.8m.1 .4l1.1-.8l-1.4 0zM434.9 242.4l2.2-1.7m.3 .4l.8-1.2l-1.4 .4zM442.7 242.4l2-2.3m.4 .3l.6-1.4l-1.4 .8zM450.5 242.4l1.9-2.5m.4 .3l.5-1.6l-1.4 .9zM458.2 242.4l1.9-2.5m.4 .3l.5-1.6l-1.3 .9zM466 242.4l1.7-2.4m.4 .3l.5-1.5l-1.3 .9zM0 250.6l-1.2 1.9m-.3-.2l-.3 1.1l.9-.7zM7.8 250.6l-1.3 2.4m-.4-.2l-.2 1.4l1.1-1zM15.5 250.6l-1 3m-.5-.2l0 1.7l1-1.3zM23.3 250.6l-.5 2.9m-.5-.1l.2 1.5l.7-1.3zM31.1 250.6l-.1 2.2m-.4 0l.4 1.1l.4-1.1zM54.4 250.6l0-1.9m.4 0l-.3-.9l-.4 .9zM62.1 250.6l-.3-2.5m.4-.1l-.6-1.2l-.3 1.3zM69.9 250.6l-.6-2.6m.4-.1l-.7-1.2l-.2 1.4zM77.7 250.6l-.6-2.2m.4-.1l-.7-1l-.1 1.2zM101 250.6l-.2 2.5m-.4 0l.3 1.3l.5-1.2zM108.7 250.6l-.5 3m-.5-.1l.3 1.6l.7-1.4zM116.5 250.6l-.7 3m-.5-.1l.1 1.6l.9-1.3zM124.3 250.6l-1.1 2.2m-.4-.2l-.1 1.3l.9-.9zM139.8 250.6l-.7-1.8m.3-.1l-.7-.7l0 1zM178.6 250.6l-1.9 .5m-.1-.4l-.9 .6l1 .1zM186.4 250.6l-2.2 .7m-.1-.4l-1 .8l1.2 0zM194.2 250.6l-2.4 1.1m-.2-.4l-1 1l1.4-.1zM201.9 250.6l-2.5 1.9m-.3-.4l-.9 1.3l1.5-.5zM209.7 250.6l-2.4 2.3m-.4-.4l-.8 1.5l1.6-.7zM217.5 250.6l-2.3 2.5m-.4-.4l-.7 1.6l1.5-.8zM225.2 250.6l-2 2.5m-.4-.3l-.6 1.6l1.4-.9zM233 250.6l-1.6 2.6m-.4-.3l-.3 1.6l1.2-1zM240.8 250.6l-1.2 3.2m-.5-.2l-.1 1.7l1.1-1.4zM248.5 250.6l-1 3.5m-.6-.2l.1 1.9l1.1-1.6zM256.3 250.6l-1.2 3.3m-.5-.2l0 1.8l1.1-1.4zM264.1 250.6l-1.7 2.2m-.4-.3l-.4 1.4l1.2-.8zM279.6 250.6l-1.3-1.9m.3-.2l-1-.7l.3 1.2zM287.4 250.6l-.7-3.3m.5-.1l-.9-1.5l-.2 1.8zM295.1 250.6l-.2-4.3m.7 0l-.8-2.1l-.6 2.2zM302.9 250.6l.3-5.3m.8 0l-.7-2.7l-1 2.6zM310.7 250.6l.7-5.2m.8 .1l-.5-2.7l-1.1 2.5zM388.3 250.6l2.1-1.7m.3 .4l.7-1.2l-1.3 .5zM396.1 250.6l7.8-6.2m.9 1.1l3-4.2l-4.7 2zM403.9 250.6l3.1-2.3m.4 .5l1.1-1.6l-1.9 .6zM411.6 250.6l2.8-.9m.2 .5l1.2-.9l-1.5 0zM419.4 250.6l2.2-.2m0 .4l1.1-.5l-1.1-.3zM434.9 250.6l1.2-1.6m.3 .2l.3-1l-.9 .6zM442.7 250.6l.9-2.4m.4 .2l.1-1.3l-.9 1zM450.5 250.6l1-2.7m.5 .2l0-1.5l-.9 1.2zM458.2 250.6l1.2-2.6m.4 .2l.1-1.5l-1 1.1zM466 250.6l1.1-2.2m.4 .2l.1-1.3l-.9 .9zM0 258.7l-1.6 2m-.3-.3l-.5 1.2l1.1-.7zM7.8 258.7l-1.6 2.4m-.4-.3l-.4 1.5l1.2-.9zM15.5 258.7l-1.4 2.7m-.4-.2l-.3 1.6l1.2-1.1zM23.3 258.7l-1.1 2.4m-.4-.2l-.1 1.4l.9-1zM31.1 258.7l-.6 1.8m-.3-.1l0 1l.6-.8zM62.1 258.7l-.9-2.1m.4-.2l-.8-.9l.1 1.2zM69.9 258.7l-1.2-2.4m.4-.2l-1-1l.2 1.4zM77.7 258.7l-1.3-2.2m.4-.2l-1-.9l.2 1.3zM85.4 258.7l-1.2-1.5m.3-.2l-.9-.5l.3 1zM101 258.7l-.9 2.6m-.4-.1l0 1.4l.9-1.1zM108.7 258.7l-.7 3m-.5-.1l.1 1.6l.9-1.4zM116.5 258.7l-.4 2.9m-.5-.1l.3 1.5l.7-1.4zM124.3 258.7l.1 2m-.4 0l.4 1l.3-1zM170.9 258.7l-1.9 .8m-.1-.3l-.8 .7l1.1 0zM178.6 258.7l-2.2 .9m-.2-.4l-.9 .8l1.2-.1zM186.4 258.7l-2.4 1.1m-.2-.4l-1 1l1.4-.1zM194.2 258.7l-2.7 1.4m-.2-.4l-1.1 1.1l1.5-.2zM201.9 258.7l-2.7 1.9m-.3-.5l-1 1.4l1.7-.5zM209.7 258.7l-2.7 2.2m-.4-.4l-.9 1.5l1.7-.6zM217.5 258.7l-2.5 2.2m-.4-.4l-.9 1.5l1.6-.7zM225.2 258.7l-2.2 2.1m-.4-.4l-.7 1.4l1.4-.7zM233 258.7l-1.6 2.2m-.4-.3l-.4 1.3l1.1-.8zM240.8 258.7l-.7 2.7m-.5-.1l.1 1.5l.8-1.2zM248.5 258.7l.2 3.3m-.5 0l.6 1.6l.4-1.6zM256.3 258.7l.7 3.4m-.6 .1l.9 1.5l.2-1.8zM264.1 258.7l1.1 2.5m-.4 .2l1 1l-.1-1.4zM279.6 258.7l.4-2m.4 .1l-.2-1l-.5 .9zM287.4 258.7l0-3.5m.6 0l-.6-1.7l-.6 1.7zM295.1 258.7l.1-4.9m.8 0l-.7-2.4l-.8 2.4zM302.9 258.7l.4-5.9m.9 .1l-.7-3l-1.1 2.8zM310.7 258.7l.7-5.3m.8 .1l-.5-2.7l-1.1 2.5zM318.4 258.7l.5-4.3m.7 .1l-.4-2.2l-.9 2zM388.3 258.7l1.7-2m.4 .3l.5-1.3l-1.2 .7zM396.1 258.7l7.8-6.9m.9 1l2.8-4.4l-4.7 2.3zM403.9 258.7l2.9-1.5m.3 .5l1.2-1.2l-1.7 .3zM411.6 258.7l2 .2m0 .4l1-.3l-1-.5zM442.7 258.7l-.7-2.4m.4-.1l-.8-1.1l-.1 1.3zM450.5 258.7l-.5-2.9m.5-.1l-.8-1.4l-.2 1.5zM458.2 258.7l-.2-2.8m.5 0l-.6-1.3l-.4 1.4zM466 258.7l-.3-2.1m.4-.1l-.5-1l-.2 1.1zM0 266.9l-1.6 2m-.4-.3l-.4 1.3l1.1-.7zM7.8 266.9l-1.5 2.3m-.4-.3l-.3 1.4l1.1-.9zM15.5 266.9l-1.2 2.5m-.4-.2l-.2 1.4l1-1zM23.3 266.9l-.9 2m-.4-.2l-.1 1.2l.8-.8zM62.1 266.9l-1.5-1.7m.3-.3l-1.1-.6l.4 1.1zM69.9 266.9l-1.9-2m.3-.3l-1.3-.7l.6 1.3zM77.7 266.9l-2.2-1.9m.3-.4l-1.4-.6l.7 1.3zM85.4 266.9l-2.5-1.2m.2-.4l-1.4-.2l1 1zM93.2 266.9l-2.7 .7m-.1-.5l-1.2 .8l1.4 .1zM101 266.9l-1.9 2.2m-.4-.3l-.6 1.4l1.3-.7zM108.7 266.9l-1.3 2.6m-.4-.2l-.2 1.5l1.1-1.1zM116.5 266.9l-.7 2.4m-.4-.1l.1 1.3l.8-1.1zM155.3 266.9l-1.9 .3m-.1-.4l-.9 .5l1 .2zM163.1 266.9l-2 .9m-.2-.4l-.8 .8l1.1-.1zM170.9 266.9l-2.1 1.1m-.2-.4l-.8 .9l1.2-.2zM178.6 266.9l-2.3 1.2m-.2-.4l-.9 1l1.3-.2zM186.4 266.9l-2.4 1.4m-.2-.4l-1 1.1l1.4-.3zM194.2 266.9l-2.5 1.6m-.3-.4l-1 1.2l1.5-.4zM201.9 266.9l-2.5 2m-.3-.4l-.9 1.4l1.6-.5zM209.7 266.9l-2.5 2.1m-.3-.4l-.9 1.4l1.6-.6zM217.5 266.9l-2.4 1.9m-.3-.4l-.8 1.3l1.5-.6zM225.2 266.9l-2 1.5m-.3-.3l-.7 1.1l1.2-.4zM240.8 266.9l.8 1.7m-.3 .1l.7 .7l-.1-1zM248.5 266.9l2 2.2m-.4 .3l1.4 .8l-.6-1.4zM256.3 266.9l2.9 2.5m-.4 .5l1.8 .8l-1-1.7zM264.1 266.9l3.3 2m-.3 .5l2 .4l-1.3-1.5zM271.8 266.9l3.2 .7m-.1 .5l1.7-.2l-1.5-.9zM279.6 266.9l2.6-.8m.1 .4l1.1-.8l-1.4 0zM287.4 266.9l1.4-3.1m.5 .2l.2-1.8l-1.2 1.3zM295.1 266.9l1.2-5.1m.8 .2l-.2-2.7l-1.4 2.3zM302.9 266.9l1-5.8m.9 .1l-.4-3l-1.4 2.7zM310.7 266.9l.6-5.2m.8 .1l-.5-2.6l-1.1 2.5zM388.3 266.9l.7-2.6m.4 .1l-.1-1.4l-.8 1.1zM396.1 266.9l4.4-9.9m1.3 .6l.7-5.1l-3.3 4zM411.6 266.9l-.2 1.9m-.4 0l.2 1l.5-.9zM419.4 266.9l-1.5 1.9m-.3-.3l-.4 1.2l1.1-.7zM427.2 266.9l-2.3 .8m-.1-.4l-1 .8l1.3 0zM434.9 266.9l-2.5-1m.2-.4l-1.4 0l1.1 .9zM442.7 266.9l-2.2-2.2m.4-.4l-1.5-.7l.7 1.5zM450.5 266.9l-2.1-2.8m.5-.3l-1.5-1.1l.6 1.7zM458.2 266.9l-2.1-2.7m.4-.4l-1.5-1l.6 1.7zM466 266.9l-2-2m.3-.3l-1.3-.7l.6 1.3zM0 275l-1.5 2m-.4-.3l-.4 1.3l1.1-.7zM7.8 275l-1.3 2.2m-.4-.2l-.3 1.3l1-.9zM15.5 275l-1 2.2m-.4-.2l-.1 1.3l.9-.9zM23.3 275l-.8 1.9m-.3-.1l-.1 1.1l.7-.8zM62.1 275l-1.9-1.1m.2-.3l-1.2-.2l.8 .9zM69.9 275l-2.3-1.5m.3-.4l-1.4-.3l.9 1.1zM77.7 275l-2.6-1.5m.3-.4l-1.5-.3l1 1.2zM85.4 275l-2.9-.9m.2-.5l-1.6 0l1.3 .9zM93.2 275l-2.9 .3m-.1-.5l-1.4 .7l1.5 .3zM101 275l-2.5 1.5m-.2-.4l-1 1.1l1.5-.3zM108.7 275l-1.9 2m-.3-.3l-.6 1.3l1.3-.7zM116.5 275l-1.3 1.9m-.3-.2l-.3 1.2l1-.7zM147.6 275l-1.9-.3m0-.4l-1 .2l.9 .5zM155.3 275l-2.1 .4m-.1-.4l-1 .6l1.1 .2zM163.1 275l-2.1 1m-.2-.4l-.9 .8l1.2-.1zM170.9 275l-2.1 1.3m-.2-.4l-.8 1l1.3-.2zM178.6 275l-2.2 1.4m-.2-.4l-.8 1.1l1.3-.3zM186.4 275l-2.2 1.5m-.3-.4l-.8 1.1l1.3-.4zM194.2 275l-2.1 1.7m-.3-.4l-.7 1.2l1.3-.5zM201.9 275l-2 2m-.3-.3l-.6 1.3l1.3-.7zM209.7 275l-1.8 2.1m-.4-.3l-.5 1.4l1.3-.7zM217.5 275l-1.7 1.8m-.3-.3l-.5 1.2l1.2-.6zM240.8 275l2.4-.4m.1 .4l1.1-.6l-1.2-.2zM248.5 275l3.5 .8m-.1 .6l1.9-.2l-1.6-.9zM256.3 275l4.2 1.7m-.3 .7l2.3 .2l-1.8-1.5zM264.1 275l4.6 1.8m-.3 .7l2.5 .2l-2-1.6zM271.8 275l4.5 1.1m-.2 .7l2.4-.2l-2.1-1.2zM279.6 275l4.3-.1m0 .7l2.1-.7l-2.1-.6zM287.4 275l4.4-2.3m.3 .7l1.8-1.8l-2.5 .4zM295.1 275l3.4-4.6m.7 .5l1-2.8l-2.4 1.7zM302.9 275l2.2-5m.8 .3l.3-2.8l-1.9 2.1zM310.7 275l1.3-4.6m.7 .2l-.1-2.5l-1.4 2.1zM388.3 275l-.9-2.5m.4-.2l-.9-1.1l0 1.4zM396.1 275l-6.9-8.8m1.1-.9l-4.2-3.1l2 4.8zM403.9 275l-3.2 .3m-.1-.5l-1.5 .7l1.6 .4zM411.6 275l-2.8 2.2m-.4-.5l-1 1.6l1.7-.6zM419.4 275l-2.9 2.2m-.4-.5l-1.1 1.6l1.8-.6zM427.2 275l-3.4 1m-.2-.5l-1.5 1.1l1.8 0zM434.9 275l-3.3-.9m.2-.5l-1.8 .1l1.5 1zM442.7 275l-3-2.2m.4-.5l-1.8-.6l1.1 1.6zM450.5 275l-2.8-2.8m.4-.4l-1.8-.9l.9 1.8zM458.2 275l-2.7-2.7m.4-.4l-1.8-.9l.9 1.8zM466 275l-2.6-2.3m.4-.4l-1.6-.7l.9 1.6zM0 283.1l-1.4 2m-.3-.2l-.3 1.2l1-.7zM7.8 283.1l-1.2 2m-.4-.2l-.2 1.2l.9-.8zM15.5 283.1l-1 2m-.4-.2l-.1 1.1l.8-.8zM23.3 283.1l-.8 1.8m-.3-.2l-.1 1l.7-.7zM62.1 283.1l-1.9-.5m.1-.4l-1 .1l.9 .6zM69.9 283.1l-2.3-1m.2-.4l-1.3-.1l1 .9zM77.7 283.1l-2.5-1.3m.2-.4l-1.5-.2l1 1.1zM85.4 283.1l-2.8-.8m.1-.5l-1.5 .1l1.2 .8zM93.2 283.1l-2.8 .1m0-.5l-1.4 .5l1.4 .4zM101 283.1l-2.5 .9m-.2-.4l-1.1 .9l1.4 0zM108.7 283.1l-2.1 1.4m-.2-.4l-.8 1.1l1.3-.3zM116.5 283.1l-1.7 1.4m-.3-.3l-.6 1l1.1-.4zM155.3 283.1l-2 .6m-.1-.4l-.9 .6l1.1 .1zM163.1 283.1l-2 1m-.2-.4l-.8 .8l1.1-.1zM170.9 283.1l-1.9 1.3m-.2-.3l-.7 1l1.2-.3zM178.6 283.1l-1.8 1.4m-.3-.3l-.6 1l1.1-.4zM186.4 283.1l-1.7 1.4m-.3-.3l-.6 1l1.1-.4zM194.2 283.1l-1.4 1.7m-.3-.3l-.4 1.1l1-.6zM201.9 283.1l-1 2m-.4-.2l-.2 1.2l.9-.8zM209.7 283.1l-.6 2.1m-.4-.1l.1 1.1l.7-.9zM233 283.1l1.8-2.4m.4 .3l.5-1.5l-1.3 .9zM240.8 283.1l3-2m.3 .5l1.2-1.5l-1.8 .5zM248.5 283.1l4.2-.5m.1 .7l2-.9l-2.1-.4zM256.3 283.1l4.8 1.3m-.2 .7l2.5-.1l-2.2-1.4zM264.1 283.1l5 1.7m-.3 .8l2.7 .1l-2.2-1.6zM271.8 283.1l5.2 1.1m-.2 .8l2.7-.3l-2.4-1.3zM279.6 283.1l5.3-.2m0 .8l2.6-.9l-2.7-.7zM287.4 283.1l5.4-1.9m.3 .8l2.4-1.7l-2.9 .1zM295.1 283.1l4.3-3m.5 .7l1.7-2.2l-2.6 .8zM302.9 283.1l2.9-3.6m.6 .5l.9-2.3l-2 1.3zM388.3 283.1l-2.1-1.7m.3-.4l-1.3-.5l.7 1.2zM396.1 283.1l-10.7-4.3m.5-1.3l-5.2-.6l4.1 3.2zM403.9 283.1l-4.2 .1m0-.7l-2.1 .7l2.1 .6zM411.6 283.1l-3.8 1.7m-.3-.6l-1.6 1.4l2.1-.2zM419.4 283.1l-3.3 2.1m-.3-.5l-1.3 1.6l2-.5zM427.2 283.1l-3.2 1.3m-.2-.5l-1.4 1.2l1.8-.1zM434.9 283.1l-3-1.4m.2-.5l-1.7-.2l1.3 1.2zM442.7 283.1l-2.8-2.4m.4-.5l-1.8-.7l1 1.6zM450.5 283.1l-2.7-2.8m.4-.4l-1.8-.9l.9 1.8zM458.2 283.1l-2.7-2.8m.5-.4l-1.8-1l.9 1.8zM466 283.1l-2.6-2.6m.4-.4l-1.7-.9l.9 1.7zM0 291.2l-1.3 1.9m-.3-.2l-.3 1.1l1-.7zM7.8 291.2l-1.1 1.9m-.3-.2l-.2 1.1l.9-.7zM15.5 291.2l-1 1.8m-.3-.2l-.2 1.1l.8-.7zM23.3 291.2l-.9 1.7m-.3-.2l-.1 1l.8-.6zM77.7 291.2l-2.1-.9m.2-.4l-1.2-.1l.9 .8zM85.4 291.2l-2.4-.6m.1-.4l-1.3 .1l1.1 .7zM93.2 291.2l-2.5 0m0-.4l-1.2 .4l1.2 .4zM101 291.2l-2.3 .6m-.1-.4l-1 .7l1.2 .1zM108.7 291.2l-2 1m-.2-.4l-.8 .8l1.2-.1zM116.5 291.2l-1.7 1m-.2-.3l-.6 .8l1-.2zM163.1 291.2l-1.6 1m-.2-.3l-.6 .8l1-.2zM170.9 291.2l-1.5 1.3m-.2-.3l-.5 .9l.9-.3zM217.5 291.2l1.9 .5m-.1 .3l1-.1l-.8-.6zM225.2 291.2l2.6-1.4m.2 .4l1-1.1l-1.5 .2zM233 291.2l2.6-2.8m.4 .4l.8-1.8l-1.7 1zM240.8 291.2l2.7-2.9m.5 .4l.9-1.9l-1.8 1zM248.5 291.2l3.2-1.6m.3 .5l1.3-1.3l-1.8 .3zM256.3 291.2l3.7 1.1m-.2 .6l2-.1l-1.6-1.1zM264.1 291.2l4 1.3m-.2 .6l2.2 0l-1.8-1.3zM271.8 291.2l4.3 .8m-.1 .7l2.2-.3l-2-1.1zM279.6 291.2l4.5-.2m0 .7l2.2-.8l-2.2-.6zM287.4 291.2l4.1-1.3m.2 .6l1.8-1.3l-2.2 0zM295.1 291.2l3.6-1.9m.3 .6l1.5-1.5l-2.1 .4zM388.3 291.2l-6.2-2.8m.4-.9l-3.5-.5l2.7 2.3zM396.1 291.2l-11.4-2.9m.3-1.4l-5.2 .1l4.5 2.6zM403.9 291.2l-3.8-.1m0-.6l-1.9 .6l1.8 .6zM411.6 291.2l-3.5 1.1m-.2-.6l-1.5 1.1l1.9 0zM419.4 291.2l-2.9 1.5m-.3-.5l-1.2 1.2l1.7-.3zM427.2 291.2l-2.3 .7m-.1-.4l-1 .8l1.2 0zM434.9 291.2l-2-1.4m.2-.4l-1.2-.3l.8 1zM442.7 291.2l-2.1-2.4m.4-.4l-1.4-.8l.6 1.5zM450.5 291.2l-2.3-2.8m.5-.4l-1.6-1l.7 1.8zM458.2 291.2l-2.3-2.9m.5-.4l-1.6-1.1l.7 1.8zM466 291.2l-2.3-2.8m.5-.4l-1.6-1l.7 1.7zM0 299.3l-1.2 1.8m-.3-.2l-.3 1.1l.9-.7zM7.8 299.3l-1.1 1.8m-.3-.2l-.2 1.1l.9-.7zM15.5 299.3l-1 1.7m-.3-.2l-.2 1l.8-.7zM85.4 299.3l-2-.4m.1-.4l-1.1 .2l.9 .6zM93.2 299.3l-2.1 0m0-.4l-1 .4l1 .4zM101 299.3l-2 .4m-.1-.4l-.9 .6l1.1 .2zM108.7 299.3l-1.8 .7m-.1-.3l-.8 .7l1 0zM217.5 299.3l2.2-.6m.1 .4l1-.7l-1.2-.1zM225.2 299.3l2.5-1.8m.3 .4l.9-1.3l-1.5 .5zM233 299.3l2.3-2.7m.4 .4l.7-1.7l-1.6 1zM240.8 299.3l1.9-2.9m.5 .3l.5-1.7l-1.4 1.1zM248.5 299.3l1.8-1.8m.3 .3l.6-1.2l-1.2 .6zM256.3 299.3l2.4 .2m0 .4l1.2-.3l-1.2-.5zM264.1 299.3l3.1 .8m-.1 .5l1.6-.1l-1.4-.9zM271.8 299.3l3.5 .5m-.1 .6l1.8-.3l-1.6-.8zM279.6 299.3l3.6-.2m0 .6l1.8-.7l-1.8-.5zM287.4 299.3l3.5-.9m.2 .6l1.6-1l-1.9-.1zM295.1 299.3l3.1-1.5m.2 .5l1.3-1.3l-1.8 .2zM302.9 299.3l2.7-2.1m.3 .4l1-1.5l-1.7 .6zM372.8 299.3l-1.8-1.9m.3-.3l-1.2-.6l.6 1.2zM380.6 299.3l-2.3-1.5m.2-.4l-1.4-.3l.9 1.1zM388.3 299.3l-4.3-1.5m.2-.7l-2.4-.1l1.9 1.4zM396.1 299.3l-9.1-1.7m.2-1.3l-4.7 .5l4.2 2.1zM403.9 299.3l-3 0m0-.5l-1.5 .5l1.5 .5zM411.6 299.3l-2.8 .6m-.1-.5l-1.3 .8l1.5 .2zM419.4 299.3l-2.4 .8m-.1-.4l-1 .8l1.3 0zM434.9 299.3l-1.5-1.3m.2-.3l-1-.4l.5 .9zM442.7 299.3l-1.5-2.2m.4-.3l-1.1-.8l.4 1.4zM450.5 299.3l-1.7-2.7m.4-.3l-1.3-1.1l.4 1.6zM458.2 299.3l-1.9-2.9m.5-.3l-1.4-1.1l.4 1.7zM466 299.3l-2-2.8m.5-.3l-1.4-1.1l.5 1.7zM314 62l1.3-6m.9 .2l-.2-3.2l-1.6 2.8zM314 50l1.3-6m.9 .2l-.2-3.2l-1.6 2.8zM304 22l3.3 6m-.9 .5l2.5 2.5l-.8-3.5z" fill="#000" stroke-width=".95"/>
<path d="M411.6 17.1l-1.6-1.5M403.9 25.7l1.4-2.3M411.6 25.7l1.1 1.7M419.4 25.7l-1.8 1.2M434.9 85l2 .4M450.5 110.2l-2.4-1.4M170.9 118.5l2.4-.7M310.7 118.5l2.6-.8M450.5 118.5l-2.2 1.6M163.1 126.9l1.6 1.4M170.9 126.9l1.3-1.5M310.7 126.9l2.4 1M411.6 126.9l2.1-.4M458.2 126.9l-.2-2.7M163.1 135.2l2 1.5M170.9 135.2l2.3-1.3M217.5 135.2l1.3 1.5M256.3 135.2l-1.5 2.2M310.7 135.2l1.4 1.7M318.4 135.2l1.4-2.1M458.2 135.2l1.3-1.5M147.6 143.5l.9 2.6M155.3 143.5l1 2.5M163.1 143.5l1.5 1.3M170.9 143.5l1.6-1.2M178.6 143.5l.8-2.5M186.4 143.5l-.1-2.6M194.2 143.5l-1.5-1.9M310.7 143.5l-.9 1.8M318.4 143.5l-1.6-1.9M458.2 143.5l1.5-1.4M466 143.5l-.1-2.7M132 151.9l-.4 2.3M139.8 151.9l-.4 2.6M147.6 151.9l-.6 2.6M155.3 151.9l-.4 2.3M163.1 151.9l-.1 2M170.9 151.9l.3-2M178.6 151.9l-.4-2M186.4 151.9l-1.6-1.4M310.7 151.9l-1.4 2.1M318.4 151.9l-2.2-1.1M411.6 151.9l2 .2M458.2 151.9l-1.9-.5M466 151.9l-1.5-2.3M124.3 160.1l-2.5 .8M132 160.1l-2 1.9M155.3 160.1l-1.3 2M163.1 160.1l-1.9 .7M170.9 160.1l-1.1-1.7M178.6 160.1l-1.2-1.6M186.4 160.1l-2 .2M310.7 160.1l-1.2 2.5M318.4 160.1l-1.9-.6M147.6 168.4l-1.4 2.1M155.3 168.4l-1 1.9M163.1 168.4l-1.6-1.2M170.9 168.4l-.1-2M178.6 168.4l-.5-1.9M186.4 168.4l-.9 1.8M318.4 168.4l-1.4-1.5M62.1 176.7l-.8 2.3M139.8 176.7l-2.5-.2M147.6 176.7l-1.3 1.5M155.3 176.7l1.4 1.4M163.1 176.7l1.9-.6M170.9 176.7l1.5-1.4M178.6 176.7l1.9-.7M186.4 176.7l.3 2M62.1 185l-2 1.9M147.6 185l.5-1.9M155.3 185l2-.3M163.1 185l2-.4M170.9 185l1.9-.6M178.6 185l2 .4M186.4 185l.7 2M233 185l2.2-.5M240.8 185l-1.6-1.3M147.6 193.2l.6-2.1M155.3 193.2l1.7-1.1M163.1 193.2l1.9-.6M170.9 193.2l2-.3M178.6 193.2l1.7 1M186.4 193.2l1 1.9M248.5 193.2l.2 2M256.3 193.2l-1.2 2.1M295.1 193.2l-1.4-1.8M116.5 201.4l.9-1.8M147.6 201.4l-.6-2.2M155.3 201.4l-.6-1.9M163.1 201.4l-.4-2M178.6 201.4l1.2 1.6M186.4 201.4l1 1.7M194.2 201.4l1.6 2.2M256.3 201.4l.4 2.6M264.1 201.4l.5 2.6M77.7 209.7l-1.6 1.5M155.3 209.7l-1.6-1.3M163.1 209.7l-1.8-.9M170.9 209.7l-1.9-.7M178.6 209.7l-2-.2M186.4 209.7l-.8 1.8M194.2 209.7l.7 1.9M201.9 209.7l1.1 1.9M209.7 209.7l1.3 2.4M264.1 209.7l-.6 2.5M341.7 209.7l1.8-1.4M349.5 209.7l1.5-1.9M357.3 209.7l1-2.5M77.7 217.9l-1.6-1.3M155.3 217.9l-2-1.4M163.1 217.9l-2-.8M170.9 217.9l-1.9-.7M178.6 217.9l-1.9-.6M186.4 217.9l-2 .1M194.2 217.9l-1.6 1.2M201.9 217.9l-1.2 1.9M279.6 217.9l-.7 2.4M287.4 217.9l2-.1M349.5 217.9l1.1-1.8M357.3 217.9l.8-2.1M365 217.9l.3-2.3M372.8 217.9l-.3-2.4M434.9 217.9l1.8-.9M38.8 226.1l-.5 2M46.6 226.1l-1.6-1.9M77.7 226.1l-1.5-2.2M85.4 226.1l0 2M124.3 226.1l2.5 1.3M132 226.1l1-1.7M139.8 226.1l-1-2.1M147.6 226.1l-1.7-1.9M155.3 226.1l-1.9-1.3M163.1 226.1l-2-.8M170.9 226.1l-2.1-.8M178.6 226.1l-2-.7M186.4 226.1l-2.1 0M194.2 226.1l-2.1 1M279.6 226.1l-2 .6M287.4 226.1l-.1-2.2M326.2 226.1l.1-2.4M38.8 234.2l1.1 2.1M46.6 234.2l1.2-1.6M93.2 234.2l.9 2.3M124.3 234.2l-1 2.4M132 234.2l-2 .1M139.8 234.2l-1.8-1.5M147.6 234.2l-1.7-1.8M155.3 234.2l-1.7-1.4M163.1 234.2l-1.8-.9M170.9 234.2l-1.9-.7M178.6 234.2l-2.1-.5M186.4 234.2l-2.4 .2M326.2 234.2l.1-2.4M380.6 234.2l-.4-2M411.6 234.2l1-1.7M419.4 234.2l2.8 .3M38.8 242.4l1.2 2M46.6 242.4l1.5-1.3M85.4 242.4l-.3-2M93.2 242.4l.4 2M132 242.4l-2.7-.1M139.8 242.4l-1.9-1.9M147.6 242.4l-1.3-2.1M155.3 242.4l-1.3-1.5M163.1 242.4l-1.8-.8M170.9 242.4l-2-.2M178.6 242.4l-2.5 .1M380.6 242.4l1-1.7M38.8 250.6l.5 1.9M46.6 250.6l1-1.7M85.4 250.6l-.6-1.9M93.2 250.6l0 2M132 250.6l-1.8-1.2M147.6 250.6l-.7-2.4M155.3 250.6l-1.3-1.5M163.1 250.6l-2 0M170.9 250.6l-2.4 .5M271.8 250.6l-2.7 .2M318.4 250.6l.3-2.7M380.6 250.6l1.4-1.5M427.2 250.6l2.6-.9M38.8 258.7l-.7 1.9M46.6 258.7l-1.2-1.6M54.4 258.7l-.9-2.4M93.2 258.7l-1.4 1.8M132 258.7l.8-1.8M139.8 258.7l-.3-2.7M147.6 258.7l-.6-2.4M155.3 258.7l-2-.2M163.1 258.7l-2.3 .8M271.8 258.7l2 .1M419.4 258.7l1.3 1.5M427.2 258.7l-1.8 .9M434.9 258.7l-1.2-2.1M31.1 266.9l-1.2 2.3M38.8 266.9l-1.3 1.5M46.6 266.9l-1.9-.5M54.4 266.9l-1.8-1.7M124.3 266.9l-.4 2.4M132 266.9l-1.7-1M139.8 266.9l-1.2-1.9M147.6 266.9l-2.4-1.4M233 266.9l-1.5 2M318.4 266.9l.3-2.6M403.9 266.9l2.5-.8M31.1 275l-1.2 2.2M38.8 275l-1.4 1.4M46.6 275l-2 .3M54.4 275l-2.3-.9M124.3 275l-1.5 1.9M132 275l-2 .3M139.8 275l-2.1-.7M225.2 275l-2.2 .9M233 275l.9-1.8M318.4 275l.5-2.5M31.1 283.1l-1.2 2.2M38.8 283.1l-1.5 1.6M46.6 283.1l-1.9 .8M54.4 283.1l-2.4 0M124.3 283.1l-2.2 1.4M132 283.1l-2.2 .5M139.8 283.1l-2.4 0M147.6 283.1l-2.8 .2M217.5 283.1l0 2.6M225.2 283.1l1.7-1.1M310.7 283.1l1.1-2.3M318.4 283.1l.7-2.2M31.1 291.2l-1.4 2.2M38.8 291.2l-1.5 1.8M46.6 291.2l-1.8 1.2M54.4 291.2l-2.1 .5M62.1 291.2l-2.4-.2M69.9 291.2l-2.6-1M124.3 291.2l-2.3 1M132 291.2l-2.3 .6M139.8 291.2l-2.4 .4M147.6 291.2l-2.5 .6M155.3 291.2l-2.6 1M178.6 291.2l-1.8 2M186.4 291.2l-1.5 2M194.2 291.2l-1 2.2M201.9 291.2l-.1 2.5M209.7 291.2l1.2 2.2M302.9 291.2l1.8-1.6M310.7 291.2l1.3-1.8M318.4 291.2l.9-1.9M380.6 291.2l-1.5-1.3M23.3 299.3l-1.4 2.4M31.1 299.3l-1.4 2.2M38.8 299.3l-1.4 1.8M46.6 299.3l-1.6 1.4M54.4 299.3l-1.8 .8M62.1 299.3l-2 .2M69.9 299.3l-2.3-.5M77.7 299.3l-2.6-.8M116.5 299.3l-2.4 1.1M124.3 299.3l-2.2 .9M132 299.3l-2.1 .6M139.8 299.3l-2.2 .5M155.3 299.3l-2.1 1M163.1 299.3l-1.9 1.3M170.9 299.3l-1.6 1.6M178.6 299.3l-1.1 1.7M186.4 299.3l-.6 1.9M194.2 299.3l.2 2M201.9 299.3l1.3 1.5M209.7 299.3l2.4 .6M427.2 299.3l-2.8 0" fill="none" stroke-width="1.2"/>
<path d="M170.9 201.4h.1M85.4 234.2h.1" fill="none" stroke-width="1.2" stroke-linecap="square"/>
</g>
<path d="M351.5 152h19M361 142.3v19.5" stroke="#f00" stroke-width="1.1" fill="none"/>
<path d="M345 189L361 189M347.6 183.6L358.4 194.4M353 181L353 197M358.4 183.6L347.6 194.4" stroke="#f00" stroke-width="1.05" fill="none"/>
<path d="M0 34h5M466 34h-5M0 102h5M466 102h-5M0 168h5M466 168h-5M0 234h5M466 234h-5M155 0v5M155 299.3v-5M311 0v5M311 299.3v-5" stroke="#222" stroke-width="1" fill="none"/>
<rect x="0" y="0" width="466" height="299.3" fill="none" stroke="#666" stroke-width="1.5"/>
<path d="M-.7 -1H466.7" stroke="#999" stroke-width="1.2"/>
<text x="3.2" y="18.2" font-size="22.5">(d)</text>
<text x="31" y="34.5" font-size="22.5">Day346</text>
<text x="31.6" y="55" font-size="22.5" style="fill:#f00">100 cm/s</text>
<path d="M37 61.7h27.5" stroke="#f00" stroke-width="1.5"/>
</g>
<text x="88.4" y="61.7" font-size="22.5" text-anchor="end">24<tspan font-size="17" dy="-10.5">o</tspan><tspan dy="10.5">N</tspan></text>
<text x="88.4" y="129.3" font-size="22.5" text-anchor="end">22<tspan font-size="17" dy="-10.5">o</tspan><tspan dy="10.5">N</tspan></text>
<text x="88.4" y="195.9" font-size="22.5" text-anchor="end">20<tspan font-size="17" dy="-10.5">o</tspan><tspan dy="10.5">N</tspan></text>
<text x="88.4" y="261.7" font-size="22.5" text-anchor="end">18<tspan font-size="17" dy="-10.5">o</tspan><tspan dy="10.5">N</tspan></text>
<text x="88.4" y="326.8" font-size="22.5" text-anchor="end">16<tspan font-size="17" dy="-10.5">o</tspan><tspan dy="10.5">N</tspan></text>
<text x="88.4" y="396.7" font-size="22.5" text-anchor="end">24<tspan font-size="17" dy="-10.5">o</tspan><tspan dy="10.5">N</tspan></text>
<text x="88.4" y="464.3" font-size="22.5" text-anchor="end">22<tspan font-size="17" dy="-10.5">o</tspan><tspan dy="10.5">N</tspan></text>
<text x="88.4" y="530.9" font-size="22.5" text-anchor="end">20<tspan font-size="17" dy="-10.5">o</tspan><tspan dy="10.5">N</tspan></text>
<text x="88.4" y="596.7" font-size="22.5" text-anchor="end">18<tspan font-size="17" dy="-10.5">o</tspan><tspan dy="10.5">N</tspan></text>
<text x="88.4" y="661.8" font-size="22.5" text-anchor="end">16<tspan font-size="17" dy="-10.5">o</tspan><tspan dy="10.5">N</tspan></text>
<text x="96" y="677.3" font-size="22.5" text-anchor="middle">110<tspan font-size="17" dy="-10.5">o</tspan><tspan dy="10.5">E</tspan></text>
<text x="251.3" y="677.3" font-size="22.5" text-anchor="middle">115<tspan font-size="17" dy="-10.5">o</tspan><tspan dy="10.5">E</tspan></text>
<text x="406.7" y="677.3" font-size="22.5" text-anchor="middle">120<tspan font-size="17" dy="-10.5">o</tspan><tspan dy="10.5">E</tspan></text>
<text x="562" y="677.3" font-size="22.5" text-anchor="middle">125<tspan font-size="17" dy="-10.5">o</tspan><tspan dy="10.5">E</tspan></text>
<text x="636" y="677.3" font-size="22.5" text-anchor="middle">110<tspan font-size="17" dy="-10.5">o</tspan><tspan dy="10.5">E</tspan></text>
<text x="791.3" y="677.3" font-size="22.5" text-anchor="middle">115<tspan font-size="17" dy="-10.5">o</tspan><tspan dy="10.5">E</tspan></text>
<text x="946.7" y="677.3" font-size="22.5" text-anchor="middle">120<tspan font-size="17" dy="-10.5">o</tspan><tspan dy="10.5">E</tspan></text>
<text x="1102" y="677.3" font-size="22.5" text-anchor="middle">125<tspan font-size="17" dy="-10.5">o</tspan><tspan dy="10.5">E</tspan></text>
<g shape-rendering="crispEdges">
<rect x="1126.5" y="108.00" width="19.0" height="8.14" fill="#880000"/>
<rect x="1126.5" y="115.54" width="19.0" height="8.14" fill="#960000"/>
<rect x="1126.5" y="123.08" width="19.0" height="8.14" fill="#a60000"/>
<rect x="1126.5" y="130.62" width="19.0" height="8.14" fill="#b40000"/>
<rect x="1126.5" y="138.16" width="19.0" height="8.14" fill="#c30000"/>
<rect x="1126.5" y="145.70" width="19.0" height="8.14" fill="#d20000"/>
<rect x="1126.5" y="153.23" width="19.0" height="8.14" fill="#e10000"/>
<rect x="1126.5" y="160.77" width="19.0" height="8.14" fill="#f00000"/>
<rect x="1126.5" y="168.31" width="19.0" height="8.14" fill="#ff0000"/>
<rect x="1126.5" y="175.85" width="19.0" height="8.14" fill="#ff1100"/>
<rect x="1126.5" y="183.39" width="19.0" height="8.14" fill="#ff2300"/>
<rect x="1126.5" y="190.93" width="19.0" height="8.14" fill="#ff3400"/>
<rect x="1126.5" y="198.47" width="19.0" height="8.14" fill="#ff4600"/>
<rect x="1126.5" y="206.01" width="19.0" height="8.14" fill="#ff5700"/>
<rect x="1126.5" y="213.55" width="19.0" height="8.14" fill="#ff6900"/>
<rect x="1126.5" y="221.09" width="19.0" height="8.14" fill="#ff7a00"/>
<rect x="1126.5" y="228.62" width="19.0" height="8.14" fill="#ff8a00"/>
<rect x="1126.5" y="236.16" width="19.0" height="8.14" fill="#ff9b00"/>
<rect x="1126.5" y="243.70" width="19.0" height="8.14" fill="#ffa900"/>
<rect x="1126.5" y="251.24" width="19.0" height="8.14" fill="#ffb600"/>
<rect x="1126.5" y="258.78" width="19.0" height="8.14" fill="#ffc200"/>
<rect x="1126.5" y="266.32" width="19.0" height="8.14" fill="#ffcf00"/>
<rect x="1126.5" y="273.86" width="19.0" height="8.14" fill="#ffdd00"/>
<rect x="1126.5" y="281.40" width="19.0" height="8.14" fill="#ffeb00"/>
<rect x="1126.5" y="288.94" width="19.0" height="8.14" fill="#fffa00"/>
<rect x="1126.5" y="296.48" width="19.0" height="8.14" fill="#fefd1a"/>
<rect x="1126.5" y="304.02" width="19.0" height="8.14" fill="#fdfb44"/>
<rect x="1126.5" y="311.55" width="19.0" height="8.14" fill="#fbf86e"/>
<rect x="1126.5" y="319.09" width="19.0" height="8.14" fill="#faf697"/>
<rect x="1126.5" y="326.63" width="19.0" height="8.14" fill="#f7f3af"/>
<rect x="1126.5" y="334.17" width="19.0" height="8.14" fill="#f3efc6"/>
<rect x="1126.5" y="341.71" width="19.0" height="8.14" fill="#efeddb"/>
<rect x="1126.5" y="349.25" width="19.0" height="8.14" fill="#e8ecec"/>
<rect x="1126.5" y="356.79" width="19.0" height="8.14" fill="#ceedef"/>
<rect x="1126.5" y="364.33" width="19.0" height="8.14" fill="#b3eef1"/>
<rect x="1126.5" y="371.87" width="19.0" height="8.14" fill="#93f0f4"/>
<rect x="1126.5" y="379.41" width="19.0" height="8.14" fill="#70f3f8"/>
<rect x="1126.5" y="386.95" width="19.0" height="8.14" fill="#4ff7fb"/>
<rect x="1126.5" y="394.48" width="19.0" height="8.14" fill="#32fafc"/>
<rect x="1126.5" y="402.02" width="19.0" height="8.14" fill="#14fdfe"/>
<rect x="1126.5" y="409.56" width="19.0" height="8.14" fill="#00f9ff"/>
<rect x="1126.5" y="417.10" width="19.0" height="8.14" fill="#00e8ff"/>
<rect x="1126.5" y="424.64" width="19.0" height="8.14" fill="#00d7ff"/>
<rect x="1126.5" y="432.18" width="19.0" height="8.14" fill="#00c7ff"/>
<rect x="1126.5" y="439.72" width="19.0" height="8.14" fill="#00b7ff"/>
<rect x="1126.5" y="447.26" width="19.0" height="8.14" fill="#00a7ff"/>
<rect x="1126.5" y="454.80" width="19.0" height="8.14" fill="#0097ff"/>
<rect x="1126.5" y="462.34" width="19.0" height="8.14" fill="#0087fe"/>
<rect x="1126.5" y="469.88" width="19.0" height="8.14" fill="#0078fd"/>
<rect x="1126.5" y="477.41" width="19.0" height="8.14" fill="#0068fc"/>
<rect x="1126.5" y="484.95" width="19.0" height="8.14" fill="#005afd"/>
<rect x="1126.5" y="492.49" width="19.0" height="8.14" fill="#004cfd"/>
<rect x="1126.5" y="500.03" width="19.0" height="8.14" fill="#003efe"/>
<rect x="1126.5" y="507.57" width="19.0" height="8.14" fill="#0030ff"/>
<rect x="1126.5" y="515.11" width="19.0" height="8.14" fill="#0022fd"/>
<rect x="1126.5" y="522.65" width="19.0" height="8.14" fill="#0014fc"/>
<rect x="1126.5" y="530.19" width="19.0" height="8.14" fill="#0005fb"/>
<rect x="1126.5" y="537.73" width="19.0" height="8.14" fill="#0000f1"/>
<rect x="1126.5" y="545.27" width="19.0" height="8.14" fill="#0000e2"/>
<rect x="1126.5" y="552.80" width="19.0" height="8.14" fill="#0000d3"/>
<rect x="1126.5" y="560.34" width="19.0" height="8.14" fill="#0000c4"/>
<rect x="1126.5" y="567.88" width="19.0" height="8.14" fill="#0000b5"/>
<rect x="1126.5" y="575.42" width="19.0" height="8.14" fill="#0000a6"/>
<rect x="1126.5" y="582.96" width="19.0" height="8.14" fill="#000097"/>
</g>
<rect x="1127.0" y="108" width="18.5" height="482.5" fill="none" stroke="#333" stroke-width="1"/>
<text x="1151" y="114.6" font-size="18">160</text>
<text x="1151" y="168.2" font-size="18">150</text>
<text x="1151" y="221.8" font-size="18">140</text>
<text x="1151" y="275.4" font-size="18">130</text>
<text x="1151" y="329" font-size="18">120</text>
<text x="1151" y="382.7" font-size="18">110</text>
<text x="1151" y="436.3" font-size="18">100</text>
<text x="1151" y="489.9" font-size="18">90</text>
<text x="1151" y="543.5" font-size="18">80</text>
<text x="1151" y="597.1" font-size="18">70</text>
<path d="M1127.0 161.6h4M1145.5 161.6h-4M1127.0 215.2h4M1145.5 215.2h-4M1127.0 268.8h4M1145.5 268.8h-4M1127.0 322.4h4M1145.5 322.4h-4M1127.0 376.1h4M1145.5 376.1h-4M1127.0 429.7h4M1145.5 429.7h-4M1127.0 483.3h4M1145.5 483.3h-4M1127.0 536.9h4M1145.5 536.9h-4" stroke="#222" stroke-width="1" fill="none"/>
<text x="1142.5" y="91.5" font-size="26" text-anchor="middle">(cm)</text>
</svg></body></html>
